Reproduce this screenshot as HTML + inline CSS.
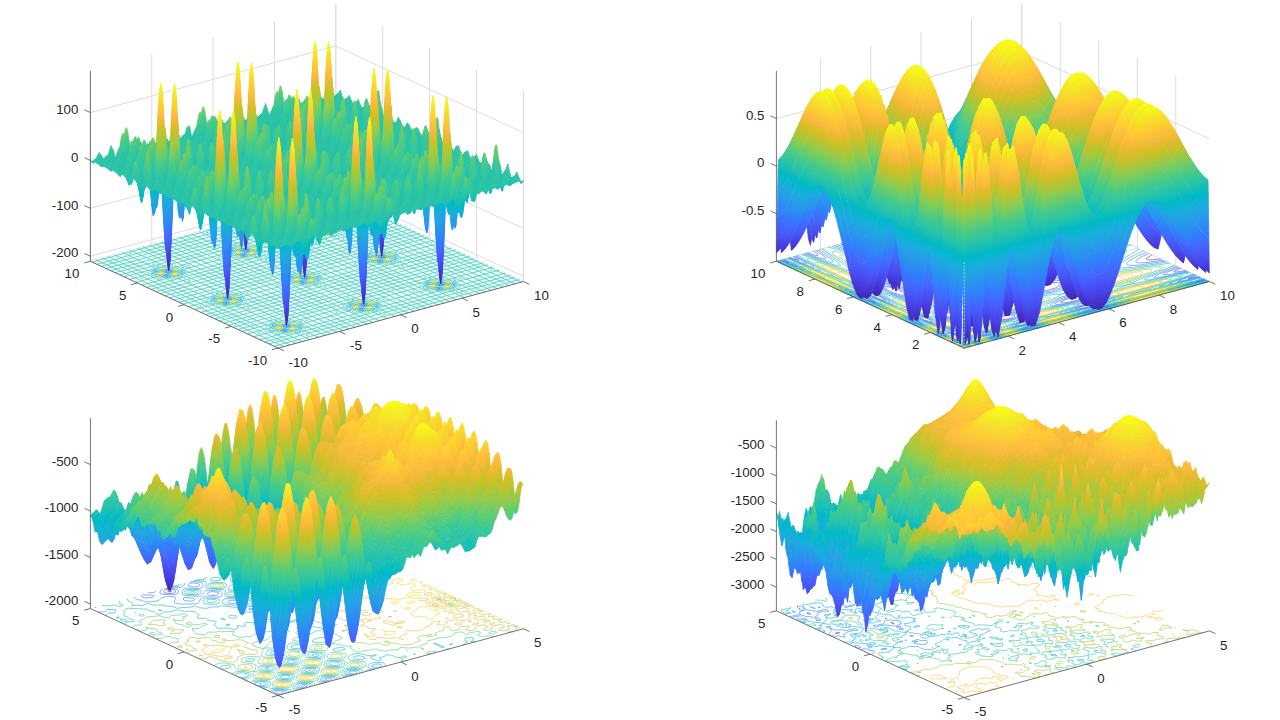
<!DOCTYPE html>
<html><head><meta charset="utf-8"><title>surf</title>
<style>html,body{margin:0;padding:0;background:#fff}svg{display:block}text{font-family:"Liberation Sans",sans-serif;font-size:13.3px;fill:#262626}</style>
</head><body>
<svg width="1280" height="720" viewBox="0 0 1280 720">
<defs><linearGradient id="g1" gradientUnits="userSpaceOnUse" x1="0" y1="0" x2="0" y2="-761"><stop offset="0" stop-color="#3e26a8"/><stop offset="0.03125" stop-color="#422ebf"/><stop offset="0.0625" stop-color="#4536d5"/><stop offset="0.09375" stop-color="#4741e5"/><stop offset="0.125" stop-color="#484cef"/><stop offset="0.1562" stop-color="#4757f7"/><stop offset="0.1875" stop-color="#4562fc"/><stop offset="0.2188" stop-color="#3f6efe"/><stop offset="0.25" stop-color="#347afd"/><stop offset="0.2812" stop-color="#2e85f8"/><stop offset="0.3125" stop-color="#2c90f0"/><stop offset="0.3438" stop-color="#269ae9"/><stop offset="0.375" stop-color="#21a3e3"/><stop offset="0.4062" stop-color="#1aacdd"/><stop offset="0.4375" stop-color="#0cb3d3"/><stop offset="0.4688" stop-color="#01b9c6"/><stop offset="0.5" stop-color="#12beb9"/><stop offset="0.5312" stop-color="#28c2ab"/><stop offset="0.5625" stop-color="#34c79c"/><stop offset="0.5938" stop-color="#44ca8a"/><stop offset="0.625" stop-color="#5ccc76"/><stop offset="0.6562" stop-color="#77cc60"/><stop offset="0.6875" stop-color="#94ca4a"/><stop offset="0.7188" stop-color="#afc637"/><stop offset="0.75" stop-color="#c8c129"/><stop offset="0.7812" stop-color="#debc2a"/><stop offset="0.8125" stop-color="#f1ba37"/><stop offset="0.8438" stop-color="#febe3c"/><stop offset="0.875" stop-color="#feca33"/><stop offset="0.9062" stop-color="#f9d62d"/><stop offset="0.9375" stop-color="#f5e327"/><stop offset="0.9688" stop-color="#f6ef20"/><stop offset="1" stop-color="#f9fb15"/></linearGradient>
<linearGradient id="g2" gradientUnits="userSpaceOnUse" x1="0" y1="0" x2="0" y2="-761"><stop offset="0" stop-color="#3e26a8"/><stop offset="0.03125" stop-color="#422ebf"/><stop offset="0.0625" stop-color="#4536d5"/><stop offset="0.09375" stop-color="#4741e5"/><stop offset="0.125" stop-color="#484cef"/><stop offset="0.1562" stop-color="#4757f7"/><stop offset="0.1875" stop-color="#4562fc"/><stop offset="0.2188" stop-color="#3f6efe"/><stop offset="0.25" stop-color="#347afd"/><stop offset="0.2812" stop-color="#2e85f8"/><stop offset="0.3125" stop-color="#2c90f0"/><stop offset="0.3438" stop-color="#269ae9"/><stop offset="0.375" stop-color="#21a3e3"/><stop offset="0.4062" stop-color="#1aacdd"/><stop offset="0.4375" stop-color="#0cb3d3"/><stop offset="0.4688" stop-color="#01b9c6"/><stop offset="0.5" stop-color="#12beb9"/><stop offset="0.5312" stop-color="#28c2ab"/><stop offset="0.5625" stop-color="#34c79c"/><stop offset="0.5938" stop-color="#44ca8a"/><stop offset="0.625" stop-color="#5ccc76"/><stop offset="0.6562" stop-color="#77cc60"/><stop offset="0.6875" stop-color="#94ca4a"/><stop offset="0.7188" stop-color="#afc637"/><stop offset="0.75" stop-color="#c8c129"/><stop offset="0.7812" stop-color="#debc2a"/><stop offset="0.8125" stop-color="#f1ba37"/><stop offset="0.8438" stop-color="#febe3c"/><stop offset="0.875" stop-color="#feca33"/><stop offset="0.9062" stop-color="#f9d62d"/><stop offset="0.9375" stop-color="#f5e327"/><stop offset="0.9688" stop-color="#f6ef20"/><stop offset="1" stop-color="#f9fb15"/></linearGradient>
<linearGradient id="g3" gradientUnits="userSpaceOnUse" x1="0" y1="0" x2="0" y2="-762"><stop offset="0" stop-color="#3e26a8"/><stop offset="0.03125" stop-color="#422ebf"/><stop offset="0.0625" stop-color="#4536d5"/><stop offset="0.09375" stop-color="#4741e5"/><stop offset="0.125" stop-color="#484cef"/><stop offset="0.1562" stop-color="#4757f7"/><stop offset="0.1875" stop-color="#4562fc"/><stop offset="0.2188" stop-color="#3f6efe"/><stop offset="0.25" stop-color="#347afd"/><stop offset="0.2812" stop-color="#2e85f8"/><stop offset="0.3125" stop-color="#2c90f0"/><stop offset="0.3438" stop-color="#269ae9"/><stop offset="0.375" stop-color="#21a3e3"/><stop offset="0.4062" stop-color="#1aacdd"/><stop offset="0.4375" stop-color="#0cb3d3"/><stop offset="0.4688" stop-color="#01b9c6"/><stop offset="0.5" stop-color="#12beb9"/><stop offset="0.5312" stop-color="#28c2ab"/><stop offset="0.5625" stop-color="#34c79c"/><stop offset="0.5938" stop-color="#44ca8a"/><stop offset="0.625" stop-color="#5ccc76"/><stop offset="0.6562" stop-color="#77cc60"/><stop offset="0.6875" stop-color="#94ca4a"/><stop offset="0.7188" stop-color="#afc637"/><stop offset="0.75" stop-color="#c8c129"/><stop offset="0.7812" stop-color="#debc2a"/><stop offset="0.8125" stop-color="#f1ba37"/><stop offset="0.8438" stop-color="#febe3c"/><stop offset="0.875" stop-color="#feca33"/><stop offset="0.9062" stop-color="#f9d62d"/><stop offset="0.9375" stop-color="#f5e327"/><stop offset="0.9688" stop-color="#f6ef20"/><stop offset="1" stop-color="#f9fb15"/></linearGradient>
<linearGradient id="g4" gradientUnits="userSpaceOnUse" x1="0" y1="0" x2="0" y2="-762"><stop offset="0" stop-color="#3e26a8"/><stop offset="0.03125" stop-color="#422ebf"/><stop offset="0.0625" stop-color="#4536d5"/><stop offset="0.09375" stop-color="#4741e5"/><stop offset="0.125" stop-color="#484cef"/><stop offset="0.1562" stop-color="#4757f7"/><stop offset="0.1875" stop-color="#4562fc"/><stop offset="0.2188" stop-color="#3f6efe"/><stop offset="0.25" stop-color="#347afd"/><stop offset="0.2812" stop-color="#2e85f8"/><stop offset="0.3125" stop-color="#2c90f0"/><stop offset="0.3438" stop-color="#269ae9"/><stop offset="0.375" stop-color="#21a3e3"/><stop offset="0.4062" stop-color="#1aacdd"/><stop offset="0.4375" stop-color="#0cb3d3"/><stop offset="0.4688" stop-color="#01b9c6"/><stop offset="0.5" stop-color="#12beb9"/><stop offset="0.5312" stop-color="#28c2ab"/><stop offset="0.5625" stop-color="#34c79c"/><stop offset="0.5938" stop-color="#44ca8a"/><stop offset="0.625" stop-color="#5ccc76"/><stop offset="0.6562" stop-color="#77cc60"/><stop offset="0.6875" stop-color="#94ca4a"/><stop offset="0.7188" stop-color="#afc637"/><stop offset="0.75" stop-color="#c8c129"/><stop offset="0.7812" stop-color="#debc2a"/><stop offset="0.8125" stop-color="#f1ba37"/><stop offset="0.8438" stop-color="#febe3c"/><stop offset="0.875" stop-color="#feca33"/><stop offset="0.9062" stop-color="#f9d62d"/><stop offset="0.9375" stop-color="#f5e327"/><stop offset="0.9688" stop-color="#f6ef20"/><stop offset="1" stop-color="#f9fb15"/></linearGradient></defs>
<rect width="1280" height="720" fill="#fff"/>
<g stroke="#dcdcdc" stroke-width="1" fill="none"><path d="M90.4 261.2v-190.2M90.4 261.2L278.1 348.1M151.8 244.6v-190.2M151.8 244.6L339.5 331.5M213.1 227.9v-190.2M213.1 227.9L400.8 314.8M274.4 211.3v-190.2M274.4 211.3L462.1 298.1M335.8 194.6v-190.2M335.8 194.6L523.5 281.5M523.5 281.5v-190.2M523.5 281.5L278.1 348.1M476.6 259.8v-190.2M476.6 259.8L231.2 326.4M429.6 238.1v-190.2M429.6 238.1L184.2 304.7M382.7 216.4v-190.2M382.7 216.4L137.3 283.0M335.8 194.6v-190.2M335.8 194.6L90.4 261.2M90.4 256.2L335.8 189.6L523.5 276.5M90.4 208.3L335.8 141.7L523.5 228.6M90.4 160.5L335.8 93.9L523.5 180.7M90.4 112.6L335.8 46.0L523.5 132.8"/></g>
<path d="M90.4 261.2L278.1 348.1L523.5 281.5L335.8 194.6z" fill="#eefcfa"/><path d="M283.6 346.6l-187.7 -86.9M290.0 344.9l-187.7 -86.9M295.6 343.4l-187.7 -86.9M302.0 341.6l-187.7 -86.9M309.9 339.5l-187.7 -86.9M318.1 337.2l-187.7 -86.9M325.2 335.3l-187.7 -86.9M330.7 333.8l-187.7 -86.9M337.0 332.1l-187.7 -86.9M342.9 330.5l-187.7 -86.9M348.8 328.9l-187.7 -86.9M355.0 327.2l-187.7 -86.9M360.7 325.7l-187.7 -86.9M367.0 324.0l-187.7 -86.9M372.7 322.4l-187.7 -86.9M379.1 320.7l-187.7 -86.9M387.0 318.5l-187.7 -86.9M395.2 316.3l-187.7 -86.9M402.3 314.4l-187.7 -86.9M407.8 312.9l-187.7 -86.9M414.1 311.2l-187.7 -86.9M420.0 309.6l-187.7 -86.9M425.9 308.0l-187.7 -86.9M432.1 306.3l-187.7 -86.9M437.8 304.8l-187.7 -86.9M444.1 303.0l-187.7 -86.9M449.8 301.5l-187.7 -86.9M456.2 299.8l-187.7 -86.9M464.1 297.6l-187.7 -86.9M472.3 295.4l-187.7 -86.9M479.4 293.5l-187.7 -86.9M484.9 292.0l-187.7 -86.9M491.2 290.3l-187.7 -86.9M497.1 288.7l-187.7 -86.9M503.0 287.1l-187.7 -86.9M509.2 285.4l-187.7 -86.9M514.8 283.8l-187.7 -86.9M521.2 282.1l-187.7 -86.9M273.9 346.2l245.4 -66.6M269.0 343.9l245.4 -66.6M264.7 341.9l245.4 -66.6M259.8 339.7l245.4 -66.6M253.8 336.8l245.4 -66.6M247.5 333.9l245.4 -66.6M242.1 331.4l245.4 -66.6M237.8 329.5l245.4 -66.6M233.0 327.2l245.4 -66.6M228.5 325.2l245.4 -66.6M224.0 323.1l245.4 -66.6M219.3 320.9l245.4 -66.6M215.0 318.9l245.4 -66.6M210.1 316.6l245.4 -66.6M205.8 314.6l245.4 -66.6M200.9 312.4l245.4 -66.6M194.8 309.5l245.4 -66.6M188.5 306.7l245.4 -66.6M183.1 304.1l245.4 -66.6M178.9 302.2l245.4 -66.6M174.1 300.0l245.4 -66.6M169.6 297.9l245.4 -66.6M165.0 295.8l245.4 -66.6M160.3 293.6l245.4 -66.6M156.0 291.6l245.4 -66.6M151.1 289.3l245.4 -66.6M146.8 287.3l245.4 -66.6M141.9 285.1l245.4 -66.6M135.8 282.3l245.4 -66.6M129.6 279.4l245.4 -66.6M124.1 276.9l245.4 -66.6M119.9 274.9l245.4 -66.6M115.1 272.7l245.4 -66.6M110.6 270.6l245.4 -66.6M106.1 268.5l245.4 -66.6M101.3 266.3l245.4 -66.6M97.0 264.3l245.4 -66.6M92.1 262.1l245.4 -66.6" stroke="#45cdbd" stroke-width="0.8" fill="none"/>
<g transform="translate(278.10 348.10) scale(0.2)"><g fill="none" stroke-width="3">
<path stroke="#4756f6" d="M34-86l-8-2 12-1 2 1zM416-190l-4-2 1-2 7-1 5 2zM803-295l-5-1-1-1 3-2 10 2zM45-108l-12-1-3-3 7-4 13 1 5 4zM427-212l-11-3-1-3 2-1 10-2 13 3-2 4zM814-317l-10-1-3-4 12-4 11 3 2 2-2 2zM-261-222l-5 0-2-3 10-1 3 2zM126-327l-9-2 4-2 7 0 2 3zM513-432l-8 0-2-2 10-1 3 2zM-246-245l-14 0-5-4 7-3 12 0 6 4zM137-349l-11 0-6-4 8-4 12 0 5 4zM523-454l-12 0-5-4 6-3 13 0 6 4zM-556-358l-7-2 9-3 4 3zM-169-463l-9-2 10-3 3 3zM214-568l-6-2 2-2 7 0 4 2zM-545-380l-11-1-4-4 11-4 10 1 4 3-1 2zM-158-485l-12-1-5-4 9-4 10 1 5 2 1 3zM225-590l-10-1-4-4 9-3 12 1 4 2-1 2z"/>
<path stroke="#2e84f8" d="M43-84l-16 1-9-5 7-4 12-1 11 5zM813-293l-15 1-9-5 6-4 13-1 10 4 0 3zM418-187l-13-4 1-4 14-3 13 5-4 4zM111-106l-8-3 10-1 1 3zM493-211l-5-2 2-2 10 2zM880-315l-6-3 10-1 2 1zM51-107l-16 1-8-3-3-4 13-5 14 1 9 5zM438-212l-17 1-10-4-1-3 14-5 13 1 9 5zM821-316l-15 1-11-6 3-3 9-3 15 0 8 4 1 3zM-21-113l-10-1 8-3 4 2zM363-217l-8-2 9-2 3 1zM749-322l-9-2 10-2 2 1zM-256-220l-13 0-8-5 11-4 11 0 8 5zM128-324l-12 0-7-5 11-5 12 1 6 5zM514-429l-12 0-8-5 9-4 13 0 8 5zM-184-243l-6 0-2-3 9-1 2 3zM203-348l-10-2 9-1 3 2zM589-452l-7 0-3-3 9-1 3 2zM-247-243l-14 0-7-3-3-3 10-5 16 0 11 6zM136-347l-14-1-7-4 0-2 14-5 15 1 6 4 0 2zM523-452l-13 0-10-6 3-3 9-2 16 0 6 3 2 3zM-319-249l-7-2 12-1 1 1zM68-354l-8-2 9-1 3 2zM451-458l-6-2 2-2 6 0 4 2zM-554-355l-11-1-6-5 10-4 13 0 5 3 1 3zM-167-460l-13-1-5-2-1-3 12-4 12 1 5 5zM215-565l-12-2-3-4 12-4 14 2 3 3-1 2zM-479-379l-8-2 8-2 4 2zM-96-484l-6-2 2-2 10 2zM291-588l-7-3 11-1 1 2zM-545-379l-14-1-7-6 13-5 16 1 7 3 0 4zM-159-483l-12-1-9-6 13-5 15 1 7 3 1 3zM224-588l-12-2-7-5 16-5 15 2 5 2 0 4zM-614-385l-6-3 10-1 2 2zM-227-490l-8-1 0-2 11-1 1 2zM155-595l-4-1 2-2 10 1z"/>
<path stroke="#1babde" d="M146-63l-4-1 7-1zM529-167l-2-1 2-2 6 1zM916-272l-4-2 9 0zM102-81l-12 0-6-4 10-5 15 0 5 2-1 3zM489-186l-14 0-6-3 11-5 14-1 5 5zM876-291l-14 1-7-4 9-4 12-2 9 5zM36-80l-17-3-7-3 0-3 17-6 16 2 9 4 0 4zM423-185l-16-1-10-7 15-6 16 0 9 4 3 4zM809-290l-17-1-7-3-3-4 16-6 15 1 13 7zM110-102l-13-3-4-5 15-4 13 2 4 2 1 4zM497-207l-12-2-7-5 13-5 13 1 7 4 0 3zM884-312l-14-2-7-5 11-4 15 1 7 3 1 3zM51-105l-16 1-13-5-4-4 20-7 14 1 11 4 3 4zM437-210l-17 1-13-5-3-4 17-6 17 0 10 4 3 4zM820-314l-18 0-9-4-4-5 18-6 16 0 10 5 4 4zM-27-87l-12-1-7-3 0-3 7-3 12 1 7 3 2 3zM356-191l-12-2-4-3-1-3 11-3 14 3 3 5zM743-296l-11-1-8-5 7-4 13 1 9 5-3 3zM116-129l-10-2 8-2 4 3zM499-233l-8-4 11 1 0 2zM886-338l-7-1-2-2 10 0 1 2zM-91-74l-6-2 7 0zM290-179l-2-1 2-1 6 1zM678-283l-4-2 7 0zM1065-388l-5-2 7 1zM-22-109l-13 0-8-5 12-6 15 0 7 4 1 2zM365-214l-14 0-8-6 13-5 14 1 8 5zM748-318l-12-1-8-4 11-6 16 0 7 3 0 3zM52-131l-9-1-3-5 9-2 10 1 3 2 0 2zM439-236l-10-1-4-3 7-4 12 1 3 4zM826-341l-12-1-3-4 8-2 11 1 3 3zM-9-135l-9-1 11-2 2 2zM374-239l-5-1 0-2 11-1 0 2zM761-344l-7-2 12-1 0 1zM-148-199l-5-1 4-2 3 2zM238-304l-6-1 6-1 2 0zM625-409l-7-1 7-1zM-196-217l-13-2-2-3 4-2 16-3 10 4-5 4zM190-322l-11-1-4-3 10-5 14 0 5 2 0 2zM577-427l-12 0-5-4 12-5 12 0 5 2 0 4zM-259-217l-15-1-10-6 18-7 15 1 9 5 1 3zM-177-239l-14 0-10-4-2-3 12-5 14 1 8 5zM124-321l-13-2-9-6 6-4 13-3 14 1 9 5 1 3zM206-344l-14-1-7-3-2-3 13-4 12 1 7 3 2 3zM511-426l-15-2-9-6 17-6 16 1 9 4 1 3zM593-448l-16-1-9-6 11-5 15 1 8 6zM-248-241l-16-1-13-8 20-6 17 1 11 7zM135-345l-17-2-8-5-1-3 20-6 19 2 8 5 0 3zM522-450l-15-1-13-7 3-3 15-4 19 1 9 4 2 4zM-326-223l-11-2-4-5 11-4 12 3 5 5zM61-328l-10-1-7-5 9-4 12 2 8 5zM448-432l-12-2-7-5 11-4 11 2 7 5zM-386-210l-6-2 7 0zM-184-265l-5-2 1-2 11 2zM1-315l-7-2 6 0zM204-370l-7-3 9 0 1 3zM384-419l-5-2 7-1 1 2zM591-474l-7-1-2-3 10 0 2 3zM770-524l-5-2 6 0zM-321-245l-15-3-1-3 5-4 16-2 13 5-4 4zM66-350l-11-1-7-5 13-5 16 1 4 2 1 3zM453-455l-13 0-7-5 11-6 15 0 8 3 1 4zM-243-268l-7 0-5-4 6-3 12 0 4 4zM144-372l-8-1-6-4 7-3 11 0 5 4zM527-477l-11-2 2-4 11-2 9 3-1 3zM-308-271l-4-1 2-2 11 0zM79-376l-6 0 3-3 10 1zM466-480l-7-1 11-3 1 2zM-443-336l-5 0 6-2 2 1zM-60-440l-3-1 2-1 7 0zM327-545l-4-1 8 0zM-491-353l-13-3-2-2 4-3 14-3 12 4-2 4zM-104-458l-12-1-4-4 14-5 12 1 4 4zM278-563l-11-2-2-1 3-3 18-4 9 4-3 4zM-550-354l-17 0-10-4-1-3 17-7 15 1 11 8zM-163-458l-19-1-9-4-2-3 15-6 14 0 10 4 4 4zM223-563l-19 0-10-5-1-3 14-5 14-1 11 4 4 4zM-475-375l-15-2-6-3-1-3 14-4 13 1 6 4 0 3zM-89-480l-12-1-11-5 9-5 15 0 10 6zM294-584l-13-2-8-6 15-5 13 2 6 5zM-546-377l-14-1-11-8 20-7 18 2 8 5 1 3zM-159-481l-16-2-11-7 17-7 18 1 12 5 0 3zM223-586l-12-2-12-7 6-4 15-3 18 2 8 4 1 4zM-616-360l-14-1-6-5 7-4 13 1 8 5zM-230-464l-15-2-6-5 9-3 12 1 8 5zM153-569l-12-1-6-6 10-3 13 2 5 4-1 2zM-474-402l-10-2 9-1 3 2zM-87-507l-7 0-4-2 8-1zM296-611l-9-3 9 0 3 2zM-681-347l-5-2 5 0 2 1zM-294-451l-7-1 6-2zM88-556l-4-2 6 0 2 2zM475-660l-5-3 6 0 2 1zM-615-382l-16-3-1-3 3-2 17-4 14 5 0 2-4 3zM-534-405l-11 0-5-4 6-3 11 0 6 4zM-233-486l-8-1-6-4 7-5 15-2 9 2 4 4-7 4zM-147-509l-9 0-9-4 8-3 9 0 6 3zM154-591l-14-3-1-3 4-3 16-3 14 5-5 5zM239-614l-14 0-4-4 5-3 12 0 6 4zM-603-407l-4-2 2-1 11-1zM-216-512l-4 0-1-2 12-1zM166-617l-3-1 5-2 8 0zM-738-472l-5-2 8 0zM-356-577l-2-1 2-1 7 0zM32-681l-4-2 8 0z"/>
<path stroke="#76cc60" d="M119-74l7-1zM505-178l7-2zM890-283l7-2zM57-71l11-1 5-4-8-4-14 2-4 3 1 2zM443-175l12-2 4-4-9-3-12 2-5 2 0 2zM828-280l10-1 6-4-8-4-12 2-5 2-1 3zM133-95l6-1-7 0zM518-199l7-2-6 0zM904-304l6-2-5 0-2 1zM72-90l22-6 0-4-8-4-18-2-19 7 8 6zM457-195l22-6 0-3-5-4-19-3-20 7 1 3 7 3zM843-299l22-6 0-4-6-3-17-3-22 6 2 3 6 4zM-2-73l12-3-4-5-12-2-9 4 3 3zM383-178l11-2 1-3-4-2-12-2-9 3 3 4zM769-283l11-2-4-5-11-2-10 4zM1-93l16-3 9-5-6-4-11-4-21 2-7 4 0 3 9 5zM83-116l14-4 0-3-6-3-14-3-15 4 0 3 6 4zM387-198l19-4 5-4-17-8-22 3-6 3 1 3 9 5zM468-220l15-5 0-2-6-4-17-2-13 5 9 6zM772-303l20-4 4-4-16-7-22 2-6 3 0 4 9 4zM854-325l15-5-7-6-15-2-15 5 9 6zM142-137l4 0 0-3-10 0zM528-242l4 0 0-2-10-1zM914-346l4-2-4-2-7 2zM-64-83l4-1-6 0zM321-187l5 0-5-2-2 1zM707-292l4 0-3-2-3 1zM13-119l15-3 5-4-6-4-10-2-18 3-4 3 1 3zM398-223l13-3 7-5-14-5-18 2-5 3 1 3zM784-328l14-3 5-4-11-6-20 2-6 4 1 3zM-62-104l5-1-6-1zM323-208l6-2-6-1-2 1zM709-313l5-1-4-2-3 1zM-36-145l8-2-10-1-1 2zM349-250l8-2-9-1-2 2zM735-354l8-3-8-1-4 3zM-172-210l2-2-6 1zM214-315l2-2-7 2zM601-420l0-1-6 1zM-232-207l10-4 0-3-5-2-10 0-11 5 5 3zM153-312l11-4-3-3-11-1-12 4 4 4zM539-417l11-4-6-4-11 0-10 5 5 3zM-159-231l4-1-1-1-6 0zM227-335l3-2-2-1-5 2zM613-440l2-1 0-1-7 1zM-214-228l11-3 3-3-13-8-17 1-16 6 13 7zM171-332l14-6-3-4-10-4-19 0-13 7 16 7zM557-437l14-6-3-4-10-4-18 1-12 3-3 3 16 8zM-292-210l7-3-5-5-13-1-7 3 4 4zM93-315l8-3-9-5-12 0-5 3 8 5zM479-419l7-4-8-5-11 0-6 3 7 5zM-288-230l19-7-12-7-16-2-12 4-6 4 12 7zM98-335l18-5-2-4-9-5-15-1-13 3-6 4 12 7zM483-439l19-7-2-3-10-4-17-2-16 6 2 4 9 5zM-214-252l16-4 1-2-5-4-16-3-15 5 5 5zM171-356l17-5 0-2-4-4-15-3-17 5 6 5zM557-461l16-5 0-3-4-2-17-3-15 4 6 6zM-356-219l1-1-6-1zM-154-273l6-2-8-2-3 1zM30-323l-5-3 0 2zM232-378l5-2-10-1zM617-483l6-1-9-2-2 1zM411-428l6-1-4-1-3 0zM-285-255l18-4 4-4-12-5-20 3-5 2 1 3zM101-360l16-3 6-5-13-5-19 3-5 2 0 4zM486-464l17-4 5-4-13-5-18 2-5 2 0 4zM-353-240l1-2-7 0zM33-345l0-2-4 0-2 1zM413-450l6 0-4-2-3 1zM-333-282l10-2-10-1-2 2zM53-386l9-3-8 0-3 1zM438-491l10-3-8 0-4 2zM-469-346l5-2-6 0zM-84-451l6-2-6 0-1 1zM302-556l5-1-4-1-3 1zM-530-344l11-2 3-3-7-3-15 2-4 2 0 2zM-145-448l10-2 4-4-10-3-14 3-2 2 1 2zM241-553l10-2 4-3-9-4-14 3-4 3 1 1zM-455-367l5-2-7 0zM-70-472l6-1-7-1-1 1zM316-577l5-1-5-1-3 1zM-515-363l15-4 5-3-11-8-15-1-20 7 12 7zM-129-468l19-6-1-4-10-4-16-1-18 7 12 7zM256-572l20-7-2-4-9-4-17-1-18 7 12 7zM-590-346l10-3-6-5-12-1-7 3 4 4zM-205-451l10-2 0-2-3-3-13-2-8 3 3 4zM181-555l10-3-4-4-11-3-10 3 4 4zM-586-366l21-6 0-3-9-5-18-2-17 7 8 6zM-502-389l10-5-8-6-13-2-15 5 1 3 9 4zM-201-471l22-6-1-3-8-5-17-2-19 7 8 6zM-116-494l7-2 3-4-12-5-16 0-9 4 13 7zM185-575l21-6 0-4-9-4-15-2-20 6 8 7zM269-598l10-5-8-6-14-2-14 5 1 3 9 4zM-653-355l3-1-5-1zM-450-410l6 0 1-2-8-2-3 1zM-267-460l3-1-5-1-1 1zM-64-515l6-2-10-1zM118-564l4-1-7-1zM321-619l7-1-9-3-1 2zM-573-392l15-6 0-2-6-3-17-1-14 6 9 6zM-188-497l16-6-7-5-15-1-15 6 9 6zM198-601l16-6-7-5-16-1-15 5 9 7zM-650-376l4-2-7-1zM-265-481l4-1-6-2-1 2zM121-586l4-1-5-1-3 0zM-624-418l6-3-11 1zM-238-523l5-3-11 1zM147-627l5-3-9 0-1 2z"/>
<path stroke="#dfbc2a" d="M75-93l13-4 0-3-7-3-13-1-13 6 6 4zM460-197l14-5-1-3-6-3-12 0-14 4 5 5zM845-302l13-4 1-3-4-2-14-2-15 4 1 3 5 3zM3-96l14-2 3-4-12-5-17 2-4 2 1 3zM389-200l11-2 5-4-12-6-15 2-5 2 0 3zM774-305l13-2 4-4-13-5-17 2-3 3 2 3zM82-119l6-2-4-4-9 0-5 2 3 3zM467-223l6-2-1-3-10-2-6 2 3 4zM853-328l6-2-3-4-11 0-4 2zM11-122l12-3-7-3-9 1-3 3zM396-226l13-4-7-3-8 1-4 2zM782-331l9-1 3-3-7-3-10 2-1 3zM-223-229l16-4-1-3-4-3-15-1-13 5 5 4zM162-333l16-5 0-3-4-2-14-2-14 5 5 5zM548-438l13-3 3-3-12-6-16 2-4 3 0 3zM-285-233l10-5-10-5-12 0-11 4 2 3 8 3zM100-337l11-5-10-6-15 0-8 5 1 3 8 3zM486-442l10-4-10-6-13 0-10 4 7 5zM-215-255l9-2-3-3-7-2-9 3zM170-360l8-1 1-2-2-2-10-1-6 2 2 3zM556-464l8-2-2-4-8-1-8 2 3 3zM-278-259l6-2-1-3-8-1-9 3 1 3zM107-363l7-3-4-3-11 0-4 3 5 3zM492-468l7-3-4-3-15 3 2 3zM-510-366l6-2 3-4-10-4-14 0-10 4 2 3 9 3zM-125-471l9-4-1-3-8-3-14 0-10 5 2 3 8 3zM260-575l10-5-10-6-13 1-11 4 2 3 8 3zM-584-369l13-3 1-2-5-4-13-2-15 4 6 6zM-199-473l14-4 0-3-4-3-16-2-12 5 5 5zM187-578l14-5-7-5-12-1-14 5 6 5zM-512-392l11-2-7-4-10 1-1 2zM-126-496l7-1 3-2-6-4-9 1-3 3zM259-601l11-3-7-3-8 0-4 3zM-577-395l8-1 2-3-8-2-8 1-3 3 2 1zM-191-499l8-2 2-3-7-2-11 2 0 3zM194-604l10-2 0-2-5-2-11 1-3 2 2 2z"/>
<path stroke="#f9d72d" d="M70-95l9-1 2-4-9-2-7 1-4 3zM455-199l12-4-6-3-10 0-4 4zM841-304l8-1 3-3-5-3-12 1-2 3zM6-98l7-2 1-2-4-2-12 0-4 2 3 3zM391-203l8-2-4-4-10 0-6 3 3 2zM776-307l9-3-5-3-9-1-7 3 4 3zM-220-231l6-3-3-3-10-1-6 3 5 3zM166-336l6-3-3-3-9-1-8 3 3 3zM551-441l7-3-4-3-11 0-5 3 3 3zM-292-234l7-1 4-3-7-3-12 1-1 3zM94-339l8-1 2-3-9-3-8 1-2 3zM479-444l11-3-5-3-12 0-3 4zM-518-368l9-2-1-3-8-2-10 3 2 3zM-132-472l8-2 1-2-1-2-11-1-8 3 3 3zM253-577l9-2-1-3-9-2-9 3 2 3zM-588-371l9-1 3-2-6-4-10 1-4 3zM-203-475l12-4-6-3-11 1-2 3zM183-580l8-1 4-2-7-4-10 1-3 3z"/>
</g></g>
<g fill="url(#g1)" stroke="url(#g1)" stroke-width="2.4" stroke-linejoin="round">
<path transform="matrix(0.25 -0.067848 0 0.25 92.63 262.28)" d="M0-404l12-5 23 14 23-16 12 8 12 14 12-10 11-26 4-6 3-2 4 2 3 5 17 49 4 5 3 2 4-2 3-5 14-35 11-10 12 16 12 12 23-18 12 7 11 8 12-4 12-8 11 4 12 8 12-3 12-9 11 3 12 10 12-2 11-11 12 1 12 15 11 1 17-34 3-5 4-2 3 2 4 5 4 12 12 35 4 7 4 2 3-2 3-5 9-24 12-21 12 9 12 17 11-2 12-12 12 1 11 10 12 1 12-9 11-1 12 9 12 2 11-9 12-3 12 10 11 4 12-10 12-6 11 12 12 10 12-16 9-21 4-5 3-2 4 2 3 5 17 49 3 5 4 2 3-2 4-5 16-40 12-3 11 18 12 7 12-11 11-6 12 9 12 7 23-13 24 13 11-6 12-7 12 5 11 9 12-5 12-11-9 23-12-29-12-15-11 23-12 16-12-20-11-15-24 36-11-17-12-19-12 17-12 25-11-16-12-31-12 19-11 51-12-8-16-111-4-15-3-6-3 6-4 15-17 135-3 15-4 5-3-5-4-14-9-60-12-43-11 28-12 34-12-17-12-28-11 12-12 25-12-7-11-24-12 6-12 24-11-3-12-25-12 2-11 29-12 2-12-33-11-5-12 48-12 24-11-60-10-65-3-15-3-6-4 6-4 19-12 98-4 33-4 15-3 5-3-5-4-14-17-95-11 3-12 42-12 4-11-32-12-5-12 27-11 7-12-23-12-9-11 23-12 11-12-22-12-13-11 24-12 18-23-48-12 31-12 46-11-28-14-97-3-15-4-6-3 6-4 15-17 135-3 15-3 5-4-5-4-16-11-73-12-27-12 37-11 24-12-25-12-21-23 40-12-15z"/>
<path transform="matrix(0.25 -0.067848 0 0.25 94.87 263.32)" d="M0-405l12-16 23 42 12-22 11-26 12 25 12 39 11-28 12-77 4-17 3-5 4 6 3 15 17 141 4 17-9-67-4-6-17-48-3-6-3-1-4 1-4 6-11 26-12 10-12-13-12-9-23 17-23-15-12 6zM150-327l14-102 11-29 12 47 12 34 23-51 12 19 11 25 12-14 12-23 11 12 12 24 12-9 12-25 11 8 12 28 12-5 11-33 12 3 12 44 11 4 17-100 3-15 4-5 3 6 4 15 4 35 12 103 4 20-9-67-4-7-12-35-4-12-4-6-3-1-4 1-3 5-17 35-11-2-12-15-12-1-11 11-12 2-12-9-11-3-12 8-12 3-11-8-12-4-12 8-12 5-11-9-12-6-23 17-12-11-12-17-11 10-14 35zM458-327l9-68 12-64 12 26 11 50 12-5 12-35 12 2 11 31 12 2 12-27 11-3 12 26 12 6 11-25 12-8 12 27 11 12 12-29 12-18 11 35 12 30 12-45 9-63 4-15 3-5 4 6 3 15 17 141-9-56-17-48-3-6-4-1-3 1-4 5-9 22-12 15-11-10-12-12-12 6-12 10-11-4-12-9-12 3-11 8-12-2-12-9-11 1-12 9-12 0-11-11-12-1-12 12-11 2-12-17-12-9-12 22-9 23zM771-358l12-86 12-8 11 53 12 20 12-32 11-17 12 26 12 18 11-20 12-18 23 38 12-16 12-21 12 17 11 24 12-15 12-31-9 9-12 10-12 5-11-8-12-6-12 7-11 6-24-13-23 13-12-6-12-9-11 6-12 11-12-7-11-18-12 2-12 30z"/>
<path transform="matrix(0.25 -0.067848 0 0.25 97.10 264.35)" d="M0-403l12 1 23-2 23 2 24-3 12 1 11 4 7 1 7-1 17-7 4-1-9 90-4-16-17-141-3-16-3-5-4 5-4 16-11 77-12 28-12-39-11-25-12 26-12 23-23-42-12 16zM150-407l14 5 11 2 24-4 23 2 23-2 24 2 23-2 24 2 11-1 12-1 12 0 11 2 12 0 12-3 11 0 17 5 7 1 7-1 16-7 4-1-9 90-4-20-12-103-4-34-4-16-3-5-4 5-3 14-17 100-11-4-12-44-12-3-11 33-12 6-12-28-11-8-12 24-12 9-11-24-12-11-12 23-12 13-11-25-12-19-23 51-12-33-12-48-11 29-14 103zM458-407l9 3 12 4 12-2 11-2 12 0 12 2 12 0 11-2 12 0 12 1 11 1 24-2 23 2 23-2 24 2 23-3 12 2 9 3 7 1 7-1 17-7-9 73-17-141-3-16-4-5-3 5-4 14-9 63-12 46-11-30-12-35-12 17-12 29-11-12-12-26-12 7-11 25-12-6-12-25-11 3-12 26-12-2-11-30-12-3-12 35-11 5-12-50-12-25-11 63-10 69zM767-407l16 6 12 0 11-2 12-1 23 2 24-2 23 2 23-2 24 2 23-2 24 2-9-30-12 30-12 16-11-25-12-16-12 20-11 17-24-38-11 17-12 21-12-18-12-26-11 17-12 32-12-20-11-53-12 7-16 118z"/>
<path transform="matrix(0.25 -0.067848 0 0.25 99.34 265.39)" d="M0-402l12 12 23-31 12 16 11 20 12-19 12-29 11 21 12 57 4 12 3 4 4-4 3-11 17-105 4-13 3-4 4 4 3 12 14 76 11 22 12-36 12-24 23 37 12-14 11-18 12 10 12 17 11-9 12-18 12 7 12 18 11-6 12-21 12 5 11 24 12-2 12-33 11-3 17 75 3 10 4 4 3-4 4-11 4-26 12-77 4-15 4-4 3 4 3 12 9 51 12 47-9-45-12-3-9-4-6-1-8 2-16 7-7 1-7-1-17-5-11 0-12 2-12 0-11-2-12 0-12 2-11 0-24-2-23 2-24-2-23 2-23-2-24 4-11-1-14-6-7-1-7 1-17 8-6 1-8-2-11-3-12-2-24 3-23-2-23 2-12-1zM561-414l12 19 11 3 12-19 12-5 11 19 12 5 12-19 11-9 12 21 12 13 11-26 12-22 12 34 9 47 4 10 3 4 4-4 3-11 17-105 3-13 4-4 3 4 4 12 16 87 12 6-9-40-12-1-16-6-7-1-7 1-17 8-7 1-7-1-9-4-12-2-23 3-24-2-23 2-23-2-24 2-11 0-12-2zM876-403l12 13 23-28 12 12 12 16 12-12 11-19 12 12 12 23-9-23-24-2-23 2-23-2-24 2-12-1z"/>
<path transform="matrix(0.25 -0.067848 0 0.25 101.57 266.42)" d="M0-403l12-2 23 5 23-6 12 3 12 5 11-4 12-10 4-2 3 0 4 0 3 2 17 19 4 2 3 1 4-1 3-2 14-14 11-3 12 6 12 4 23-6 23 5 12-1 12-3 11 1 12 3 12-1 12-3 11 1 12 3 12 0 11-5 12 1 12 6 11 0 17-13 7-2 3 0 4 2 16 18 4 3 4 1 3-1 3-2 9-9 12-8 12 3-9 20-12 19-11-48-10-51-3-11-3-4-4 4-4 15-12 76-4 26-4 12-3 4-4-4-3-11-17-74-11 3-12 32-12 3-11-25-12-4-12 21-11 6-12-19-12-6-11 18-12 8-12-17-12-10-11 19-12 14-23-38-12 25-12 35-11-21-14-77-3-11-4-4-3 4-4 12-17 105-3 12-3 4-4-4-4-12-11-58-12-21-12 30-11 18-12-19-12-17-23 31-12-11zM549-402l12 1 12-4 11 0 12 3 12 1 11-3 12-1 12 3 11 2 12-4 12-2 23 8 12-6 9-8 4-2 3 0 4 0 3 2 17 19 3 2 4 1 3-1 4-2 16-16 12-1-9 37-12-6-16-88-4-11-3-4-3 4-4 12-17 105-3 12-4 4-3-4-4-11-9-47-12-34-11 23-12 26-12-13-12-22-11 9-12 20-12-6-11-19-12 5-12 19-11-2-12-20-12 2zM853-403l12 2 23-5 23 5 24-4 12 2 11 3 12-2 12-4-9 13-12-23-12-11-11 18-12 12-12-15-11-12-24 28-11-13-12-15-12 13z"/>
<path transform="matrix(0.25 -0.067848 0 0.25 103.81 267.45)" d="M0-405l12-13 23 35 12-18 11-22 12 21 12 32 11-23 12-64 4-14 3-4 4 4 3 13 17 118 4 13 3 5 4-5 3-13 14-85 11-24 12 40 12 27-9-24-12-5-12-6-11 4-14 13-3 2-4 1-3-1-4-2-17-18-3-2-3-1-4 1-4 2-11 10-12 3-12-5-12-3-23 6-23-5-12 2zM234-408l11 21 12-12 12-19 11 10 12 20 12-8 12-20 11 6 12 24 12-5 11-27 12 2 12 37 11 3 17-83 3-12 4-4 3 4 4 13 4 29 12 85 4 17 4 5 3-5 3-13 9-57 12-52 12 21 11 42-8-21-12-7-12-3-12 8-9 9-3 2-3 1-4-1-4-2-16-18-4-2-3-1-7 2-17 14-11-1-12-6-12 0-11 4-12 1-12-4-11-1-12 3-12 2-11-4-12-1-12 3-12 2-11-4zM549-392l12 1 12-22 11-2 12 21 12 5 11-21 12-6 12 22 11 10 12-24 12-15 11 29 12 25 12-38 9-52 4-12 3-4 4 4 3 13 17 118 3 13 4 5 3-5 4-13 16-97 12-7 11 45 12 16-9-24-12-2-11-7-12 1-16 15-4 2-3 1-3-1-4-2-17-18-3-2-4-1-3 1-4 1-9 9-12 6-23-9-12 2-12 4-11-1-12-4-12 1-11 3-12 0-12-4-11 1-12 3-12 0zM853-402l12 15 11-17 12-14 23 31 12-14 12-17 12 14 11 20 12-12 12-26-9 9-12 4-12 2-11-3-12-2-23 5-24-5-23 5-12-3z"/>
<path transform="matrix(0.25 -0.067848 0 0.25 106.04 268.49)" d="M0-403l35 0 23-1 24 2 30-3 28 3-9 69-4-14-17-117-3-13-3-5-4 5-4 13-11 64-12 24-12-33-12-21-11 22-12 18-23-34-12 13zM150-402l25-2 24 1 23-1 23 1 24-1 70 1 35 0 23 0 24-2 27 3-9 69-4-17-12-85-4-29-4-13-3-5-4 5-3 11-17 84-11-4-12-36-12-3-11 28-12 4-12-23-11-7-12 21-12 7-11-20-12-9-12 19-12 11-11-21-12-16-23 43-12-28-12-40-11 25-14 85zM458-402l21-2 23 1-8 10-12-42-12-21-12 53-9 57zM538-404l70 1 23 0 23 0 24-1 23 2 28-3 24 3-9 55-17-117-3-13-4-5-3 5-4 11-9 53-12 38-11-25-12-29-12 14-12 24-11-10-12-22-12 7-11 21-12-6-12-21-11 3-12 22-12-2-11-25zM767-402l16-2 12 0 23 1 23-1 24 1 70-1 23 1 24-1-9-24-12 25-12 13-11-21-12-13-12 17-11 14-24-32-12 14-11 18-12-15-12-22-11 14-12 27-12-17-11-44-12 6-16 98z"/>
<path transform="matrix(0.25 -0.067848 0 0.25 108.28 269.52)" d="M0-402l12 12 23-32 12 17 11 20 12-19 12-30 11 21 12 60 4 13 3 4 4-4 3-12 17-110 4-13 3-4 4 4 3 12 14 80 11 23-9-51-32 3-30-3-31 2-24-1-23 1-35-1zM222-384l12-15 11-19 12 11 12 17 11-9 12-18 12 7 11 19 12-6 12-22 12 4 11 26 12-3 12-34 11-3 17 78 3 11 4 4 3-4 4-12 4-27 12-80 4-16 4-4 3 4 3 12 9 54 12 49-9-51-27 3-31-3-24 2-23-1-35 1-70-1-24 1-23-1zM526-388l12-1 11-24 12-2 12 21 11 2 12-20 12-5 11 20 12 6 12-21 11-9 12 22 12 14 11-27 12-23 12 35 9 49 4 11 3 4 4-4 3-12 17-110 3-13 4-4 3 4 4 12 16 91 12 7-9-46-12 1-23 2-31-3-28 2-23-1-24 1-23-1-23 1-82-1zM830-397l11 13 12-20 12-14 11 16 12 13 23-29 12 12 12 16 12-12 11-20 12 13 12 23-9-24-24 1-23-1-70 1-24-1-11 0z"/>
<path transform="matrix(0.25 -0.067848 0 0.25 110.51 270.56)" d="M0-403l12 0 23-1 23 2 24-3 11 1 12 3 4 1-9 53-4-12-11-60-12-22-12 31-12 19-11-20-12-18-23 33-12-12zM119-401l17-5 7-1 7 1 14 4 11 1-9 34-11-23-14-79-3-12-4-5-3 5-4 13-17 109zM222-402l23-2 24 1 23-1 24 1 23-1 12 0 11 2 12-1 12-1 11-1 17 4 3 1-9 53-3-11-17-78-11 4-12 34-12 2-11-25-12-5-12 22-11 6-12-19-12-7-11 19-12 9-12-18-12-11-11 20-12 15zM432-402l12-4 8-1 6 1 21 5-9 34-12-49-9-53-3-12-3-5-4 5-4 16-12 79zM526-402l12-1 11-1 35 1 24-1 23 1 23-1 24 2 23-3 25 5-9 53-4-11-9-49-12-35-11 23-12 27-12-13-12-23-11 10-12 20-12-6-11-19-12 5-12 20-11-3-12-20-12 1-11 24-12 2zM748-405l5-1 7-1 7 1 16 4 12 1-9 29-12-6-16-91-4-12-3-5-3 5-4 13-5 31zM830-403l11 1 24-2 23 2 23-2 24 1 23-1 24 2-9 10-12-24-12-12-11 19-12 13-12-16-11-13-24 29-12-13-11-16-12 14-12 20-11-13z"/>
<path transform="matrix(0.25 -0.067848 0 0.25 112.75 271.59)" d="M0-405l12-13 23 35 12-18 11-22 12 21 12 32 11-23 12-64 4-14 3-4 4 4 3 13 17 117 4 14 3 5 4-5 3-13 14-85 11-24 12 40 12 27 23-42 12 16 11 21 12-12 12-19 11 10 12 20 12-8 11-20 12 6 12 24 12-5 11-27 12 2 12 37 11 3 17-83 3-12 4-4 3 4 4 13-9 51-7 1-7-1-17-4-11 0-12 2-12 0-11-1-12-1-23 2-24-1-23 1-24-2-23 2-23-2-24 3-11-1-14-4-7-1-7 1-17 6-6 1-8-1-11-3-12-1-24 2-23-2-23 2-12-1zM502-386l12-5 12-29 12 2 11 26 12 1 12-22 11-2 12 21 12 5 11-21 12-6 12 22 11 10 12-24 12-15 11 29 12 25 12-38 9-52 4-12 3-4 4 4 3 13-9 51-7 1-28-5-23 2-24-2-23 2-23-1-24 1-35-1-11 1-12 0-12-1-11-1zM818-383l12-27 11-14 12 22 12 15 11-17 12-14 23 31 12-14 12-17 12 14 11 20 12-13 12-25-9 13-24-2-23 2-23-2-24 2-23-2-24 2-23-2z"/>
<path transform="matrix(0.25 -0.067848 0 0.25 114.98 272.62)" d="M0-403l12-1 23 2 23-3 24 4 11-1 12-5 7-2 7 1 17 10-9 51-17-117-3-13-3-5-4 5-4 13-11 64-12 24-12-33-12-21-11 22-12 18-23-34-12 13zM150-398l14-7 11-2 12 3 12 3 23-4 23 3 24-2 23 2 12-1 12-1 11 0 12 2 12 0 11-2 12 0 12 3 11 0 17-7 7-1 7 1-9-56-4-13-3-5-4 5-3 12-17 83-11-4-12-36-12-3-11 28-12 4-12-23-11-7-12 21-12 7-11-20-12-9-12 19-12 11-11-21-12-16-23 43-12-28-12-39-11 24-14 85zM502-402l12 0 12-2 12 0 11 2 12 0 12-2 11 0 12 2 12 0 11-2 12 0 12 2 11 0 24-3 23 5 12-3 9-5 7-1 7 1-9-56-3-13-4-5-3 5-4 11-9 53-12 38-11-25-12-29-12 14-12 24-11-10-12-22-12 7-11 20-12-5-12-21-11 3-12 22-12-2-11-25-12-2-12 29-11 4zM806-403l12 1 23-3 24 3 23-2 23 2 24-2 23 2 24-3-9-23-12 25-12 13-11-21-12-13-12 17-11 14-24-32-12 14-11 17-12-14-12-22-11 14-12 27-12-17z"/>
<path transform="matrix(0.25 -0.067848 0 0.25 117.21 273.66)" d="M0-401l12 16 23-43 12 23 11 27 12-26 12-41 12 29 11 80 4 17 3 6 4-6 3-16 17-147 4-17 3-6 4 6 3 16 14 107 11 30 12-50 12-34 23 53 12-20 11-26 12 14 12 24 11-12 12-25 12 9 12 26 11-8 12-30 12 6 11 35 12-4 12-46 11-4 17 105-9-81-17 6-11 0-12-3-12 0-11 2-12 1-12-2-11-1-12 2-12 0-23-2-24 3-23-3-23 3-12-2-12-3-11 2-14 6-7 2-7-2-17-9-6-2-8 2-11 5-12 2-23-4-24 3-23-3-12 1zM428-335l4-36 12-107 4-21 4-6 3 6 3 16 9 72 12 66 12-27 12-52 11 5 12 36 12-2 11-32 12-2 12 28 11 3 12-27 12-6 11 26 12 8 12-28 11-12 12 30 12 18 11-36 12-31 12 47 9 66-9-81-9 4-12 3-23-4-24 3-11-1-12-2-12 1-11 1-12 0-12-2-11 0-12 2-12 0-11-2-12 0-12 2-11 1-12-4-12-1-11 4-10 4-6 2-8-2-16-9zM736-335l17-147 3-17 4-6 3 6 4 16 16 122 12 8 11-55 12-21 12 34 11 17 12-27 12-19 11 22 12 18 24-40 11 18 12 21 12-17 11-26 12 16 12 32-9-31-24 3-23-3-23 3-24-3-23 3-24-3-23 3-12-1-11-4-12 1-16 7-7 2-7-2-17-9z"/>
<path transform="matrix(0.25 -0.067848 0 0.25 119.45 274.69)" d="M0-403l12 6 23-14 12 7 11 9 12-8 12-13 11 9 12 25 4 5 3 2 4-2 3-5 17-46 4-5 3-2 4 2 3 5 14 33 11 10 12-16 12-11 23 17 12-6 11-8 12 4 12 8 11-4 12-8 12 3 12 8 11-3 12-9 12 2 11 11 12-1 12-15 11-1 17 33-9 41-17-104-11 4-12 46-12 3-11-34-12-6-12 29-11 8-12-25-12-10-11 25-12 12-12-23-12-15-11 26-12 20-23-53-12 35-12 50-11-31-14-106-3-16-4-6-3 6-4 17-17 146-3 17-3 5-4-5-4-17-11-80-12-29-12 40-12 26-11-27-12-23-23 44-12-17zM428-382l16-45 4-6 4-2 3 2 3 5 9 22 12 21 12-8 11-17 12 2 12 11 12 0 11-10 12-1 12 9 11 1 12-9 12-2 11 8 12 3 12-9 11-4 12 10 12 5 11-11 12-10 12 15 9 21-9 41-9-66-12-47-11 31-12 37-12-19-12-30-11 13-12 28-12-9-11-26-12 7-12 26-11-3-12-27-12 2-11 32-12 2-12-36-11-6-12 52-12 27-12-66-9-71-3-16-3-6-4 6-4 21-12 106-4 36zM736-382l17-46 3-5 4-2 3 2 4 5 16 38 12 3 11-18 12-6 12 10 11 6 12-9 12-6 11 7 12 6 23-13 12 6 12 7 12-6 11-8 12 5 12 10-9 10-12-32-12-16-11 25-12 18-12-22-11-17-24 39-12-18-11-21-12 19-12 27-11-18-12-33-12 20-11 56-12-8-16-122-4-16-3-6-3 6-4 17-17 146z"/>
<path transform="matrix(0.25 -0.067848 0 0.25 121.68 275.73)" d="M0-405l12-16 23 43 12-23 11-27 12 26 12 40 11-29 12-79 4-18 3-5 4 6 3 16 17 146 4 17 3 6 4-6 3-16 14-106 11-30 12 49 12 35 23-53 12 20 11 26 12-15 12-23 11 12 12 25 12-10 12-25 11 8 12 29 12-6 11-34 12 3 12 46 11 4 17-104 3-15 4-5 3 6 4 16 4 36 12 106 4 21 4 6 3-6 3-16 9-71 12-66 12 27 11 52 12-6 12-36 12 2 11 32 12 2 12-27 11-3 12 26 12 7 11-26 12-8 12 27 11 13 12-30 12-18 11 36 12 31 12-47 9-66 4-15 3-5 4 6 3 16 17 146 3 17 4 6 3-6 4-16 16-121 12-9 11 56 12 20 12-33 11-18 12 27 12 19 11-21 12-18 23 39 12-17 12-21 12 17 11 25 12-16 12-31-9 24-12-10-12-6-11 9-12 5-12-7-11-5-24 12-11-5-12-7-12 6-12 8-11-5-12-11-12 7-11 17-12-2-16-39-4-5-3-2-3 2-4 5-17 47-3 5-4 2-3-2-4-5-9-20-12-15-11 9-12 12-12-6-12-9-11 4-12 8-12-2-11-8-12 2-12 8-11-1-12-9-12 1-11 10-12 1-12-12-11-1-12 16-12 8-11-20-10-23-3-5-3-2-4 2-4 7-16 45-4 5-3 2-4-2-3-5-17-33-11 2-12 14-12 1-11-11-12-2-12 10-11 2-12-8-12-3-11 8-12 4-12-8-12-4-11 8-12 6-23-16-12 11-12 15-11-9-14-34-3-5-4-2-3 2-4 5-17 47-3 5-3 2-4-2-4-6-11-25-12-9-12 13-11 8-12-8-12-8-23 14-12-5z"/>
<path transform="matrix(0.25 -0.067848 0 0.25 123.92 276.76)" d="M0-404l12-3 23 9 23-10 12 5 12 8 11-6 12-15 4-3 3-1 4 1 3 3 17 27-9 57-17-146-3-16-3-5-4 5-4 17-11 80-12 29-12-41-12-26-11 27-12 23-23-43-12 16zM150-388l14-20 11-6 12 9 12 7 23-10 12 4 11 5 12-3 12-5 11 3 12 4 12-1 12-5 11 1 12 6 12-1 11-7 12 1 12 8 11 1 17-19 3-3 4-1 3 1 4 3 4 7 12 20 4 4-9 70-4-20-12-107-4-36-4-16-3-5-4 5-3 15-17 104-11-5-12-45-12-4-11 35-12 6-12-30-11-8-12 26-12 9-11-25-12-12-12 24-12 14-11-26-12-20-23 53-12-34-12-50-11 30-14 106zM467-402l12-12 12 5 11 10 12-1 12-7 12 0 11 6 12 1 12-5 11-1 12 5 12 1 11-5 12-1 12 5 11 2 12-5 12-4 23 13 12-9 9-12 4-3 3-1 4 1 3 3 17 27-9 57-17-146-3-16-4-5-3 5-4 15-9 65-12 47-11-31-12-36-12 18-12 30-11-12-12-28-12 8-11 26-12-6-12-27-11 4-12 27-12-2-11-32-12-2-12 36-11 5-12-52-12-26-12 65zM771-394l12-17 12-2 11 11 12 4 12-7 11-3 12 5 12 4 23-8 23 8 24-8 12 4 11 4 12-3 12-6-9-25-12 32-12 16-11-26-12-17-12 21-11 18-24-40-12 18-11 22-12-19-12-27-11 17-12 34-12-21-11-55-12 8-12 89z"/>
<path transform="matrix(0.25 -0.067848 0 0.25 126.15 277.79)" d="M0-400l12 33 23-86 12 46 11 53 12-51 12-81 11 58 12 159 4 34 3 11 4-12 3-32 17-291 4-34 3-12 4 12 3 32 14 212 11 60 12-99 12-69 23 106 12-40 11-52 12 29 12 47 11-24 12-50 12 19 12 51 11-16 12-59 12 12 11 68 12-6 12-91 11-9 17 208 3 29 4 10 3-11 4-32 4-72 12-211 4-42 4-12 3 12 3 32 9 142 12 131 12-53 11-104 12 11 12 72 12-5 11-63 12-4 12 54 11 7 12-53 12-13 11 52 12 16 12-55 11-25 12 60 12 36 11-72 12-62 12 94 9 131 4 29 3 11 4-12 3-32 17-291 3-34 4-12 3 12 4 32 16 242 12 16 11-110 12-41 12 67 11 34 12-53 12-38 11 43 12 36 23-79 12 34 12 43 12-34 11-51 12 32 12 63-9-57-12 6-12 3-11-5-12-3-23 7-24-7-23 7-12-3-12-6-11 4-12 6-12-4-11-10-12 1-16 23-4 3-3 1-3-1-4-3-17-27-3-4-4-1-3 1-4 3-9 12-12 9-23-12-12 3-12 6-11-3-12-5-12 2-11 5-12-2-12-5-11 1-12 5-12 0-11-6-12-1-12 7-11 1-12-10-12-5-12 13-9 13-3 3-3 1-4-1-4-4-12-20-4-6-4-4-3-1-4 1-3 3-17 20-11-1-12-9-12 0-11 6-12 1-12-5-11-2-12 5-12 2-11-5-12-2-12 4-12 3-11-5-12-4-23 10-12-6-12-9-11 5-14 20-3 3-4 1-3-1-4-3-17-27-3-4-3-1-4 1-4 4-11 15-12 5-12-8-12-4-23 9-23-8-12 3z"/>
<path transform="matrix(0.25 -0.067848 0 0.25 128.39 278.83)" d="M0-400l12 27 23-72 12 38 11 45 12-43 12-68 11 49 12 133 4 28 3 9 4-9 3-27 17-244 4-28 3-10 4 10 3 27 14 177 11 50 12-83 12-57 23 88 12-33 11-43 12 23 12 40 11-20 12-42 12 16 12 43 11-14 12-49 12 10 11 57 12-5 12-77 11-7 17 174-9 16-17-207-11 8-12 91-12 7-11-69-12-11-12 58-11 16-12-51-12-18-11 49-12 24-12-47-12-28-11 51-12 40-23-105-12 68-12 99-11-60-14-212-3-32-4-11-3 11-4 34-17 291-3 33-3 11-4-11-4-34-11-159-12-58-12 81-12 52-11-54-12-46-23 87-12-33zM444-527l4-35 4-10 3 10 3 27 9 118 12 110 12-44 11-87 12 9 12 60 12-4 11-53 12-3 12 45 11 6 12-44 12-11 11 43 12 14 12-46 11-21 12 50 12 30 11-60 12-52 12 79 9 109 4 24-9 21-4-29-9-131-12-93-11 61-12 72-12-35-12-60-11 25-12 55-12-17-11-51-12 12-12 54-11-7-12-55-12 5-11 63-12 4-12-72-11-10-12 103-12 53-12-131-9-142-3-32-3-11-4 11-4 42zM753-534l3-28 4-10 3 10 4 27 16 202 12 14 11-92 12-34 12 55 11 29 12-45 12-31 11 35 12 30 23-65 12 28 12 36 12-28 11-43 12 27 12 53-9 1-12-63-12-33-11 52-12 33-12-42-11-34-24 78-12-36-11-42-12 37-12 54-11-35-12-66-12 41-11 110-12-17-16-241-4-33-3-11-3 11-4 34z"/>
<path transform="matrix(0.25 -0.067848 0 0.25 130.62 279.86)" d="M0-407l12-30 23 80 12-42 11-50 12 48 12 74 11-53 12-147 4-31 3-10 4 10 3 30 17 269 4 31 3 11 4-11 3-30 14-195 11-55 12 91 12 63 23-97 12 37 11 47 12-26 12-44 11 23 12 45 12-17 12-47 11 15 12 54 12-11 11-63 12 6 12 84 11 8 17-191-9 237-17-173-11 7-12 76-12 6-11-58-12-9-12 48-11 14-12-43-12-15-11 41-12 21-12-40-12-24-11 43-12 34-23-88-12 57-12 83-11-51-14-177-3-27-4-9-3 9-4 29-17 243-3 28-3 9-4-9-4-29-11-133-12-48-12 68-12 43-11-45-12-39-23 73-12-28zM444-267l4 39 4 11 3-11 3-30 9-130 12-121 12 49 11 95 12-9 12-67 12 4 11 58 12 4 12-50 11-6 12 49 12 11 11-47 12-15 12 51 11 23 12-56 12-33 11 67 12 57 12-87 9-120 4-27 3-10 4 10 3 30 17 269 3 31 4 11 3-11 4-30 16-223 12-15 11 102 12 37 12-61 11-32 12 50 12 34 11-39 12-33 23 72 12-31 12-40 12 32 11 47 12-30 12-58-9 75-12-53-12-27-11 43-12 29-12-36-11-29-24 66-12-30-11-36-12 32-12 45-11-29-12-56-12 34-11 92-12-13-16-203-4-27-3-9-3 9-4 29-17 243-3 28-4 9-3-9-4-25-9-109-12-78-11 51-12 61-12-30-12-51-11 21-12 46-12-13-11-43-12 10-12 45-11-6-12-46-12 4-11 53-12 3-12-60-11-9-12 87-12 44-12-109-9-119-3-27-3-9-4 9-4 35z"/>
<path transform="matrix(0.25 -0.067848 0 0.25 131.48 280.26)" d="M0-409l12-51 23 135 12-72 11-84 12 81 12 127 11-91 12-249 4-54 3-16 4 17 3 51 17 456 4 53 3 18-3-132-4-11-3-31-17-268-4-30-3-11-3 10-4 32-12 147-12 53-11-75-12-47-12 49-11 43-24-80-11 30zM199-320l23-164 12 62 11 81 12-45 12-74 11 38 12 77 12-29 12-80 11 26 12 92-4-30-11-54-12-15-12 47-11 17-12-46-12-22-11 44-12 26-12-48-11-37-24 98zM386-309l11 13 17-325 3-46 4-16 3 17 4 51-4 85-3-30-4-11-3 10-3 27-17 192-12-8zM502-338l12-16 12-113 12 7 11 99 12 6 12-85 11-11 12 83 12 20 11-80 12-26 12 86 11 39 12-94 12-56 11 113 12 97 12-147 9-205 4-46 3-16 4 17 3 51-3 85-4-30-3-11-4 10-3 27-10 121-11 86-12-57-12-66-11 33-12 55-12-23-11-51-12 15-12 48-11-12-12-49-12 7-12 50-11-4-12-58-12-4-11 66-12 10zM818-324l12-104 11-55 12 85 12 58 11-66 12-57 23 123 12-53 12-67 12 53 11 80-3-34-12-47-12-31-11 39-12 32-23-73-12 33-12 40-11-35-12-49-12 32-11 61z"/>
<path transform="matrix(0.25 -0.067848 0 0.25 132.14 280.56)" d="M0-410l12-62 23 164 12-87 11-102 12 97 12 153 11-108 12-301 4-65 3-20 4 21 3 62 17 549 4 64 3 22 4-22 3-60-3-53-3 51-4 18-3-19-3-53-17-456-4-51-3-17-4 16-3 54-12 250-12 90-12-127-11-81-12 85-12 71-23-135-12 51zM199-302l23-199 12 75 11 97 12-53 12-89 11 45 12 94 12-36 11-96 12 31 12 110 12-21 11-130 12 13 12 172 11 15 17-391 3-56 4-20 3 21 4 62 4 135 12 399 4 79 4 22 3-22 3-60-2-53-4 51-3 18-4-19-4-65-11-332-5-112-3-51-4-17-3 16-4 46-16 325-12-13-12-142-11-11-12 108-12 18-11-92-12-26-12 80-12 30-11-78-12-38-12 75-11 44-12-81-12-62-23 165zM502-325l12-19 12-136 12 8 11 119 12 8 12-102 11-13 12 100 12 24 11-97 12-31 12 104 11 47 12-114 12-67 11 136 12 116 12-177 9-246 4-56 3-20 4 21 3 62-3 41-3-51-3-17-4 16-3 46-10 205-12 147-11-97-12-113-12 56-11 94-12-39-12-86-11 26-12 80-12-19-11-84-12 11-12 86-11-7-12-99-12-7-11 113-12 16zM818-308l12-125 11-66 12 102 12 70 11-80 12-68 23 148 12-64 12-81 12 64 11 97 12-61 12-119-3 13-12 99-11 50-12-80-12-53-11 67-12 53-24-122-11 56-12 66-12-58-11-85-12 55-12 104z"/>
<path transform="matrix(0.25 -0.067848 0 0.25 132.86 280.89)" d="M0-410l12-66 23 173 12-92 11-107 12 103 12 162 11-116 12-318 4-69 3-21 4 22 3 65 17 583 4 67 3 24 4-23 3-65 14-423 11-120 12 197 12 138 23-211 12 80 11 103 12-57 12-95 11 49 12 99 12-37 11-103 12 33 12 117 12-23 11-137 12 13 12 182 11 17 17-415 3-59 4-21 3 22 4 65 4 144 12 423 4 83 4 24 3-23 3-65 9-283 12-262 12 106 11 207 12-21 12-144 12 9 11 126 12 9 12-109 11-14 12 106 12 26 11-103 12-33 12 110 11 50 12-120 12-72 11 145 12 123 12-188 9-261 4-59 3-21 4 22 3 65 17 583-3-20-17-550-3-61-4-21-3 20-4 56-9 246-12 177-11-116-12-136-12 67-11 113-12-46-12-105-12 31-11 98-12-24-12-100-11 13-12 102-12-8-11-119-12-8-12 136-11 19-12-195-12-100-11 247-10 267-3 61-3 22-4-22-4-79-12-399-4-136-4-61-3-21-3 20-4 56-17 391-11-16-12-171-12-13-11 129-12 22-12-110-11-31-12 96-12 35-11-93-12-46-12 90-11 53-12-97-12-75-23 199-12-130-12-186-11 113-14 399-3 61-4 22-3-22-4-64-17-550-3-61-3-21-4 20-4 65-11 300-12 109-12-153-11-97-12 102-12 86-23-163-12 62zM771-217l12-355 12-33 11 221 12 82 12-133 11-70 12 108 12 75 11-85 12-72 23 157 12-68 12-86 12 68 11 102 12-64 12-126-3 3-12 119-12 61-11-97-12-64-12 81-11 64-24-148-11 68-12 80-12-70-12-102-11 66-12 125-12-77-11-208-12 31-12 334z"/>
<path transform="matrix(0.25 -0.067848 0 0.25 133.45 281.17)" d="M0-410l12-62 23 163 12-86 11-102 12 97 12 153 11-109 12-300 4-64 3-20 4 21 3 61 17 549 4 64 3 22 4-22 3-61 14-399 11-113 12 186 12 130 23-199 12 75 11 97 12-53 12-89 11 45 12 93 12-35 12-96 11 31 12 110 12-22 11-129 12 13 12 171 11 16 17-391 3-55 4-20 3 21 4 61 4 135 12 399 4 79 4 22 3-22 3-61 9-267 12-247 12 100 11 195 12-19 12-136 12 8 11 119 12 8 12-102 11-13 12 100 12 24 11-97 12-31 12 104 11 46 12-113 12-67 11 136 12 116 12-177 9-246 4-55 3-20 4 21 3 61 17 549-2 16-17-582-4-65-3-22-4 21-3 58-10 262-11 187-12-123-12-144-11 71-12 120-12-50-11-110-12 33-12 103-11-25-12-107-12 14-11 109-12-9-12-126-12-9-11 144-12 21-12-207-11-106-12 262-9 284-3 64-4 23-3-23-4-84-12-423-5-143-3-65-4-22-3 21-3 58-17 415-12-16-11-183-12-13-12 137-11 23-12-117-12-32-12 102-11 37-12-99-12-48-11 95-12 56-12-103-11-80-24 211-11-137-12-198-12 121-13 423-4 64-3 23-4-23-3-68-17-582-3-65-4-22-3 21-4 68-12 319-12 115-11-162-12-103-12 108-11 91-24-173-11 66zM771-228l12-334 12-31 11 208 12 77 12-125 11-66 12 102 12 70 11-80 12-68 23 148 12-64 12-81 12 64 11 97 12-61 12-119-3-7-11 126-12 65-12-103-12-67-11 85-12 68-23-157-12 72-12 85-11-74-12-108-12 69-11 133-12-82-12-220-11 33-12 354z"/>
<path transform="matrix(0.25 -0.067848 0 0.25 134.11 281.47)" d="M0-409l12-51 23 135 12-72 11-83 12 80 12 125 11-89 12-247 4-53 3-16 4 17 3 50 17 451 4 53 3 18 4-18 3-50 14-327 11-94 12 153 12 107 23-164 12 62 11 80 12-44 12-73 11 37 12 77 12-29 12-79 11 25 12 91 12-18 11-106 12 10 12 141 11 13 17-321 3-46 4-16 3 17 4 50 4 111 12 328 4 65 4 18 3-18 3-50 9-219 12-203 12 82 11 160 12-16 12-111 12 6 11 98 12 7 12-84 11-11 12 82 12 20 11-80 12-25 12 85 11 38 12-92 12-56 11 112 12 95 12-145 9-202 4-46 3-16 4 17 3 50 17 452-3 50-17-549-3-61-3-21-4 20-3 55-10 246-11 177-12-116-12-136-12 68-11 112-12-46-12-104-11 31-12 97-12-24-11-100-12 13-12 102-11-8-12-119-12-8-11 136-12 19-12-195-12-100-11 247-9 267-4 61-3 22-4-22-4-79-11-399-5-135-3-61-4-21-3 20-4 55-16 391-12-15-12-172-11-13-12 130-12 21-11-110-12-31-12 96-11 36-12-94-12-45-12 89-11 53-12-97-12-75-23 199-12-130-11-186-12 114-14 398-3 61-3 22-4-22-3-64-17-549-4-61-3-21-4 20-3 64-12 301-12 108-12-153-11-97-12 102-12 86-23-163-12 62zM771-259l12-275 12-25 11 170 12 64 12-103 11-54 12 84 12 57 11-65 12-56 23 122 12-53 12-66 12 52 11 79 12-49 12-98-3-18-12 119-11 61-12-97-12-64-11 81-12 64-24-147-11 67-12 80-12-70-11-102-12 66-12 125-11-77-12-208-12 31-11 334z"/>
<path transform="matrix(0.25 -0.067848 0 0.25 135.09 281.93)" d="M0-406l12-24 23 63 12-33 11-39 12 37 12 59 11-42 12-116 4-25 3-7 4 8 3 23 17 212 4 25 3 9 4-9 3-23 14-154 11-44 12 72 12 50 23-77 12 29 11 38 12-21 12-35 11 18 12 36 12-13 12-38 11 12 12 43 12-9 11-50 12 5 12 67 11 6 17-151 3-22 4-7 3 8 4 23 4 52 12 155 4 30-4 153-4-65-12-328-4-111-4-50-3-17-4 16-3 46-17 321-11-13-12-141-12-10-11 106-12 18-12-91-11-25-12 79-12 29-11-77-12-37-12 73-12 44-11-80-12-61-23 163-12-107-12-153-11 94-14 327-3 50-4 18-3-18-4-52-17-452-3-50-3-17-4 16-4 53-11 247-12 89-12-125-12-80-11 84-12 71-23-134-12 50zM467-392l12-95 12 39 11 75 12-7 12-53 12 3 11 46 12 3 12-39 11-5 12 38 12 10 11-38 12-12 12 40 11 18 12-43 12-26 11 52 12 45 12-68 9-95 4-22 3-7 4 8 3 23 17 212-4 126-17-452-3-50-4-17-3 16-4 46-9 202-12 145-11-95-12-112-12 56-12 93-11-39-12-85-12 25-11 80-12-20-12-82-11 11-12 84-12-7-11-98-12-6-12 111-11 16-12-160-12-82-12 203zM771-336l12-129 12-12 11 81 12 30 12-49 11-25 12 39 12 27 11-31 12-26 23 57 12-25 12-31 12 25 11 37 12-23 12-46-4-41-12 98-12 49-11-79-12-52-12 66-11 53-24-122-12 56-11 66-12-58-12-84-11 54-12 103-12-63-11-171-12 25-12 275z"/>
<path transform="matrix(0.25 -0.067848 0 0.25 137.34 282.97)" d="M0-398l12 44 23-117 12 62 11 72 12-69 12-108 11 77 12 214 4 46 3 14 4-15 3-44 17-391 4-45 3-16 4 16 3 43 14 284 11 81 12-133 12-92 23 141 12-53 11-69 12 38 12 63 11-32 12-67 12 25 12 69 11-22 12-78 12 15 11 92 12-9 12-122 11-11 17 278 3 40 4 14 3-15 4-44 4-96 12-284 4-56 4-16 3 16 3 43 9 190 12 176 12-71 11-139 12 14 12 97 12-6 11-85 12-6 12 73 11 10 12-72 12-17 11 69 12 22 12-74 11-33 12 80 12 49 11-97 12-83 12 126 9 175 4 40 3 14 4-15 3-44 17-391 3-45 4-16 3 16 4 43 16 325 12 22 11-148 12-55 12 89 11 47 12-73 12-50 11 57 12 49 23-106 12 46 12 58 12-46 11-69 12 43 12 85-9-103-12 46-12 24-11-38-12-24-12 31-12 25-23-57-12 26-11 31-12-27-12-40-11 26-12 48-12-30-11-80-12 12-16 176-4 24-3 8-4-9-3-24-17-212-3-24-4-8-3 8-4 21-9 95-12 68-12-44-11-53-12 26-12 44-11-18-12-40-12 12-11 37-12-9-12-39-11 5-12 40-12-3-11-46-12-4-12 53-12 7-11-75-12-39-12 96-9 103-3 24-3 8-4-9-4-30-12-154-4-52-4-24-3-8-4 8-3 21-17 151-11-6-12-66-12-5-11 50-12 8-12-42-11-12-12 37-12 13-12-36-11-17-12 34-12 21-11-38-12-29-23 77-12-50-12-72-11 44-14 154-3 24-4 8-3-9-4-24-17-212-3-24-4-8-3 8-4 25-12 116-11 42-12-59-12-38-11 39-12 34-23-63-12 24z"/>
<path transform="matrix(0.25 -0.067848 0 0.25 138.00 283.27)" d="M0-397l12 54 23-144 12 77 11 89 12-85 12-135 11 96 12 265 4 57 3 18 4-19 3-54 17-485 4-56 3-20 4 19 3 54 14 352 11 101 12-165 12-114 23 175 12-66 11-86 12 47 12 79 11-40 12-83 12 31 12 85 11-27 12-97 12 19 11 114 12-11 12-152 11-13 17 345-3-47-16-278-12 11-12 122-11 9-12-92-12-15-11 78-12 22-12-68-11-25-12 66-12 33-12-64-11-38-12 69-12 54-23-142-12 92-11 133-12-81-14-284-3-43-3-16-4 16-3 45-17 392-4 43-3 15-4-14-3-46-12-214-12-77-12 108-11 69-12-72-12-62-23 117-12-44zM428-178l4-119 12-353 4-69 4-20 3 19 3 54 9 236 12 218 12-88 11-172 12 17 12 120 12-7 11-106 12-7 12 91 11 11 12-88 12-21 11 86 12 27 12-92 11-41 12 99 12 60 11-120 12-103 12 157 9 217-2-47-10-175-11-126-12 83-12 97-12-48-11-81-12 33-12 75-11-23-12-69-12 17-11 72-12-10-12-73-11 6-12 85-12 6-11-97-12-14-12 139-12 71-11-176-9-190-4-43-3-16-4 16-4 56-11 284-5 97zM733-124l3-54 17-485 3-56 4-20 3 19 4 54-3 49-3-43-4-16-3 16-4 45-17 392-3 43zM795-236l11-183 12-68 12 110 11 58 12-90 12-62 11 71 12 60 23-131 12 57 12 71 12-56 11-85 12 53 12 105-3-17-12-84-11-44-12 69-12 46-11-58-12-46-24 106-11-48-12-57-12 50-11 72-12-47-12-89-11 55-12 148z"/>
<path transform="matrix(0.25 -0.067848 0 0.25 138.66 283.58)" d="M0-397l12 58 23-153 12 81 11 96 12-92 12-143 11 102 12 283 4 60 3 19 4-19 3-58 17-517 4-60 3-21 4 20 3 58 14 375 11 107 12-175 12-122 23 187 12-71 11-91 12 50 12 84 11-43 12-88 12 33 12 91 11-29 12-104 12 21 11 121 12-11 12-162 11-15 17 368 3 52 4 19 3-19 4-58 4-127 12-376 4-74 4-21 3 20 3 58 9 251 12 233 12-94 11-184 12 18 12 128 12-7 11-113 12-7 12 96 11 13 12-95 12-22 11 91 12 29 12-98 11-44 12 107 12 63 11-128 12-109 12 166 9 232-2-17-10-217-11-157-12 103-12 120-12-59-11-100-12 41-12 92-11-27-12-86-12 21-11 88-12-11-12-91-11 7-12 106-12 7-11-120-12-17-12 172-12 88-11-218-9-236-4-54-3-19-4 20-4 69-11 353-5 119-3 54-4 19-3-18-4-49-16-345-12 13-12 152-11 11-12-114-12-19-11 97-12 28-12-86-11-31-12 83-12 40-12-79-11-47-12 86-12 66-23-175-12 114-11 165-12-101-14-352-3-54-3-19-4 20-3 56-17 485-4 54-3 19-4-18-3-57-12-265-12-96-12 135-11 85-12-89-12-77-23 144-12-54zM733-106l3-57 17-517 3-60 4-21 3 20 4 58 16 429 12 30 11-196 12-73 12 118 11 62 12-96 12-66 11 75 12 64 23-139 12 61 12 75 12-60 11-91 12 57 12 112-3-7-12-105-11-53-12 85-12 56-11-71-12-57-24 131-11-60-12-70-12 61-11 90-12-58-12-110-11 68-12 184-12-28-16-403-3-54-4-19-3 20-4 56-17 485-3 54z"/>
<path transform="matrix(0.25 -0.067848 0 0.25 139.31 283.88)" d="M0-397l12 55 23-145 12 77 11 90 12-86 12-136 12 97 11 266 4 57 3 17 4-18 3-54 17-487 4-56 3-20 4 19 3 54 14 354 11 100 12-165 12-114 23 175 12-66 11-86 12 47 12 79 11-40 12-83 12 31 12 86 11-28 12-97 12 19 11 114 12-11 12-152 11-14 17 347 3 49 4 17 3-18 4-54 4-120 12-354 4-69 4-20 3 19 3 54 9 237 12 219 12-89 12-173 11 18 12 120 12-7 11-106 12-7 12 91 11 11 12-88 12-21 11 86 12 27 12-92 11-42 12 101 12 59 11-120 12-103 12 157 9 218-2 12-10-231-11-167-12 109-12 129-12-64-11-106-12 44-12 98-11-30-12-91-12 22-11 95-12-13-12-96-11 8-12 112-12 7-11-128-12-18-12 184-11 94-12-233-9-251-4-57-3-21-4 21-4 74-11 376-5 127-3 58-4 19-3-19-4-52-16-368-12 15-12 162-11 11-12-121-12-21-11 104-12 29-12-91-11-33-12 88-12 43-12-84-11-50-12 91-12 71-23-187-12 122-11 175-12-107-14-375-3-57-3-21-4 21-3 60-17 517-4 58-3 19-4-19-3-60-12-283-12-102-11 144-12 91-12-96-12-81-23 153-12-58zM733-123l3-54 17-487 3-56 4-20 3 19 4 54 16 405 12 27 11-184 12-68 12 110 11 58 12-90 12-62 11 71 12 60 24-131 11 57 12 71 12-56 11-86 12 54 12 105-3 3-12-112-11-57-12 91-12 60-11-75-12-61-23 139-12-64-12-75-12 66-11 96-12-62-12-118-11 73-12 196-12-30-16-429-3-57-4-21-3 21-4 60-17 517-3 58z"/>
<path transform="matrix(0.25 -0.067848 0 0.25 139.97 284.19)" d="M0-398l12 45 23-119 12 63 11 74 12-71 12-111 11 79 12 220 4 47 3 14 4-15 3-45 17-401 4-47 3-16 4 16 3 44 14 292 11 83 12-136 12-95 23 145 12-55 11-71 12 39 12 66 11-34 12-68 12 26 12 70 11-22 12-81 12 16 11 95 12-10 12-125 11-12 17 286-3 39-16-347-12 14-12 152-11 12-12-115-12-19-11 97-12 28-12-86-11-31-12 83-12 40-12-79-11-47-12 86-12 66-23-175-12 114-11 165-12-100-14-354-3-54-3-19-4 20-3 56-17 487-4 54-3 18-4-17-3-57-12-266-12-97-12 136-11 86-12-90-12-77-23 145-12-55zM428-217l4-99 12-291 4-58 4-16 3 16 3 44 9 196 12 180 12-73 11-143 12 15 12 99 12-6 11-87 12-6 12 75 11 10 12-74 12-17 11 71 12 23 12-77 11-34 12 83 12 49 11-99 12-85 12 129 9 180-2 39-10-218-11-157-12 103-12 120-12-59-11-101-12 42-12 92-11-27-12-86-12 21-11 88-12-11-12-91-11 7-12 106-12 7-11-120-12-18-12 173-12 89-11-219-9-237-4-54-3-19-4 20-4 69-11 354-5 120zM733-172l3-45 17-401 3-47 4-16 3 16 4 44 16 334 12 23 11-152 12-57 12 92 11 48 12-75 12-51 11 58 12 50 23-108 12 47 12 59 12-47 11-70 12 44 12 87-3 11-12-105-11-54-12 86-12 56-11-71-12-57-24 131-11-60-12-71-12 62-11 91-12-58-12-111-11 68-12 184-12-27-16-405-3-54-4-18-3 19-4 56-17 487-3 54z"/>
<path transform="matrix(0.25 -0.067848 0 0.25 141.79 285.03)" d="M0-403l12 3 23-7 23 8 12-4 12-7 12 5 11 13 4 3 3 0 4 0 3-3 17-24 4-3 3-1 4 1 3 3 14 17 11 5 12-8 12-6 23 9 23-7 12 2 12 4 11-2 12-4 12 1 12 4 11-1 12-5 12 1 11 6 12-1 12-7 11-1 17 17 3 3-7 212-3-40-17-286-12 11-11 126-12 9-12-94-11-16-12 80-12 23-11-71-12-25-12 68-12 33-11-65-12-39-12 71-11 55-24-145-11 94-12 136-12-82-13-292-4-45-3-15-4 16-3 46-17 402-3 45-4 15-3-15-4-47-12-219-11-80-12 112-12 71-12-74-11-64-24 120-11-46zM428-392l16-23 4-4 4-1 3 1 3 3 9 11 12 11 12-4 12-9 11 1 12 6 12 0 11-5 12-1 12 5 11 0 12-4 12-1 11 4 12 1 12-4 11-2 12 5 12 3 23-11 12 7 9 11 4 3-7 212-4-40-9-180-12-129-12 85-12 99-11-49-12-83-12 34-11 76-12-22-12-71-11 17-12 73-12-9-11-75-12 6-12 87-11 6-12-100-12-14-11 143-12 73-12-181-9-195-3-45-4-15-3 16-4 57-12 292-5 99zM736-392l17-24 3-3 4-1 3 1 4 3 16 20 12 1 11-9 12-3 12 5 11 3 12-4 12-4 23 7 24-7 23 7 12-3 11-4 12 2 12 6-8 54-11-87-12-44-12 71-11 46-12-58-12-47-23 108-12-50-12-58-11 51-12 74-12-48-11-91-12 56-12 152-11-22-17-334-3-45-4-15-3 16-3 46-17 402z"/>
<path transform="matrix(0.25 -0.067848 0 0.25 144.03 286.06)" d="M0-406l12-28 23 73 12-39 11-45 12 43 12 69 11-49 12-135 4-29 3-9 4 9 3 28 17 247 4 29 3 10 4-10 3-27 14-180 11-51 12 84 12 58 23-89 12 34 11 43 12-24 12-40 11 21 12 42 12-16 12-44 11 14 12 50 12-10 11-58 12 6 12 77 11 7 17-176 3-25 4-9 3 9 4 28 4 61 12 180 4 35 4 10 3-10 3-27 9-121 12-111 12 45 11 88 12-9 12-61 12 4 11 53 12 4 12-46 11-6 12 45 12 11 11-44 12-14 12 47 11 21 12-51 12-30 11 61 12 52 12-79 9-111 4-25 3-9 4 9 3 28 17 247 3 29 4 10 3-10 4-27 16-206 12-14 11 94 12 35 12-57 11-29 12 46 12 31 11-36 12-30 23 66 12-29 12-36 12 29 11 43 12-27 12-54-9 37-12-5-12-3-11 4-12 3-23-6-24 6-23-6-12 3-12 4-11-2-12-6-12 3-11 10-12-2-16-20-4-2-3-1-3 1-4 2-17 24-3 3-4 1-3-1-4-2-9-11-12-8-23 11-12-3-12-5-11 2-12 5-12-1-11-5-12 1-12 5-11-1-12-4-12 0-11 5-12 1-12-6-11-1-12 8-12 5-12-11-9-12-3-2-3-1-4 1-4 3-16 23-4 3-3 1-4-1-3-2-17-17-11 0-12 8-12 0-11-5-12-1-12 5-11 1-12-4-12-2-11 4-12 2-12-4-12-2-23 8-23-9-12 6-12 8-11-5-14-18-3-2-4-1-3 1-4 2-17 24-3 3-3 1-4-1-4-3-11-13-12-5-12 7-12 4-23-8-23 7-12-2z"/>
<path transform="matrix(0.25 -0.067848 0 0.25 146.26 287.10)" d="M0-404l12-8 23 21 12-11 11-13 12 12 12 19 11-13 12-38 4-8 3-3 4 3 3 8 17 69 4 8 3 3 4-3 3-8 14-50 11-14 12 23 12 16 23-25 12 10 11 12 12-7 12-11 11 6 12 12 12-5 12-12 11 4 12 14 12-3 11-16 12 1 12 22 11 2 17-49 3-7 4-3 3 3 4 8 4 17 12 50 4 10-9 109-4-35-12-180-4-61-4-27-3-10-4 9-3 25-17 177-11-8-12-77-12-6-11 59-12 9-12-49-11-14-12 43-12 16-11-42-12-21-12 41-12 24-11-44-12-34-23 90-12-59-12-84-11 52-14 179-3 28-4 9-3-10-4-28-17-248-3-27-3-10-4 9-4 29-11 136-12 49-12-69-11-44-12 46-12 39-23-74-12 28zM458-366l9-33 12-31 12 12 11 25 12-3 12-17 12 1 11 15 12 1 12-13 11-1 12 12 12 3 11-12 12-4 12 13 11 6 12-14 12-9 11 17 12 15 12-22 9-31 4-7 3-3 4 3 3 8 17 69-9 89-17-248-3-27-4-10-3 9-4 25-9 111-12 80-11-52-12-62-12 31-12 51-11-21-12-47-12 14-11 43-12-10-12-46-11 6-12 47-12-4-11-54-12-3-12 61-11 9-12-88-12-45-11 111-10 120zM767-366l16-57 12-4 11 26 12 10 12-16 11-8 12 13 12 8 11-10 12-8 23 18 12-8 12-10 12 8 11 12 12-7 12-15-9-35-12 53-12 28-11-44-12-29-12 37-11 29-24-67-11 31-12 36-12-32-12-46-11 30-12 56-12-35-11-93-12 14-16 205z"/>
<path transform="matrix(0.25 -0.067848 0 0.25 148.50 288.13)" d="M0-401l12 15 23-41 12 22 11 26 12-25 12-39 11 28 12 76 4 16 3 5 4-5 3-15 17-140 4-16 3-6 4 6 3 15 14 102 11 28 12-47 12-33 23 51 12-19 11-25 12 13 12 23 11-11 12-24 12 9 12 24 11-8 12-28 12 6 11 33 12-3 12-44 11-4 17 99 3 14 4 5 3-5 4-15 4-35 12-101 4-20 4-6 3 6 3 15 9 68 12 63 12-26 11-49 12 5 12 34 12-2 11-30 12-2 12 26 11 3 12-25 12-6 11 24 12 8 12-26 11-12 12 29 12 17 11-35 12-29 12 45 9 62 4 14 3 5 4-5 3-15 17-140 3-16 4-6 3 6 4 15 16 116 12 8 11-53 12-19 12 31 11 17 12-26 12-18 11 21 12 17 23-38 12 17 12 20 12-16 11-25 12 16 12 30-9-40-12 15-12 8-11-12-12-8-12 10-11 8-24-19-12 9-11 10-12-9-12-13-11 8-12 16-12-10-11-26-12 4-16 58-4 7-3 3-3-3-4-8-17-69-3-8-4-2-3 2-4 7-9 31-12 23-11-15-12-17-12 8-12 15-11-6-12-13-12 3-11 13-12-3-12-13-11 2-12 13-12-1-11-15-12-1-12 17-11 2-12-24-12-13-12 31-9 34-3 7-3 3-4-3-4-10-12-50-4-17-4-8-3-2-4 2-3 7-17 50-11-2-12-22-12-2-11 17-12 2-12-14-11-3-12 12-12 4-11-12-12-5-12 11-12 7-11-13-12-9-23 25-12-16-12-24-11 14-14 51-3 7-4 3-3-3-4-8-17-69-3-8-3-2-4 2-4 8-11 38-12 14-12-19-12-13-11 13-12 11-23-20-12 7z"/>
<path transform="matrix(0.25 -0.067848 0 0.25 150.73 289.17)" d="M0-403l12 4 23-10 23 12 12-6 12-10 11 7 12 19 4 4 3 2 4-2 3-4 17-35 4-5 3-1 4 1 3 4 14 26 11 8 12-12 12-9 23 13 12-5 11-6 12 3 12 6 11-3 12-6 12 2 12 7 11-2 12-7 12 1 11 8 12 0 12-12 11-1 17 26 3 3-9 54-3-14-17-100-11 4-12 44-12 3-11-33-12-5-12 28-11 8-12-25-12-9-11 24-12 12-12-23-12-14-11 25-12 19-23-50-12 33-12 47-11-29-14-101-3-16-4-5-3 5-4 16-17 140-3 16-3 5-4-5-4-17-11-76-12-27-12 38-12 25-11-26-12-22-23 42-12-16zM428-387l16-34 4-6 4-1 3 1 3 4 9 18 12 16 12-7 11-12 12 1 12 9 12-1 11-7 12-1 12 7 11 1 12-7 12-2 11 7 12 2 12-7 11-3 12 7 12 5 23-17 12 12 9 16 4 3-9 54-4-14-9-63-12-45-11 30-12 34-12-17-12-29-11 12-12 27-12-8-11-25-12 6-12 26-11-4-12-26-12 2-11 31-12 2-12-35-11-5-12 50-12 25-12-62-9-68-3-16-3-5-4 5-4 20-12 102-4 34zM736-387l17-35 3-5 4-1 3 1 4 4 16 30 12 2 11-13 12-5 12 8 11 4 12-7 12-4 23 9 23-9 12 4 12 5 12-4 11-6 12 4 12 8-9 9-12-30-12-15-11 24-12 17-12-21-11-16-24 37-12-17-11-20-12 18-12 26-11-17-12-32-12 20-11 52-12-7-16-116-4-16-3-5-3 5-4 16-17 140z"/>
<path transform="matrix(0.25 -0.067848 0 0.25 152.97 290.20)" d="M0-405l12-15 23 40 12-21 11-26 12 25 12 38 11-27 12-75 4-17 3-5 4 6 3 15 17 137 4 16 3 6 4-5 3-16 14-100 11-28 12 47 12 32 23-50 12 19 11 24 12-13 12-22 11 11 12 23 12-8 12-24 11 7 12 28 12-6 11-32 12 3 12 43 11 4 17-98 3-14 4-5 3 6 4 15 4 34 12 100 4 19 4 6 3-5 3-16 9-67 12-61 12 25 11 48 12-4 12-34 12 2 11 29 12 2 12-25 11-4 12 26 12 6 11-25 12-8 12 27 11 11 12-28 12-17 11 34 12 29 12-44 9-62 4-14 3-5 4 6 3 15 17 137 3 16 4 6 3-5 4-16 16-114 12-8 11 52 12 20 12-32 11-16 12 25 12 18 11-20 12-17 23 37 12-16 12-20 12 16 11 24 12-15 12-30-9 21-12-8-12-4-11 7-12 4-12-6-11-4-24 10-23-10-12 5-12 6-11-4-12-8-12 5-11 14-12-2-16-30-4-4-3-2-3 2-4 4-17 36-3 4-4 1-3-1-4-4-9-16-12-11-23 16-12-4-12-8-11 3-12 7-12-2-11-6-12 1-12 7-11-1-12-7-12 1-11 8-12 0-12-9-11-1-12 13-12 6-12-16-9-17-3-4-3-2-4 2-4 5-16 35-4 4-3 1-4-1-3-4-17-25-11 1-12 11-12 1-11-9-12-1-12 7-11 2-12-6-12-2-11 6-12 3-12-6-12-4-11 7-12 5-23-13-12 8-12 12-11-7-14-26-3-4-4-2-3 2-4 4-17 36-3 4-3 1-4-1-4-4-11-20-12-7-12 10-12 6-23-12-23 11-12-4z"/>
<path transform="matrix(0.25 -0.067848 0 0.25 155.20 291.23)" d="M0-404l12-7 23 19 12-10 11-12 12 11 12 18 11-12 12-36 4-8 3-2 4 2 3 7 17 66-9 32-17-138-3-15-3-5-4 5-4 16-11 75-12 27-12-38-12-24-11 25-12 22-23-41-12 16zM150-368l14-47 11-14 12 22 12 16 23-24 12 9 11 12 12-7 12-10 11 5 12 11 12-4 12-11 11 3 12 13 12-2 11-16 12 2 12 20 11 2 17-46 3-7 4-2 3 2 4 7 4 16 12 48 4 10-9 40-4-20-12-100-4-34-4-15-3-5-4 5-3 14-17 98-11-4-12-43-12-3-11 32-12 5-12-27-11-8-12 24-12 9-11-23-12-12-12 23-12 13-11-24-12-19-23 49-12-32-12-47-11 29-14 100zM458-368l9-32 12-29 12 12 11 23 12-2 12-16 12 1 11 14 12 1 12-12 11-2 12 12 12 3 11-12 12-4 12 13 11 6 12-14 12-8 11 16 12 14 12-21 9-29 4-7 3-2 4 2 3 7 17 66-9 32-17-138-3-15-4-5-3 5-4 14-9 61-12 45-11-29-12-35-12 17-12 29-11-12-12-26-12 8-11 24-12-6-12-25-11 3-12 26-12-2-11-30-12-2-12 34-11 5-12-49-12-25-12 62-9 67zM767-368l16-54 12-4 11 25 12 9 12-15 11-8 12 13 12 8 11-10 12-8 23 18 12-8 12-9 12 7 11 12 12-7 12-15-9-18-12 30-12 15-11-24-12-16-12 20-11 16-24-37-12 17-11 20-12-17-12-26-11 17-12 31-12-19-11-52-12 7-16 115z"/>
<path transform="matrix(0.25 -0.067848 0 0.25 157.44 292.27)" d="M0-402l12 11 23-28 12 14 11 18 12-17 12-26 11 19 12 51 4 11 3 3 4-3 3-11 17-94 4-10 3-4 4 3 3 11 14 68 11 20 12-32 12-22 23 34 12-13 11-17 12 9 12 15 11-7 12-16 12 6 11 16 12-5 12-19 12 4 11 22 12-2 12-30 11-2 17 67 3 9 4 3 3-3 4-11 4-23 12-68 4-13 4-4 3 4 3 10 9 46 12 42 12-17 11-34 12 4 12 23 12-1 11-21 12-1 12 17 11 3 12-18 12-4 11 17 12 5 12-18 11-8 12 20 12 11 11-23 12-20 12 30 9 43 4 9 3 3 4-3 3-11 17-94 3-10 4-4 3 4 4 10 16 78 12 5 11-35 12-13 12 21 11 11 12-17 12-12 11 13 12 12 23-25 12 11 12 13 12-10 11-17 12 10 12 21-9-32-12 14-12 7-11-11-12-8-12 10-11 7-24-17-12 8-11 9-12-8-12-12-11 8-12 15-12-10-11-24-12 3-16 55-4 7-3 3-3-3-4-8-17-65-3-8-4-2-3 2-4 7-9 29-12 22-11-14-12-17-12 8-12 14-11-6-12-12-12 4-11 11-12-3-12-12-11 2-12 12-12-1-11-14-12-1-12 16-11 3-12-24-12-12-12 30-9 32-3 7-3 3-4-3-4-9-12-48-4-16-4-8-3-2-4 2-3 7-17 47-11-2-12-21-12-1-11 15-12 3-12-13-11-4-12 11-12 5-11-11-12-6-12 11-12 6-11-11-12-9-23 23-12-15-12-22-11 13-14 48-3 7-4 3-3-3-4-8-17-65-3-8-3-2-4 2-4 8-11 36-12 13-12-18-12-12-11 12-12 11-23-20-12 7z"/>
<path transform="matrix(0.25 -0.067848 0 0.25 159.67 293.30)" d="M0-403l12 6 23-14 12 7 11 9 12-8 12-13 11 9 12 25 4 6-9 20-4-11-11-51-12-18-12 26-12 16-11-17-12-15-23 28-12-11zM119-382l17-46 4-5 3-2 4 2 3 5 14 33 11 10 12-16 12-11 23 17 12-6 11-8 12 4 12 8 11-4 12-8 12 3 12 8 11-3 12-9 12 2 11 11 12-1 12-15 11-1 17 33-9 16-17-67-11 3-12 29-12 2-11-22-12-3-12 18-11 6-12-17-12-6-11 16-12 8-12-15-12-9-11 16-12 13-23-34-12 22-12 32-11-19-14-69-3-10-4-4-3 4-4 11-17 94zM428-382l16-45 4-6 4-2 3 2 3 5 9 22 12 21 12-8 11-17 12 2 12 11 12 0 11-10 12-1 12 9 11 1 12-9 12-2 11 8 12 3 12-9 11-4 12 10 12 5 11-11 12-10 12 15 9 21 4 5-9 20-4-9-9-42-12-30-11 20-12 23-12-12-12-19-11 8-12 18-12-6-11-16-12 4-12 17-11-2-12-18-12 2-11 20-12 1-12-23-11-3-12 33-12 17-12-42-9-46-3-10-3-4-4 4-4 13-12 69-4 23zM736-382l17-46 3-5 4-2 3 2 4 5 16 38 12 3 11-18 12-6 12 10 11 6 12-9 12-6 11 7 12 6 23-13 12 6 12 7 12-6 11-8 12 5 12 10-9 1-12-20-12-10-11 16-12 11-12-14-11-11-24 25-12-11-11-14-12 12-12 18-11-12-12-21-12 13-11 36-12-6-16-78-4-10-3-4-3 4-4 11-17 94z"/>
<path transform="matrix(0.25 -0.067848 0 0.25 161.90 294.34)" d="M0-404l12-12 23 30 12-16 11-19 12 18 12 29 12-20 11-56 4-12 3-4 4 4 3 11 17 103 4 12 3 4 4-4 3-12 14-74 11-21 12 34 12 25 23-37 12 14 11 18 12-10 12-17 11 9 12 17 12-7 12-18 11 6 12 21 12-4 11-24 12 2 12 32 11 3 17-73 3-10 4-4 3 4 4 11 4 25 12 75 4 15 4 4 3-4 3-12 9-50 12-46 12 19 12 36 11-3 12-26 12 2 11 22 12 2 12-19 11-3 12 19 12 4 11-18 12-6 12 20 11 9 12-22 12-12 11 25 12 22 12-33 9-46 4-10 3-4 4 4 3 11 17 103 3 12 4 4 3-4 4-12 16-85 12-6 11 39 12 15 12-24 11-12 12 19 12 13 11-15 12-13 24 28 11-12 12-15 12 12 11 18 12-11 12-23-9 18-12-10-12-6-11 9-12 5-12-7-11-5-24 12-11-5-12-7-12 6-12 8-11-5-12-11-12 7-11 17-12-2-16-39-4-5-3-2-3 2-4 5-17 47-3 5-4 2-3-2-4-5-9-20-12-15-11 9-12 12-12-6-12-9-11 4-12 8-12-2-11-8-12 2-12 8-11-1-12-9-12 1-11 10-12 1-12-12-11-1-12 16-12 9-11-21-10-23-3-5-3-2-4 2-4 7-16 45-4 5-3 2-3-2-4-5-17-33-11 2-12 14-12 1-11-11-12-2-12 10-11 2-12-8-12-3-11 8-12 4-12-8-12-4-11 8-12 6-23-16-12 11-12 15-11-9-14-34-3-5-4-2-3 2-4 5-17 47-3 5-3 2-4-2-4-5-11-26-12-9-12 13-11 8-12-8-12-8-23 14-12-5z"/>
<path transform="matrix(0.25 -0.067848 0 0.25 164.14 295.37)" d="M0-404l12-7 23 19 12-10 11-12 12 11 12 19 11-13 12-37 4-7 3-3 4 3 3 7 17 66-9 13-17-102-3-12-3-4-4 4-4 12-11 56-12 20-12-28-12-18-11 19-12 16-23-31-12 12zM150-368l14-47 11-14 12 22 12 16-9 0-12-24-12-35-11 21-14 75zM234-406l11 12 12-7 12-10 11 5 12 11 12-4 12-11 11 3 12 13 12-2 11-16 12 2 12 20 11 2 17-47 3-6 4-3 3 3 4 7 4 16 12 48 4 10-9 17-4-15-12-74-4-25-4-12-3-4-4 4-3 10-17 73-11-3-12-32-12-2-11 24-12 4-12-20-11-6-12 18-12 6-11-17-12-9-12 17-12 10-11-18zM458-368l9-32 12-29 12 12 11 23 12-2-9-3-11 4-12-37-12-18-12 46-9 50zM549-397l12 1 12-12 11-2 12 12 12 3 11-12 12-4 12 13 11 6 12-14 12-8 11 16 12 14 12-21 9-30 4-6 3-3 4 3 3 7 17 66-9 13-17-102-3-12-4-4-3 4-4 10-9 46-12 33-11-21-12-26-12 13-12 21-11-9-12-19-12 6-11 18-12-5-12-18-11 2-12 19-12-1zM767-368l16-54 12-4 11 25 12 9-9 0-12-14-11-39-12 6-16 85zM853-402l12 8 11-10 12-8 23 18 12-8 12-9 12 7 11 12 12-7 12-15-9-12-12 22-12 11-11-18-12-12-12 15-11 13-24-28-12 13-11 14-12-13z"/>
<path transform="matrix(0.25 -0.067848 0 0.25 166.37 296.40)" d="M0-402l12 10 23-26 12 14 11 16 12-16 12-24 12 17 11 48 4 10 3 4 4-4 3-9 17-88 4-10 3-4 4 4 3 9 14 64 11 18 12-30 12-20 23 31 12-12 11-15 12 8 12 15 11-8 12-14 12 5 12 16 11-5 12-18 12 3 11 21 12-2 12-27 11-3 17 63 3 8 4 4 3-4 4-9 4-22 12-64 4-12 4-4 3 4 3 9 9 43 12 39 12-16 12-31 11 3 12 22 12-1 11-19 12-2 12 17 11 2 12-16 12-4 11 16 12 5 12-17 11-7 12 18 12 10 11-21 12-19 12 28 9 40 4 8 3 4 4-4 3-9 17-88 3-10 4-4 3 4 4 9 16 73 12 5 11-33 12-12 12 20 11 10 12-16 12-11 11 12 12 11 24-23 11 10 12 13 12-10 11-16 12 10 12 19-9-31-12 14-12 7-11-11-12-8-12 10-11 7-24-17-11 8-12 9-12-8-12-12-11 8-12 15-12-10-11-25-12 4-16 55-4 7-3 3-3-3-4-7-17-66-3-8-4-2-3 2-4 7-9 29-12 22-11-14-12-17-12 8-12 14-11-6-12-12-12 4-11 11-12-3-12-12-11 2-12 12-12-1-11-14-12-1-12 16-11 3-12-24-12-12-11 30-10 32-3 7-3 3-4-3-4-9-12-48-4-16-4-8-3-2-4 2-3 7-17 47-11-2-12-21-12-1-11 15-12 3-12-13-11-4-12 12-12 4-11-11-12-6-12 11-12 6-11-11-12-9-23 23-12-15-12-23-11 14-14 48-3 7-4 3-3-3-4-7-17-66-3-8-3-2-4 2-4 8-11 36-12 13-12-18-11-12-12 12-12 11-23-20-12 7z"/>
<path transform="matrix(0.25 -0.067848 0 0.25 168.61 297.44)" d="M0-402l12 7 23-20 12 11 11 12 12-12 12-18 11 13 12 37 4 8-9 5-4-10-11-48-12-18-12 25-12 15-11-16-12-14-23 26-12-10zM119-372l17-67 4-8 3-3 4 3 3 7 14 49 11 14-9 2-11-19-14-63-3-10-4-3-3 3-4 10-17 88zM222-391l12-9 11-12 12 6 12 11 11-5 12-12 12 4 12 12 11-4 12-13 12 3 11 15 12-1 12-21 11-2 17 48-9 3-17-62-11 2-12 28-12 2-11-21-12-4-12 18-11 5-12-15-12-6-11 15-12 7-12-14-12-9-11 16-12 12zM428-372l16-66 4-9 4-3 3 3 3 7 9 33 12 30-9 2-12-40-9-42-3-10-3-3-4 3-4 13-12 63-4 22zM526-394l12-1 11-14 12-1 12 12 11 2 12-12 12-3 11 12 12 3 12-12 11-6 12 14 12 8 11-17 12-14 12 22 9 30 4 7-9 5-4-9-9-39-12-29-11 19-12 22-12-11-12-18-11 7-12 17-12-5-11-15-12 3-12 16-11-2-12-16-12 1-11 19-12 2zM736-372l17-67 3-8 4-3 3 3 4 7 16 56-9 0-16-73-4-10-3-3-3 3-4 10-17 88zM830-400l11 9 12-13 12-9 11 10 12 9 23-19 12 8 12 10 12-8 11-12 12 8 12 15-9-4-12-19-12-9-11 15-12 10-12-13-11-10-24 24-12-11-11-13-12 11-12 16-11-10z"/>
<path transform="matrix(0.25 -0.067848 0 0.25 170.84 298.47)" d="M0-404l12-10 23 26 12-14 11-16 12 15 12 25 11-17 12-50 4-10 3-3 4 3 3 10 17 90 4 10 3 4 4-4 3-9 14-66 11-18 12 30 12 21 23-32 12 12 11 16 12-9 12-14 11 7 12 15 12-5 12-16 11 5 12 18 12-4 11-21 12 2 12 28 11 3 17-64 3-9 4-3 3 3 4 10 4 22 12 66 4 12 4 4 3-4 3-9 9-44 12-41 12 17 11 32 12-4 12-22 12 2 11 19 12 1 12-16 11-3 12 17 12 4 11-16 12-5 12 17 11 7 12-18 12-11 11 22 12 19 12-29 9-40 4-9 3-3 4 3 3 10 17 90 3 10 4 4 3-4 4-9 16-75-9 39-16-56-4-8-3-2-3 2-4 8-17 68-3 7-4 3-3-3-4-7-9-30-12-22-11 15-12 16-12-8-12-14-11 6-12 13-12-4-11-12-12 3-12 12-11-1-12-13-12 1-11 15-12 1-12-17-11-2-12 24-12 12-11-30-10-33-3-8-3-2-4 2-4 10-16 66-4 7-3 3-4-3-3-7-17-48-11 2-12 21-12 2-11-16-12-3-12 14-11 4-12-12-12-4-11 11-12 6-12-11-12-7-11 12-12 9-23-24-12 16-12 23-11-14-14-49-3-8-4-2-3 2-4 8-17 68-3 7-3 3-4-3-4-8-11-37-12-13-12 19-11 12-12-13-12-10-23 20-12-8zM818-388l12-20 11-11 12 17 12 11 11-13 12-11 23 24 12-10 12-13 12 10 11 16 12-10 12-20-9 19-12-15-12-7-11 12-12 8-12-10-11-8-24 18-11-8-12-10-12 8-12 13-11-8-12-15z"/>
<path transform="matrix(0.25 -0.067848 0 0.25 173.08 299.51)" d="M0-404l12-9 23 23 12-12 11-14 12 13 12 22 11-16 12-42 4-9 3-3 4 3 3 9 17 77-9 0-17-90-3-10-3-3-4 3-4 11-11 49-12 18-12-25-12-16-11 17-12 14-23-27-12 10zM199-389l23-28 12 11 11 13 12-7 12-13 11 7 12 13 12-5 12-14 11 5 12 15 12-3 11-18 12 2 12 24 11 2 17-55 3-8 4-3 3 3 4 9 4 19 12 56 4 11-9 2-4-13-12-65-4-23-4-10-3-3-4 3-3 9-17 64-11-2-12-28-12-2-11 21-12 3-12-18-11-5-12 16-12 6-11-15-12-8-12 15-12 8-11-16-12-12-23 33zM502-392l12-3 12-19 12 1 11 17 12 1 12-14 11-2 12 14 12 3 11-13 12-5 12 15 11 6 12-16 12-9 11 19 12 16 12-24 9-35 4-8 3-3 4 3 3 9 17 77-9 0-17-90-3-10-4-3-3 3-4 9-9 41-12 29-11-19-12-23-12 11-12 19-11-8-12-17-12 5-11 16-12-4-12-16-11 2-12 17-12-2-11-19-12-1-12 22-11 3zM818-390l12-17 11-10 12 15 12 9 11-11 12-9 23 21 12-10 12-11 12 9 11 14 12-9 12-17-9-8-12 19-12 10-11-16-12-10-12 13-11 11-24-24-12 11-11 13-12-12-12-16-11 10-12 21z"/>
<path transform="matrix(0.25 -0.067848 0 0.25 175.31 300.54)" d="M0-402l12 12 23-31 12 16 11 20 12-19 12-29 11 21 12 57 4 13 3 4 4-4 3-12 17-106 4-12 3-4 4 4 3 12-9 92-3 9-4 3-3-3-4-9-17-78-3-8-3-3-4 3-4 9-11 42-12 15-12-21-12-14-11 14-12 13-23-23-12 8zM199-423l23 39 12-15 11-19 12 11 12 17 11-9 12-18 12 7 12 18 11-5 12-22 12 5 11 24 12-2 12-33 11-3 17 75 3 11 4 4 3-4 4-12 4-26 12-77 4-15 4-4 3 4 3 12-9 92-3 9-3 3-4-3-4-12-12-56-4-19-4-8-3-3-4 3-3 7-17 55-11-2-12-24-12-2-11 18-12 4-12-16-11-4-12 13-12 5-11-13-12-6-12 12-12 8-11-14-12-11-23 28zM491-381l11-37 12 3 12 27 12-2 11-23 12-1 12 19 11 3 12-19 12-5 11 19 12 6 12-20 11-9 12 21 12 13 11-26 12-22 12 34 9 47 4 11 3 4 4-4 3-12 17-106 3-12 4-4 3 4 4 12 16 87 12 6 11-40 12-15 12 25 11 12 12-19 12-14 11 16 12 13 23-29 12 12 12 16 12-12 11-19 12 12 12 23-9-36-12 17-12 8-11-13-12-9-12 11-11 9-24-21-12 10-11 11-12-10-12-14-11 9-12 18-12-11-11-29-12 4-16 64-4 9-3 3-3-3-4-9-17-78-3-8-4-3-3 3-4 7-9 35-12 25-11-16-12-20-12 10-12 16-11-7-12-14-12 4-11 14-12-4-12-14-11 2-12 14-12-1-11-16-12-2-12 20-11 2-12-27z"/>
<path transform="matrix(0.25 -0.067848 0 0.25 177.55 301.57)" d="M0-402l12 14 23-36 12 19 11 22 12-21 12-33 11 24 12 64 4 14-9-14-4-12-11-58-12-21-12 30-12 18-11-19-12-17-23 31-12-11zM119-348l17-118 4-14 3-5 4 5 3 13 14 86 11 24 12-40 12-28 23 43 12-16 11-21 12 11 12 19 11-9 12-20 12 7 12 21 11-7 12-23 12 4 11 28 12-3 12-37 11-3 17 84-9-12-17-76-11 3-12 33-12 3-11-25-12-4-12 21-11 6-12-19-12-6-11 18-12 8-12-17-12-10-11 19-12 14-23-38-12 25-12 36-11-22-14-77-3-12-4-4-3 4-4 13-17 105zM428-348l4-29 12-86 4-17 4-5 3 5 3 13 9 57 12 53 12-21 11-42 12 4 12 29 12-1 11-26 12-2 12 22 11 3 12-21 12-6 11 21 12 7 12-22 11-10 12 24 12 14 11-29 12-25 12 38 9 53-9-12-9-48-12-34-11 23-12 26-12-13-12-22-11 9-12 20-12-6-11-19-12 5-12 19-11-2-12-20-12 2-11 23-12 1-12-26-11-4-12 38-12 19-12-48-9-51-3-12-3-4-4 4-4 15-12 77-4 26zM736-348l17-118 3-14 4-5 3 5 4 13 16 98 12 7 11-45 12-17 12 27 11 14 12-22 12-15 11 18 12 14 23-32 12 14 12 18 12-14 11-21 12 13 12 26-9-9-12-23-12-11-11 18-12 12-12-15-11-12-24 28-12-13-11-15-12 13-12 20-11-13-12-24-12 15-11 40-12-6-16-88-4-12-3-4-3 4-4 13-17 105z"/>
<path transform="matrix(0.25 -0.067848 0 0.25 179.78 302.61)" d="M0-404l12-10 23 26 12-14 11-17 12 16 12 25 11-17 12-50 4-10 3-4 4 4 3 10 17 90 4 11 3 3 4-3 3-10 14-66 11-19 12 31 12 21 23-32 12 12 11 16 12-9 12-14 11 7 12 15 12-5 12-16 11 5 12 18 12-4 11-21 12 2 12 28 11 3 17-64 3-9 4-4 3 4 4 10 4 22 12 66 4 13 4 3 3-3 3-10 9-44 12-41 12 17 11 32 12-4 12-22 12 1 11 20 12 1 12-16 11-3 12 17 12 4 11-16 12-5 12 17 11 8 12-19 12-11 11 22 12 19 12-29 9-40 4-9 3-4 4 4 3 10 17 90 3 11 4 3 3-3 4-10 16-75 12-5 11 34 12 12 12-20 11-11 12 17 12 11 11-13 12-11 23 24 12-10 12-13 12 10 11 16 12-10 12-20-9 27-12-26-12-13-11 21-12 14-12-17-11-14-24 32-12-15-11-17-12 15-12 22-11-14-12-27-12 16-11 45-12-7-16-98-4-13-3-4-3 4-4 14-17 118-3 13-4 5-3-5-4-11-9-53-12-38-11 25-12 29-12-15-12-24-11 10-12 22-12-6-11-21-12 5-12 22-11-3-12-22-12 1-11 26-12 2-12-29-11-5-12 42-12 22-12-53-9-58-3-13-3-4-4 4-4 17-12 86-4 29-4 13-3 5-4-5-3-11-17-85-11 4-12 37-12 2-11-27-12-5-12 24-11 6-12-20-12-8-11 20-12 10-12-19-12-12-11 21-12 16-23-42-12 27-12 40-11-24-14-86-3-13-4-4-3 4-4 14-17 118-3 13-3 5-4-5-4-13-11-65-12-23-12 32-12 21-11-22-12-18-23 35-12-13z"/>
<path transform="matrix(0.25 -0.067848 0 0.25 182.02 303.64)" d="M0-405l12-13 23 36 12-19 11-23 12 22 12 33 11-24 12-66 4-14 3-4 4 5 3 13 17 120-9-22-17-91-3-10-3-3-4 3-4 11-11 49-12 18-12-25-12-16-11 17-12 14-23-27-12 10zM150-338l14-87 11-25 12 41 12 28 23-44 12 17 11 21 12-12 12-19 11 10 12 20 12-7 11-22 12 7 12 24 12-4 11-29 12 3 12 38 11 3 17-86 3-12 4-4 3 5 4 13 4 30 12 87-9-22-12-65-4-23-4-10-3-3-4 3-3 9-17 65-11-3-12-28-12-2-11 21-12 3-12-18-11-5-12 16-12 6-11-15-12-8-12 15-12 8-11-16-12-12-23 33-12-21-12-31-11 19-14 65zM467-397l12-54 12 22 11 43 12-4 12-30 12 2 11 26 12 2 12-23 11-3 12 22 12 5 11-21 12-7 12 23 11 10 12-24 12-15 11 30 12 25 12-39 9-54 4-12 3-4 4 5 3 13 17 120-9-22-17-91-3-10-4-3-3 3-4 9-9 41-12 29-11-19-12-23-12 11-12 19-11-8-12-17-12 5-11 16-12-4-12-16-11 2-12 17-12-1-11-20-12-1-12 22-11 3-12-32-12-16-12 40zM771-365l12-73 12-7 11 46 12 17 12-28 11-14 12 22 12 16 11-18 12-15 23 33 12-15 12-17 12 14 11 21 12-13 12-26-9-2-12 19-12 10-11-16-12-10-12 13-11 11-24-24-12 11-11 13-12-12-12-16-11 10-12 21-12-13-11-34-12 5-12 55z"/>
<path transform="matrix(0.25 -0.067848 0 0.25 184.25 304.68)" d="M0-401l12 20 23-53 12 28 11 33 12-31 12-50 11 35 12 98 4 21 3 7 4-7 3-20 17-179 4-21-9 189-4-14-17-121-3-13-3-5-4 5-4 14-11 66-12 23-12-33-12-21-11 22-12 19-23-36-12 14zM150-500l14 130 11 37 12-61 12-42 23 65 12-25 11-31 12 17 12 29 11-15 12-30 12 11 12 32 11-10 12-36 12 7 11 42 12-4 12-56 11-5 17 127 3 18 4 7 3-7 4-20 4-44 12-130 4-26-9 189-4-18-12-87-4-30-4-13-3-5-4 5-3 12-17 86-11-4-12-38-12-2-11 28-12 5-12-24-11-7-12 21-12 8-11-21-12-10-12 20-12 12-11-22-12-16-23 43-12-28-12-41-11 25-14 87zM458-500l9 87 12 80 12-32 11-64 12 7 12 44 12-3 11-39 12-2 12 33 11 4 12-32 12-8 11 32 12 10 12-34 11-15 12 36 12 22 11-44 12-38 12 58 9 80 4 18 3 7 4-7 3-20 17-179-9 154-17-121-3-13-4-5-3 5-4 12-9 54-12 39-11-26-12-30-12 15-12 25-11-10-12-23-12 7-11 21-12-5-12-22-11 3-12 22-12-2-11-26-12-2-12 30-11 4-12-42-12-22-12 54-9 58zM771-460l12 109 12 10 11-68 12-25 12 41 11 21 12-33 12-23 11 26 12 22 23-48 12 21 12 26 12-21 11-31 12 20 12 38-9-54-12 26-12 13-11-21-12-14-12 18-11 14-24-32-12 14-11 18-12-15-12-23-11 15-12 27-12-17-11-45-12 6-12 74z"/>
<path transform="matrix(0.25 -0.067848 0 0.25 186.48 305.71)" d="M0-399l12 37 23-98 12 52 11 61 12-58 12-93 12 66 11 182 4 39 3 12 4-13 3-37 17-332 4-39 3-13 4 13 3 37 14 241 11 69 12-113 12-78 23 120 12-45 11-59 12 32 12 54 11-27 12-57 12 21 12 59 11-19 12-67 12 13 11 79 12-8 12-104 11-10 17 237-9-79-17-128-11 5-12 56-12 4-11-42-12-7-12 36-11 10-12-31-12-12-11 31-12 14-12-29-12-17-11 32-12 24-23-65-12 43-12 60-11-37-14-130-3-20-4-7-3 8-4 20-17 179-3 20-3 7-4-6-4-21-11-98-12-36-12 50-11 32-12-33-12-29-23 54-12-21zM444-572l4-48 4-13 3 13 3 37 9 161 12 150 12-61-9-39-12 33-11-81-10-87-3-20-3-7-4 8-4 25zM526-357l12-5 11-72 12-5 12 62 11 8 12-60 12-15 11 59 12 19 12-63 11-28 12 68 12 41 11-82 12-71 12 107 9 149 4 34-9-95-4-18-9-81-12-57-11 38-12 44-12-22-12-37-11 15-12 34-12-10-11-32-12 8-12 33-11-4-12-34-12 3-11 39-12 2zM753-581l3-39 4-13 3 13 4 37 16 276 12 19-9-60-12-10-16-149-4-20-3-7-3 8-4 20zM830-385l11 40 12-62 12-42 11 48 12 41 24-89 11 39 12 48 12-38 11-59 12 37 12 72-9-31-12-39-12-20-11 32-12 21-12-27-11-21-24 49-11-23-12-26-12 23-12 33-11-21z"/>
<path transform="matrix(0.25 -0.067848 0 0.25 188.72 306.74)" d="M0-404l12-5 23 14 23-16 12 8 12 13 11-9 12-26 4-5 3-2 4 2 3 5 17 47 4 5 3 2 4-2 3-5 14-34 11-9 12 15 12 11 23-16 12 6 11 8 12-4 12-8 11 4 12 8 12-3 12-8 11 2 12 10 12-2 11-11 12 1 12 14 11 2 17-33-9 174-17-237-11 9-12 104-12 8-11-78-12-13-12 66-11 19-12-58-12-22-11 57-12 28-12-55-12-32-11 59-12 45-23-120-12 79-12 112-11-68-14-242-3-37-4-13-3 14-4 38-17 333-3 37-3 12-4-12-4-39-11-182-12-65-12 92-12 59-11-62-12-52-23 99-12-38zM444-380l4 7 4 2 3-2 3-5 9-23 12-20 12 8 11 16 12-1 12-12 12 1 11 10 12 1 12-9 11-1 12 8 12 2 11-8 12-2 12 8 11 4 12-9 12-6 11 12 12 9 12-15 9-20 4-5-9 212-4-33-9-149-12-107-11 70-12 82-12-41-12-68-11 28-12 63-12-18-11-59-12 14-12 61-11-8-12-62-12 5-11 72-12 5-12-82-11-12-12 118-12 60-12-149-9-162-3-37-3-13-4 14-4 47zM753-378l3 5 4 2 3-2 4-5 16-39 12-2 11 17 12 7 12-11 11-5 12 8 12 6 23-12 23 12 12-5 12-7 12 5 11 9 12-6 12-10-9 54-12-72-12-36-11 58-12 39-12-49-11-39-24 89-12-41-11-48-12 43-12 61-11-40-12-75-12 46-11 126-12-19-16-276-4-37-3-13-3 14-4 38z"/>
<path transform="matrix(0.25 -0.067848 0 0.25 190.45 307.54)" d="M0-409l12-51 23 135 12-71 11-85 12 81 12 127 11-91 12-249 4-54 3-16 4 17 3 51-7 185-3-5-3-2-4 2-4 5-11 26-12 9-12-13-11-8-24 16-23-14-12 5zM140-106l3 18 4-17 3-51 14-331 11-95 12 155 12 107 23-164 12 62 11 81 12-44 12-75 11 38 12 77 12-29 12-80 11 26 12 92-7-65-12-10-11-2-12 8-12 3-11-8-12-4-12 8-12 4-11-8-12-7-23 17-12-11-12-15-11 9-14 34-3 5-4 2-3-2zM374-452l12 143 11 13 17-325 3-46 4-16 3 17 4 51-7 185-4-5-3-2-4 2-3 5-17 33-11-2-12-14zM455-105l3-51 9-222 12-205 12 83 11 162 12-16 12-113 12 7 11 99 12 7 12-86 11-11 12 83 12 20 11-80 12-26 12 86 11 39 12-94 12-56 11 113 12 97 12-147 9-205 4-46 3-16 4 17 3 51 17 456 3 53 4 18 3-17 4-51 16-379 12-26 11 173 12 64 12-104 11-55 12 85 12 58 11-66 12-57 23 123 12-53 12-67 12 53 11 80-7-73-11-9-12-5-12 7-11 5-24-12-23 12-12-6-12-8-11 5-12 11-12-7-11-17-12 2-16 39-4 5-3 2-3-2-4-5-17-47-3-5-4-2-3 2-4 5-9 20-12 15-11-9-12-12-12 6-12 9-11-4-12-8-12 2-11 8-12-2-12-8-11 1-12 9-12-1-11-10-12-1-12 12-11 1-12-16-12-9-11 21-10 23-3 5z"/>
<path transform="matrix(0.25 -0.067848 0 0.25 191.10 307.85)" d="M0-410l12-62 23 164 12-87 11-102 12 97 12 153 12-108 11-301 4-65 3-20 4 21 3 62 17 549 4 64 3 22 4-22 3-60-3-53-3 51-3 18-4-19-3-53-17-456-4-51-3-17-4 16-3 54-12 249-12 91-11-127-12-81-12 85-12 71-23-135-12 51zM199-302l23-199 12 75 11 97 12-53 12-90 11 46 12 93 12-35 12-96 11 31 12 110 12-21 11-130 12 13 12 172 11 15 17-391 3-56 4-20 3 21 4 62 4 135 12 399 4 79 4 22 3-22 3-60-2-53-4 51-3 18-4-19-4-65-11-332-5-112-3-51-4-17-3 16-4 46-16 325-12-13-12-142-11-11-12 108-12 18-11-92-12-26-12 80-11 30-12-78-12-38-12 75-11 44-12-81-12-62-23 165zM503-325l11-19 12-136 12 8 11 119 12 8 12-102 11-13 12 100 12 24 11-97 12-31 12 104 11 46 12-113 12-67 11 136 12 116 12-177 9-246 4-56 3-20 4 21 3 62 17 549 3 64 4 22 3-22 4-60-3-53-3 51-4 17-3-18-4-53-17-456-3-51-3-17-4 16-3 46-10 205-11 147-12-97-12-113-12 56-11 94-12-39-12-86-11 26-12 80-12-19-11-84-12 11-12 86-11-7-12-99-12-7-11 113-12 16zM806-385l12 77 12-125 11-66 12 102 12 70 11-80 12-68 24 148 11-64 12-81 12 64 11 97 12-61 12-119-3 13-12 99-11 50-12-80-12-53-11 67-12 53-23-122-12 56-12 66-12-58-11-85-12 55-12 104-11-64z"/>
<path transform="matrix(0.25 -0.067848 0 0.25 191.76 308.15)" d="M0-410l12-66 23 173 12-92 11-107 12 103 12 162 11-116 12-318 4-69 3-21 4 22 3 65 17 583 4 68 3 23 4-23 3-65 14-423 11-120 12 197 12 138 23-211 12 80 11 103 12-57 12-95 11 49 12 99 12-37 12-103 11 33 12 117 12-23 11-137 12 13 12 182 11 17 17-415 3-59 4-21 3 22 4 65 4 144 12 423 4 84 4 23 3-23 3-65 9-283 12-262 12 106 11 207 12-21 12-144 12 9 11 126 12 9 12-109 11-14 12 106 12 26 11-103 12-33 12 110 11 50 12-120 12-72 11 145 12 123 12-188 9-261 4-59 3-21 4 22 3 65 17 583 3 68 4 23 3-23 4-65 16-484 12-33 11 221 12 82 12-133 11-70 12 108 12 75 11-85 12-72 23 157 12-68 12-86 12 68 11 102 12-64 12-126-3 3-12 119-11 61-12-97-12-64-11 81-12 64-24-148-11 68-12 80-12-70-11-102-12 66-12 125-11-77-12-208-12 31-16 457-3 61-4 21-3-22-4-64-17-549-3-62-3-20-4 19-3 56-10 246-11 177-12-116-12-136-12 67-11 114-12-47-12-104-11 31-12 97-12-24-11-100-12 13-12 103-11-9-12-119-12-8-11 136-12 19-12-195-12-100-11 247-9 268-4 61-3 21-4-22-4-78-11-400-5-135-3-62-4-20-3 19-4 56-16 391-12-15-12-172-11-13-12 130-12 21-11-110-12-31-12 96-11 36-12-94-12-45-12 89-11 53-12-97-12-75-23 199-12-130-11-186-12 113-14 400-3 61-3 21-4-22-3-64-17-549-4-62-3-20-4 19-3 65-12 301-12 108-12-153-11-97-12 102-12 87-23-164-12 62z"/>
<path transform="matrix(0.25 -0.067848 0 0.25 192.42 308.45)" d="M0-410l12-62 23 163 12-86 11-102 12 97 12 153 11-108 12-301 4-64 3-20 4 21 3 61 17 549 4 64 3 22 4-22 3-61 14-399 11-113 12 186 12 130 23-199 12 75 11 97 12-53 12-89 11 45 12 93 12-35 12-96 11 31 12 110 12-22 11-129 12 13 12 171 11 16 17-391 3-55 4-20 3 21 4 61 4 135 12 399 4 79 4 22 3-22 3-61 9-267 12-247 12 100 11 195 12-19 12-136 12 8 11 119 12 8 12-102 11-13 12 100 12 24 11-97 12-31 12 104 11 46 12-113 12-67 11 136 12 116 12-177 9-246 4-55 3-20 4 21 3 61 17 549 3 64 4 21 3-21 4-61 16-456 12-31 11 208 12 77 12-125 11-66 12 102 12 70 11-80 12-68 23 148 12-64 12-81 12 64 11 97 12-61 12-119-3-7-12 126-11 64-12-102-12-68-11 86-12 68-24-157-11 72-12 85-12-75-11-108-12 70-12 133-11-82-12-221-12 33-16 485-3 64-4 23-3-23-4-68-17-583-3-65-3-22-4 21-3 59-10 261-11 188-12-123-12-145-12 72-11 120-12-50-12-110-11 33-12 103-12-26-11-106-12 14-12 109-11-9-12-126-12-9-11 144-12 21-12-207-12-106-11 262-9 284-4 64-3 23-4-23-4-84-11-423-5-144-3-65-4-22-3 21-4 59-16 415-12-17-12-182-11-13-12 137-12 23-11-117-12-33-12 103-11 37-12-99-12-49-12 96-11 56-12-103-12-80-23 211-12-138-11-197-12 120-14 424-3 64-3 23-4-23-3-68-17-583-4-65-3-22-4 21-3 69-12 319-12 115-12-162-11-103-12 107-12 92-23-173-12 66z"/>
<path transform="matrix(0.25 -0.067848 0 0.25 193.19 308.81)" d="M0-408l12-49 23 128 12-68 11-79 12 76 12 119 11-85 12-234 4-51 3-15 4 16 3 48 17 428 4 50 3 17 4-17 3-47 14-311 11-89 12 145 12 101 23-155 12 59 11 76 12-42 12-69 11 35 12 73 12-27 12-76 11 25 12 86 12-17 11-101 12 9 12 134 11 13 17-305 3-44 4-15 3 16 4 48 4 105 12 312 4 61 4 17 3-17 3-47 9-209 12-192 12 78 11 152 12-15 12-106 12 6 11 93 12 7 12-81 11-10 12 78 12 19 11-76 12-24 12 81 11 37 12-88 12-53 11 106 12 91 12-138 9-192 4-44 3-15 4 16 3 48 17 428 3 50 4 17 3-17 4-47 16-356 12-24 11 162 12 60 12-98 11-51 12 80 12 54 11-62 12-53 23 115 12-50 12-63 12 50 11 76 12-48 12-93-3-21-12 119-12 60-12-96-11-64-12 81-12 64-23-148-12 68-11 80-12-70-12-102-11 65-12 126-12-78-11-207-12 31-16 456-4 61-4 21-3-22-3-63-17-549-3-62-4-20-3 19-4 56-9 246-12 177-12-116-11-136-12 67-12 113-11-47-12-104-12 31-11 97-12-24-12-100-11 14-12 102-12-8-12-119-11-8-12 135-12 20-11-195-12-100-12 247-9 267-3 61-4 21-3-22-4-78-12-399-4-135-4-62-3-20-4 19-3 56-17 391-11-16-12-172-12-12-12 129-11 22-12-110-12-31-11 96-12 35-12-93-11-46-12 90-12 53-11-97-12-75-23 198-12-129-12-186-11 113-14 399-4 61-3 21-3-22-4-63-17-549-3-62-4-20-3 19-4 65-12 300-11 109-12-153-12-97-11 102-12 86-23-163-12 62z"/>
<path transform="matrix(0.25 -0.067848 0 0.25 195.42 309.84)" d="M0-401l12 21 23-55 12 29 11 34 12-32 12-52 11 37 12 100 4 22 3 7 4-7 3-21 17-184 4-21 3-7 4 7 3 20 14 134 11 38 12-63 12-43 23 67 12-26 11-32 12 18 12 30 11-16 12-31 12 12 12 32 11-10 12-37 12 7 11 44 12-5 12-57 11-6 17 131 3 19 4 7 3-7 4-21 4-45 12-134 4-26 4-7-9 417-4-17-4-62-12-311-4-106-4-48-3-16-4 16-3 43-17 305-11-12-12-134-12-10-11 101-12 17-12-86-11-24-12 75-12 27-11-72-12-36-12 70-12 41-11-76-12-58-23 155-12-101-12-145-11 88-14 311-3 48-4 17-3-17-4-50-17-429-3-48-3-16-4 16-4 50-11 234-12 85-12-119-11-76-12 80-12 67-23-127-12 48zM467-413l12 82 12-33 11-65 12 6 12 46 12-3 11-40 12-3 12 35 11 4 12-34 12-8 11 33 12 10 12-35 11-15 12 38 12 22 11-45 12-39 12 59 9 82 4 19 3 7 4-7 3-21 17-184 3-21 4-7-9 417-3-17-4-50-17-429-3-47-4-17-3 16-4 43-9 192-12 138-11-91-12-106-12 53-12 88-11-36-12-82-12 25-11 75-12-18-12-78-11 10-12 80-12-6-11-93-12-7-12 106-11 15-12-152-12-78-11 193zM771-462l12 112 12 10 11-69 12-26 12 42 11 22 12-34 12-24 11 27 12 23 23-50 12 22 12 27 12-22 11-32 12 20 12 40-9-104-12 93-12 47-11-75-12-50-12 63-11 50-24-115-11 52-12 63-12-55-12-79-11 51-12 98-12-61-11-162-12 24-12 261z"/>
<path transform="matrix(0.25 -0.067848 0 0.25 196.31 310.26)" d="M0-398l12 44 23-117 12 62 11 72 12-69 12-109 11 78 12 214 4 46 3 14 4-15 3-44 17-391 4-45 3-16 4 16 3 43 14 284 11 81 12-133 12-92 23 141 12-53 11-69 12 38 12 63 11-32 12-67 12 25 12 69-4-25-12-33-11-11-12 31-12 15-11-30-12-18-12 33-12 25-23-67-12 44-11 62-12-38-14-133-3-21-3-7-4 7-3 22-17 184-4 20-3 7-4-7-3-21-12-101-12-36-11 51-12 32-12-34-11-29-24 55-12-21zM362-353l12-9 12-122 11-11-3 46-12 5-12 58-11 4zM428-222l4-96 12-284 4-56 4-16 3 16 3 43 9 190 12 176 12-71 11-139 12 14 12 97 12-6 11-85 12-6 12 73 11 9 12-71 12-17 11 69 12 22 12-74 11-33 12 80 12 49 11-97 12-83-3 58-12 39-12 46-11-23-12-38-12 16-12 35-11-11-12-32-12 8-11 33-12-4-12-34-11 2-12 40-12 3-11-46-12-6-12 65-11 34-12-83-9-89-4-21-3-7-3 7-4 27-12 133-5 46zM733-178l3-44 17-391 3-45 4-16 3 16-3 132-4-7-3 7-4 22-16 184-4 20zM795-268l11-148 12-55 12 89 11 47 12-73 12-50 11 57 12 49 23-106 12 46 12 58-4-29-11-27-12-21-23 49-12-23-12-26-11 23-12 34-12-22-12-42-11 26-12 70z"/>
<path transform="matrix(0.25 -0.067848 0 0.25 196.97 310.56)" d="M0-397l12 54 23-144 12 77 11 89 12-85 12-135 11 96 12 265 4 57 3 18 4-19 3-54 17-485 4-56 3-20 4 19 3 54 14 352 11 101 12-165 12-114 23 175 12-66 11-86 12 47 12 79 11-40 12-83 12 31 12 85 11-27 12-97 12 19 11 114 12-11 12-152 11-14 17 346-3-47-16-278-12 11-12 122-11 9-12-92-12-15-11 78-12 22-12-68-11-25-12 66-12 32-12-63-11-38-12 69-12 54-23-142-12 92-11 133-12-81-14-284-3-43-3-16-4 16-3 45-17 392-4 43-3 15-4-14-3-46-12-214-12-77-12 108-11 69-12-72-12-62-23 117-12-44zM428-178l4-119 12-353 4-69 4-20 3 19 3 54 9 236 12 218 12-88 11-172 12 17 12 120 12-7 11-106 12-7 12 91 11 11 12-88 12-21 11 85 12 28 12-92 11-41 12 99 12 60 11-120 12-103 12 157 9 217-2-47-10-175-11-126-12 83-12 97-12-48-11-81-12 33-12 74-11-22-12-69-12 17-11 72-12-10-12-73-11 6-12 85-12 6-11-97-12-14-12 139-12 71-11-176-9-190-4-43-3-16-4 16-4 56-11 284-5 97zM733-124l3-54 17-485 3-56 4-20 3 19 4 54-3 49-3-43-4-16-3 16-4 45-17 392-3 43zM795-236l11-183 12-68 12 110 11 58 12-90 12-62 11 71 12 60 23-131 12 57 12 71 12-56 11-85 12 53 12 105-3-17-12-84-11-44-12 69-12 46-11-58-12-46-24 106-11-49-12-56-12 50-11 72-12-47-12-89-11 55-12 148z"/>
<path transform="matrix(0.25 -0.067848 0 0.25 197.66 310.88)" d="M0-397l12 58 23-153 12 81 11 96 12-92 12-143 11 102 12 283 4 60 3 19 4-20 3-57 17-517 4-60 3-21 4 20 3 58 14 375 11 107 12-175 12-122 23 187 12-71 11-91 12 50 12 84 11-43 12-88 12 33 12 91 11-29 12-104 12 21 11 121 12-11 12-162 11-15 17 368 3 52 4 19 3-20 4-57 4-127 12-376 4-74 4-21 3 20 3 58 9 251 12 233 12-94 11-184 12 18 12 128 12-7 11-113 12-7 12 96 11 13 12-95 12-22 11 91 12 29 12-97 11-45 12 107 12 63 11-128 12-109 12 166 9 232 4 52 3 19 4-20 3-57 17-517 3-60 4-21 3 20 4 58 16 429 12 29 11-195 12-73 12 118 11 62 12-96 12-66 11 75 12 64 23-139 12 61 12 75 12-60 11-91 12 57 12 112-3-7-12-105-12-53-11 85-12 56-12-71-11-57-24 131-11-60-12-71-12 62-11 90-12-58-12-110-11 68-12 183-12-27-16-403-3-54-4-19-3 20-4 56-17 485-3 54-4 18-3-17-3-49-10-217-12-157-11 103-12 120-12-60-11-99-12 41-12 92-11-28-12-85-12 21-11 88-12-11-12-91-12 7-11 106-12 7-12-120-11-18-12 173-12 88-11-218-9-236-4-54-3-19-4 20-4 69-11 353-5 119-3 54-4 18-3-17-4-49-16-346-12 14-12 152-12 11-11-114-12-19-12 97-11 27-12-85-12-31-11 83-12 40-12-79-11-47-12 86-12 66-23-175-12 114-11 164-12-100-14-352-3-54-4-19-3 20-3 56-17 485-4 54-3 18-4-17-4-57-11-265-12-96-12 135-11 85-12-89-12-77-23 144-12-54z"/>
<path transform="matrix(0.25 -0.067848 0 0.25 198.28 311.17)" d="M0-397l12 55 23-145 12 77 11 90 12-86 12-136 11 97 12 266 4 57 3 17 4-18 3-54 17-487 4-56 3-20 4 19 3 54 14 354 11 100 12-165 12-114 23 175 12-66 11-86 12 47 12 79 11-40 12-83 12 31 12 86 11-28 12-97 12 19 11 114 12-11 12-152 11-14 17 347 3 49 4 17 3-18 4-54 4-120 12-354 4-69 4-20 3 19 3 54 9 237 12 219 12-89 11-173 12 18 12 120 12-7 11-106 12-7 12 91 11 11 12-88 12-21 11 86 12 27 12-92 11-42 12 100 12 60 11-120 12-103 12 157 9 218 4 49 3 17 4-18 3-54 17-487 3-56 4-20 3 19 4 54 16 404 12 28 11-184 12-69 12 111 11 58 12-90 12-62 11 71 12 60 23-131 12 57 12 71 12-56 11-86 12 54 12 105-3 3-12-112-11-57-12 91-12 60-11-75-12-61-23 139-12-64-12-75-11 66-12 96-12-62-11-118-12 73-12 196-12-30-16-429-3-57-4-20-3 20-3 60-17 517-4 58-3 19-4-19-3-52-10-231-11-167-12 110-12 128-11-64-12-106-12 44-11 98-12-30-12-91-12 23-11 94-12-13-12-96-11 8-12 112-12 7-11-127-12-19-12 184-11 94-12-233-9-251-4-57-3-21-3 21-4 74-12 376-5 127-3 58-4 19-3-19-4-52-16-368-12 15-12 162-11 12-12-122-12-21-11 104-12 29-12-91-11-33-12 88-12 43-11-84-12-50-12 91-11 71-24-187-12 122-11 175-12-107-13-375-4-57-3-21-4 21-3 60-17 517-4 58-3 19-3-19-4-60-12-283-12-102-11 144-12 91-12-96-11-81-24 154-11-59z"/>
<path transform="matrix(0.25 -0.067848 0 0.25 198.94 311.47)" d="M0-398l12 45 23-119 12 63 11 74 12-71 12-111 11 79 12 220 4 47 3 14 4-15 3-45 17-401 4-47 3-16 4 16 3 44 14 292 11 83 12-136 12-95 23 145 12-55 11-71 12 39 12 66 11-34 12-68 12 26 12 70 11-22 12-81 12 16 11 95 12-10 12-125 11-12 17 286 3 41 4 14 3-15 4-45 4-99 12-291 4-58 4-16 3 16 3 44 9 196 12 180 12-73 11-143 12 15 12 99 12-6 11-87 12-6 12 75 11 10 12-74 12-17 11 71 12 23 12-76 11-35 12 83 12 49 11-99 12-85 12 129 9 180 4 41 3 14 4-15 3-45 17-401 3-47 4-16 3 16 4 44 16 334 12 23 11-152 12-57 12 92 11 48 12-75 12-51 11 58 12 50 23-108 12 47 12 59 12-47 11-70 12 44 12 87-3 11-12-105-11-54-12 86-12 56-11-71-12-57-24 131-11-60-12-71-12 62-11 91-12-58-12-111-11 68-12 184-12-27-16-405-3-54-4-18-3 19-4 56-17 487-3 54-3 18-4-17-3-49-10-218-11-157-12 103-12 120-12-59-11-101-12 42-12 92-11-27-12-86-12 21-11 88-12-11-12-91-11 7-12 106-12 7-11-120-12-18-12 173-12 89-11-219-9-237-4-54-3-19-4 20-4 69-11 354-5 120-3 54-4 18-3-17-4-49-16-347-12 14-12 152-11 12-12-115-12-19-11 97-12 28-12-86-11-31-12 83-12 40-12-79-11-47-12 86-12 66-23-175-12 114-11 165-12-100-14-354-3-54-3-19-4 20-3 56-17 487-4 54-3 18-4-17-3-57-12-266-12-97-12 136-11 86-12-90-12-77-23 145-12-55z"/>
<path transform="matrix(0.25 -0.067848 0 0.25 199.89 311.91)" d="M0-401l12 25 23-64 12 34 11 39 12-38 12-59 11 42 12 117 4 25 3 8 4-8 3-24 17-214 4-25 3-8 4 8 3 24 14 155 11 45 12-73 12-50 23 77 12-29 11-38 12 21 12 34 11-17 12-37 12 14 12 37 11-12 12-43 12 9 11 50 12-5 12-66 11-7 17 153-4 86-16-286-12 12-12 126-12 9-11-95-12-16-12 81-11 22-12-70-12-26-11 69-12 33-12-66-11-38-12 71-12 55-23-146-12 95-12 136-11-83-14-291-3-45-4-16-3 16-4 47-16 401-4 45-3 15-4-14-4-47-11-220-12-79-12 111-11 71-12-74-12-63-23 119-12-45zM428-304l4-52 12-156 4-31 4-8 3 8 3 24 9 104 12 96 12-39 11-76 12 8 12 53 12-3 11-47 12-3 12 40 11 5 12-39 12-9 11 38 12 12 12-41 11-18 12 44 12 26 11-53 12-45 12 69 9 96 4 21 3 8 4-8 3-24 17-214 3-25 4-8 3 8 4 24 16 178 12 12 11-81 12-30 12 49 11 25 12-40 12-27 11 31 12 27 23-58 12 25 12 31 12-24 11-38 12 24 12 46-4 27-12-87-12-44-11 70-12 47-12-59-11-47-24 108-11-49-12-59-12 52-11 74-12-48-12-92-11 57-12 152-12-23-16-333-3-45-4-16-3 16-4 47-17 401-3 45-4 15-3-14-3-41-10-180-12-129-11 85-12 100-12-50-11-83-12 35-12 76-11-23-12-71-12 18-12 73-11-10-12-75-12 6-11 87-12 6-12-99-11-14-12 142-12 73-11-180-9-195-4-45-3-16-4 16-4 58-11 292-5 98z"/>
<path transform="matrix(0.25 -0.067848 0 0.25 202.13 312.95)" d="M0-406l12-22 23 59 12-31 11-37 12 35 12 55 11-39 12-109 4-23 3-7 4 7 3 23 17 198 4 23 3 8 4-8 3-22 14-144 11-41 12 67 12 47 23-72 12 28 11 35 12-20 12-32 11 17 12 33 12-12 11-35 12 11 12 40 12-8 11-47 12 5 12 62 11 6 17-142 3-20 4-7 3 7 4 23 4 48 12 145 4 28 4 8 3-8 3-22 9-96 12-90 12 37 11 70 12-7 12-49 12 3 11 43 12 3 12-37 11-5 12 36 12 9 11-35 12-11 12 37 11 17 12-41 12-24 11 49 12 42 12-64 9-89 4-20 3-7 4 7 3 23 17 198 3 23 4 8 3-8 4-22 16-165 12-11 11 75 12 28 12-45 11-24 12 37 12 25 11-29 12-24 23 53 12-23 12-29 12 23 11 35 12-22 12-43-9 59-12-46-12-24-11 38-12 25-12-31-11-26-24 58-12-26-11-31-12 27-12 39-11-25-12-49-12 30-11 81-12-12-16-178-4-23-3-9-3 9-4 25-17 214-3 23-4 9-3-8-4-22-9-96-12-69-11 46-12 53-12-27-12-44-11 19-12 40-12-12-11-38-12 9-12 39-11-5-12-40-12 4-11 46-12 3-12-53-11-7-12 76-12 39-12-97-9-104-3-23-3-9-4 9-4 30-12 156-4 53-4 23-3 9-4-8-3-22-17-152-11 6-12 67-12 5-11-51-12-8-12 43-11 12-12-38-12-13-11 36-12 18-12-35-12-21-11 38-12 29-23-77-12 50-12 73-11-44-14-156-3-23-4-9-3 9-4 25-17 214-3 23-3 9-4-8-4-25-11-117-12-43-12 60-12 38-11-40-12-34-23 64-12-24z"/>
<path transform="matrix(0.25 -0.067848 0 0.25 204.36 313.98)" d="M0-405l12-20 23 52 12-28 11-32 12 31 12 48 11-34 12-95 4-21 3-6 4 6 3 20 17 174 4 20 3 7 4-6 3-20 14-126 11-36 12 59 12 41 23-63 12 24 11 30 12-16 12-29 11 15 12 29 12-11 12-30 11 9 12 35 12-7 11-41 12 4 12 55 11 5 17-124 3-18 4-6 3 6 4 20 4 43 12 126 4 25-9 10-4-29-12-144-4-49-4-22-3-8-4 8-3 20-17 141-11-6-12-62-12-4-11 46-12 8-12-40-11-11-12 35-12 13-11-34-12-16-12 32-12 19-11-35-12-27-23 72-12-47-12-67-11 41-14 144-3 22-4 8-3-8-4-23-17-199-3-22-3-8-4 8-4 23-11 108-12 40-12-55-12-36-11 37-12 31-23-59-12 23zM458-309l9-85 12-78 12 32 11 62 12-7 12-43 12 3 11 38 12 2 12-32 11-4 12 31 12 8 11-31 12-10 12 33 11 15 12-36 12-21 11 43 12 37 12-56 9-78 4-18 3-6 4 6 3 20 17 174-9 7-17-199-3-22-4-8-3 8-4 20-9 89-12 64-11-42-12-50-12 25-12 41-11-17-12-38-12 11-11 35-12-8-12-36-11 4-12 37-12-3-11-43-12-3-12 50-11 7-12-71-12-36-12 89-9 97zM767-309l16-145 12-9 11 65 12 25 12-40 11-21 12 33 12 22 11-25 12-22 23 47 12-20 12-26 12 20 11 31 12-19 12-38-9-10-12 43-12 21-11-34-12-23-12 29-11 23-24-54-12 25-11 29-12-26-12-36-11 23-12 46-12-28-11-75-12 11-16 165z"/>
<path transform="matrix(0.25 -0.067848 0 0.25 206.60 315.01)" d="M0-402l12 10 23-27 12 15 11 16 12-16 12-25 11 18 12 49 4 10 3 4 4-4 3-10 17-89 4-10 3-4 4 4 3 10 14 64 11 19 12-31 12-21 23 33 12-12 11-16 12 8 12 15 11-8 12-15 12 6 11 16 12-5 12-18 12 3 11 21 12-2 12-28 11-2 17 63 3 9 4 4 3-4 4-10 4-22 12-65 4-12 4-4 3 4 3 10 9 43 12 40 12-16 11-32 12 3 12 22 12-1 11-19 12-2 12 17 11 2 12-16 12-4 11 16 12 5 12-17 11-8 12 19 12 11 11-22 12-19 12 28 9 40 4 9 3 4 4-4 3-10 17-89 3-10 4-4 3 4 4 10 16 74 12 5 11-34 12-13 12 21 11 10 12-16 12-12 11 13 12 11 23-24 12 11 12 13 12-10 11-16 12 10 12 19-9-49-12 38-12 19-11-30-12-20-12 25-11 21-24-47-12 21-11 25-12-22-12-32-11 21-12 39-12-24-11-66-12 10-16 145-4 19-3 7-3-7-4-20-17-175-3-19-4-7-3 7-4 17-9 78-12 56-11-36-12-44-12 22-12 36-11-15-12-33-12 10-11 30-12-7-12-32-11 4-12 33-12-3-11-38-12-2-12 43-11 6-12-62-12-32-12 79-9 85-3 19-3 7-4-7-4-25-12-127-4-43-4-19-3-7-4 7-3 17-17 124-11-5-12-54-12-4-11 41-12 7-12-35-11-10-12 31-12 11-11-30-12-14-12 28-12 17-11-31-12-24-23 63-12-41-12-59-11 36-14 127-3 19-4 7-3-7-4-20-17-175-3-19-3-7-4 7-4 20-11 95-12 35-12-49-12-30-11 32-12 27-23-52-12 20z"/>
<path transform="matrix(0.25 -0.067848 0 0.25 208.83 316.05)" d="M0-402l12 12 23-32 12 17 11 20 12-19 12-30 11 21 12 60 4 12-9-17-4-11-11-49-12-17-12 25-12 15-11-16-12-14-23 26-12-10zM119-353l17-108 4-13 3-4 4 4 3 12 14 79 11 22 12-37 12-25 23 39 12-15 11-19 12 11 12 17 11-9 12-18 12 7 12 19 11-6 12-22 12 4 11 26 12-3 12-34 11-3 17 78-9-16-17-64-11 3-12 28-12 2-11-21-12-4-12 18-11 5-12-16-12-5-11 15-12 7-12-14-12-9-11 16-12 12-23-32-12 21-12 30-11-18-14-65-3-10-4-3-3 3-4 10-17 90zM428-353l4-27 12-78 4-16 4-4 3 4 3 12 9 53 12 49 12-20 11-39 12 4 12 27 12-2 11-23 12-2 12 20 11 3 12-20 12-4 11 19 12 6 12-21 11-9 12 22 12 14 11-27 12-23 12 35 9 49 4 10-9-17-4-9-9-40-12-29-11 19-12 22-12-11-12-18-11 7-12 17-12-5-11-16-12 4-12 17-11-3-12-16-12 1-11 19-12 2-12-22-11-4-12 32-12 16-12-40-9-43-3-10-3-3-4 3-4 13-12 65-4 22zM736-353l17-108 3-13 4-4 3 4 4 12 16 90 12 6 11-41 12-15 12 25 11 13 12-20 12-14 11 16 12 13 23-29 12 12 12 16 12-12 11-19 12 12 12 23-9-10-12-19-12-10-11 16-12 10-12-13-11-10-24 24-12-11-11-13-12 11-12 17-11-11-12-20-12 12-11 34-12-5-16-74-4-10-3-3-3 3-4 10-17 90z"/>
<path transform="matrix(0.25 -0.067848 0 0.25 211.06 317.08)" d="M0-404l12-10 23 26 12-14 11-16 12 15 12 25 12-17 11-50 4-10 3-3 4 3 3 10 17 90 4 10 3 4 4-3 3-10 14-66 11-18 12 30 12 21 23-32 12 12 11 16 12-9 12-14 11 7 12 15 12-5 12-16 11 5 12 18 12-4 11-21 12 2 12 28 11 3 17-64 3-9 4-3 3 3 4 10 4 22 12 66 4 12 4 4 3-3 3-10 9-44 12-41 12 17 12 32 11-4 12-22 12 2 11 19 12 1 12-16 11-3 12 17 12 4 11-16 12-5 12 17 11 8 12-19 12-11 11 22 12 19 12-29 9-40 4-9 3-3 4 3 3 10 17 90 3 10 4 4 3-3 4-10 16-75 12-5 11 34 12 12 12-20 11-11 12 17 12 11 11-13 12-11 24 24 11-10 12-13 12 10 11 16 12-10 12-20-9 26-12-24-12-12-11 19-12 13-12-16-11-13-24 29-11-13-12-16-12 14-12 20-11-13-12-25-12 16-11 41-12-6-16-91-4-12-3-4-3 5-4 12-17 109-3 12-4 4-3-4-4-11-9-49-12-35-11 23-12 27-12-13-12-22-11 9-12 20-12-6-11-19-12 5-12 20-11-3-12-20-12 1-11 24-12 1-12-26-11-4-12 38-12 20-11-49-10-53-3-12-3-4-4 5-4 15-12 79-4 27-4 12-3 4-4-4-3-11-17-77-11 3-12 34-12 2-11-25-12-5-12 22-11 6-12-19-12-7-11 19-12 9-12-18-12-10-11 19-12 15-23-40-12 26-12 37-11-23-14-79-3-12-4-4-3 5-4 12-17 109-3 12-3 4-4-4-4-13-11-59-12-22-12 31-11 19-12-20-12-17-23 32-12-12z"/>
<path transform="matrix(0.25 -0.067848 0 0.25 213.30 318.12)" d="M0-405l12-14 23 37 12-19 11-23 12 22 12 34 11-25 12-67 4-14 3-5 4 5 3 14 17 123-9-25-17-90-3-10-3-3-4 3-4 11-11 49-12 18-12-25-12-16-11 17-12 14-23-27-12 10zM150-336l14-90 11-25 12 41 12 29 23-44 12 17 11 21 12-11 12-21 11 11 12 21 12-8 12-22 11 7 12 25 12-5 11-29 12 3 12 38 11 4 17-88 3-12 4-5 3 5 4 14 4 30 12 89 4 18-9-28-4-13-12-65-4-23-4-10-3-3-4 3-3 9-17 64-11-2-12-28-12-2-11 21-12 3-12-18-11-5-12 16-12 6-11-15-12-8-12 15-12 8-11-16-12-12-23 33-12-21-12-31-11 19-14 65zM458-336l9-60 12-56 12 23 11 43 12-4 12-30 12 1 11 27 12 2 12-23 11-3 12 22 12 6 11-22 12-7 12 23 11 11 12-25 12-16 11 31 12 26 12-40 9-55 4-12 3-5 4 5 3 14 17 123-9-25-17-90-3-10-4-3-3 3-4 9-9 41-12 29-11-19-12-23-12 11-12 19-11-8-12-17-12 5-11 16-12-4-12-16-11 2-12 17-12-2-11-19-12-1-12 22-11 3-12-32-12-16-12 40-9 44zM771-364l12-75 12-7 11 47 12 17 12-28 11-15 12 23 12 16 11-18 12-15 23 33 12-15 12-18 12 15 11 21 12-13 12-27-9-1-12 19-12 10-11-16-12-10-12 13-11 11-24-24-12 11-11 13-12-12-12-16-11 10-12 21-12-13-11-34-12 5-12 55z"/>
<path transform="matrix(0.25 -0.067848 0 0.25 215.53 319.15)" d="M0-403l12 6 23-14 12 7 11 9 12-8 12-13 11 9 12 25 4 5 3 2 4-2 3-5 17-46 4-5-9 104-4-15-17-123-3-14-3-4-4 4-4 15-11 67-12 24-12-34-11-22-12 23-12 19-23-36-12 14zM150-428l14 33 11 10 12-16 12-11 23 17 12-6 11-8 12 4 12 7 11-3 12-8 12 3 12 8 11-3 12-9 12 2 11 11 12-1 12-15 11-1 17 33 3 4 4 2 3-2 4-5 16-44 4-7-9 104-4-18-12-90-4-30-4-14-3-4-4 4-3 12-17 88-11-3-12-39-12-3-11 29-12 5-12-24-11-7-12 21-12 8-11-21-12-10-12 20-12 12-11-22-12-17-23 45-12-29-12-42-11 25-14 90zM458-428l9 22 12 21 12-8 11-17 12 2 12 11 12 0 11-10 12-1 12 8 11 2 12-9 12-2 11 8 12 3 12-9 11-4 12 10 12 5 11-11 12-10 12 15 9 21 4 4 3 2 4-2 3-5 17-46-9 84-17-123-3-14-4-4-3 4-4 12-9 56-12 39-11-26-12-30-12 15-12 25-11-10-12-23-12 6-11 22-12-5-12-23-11 3-12 23-12-1-11-27-12-2-12 30-11 5-12-44-12-22-11 55-10 60zM767-428l16 38 12 3 11-18 12-6 12 10 11 6 12-9 12-6 11 7 12 6 23-13 12 6 12 7 12-6 11-8 12 5 12 10-9-33-12 26-12 14-11-22-12-14-12 18-11 14-24-33-11 15-12 18-12-15-12-23-11 14-12 29-12-18-11-46-12 7-16 102z"/>
<path transform="matrix(0.25 -0.067848 0 0.25 217.77 320.18)" d="M0-402l12 10 23-27 12 14 11 18 12-17 12-26 11 19 12 51 4 11-9-34-4-6-11-25-12-9-12 13-12 8-11-8-12-8-23 14-12-5zM119-360l17-93 4-11 3-4 4 4 3 10 14 68 11 19 12-31 12-22 23 33 12-12 11-17 12 9 12 15 11-7 12-16 12 6 12 16 11-5 12-19 12 4 11 22 12-2 12-29 11-3 17 66 3 10 4 3 3-4 4-10 4-23 12-68 4-13 4-4 3 4 3 10 9 46 12 42-9-26-12-20-9-23-3-5-3-1-4 1-4 7-16 44-4 6-3 1-4-1-3-5-17-33-11 2-12 14-12 1-11-11-12-1-12 9-11 2-12-8-12-3-11 8-12 4-12-8-12-4-11 8-12 6-23-16-12 11-12 15-11-9-14-34-3-5-4-1-3 1-4 6-17 45zM561-413l12 17 11 3 12-17 12-5 11 17 12 5 12-17 11-8 12 19 12 11 11-23 12-20 12 30 9 42 4 10-9-34-4-5-9-20-12-15-11 10-12 11-12-6-12-9-11 4-12 8-12-2-11-8-12 2-12 8-11-1-12-9zM736-360l17-93 3-11 4-4 3 4 4 10 16 78 12 5-9-23-12-3-16-38-4-5-3-1-3 1-4 6-17 45zM865-416l11 13 12 12 23-25 12 11 12 13 12-10 11-17 12 10 12 21-9-14-12-10-12-5-11 8-12 5-12-7-11-5-24 12-12-5-11-7z"/>
<path transform="matrix(0.25 -0.067848 0 0.25 220.00 321.22)" d="M0-404l12-6 23 16 12-8 11-10 12 9 12 15 11-10 12-30 4-7 3-2 4 2 3 6 17 55 4 6 3 3 4-3 3-6 14-39 11-12 12 19 12 13 23-20 12 8 11 9 12-5 12-9 11 5 12 9 12-4 12-9 11 3 12 11 12-2 11-13 12 1 12 17 11 2 17-39 3-6 4-2 3 2 4 6 4 14 12 40 4 7 4 3 3-3 3-6 9-26 12-25 12 10-9 25-12 17-12-42-9-45-3-11-3-3-4 4-4 13-12 68-4 22-4 11-3 3-4-3-3-9-17-67-11 3-12 29-12 2-11-22-12-3-12 18-11 6-12-17-12-6-11 16-12 8-12-15-12-9-11 16-12 13-23-34-12 22-12 32-11-20-14-67-3-11-4-3-3 4-4 10-17 93-3 11-3 3-4-3-4-11-11-51-12-18-12 26-11 16-12-17-12-15-23 28-12-11zM549-398l12 1 12-11 11-1 12 10 12 2 11-9 12-3 12 10 11 5 12-12 12-6 11 13 12 12 12-18 9-24 4-6 3-2 4 2 3 6 17 55 3 6 4 3 3-3 4-6 16-45 12-3-9 44-12-5-16-77-4-11-3-3-3 4-4 10-17 93-3 11-4 3-3-3-4-9-9-42-12-30-11 20-12 23-12-12-12-19-11 8-12 18-12-6-11-16-12 4-12 17-11-2-12-18-12 2zM853-403l12 7 23-14 23 14 12-6 12-8 12 6 11 10 12-6 12-12-9 17-12-20-12-10-11 16-12 11-12-14-11-11-24 25-11-11-12-14-12 12z"/>
<path transform="matrix(0.25 -0.067848 0 0.25 222.24 322.25)" d="M0-405l12-12 23 32 12-17 11-20 12 20 12 30 11-22 12-59 4-13 3-4 4 4 3 12 17 109 4 12-9-41-4-7-17-54-3-6-3-2-4 2-4 6-11 30-12 11-12-15-12-10-11 10-12 9-23-17-12 7zM150-345l14-78 11-23 12 37 12 26 23-39 12 14 11 19 12-10 12-18 11 9 12 19 12-7 12-19 11 6 12 22 12-5 11-25 12 2 12 34 11 3 17-77 3-11 4-4 3 4 4 12 4 27 12 79 4 15-9-41-4-8-12-40-4-13-4-6-3-2-4 2-3 5-17 39-11-1-12-18-12-1-11 13-12 2-12-11-11-3-12 10-12 3-11-9-12-5-12 9-12 6-11-10-12-7-23 19-12-13-12-18-11 11-14 40zM458-345l9-52 12-49 12 20 11 38-8-14-12-19-12-10-12 24-9 27zM549-393l12 1 12-20 11-2 12 19 12 5 11-19 12-6 12 20 11 9 12-22 12-13 11 27 12 23 12-35 9-49 4-11 3-4 4 4 3 12 17 109-9-36-17-54-3-6-4-2-3 2-4 5-9 25-12 17-11-11-12-14-12 7-12 11-11-5-12-10-12 3-11 10-12-2-12-10-11 1-12 10-12-1zM771-369l12-66 12-6 11 41 12 16-9-16-12-8-11-21-12 3-12 34zM853-402l12 14 11-16 12-13 23 29 12-13 12-16 12 13 11 19 12-12 12-23-9 2-12 11-12 6-11-9-12-7-12 8-11 7-24-15-23 15-12-7z"/>
<path transform="matrix(0.25 -0.067848 0 0.25 224.47 323.29)" d="M0-403l12 4 23-10 23 12 12-6 12-10 11 7 12 19 4 4 3 1 4-1 3-4 17-35 4-4-9 87-4-13-17-108-3-12-3-4-4 4-4 12-11 60-12 21-12-30-12-19-11 20-12 17-23-32-12 12zM150-422l14 25 11 7 12-11 12-9 23 13 12-5 11-6 12 3 12 6 11-3 12-6 12 3 12 6 11-2 12-7 12 1 11 8 12-1 12-10 11-1 17 24 3 4 4 1 3-1 4-4 16-34 4-5-9 87-4-16-12-78-4-27-4-12-3-4-4 4-3 11-17 77-11-3-12-34-12-3-11 26-12 4-12-22-11-6-12 19-12 7-11-18-12-9-12 17-12 11-11-19-12-15-23 39-12-25-12-37-11 22-14 79zM458-422l9 17 12 16 12-7 11-12 12 1 12 9 12-1 11-7 12-1 12 7 11 0 12-6 12-1 11 6 12 2 12-7 11-3 12 7 12 5 23-16 12 11 9 15 4 4 3 1 4-1 3-4 17-35-9 70-17-108-3-12-4-4-3 4-4 11-9 48-12 35-11-23-12-27-12 14-12 22-11-9-12-21-12 6-11 19-12-4-12-20-11 3-12 20-12-2-11-23-12-2-12 27-11 4-12-39-12-20-12 49-9 53zM767-422l16 29 12 2 11-13 12-5 12 8 11 4 12-7 12-4 23 9 23-9 12 4 12 5 12-4 11-6 12 4 12 7-9-29-12 23-12 12-11-19-12-12-12 16-11 12-24-29-12 14-11 15-12-14-12-20-11 13-12 25-12-15-11-41-12 6-16 90z"/>
<path transform="matrix(0.25 -0.067848 0 0.25 226.71 324.32)" d="M0-402l12 12 23-31 12 16 11 20 12-19 12-29 11 21 12 57 4 12-9-47-4-4-11-19-12-7-12 10-12 6-23-12-23 11-12-4zM119-355l17-104 4-12 3-5 4 4 3 12 14 76 11 22-9-34-11-7-14-26-3-3-4-2-3 2-4 4-17 34zM222-385l12-14 11-18 12 10 12 17 11-9 12-18 12 7 11 18 12-6 12-21 12 5 11 24 12-2 12-33 11-3 17 75 3 10 4 4 3-4 4-12 4-25 12-76 4-15 4-5 3 4 3 12 9 51 12 47-9-34-12-16-9-17-3-3-3-2-4 2-4 5-16 33-4 4-3 2-4-2-3-3-17-25-11 1-12 11-12 1-11-8-12-2-12 7-11 2-12-6-12-2-11 6-12 3-12-6-12-3-11 6-12 4zM526-389l12-1 11-23 12-1 12 19 11 3 12-19 12-5 11 19 12 5 12-19 11-9 12 21 12 13 11-26 12-22 12 34 9 47 4 10-9-47-4-3-9-16-12-11-23 16-12-4-12-7-11 3-12 6-12-2-11-6-12 2-12 6-11-1-12-6-12 0-11 8-12 0zM736-355l17-104 3-12 4-5 3 4 4 12 16 87-9-27-16-29-4-3-3-2-3 2-4 4-17 34zM830-397l11 12 12-19 12-14 11 15 12 13 23-28 12 13 12 15 12-12 11-19 12 12 12 22-9-17-12-8-12-4-11 7-12 4-12-6-11-4-24 10-23-10-12 5-12 6-11-4z"/>
<path transform="matrix(0.25 -0.067848 0 0.25 228.94 325.35)" d="M0-404l12-3 23 9 23-11 12 6 12 9 11-6 12-18 4-4 3-1 4 1 3 4 17 32 4 4 3 1 4-1 3-3 14-24 11-7-9 47-11-21-14-76-3-12-4-4-3 4-4 12-17 105-3 12-3 4-4-4-4-13-11-57-12-21-12 30-12 18-11-19-12-17-23 31-12-11zM222-409l12 4 11 6 12-3 12-5 11 2 12 6 12-2 12-6 11 2 12 7 12-2 11-7 12 0 12 11 11 1 17-24 3-3 4-1 3 1 4 4 4 8 12 23 4 5 4 1 3-1 3-3 9-16 12-15-9 48-12-48-9-50-3-12-3-4-4 4-4 15-12 76-4 26-4 12-3 3-4-3-3-11-17-74-11 3-12 32-12 3-11-25-12-4-12 21-11 6-12-19-12-6-11 18-12 8-12-17-12-10-11 19-12 14zM526-408l12 1 11 7 12 0 12-6 11-1 12 6 12 2 11-6 12-2 12 6 11 3 12-7 12-4 11 8 12 7 12-10 9-15 4-3 3-1 4 1 3 4 17 32 3 4 4 1 3-1 4-3 16-28 12-1 11 12 12 4 12-7 11-4 12 6 12 4 23-8 23 8 24-8 12 4 11 5 12-3 12-7-9 15-12-23-12-11-11 18-12 12-12-15-11-12-24 28-12-13-11-15-12 13-12 19-11-12-12-24-12 15-11 39-12-5-16-87-4-12-3-4-3 4-4 12-17 105-3 12-4 4-3-4-4-11-9-47-12-33-11 22-12 26-12-13-12-22-11 9-12 20-12-6-11-18-12 4-12 19-11-2-12-20-12 2-11 22-12 2z"/>
<path transform="matrix(0.25 -0.067848 0 0.25 231.18 326.39)" d="M0-405l12-12 23 33 12-18 11-21 12 21 12 31 11-22 12-63 4-13 3-4 4 4 3 13 17 114-9-50-17-33-3-4-3-1-4 1-4 4-11 18-12 7-12-10-12-5-23 11-23-10-12 4zM150-341l14-83 11-24 12 39 12 27 23-42 12 16 11 20 12-11 12-18 11 9 12 19 12-7 11-20 12 7 12 23 12-5 11-27 12 3 12 35 11 4 17-82 3-11 4-4 3 4 4 13 4 28 12 83 4 16-9-59-4-5-12-24-4-8-4-4-3-1-4 1-3 4-17 23-11-1-12-10-12-1-11 8-12 1-12-7-11-1-12 5-12 2-12-5-11-3-12 5-12 4-11-6-12-5-23 12-12-7-12-12-11 7-14 24zM502-387l12-4 12-28 12 1 11 25 12 2 12-21 11-3 12 21 12 5 11-20 12-7 12 22 11 9 12-23 12-14 11 28 12 24 12-36 9-52 4-11 3-4 4 4 3 13 17 114-9-50-17-33-3-4-4-1-3 1-4 4-9 14-12 11-12-7-11-8-12 4-12 7-11-3-12-6-12 1-11 6-12-1-12-6-11 1-12 6-12-1-11-7-12 0-12 8-11 1zM818-383l12-26 11-14 12 21 12 15 11-17 12-14 23 31 12-14 12-16 12 13 11 20 12-13 12-24-9 6-12 7-12 4-11-6-12-4-23 9-24-9-23 9-12-4-12-6-11 3-12 8z"/>
<path transform="matrix(0.25 -0.067848 0 0.25 233.41 327.42)" d="M0-403l12 4 23-10 23 12 12-6 12-10 11 7 12 19 4 4 3 1 4-1 3-4 17-35 4-4-9 91-4-14-17-114-3-13-3-4-4 4-4 14-11 62-12 23-12-32-12-20-11 21-12 18-23-34-12 13zM150-422l14 25 11 7 12-11 12-9 23 13 12-5 11-6 12 3 12 6 11-3 12-6 12 3 12 6 11-2 12-7 12 1 11 8 12 0 12-11 11-1 17 24 3 4 4 1 3-1 4-4 16-34 4-5-9 91-4-17-12-83-4-28-4-13-3-4-4 4-3 12-17 81-11-3-12-36-12-2-11 26-12 5-12-23-11-6-12 20-12 7-11-19-12-10-12 19-12 11-11-20-12-16-23 41-12-27-12-38-11 23-14 83zM502-408l12 1 12 9 12-1 11-7 12-1 12 7 11 0 12-6 12-1 11 6 12 2 12-7 11-3 12 7 12 5 23-16 12 11 9 15 4 4 3 1 4-1 3-4 17-35-9 73-17-114-3-13-4-4-3 4-4 12-9 51-12 37-11-24-12-29-12 14-12 24-11-10-12-21-12 6-11 20-12-5-12-21-11 3-12 21-12-1-11-25-12-2-12 28-11 5zM818-409l12 8 11 4 12-7 12-4 23 9 23-9 12 4 12 5 12-4 11-6 12 4 12 7-9-30-12 25-12 12-11-20-12-13-12 17-11 13-24-31-12 14-11 17-12-14-12-22-11 14-12 26z"/>
<path transform="matrix(0.25 -0.067848 0 0.25 235.64 328.46)" d="M0-401l12 17 23-45 12 24 11 27 12-26 12-42 12 30 11 82 4 17 3 6 4-6 3-17 17-150 4-17 3-6 4 6 3 17 14 108 11 31 12-50 12-36 23 54 12-20 11-27 12 15 12 24 11-12 12-26 12 10 12 26 11-8 12-30 12 6 11 35 12-3 12-47 11-5 17 107 3 15 4 6 3-6 4-17 4-36 12-110 4-21 4-6 3 6 3 17 9 73 12 67 12-27 12-54 11 6 12 37 12-2 11-33 12-2 12 28 11 3 12-27 12-6 11 26 12 9 12-29 11-13 12 31 12 19 11-38 12-31 12 48 9 67 4 15-9-73-4-3-9-16-12-11-23 16-12-4-12-7-11 3-12 6-12-2-11-6-12 1-12 7-11-1-12-7-12 1-11 8-12 0-12-9-11-1-12 13-12 6-11-16-10-17-3-4-3-1-4 1-4 5-16 34-4 4-3 2-4-2-3-3-17-25-11 1-12 11-12 1-11-9-12-1-12 7-11 2-12-6-12-2-11 6-12 3-12-6-12-4-11 7-12 4-23-12-12 8-12 12-11-7-14-26-3-4-4-1-3 1-4 5-17 34-3 4-3 2-4-2-4-4-11-19-12-7-12 10-11 6-24-12-23 11-12-4zM736-334l17-150 3-17 4-6 3 6 4 17 16 124 12 9 11-57 12-21 12 34 11 18 12-28 12-19 11 22 12 18 24-40 11 18 12 21 12-17 11-26 12 16 12 33-9-25-12-8-12-4-11 7-12 4-12-6-11-4-24 10-23-10-12 5-12 6-11-4-12-8-12 5-11 13-12-2-16-29-4-4-3-1-3 1-4 5-17 34z"/>
<path transform="matrix(0.25 -0.067848 0 0.25 237.88 329.49)" d="M0-403l12-1 23 2 23-2 24 2 11-1 19-3 7 1 17 4 7 1 7-1 14-3 11-1 24 3 23-2 23 1 24-1 23 1 24-1 23 1 35-1 12 2 11 0 20-4-9 83-3-15-17-107-11 4-12 47-12 4-11-36-12-6-12 30-11 9-12-26-12-10-11 25-12 13-12-25-12-14-11 26-12 21-23-54-12 35-12 51-11-31-14-109-3-17-4-6-3 6-4 18-17 150-3 17-3 5-4-5-4-18-11-82-12-29-12 41-12 27-11-28-12-24-23 45-12-17zM428-405l16 4 8 1 27-5 23 2 24-1 23 1 35-1 24 1 23-1 23 2 24-2 23 2 25-4-9 83-4-15-9-68-12-48-11 32-12 37-12-18-12-31-11 13-12 28-12-9-11-26-12 7-12 27-11-4-12-28-12 2-11 33-12 2-12-37-11-5-12 53-12 27-12-67-9-73-3-17-3-6-4 6-4 22-12 109-4 37zM736-405l17 4 7 1 7-1 16-3 12-1 11 2 12 1 23-2 24 1 23-1 23 1 24-1 23 2 24-2-9 18-12-32-12-17-11 27-12 17-12-22-11-18-24 41-12-19-11-22-12 20-12 27-11-18-12-34-12 21-11 57-12-8-16-125-4-17-3-5-3 5-4 18-17 150z"/>
<path transform="matrix(0.25 -0.067848 0 0.25 240.11 330.52)" d="M0-405l12-17 23 45 12-24 11-28 12 27 12 43 11-31 12-84 4-18 3-6 4 6 3 17 17 155 4 18 3 6 4-6 3-17 14-113 11-32 12 53 12 36 23-56 12 21 11 28 12-15 12-25 11 12 12 27 12-10 12-27 11 8 12 31 12-6 11-36 12 3 12 49 11 4 17-110 3-15 4-6 3 6 4 17 4 38 12 112 4 23 4 6 3-6 3-17 9-76 12-69 12 28 11 55 12-6 12-38 12 2 11 34 12 2 12-29 11-3 12 28 12 7 11-28 12-8 12 29 11 13 12-32 12-19 11 38 12 33 12-50 9-69 4-15 3-6 4 6 3 17 17 155 3 18 4 6 3-6 4-17 16-129 12-9 11 59 12 22 12-36 11-18 12 29 12 19 11-22 12-19 23 41 12-18 12-22 12 18 11 27 12-17 12-34-9 18-24 1-23-1-23 1-24-1-23 1-24-2-23 2-12-1-11-1-12 0-16 4-7 0-7 0-17-5-7 0-28 4-23-2-24 1-23-1-23 1-24-1-35 1-23-1-23 1-24-2-27 4-8-1-16-4-7 0-24 3-11 0-12-1-35 1-23-1-24 1-23-1-24 1-23-2-23 2-24-2-11 0-14 4-7 0-7 0-17-5-6 0-19 3-12 0-23-1-24 1-23-1-12 0z"/>
<path transform="matrix(0.25 -0.067848 0 0.25 242.35 331.56)" d="M0-403l12 5 23-13 12 7 11 8 12-7 12-13 11 9 12 24 4 5 3 2 4-2 3-5 17-44 4-5 3-2 4 2 3 5 14 32 11 9 12-15 12-10 23 16 12-6 11-8 12 4 12 7 11-3 12-8 12 3 12 8 11-3 12-9 12 2 11 10 12-1 12-13 11-2 17 32 3 4 4 2 3-2 4-5 16-43 4-6-9 123-4-22-12-113-4-38-4-17-3-6-4 6-3 16-17 110-11-5-12-48-12-4-11 37-12 6-12-31-11-9-12 27-12 10-11-26-12-13-12 25-12 15-11-27-12-21-23 56-12-37-12-52-11 32-14 112-3 17-4 6-3-6-4-18-17-155-3-17-3-6-4 6-4 18-11 85-12 30-12-43-12-27-11 28-12 25-23-46-12 17zM467-406l12 20 12-8 11-15 12 1 12 11 12-1 11-9 12-1 12 8 11 1 12-8 12-2 11 8 12 3 12-9 11-3 12 9 12 5 11-11 12-9 12 14 9 20 4 4 3 2 4-2 3-5 17-44 3-5-8 123-4-18-17-155-3-17-4-6-3 6-4 16-9 69-12 50-11-33-12-38-12 19-12 31-11-13-12-29-12 9-11 27-12-7-12-28-11 4-12 29-12-3-11-33-12-2-12 38-11 5-12-55-12-28-12 70zM771-417l12 27 12 2 11-17 12-6 12 10 11 5 12-8 12-5 23 12 23-12 12 5 12 6 12-5 11-8 12 5 12 10-9-38-12 33-12 17-11-27-12-18-12 23-11 18-24-42-12 19-11 23-12-20-12-29-11 19-12 35-12-22-11-58-12 9-12 93z"/>
<path transform="matrix(0.25 -0.067848 0 0.25 244.58 332.59)" d="M0-399l12 37 23-98 12 52 11 61 12-58 12-92 11 65 12 180 4 39 3 12 4-12 3-37 17-330 4-38 3-13 4 13 3 36 14 240 11 68-9-119-11-9-14-32-3-4-4-2-3 2-4 5-17 44-3 5-3 1-4-1-4-6-11-24-12-8-12 12-12 8-11-8-12-7-23 13-12-5zM210-405l12 60 12-45 11-58 12 32 12 54 11-28 12-56 12 21 12 58 11-18 12-66 12 13 11 77 12-7 12-103 11-10 17 235 3 33 4 12 3-12 4-37 4-81 12-240 4-47 4-13 3 13 3 36 9 161 12 148-9-119-12-20-9-22-3-4-3-2-4 2-4 6-16 43-4 5-3 1-4-1-3-5-17-31-11 1-12 14-12 1-11-10-12-2-12 9-11 2-12-8-12-2-11 7-12 4-12-7-12-5-11 8-12 6-12-8zM526-357l12-5 11-71 12-5 12 61 11 8 12-60 12-14 11 58 12 19 12-63 11-28 12 68 12 40 11-81 12-70 12 106 9 148 4 33 3 12 4-12 3-37 17-330 3-38 4-13 3 13 4 36 16 274 12 19-9-106-12-2-16-37-4-4-3-2-3 2-4 5-17 44-3 5-4 1-3-1-4-5-9-20-12-14-11 10-12 11-12-6-12-9-11 4-12 8-12-2-11-8-12 2-12 8-11-1-12-8-12 0-11 10-12 0zM830-385l11 39 12-61 12-42 11 48 12 41 23-89 12 39 12 48 12-38 11-58 12 36 12 71-9-52-12-9-12-5-11 8-12 5-12-7-11-5-24 12-23-12-12 6-12 8-11-5z"/>
<path transform="matrix(0.25 -0.067848 0 0.25 246.82 333.62)" d="M0-401l12 17 23-46 12 25 11 28 12-27 12-43 11 30 12 85 4 19 3 5 4-6 3-17 17-155 4-19 3-6 4 6 3 18 14 113 11 32-9 61-11-68-14-239-3-37-4-13-3 14-4 38-17 329-3 37-3 12-4-12-4-38-11-180-12-65-12 91-12 58-11-61-12-52-23 98-12-37zM234-397l11-27 12 15 12 25 11-13 12-26 12 10 12 27 11-9 12-31 12 6 11 37 12-4 12-48 11-5 17 111 3 16 4 5 3-6 4-17 4-38 12-113 4-23 4-6 3 6 3 18 9 75 12 70 12-28 11-55 12 5 12 39 12-3 11-33 12-3 12 29 11 4 12-28 12-7 11 27 12 9 12-29 11-14 12 32 12 20 11-39 12-33 12 50 9 70 4 16 3 5 4-6 3-17 17-155 3-19 4-6 3 6 4 18 16 129 12 9 11-59 12-22 12 35 11 19 12-29 12-20 11 23 12 19 23-42 12 18 12 23 12-18 11-27 12 17 12 34-9 21-12-72-12-36-11 58-12 38-12-48-11-39-24 89-12-41-11-47-12 42-12 61-11-40-12-75-12 47-11 124-12-18-16-274-4-37-3-13-3 14-4 38-17 329-3 37-4 12-3-11-4-34-9-147-12-106-11 69-12 82-12-41-12-68-11 29-12 62-12-19-11-58-12 14-12 61-11-8-12-62-12 5-11 72-12 4-12-81-11-12-12 117-12 60-12-148-9-160-3-37-3-13-4 14-4 47-12 239-4 81-4 37-3 12-4-11-3-34-17-234-11 9-12 103-12 8-11-78-12-13-12 66-11 19-12-58-12-21-11 56-12 27-12-54-12-31-11 58z"/>
<path transform="matrix(0.25 -0.067848 0 0.25 249.41 334.83)" d="M0-409l12-51 23 135 12-71 11-85 12 81 12 127 12-91 11-249 4-54 3-16 4 17 3 51 17 456 4 53 3 18 4-17 3-51 14-331 11-95 12 155 12 107 23-164 12 62 11 81 12-44 12-75 11 38 12 77 12-29 12-80 11 26 12 92 12-18 11-108 12 10 12 143 11 13 17-325 3-46 4-16 3 17 4 51 4 112 12 332 4 65 4 18 3-17 3-51 9-222 12-205 12 83 12 162 11-16 12-113 12 7 11 99 12 7 12-86 11-11 12 83 12 20 11-80 12-26 12 86 11 39 12-94 12-56 11 113 12 97 12-147 9-205 4-46 3-16 4 17 3 51 17 456 3 53 4 18 3-17 4-51 16-379 12-26 11 173 12 64 12-104 11-55 12 85 12 58 11-66 12-57 24 123 11-53 12-67 12 53 11 80 12-50 12-99-11 90-11-34-12-17-12 27-12 19-11-23-12-18-23 41-12-19-12-22-11 19-12 29-12-18-11-36-12 22-12 59-11-9-17-129-3-17-4-6-3 6-3 18-17 155-4 18-3 6-4-6-3-16-10-69-11-50-12 32-12 39-11-19-12-32-12 13-11 30-12-9-12-28-11 7-12 28-12-3-11-29-12 2-12 34-12 2-11-38-12-6-12 55-11 29-12-70-9-76-3-17-4-6-3 6-4 22-12 113-5 38-3 18-4 6-3-6-3-16-17-110-12 4-11 49-12 3-12-36-11-7-12 32-12 8-12-27-11-10-12 27-12 12-11-25-12-15-12 28-11 21-24-56-11 36-12 53-12-32-13-113-4-17-3-6-4 6-3 18-17 155-3 18-4 6-3-6-4-18-12-85-12-31-11 43-12 28-12-29-11-25-24 47-11-18z"/>
<path transform="matrix(0.25 -0.067848 0 0.25 250.07 335.13)" d="M0-410l12-62 23 164 12-87 11-102 12 97 12 153 11-108 12-301 4-65 3-20 4 21 3 62 17 549 4 64 3 22 4-21 3-61-3-53-3 51-3 18-4-19-3-53-17-456-4-51-3-17-4 16-3 54-12 250-12 90-12-127-11-81-12 85-12 72-23-136-12 51zM199-302l23-199 12 75 11 97 12-53 12-89 11 45 12 94 12-36 12-96 11 31 12 110 12-21 11-130 12 13 12 172 11 15 17-391 3-56 4-20 3 21 4 62 4 135 12 399 4 79 4 22 3-21 3-61-2-53-4 51-3 18-4-19-4-65-11-332-5-112-3-51-4-17-3 16-4 46-16 325-12-13-12-142-11-11-12 108-12 18-11-92-12-26-12 80-11 30-12-78-12-38-12 75-11 44-12-81-12-62-23 165zM502-325l12-19 12-136 12 8 11 119 12 8 12-102 11-13 12 100 12 24 11-97 12-31 12 104 11 47 12-114 12-67 11 136 12 116 12-177 9-246 4-56 3-20 4 21 3 62 17 549 3 64 4 22 3-22 4-60-3-53-3 51-4 17-3-18-4-53-17-456-3-51-3-17-4 16-3 46-10 205-11 147-12-97-12-113-12 56-11 94-12-39-12-86-11 26-12 80-12-19-11-84-12 11-12 86-11-7-12-99-12-7-11 113-12 16zM818-308l12-125 11-66 12 102 12 70 11-80 12-68 23 148 12-64 12-81 12 64 11 97 12-61 12-119-3 13-12 99-11 50-12-80-12-53-11 67-12 53-24-122-11 56-12 66-12-58-11-85-12 55-12 104z"/>
<path transform="matrix(0.25 -0.067848 0 0.25 250.73 335.44)" d="M0-410l12-66 23 173 12-92 11-107 12 103 12 162 11-116 12-318 4-69 3-21 4 22 3 65 17 583 4 68 3 23 4-23 3-65 14-423 11-120 12 197 12 138 23-211 12 80 11 103 12-57 12-95 11 49 12 99 12-37 12-103 11 33 12 117 12-23 11-137 12 13 12 182 11 17 17-415 3-59 4-21 3 22 4 65 4 144 12 423 4 84 4 23 3-23 3-65 9-283 12-262 12 106 11 207 12-21 12-144 12 9 11 126 12 9 12-109 11-14 12 106 12 26 11-103 12-33 12 110 11 50 12-120 12-72 11 145 12 123 12-188 9-261 4-59 3-21 4 22 3 65 17 583 3 68 4 23 3-23 4-65 16-484 12-33 11 221 12 82 12-133 11-70 12 108 12 75 11-85 12-72 23 157 12-69 12-85 12 68 11 102 12-64 12-126-3 3-12 119-11 61-12-97-12-64-11 81-12 64-24-148-11 68-12 80-12-70-11-102-12 66-12 125-11-77-12-208-12 31-16 457-3 61-4 21-3-22-4-64-17-549-3-62-3-21-4 20-3 56-10 246-11 177-12-116-12-136-12 67-11 114-12-47-12-104-11 31-12 97-12-24-11-100-12 13-12 103-11-9-12-119-12-8-11 136-12 19-12-195-12-100-11 247-9 268-4 61-3 21-4-22-4-79-11-399-5-135-3-62-4-20-3 19-4 56-16 391-12-15-12-172-11-13-12 130-12 21-11-110-12-31-12 96-11 36-12-94-12-45-12 89-11 53-12-97-12-75-23 199-12-130-11-186-12 113-14 400-3 61-3 21-4-22-3-64-17-549-4-62-3-21-4 20-3 65-12 301-12 108-12-153-11-97-12 102-12 87-23-164-12 62z"/>
<path transform="matrix(0.25 -0.067848 0 0.25 251.39 335.74)" d="M0-410l12-62 23 163 12-86 11-102 12 97 12 153 11-109 12-300 4-64 3-20 4 21 3 61 17 549 4 64 3 22 4-22 3-61 14-399 11-113 12 186 12 129 23-198 12 75 11 97 12-53 12-89 11 45 12 93 12-35 11-96 12 31 12 110 12-22 11-129 12 13 12 171 11 16 17-391 3-55 4-20 3 21 4 61 4 135 12 399 4 79 4 22 3-22 3-61 9-267 12-247 12 100 11 195 12-19 12-136 12 8 11 119 12 8 12-102 11-13 12 100 12 24 11-97 12-31 12 104 11 46 12-113 12-67 11 136 12 116 12-177 9-246 4-55 3-20 4 21 3 61 17 549 3 64 4 21 3-21 4-61 16-456 12-31 11 208 12 77 12-125 11-66 12 102 12 70 11-80 12-68 23 148 12-64 12-81 12 64 11 97 12-61 12-119-3-7-12 126-11 64-12-102-12-68-11 86-12 68-24-157-11 72-12 85-12-75-11-108-12 70-12 133-11-82-12-221-12 33-16 485-3 64-4 23-3-23-4-68-17-583-3-65-3-22-4 21-3 59-10 261-12 188-11-123-12-145-12 72-11 120-12-50-12-110-11 33-12 103-12-26-11-106-12 14-12 109-11-9-12-126-12-9-11 144-12 21-12-207-12-106-11 262-9 284-4 64-3 23-4-23-4-84-11-423-5-144-3-65-4-22-3 21-4 59-16 415-12-17-12-182-11-13-12 137-12 23-11-117-12-33-12 103-12 37-11-99-12-49-12 95-11 57-12-103-12-80-23 211-12-138-11-197-12 120-14 424-3 64-4 23-3-23-3-68-17-583-4-65-3-22-4 21-3 69-12 318-12 116-12-162-11-103-12 107-12 92-23-173-12 66z"/>
<path transform="matrix(0.25 -0.067848 0 0.25 252.04 336.04)" d="M0-409l12-51 23 135 12-72 11-83 12 80 12 125 11-89 12-247 4-53 3-16 4 17 3 50 17 451 4 53 3 18 4-18 3-50 14-327 11-94 12 153 12 107 23-164 12 62 11 80 12-44 12-73 11 37 12 77 12-29 12-79 11 25 12 91 12-18 11-106 12 10 12 141 11 13 17-321 3-46 4-16 3 17 4 50 4 111 12 328 4 65 4 18 3-18 3-50 9-219 12-203 12 82 11 160 12-16 12-111 12 6 11 98 12 7 12-84 11-11 12 82 12 20 11-80 12-25 12 85 11 38 12-92 12-56 11 112 12 95 12-145 9-202 4-46 3-16 4 17 3 50 17 451 3 53 4 18 3-18 4-50 16-375 12-25 11 170 12 64 12-103 11-54 12 84 12 57 11-65 12-56 23 122 12-53 12-66 12 52 11 79 12-49 12-98-3-18-12 119-11 61-12-97-12-63-11 80-12 64-24-147-11 67-12 80-12-70-11-102-12 66-12 125-11-77-12-208-12 31-16 456-3 61-4 22-3-22-4-64-17-549-3-61-3-21-4 20-3 55-10 246-11 177-12-116-12-136-12 68-11 112-12-46-12-104-11 31-12 97-12-24-11-100-12 13-12 102-11-8-12-119-12-8-11 136-12 19-12-195-12-100-11 247-9 267-4 61-3 22-4-22-4-79-11-399-5-135-3-61-4-21-3 20-4 55-16 391-12-15-12-172-11-13-12 130-12 21-11-110-12-31-12 96-11 36-12-94-12-45-12 89-11 53-12-97-12-75-23 199-12-130-11-186-12 114-14 398-3 61-3 22-4-22-3-64-17-549-4-61-3-21-4 20-3 64-12 301-12 108-12-153-11-97-12 102-12 86-23-163-12 62z"/>
<path transform="matrix(0.25 -0.067848 0 0.25 253.52 336.73)" d="M0-404l12-8 23 21 12-11 11-13 12 12 12 19 11-13 12-38 4-8 3-2 4 2 3 8 17 68 4 8 3 3 4-3 3-7 14-50 11-14 12 23 12 16 23-24 12 9 11 12 12-7 12-11 11 6 12 12 12-5 12-12 11 4 12 14 12-3 11-16 12 2 12 21 11 2 17-49 3-7 4-2 3 2 4 8 4 17 12 50 4 9 4 3 3-3 3-7 9-33 12-31 12 12 11 25 12-3 12-17 12 1 11 15 12 1 12-13 11-1 12 12 12 3 11-12 12-4 12 13 11 6 12-14 12-9 11 17 12 15 12-22 9-31 4-7 3-2 4 2 3 8 17 68 3 8 4 3 3-3 4-7 16-57 12-4 11 26 12 10 12-16 11-8 12 13 12 8 11-10 12-8 23 18 12-8 12-10 12 8 11 12 12-7 12-15-6-65-12 97-12 50-11-79-12-53-12 66-11 53-24-121-11 55-12 66-12-58-12-83-11 54-12 103-12-64-11-170-12 25-16 375-4 50-3 17-3-17-4-53-17-451-3-50-4-17-3 16-4 45-9 203-12 145-11-96-12-111-12 55-12 93-11-38-12-86-12 26-11 79-12-19-12-82-11 10-12 85-12-7-11-98-12-7-12 112-11 16-12-160-12-83-11 203-10 220-3 50-3 18-4-18-4-65-12-328-4-111-4-50-3-17-3 16-4 45-17 322-11-13-12-141-12-11-11 107-12 17-12-90-11-25-12 79-12 28-11-76-12-38-12 74-12 44-11-80-12-62-23 163-12-106-12-153-11 93-14 328-3 50-4 18-3-18-4-53-17-451-3-50-3-17-4 16-4 53-11 247-12 89-12-126-11-79-12 83-12 71-23-134-12 51z"/>
<path transform="matrix(0.25 -0.067848 0 0.25 255.28 337.54)" d="M0-398l12 44 23-117 12 62 11 72 12-69 12-109 11 78 12 214 4 46 3 14 4-15 3-44 17-391 4-45 3-16 4 16 3 43 14 284 11 81 12-133 12-92 23 141 12-53 11-69 12 38 12 63 11-32 12-67 12 25 12 69 11-22 12-78 12 15 11 92 12-9 12-122 11-11 17 278 3 40 4 14 3-15 4-44 4-96 12-284 4-56 4-16 3 16 3 43-7 244-3 7-4 3-3-3-4-10-12-49-4-17-4-8-3-2-4 2-3 7-17 49-11-2-12-22-12-1-11 16-12 3-12-14-12-4-11 12-12 4-12-11-11-6-12 11-12 7-11-12-12-10-23 25-12-16-12-23-11 14-14 50-3 7-4 3-3-3-4-8-17-68-3-8-4-2-3 2-4 8-12 38-11 13-12-19-12-12-11 13-12 10-23-20-12 8zM514-445l12 97 12-6 11-85 12-6 12 73 11 10 12-72 12-17 11 69 12 22 12-74 11-33 12 80 12 49 11-97 12-83 12 126 9 175 4 40 3 14 4-15 3-44 17-391 3-45 4-16 3 16 4 43-7 244-4 7-3 3-4-3-3-8-17-68-3-8-4-2-3 2-4 7-9 31-12 22-12-15-11-17-12 9-12 14-11-6-12-13-12 4-11 12-12-3-12-12-11 1-12 13-12-1-11-15-12-1-12 17zM795-268l11-148 12-55 12 89 11 47 12-73 12-50 11 57 12 49 23-106 12 46 12 58 12-46 11-69 12 43 12 85-7-78-12 15-12 7-11-12-12-8-12 10-12 8-23-18-12 8-11 10-12-9-12-12-11 8-12 15-12-9-11-26z"/>
<path transform="matrix(0.25 -0.067848 0 0.25 255.94 337.84)" d="M0-397l12 54 23-144 12 77 11 89 12-85 12-135 11 96 12 265 4 57 3 18 4-19 3-54 17-485 4-56 3-20 4 19 3 54 14 352 11 101 12-165 12-114 23 175 12-66 11-86 12 47 12 79 11-40 12-83 12 31 11 85 12-27 12-97 12 19 11 114 12-11 12-152 11-14 17 346 3 49 4 17 3-18 4-54 4-119 12-353 4-69 4-20 3 19 3 54 9 236 12 218 12-88 11-172 12 17 12 120 12-7 11-106 12-7 12 91 11 11 12-88 12-21 11 86 12 27 12-92 11-41 12 99 12 60 11-120 12-103 12 157 9 217 4 49 3 18 4-19 3-54 17-485 3-56 4-20 3 19 4 54 16 403 12 27 11-183 12-68 12 110 11 58 12-90 12-62 11 71 12 60 23-131 12 57 12 71 12-56 11-85 12 53 12 105-3-17-12-84-11-44-12 69-12 46-11-58-12-46-24 106-11-48-12-57-12 50-11 72-12-47-12-89-11 55-12 148-12-22-16-325-3-43-4-16-3 16-4 45-17 392-3 43-3 15-4-14-3-40-10-175-12-126-11 83-12 97-12-48-11-81-12 33-12 75-11-23-12-69-12 17-11 72-12-10-12-73-11 6-12 85-12 6-11-97-12-14-12 139-12 71-11-176-9-190-4-43-3-16-4 16-4 56-11 284-5 97-3 43-4 15-3-14-4-40-16-278-12 11-12 122-11 9-12-92-12-15-11 78-12 22-12-68-12-25-11 66-12 33-12-64-11-38-12 69-12 54-23-142-12 92-11 133-12-81-14-284-3-43-4-16-3 16-3 45-17 392-4 43-3 15-4-14-3-46-12-214-12-77-12 108-11 69-12-72-12-62-23 117-12-44z"/>
<path transform="matrix(0.25 -0.067848 0 0.25 256.59 338.15)" d="M0-397l12 58 23-153 12 81 11 96 12-92 12-143 11 102 12 283 4 60 3 19 4-19 3-58 17-517 4-60 3-21 4 20 3 58 14 375 11 107 12-175 12-122 23 187 12-71 11-91 12 50 12 84 11-43 12-88 12 33 12 91 11-29 12-104 12 21 11 121 12-11 12-162 11-15 17 368 3 52 4 19 3-19 4-58 4-127 12-376 4-74 4-21 3 20 3 58 9 251 12 233 12-94 11-184 12 18 12 128 12-7 11-113 12-7 12 96 11 13 12-95 12-22 11 91 12 29 12-97 11-45 12 107 12 63 11-128 12-109 12 166 9 232 4 52 3 19 4-20 3-57 17-517 3-60 4-21 3 20 4 58 16 429 12 30 11-196 12-73 12 118 11 62 12-96 12-66 11 75 12 64 23-139 12 61 12 75 12-60 11-91 12 57 12 112-3-7-12-105-11-53-12 85-12 56-11-71-12-57-24 131-11-60-12-70-12 61-11 90-12-58-12-110-11 68-12 184-12-28-16-403-3-54-4-19-3 20-4 56-17 485-3 54-3 19-4-18-3-49-10-217-11-157-12 103-12 120-12-59-11-100-12 41-12 92-11-27-12-86-12 21-11 88-12-11-12-91-11 7-12 106-12 7-11-120-12-17-12 172-12 88-11-218-9-236-4-54-3-19-4 20-4 69-11 353-5 119-3 54-4 19-3-18-4-49-16-345-12 13-12 152-11 11-12-114-12-19-11 97-12 28-12-86-11-31-12 83-12 40-12-79-11-47-12 86-12 66-23-175-12 114-11 165-12-101-14-352-3-54-3-19-4 20-3 56-17 485-4 54-3 19-4-18-3-57-12-265-12-96-12 135-11 85-12-89-12-77-23 144-12-54z"/>
<path transform="matrix(0.25 -0.067848 0 0.25 257.25 338.45)" d="M0-397l12 55 23-145 12 77 11 90 12-86 12-136 11 97 12 266 4 57 3 17 4-18 3-54 17-487 4-56 3-20 4 19 3 54 14 354 11 100 12-165 12-114 23 175 12-66 11-86 12 47 12 79 11-40 12-83 12 31 12 86 11-28 12-97 12 19 11 114 12-11 12-152 11-14 17 347 3 49 4 17 3-18 4-54 4-120 12-354 4-69 4-20 3 19 3 54 9 237 12 219 12-89 11-173 12 18 12 120 12-7 11-106 12-7 12 91 11 11 12-88 12-21 11 86 12 27 12-92 11-42 12 101 12 59 11-120 12-103 12 157 9 218 4 49 3 17 4-18 3-54 17-487 3-56 4-20 3 19 4 54 16 405 12 27 11-184 12-68 12 110 11 58 12-90 12-62 11 71 12 60 23-131 12 57 12 71 12-56 11-86 12 54 12 105-3 3-12-112-11-57-12 91-12 60-11-75-12-61-24 139-11-64-12-75-12 66-11 96-12-62-12-118-11 73-12 196-12-30-16-429-3-57-4-21-3 21-4 60-17 517-3 58-3 19-4-19-3-52-10-231-11-167-12 109-12 129-12-64-11-106-12 44-12 98-11-30-12-91-12 22-11 95-12-13-12-96-11 8-12 112-12 7-11-128-12-18-12 184-12 94-11-233-9-251-4-57-3-21-4 21-4 74-11 376-5 127-3 58-4 19-3-19-4-52-16-368-12 15-12 162-11 11-12-121-12-21-11 104-12 29-12-91-11-33-12 88-12 43-12-84-11-50-12 91-12 71-23-187-12 122-11 175-12-107-14-375-3-57-3-21-4 21-3 60-17 517-4 58-3 19-4-19-3-60-12-283-12-102-12 144-11 91-12-96-12-81-23 153-12-58z"/>
<path transform="matrix(0.25 -0.067848 0 0.25 257.99 338.79)" d="M0-398l12 43 23-115 12 61 11 72 12-69 12-107 11 76 12 212 4 46 3 14 4-15 3-43 17-388 4-45 3-15 4 15 3 43 14 281 11 80 12-131 12-91 23 140 12-53 11-69 12 38 12 63 11-32 12-66 12 25 12 68 11-22 12-78 12 15 11 92 12-9 12-121 11-12 17 277 3 39 4 14 3-15 4-43 4-96 12-281 4-56 4-15 3 15 3 43 9 188 12 175 12-71 11-138 12 14 12 96 12-6 11-84 12-6 12 73 11 9 12-70 12-17 11 68 12 22 12-73 11-33 12 79 12 48 11-96 12-82 12 125 9 174 4 39 3 14 4-15 3-43 17-388 3-45 4-15 3 15 4 43 16 322 12 22 11-147 12-54 12 88 11 46 12-71 12-50 11 56 12 48 23-104 12 45 12 57 12-45 11-68 12 43 12 84-3 13-12-105-12-54-11 86-12 56-12-71-11-57-24 131-12-60-11-71-12 62-12 90-11-58-12-111-12 69-11 184-12-28-16-404-4-54-3-19-3 20-4 56-17 487-3 54-4 18-3-17-4-49-9-219-12-156-12 103-11 120-12-60-12-100-11 42-12 92-12-28-11-86-12 22-12 88-11-11-12-91-12 7-11 106-12 7-12-120-11-18-12 173-12 89-12-219-9-237-3-54-3-19-4 20-4 69-12 354-4 120-4 54-3 18-4-17-3-50-17-346-11 14-12 152-12 11-11-114-12-20-12 98-11 27-12-85-12-31-12 83-11 40-12-79-12-47-11 86-12 66-23-176-12 115-12 165-11-101-14-353-3-54-4-19-3 20-4 56-17 487-3 54-3 18-4-17-4-58-11-266-12-96-12 135-12 86-11-90-12-76-23 144-12-54z"/>
<path transform="matrix(0.25 -0.067848 0 0.25 260.22 339.83)" d="M0-404l12-8 23 21 12-11 11-14 12 13 12 21 12-15 11-40 4-8 3-3 4 3 3 8 17 73 4 8 3 3 4-2 3-9 14-53 11-15 12 25 12 17 23-26 12 10 11 13 12-7 12-12 11 6 12 12 12-4 12-13 11 4 12 15 12-3 11-18 12 2 12 23 11 2 17-52 3-7 4-3 3 3 4 8 4 18 12 53 4 10 4 3 3-2 3-9 9-35 12-33 12 13 12 26 11-2 12-18 12 1 11 16 12 1 12-14 11-2 12 14 12 3 11-13 12-4 12 14 11 6 12-15 12-9 11 18 12 15 12-23 9-33 4-7 3-3 4 3 3 8 17 73 3 8 4 3 3-2 4-9 16-60 12-4 11 27 12 10 12-16 11-9 12 14 12 9 11-11 12-9 24 20 11-9 12-10 12 8 11 13 12-8 12-16-9 67-12-84-12-43-11 69-12 45-12-57-11-46-24 105-11-48-12-57-12 50-12 72-11-47-12-88-12 55-11 146-12-22-16-322-4-43-3-15-3 16-4 45-17 387-3 43-4 15-3-14-4-39-9-174-12-125-11 82-12 96-12-47-12-80-11 33-12 73-12-21-11-69-12 17-12 71-11-10-12-72-12 6-11 84-12 6-12-96-11-14-12 138-12 70-11-174-10-189-3-43-3-15-4 16-4 55-12 282-4 95-4 43-3 15-4-14-3-39-17-276-11 11-12 121-12 9-11-91-12-15-12 77-11 22-12-68-12-25-11 66-12 32-12-63-12-37-11 68-12 53-23-140-12 91-12 132-11-80-14-282-3-43-4-15-3 16-4 45-17 387-3 43-3 15-4-14-4-45-11-212-12-77-12 108-11 68-12-71-12-62-23 116-12-44z"/>
<path transform="matrix(0.25 -0.067848 0 0.25 262.46 340.86)" d="M0-406l12-27 23 71 12-38 11-44 12 42 12 67 11-47 12-131 4-29 3-8 4 9 3 26 17 240 4 28 3 10 4-10 3-26 14-174 11-50 12 81 12 57 23-87 12 33 11 42 12-23 12-39 11 20 12 41 12-16 12-42 11 14 12 48 12-10 11-56 12 5 12 75 11 7 17-170 3-25 4-8 3 9 4 27 4 58 12 175 4 34 4 10 3-10 3-26 9-117 12-108 12 44 11 85 12-8 12-60 12 4 11 52 12 3 12-44 11-6 12 44 12 10 11-42 12-14 12 45 11 21 12-49 12-30 11 59 12 51 12-77 9-107 4-25 3-8 4 9 3 27 17 239 3 28 4 10 3-10 4-26 16-200 12-13 11 91 12 33 12-54 11-29 12 44 12 31 11-35 12-29 23 64 12-28 12-35 12 28 11 42 12-26 12-52-9 20-12 15-12 8-11-12-12-9-12 11-11 8-24-19-12 9-11 10-12-9-12-13-11 8-12 17-12-10-11-28-12 4-16 61-4 8-3 3-3-3-4-9-17-73-3-8-4-3-3 3-4 7-9 33-12 24-11-16-12-18-12 9-12 15-11-6-12-14-12 4-11 13-12-3-12-13-11 1-12 14-12-1-11-16-12-1-12 18-11 3-12-26-12-14-12 33-9 36-3 8-3 3-4-3-4-11-12-53-4-18-4-8-3-3-4 3-3 7-17 52-11-2-12-22-12-2-11 17-12 3-12-15-11-4-12 13-12 5-11-13-12-6-12 12-12 7-11-13-12-10-23 27-12-18-12-24-11 15-14 53-3 8-4 3-3-3-4-9-17-73-3-8-3-3-4 3-4 9-11 40-12 14-12-20-12-13-11 13-12 12-23-22-12 8z"/>
<path transform="matrix(0.25 -0.067848 0 0.25 264.69 341.90)" d="M0-403l12-1 23 2 23-2 24 2 11-1 12-3 7-1 7 1 17 6 7 1 7-1 14-4 11-1 24 3 23-2 23 2 24-2 23 1 24-1 23 2 12-1 11-1 12 0 12 2 11 0 17-4 7-1 7 1 16 6 8 1 6-1 21-5 23 3 12-1 12-1 12 0 11 1 35-1 24 1 23-1 23 2 24-2 23 2 28-5 7 1 17 6 7 1 7-1 16-5 12 0 11 2 12 1 23-2 24 2 23-2 23 2 24-2 23 2 24-2-9-44-12 52-12 26-11-42-12-28-12 35-11 29-24-65-11 30-12 35-12-31-12-44-11 28-12 55-12-34-11-91-12 14-16 199-4 27-3 9-3-10-4-27-17-240-3-27-4-9-3 9-4 24-9 107-12 78-11-51-12-59-12 29-12 49-11-20-12-45-12 13-11 42-12-10-12-44-11 6-12 45-12-4-11-52-12-3-12 59-11 8-12-85-12-43-11 107-10 117-3 27-3 9-4-10-4-34-12-174-4-59-4-27-3-9-4 9-3 24-17 171-11-7-12-75-12-6-11 57-12 9-12-48-11-13-12 42-12 15-11-41-12-20-12 40-12 23-11-43-12-32-23 86-12-56-12-82-11 50-14 174-3 27-4 9-3-10-4-27-17-240-3-27-3-9-4 9-4 28-11 131-12 47-12-66-11-43-12 45-12 38-23-72-12 27z"/>
<path transform="matrix(0.25 -0.067848 0 0.25 266.93 342.93)" d="M0-401l12 16 23-43 12 23 11 26 12-25 12-40 11 28 12 79 4 17 3 5 4-6 3-16 17-143 4-17 3-5 4 5 3 16 14 104 11 30 12-49 12-33 23 51 12-19 11-26 12 14 12 24 11-12 12-25 12 10 12 25 11-8 12-29 12 5 11 34 12-3 12-45 11-4 17 102 3 15 4 5 3-6 4-16 4-35 12-104 4-21 4-5 3 5 3 16 9 70 12 64 12-26 11-51 12 5 12 36 12-2 11-31 12-2 12 26 11 4 12-26 12-7 11 26 12 8 12-27 11-13 12 30 12 18 11-36 12-30 12 46 9 64 4 15 3 5 4-6 3-16 17-143 3-17 4-5 3 5 4 16 16 119 12 8 11-54 12-20 12 33 11 17 12-27 12-18 11 21 12 17 23-38 12 17 12 21 12-17 11-25 12 16 12 31-9-31-24 2-23-1-23 1-24-1-23 1-24-2-23 2-12-1-11-2-12 1-16 4-7 1-7-1-17-5-7-1-28 5-23-3-24 2-23-1-23 1-24-1-35 1-11-1-12-1-12 2-11 0-24-3-21 5-6 1-8-1-16-5-7-1-7 1-17 4-11-1-12-1-12 0-11 1-12 0-23-1-24 1-23-1-24 1-23-2-23 2-24-3-11 1-14 4-7 1-7-1-17-5-6-1-8 1-11 3-12 1-24-3-23 2-23-1-12 0z"/>
<path transform="matrix(0.25 -0.067848 0 0.25 269.16 343.96)" d="M0-403l12-2 23 4 23-4 12 2 12 3 11-2 12-7 7-2 7 2 17 12 7 2 7-1 14-9 11-3 12 4 12 3 23-4 23 3 24-3 11 1 12 2 12 0 12-3 11 1 12 3 12-1 11-3 12 1 12 3 11 1 17-9 7-2 7 2 16 12 4 2 4 0 6-1 9-6 12-6 12 2 11 5 12-1 12-3 12 0 11 3 12 0 12-2 11 0 12 2 12 0 11-2 12-1 12 3 11 1 24-4 23 5 12-4 9-5 7-2 7 2 17 12 7 2 7-1 16-11 12 0 11 4 12 2 12-3 11-1 24 4 23-4 23 4 24-4 23 4 12-1 12-3-9 18-12-31-12-16-11 25-12 17-12-21-11-17-24 39-12-18-11-21-12 19-12 26-11-17-12-33-12 21-11 54-12-8-16-119-4-16-3-6-3 6-4 16-17 144-3 16-4 5-3-5-4-14-9-65-12-46-11 31-12 35-12-18-12-29-11 12-12 27-12-8-11-25-12 6-12 26-11-3-12-27-12 2-11 31-12 2-12-35-11-5-12 51-12 26-12-65-9-69-3-16-3-6-4 6-4 20-12 105-4 35-4 16-3 5-4-5-3-14-17-103-11 5-12 44-12 4-11-34-12-6-12 29-11 8-12-25-12-9-11 24-12 12-12-23-12-14-11 25-12 20-23-52-12 34-12 48-11-29-14-104-3-16-4-6-3 6-4 16-17 144-3 16-3 5-4-5-4-17-11-78-12-29-12 40-12 26-11-27-12-22-23 42-12-16z"/>
<path transform="matrix(0.25 -0.067848 0 0.25 271.40 345.00)" d="M0-405l12-16 23 43 12-23 11-27 12 26 12 40 11-29 12-79 4-17 3-5 4 5 3 16 17 146 4 16 3 6 4-5 3-17 14-105 11-30 12 49 12 34 23-52 12 20 11 25 12-14 12-23 11 12 12 24 12-9 12-25 11 8 12 29 12-6 11-34 12 3 12 46 11 4 17-103 3-15 4-5 3 5 4 16 4 36 12 106 4 20 4 6 3-5 3-17 9-70 12-65 12 26 11 52 12-6 12-36 12 3 11 31 12 2 12-27 11-3 12 26 12 6 11-25 12-8 12 27 11 12 12-29 12-18 11 36 12 30 12-46 9-65 4-15 3-5 4 5 3 16 17 146 3 16 4 6 3-5 4-17 16-120 12-8 11 55 12 20 12-33 11-17 12 26 12 19 11-21 12-18 23 39 12-17 12-21 12 17 11 25 12-16 12-31-9 14-12 3-12 1-23-3-23 3-24-3-23 3-24-4-11 2-12 2-12-1-11-5-12 1-16 10-7 2-7-2-17-13-7-1-7 1-9 6-12 4-23-6-24 4-11-1-12-2-12 1-11 2-12-1-12-2-11 0-12 3-12-1-11-2-12-1-12 4-11 0-12-4-12-3-12 6-9 6-6 2-4-1-4-1-16-13-7-1-7 1-17 9-11 0-12-4-12 0-11 3-12 0-12-2-11-1-12 2-12 1-11-2-12-1-24 3-23-4-23 4-12-2-12-5-11 3-14 9-7 2-7-2-17-13-6-1-8 2-11 6-12 3-12-4-12-2-23 4-23-3-12 1z"/>
<path transform="matrix(0.25 -0.067848 0 0.25 273.63 346.03)" d="M0-403l12-3 23 7 23-8 12 4 12 7 11-5 12-14 4-2 3-1 4 1 3 2 17 25 4 3 3 1 4-1 3-3 14-18 11-5 12 9 12 5 23-9 12 4 11 4 12-2 12-4 11 2 12 4 12-2 12-4 11 1 12 5 12-1 11-5 12 0 12 8 11 1 17-18 3-2 4-1 3 1 4 2 4 6 12 18 4 4 4 1 3-1 3-3 9-12 12-11 12 5 11 8 12-1 12-6 12 1 11 5 12 0 12-4 11-1 12 5 12 1 11-5 12-1 12 5 11 2 12-5 12-3 23 11 12-8 9-11 4-2 3-1 4 1 3 2 17 25 3 3 4 1 3-1 4-3 16-20 12-2 11 10 12 3 12-6 11-2 12 4 12 3 23-6 23 6 24-6 12 3 11 4 12-3 12-5-9-26-12 32-12 16-11-26-12-17-12 21-11 17-24-39-12 18-11 21-12-18-12-27-11 17-12 33-12-20-11-55-12 8-16 121-4 16-3 6-3-6-4-17-17-145-3-16-4-6-3 5-4 15-9 65-12 47-11-31-12-36-12 18-12 30-11-12-12-28-12 8-11 26-12-6-12-27-11 4-12 27-12-2-11-32-12-2-12 36-11 5-12-52-12-26-12 65-9 71-3 16-3 6-4-6-4-21-12-105-4-36-4-16-3-6-4 5-3 15-17 103-11-4-12-45-12-3-11 34-12 5-12-29-11-8-12 26-12 9-11-25-12-12-12 24-12 14-11-26-12-20-23 53-12-34-12-50-11 30-14 106-3 16-4 6-3-6-4-17-17-145-3-16-3-6-4 5-4 17-11 80-12 29-12-41-12-25-11 26-12 23-23-43-12 16z"/>
<path transform="matrix(0.25 -0.067848 0 0.25 275.87 347.07)" d="M0-402l12 12 23-31 12 16 11 20 12-19 12-29 11 21 12 57 4 13 3 3 4-4 3-11 17-106 4-12 3-4 4 4 3 12 14 76 11 22 12-36 12-25 23 39 12-15 11-18 12 10 12 17 11-9 12-18 12 7 11 18 12-6 12-21 12 5 11 24 12-2 12-33 11-3 17 75 3 11 4 3 3-4 4-11 4-26 12-77 4-15 4-4 3 4 3 12 9 51 12 47 12-19 11-37 12 4 12 26 12-2 11-23 12-1 12 19 11 3 12-19 12-5 11 19 12 6 12-20 11-9 12 21 12 13 11-26 12-22 12 34 9 47 4 11 3 3 4-4 3-11 17-106 3-12 4-4 3 4 4 12 16 87 12 6 11-40 12-14 12 24 11 12 12-19 12-14 11 15 12 13 23-28 12 12 12 16 12-12 11-19 12 12 12 23-9-28-12 6-12 2-11-4-12-3-23 7-24-7-23 7-12-4-12-4-11 3-12 5-12-3-11-9-12 1-16 21-4 2-3 1-3-1-4-3-17-24-3-3-4-1-3 1-4 2-9 12-12 7-23-11-12 3-12 5-11-2-12-5-12 2-11 4-12-1-12-4-11 0-12 5-12-1-11-5-12 0-12 6-11 1-12-9-12-4-12 11-9 12-3 2-3 1-4-1-4-3-12-18-4-6-4-3-3-1-4 1-3 3-17 17-11-1-12-7-12-1-11 6-12 1-12-5-11-1-12 4-12 1-11-4-12-2-12 4-12 3-11-5-12-3-23 9-12-6-12-8-11 5-14 18-3 2-4 1-3-1-4-3-17-24-3-3-3-1-4 1-4 3-11 13-12 5-12-7-12-4-23 8-23-7-12 3z"/>
<path transform="matrix(0.25 -0.067848 0 0.25 278.10 348.10)" d="M0-403l12 1 23-3 23 4 24-5 11 2 12 6 7 1 7-1 17-11 7-1 7 1 14 8 11 2 24-6 23 4 23-4 24 3 23-3 12 1 12 2 11-1 12-2 12 1 11 2 12 0 12-3 11-1 17 8 7 1 7-1 16-10 8-2 6 1 9 5 12 5 12-2 11-4 12 1 12 2 12 0 11-2 12 0 12 2 11 0 12-2 12 0 11 1 12 1 12-2 11-1 24 4 23-5 12 3 9 5 7 1 7-1 17-11 7-1 7 1 16 9 12 0 11-4 12-1 12 2 11 2 24-4 23 3 23-3 24 3 23-3 12 1 12 2-9 9-12-23-12-11-11 18-12 12-12-15-11-12-24 28-12-13-11-15-12 13-12 20-11-13-12-24-12 15-11 40-12-6-16-88-4-11-3-5-3 5-4 12-17 105-3 12-4 4-3-4-4-11-9-47-12-34-11 23-12 26-12-13-12-22-11 9-12 20-12-6-11-19-12 5-12 19-11-2-12-20-12 2-11 22-12 2-12-26-11-4-12 38-12 19-12-48-9-51-3-11-3-5-4 5-4 15-12 76-4 26-4 12-3 4-4-4-3-11-17-75-11 3-12 33-12 3-11-25-12-4-12 21-11 6-12-19-12-6-11 18-12 8-12-17-12-10-11 19-12 14-23-38-12 25-12 35-11-21-14-77-3-11-4-5-3 5-4 12-17 105-3 12-3 4-4-4-4-12-11-58-12-21-12 30-12 18-11-19-12-17-23 31-12-11z"/>
</g>
<path d="M90.40 71.00L90.40 261.25L278.10 348.10L523.50 281.50M278.10 348.10L284.00 350.83M339.45 331.45L345.35 334.18M400.80 314.80L406.70 317.53M462.15 298.15L468.05 300.88M523.50 281.50L529.40 284.23M278.10 348.10L271.83 349.80M231.18 326.39L224.90 328.09M184.25 304.68L177.98 306.38M137.32 282.96L131.05 284.66M90.40 261.25L84.13 262.95M90.40 256.22L84.50 253.49M90.40 208.34L84.50 205.61M90.40 160.45L84.50 157.72M90.40 112.56L84.50 109.84" stroke="#505050" stroke-width="0.8" fill="none"/><g><text x="288.6" y="366.7">-10</text><text x="350.0" y="350.1">-5</text><text x="411.3" y="333.4">0</text><text x="472.6" y="316.8">5</text><text x="534.0" y="300.1">10</text><text text-anchor="end" x="267.1" y="364.9">-10</text><text text-anchor="end" x="220.2" y="343.2">-5</text><text text-anchor="end" x="173.2" y="321.5">0</text><text text-anchor="end" x="126.3" y="299.8">5</text><text text-anchor="end" x="79.4" y="278.1">10</text><text text-anchor="end" x="78.4" y="257.4">-200</text><text text-anchor="end" x="78.4" y="209.5">-100</text><text text-anchor="end" x="78.4" y="161.7">0</text><text text-anchor="end" x="78.4" y="113.8">100</text></g>
<g stroke="#dcdcdc" stroke-width="1" fill="none"><path d="M820.4 249.3v-190.2M820.4 249.3L1008.1 336.1M870.8 235.6v-190.2M870.8 235.6L1058.5 322.5M921.1 222.0v-190.2M921.1 222.0L1108.8 308.8M971.5 208.3v-190.2M971.5 208.3L1159.2 295.2M1021.8 194.6v-190.2M1021.8 194.6L1209.5 281.5M1175.8 265.9v-190.2M1175.8 265.9L930.4 332.5M1137.3 248.1v-190.2M1137.3 248.1L891.9 314.7M1098.8 230.3v-190.2M1098.8 230.3L853.4 296.9M1060.3 212.5v-190.2M1060.3 212.5L814.9 279.1M1021.8 194.6v-190.2M1021.8 194.6L776.4 261.2M776.4 213.7L1021.8 147.1L1209.5 233.9M776.4 166.1L1021.8 99.5L1209.5 186.4M776.4 118.6L1021.8 52.0L1209.5 138.8"/></g>
<g transform="translate(964.10 348.10) scale(0.2)"><g fill="none" stroke-width="3">
<path stroke="#4743e7" d="M21-6l10-2M67-18l19-5M153-42l36-9M315-85l66-18M617-168l125-33M1185-321l41-13M-2-1l4 0M9-14l-7 0-2-3 11-1 2 2zM58-28l-12 0 6-4 12-1 3 2zM151-53l-17 3-2-2 6-3 18-5 14 0zM324-100l-30 6 0-2 12-4 35-10 22-3zM649-188l-53 12 25-10 63-17 42-8zM1210-341l-51 12 45-15M-24-11l8 4M-26-30l-11-2-4-5 14 1 4 4zM23-44l-12 0-5-4 6-4 14 1 4 4zM116-69l-17 2-6-3 11-7 23-2 5 1 0 3zM289-116l-32 5-2-3 9-5 35-10 26-1-9 6zM614-204l-56 11-2-1 2-2 22-9 65-18 30-6 13 0-22 10zM1175-357l-54 10 42-16M-66-30l15 6M-92-61l-17-5-11-8 22 5 8 6zM-42-74l-20-4-8-4-1-4 9-2 18 4 7 6zM50-99l-23-1-8-3-2-5 4-4 9-2 26 1 6 3 1 4-4 4zM223-146l-31 3-9-2-3-3 7-7 14-6 22-4 21-1 10 3-1 5-11 6zM548-235l-38 8-22 1-5-2 1-3 18-10 28-9 37-9 33-4 17 1-5 5-13 7zM1108-388l-42 7-17 1 0-2 5-4 31-13M-144-67l27 13M-215-118l-31-11-21-13 34 11 17 10 3 3zM-166-131l-32-9-15-9-5-6 14 0 26 9 15 10 1 4zM-73-156l-18-1-19-6-14-9-3-7 5-3 13 0 32 7 9 5 5 7-3 5zM100-203l-22 1-22-3-13-6-3-3-1-6 7-7 16-4 26-1 23 3 13 6 1 7-9 8zM425-291l-30 4-28 1-17-3-6-6 3-7 9-7 26-10 43-8 39-1 19 4 2 4-4 6-20 12zM983-446l-46 5-23-1-3-4 3-5 26-15M-292-135l51 24M-446-225l-54-22-45-24 64 25 30 16 7 5zM-396-238l-25-7-33-14-30-16-11-9 24 5 41 16 32 18 5 6zM-304-263l-25-5-35-12-29-17-8-7-2-5 8-1 19 3 49 16 18 10 10 9 2 7zM-130-310l-34-2-36-10-27-17-5-8 0-6 10-5 23-1 34 5 27 9 18 10 8 12-1 5-4 4zM195-398l-42 2-41-5-25-11-6-7-2-10 4-6 9-7 31-9 47-2 45 6 14 6 9 6 4 7-1 6-6 7-10 7zM748-555l-55 2-31-6-9-6-2-7 5-10 12-10M-568-263l96 45M308-758l-44-2M-937-435l31 16M-908-442l32 18-41-16M-854-457l24 14 4 5-44-15M-753-485l21 15 2 4-2 3-16-2-35-12M-563-536l14 17-1 5-6 3-23 0-40-10M-207-633l3 11-2 9-7 7-13 5-35 3-51-6"/>
<path stroke="#4367fd" d="M19-5l4-3 11-1M63-17l10-5 18-3M145-39l22-8 32-7M299-81l44-14 57-14M589-160l84-25 105-26M1131-307l94-27M-3-1l7 0M11-13l-11-1-3-3 5-3 11 1 3 3zM60-27l-13 2-6-2 9-6 18-2 4 1 0 2zM153-52l-27 4-1-2 9-5 26-7 20-1zM326-99l-47 9-1-1 3-2 18-7 47-12 36-6zM651-187l-83 19 6-4 36-12 83-23 68-14-35 13zM1212-340l-105 25 94-30M-26-12l10 2 2 3M-23-29l-16-3-7-6 7-2 14 3 6 5zM27-42l-20-1-5-2-1-4 9-5 21 1 4 2 1 3zM119-67l-25 2-7-1-3-3 5-5 10-5 35-3 8 1 0 4zM292-114l-31 6-19 1-3-2 2-3 17-9 49-12 27-3 10 1-16 9zM617-203l-55 13-32 4-2-1 6-4 32-13 89-24 49-9 19-1-38 15zM1178-356l-76 18-34 5 23-10 67-22M-70-32l16 4 6 6M-86-58l-25-7-17-12 10 0 21 7 12 7 2 4zM-36-71l-14-1-16-4-10-7-4-6 4-2 9-1 27 6 10 8-1 4zM56-96l-18 1-18-2-10-5-3-8 6-5 13-3 38 2 9 3 1 6-7 7zM230-143l-47 4-13-1-6-6 9-10 20-9 30-5 35-1 15 2 1 3-2 4-18 11zM555-232l-59 12-36 2-6-3 3-5 33-17 38-12 54-12 51-6 15 0 4 2-7 7-24 11zM1115-385l-81 16-37 3-2-2 3-2 16-9 63-24M-152-70l26 9 15 10M-203-112l-45-16-25-13-9-8 18 4 34 13 23 13 5 5zM-154-126l-21-3-27-10-21-12-10-11 6-1 13 2 39 13 22 14 3 6zM-62-151l-26-1-30-9-19-11-5-7-1-5 7-5 16 0 27 4 24 7 13 7 6 8-1 8zM112-198l-35 2-33-4-19-9-5-7 0-7 4-6 7-4 24-6 39 0 36 5 14 7 2 5-1 5-12 12zM437-286l-41 7-46 2-26-4-7-4-3-6 5-9 11-10 18-9 20-7 56-10 67-3 17 2 10 4 3 5-5 8-13 9-21 10zM995-440l-87 13-27 1-19-2-4-4 0-3 11-11 25-14 30-13M-306-142l45 19 32 17M-424-215l-78-31-48-24-22-13 29 9 61 26 46 23 13 9 1 1zM-375-228l-34-9-49-21-47-24-17-15 9 1 25 7 63 25 44 25 10 8 0 2zM-282-253l-39-7-51-18-40-23-14-11-4-8 11-3 25 4 40 12 33 12 25 13 16 13 6 11-2 3zM-109-300l-22 1-28-4-27-6-28-9-20-10-16-12-9-12-2-11 5-5 7-3 31-1 50 8 45 12 24 14 12 16 0 8-3 6-7 5zM216-388l-31 4-34 0-32-2-31-6-22-8-13-9-8-13 0-13 7-11 13-9 19-6 25-4 74-1 41 4 26 6 14 5 12 8 4 11-2 8-9 13-14 9-18 8zM772-544l-54 6-46 2-34-2-28-7-10-6-3-5-1-6 2-9 17-18 24-16M-595-275l82 35 63 32M352-738l-79 1-68-8M-935-435l70 35M-905-443l69 37-83-33M-848-459l49 28 12 8 1 4-28-8-61-25M-742-488l43 29 9 10 1 2-3 2-34-6-66-23M-543-542l19 16 14 16 3 11-9 7-20 0-25-4-75-20M-169-643l11 17 3 10-1 10-9 14-21 10-33 4-34-1-43-6-47-11"/>
<path stroke="#2d8cf3" d="M17-5l5-4 15-1M59-16l13-6 24-4M138-37l28-11 42-9M286-78l56-18 76-17M564-153l108-32 139-35M1085-294l139-41M-4-2l9 1M11-13l-13 0-3-5 6-3 16 2 1 3zM60-26l-17 2-5-3 3-4 7-3 25-2 5 1-2 3zM151-50l-33 4 1-4 13-6 28-7 30-3-14 8zM322-97l-56 11 5-5 28-10 52-14 49-8-31 12zM642-184l-99 22 13-6 52-17 95-26 91-19-56 19zM1214-339l-153 37 138-44M-28-13l13 2 2 5M-21-27l-20-4-7-5-2-4 9-1 19 4 6 6zM28-41l-25-1-6-3-1-6 4-3 7-2 31 2 3 3-1 4zM119-65l-32 2-8-1-2-3 7-8 13-6 47-4 8 2-3 5-14 8zM290-112l-39 7-23 1-2-2 4-4 24-12 52-13 41-6 15 1-5 4-21 10zM610-199l-68 15-37 5-1-3 11-5 52-20 97-26 70-13 22-1-14 7-43 15zM1181-354l-108 25-50 9 6-5 26-10 99-32M-74-34l21 6 8 7M-82-55l-32-10-15-9-6-6 15 1 27 9 14 10 1 3zM-33-69l-20-2-18-5-12-8-4-9 6-2 11 0 36 8 7 5 3 7-2 4zM58-93l-24 0-23-3-10-6-1-10 6-7 14-3 34 1 23 3 7 5-3 8-10 8zM229-140l-29 4-30 1-15-2-4-6 4-8 9-7 24-11 39-5 49-2 15 3 0 4-5 6-27 14zM549-227l-72 13-44 2-3-4 7-7 45-24 44-13 55-11 76-10 20-1 8 2-1 3-9 6-39 17-45 16zM1120-382l-112 23-39 5-18 1-1-3 4-3 23-12 93-35M-159-74l34 13 19 12M-195-108l-55-20-32-17-13-10 25 6 43 17 29 17 6 6zM-147-121l-29-6-32-12-27-16-11-13 7-1 21 4 51 16 14 9 11 10 2 7zM-55-146l-38-4-34-10-22-15-7-10 0-6 10-4 25 1 41 7 25 8 12 9 5 12-4 8zM115-192l-45 1-42-6-11-5-8-6-4-9 0-9 4-8 6-5 26-6 57 0 50 6 14 9 2 7-4 8-17 15zM436-279l-54 7-57 2-28-5-6-4-2-7 8-14 17-14 22-11 24-8 72-11 92-4 21 3 8 4-1 8-10 10-23 14-27 13zM1006-435l-121 19-44 3-25-3-4-3 1-5 17-15 36-21 45-19M-320-148l61 24 40 23M-408-206l-96-39-62-32-31-18 41 14 76 32 60 31 15 10 1 2zM-359-220l-47-14-56-23-60-32-19-13-6-6 14 1 33 11 80 31 29 15 27 17 11 11-1 3zM-268-244l-56-12-59-22-50-30-18-16-5-8 5-3 9 1 40 7 58 17 37 14 26 16 21 19 5 8 0 5-5 3zM-97-291l-32-1-39-5-37-10-27-9-21-13-20-16-13-19 0-12 6-5 13-3 47 3 77 13 46 15 14 8 9 9 7 11 2 11-2 10-6 6-11 5zM223-378l-40 4-46-1-43-4-35-8-21-8-14-12-8-17 0-17 8-14 11-9 18-7 30-6 49-2 59 2 52 4 41 8 17 7 10 9 2 13-7 15-14 16-18 12-23 9zM791-535l-69 8-68 4-55-2-35-7-10-7-5-7 1-10 4-11 24-26 35-24M-620-287l108 47 81 40M388-721l-58 2-66-1-57-5-49-7M-934-435l104 51M-902-444l76 39 25 16-120-50M-843-460l72 40 18 12 2 5-42-13-86-35M-733-490l64 42 14 13 1 4-3 2-18-1-32-9-92-33M-525-546l28 23 20 23 6 16-3 5-7 3-25 0-40-7-51-13-52-17M-136-652l10 13 7 13 3 14 0 14-4 11-7 9-10 7-14 5-40 4-54-3-63-10-60-14"/>
<path stroke="#1caadf" d="M15-4l6-5 19-2M55-15l16-8 31-5M131-36l34-12 54-11M273-74l68-22 97-23M539-146l131-40 178-44M1037-282l185-53M-5-2l12 0M13-12l-17-1-3-2 0-4 6-3 21 2 0 4zM62-25l-21 2-7-2 4-6 7-4 34-3 4 1-1 3zM154-50l-44 6 4-5 17-9 27-6 43-5-20 10zM326-97l-74 14 11-6 36-14 46-12 75-14-38 15zM649-184l-132 29 21-9 72-23 85-23 138-30-77 25zM1215-338l-202 49 184-58M-30-14l17 3 2 6M-18-26l-26-5-7-5-3-7 10 0 26 5 5 7-1 4zM31-39l-33-2-5-4 0-8 4-4 7-1 40 3 3 3-3 5zM123-64l-40 3-10-1-3-3 8-11 13-6 63-6 9 2-4 5-19 11zM295-111l-51 9-31 2 0-3 7-6 32-16 50-12 64-9 16 0-7 5-28 13zM618-199l-86 19-53 8-2-1 2-2 17-8 67-26 85-23 110-21 36-5-13 7-58 20zM1184-353l-149 35-60 11 41-17 134-45M-78-36l27 7 9 9M-75-53l-40-11-18-11-10-10 18 3 35 11 15 12 3 5zM-26-66l-26-3-23-6-14-10-5-12 4-2 15 1 48 10 6 5 3 8-2 6zM65-91l-33 1-29-4-10-8 0-14 7-8 15-2 51 2 23 4 5 5-5 10-11 10zM237-138l-35 5-40 2-19-2-5-6 4-9 11-11 24-13 39-5 79-4 16 2 0 4-6 6-36 21zM560-225l-96 16-40 4-18-1-2-2 1-2 15-12 59-30 39-12 55-11 119-16 22-1 9 1-13 10-54 24-54 20zM1125-380l-155 32-47 7-20 1-1-3 5-4 30-14 125-48M-167-77l44 15 23 16M-184-103l-33-10-35-14-39-22-20-14 33 10 54 20 33 20 9 8zM-135-116l-36-8-39-13-34-21-14-12-4-6 8 0 26 6 66 20 14 8 14 14 5 9zM-43-141l-48-5-43-12-13-7-13-12-10-15-1-7 10-4 27 3 61 10 29 8 11 9 5 16-3 11zM129-188l-62 1-34-3-21-4-12-6-6-9-3-13 2-14 4-7 9-6 28-4 97 4 42 6 7 5 2 5-1 8-8 12-20 17zM452-276l-67 9-75 4-36-4-7-4-2-6 9-18 20-21 19-13 26-10 29-6 43-5 149-7 19 1 11 3 1 3-1 5-11 10-29 20-39 20-28 11zM1016-431l-84 15-84 11-54 5-26-3-4-3 2-6 22-17 52-30 56-27M-335-155l77 31 49 27M-387-197l-56-21-63-27-82-41-38-23 62 23 87 36 68 36 23 14 2 3zM-338-210l-62-19-66-27-74-40-28-18-9-8 16 3 46 14 101 38 28 15 34 23 18 15 0 3zM-246-235l-26-4-43-11-72-24-29-16-34-24-28-22-6-10 14-2 49 11 81 23 43 15 26 16 25 25 10 18-3 4zM-74-282l-36-1-54-8-49-10-32-12-25-14-23-22-18-27-3-9 1-6 7-5 10-1 51 4 114 19 31 7 23 8 13 9 9 9 6 14 3 15-1 13-5 9-10 6zM248-370l-47 4-69-1-63-6-41-8-22-12-12-15-5-25 4-26 8-14 18-10 22-6 30-2 74 1 106 6 51 5 30 7 13 8 3 10-3 15-14 22-17 18-21 15-22 9zM810-526l-93 10-99 5-65-1-37-7-10-7-3-8 1-9 7-15 32-38 20-17 23-17M-649-300l139 59 98 50M424-705l-82 3-81-3-86-6-63-8M-932-436l138 69M-900-445l104 54 32 19-46-18-113-48M-838-462l97 56 23 15 4 5-50-16-118-47M-723-493l45 29 41 30 17 16 2 4-2 2-19-2-40-11-127-45M-506-552l35 32 27 33 8 19-2 6-6 3-27-1-48-9-74-19-69-21M-101-662l11 18 7 18 3 19-1 21-4 15-6 9-9 8-14 5-41 4-65-5-91-14-82-18"/>
<path stroke="#12beb9" d="M12-3l6-8 27-1M49-13l19-11 44-6M120-33l42-17 75-14M252-68l86-30 134-30M500-136l168-51 244-61M965-262l256-74M-7-3l16 0M18-11l-27-1-1-12 37 2zM68-24l-41 2 13-15 56-4zM162-50l-66 9 38-22 91-13zM338-98l-113 22 85-35 157-30zM667-187l-200 46 172-59 281-64zM1217-338l-297 74 274-84M-34-16l25 4 0 8M-10-24l-38-6-15-18 52 8zM40-37l-51-3-2-22 71 4zM134-63l-76 4 23-28 106-6zM310-111l-123 18 70-42 172-24zM639-200l-210 41 158-65 135-25 160-33zM1188-351l-306 69 262-89M-86-40l38 10 10 13M-63-48l-56-15-43-31 79 21zM-13-62l-70-11-28-34 97 15zM81-87l-95-5-4-41 65 5 68 1zM257-135l-80 6-62 2 43-54 94-3 105-8zM587-224l-121 18-109 14 131-78 149-18 173-27zM1132-377l-322 62 241-99M-181-84l62 21 27 21M-162-94l-92-31-92-54 129 44zM-112-107l-105-28-79-58 78 22 70 17zM-18-133l-64-8-66-13-55-64 95 17 89 12zM158-181l-90-1-87-7-6-76-2-1 121 9 128 3zM488-270l-150 12-116 2 82-98-1-2 176-6 197-15zM1028-425l-178 27-174 21 200-118M-361-167l107 42 61 36M-347-179l-159-63-187-98 224 88zM-297-193l-172-59-174-101 130 46 112 36zM-203-218l-95-23-103-30-148-108 147 42 130 31zM-27-266l-120-16-125-24-97-118-4-2 178 33 165 22-2 1 7 103zM303-356l-168-3-165-12-3-2-7-140-3-3 117 11 108 6 120 4 121 1-5 2-111 134zM834-515l-205 14-206 7-1-3 126-150M-698-323l192 81 123 65M468-684l-209-6-206-13M-930-436l192 94M-895-446l202 106-233-98M-830-464l187 111-244-95M-708-497l159 118-131-42-135-47M-480-559l108 131-1 1-153-36-153-42M-51-675l11 157-4 2-193-25-187-33"/>
<path stroke="#48cb86" d="M8-3l5-4 0-2-16-2-4 2 2 5zM44-13l14-7 1-2-4 0-24 2-8 7zM112-32l33-13-32 4-20 4-14 10zM239-66l66-23-53 10-36 9-34 15zM477-131l129-39-94 20-67 18-70 24zM923-252l248-72-187 46-115 31-130 41zM-14-14l2-4-3-4-26-4 7 9zM22-24l9-6 1-3-2-2-29-2-8 4 0 5 4 3zM90-42l25-13 2-3-8-1-45 4-9 5-6 8 11 3zM217-76l35-13 25-12-59 6-37 9-23 12-5 4 1 2 25-2zM455-141l73-23 50-19-100 18-67 17-50 19-13 8 41-5zM901-262l141-41 101-33-177 38-125 33-99 33-32 13 71-14zM-56-33l1-2-2-4-11-8-39-9 20 14zM-20-43l4-2 0-5-2-6-4-3-36-7-13 1 5 9 10 7 18 4zM47-62l9-3 8-8 3-6-4-4-55-3-10 1-6 6 1 10 8 6 23 2zM174-96l23-8 26-16 3-3-1-3-15-1-56 3-27 4-18 9-10 15 5 4 15 1zM412-161l67-22 36-16 11-8-25 0-87 12-40 8-28 9-42 22-10 8 1 3 48-3zM858-282l139-42 72-26 22-11-40 5-149 29-71 16-54 16-93 36-24 12-3 2 1 2 25-2 52-9zM-136-70l1-2-8-6-24-14-62-22 44 27zM-99-80l2-2-4-8-20-15-51-15-21-3 14 13 23 15 30 10zM-32-98l8-4 1-9-3-10-9-7-22-6-44-7-20-2-6 3 2 7 8 10 18 14 34 8zM95-133l17-6 14-13 5-13-2-4-5-3-36-5-67-2-19 3-6 4-4 6-1 10 3 9 4 6 10 5 44 5zM333-197l43-16 48-28 6-8-2-4-28-3-105 6-51 8-16 7-16 10-15 16-6 12 3 6 7 2 29 2 56-3zM779-318l58-17 68-26 67-29 16-9 5-6-11-3-36 3-163 23-75 14-52 17-42 20-38 22-19 14-1 4 4 3 30 0 59-6 72-12zM-284-138l-20-15-48-25-107-42 89 47zM-248-148l3-1-2-3-15-12-44-26-74-28-43-12 28 20 54 29 52 21zM-180-167l5-1 1-4-9-13-18-17-19-12-32-11-64-17-30-7-10 2 6 7 20 17 44 27 56 19zM-53-201l9-2 5-6 3-16-7-20-16-12-41-11-84-14-36-3-7 2-4 4 3 12 15 20 15 14 18 11 28 9 37 7 38 5zM185-266l16-4 15-8 14-11 12-14 8-14 2-10-3-8-10-5-23-5-45-4-124-4-21 2-16 4-12 8-6 10-2 19 4 18 9 11 18 8 35 7 47 4 50 0zM631-387l43-13 38-16 52-28 37-26 11-13 0-4-3-4-16-4-36-2-197 11-58 7-39 8-30 12-30 21-27 29-9 14-2 9 6 10 13 5 54 3 105-5zM-561-267l-44-25-93-46-193-82 174 87zM-525-277l2-1-6-4-34-22-89-47-132-53-71-26 61 35 106 54 93 39zM-458-295l5-1-3-6-29-23-43-28-39-21-49-20-90-31-61-20-19-3 9 10 43 27 101 55 97 38 50 16zM-331-330l9-2 1-7-16-26-33-31-36-22-60-21-119-32-58-12-14-1-3 3 1 5 9 10 38 31 42 29 41 22 47 18 57 18 58 14zM-93-394l16-5 11-9 5-13 0-19-5-20-8-16-12-13-19-10-34-12-43-9-156-26-42-4-26-1-12 3-9 7 0 11 6 13 27 36 30 27 34 20 52 17 69 14 71 9zM353-515l30-8 28-15 27-21 22-26 16-26 4-20-7-13-19-11-43-9-84-8-147-7-86 0-39 3-30 8-10 5-12 10-11 20-4 17 0 18 2 18 6 16 7 11 10 9 14 9 18 7 66 12 89 7 93 0z"/>
<path stroke="#9fc942" d="M7-4l4-3-1-2-12-1-4 2 3 4zM43-14l11-5-3-2-18 2-7 5 4 2zM111-32l26-11-23 2-20 6-9 4-1 3zM237-66l53-18-39 6-37 10-22 10zM475-131l103-32-69 15-69 19-45 16zM920-252l198-57-124 30-130 35-90 28zM-17-15l3-3-4-4-20-2 6 7zM19-25l9-5 0-2-3-2-22-1-8 3 1 4 4 3zM87-43l21-10 1-3-8-1-33 3-9 5-5 5 9 3zM214-77l32-11 17-9-42 4-38 9-18 9-2 3 2 1 20-1zM451-142l65-19 34-15-74 13-69 19-34 13-7 4 1 2 33-5zM896-263l123-35 72-24-31 5-99 22-130 35-68 23-16 6-2 2 1 1 56-11zM-61-35l2-1-1-3-10-7-31-8 16 12zM-25-45l5-2 0-4-7-7-27-6-11 2 3 6 8 6 15 4zM43-63l9-4 6-6 1-5-6-3-41-3-10 3-4 5 1 7 8 4 18 3zM170-98l22-7 17-11 2-4-1-2-13-2-38 2-26 5-17 8-8 10 4 4 13 2zM407-162l61-20 24-11 7-6-19-1-60 8-40 8-31 10-32 17-5 5 3 3 38-3zM852-283l121-36 48-18 17-9-34 3-104 20-70 17-60 18-64 25-13 7-1 3 2 1 61-9zM-143-73l1-2-6-5-21-12-49-16 34 20zM-107-83l3-2-3-6-18-13-37-11-20-3 9 10 20 12 25 9zM-40-102l8-3 2-8-5-7-10-7-49-10-15 0-7 3 0 5 6 7 16 11 28 8zM87-136l17-6 12-12 0-10-11-6-34-4-42 0-19 5-8 9 0 6 2 7 15 9 34 4zM324-200l42-14 33-21 4-6-3-4-25-4-70 4-50 8-16 7-15 8-11 11-4 8 2 5 5 3 25 3 43-2zM769-321l54-15 61-23 45-21 10-7 2-4-10-3-26 1-112 15-74 15-59 19-33 15-27 17-9 9 1 4 5 2 27 0 44-5zM-298-145l-12-10-41-21-87-34 69 37zM-262-155l3-1-1-2-11-9-39-22-59-23-33-8 20 15 44 23 45 18zM-195-173l7-4-6-11-14-12-20-11-27-11-42-11-26-6-12 1 4 7 13 11 38 23 47 17zM-68-208l15-6 3-6 0-9-8-14-19-12-37-10-55-9-30-1-8 2-4 4 1 9 10 14 14 12 16 9 24 8 28 6 28 4zM169-272l18-5 15-7 13-9 8-10 4-11-1-8-7-7-12-5-28-6-38-3-80 0-23 3-13 5-9 7-6 10-1 13 6 12 12 10 16 7 26 5 37 3 33 0zM614-393l40-11 38-15 37-20 25-18 7-12-4-8-15-4-33-3-56 2-74 5-56 8-38 8-31 12-28 16-20 20-7 16 3 8 10 6 16 4 29 2 81-4zM-589-279l-27-17-79-39-101-45-55-21 136 67zM-553-289l3-1-3-3-22-14-76-40-104-44-60-20 41 25 89 44 81 35zM-485-308l5-1-1-4-20-17-34-21-40-21-48-20-62-22-45-14-17-1 10 10 28 18 82 43 84 34zM-358-342l9-2 3-5-3-9-8-11-27-23-37-22-51-19-78-22-50-10-14-1-7 3 0 5 7 8 24 21 34 23 37 19 40 17 49 15 42 10zM-121-406l17-5 10-7 7-12 0-16-6-14-10-12-15-12-21-10-26-10-42-10-104-16-55-2-16 4-7 7-1 8 2 9 19 26 27 22 30 17 45 15 52 12 52 6zM323-527l33-9 30-14 23-17 15-19 8-20-3-15-12-12-22-10-54-11-70-6-82-3-67 2-43 7-25 9-17 13-11 19-2 24 3 12 7 11 10 10 13 9 30 12 48 9 71 6 62 0z"/>
<path stroke="#eaba31" d="M5-4l4-2-1-2-12 1 2 2zM41-14l9-4 1-1-3-1-13 1-7 4zM107-32l23-9-16 1-18 5-7 5zM232-66l45-15-27 4-33 9-15 8zM465-129l89-27-48 10-61 16-32 12zM903-248l170-49-86 20-115 31-65 21zM-20-16l4-2-4-3-16-2 5 5zM16-25l8-4-3-4-16-1-7 3 5 5zM82-43l19-7 1-4-5-1-26 3-8 3-4 4 7 3zM207-77l29-9 14-8-29 2-34 9-12 6-1 4zM441-141l56-16 29-12-51 8-62 17-25 9-4 3 1 2zM879-259l106-30 60-21-89 19-115 31-51 16-11 5 1 2zM-66-37l3-1 0-1-8-6-24-6 11 9zM-30-47l5-1 1-3-6-6-19-5-11 2 2 4 7 5zM36-65l10-2 5-4 1-5-5-3-31-2-9 2-4 5 2 4 7 4zM161-99l20-5 14-8 3-6-10-2-26 1-22 4-15 6-7 8 2 3 9 2zM395-162l54-16 19-9 6-6-15-1-39 5-34 7-29 9-23 12-4 4 2 2 23 0zM832-281l106-30 42-15 13-8-29 2-67 13-62 15-54 16-46 18-10 6 3 3 37-5zM-152-77l3 0-3-3-17-11-39-12 24 14zM-117-87l5-1 0-3-15-11-29-10-16-1 6 7 16 9zM-50-105l9-2 3-5-3-6-9-6-36-9-15 0-5 3 3 9 14 9 19 5zM75-138l17-5 11-8 1-8-10-6-27-5-31 1-16 4-7 8 3 9 13 7 22 3zM308-202l37-10 27-14 6-7-1-5-19-4-48 2-41 7-28 11-10 9-3 6 4 6 17 4 27-1zM746-321l55-14 46-16 36-16 9-6 3-5-6-3-23 0-71 9-66 14-53 17-43 21-8 8 4 5 15 1 27-2zM-314-152l3 0-6-5-36-18-66-27 49 27zM-278-162l5 0-5-6-33-19-47-19-25-5 14 11 31 16 33 14zM-212-180l9-1-1-7-11-10-17-10-54-18-21-4-9 1 2 6 10 8 29 16 32 13zM-87-213l16-4 5-4 1-6-6-12-16-11-30-9-38-7-27 0-11 6 1 7 6 8 26 17 36 11zM146-277l34-9 11-6 8-9 3-7-1-7-6-7-12-5-52-8-56 1-31 8-9 7-5 8 1 9 5 8 11 8 14 5 41 6zM584-396l35-8 34-11 29-13 22-14 11-13-2-8-12-5-23-3-42 0-48 4-78 13-26 9-27 12-18 16-6 12 2 7 7 5 31 6 50-1zM-617-292l4 0-15-9-69-34-119-50 97 48zM-582-302l6 0-13-9-66-35-82-35-43-14 27 17 65 33 61 26zM-516-320l8 1 3-2-10-11-27-17-34-18-89-35-34-10-13-1 7 8 19 12 58 31 62 27zM-391-354l11 0 7-3 1-5-4-7-21-20-32-19-42-17-58-17-40-7-13 0-4 3 0 4 5 6 17 15 54 32 61 23 34 9zM-157-417l17-2 14-5 8-8 3-11-3-11-9-12-15-11-15-8-57-18-70-12-30-2-22 2-11 3-7 7 1 14 11 15 23 18 25 14 31 11 36 9 37 6zM280-536l37-7 26-10 21-12 16-16 6-14-2-13-12-13-23-10-43-9-53-5-53-2-53 3-33 6-25 10-17 12-9 16 1 17 10 15 21 14 25 9 32 7 46 5 43 0z"/>
<path stroke="#fad42e" d="M4-5l3-1-1-2-8 1zM39-15l8-3-13 1-2 2zM106-33l16-6-22 4-5 3zM231-67l32-10-41 9-10 5zM466-130l62-19-74 18-22 8zM905-249l119-35-137 35-42 14zM-22-17l3-1-3-3-10-1 3 4zM14-27l6-2-2-3-11-1-5 3 3 3zM80-45l11-3 4-3-10-2-16 4-3 3 1 2zM205-79l21-5 10-6-17 1-25 6-9 4-1 3zM440-142l43-12 17-8-31 5-46 12-18 9zM879-261l81-23 37-13-54 11-86 23-40 15zM-70-39l2-2-5-4-17-3 8 5zM-34-49l5-2-5-5-13-3-7 1 6 6zM32-67l12-5 0-3-5-2-19-1-9 4 5 6zM157-101l20-6 7-6-5-3-14 0-29 7-6 5 2 4zM392-164l38-12 18-10-7-1-24 2-48 12-16 8-2 3 1 2 15 0zM831-284l80-22 25-10 8-5-15 0-43 9-86 23-30 11-6 4 1 2 23-3zM-160-81l2 0-1-2-12-7-26-9 15 10zM-125-91l4 0 0-3-10-7-19-7-11 0 14 10zM-58-109l7-1 3-3-2-5-7-4-25-6-8 0-5 3 3 5 9 6zM67-143l13-3 9-5 0-6-9-5-16-2-19 0-13 3-6 6 2 5 8 5 14 3zM301-206l38-11 11-8 2-5-10-4-26 0-29 4-25 8-12 10 0 3 4 4 20 2zM740-325l73-21 25-11 9-8-4-3-11 0-44 5-48 10-41 12-31 15-4 5 3 4 28-1zM-330-159l4 0-3-2-23-13-48-18 31 17zM-294-169l5 0-3-4-23-13-32-13-17-3 29 17zM-227-187l7-1 0-5-19-13-36-13-14-2-7 1 7 9 19 11 23 8zM-102-221l12-2 6-6-4-9-13-8-22-7-24-4-16 0-9 5 1 5 4 6 18 10 24 8zM132-284l25-6 16-11 2-5-2-6-16-8-31-5-36 1-24 6-10 9 0 5 3 6 15 9 27 5zM571-404l39-9 32-12 21-13 3-6 0-4-6-5-13-3-48 0-54 8-47 14-16 10-8 9 0 6 9 7 15 3 23 1zM-647-306l5 1-7-4-45-23-85-36 61 31zM-611-316l6 1-6-5-43-22-58-26-31-10 15 10 44 22zM-545-334l10 0-6-7-43-24-61-25-23-6-7 0 15 12 38 21 45 19zM-420-368l15-1 2-3-2-6-14-12-23-14-30-12-37-11-27-5-9 0-4 3 4 7 10 9 36 21 42 16zM-185-431l23-4 8-5 3-7-2-8-6-8-24-15-41-14-44-7-31 1-11 3-5 6 1 9 8 10 12 10 21 10 45 14zM254-550l27-5 20-6 17-9 12-11 4-10-4-11-11-8-18-8-26-5-33-4-67 2-25 4-19 7-13 9-6 9-1 9 6 11 11 9 17 8 22 6 29 3z"/>
</g></g>
<g fill="url(#g2)" stroke="url(#g2)" stroke-width="2.4" stroke-linejoin="round">
<path transform="matrix(0.25 -0.067848 0 0.25 807.63 255.10)" d="M0-241l7 97 8 72 9 27 16-82 17-162-13 9-16 162-17 82-8-27-8-72-8-97zM538-269l16-44 17-39 16-31 17-23 17-14 16-5 17 3-13 9-16-3-17 5-17 14-16 23-17 31-16 39-17 44z"/>
<path transform="matrix(0.25 -0.067848 0 0.25 810.80 256.57)" d="M0-264l7 97 8 72 9 27 16-82 17-162-13 13-16 162-17 83-8-28-8-72-8-97zM521-245l17-47 16-44 17-39 16-31 17-23 17-14 16-5 17 3-13 14-16-4-17 5-17 14-16 23-17 32-16 38-17 44-17 47z"/>
<path transform="matrix(0.25 -0.067848 0 0.25 813.97 258.04)" d="M0-291l7 97 8 72 9 28 16-83 17-162-13 17-16 163-17 82-8-27-8-72-8-98zM521-272l17-47 16-44 17-38 16-32 17-23 17-14 16-5-12 17-17 6-17 14-16 23-17 31-16 39-17 44-17 47z"/>
<path transform="matrix(0.25 -0.067848 0 0.25 817.14 259.50)" d="M0-321l7 97 8 72 9 28 16-83 17-162-13 21-16 162-17 82-8-27-8-72-8-97zM505-254l33-95 16-44 17-38 16-32 17-23 17-14 16-5-12 21-17 5-17 14-16 23-17 31-16 39-17 44-33 95z"/>
<path transform="matrix(0.25 -0.067848 0 0.25 820.31 260.97)" d="M0-354l7 98 8 72 9 27 16-82 17-163-13 24-16 162-17 82-8-27-8-72-8-97zM239-459l17-54 16-24 17 8 17 34-13 23-17-34-16-7-17 23-16 54zM505-287l33-94 16-44 17-39 16-31 17-23 17-14 16-6-12 24-17 5-17 14-16 23-17 31-16 39-17 44-33 94z"/>
<path transform="matrix(0.25 -0.067848 0 0.25 823.48 262.44)" d="M0-388l7 97 8 72 9 28 16-83 17-162-13 25-16 162-17 83-8-28-8-72-8-97zM223-415l16-78 17-54 16-24 17 7 17 34-13 25-17-34-16-7-17 24-16 54-17 78zM488-277l17-44 33-95 16-44 17-38 16-32 17-23 17-14 16-5-12 25-17 5-17 14-16 23-17 32-16 38-17 44-33 95-17 44z"/>
<path transform="matrix(0.25 -0.067848 0 0.25 826.65 263.91)" d="M0-423l7 97 8 72 9 28 16-83 17-162-13 26-16 162-17 82-8-27-8-72-8-97zM223-450l16-78 17-54 16-24 17 8 17 33-13 26-17-34-16-7-17 23-16 54-17 78zM471-273l17-38 17-45 33-95 16-44 17-38 16-31 17-24 17-14-13 26-17 14-16 23-17 31-16 39-17 44-33 95-17 44-16 38z"/>
<path transform="matrix(0.25 -0.067848 0 0.25 829.82 265.37)" d="M0-457l7 97 8 72 9 27 16-82 17-162-13 25-16 162-17 82-8-27-8-72-8-97zM206-396l17-88 16-78 17-55 16-23 17 7 17 34-13 25-17-34-16-7-17 23-16 54-17 79-17 88zM471-307l17-39 17-44 33-95 16-44 17-38 16-32 17-23 17-14 16-5-12 25-17 5-17 14-16 23-17 32-16 38-17 44-33 95-17 44-16 39z"/>
<path transform="matrix(0.25 -0.067848 0 0.25 832.99 266.84)" d="M57-537l16-116 17-12 17 79-13 23-17-79-16 12-17 116zM206-428l17-89 16-78 17-54 16-23 17 7 17 34-13 23-17-34-16-7-17 23-16 54-17 78-17 89zM455-311l16-29 17-38 17-45 33-94 16-44 17-39 16-31 17-23 17-14 16-5-12 23-17 5-17 14-16 23-17 31-16 39-17 44-33 94-17 45-16 38-17 29z"/>
<path transform="matrix(0.25 -0.067848 0 0.25 836.16 268.31)" d="M40-404l17-162 16-117 17-11 17 79-13 19-17-79-16 12-17 116-16 163zM190-377l16-80 17-89 16-78 17-54 16-24 17 8 17 34-13 19-17-33-16-8-17 24-16 54-17 78-17 89-16 80zM438-324l17-16 16-29 17-38 17-45 33-94 16-44 17-39 16-31 17-23 17-14 16-5 17 3-13 20-16-4-17 5-17 15-16 23-17 31-16 38-17 44-33 95-17 45-16 38-17 29-16 15z"/>
<path transform="matrix(0.25 -0.067848 0 0.25 839.33 269.77)" d="M40-429l17-162 16-116 17-12 17 79 16 119-12 16-17-120-17-79-16 12-17 116-16 162zM190-402l16-80 17-88 16-79 17-54 16-23 17 7 17 34-13 15-17-33-16-8-17 24-16 54-17 78-17 89-16 79zM438-349l17-16 16-28 17-39 17-44 33-95 16-44 17-38 16-32 17-23 17-14 16-5 17 4-13 15-16-4-17 5-17 14-16 23-17 32-16 38-17 44-33 95-17 45-16 38-17 29-16 15z"/>
<path transform="matrix(0.25 -0.067848 0 0.25 842.50 271.24)" d="M40-448l17-162 16-116 17-12 17 79 16 120-12 9-17-119-17-79-16 12-17 116-16 162zM190-420l16-80 17-89 16-78 17-54 16-24 17 8 17 33-13 10-17-34-16-7-17 23-16 54-17 78-17 89-16 80zM422-367l16-1 17-15 16-29 17-38 17-45 33-95 16-44 17-38 17-31 16-23 17-15 16-5 17 4 16 12-12 9-17-12-16-3-17 5-17 14-16 23-17 31-16 39-17 44-33 94-17 45-16 38-17 29-16 16-17 0z"/>
<path transform="matrix(0.25 -0.067848 0 0.25 845.68 272.71)" d="M24-377l16-82 17-162 16-116 17-12 17 79 16 119-13 2-16-119-17-79-16 12-17 116-16 162-17 82zM189-432l17-80 17-89 16-78 17-54 16-23 17 7 17 34 16 53-13 2-16-53-17-34-16-7-17 23-16 54-17 79-17 88-16 80zM405-395l17 16 16 0 17-16 16-29 17-38 17-45 33-94 16-44 17-39 16-31 17-23 17-14 16-5 17 3 16 12 17 19 17 24-13 2-17-24-16-19-17-11-16-4-17 5-17 14-16 23-17 32-16 38-17 44-33 95-17 44-16 39-17 28-16 16-17 1-17-16z"/>
<path transform="matrix(0.25 -0.067848 0 0.25 848.85 274.18)" d="M24-381l16-82 17-162 16-116 17-12 17 79 16 119-13-5-16-120-17-78-16 11-17 116-16 163-17 82zM189-436l17-80 17-88 16-78 17-55 16-23 17 7 17 34 16 53-13-6-16-53-17-33-16-8-17 24-16 54-17 78-17 89-16 80zM388-431l17 33 17 16 16-1 17-16 16-28 17-39 17-44 33-95 16-44 17-38 16-32 17-23 17-14 16-5 17 4 16 11 17 19 17 24 16 30 17 32 16 34-12-5-17-35-17-32-16-29-17-25-16-18-17-12-16-4-17 5-17 15-16 23-17 31-16 38-17 44-33 95-17 45-16 38-17 29-16 15-17 1-17-16-16-33z"/>
<path transform="matrix(0.25 -0.067848 0 0.25 852.02 275.64)" d="M24-375l16-83 17-162 16-116 17-12 17 79 16 120-13-15-16-119-17-79-16 12-17 116-16 162-17 82zM190-431l16-79 17-89 16-78 17-54 16-24 17 7 17 34 16 53 33 128 17 59 16 48 17 33 17 16 16-1 17-16 16-28 17-39 17-44 33-95 16-44 17-38 16-32 17-23 17-14 16-5 17 4 16 11 17 19 17 25 16 29 17 32 49 104 17 32 17 30 16 27 17 23-13-15-16-23-17-26-17-30-16-33-50-103-17-33-16-29-17-24-16-19-17-12-16-3-17 5-17 14-16 23-17 31-16 39-17 44-33 94-17 45-16 38-17 29-16 16-17 0-17-16-16-32-17-48-16-59-34-128-16-53-17-34-16-7-17 23-16 54-17 78-17 89-16 80z"/>
<path transform="matrix(0.25 -0.067848 0 0.25 855.19 277.11)" d="M24-361l16-83 17-162 16-116 17-12 17 79 16 120-13-24-16-119-17-79-16 12-17 116-16 162-17 82zM173-368l17-49 16-79 17-89 16-78 17-54 16-24 17 8 17 33 16 53 33 128 17 59 16 48 17 33 17 16 16-1 17-15 16-29 17-38 17-45 33-95 16-44 17-38 16-32 17-23 17-14 16-5 17 4 16 11 17 19 17 25 16 29 17 32 49 104 17 32 17 30 16 27-12-23-17-27-17-30-16-33-50-103-17-33-16-29-17-24-16-19-17-12-16-3-17 5-17 14-16 23-17 31-16 39-17 44-33 95-17 44-16 38-17 29-16 16-17 1-17-17-16-32-17-48-16-59-34-128-16-53-17-34-16-7-17 23-16 54-17 78-17 89-16 80-17 49z"/>
<path transform="matrix(0.25 -0.067848 0 0.25 858.36 278.58)" d="M24-338l16-83 17-162 16-116 17-12 17 79 16 120-13-33-16-119-17-79-16 12-17 116-16 162-17 82zM190-394l16-79 17-89 16-78 17-54 16-24 17 8 17 33 16 53 33 128 17 59 16 48 17 33 17 16 16-1 17-15 16-29 17-38 17-45 33-95 16-44 17-38 16-31 17-24 17-14 16-5 17 4 16 12 17 18 17 25 16 29 17 32 49 104 17 32 17 30 16 27-12-32-17-27-17-30-16-33-50-103-17-32-16-30-17-24-16-19-17-11-16-4-17 5-17 14-16 23-17 32-16 38-17 44-33 95-17 44-16 39-17 28-16 16-17 1-17-16-16-33-17-48-16-59-34-128-16-53-17-34-16-7-17 23-16 54-17 79-17 88-16 80z"/>
<path transform="matrix(0.25 -0.067848 0 0.25 861.53 280.04)" d="M24-307l16-82 17-162 16-116 17-12 17 79 16 119 17 107-13-41-16-107-17-119-17-79-16 12-17 116-16 162-17 82zM206-442l17-89 16-78 17-54 16-23 17 7 17 34 16 53 33 128 17 59 16 47 17 33 17 16 16 0 17-16-13-41-16 16-17 1-17-16-16-33-17-48-16-59-34-128-16-53-17-34-16-7-17 23-16 54-17 79-17 88zM505-437l33-94 16-44 17-39 16-31 17-23 17-14 16-5 17 3 16 12 17 19 17 24 16 29 17 33 49 103 17 33 17 30-13-41-17-30-16-33-50-103-17-32-16-30-17-24-16-19-17-11-16-4-17 5-17 14-16 23-17 32-16 38-17 44-33 95z"/>
<path transform="matrix(0.25 -0.067848 0 0.25 864.70 281.51)" d="M24-268l16-83 17-162 16-116 17-12 17 79 16 120 17 106-13-48-16-106-17-119-17-79-16 11-17 116-16 163-17 82zM206-403l17-89 16-78 17-54 16-24 17 8 17 33 16 53 33 128 17 59 17 48 16 33 17 16-13-48-17-16-16-33-17-48-16-59-34-128-16-52-17-34-16-8-17 24-16 54-17 78-17 89zM505-398l33-95 16-44 17-38 16-32 17-23 17-14 16-5 17 4 16 11 17 19 17 25 16 29 17 32 49 104 17 32-13-48-16-32-50-104-17-32-16-29-17-25-16-18-17-12-16-4-17 5-17 15-16 23-17 31-16 38-17 44-33 95z"/>
<path transform="matrix(0.25 -0.067848 0 0.25 867.87 282.98)" d="M24-224l16-83 17-162 16-116 17-12 17 79 16 120-12-54-17-119-17-79-16 12-17 116-16 162-17 82zM190-280l16-79 17-89 16-78 17-54 16-24 17 7 17 34 16 53 33 128 17 59 17 48 16 33-13-53-16-33-17-48-16-59-34-128-16-53-17-34-16-7-17 23-16 54-17 79-17 88-16 80zM521-402l17-47 16-44 17-38 16-32 17-23 17-14 16-5 17 4 16 11 17 19 17 25 16 29 17 32 49 104-12-54-50-103-17-33-16-29-17-24-16-19-17-12-16-3-17 5-17 14-16 23-17 31-16 39-17 44-17 47z"/>
<path transform="matrix(0.25 -0.067848 0 0.25 871.04 284.45)" d="M40-260l17-162 16-116 17-12 17 79-13-56-17-79-16 12-17 116-16 162zM206-312l17-89 16-78 17-54 16-24 17 8 17 33 16 53 33 128 17 59 17 48-13-56-17-48-16-59-34-128-16-53-17-34-16-7-17 23-16 54-17 78-17 89zM521-355l17-47 16-44 17-38 16-32 17-23 17-14 16-5 17 4 16 12 17 18 17 25 16 29 17 32 33 69-13-56-33-69-17-33-16-29-17-24-16-19-17-12-16-3-17 5-17 14-16 23-17 31-16 39-17 44-17 47z"/>
<path transform="matrix(0.25 -0.067848 0 0.25 874.21 285.91)" d="M272-509l17 7 17 34 16 53 33 128-12-57-34-128-16-53-17-34-16-7zM521-307l17-47 16-44 17-39 16-31 17-23 17-14 16-5 17 3 16 12 17 19 17 24 16 29 17 33-13-57-17-32-16-30-17-24-16-19-17-11-16-4-17 5-17 14-16 23-17 32-16 38-17 44-17 47z"/>
<path transform="matrix(0.25 -0.067848 0 0.25 877.38 287.38)" d="M587-423l17-23 17-15 16-5 17 4 16 12 17 18 17 25 16 29-13-54-16-29-17-25-16-18-17-12-16-4-17 6-17 14-16 23z"/>
<path transform="matrix(0.25 -0.067848 0 0.25 880.55 288.85)" d="M588-385l16-23 17-14 16-5 17 3 16 12 17 19-13-48-16-19-17-11-16-4-17 5-17 14-16 23z"/>
<path transform="matrix(0.25 -0.067848 0 0.25 883.72 290.31)" d="M0-215l8 97 7 73 9 27 16-82 17-163-13-38-16 163-17 82-8-27-8-73-8-97z"/>
<path transform="matrix(0.25 -0.067848 0 0.25 886.90 291.78)" d="M0-199l7 97 8 72 9 28 16-83 17-162-13-25-16 162-17 82-8-27-8-72-8-97z"/>
<path transform="matrix(0.25 -0.067848 0 0.25 890.07 293.25)" d="M0-198l7 97 8 72 9 27 16-82 17-162-13-10-16 162-17 82-8-27-8-72-8-97z"/>
<path transform="matrix(0.25 -0.067848 0 0.25 893.24 294.72)" d="M0-214l7 97 8 72 9 27 16-82 17-162-13 6-16 163-17 82-8-27-8-72-8-98z"/>
<path transform="matrix(0.25 -0.067848 0 0.25 896.41 296.18)" d="M0-247l7 97 8 72 9 27 16-82 17-162-13 23-16 163-17 82-8-27-8-73-8-97zM239-353l17-54 16-23 17 7-13 24-16-8-17 24-16 54z"/>
<path transform="matrix(0.25 -0.067848 0 0.25 899.58 297.65)" d="M0-295l7 97 8 72 9 28 16-83 17-162-13 39-16 162-17 82-8-27-8-72-8-97zM223-322l16-78 17-55 16-23 17 7-13 39-16-8-17 24-16 54-17 78z"/>
<path transform="matrix(0.25 -0.067848 0 0.25 902.75 299.12)" d="M206-293l17-88 16-79 17-54 16-23 17 7-13 50-16-7-17 23-16 54-17 78-17 89z"/>
<path transform="matrix(0.25 -0.067848 0 0.25 905.92 300.58)" d="M40-305l17-162 16-116 17-12 17 79-13 56-17-79-16 12-17 116-16 162zM190-278l16-80 17-88 16-78 17-54 16-24 17 7-13 56-16-7-17 23-16 54-17 78-17 89-16 80z"/>
<path transform="matrix(0.25 -0.067848 0 0.25 909.09 302.05)" d="M40-368l17-162 16-116 17-12 17 79-13 54-17-79-16 12-17 116-16 162zM190-341l16-80 17-88 16-78 17-55 16-23 17 7-13 54-16-7-17 23-16 54-17 78-17 89-16 80zM538-510l16-44 17-38 16-32 17-23-13 54-16 23-17 31-16 39-17 44z"/>
<path transform="matrix(0.25 -0.067848 0 0.25 912.26 303.52)" d="M24-338l16-83 17-162 16-116 17-12 17 79-13 44-17-79-16 12-17 116-16 162-17 82zM173-345l17-49 16-79 17-89 16-78 17-54 16-24 17 8 17 33-13 44-17-34-16-7-17 23-16 54-17 78-17 89-16 80-17 49zM521-516l17-47 16-44 17-38 16-32 17-23 17-14 16-5-12 44-17 5-17 14-16 23-17 31-16 39-17 44-17 47z"/>
<path transform="matrix(0.25 -0.067848 0 0.25 915.43 304.99)" d="M40-454l17-163 16-116 17-11 17 79 16 119 17 106 16 60 17 1 17-48 16-80 17-89 16-78 17-54 16-24 17 8 17 34-13 24-17-34-16-7-17 23-16 54-17 79-17 88-16 80-17 49-16-1-17-60-16-107-17-119-17-79-16 12-17 116-16 162zM505-502l33-95 16-43 17-39 16-31 17-23 17-15 16-5 17 4 16 12 17 18-13 25-16-19-17-11-16-4-17 5-17 14-16 23-17 31-16 39-17 44-33 95z"/>
<path transform="matrix(0.25 -0.067848 0 0.25 918.60 306.45)" d="M24-380l16-82 17-162 16-116 17-12 17 79 16 119 17 107 16 60 17 1 17-49 16-80 17-88 16-79 17-54 16-23 17 7 17 34 16 53 33 128-12-2-33-128-17-53-17-34-16-7-17 23-16 55-17 78-17 88-16 80-17 49-16-1-17-60-16-107-17-119-17-79-16 12-17 116-16 162-17 83zM505-509l33-95 16-44 17-38 16-32 17-23 17-14 16-5 17 4 16 11 17 19 17 24 16 30 17 32 33 69-13-2-33-69-17-32-16-29-17-25-16-19-17-11-16-4-17 5-17 14-16 23-17 32-16 38-17 44-33 95z"/>
<path transform="matrix(0.25 -0.067848 0 0.25 921.77 307.92)" d="M24-356l16-82 17-163 16-116 17-11 17 79 16 119 17 107 16 59 17 1 17-48 16-80 17-89 16-78 17-54 16-24 17 8 17 34 16 52 33 128 17 59 17 48-13-33-17-47-16-59-33-128-17-53-17-34-16-7-17 23-16 54-17 78-17 89-16 80-17 49-16-2-17-59-16-107-17-119-17-79-16 12-17 116-16 162-17 82zM505-486l33-94 16-44 17-39 17-31 16-23 17-14 16-6 17 4 16 12 17 18 17 25 16 29 17 32 33 70-13-33-33-69-17-33-16-29-17-24-16-19-17-12-16-3-17 5-17 14-16 23-17 31-16 39-17 44-33 94z"/>
<path transform="matrix(0.25 -0.067848 0 0.25 924.95 309.39)" d="M40-384l17-162 16-116 17-12 17 79 16 119 17 107 16 59 17 2 16-49 17-80 17-89 16-78 17-54 16-24 17 8 17 34 16 53 33 127 17 60-13-64-16-59-34-128-16-53-17-34-16-7-17 24-16 54-17 78-17 88-16 80-17 49-16-1-17-60-17-106-16-120-17-79-16 12-17 116-16 162zM505-432l33-94 16-44 17-39 16-31 17-23 17-14 16-5 17 3 16 12 17 18 17 25 16 29 17 33 16 34-12-64-17-34-17-32-16-29-17-25-16-19-17-11-16-4-17 5-17 14-16 23-17 32-16 38-17 44-33 95z"/>
<path transform="matrix(0.25 -0.067848 0 0.25 928.12 310.85)" d="M40-306l17-162 16-116 17-12 17 79 16 119 17 107 16 59 17 2 16-49 17-80 17-89 16-78 17-54 16-23 17 7 17 34 16 53 33 128-12-88-34-128-16-53-17-33-16-8-17 24-16 54-17 78-17 89-16 79-17 49-16-1-17-60-17-106-16-120-17-79-16 12-17 116-16 162zM521-401l17-47 16-44 17-39 16-31 17-23 17-14 16-5 17 3 16 12 17 19 17 24 16 29 17 33-13-88-17-32-16-29-17-25-16-18-17-12-16-4-17 5-17 14-16 23-17 32-16 38-17 44-17 47z"/>
<path transform="matrix(0.25 -0.067848 0 0.25 931.29 312.32)" d="M206-270l17-89 16-78 17-54 16-24 17 8 17 34 16 52-13-98-16-52-17-34-16-8-17 24-16 54-17 78-17 89zM538-359l16-44 17-39 16-31 17-23 17-14 16-6 17 4 16 12 17 18-13-98-16-18-17-12-16-4-17 5-17 15-16 23-17 31-16 39-17 44z"/>
<path transform="matrix(0.25 -0.067848 0 0.25 934.46 313.79)" d="M538-280l16-44 17-38 16-31 17-24 17-14 16-5 17 4-13-89-16-4-17 5-17 14-16 23-17 32-16 38-17 44z"/>
<path transform="matrix(0.25 -0.067848 0 0.25 937.63 315.26)" d="M770-198l16 34 17 33 17 30 16 27 17 23 16 18-12-58-17-19-16-22-17-27-17-30-16-33-17-34z"/>
<path transform="matrix(0.25 -0.067848 0 0.25 940.80 316.72)" d="M7-107l8 72 9 27 16-82 17-162-13-8-16 162-17 82-8-27-8-72zM388-58l17 32 17 16 16 0 17-16 16-29 17-38-13-8-16 38-17 29-16 16-17 0-17-16-16-32zM753-234l33 69 17 33 17 30 16 26 17 23 16 18-12-7-17-19-16-22-17-27-17-30-16-33-33-69z"/>
<path transform="matrix(0.25 -0.067848 0 0.25 943.97 318.19)" d="M0-264l7 97 8 72 9 28 16-83 17-162 16-116 17-12 17 79-13 51-17-79-16 11-17 116-16 163-17 82-8-27-8-73-8-97zM389-118l16 33 17 16 16-1 17-16 16-28 17-39-13 51-16 38-17 29-16 16-17 0-17-16-16-33zM753-294l33 70 17 32 17 30 16 27 17 23 16 18-12 50-17-18-16-23-17-27-17-30-16-32-33-69z"/>
<path transform="matrix(0.25 -0.067848 0 0.25 947.14 319.66)" d="M7-274l8 73 9 27 16-82 17-163 16-116 17-11 17 79-13 97-17-79-16 12-17 116-16 162-17 82-8-27-8-72zM389-225l16 33 17 16 16 0 17-16 16-29-12 97-17 29-16 16-17 1-17-17-16-32zM770-365l16 34 17 32 17 30 16 27 17 23 16 18-12 98-17-19-16-22-17-27-17-30-16-33-17-34z"/>
<path transform="matrix(0.25 -0.067848 0 0.25 950.31 321.13)" d="M24-293l16-83 17-162 16-116 17-12 17 79-13 110-17-79-16 12-17 116-16 162-17 83z"/>
<path transform="matrix(0.25 -0.067848 0 0.25 953.48 322.59)" d="M15-400l9 28 16-83 17-162 16-116 17-12 17 79 16 120-12 69-17-119-17-79-16 12-17 116-16 162-17 82-8-27zM206-507l17-89 16-78 17-54 16-24 17 8 17 33 16 53 17 63-13 70-17-63-16-53-17-34-16-7-17 23-16 54-17 79-17 88zM471-419l17-38 17-45 33-95 16-44 17-38 16-32 17-23 17-14 16-5 17 4 16 11 17 19 17 25 16 29 17 32-13 70-17-32-16-30-17-24-16-19-17-11-16-4-17 5-17 14-16 23-17 32-16 38-17 44-33 95-17 44-16 39z"/>
<path transform="matrix(0.25 -0.067848 0 0.25 956.65 324.06)" d="M15-388l9 27 16-82 17-162 16-116 17-12 17 79 16 119 17 107-13-21-16-107-17-119-17-79-16 12-17 116-16 162-17 82-8-27zM206-496l17-88 16-78 17-55 16-23 17 7 17 34 16 53 17 63-13-21-16-63-17-53-17-34-16-7-17 23-16 54-17 79-17 88zM455-379l16-28 17-39 17-44 33-95 16-44 17-38 16-32 17-23 17-14 16-5 17 4 16 11 17 19 17 24 16 30 17 32-13-21-17-32-16-30-17-24-16-19-17-11-16-4-17 5-17 14-16 23-17 32-16 38-17 44-33 95-17 44-16 39-17 28z"/>
<path transform="matrix(0.25 -0.067848 0 0.25 959.82 325.53)" d="M40-327l17-162 16-116 17-12 17 79 16 119 17 107-13-125-16-107-17-119-17-79-16 12-17 116-16 162zM206-380l17-88 16-78 17-55 16-23 17 7 17 34 16 53 17 63-13-125-16-63-17-53-17-34-16-7-17 23-16 54-17 78-17 89zM455-263l16-28 17-39 17-44 33-95 16-44 17-38 17-32 16-23 17-14 16-5 17 4 16 11 17 19 17 25 16 29-13-126-16-29-17-24-16-19-17-12-16-3-17 5-17 14-16 23-17 31-16 39-17 44-33 94-17 45-16 38-17 29z"/>
<path transform="matrix(0.25 -0.067848 0 0.25 962.99 326.99)" d="M40-165l17-162 16-116 17-12 17 79-13-171-17-79-16 12-17 116-16 162zM206-217l17-89 16-78 17-54 16-24 17 8 17 33 16 53-12-171-17-53-17-34-16-7-17 23-16 54-17 78-17 89zM471-129l17-38 17-45 33-95 16-44 17-38 17-32 16-23 17-14 16-5 17 4-13-172-16-3-17 5-17 14-16 23-17 31-16 39-17 44-33 94-17 45-16 38z"/>
<path transform="matrix(0.25 -0.067848 0 0.25 966.17 328.46)" d="M7-99l8 72 9 27 16-82 17-162-13-92-16 162-17 82-8-27-8-72zM123-174l17 107 16 59 17 2 16-49 17-80 17-89-13-91-17 88-16 80-17 49-16-1-17-60-17-107zM322-286l33 128 17 60 16 47 17 33 17 16 16 0 17-16 16-29-12-91-17 28-16 16-17 1-17-16-16-33-17-48-16-59-34-128zM687-347l17 25 16 29 17 32 49 104 17 33 17 30 16 26 17 23 16 18-12-91-17-19-16-22-17-27-17-30-16-33-50-103-17-32-16-30-17-24z"/>
<path transform="matrix(0.25 -0.067848 0 0.25 967.76 329.20)" d="M0-224l7 97 8 72 9 28 16-83 17-162-7 23-16 162-17 82-8-27-8-72-7-97zM123-201l17 106 16 60 17 1 17-49 16-79 17-89-7 22-16 89-17 80-16 49-17-2-17-59-16-107zM306-366l16 53 33 128 17 59 16 48 17 33 17 16 16-1 17-16 16-28-6 22-17 29-16 16-17 1-16-17-17-32-16-48-17-59-33-128-17-53zM687-374l17 25 16 29 17 32 49 104 17 32 17 30 16 27 17 23 16 18-6 23-17-19-16-22-17-27-16-30-17-33-50-103-16-33-17-29-16-24z"/>
<path transform="matrix(0.25 -0.067848 0 0.25 969.27 329.90)" d="M0-296l7 97 8 72 9 28 16-83 17-162-6 68-17 162-16 82-9-27-8-72-7-97zM123-274l17 107 16 60 17 1 16-49 17-80-6 68-17 80-16 49-17-2-16-59-17-107zM306-438l16 53 33 128 17 59 16 48 17 33 17 16 16-1 17-16-6 68-17 16-16 0-17-16-17-32-16-48-17-59-33-128-16-53zM704-421l16 29 17 32 49 103 17 33 17 30 16 27 17 23 16 18-6 68-16-19-17-23-16-26-17-30-17-33-49-103-17-33-16-29z"/>
<path transform="matrix(0.25 -0.067848 0 0.25 970.70 330.56)" d="M123-371l17 107 16 60 17 1 17-49 16-80-6 93-16 80-17 49-16-1-17-60-17-107zM322-482l33 128 17 59 16 48 17 33 17 16 16-1-5 93-17 1-17-16-16-33-17-48-16-59-34-128z"/>
<path transform="matrix(0.25 -0.067848 0 0.25 972.05 331.19)" d="M123-466l17 107 16 59 17 2 17-49-6 91-16 49-17-1-17-60-16-107z"/>
<path transform="matrix(0.25 -0.067848 0 0.25 973.34 331.78)" d="M40-442l17-162 16-116 17-12 17 79-6 64-16-79-17 12-16 116-17 162zM173-366l17-48 16-80 17-89 16-78 17-54 16-24 17 8-5 63-17-7-16 23-17 54-16 79-17 88-17 80-16 49zM438-362l17-15 16-29 17-38 17-45 33-95 16-44 17-38 16-31 17-24 17-14-5 64-17 14-17 23-16 32-17 38-16 44-34 95-16 44-17 39-16 28-17 16z"/>
<path transform="matrix(0.25 -0.067848 0 0.25 974.56 332.35)" d="M0-577l7 97 8 72 9 28 16-83 17-162 16-116 17-12 17 79 16 120 17 106 16 60 17 1 17-49 16-79 17-89 16-78 17-54 16-24 17 8 17 33 16 53 17 63-5 18-17-63-16-53-17-34-16-7-17 23-17 54-16 78-17 89-16 80-17 49-17-2-16-59-17-107-16-119-17-79-16 12-17 116-17 162-16 82-9-27-7-72-8-97zM422-382l16-1 17-15 16-29 17-38 17-45 33-95 16-44 17-38 16-31 17-24 17-14 16-5 17 4 16 12 17 18 17 25 16 29-5 17-16-29-17-24-16-19-17-12-17-3-16 5-17 14-16 23-17 31-17 39-16 44-33 94-17 45-16 38-17 29-17 16-16 0z"/>
<path transform="matrix(0.25 -0.067848 0 0.25 975.72 332.88)" d="M0-545l7 97 8 72 9 27 16-82 17-162 16-117 17-11 17 79 16 119 17 107 16 59 17 2 17-49 16-80 17-89 16-78 17-54 16-24 17 8 17 34 16 52 17 64-5-35-16-63-17-53-17-34-16-7-17 23-16 54-17 79-17 88-16 80-17 49-16-1-17-60-16-107-17-119-17-79-16 12-17 116-16 162-17 82-8-27-8-72-8-97zM422-351l16 0 17-16 16-29 17-38 17-45 33-94 16-44 17-39 16-31 17-23 17-14 16-6 17 4 16 12 17 18 17 25 16 29-4-35-17-29-17-24-16-19-17-11-16-4-17 5-17 14-16 23-17 31-16 39-17 44-33 95-17 44-16 39-17 28-16 16-17 1z"/>
<path transform="matrix(0.25 -0.067848 0 0.25 976.82 333.39)" d="M24-274l16-83 17-162 16-116 17-12 17 79 16 120-4-78-17-120-16-79-17 12-17 116-16 162-17 83zM173-281l16-48 17-80 17-89 16-78 17-54 16-24 17 8 17 33 16 53-4-78-17-53-16-33-17-8-17 24-16 54-17 78-16 89-17 79-16 49zM422-276l16-1 17-15 16-29 17-38 17-45 33-95 16-44 17-38 16-31 17-24 17-14 16-5 17 4 16 12 17 18-4-78-17-18-17-12-16-4-17 5-16 14-17 23-17 32-16 38-17 44-33 95-16 45-17 38-17 29-16 15-17 1z"/>
<path transform="matrix(0.25 -0.067848 0 0.25 977.86 333.87)" d="M24-176l16-83 17-162 16-116 17-12 17 79 16 120-4-101-17-120-16-79-17 12-16 116-17 162-16 83zM173-183l17-49 16-79 17-89 16-78 17-54 16-24 17 8 17 33-5-101-16-33-17-8-16 24-17 54-16 78-17 89-17 79-16 49zM471-223l17-38 17-45 33-95 16-44 17-38 16-32 17-23 17-14-5-101-16 14-17 23-16 32-17 38-16 44-34 95-16 45-17 38z"/>
<path transform="matrix(0.25 -0.067848 0 0.25 978.84 334.33)" d="M40-165l17-162 16-116 17-12 17 79-4-97-17-79-16 12-17 116-17 162z"/>
<path transform="matrix(0.25 -0.067848 0 0.25 979.78 334.76)" d="M0-214l7 97 8 72 9 27 16-82 17-162 16-116 17-12 17 79 16 119 17 107 16 59 17 2 17-49-4-67-17 49-16-2-17-59-17-107-16-119-17-79-16 12-17 116-16 162-17 82-8-27-8-72-8-97zM289-390l17 34 16 53 33 128 17 59 17 47 16 33 17 16-4-67-17-16-16-33-17-47-16-60-34-128-16-52-17-34z"/>
<path transform="matrix(0.25 -0.067848 0 0.25 980.67 335.17)" d="M0-197l7 97 8 72 9 27 16-82 17-162 16-116 17-12 17 79 16 119 17 107 16 59 17 2 17-49 16-80-3-20-17 80-17 49-16-1-17-60-16-107-17-119-17-79-16 12-17 116-16 162-17 83-8-28-8-72-8-97zM289-373l17 34 16 53 33 128 17 59 16 48 17 32 17 16 16 0 17-16-4-20-16 16-17 1-16-16-17-33-17-48-16-59-33-128-17-53-17-34zM654-378l16 12 17 19 17 24 16 29 17 33 49 103 17 33 17 30 16 26 17 23 16 18-3-19-17-18-16-23-17-27-17-30-16-33-50-103-16-32-17-29-17-25-16-19-17-11z"/>
<path transform="matrix(0.25 -0.067848 0 0.25 981.51 335.56)" d="M0-232l7 97 8 72 9 27 16-82 17-162 16-116 17-12 17 79 16 119 17 107 16 59 17 2 17-49 16-80-3 33-17 79-16 49-17-1-17-60-16-106-17-120-16-79-17 12-17 116-16 162-17 83-8-28-8-72-7-97zM272-415l17 7 17 34 16 53 33 128 17 59 17 47 16 33 17 16 16 0 17-16-4 33-16 15-17 1-16-16-17-33-16-48-17-59-33-128-17-53-16-33-17-8zM654-413l16 12 17 19 17 24 16 29 17 33 49 103 17 33 17 30 16 26 17 23 16 18-3 33-17-18-16-23-17-27-16-30-17-32-50-104-16-32-17-29-16-25-17-19-17-11z"/>
<path transform="matrix(0.25 -0.067848 0 0.25 982.31 335.93)" d="M0-310l7 97 8 72 9 28 16-83 17-162 16-116 17-12 17 79 16 120 17 106 16 60 17 1 17-49-4 76-16 48-17-1-16-60-17-106-17-120-16-79-17 12-16 116-17 163-17 82-8-28-8-72-7-97zM289-485l17 33 16 53 33 128 17 59 16 48 17 33 17 16 16-1-3 75-17 1-16-16-17-33-16-48-17-59-33-128-17-53-16-33zM704-435l16 29 17 32 49 104 17 32 17 30 16 27 17 23 16 18-3 75-16-18-17-23-17-27-16-30-17-32-49-104-17-32-17-29z"/>
<path transform="matrix(0.25 -0.067848 0 0.25 983.07 336.28)" d="M0-408l7 97 8 72 9 27 16-82 17-162 16-116 17-12 17 79 16 119 17 107 16 59 17 2-3 96-17-1-16-60-17-107-16-119-17-79-17 12-16 116-17 162-16 82-9-27-8-72-7-97z"/>
<path transform="matrix(0.25 -0.067848 0 0.25 983.78 336.61)" d="M0-501l7 97 8 72 9 27 16-82 17-162 16-116-2 91-17 116-17 162-16 82-8-27-8-72-8-97z"/>
<path transform="matrix(0.25 -0.067848 0 0.25 984.46 336.93)" d="M15-393l9 27 16-82 17-162 16-116 17-12 17 79-3 59-17-79-16 12-17 116-16 162-17 82-8-27zM156-374l17 2 17-49 16-80 17-89 16-78 17-54 16-23 17 7-3 59-16-7-17 23-16 55-17 78-17 88-16 80-17 49-16-1zM438-368l17-16 16-29 17-38 17-45 33-94 16-44 17-39 17-31 16-23 17-14 16-5-2 59-17 5-17 14-16 23-17 32-16 38-17 44-33 95-17 44-16 39-17 28-16 16z"/>
<path transform="matrix(0.25 -0.067848 0 0.25 985.11 337.23)" d="M15-406l9 27 16-82 17-162 16-116 17-12 17 79 16 119 17 107 16 59 17 2 17-49 16-80 17-89 16-78 17-54 16-23 17 7 17 34 16 53-2 11-17-53-17-34-16-7-17 23-16 54-17 79-16 88-17 80-17 49-16-2-17-59-16-107-17-119-17-79-16 12-17 116-16 162-17 82-8-27zM389-429l16 32 17 16 16 0 17-16 16-29 17-38 17-45 33-94 16-44 17-39 16-31 17-23 17-14 16-5 17 3 16 12 17 19 17 24-3 11-17-24-16-19-17-12-16-3-17 5-17 14-16 23-17 31-16 39-17 44-33 95-17 44-16 38-17 29-16 16-17 1-16-17-17-32z"/>
<path transform="matrix(0.25 -0.067848 0 0.25 985.72 337.51)" d="M15-367l9 27 16-82 17-162 16-117 17-11 17 79 16 119 17 107 16 59 17 2 17-49 16-80 17-89 16-78 17-54 16-24 17 8 17 34 16 52-2-40-17-53-16-34-17-7-17 23-16 54-17 79-16 88-17 80-17 49-16-1-17-60-16-107-17-119-16-79-17 12-17 116-16 162-17 82-8-27zM389-391l16 33 17 16 16 0 17-16 16-29 17-38 17-45 33-94 16-44 17-39 16-31 17-23 17-14 16-5 17 3 16 12 17 18 17 25 16 29-2-40-17-30-16-24-17-19-17-11-16-4-17 5-16 14-17 23-17 32-16 38-17 44-33 95-16 44-17 39-17 28-16 16-17 1-16-16-17-33z"/>
<path transform="matrix(0.25 -0.067848 0 0.25 986.30 337.78)" d="M15-287l9 27 16-82 17-163 16-116 17-11 17 79 16 119 17 107 16 59 17 1 17-48 16-80 17-89 16-78 17-54 16-24 17 8 17 34-3-82-16-34-17-7-16 23-17 54-17 78-16 89-17 80-16 49-17-2-17-59-16-107-17-119-16-79-17 12-16 116-17 162-17 82-8-27zM438-262l17-16 16-29 17-38 17-45 33-94 16-44 17-39 17-31 16-23 17-14 16-6 17 4-2-82-17-3-17 5-16 14-17 23-16 31-17 39-17 44-33 95-16 44-17 38-16 29-17 16z"/>
<path transform="matrix(0.25 -0.067848 0 0.25 986.85 338.03)" d="M24-161l16-82 17-162 16-116 17-12 17 79-3-101-16-79-17 12-16 116-17 162-16 82zM190-216l16-80 17-89 16-78 17-54 16-24-2-100-16 23-17 54-17 79-16 88-17 80z"/>
<path transform="matrix(0.25 -0.067848 0 0.25 987.38 338.28)" d="M0-266l7 97 8 72 9 27-2-93-9-27-8-72-7-97z"/>
<path transform="matrix(0.25 -0.067848 0 0.25 987.87 338.50)" d="M0-208l7 97 8 72 9 27 16-82 17-162 16-116 17-12 17 79 16 119 17 107 16 59 17 2 17-49-2-60-17 49-17-1-16-60-17-106-16-120-17-79-17 12-16 116-17 162-16 83-9-28-7-72-8-97zM272-391l17 7 17 34 16 53 33 128 17 59 17 47 16 33 17 16 16 0-2-60-16 1-17-16-16-33-17-48-17-59-33-128-16-53-17-33-17-8zM704-334l16 29 17 33 49 103 17 33 17 30 16 26 17 23 16 18-2-59-16-18-17-23-16-27-17-30-17-32-49-104-17-32-16-29z"/>
<path transform="matrix(0.25 -0.067848 0 0.25 988.34 338.72)" d="M0-199l7 97 8 72 9 27 16-82 17-162 16-116 17-12 17 79 16 119 17 107 16 59 17 2 17-49 16-80-2-10-16 79-17 49-17-1-16-60-17-106-16-120-17-79-16 12-17 116-17 162-16 83-8-28-8-72-8-97zM256-359l16-23 17 7 17 34 16 53 33 127 17 60 17 47 16 33 17 16 16 0 17-16-2-10-17 15-16 1-17-16-16-33-17-48-17-59-33-128-16-53-17-33-16-8-17 24zM637-383l17 3 16 12 17 19 17 24 16 29 17 33 49 103 17 33 17 30 16 26 17 23 16 18-1-10-17-18-17-23-16-27-17-30-16-32-50-104-17-32-16-29-17-25-16-18-17-12-17-4z"/>
<path transform="matrix(0.25 -0.067848 0 0.25 988.79 338.93)" d="M0-242l7 97 8 72 9 28 16-83 17-162 16-116 17-12 17 79 16 120 17 106 16 60 17 1 17-49 16-79-2 41-16 80-17 48-16-1-17-60-17-106-16-120-17-79-16 12-17 116-17 162-16 83-8-28-8-72-8-97zM256-401l16-24 17 7 17 34 16 53 33 128 17 59 16 48 17 33 17 16 16-1 17-16-2 42-17 15-16 1-17-16-16-33-17-48-16-59-34-128-16-53-17-33-16-8-17 24zM637-426l17 4 16 11 17 19 17 25 16 29 17 32 49 104 17 32 17 30 16 27 17 23 16 18-1 41-17-18-17-23-16-27-17-30-16-32-50-104-17-32-16-29-17-25-16-18-17-12-17-4z"/>
<path transform="matrix(0.25 -0.067848 0 0.25 989.21 339.12)" d="M0-324l7 97 8 72 9 27 16-82 17-162 16-116 17-12 17 79 16 119 17 107 16 60 17 1 17-49-2 81-17 49-16-1-17-60-17-107-16-119-17-79-16 12-17 116-16 162-17 82-8-27-8-72-8-97zM289-500l17 34 16 53 33 128 17 59 17 48 16 32-2 82-16-33-17-48-16-59-34-128-16-53-17-34z"/>
<path transform="matrix(0.25 -0.067848 0 0.25 989.61 339.31)" d="M0-424l7 97 8 73 9 27 16-82-1 98-17 82-8-27-8-72-8-97z"/>
<path transform="matrix(0.25 -0.067848 0 0.25 989.99 339.49)" d="M24-317l16-82 17-162 16-116 17-12-1 88-17 12-17 116-16 162-17 83z"/>
<path transform="matrix(0.25 -0.067848 0 0.25 990.35 339.65)" d="M0-568l7 97 8 73 9 27 16-82 17-163 16-116 17-11 17 79 16 119 17 106 16 60 17 1 17-48 16-80 17-89 16-78 17-54 16-24 17 8 17 34 16 52 33 128 17 59 17 48 16 33 17 16 16 0 17-16 16-29 17-38 17-45 33-95 16-43 17-39 16-31 17-23 17-15 16-5 17 4 16 12 17 18 17 25 16 29 17 32 49 104 17 32 17 30 16 27 17 23 16 18-1 54-17-19-16-22-17-27-16-30-17-33-50-103-16-32-17-30-16-24-17-19-17-11-16-4-17 5-16 14-17 23-17 32-16 38-17 44-33 95-16 44-17 39-17 28-16 16-17 1-16-16-17-33-17-48-16-59-33-128-17-53-16-34-17-7-17 23-16 54-17 79-16 88-17 80-17 49-16-1-17-60-16-107-17-119-16-79-17 12-17 116-16 162-17 82-8-27-8-72-7-97z"/>
<path transform="matrix(0.25 -0.067848 0 0.25 990.69 339.81)" d="M0-573l7 97 8 73 9 27 16-82 17-163 16-116 17-11 17 79 16 119 17 106 16 60 17 1 17-48 16-80 17-89 16-78 17-54 16-24 17 8 17 34 16 52 33 128 17 59 17 48 16 33 17 16 16 0 17-16 16-29 17-38 17-45 33-94 16-44 17-39 16-31 17-23 17-14 16-6 17 4 16 12 17 18 17 25 16 29 17 32 49 104 17 32 17 30 16 27 17 23 16 18-1 4-17-18-16-23-17-27-16-30-17-32-50-104-16-32-17-29-16-25-17-18-17-12-16-4-17 5-16 15-17 23-16 31-17 39-17 43-33 95-16 45-17 38-17 29-16 16-17 0-16-16-17-33-16-48-17-59-33-128-17-52-16-34-17-8-17 24-16 54-17 78-16 89-17 80-16 48-17-1-17-60-16-106-17-119-16-79-17 11-16 116-17 163-17 82-8-27-8-73-7-97z"/>
<path transform="matrix(0.25 -0.067848 0 0.25 991.02 339.96)" d="M0-526l7 97 8 72 9 27 16-82 17-162 16-116 17-12 17 79 16 119 17 107 16 59 17 2 17-49 16-80 17-89 16-78 17-54 16-24 17 8 17 34 16 52 33 128 17 60 16 47 17 33 17 16 16 0 17-16 16-29 17-38 17-45 33-94 16-44 17-39 16-31 17-23 17-14 16-5 17 3 16 12 17 18 17 25 16 29 17 33 49 103 17 33 17 30 16 26 17 23 16 18-1-47-17-18-16-23-17-26-16-31-17-32-50-104-16-32-17-29-16-25-17-18-16-12-17-4-17 6-16 14-17 23-16 31-17 39-17 44-33 94-16 45-17 38-16 29-17 16-17 0-16-16-17-33-16-48-17-59-33-128-17-52-16-34-17-8-16 24-17 54-17 78-16 89-17 80-16 48-17-1-17-59-16-107-17-119-16-79-17 11-16 116-17 163-17 82-8-27-8-72-7-98z"/>
<path transform="matrix(0.25 -0.067848 0 0.25 991.32 340.10)" d="M0-442l8 97 7 72 9 28 16-83 17-162 16-116 17-12 17 79 16 119 17 107 16 60 17 1 17-49 16-80 17-88 16-78 17-55 16-23 17 7 17 34 16 53 33 128 17 59 17 48 16 33 17 16 16-1 17-16 16-28 17-39 17-44 33-95 16-44 17-38 17-32 16-23 17-14 16-5 17 4 16 11 17 19 17 25 16 29 17 32 49 103 17 33 17 30 16 27 17 23 16 18-1-86-16-18-17-23-17-26-16-30-17-33-49-103-17-33-17-29-16-24-17-19-16-12-17-3-17 5-16 14-17 23-16 31-17 39-16 44-34 94-16 45-17 38-16 29-17 16-17 0-16-16-17-33-16-47-17-59-33-128-17-53-16-34-17-7-16 23-17 54-17 78-16 89-17 80-16 49-17-2-16-59-17-107-17-119-16-79-17 12-16 116-17 162-17 82-8-27-8-72-7-97z"/>
<path transform="matrix(0.25 -0.067848 0 0.25 991.62 340.24)" d="M0-342l7 97 8 72 9 27 16-82 17-162 16-116 17-12 17 79 16 119 17 107 16 59 17 2 17-49 16-80 17-89 16-78 17-54 16-23 17 7 17 34 16 53 33 128 17 59 16 48 17 32 17 16 16 0 17-16 16-29 17-38 17-45 33-94 16-44 17-39 16-31 17-23 17-14 16-5 17 3 16 12 17 19 17 24 16 29 17 33 49 103 17 33 17 30 16 26 17 23 16 18-1-100-16-18-17-23-17-27-16-30-17-32-49-104-17-32-17-29-16-25-17-19-16-11-17-4-17 5-16 14-17 23-16 32-17 38-16 44-34 95-16 44-17 39-16 28-17 16-17 1-16-16-17-33-16-48-17-59-33-128-17-53-16-34-17-7-16 24-17 54-17 78-16 89-17 79-16 49-17-1-16-60-17-106-17-120-16-79-17 12-16 116-17 162-16 83-9-28-8-72-7-97z"/>
<path transform="matrix(0.25 -0.067848 0 0.25 991.89 340.36)" d="M0-255l7 97 8 72 9 28 16-83 17-162 16-116 17-12 17 79 16 120 17 106 16 60 17 1 17-49 16-79 17-89 16-78 17-54 16-24 17 8 17 33 16 53 33 128 17 59 17 48 16 33 17 16 16-1 17-15 16-29 17-38 17-45 33-95 16-44 17-38 16-32 17-23 17-14 16-5 17 4 16 11 17 19 17 25 16 29 17 32 49 104 17 32 17 30 16 27 17 23 16 18-1-88-16-19-17-22-16-27-17-30-17-33-49-103-17-32-17-30-16-24-17-19-16-11-17-4-16 5-17 14-17 23-16 32-17 38-16 44-34 95-16 44-17 39-16 28-17 16-16 1-17-16-17-33-16-48-17-59-33-128-17-53-16-34-17-7-16 23-17 54-16 79-17 88-17 80-16 49-17-1-16-60-17-107-16-119-17-79-17 12-16 116-17 162-16 82-9-27-8-72-7-97z"/>
<path transform="matrix(0.25 -0.067848 0 0.25 992.15 340.49)" d="M0-204l8 97 7 73 9 27 16-82 17-163 16-116 17-11 17 79 16 119 17 106 16 60 17 1 17-48 16-80 17-89 16-78 17-54 16-24 17 8 17 34 16 52 33 128 17 59 17 48 16 33 17 16 16 0 17-16 16-29 17-38 17-45 33-94 16-44 17-39 17-31 16-23 17-15 16-5 17 4 16 12 17 18 17 25 16 29 17 32 49 104 17 32 17 30 16 27 17 23 16 18-1-52-16-18-17-23-16-27-17-30-17-32-49-104-17-32-16-29-17-25-17-18-16-12-17-4-16 5-17 15-17 23-16 31-17 39-16 44-33 94-17 45-17 38-16 29-17 16-16 0-17-16-17-33-16-48-17-59-33-128-16-52-17-34-17-8-16 24-17 54-16 78-17 89-17 80-16 48-17-1-16-60-17-106-16-119-17-79-17 11-16 116-17 163-16 82-9-27-8-73-7-97z"/>
</g>
<g fill="url(#g2)" stroke="url(#g2)" stroke-width="2.4" stroke-linejoin="round">
<path transform="matrix(0.25 0.11568 0 0.25 968.92 331.04)" d="M-170-516l-13-78-13-54-12-23 7 90 12 23 13 54 13 78zM-284-390l-13 48-13 32-13 16 8 91 12-17 13-32 13-48z"/>
<path transform="matrix(0.25 0.11568 0 0.25 967.24 331.50)" d="M-31-442l-12-162-13-116-13-12-13 79 7 63 13-79 13 12 12 116 13 162zM-158-494l-12-89-13-78-13-54-12-24-13 8-13 33 7 63 13-34 12-7 13 23 13 54 12 78 13 89zM-348-377l-13-29-12-38-38-140-13-44-13-38-12-31-13-24-13-14-12-5 6 63 13 5 13 14 12 23 13 31 13 39 12 44 38 139 13 38 13 29z"/>
<path transform="matrix(0.25 0.11568 0 0.25 965.64 331.93)" d="M-31-463l-12-162-13-116-13-12-13 79-12 120-13 106 6 17 13-107 13-119 13-79 12 12 13 116 13 162zM-145-436l-13-79-12-89-13-78-13-54-12-24-13 8-13 33-12 53-13 63 6 17 13-63 13-53 12-34 13-7 13 23 12 54 13 78 13 89 12 80zM-348-398l-13-29-12-38-38-140-13-44-13-38-12-31-13-24-13-14-12-5-13 4-13 12-12 18-13 25-13 29 7 16 12-29 13-24 13-19 12-12 13-3 13 5 12 14 13 23 13 31 12 39 13 44 38 139 13 38 13 29z"/>
<path transform="matrix(0.25 0.11568 0 0.25 964.13 332.34)" d="M0-546l-6 98-6 72-6 27-13-82-12-163-13-116-13-11-13 79-12 119-13 107 6-36 13-107 13-119 12-79 13 12 13 116 12 162 13 82 6-27 6-72 6-97zM-145-404l-13-80-12-89-13-78-13-54-12-24-13 8-13 34-12 52-13 64 6-36 13-63 12-53 13-34 13-7 12 23 13 54 13 78 12 89 13 80zM-348-367l-13-29-12-38-38-139-13-44-13-39-12-31-13-23-13-14-12-6-13 4-13 12-12 18-13 25-13 29 6-36 13-29 13-24 12-19 13-12 13-3 12 5 13 14 13 23 12 31 13 39 13 44 38 139 12 38 13 29z"/>
<path transform="matrix(0.25 0.11568 0 0.25 962.70 332.73)" d="M0-471l-6 97-6 72-6 28-13-83-13-162-12-116-13-12-13 79-12 120-13 106 6-79 13-106 12-120 13-79 13 12 12 116 13 162 13 83 6-28 6-72 6-97zM-145-329l-13-80-12-89-13-78-13-54-12-24-13 8-13 33-12 53-13 63 6-79 12-63 13-53 13-33 12-8 13 24 13 54 12 78 13 89 13 79zM-348-292l-13-29-12-38-38-140-13-44-13-38-12-31-13-23-13-15-12-5-13 4-13 12-12 18-13 25 6-79 12-25 13-18 13-12 12-4 13 5 13 14 12 24 13 31 13 38 12 44 38 140 13 38 13 29z"/>
<path transform="matrix(0.25 0.11568 0 0.25 961.33 333.10)" d="M0-373l-6 97-6 72-6 28-13-83-12-162-13-116-13-12-13 79-12 120-13 106 6-102 12-106 13-120 13-79 12 12 13 116 13 162 12 83 7-28 6-72 5-97zM-145-232l-13-79-12-89-13-78-13-54-12-24-13 8-13 33-12 53 5-102 13-53 12-33 13-8 13 24 12 54 13 78 13 89 13 80zM-348-195l-13-28-12-39-38-139-13-44-13-38-12-32-13-23-13-14-12-5-13 4 5-102 13-4 13 5 12 14 13 24 13 31 12 38 13 44 38 140 13 38 13 29z"/>
<path transform="matrix(0.25 0.11568 0 0.25 960.04 333.45)" d="M-43-327l-13-116-13-12-13 79-12 120 5-98 13-119 12-79 13 11 13 116zM-145-138l-13-79-12-89-13-78-13-54-12-24-13 8-13 33 5-97 13-34 13-8 12 24 13 54 13 78 13 89 12 80z"/>
<path transform="matrix(0.25 0.11568 0 0.25 958.82 333.78)" d="M-6-117l-6 72-6 27-13-82-12-162 4-68 13 162 13 82 6-27 6-72zM-82-311l-12 119-13 107-13 59-12 2-13-49 5-68 13 49 12-2 13-59 13-107 12-119zM-234-356l-12 53-26 128-12 59-13 47-13 33-13 16-12 0 5-68 12 0 13-16 13-33 12-47 13-59 25-128 13-53zM-525-364l-13 24-13 29-13 33-38 103-12 33-13 30-13 26 5-68 13-26 13-30 12-33 38-103 13-33 13-29 12-24z"/>
<path transform="matrix(0.25 0.11568 0 0.25 957.66 334.10)" d="M0-197l-6 97-6 72-6 27-13-82-12-162-13-116-13-12-13 79-12 119-13 107-13 59-12 2-13-49-13-80 5-20 13 79 12 49 13-1 13-60 12-106 13-120 13-79 12 12 13 116 13 162 13 83 6-28 6-72 6-97zM-234-339l-12 53-26 128-12 59-13 47-13 33-13 16-12 0-13-16-13-29 5-20 13 29 12 15 13 1 13-16 12-33 13-48 13-59 25-128 13-53zM-513-366l-12 19-13 24-13 29-13 33-38 103-12 33-13 30-13 26-12 23-13 18 5-20 12-18 13-23 13-27 12-30 13-32 38-104 13-32 13-29 12-25 13-19z"/>
<path transform="matrix(0.25 0.11568 0 0.25 956.56 334.39)" d="M0-232l-6 97-6 72-6 27-13-82-12-162-13-116-13-12-13 79-12 119-13 107-13 59-12 2-13-49-13-80-12-89 4 32 13 89 12 80 13 48 13-1 12-59 13-107 13-119 13-79 12 11 13 116 13 163 12 82 7-27 6-72 5-98zM-221-408l-13 34-12 53-26 128-12 59-13 48-13 32-13 16-12 0-13-16-13-29 5 32 13 29 12 16 13 0 13-16 12-33 13-48 13-59 25-128 13-52 12-34zM-513-401l-12 19-13 24-13 29-13 33-38 103-12 33-13 30-13 26-12 23-13 18 4 32 13-18 13-23 12-26 13-30 13-33 38-104 13-32 12-29 13-25 13-18z"/>
<path transform="matrix(0.25 0.11568 0 0.25 955.51 334.68)" d="M0-310l-6 97-6 72-6 28-13-83-12-162-13-116-13-12-13 79-12 120-13 106-13 60-12 1-13-49-13-79 5 74 12 80 13 49 13-2 12-59 13-107 13-119 12-79 13 12 13 116 12 162 13 82 6-27 6-72 6-97zM-234-452l-12 53-26 128-12 59-13 48-13 33-13 16-12-1-13-15 4 74 13 16 13 0 12-16 13-33 13-47 12-60 26-127 12-53zM-525-460l-13 25-13 29-12 32-39 104-12 32-13 30-13 27-12 23-13 18 4 74 13-18 13-23 12-26 13-30 13-33 38-103 12-33 13-29 13-24z"/>
<path transform="matrix(0.25 0.11568 0 0.25 954.52 334.95)" d="M-6-311l-6 72-6 27-13-82-12-162-13-116-13-12-13 79-12 119-13 107-13 59-12 2-13-49-13-80 4 96 13 80 13 48 12-1 13-60 13-106 12-120 13-79 13 12 12 116 13 162 13 83 6-28 6-72zM-234-550l-12 53-26 127-12 60-13 47-13 33-13 16 4 96 13-16 13-33 13-48 12-59 26-128 12-53z"/>
<path transform="matrix(0.25 0.11568 0 0.25 953.59 335.20)" d="M-6-404l-6 72-6 27-13-82-13-162-12-116-13-12-13 79-12 119-13 107-13 60-12 1 3 90 13-1 13-60 13-107 12-119 13-79 13 12 12 116 13 162 13 82 6-27 6-72z"/>
<path transform="matrix(0.25 0.11568 0 0.25 952.70 335.44)" d="M-18-366l-13-82-13-162-12-116-13-12-13 79 4 59 13-79 12 11 13 116 13 163 12 82zM-120-374l-12 2-13-49-13-80-12-89-13-78-13-54-12-23-13 7-13 34 4 59 12-34 13-8 13 24 13 54 12 78 13 89 13 80 12 48 13-1zM-323-367l-12-1-13-16-13-29-12-38-38-139-13-44-13-39-12-31-13-23-13-14-12-5-13 3 3 59 13-4 13 5 13 15 12 23 13 31 13 39 12 44 38 139 13 38 13 29 12 16 13 0z"/>
<path transform="matrix(0.25 0.11568 0 0.25 951.85 335.67)" d="M-18-379l-13-82-12-162-13-116-13-12-13 79-12 119-13 107-13 59-12 2-13-49-13-80-12-89-13-78-13-54-12-23-13 7-13 34-12 53 3 10 13-53 12-33 13-8 13 24 12 54 13 78 13 89 12 80 13 48 13-1 12-60 13-106 13-120 13-79 12 12 13 116 13 162 12 83zM-310-397l-13 16-12 0-13-16-13-29-12-38-38-139-13-44-13-39-12-31-13-23-13-14-12-5-13 3-13 12-12 19-13 24 3 11 13-25 13-18 12-12 13-4 13 5 12 14 13 24 13 31 12 38 13 44 38 140 13 38 12 29 13 15 13 1 13-16z"/>
<path transform="matrix(0.25 0.11568 0 0.25 951.05 335.89)" d="M-18-340l-13-82-12-162-13-117-13-11-13 79-12 119-13 107-13 59-12 2-13-49-13-80-12-89-13-78-13-54-12-24-13 8-13 34-12 52 3-41 12-52 13-34 13-8 13 24 12 54 13 78 13 89 12 80 13 48 13-1 12-60 13-106 13-119 12-79 13 11 13 116 12 163 13 82zM-310-358l-13 16-12 0-13-16-13-29-12-38-38-139-13-44-13-39-12-31-13-23-13-14-12-5-13 3-13 12-12 18-13 25 3-41 13-25 12-18 13-12 13-4 12 5 13 15 13 23 13 31 12 39 13 43 38 140 13 38 12 29 13 16 13 0 12-16z"/>
<path transform="matrix(0.25 0.11568 0 0.25 950.29 336.10)" d="M-18-260l-13-82-12-163-13-116-13-11-13 79-12 119-13 106-13 60-12 1-13-48-13-80-12-89-13-78-13-54-12-24-13 8-13 34-12 52 3-82 12-53 13-33 13-8 12 24 13 54 13 78 12 89 13 79 13 49 12-1 13-60 13-106 13-120 12-79 13 12 13 116 12 162 13 83zM-323-262l-12 0-13-16-13-29-12-38-38-139-13-44-13-39-12-31-13-23-13-14-12-6-13 4-13 12 3-82 13-12 13-4 12 5 13 14 13 24 12 31 13 38 13 44 38 140 12 38 13 29 13 15 13 1z"/>
<path transform="matrix(0.25 0.11568 0 0.25 949.57 336.29)" d="M-18-161l-13-82-12-162-13-116-13-12-13 79-12 119 3-101 12-120 13-79 13 12 12 116 13 163 13 82zM-132-167l-13-49-13-80-12-89-13-78-13-54-12-24-13 8 3-101 13-8 12 24 13 54 13 78 12 89 13 80 13 48zM-386-291l-25-94-13-44 3-102 13 44 25 95z"/>
<path transform="matrix(0.25 0.11568 0 0.25 948.89 336.48)" d="M0-266l-6 97-6 72-6 27-13-82-12-162-13-116-13-12-13 79-12 119-13 107-13 59 3-93 13-59 13-107 12-119 13-79 13 12 12 116 13 162 13 82 6-27 6-72 6-97z"/>
<path transform="matrix(0.25 0.11568 0 0.25 948.24 336.65)" d="M0-208l-6 97-6 72-6 27-13-82-12-162-13-116-13-12-13 79-12 119-13 107-13 59-12 2-13-49 3-60 12 49 13-2 13-59 12-107 13-119 13-79 12 12 13 116 13 162 12 82 7-27 6-72 6-97zM-208-391l-13 7-13 34-12 53-26 127-12 60-13 47-13 33-13 16-12 0 2-60 13 0 13-16 12-32 13-48 13-59 25-128 13-53 13-34 12-7zM-513-377l-12 19-13 24-13 29-13 33-38 103-12 33-13 30-13 26-12 23-13 18 3-59 12-19 13-23 13-26 12-30 13-33 38-103 13-33 12-29 13-24 13-19z"/>
<path transform="matrix(0.25 0.11568 0 0.25 947.63 336.82)" d="M0-199l-6 97-6 72-6 27-13-82-13-162-12-116-13-12-13 79-12 119-13 107-13 59-12 2-13-49-13-80 3-11 12 80 13 49 13-2 13-59 12-107 13-119 13-79 12 12 13 116 13 162 12 82 7-27 6-72 5-97zM-208-382l-13 7-13 34-12 53-26 127-12 60-13 47-13 33-13 16-12 0-13-16-13-29 3-11 13 29 12 16 13 1 13-17 12-32 13-48 13-59 25-128 13-53 12-34 13-7zM-487-383l-13 3-13 12-12 19-13 24-13 29-13 33-38 103-12 33-13 30-13 26-12 23-13 18 2-10 13-19 13-22 13-27 12-30 13-33 38-103 13-33 12-29 13-24 13-19 12-12 13-3z"/>
<path transform="matrix(0.25 0.11568 0 0.25 947.04 336.98)" d="M0-242l-6 97-6 72-6 28-13-83-12-162-13-116-13-12-13 79-12 119-13 107-13 60-12 1-13-49-13-80 3 41 12 80 13 49 13-1 12-60 13-107 13-119 12-79 13 12 13 116 13 162 12 82 7-27 6-72 5-97zM-208-425l-13 7-13 34-12 53-26 128-12 59-13 48-13 33-13 16-12-1-13-16-13-28 3 41 12 28 13 16 13 1 13-16 12-33 13-48 13-59 25-128 13-53 12-34 13-7zM-487-426l-13 4-13 11-12 19-13 25-13 29-12 32-39 104-12 32-13 30-13 27-12 23-13 18 2 41 13-19 13-22 12-27 13-30 13-33 38-103 13-33 12-29 13-24 13-19 12-11 13-4z"/>
<path transform="matrix(0.25 0.11568 0 0.25 946.49 337.13)" d="M0-324l-6 97-6 72-6 27-13-82-12-162-13-116-13-12-13 79-12 119-13 107-13 59-12 2-13-49 2 81 13 49 13-2 12-59 13-107 13-119 12-79 13 11 13 117 12 162 13 82 6-27 6-72 6-97zM-221-500l-13 34-12 53-26 128-12 59-13 48-13 32-13 17-12-1 2 81 13 0 12-16 13-33 13-47 12-60 26-128 12-52 13-34zM-538-450l-13 29-12 33-39 103-12 33-13 30-13 27-12 22 2 81 13-23 12-26 13-30 13-33 38-104 12-32 13-29z"/>
<path transform="matrix(0.25 0.11568 0 0.25 945.97 337.27)" d="M0-424l-6 97-6 73-6 27-13-82-13-163-12-116-13-11-13 79-12 119-13 106-13 60-12 1 2 98 12-1 13-60 13-106 13-120 12-79 13 12 13 116 12 162 13 83 6-28 6-72 6-97z"/>
<path transform="matrix(0.25 0.11568 0 0.25 945.47 337.40)" d="M0-513l-6 97-6 72-6 28-13-83-12-162-13-116-13-12 2 88 13 12 12 116 13 162 13 82 6-27 6-72 6-97z"/>
<path transform="matrix(0.25 0.11568 0 0.25 945.00 337.53)" d="M0-568l-6 97-6 73-6 27-13-82-12-163-13-116-13-11-13 79-12 119-13 106-13 60-12 1-13-48-13-80-12-89-13-78-13-54-12-24-13 8-13 34-12 52-26 128-12 59-13 48-13 33-13 16-12 0-13-16-13-29-12-38-38-140-13-43-13-39-12-31-13-23-13-15-12-5-13 4-13 12-12 18-13 25-13 29-13 32-38 104-12 32-13 30-13 27-12 23-13 18 2 53 13-18 12-23 13-26 13-30 12-33 38-103 13-33 13-29 12-24 13-19 13-12 12-3 13 5 13 14 13 23 12 31 13 39 13 44 38 139 12 38 13 29 13 16 12 0 13-16 13-33 12-47 13-59 25-128 13-53 13-34 13-7 12 23 13 54 13 78 12 89 13 80 13 49 12-2 13-59 13-107 12-119 13-79 13 12 12 116 13 162 13 82 6-27 6-72 6-97z"/>
<path transform="matrix(0.25 0.11568 0 0.25 944.55 337.65)" d="M0-573l-6 97-6 73-6 27-13-82-12-163-13-116-13-11-13 79-12 119-13 106-13 60-12 1-13-48-13-80-12-89-13-78-13-54-12-24-13 8-13 34-12 52-26 128-12 59-13 48-13 33-13 16-12 0-13-16-13-29-12-38-38-139-13-44-13-39-12-31-13-23-13-14-12-6-13 4-13 12-12 18-13 25-13 29-12 32-39 104-12 32-13 30-13 27-12 23-13 18 2 4 13-18 12-23 13-27 13-30 12-33 38-103 13-32 13-29 12-25 13-19 13-11 12-4 13 5 13 14 12 23 13 32 13 38 12 44 39 139 12 39 13 28 13 16 12 1 13-16 13-33 12-48 13-59 25-128 13-53 13-34 12-7 13 23 13 55 12 78 13 88 13 80 13 49 12-1 13-60 13-107 12-119 13-79 13 12 12 116 13 162 13 83 6-28 6-72 6-97z"/>
<path transform="matrix(0.25 0.11568 0 0.25 944.13 337.77)" d="M0-526l-6 97-6 72-6 27-13-82-12-162-13-116-13-12-13 79-12 119-13 107-13 59-12 2-13-49-13-80-12-89-13-78-13-54-12-24-13 8-13 34-12 52-26 128-12 60-13 47-13 33-13 16-12 0-13-16-13-29-12-38-38-139-13-44-13-39-12-31-13-23-13-14-12-5-13 3-13 12-12 18-13 25-13 29-13 33-38 103-12 33-13 30-13 26-12 23-13 18 2-47 12-18 13-23 13-27 12-30 13-32 38-104 13-32 13-29 12-25 13-19 13-11 12-4 13 5 13 14 12 23 13 32 13 38 12 44 38 139 13 39 13 28 12 16 13 1 13-16 13-33 12-48 13-59 25-128 13-53 13-34 12-7 13 24 13 54 12 78 13 89 13 79 12 49 13-1 13-60 12-106 13-120 13-79 13 12 12 116 13 162 13 83 6-28 6-72 6-97z"/>
<path transform="matrix(0.25 0.11568 0 0.25 943.73 337.88)" d="M0-442l-6 97-6 72-6 27-13-82-13-162-12-116-13-12-13 79-12 119-13 107-13 60-12 1-13-49-13-80-12-88-13-78-13-55-12-23-13 7-13 34-12 53-26 128-12 59-13 48-13 33-13 16-12-1-13-16-13-28-12-39-38-139-13-44-13-38-12-32-13-23-13-14-12-5-13 4-13 11-12 19-13 25-13 29-13 32-38 103-12 33-13 30-13 27-12 23-13 18 2-86 12-18 13-23 13-27 12-30 13-32 38-104 13-32 12-29 13-25 13-18 13-12 12-4 13 5 13 15 12 23 13 31 13 38 12 44 38 140 13 38 13 29 12 15 13 1 13-16 12-33 13-48 13-59 25-128 13-52 13-34 12-8 13 24 13 54 12 78 13 89 13 80 12 48 13-1 13-60 12-106 13-119 13-79 12 11 13 116 13 163 12 82 7-28 6-72 6-97z"/>
<path transform="matrix(0.25 0.11568 0 0.25 943.35 337.98)" d="M0-342l-6 97-6 72-6 27-13-82-13-162-12-116-13-12-13 79-12 119-13 107-13 59-12 2-13-49-13-80-12-89-13-78-13-54-12-23-13 7-13 34-12 53-26 128-12 59-13 48-13 32-13 16-12 0-13-16-13-29-12-38-38-139-13-44-13-39-12-31-13-23-13-14-12-5-13 3-13 12-12 19-13 24-13 29-13 33-38 103-12 33-13 30-13 26-12 23-13 19 2-101 12-19 13-22 13-27 12-30 13-33 38-103 13-32 12-30 13-24 13-19 12-11 13-4 13 5 12 14 13 23 13 32 13 38 12 44 38 139 13 39 13 28 12 16 13 1 13-16 12-33 13-48 13-59 25-128 13-53 12-34 13-7 13 23 13 54 12 79 13 88 13 80 12 49 13-1 13-60 12-107 13-119 13-79 12 12 13 116 13 162 12 82 7-27 6-72 6-97z"/>
<path transform="matrix(0.25 0.11568 0 0.25 942.98 338.08)" d="M0-255l-6 97-6 72-6 28-13-83-12-162-13-116-13-12-13 79-12 120-13 106-13 60-12 1-13-49-13-79-12-89-13-78-13-54-12-24-13 8-13 33-12 53-26 128-12 59-13 48-13 33-13 16-12-1-13-16-13-28-12-39-38-139-13-44-13-38-12-32-13-23-13-14-12-5-13 4-13 11-12 19-13 25-13 29-12 32-39 104-12 32-13 30-13 27-12 23-13 18 1-89 13-18 13-23 13-26 12-30 13-33 38-103 13-33 12-29 13-24 13-19 12-12 13-3 13 5 12 14 13 23 13 31 12 39 13 44 38 139 13 38 13 29 12 16 13 0 13-16 12-33 13-47 13-59 25-128 13-53 12-34 13-7 13 23 12 54 13 78 13 89 13 80 12 49 13-2 13-59 12-107 13-119 13-79 12 12 13 116 13 162 12 82 7-27 6-72 5-97z"/>
<path transform="matrix(0.25 0.11568 0 0.25 942.64 338.17)" d="M0-204l-6 97-6 73-6 27-13-82-12-163-13-116-13-11-13 79-12 119-13 106-13 60-12 1-13-48-13-80-12-89-13-78-13-54-12-24-13 8-13 34-12 52-26 128-12 59-13 48-13 33-13 16-12 0-13-16-13-29-12-38-38-139-13-44-13-39-12-31-13-23-13-15-12-5-13 4-13 12-12 18-13 25-13 29-12 32-39 104-12 32-13 30-13 27-12 23-13 18 1-52 13-18 13-23 12-27 13-30 13-32 38-104 13-32 12-29 13-25 13-19 12-11 13-4 13 5 12 14 13 23 13 32 12 38 13 44 38 139 13 39 12 28 13 16 13 1 13-16 12-33 13-48 13-59 25-128 13-53 12-33 13-8 13 24 12 54 13 78 13 89 12 79 13 49 13-1 12-60 13-106 13-120 13-79 12 12 13 116 13 162 12 83 7-28 6-72 5-97z"/>
</g>
<g fill="url(#g2)" stroke="url(#g2)" stroke-width="2.4" stroke-linejoin="round">
<path transform="matrix(0.25 0.11568 0 0.25 990.38 340.97)" d="M0-299l-5-323-1-46-1 5-2 55-4 271-2 42-2-9-9-328 7 90 9 328 2 9 2-42 4-271 2-55 1-5 2 46 4 323zM-57-468l-4-98-5-75-4-31-5 21-5 67 7 91 5-68 5-21 4 31 5 75 4 98z"/>
<path transform="matrix(0.25 0.11568 0 0.25 988.70 341.42)" d="M0-366l-5-323-1-46-1 5-2 54-4 271-2 43-2-9-9-328-2-39-3 13-2 61-3 93 6 62 3-92 3-61 3-14 2 39 9 328 1 9 2-42 5-271 2-55 1-5 1 46 5 323zM-53-441l-8-192-5-75-4-31-5 21-5 67 6 62 5-67 5-21 5 31 4 75 8 192z"/>
<path transform="matrix(0.25 0.11568 0 0.25 987.10 341.86)" d="M0-387l-5-323-1-46-1 5-2 54-4 271-2 43-2-9-9-328-2-39-3 13-2 61-6 191 6 17 6-191 3-62 2-13 3 39 8 328 2 9 2-42 5-271 1-55 2-5 1 46 4 323zM-49-398l-4-64-8-192-5-75-4-31-5 21-5 67-6 95 7 17 5-96 5-67 5-21 5 31 4 75 8 192 4 64z"/>
<path transform="matrix(0.25 0.11568 0 0.25 985.59 342.27)" d="M0-356l-5-323-1-46-1 5-2 54-4 272 6-36 4-271 2-55 1-5 1 46 5 323zM-19-419l-7-270-2-39-3 13-2 61-6 192 6-36 6-191 2-61 3-13 2 38 7 270zM-57-525l-4-98-5-75-4-31-5 21-5 67-6 95 6-35 6-95 5-68 5-21 4 31 5 75 4 98z"/>
<path transform="matrix(0.25 0.11568 0 0.25 984.15 342.66)" d="M0-281l-5-323-1-46-1 5-2 54-4 271-2 43-2-9-9-328-2-39-3 13-2 61-6 191 5-79 6-191 3-61 3-13 2 39 9 328 2 9 1-43 5-271 2-54 1-5 1 46 5 323zM-53-356l-8-192-5-75-4-31-5 21-5 67-6 95 6-79 5-95 5-67 5-22 5 32 4 75 9 191z"/>
<path transform="matrix(0.25 0.11568 0 0.25 982.79 343.03)" d="M0-183l-5-323-1-46-1 5-2 54-4 271-2 43-2-9-9-328-2-39-3 13-2 61-6 191 5-102 6-191 3-61 2-13 3 39 8 328 2 9 2-43 5-271 1-54 2-5 1 46 4 323zM-57-353l-4-98-5-74-4-32-5 21-5 68-6 95 6-102 5-95 5-67 5-21 5 31 4 75 4 97z"/>
<path transform="matrix(0.25 0.11568 0 0.25 981.50 343.38)" d="M0-89l-5-323-1-46-1 5-2 54-4 271-2 43-2-9-9-328-2-39-3 13-2 61-6 191-4 78-3 35-3-17-4-65 5-97 4 64 3 17 4-35 3-77 6-192 2-61 3-13 2 39 9 328 2 9 2-43 5-271 1-54 1-5 2 46 4 323zM-66-431l-4-32-5 22-5 67-6 95 5-98 6-95 5-67 5-21 4 31z"/>
<path transform="matrix(0.25 0.11568 0 0.25 980.28 343.71)" d="M0-25l-5-323-1-46-1 5-2 55-4 271-2 42-2-9-4-149 5-68 4 149 2 9 1-42 5-271 2-55 1-5 1 46 5 323zM-33-322l-6 191-4 77-3 35-4-17-3-64-8-192-5-75-4-31-5 21-5 67-6 96 5-68 5-96 6-67 5-21 4 31 5 75 8 192 3 64 4 17 3-35 4-77 5-191z"/>
<path transform="matrix(0.25 0.11568 0 0.25 979.12 344.02)" d="M0-8l-5-323-1-46-1 5-2 55-4 271-2 42-2-9-6-248 4-20 7 248 1 9 2-43 5-271 1-54 2-5 1 46 5 323zM-33-305l-6 191-4 77-3 35-4-17-3-64-8-192-5-75-4-31-5 21-5 67 4-20 5-67 5-21 5 31 4 75 8 192 4 64 4 17 3-35 3-78 6-191z"/>
<path transform="matrix(0.25 0.11568 0 0.25 978.02 344.32)" d="M0-43l-5-323-1-46-1 5-2 55-4 271-2 42-2-9-6-248 4 32 6 248 2 9 2-42 5-272 1-54 2-5 1 46 4 323zM-36-248l-3 99-4 77-3 35-4-17-3-64-8-192-5-75-4-31-5 21-5 67 4 32 5-67 5-21 5 31 4 75 8 192 4 64 3 17 4-35 3-77 3-99z"/>
<path transform="matrix(0.25 0.11568 0 0.25 976.97 344.61)" d="M0-120l-5-323-1-46-1 5-2 54-4 271-2 43-2-9-6-248 4 74 6 248 2 9 2-42 5-271 1-55 1-5 2 46 4 323zM-36-325l-3 98-4 78-3 35-3-17-4-65-8-192-5-74-4-32-5 21 4 75 5-21 4 31 5 75 8 192 4 64 3 17 4-35 3-77 3-99z"/>
<path transform="matrix(0.25 0.11568 0 0.25 975.98 344.88)" d="M0-219l-5-323-1-46-1 5-2 55-4 271-2 42-2-9-9-328-2-39-3 13-2 62 3 95 3-61 3-13 2 39 9 328 2 9 2-43 4-271 2-54 1-5 1 46 5 323zM-43-248l-3 35-3-17-4-64-8-192-5-75-4-31 4 96 4 31 5 75 8 192 3 64 4 17 3-35z"/>
<path transform="matrix(0.25 0.11568 0 0.25 975.04 345.13)" d="M0-312l-5-323-1-46-1 5-2 55-4 271-2 43-2-9-9-329-2-38-3 13-2 61-3 93 3 89 3-92 3-61 3-13 2 38 9 328 2 9 1-42 5-271 2-55 1-5 1 46 5 323zM-49-322l-4-65-8-192-5-75-4-31 3 90 5 31 4 75 9 192 3 64z"/>
<path transform="matrix(0.25 0.11568 0 0.25 974.15 345.37)" d="M0-373l-5-323-1-46-1 5-2 55-3 189 4 58 3-189 1-54 2-5 1 46 5 323zM-19-436l-7-270-2-39-3 13-2 62-3 92 3 59 3-93 3-61 2-13 3 39 6 270zM-46-367l-3-17-4-64-8-192-5-75-4-31-5 21-5 67 3 59 5-67 5-21 5 31 4 75 8 192 4 64 4 17z"/>
<path transform="matrix(0.25 0.11568 0 0.25 973.31 345.60)" d="M0-386l-5-323-1-46-1 5-2 55-3 189 4 10 3-189 1-54 2-5 1 46 4 323zM-17-391l-9-328-2-39-3 13-2 62-6 191-4 77-3 35-3-17-4-64-8-192-5-75-4-31-5 21-5 67-6 96 4 10 5-95 5-67 5-21 5 31 4 75 8 192 4 64 3 17 4-35 3-78 6-191 3-61 2-13 3 39 8 328z"/>
<path transform="matrix(0.25 0.11568 0 0.25 972.51 345.82)" d="M0-347l-5-323-1-46-1 5-2 54-4 272-2 42-2-9-9-328-2-39-3 13-2 61-6 192-4 77-3 35-4-17-3-64-8-192-5-75-4-31-5 21-5 67-6 96 3-42 6-95 5-67 5-21 4 31 5 75 8 192 4 64 3 17 4-35 3-77 6-192 2-61 3-13 2 39 9 328 2 9 2-43 5-271 1-54 1-5 2 46 4 323z"/>
<path transform="matrix(0.25 0.11568 0 0.25 971.75 346.02)" d="M0-267l-5-323-1-46-1 5-2 54-4 272-2 42-2-9-9-328-2-39-3 13-2 61-6 192-4 77-3 35-4-17-3-64-8-192-5-75-4-31-5 21-5 67-6 95 3-82 6-95 5-67 5-21 4 31 5 75 8 192 4 64 3 17 3-35 4-78 6-191 2-61 3-13 2 39 9 328 2 9 2-43 4-271 2-54 1-5 1 46 5 323z"/>
<path transform="matrix(0.25 0.11568 0 0.25 971.03 346.22)" d="M0-168l-5-323-1-46-1 5-2 55-4 271-2 42-2-9-9-328-2-39-3 13-2 62-6 191-4 77 3-101 3-77 6-192 3-61 3-13 2 39 9 328 2 9 1-43 5-271 2-54 1-5 1 46 5 323zM-53-243l-8-192-5-75-4-31-5 21-5 67-6 96 3-102 5-95 6-67 5-21 4 31 5 75 8 192z"/>
<path transform="matrix(0.25 0.11568 0 0.25 970.35 346.40)" d="M0-77l-5-323-1-46-1 5-2 55-4 271-2 42-2-9-9-328-2-39-3 13-2 62-6 191 2-93 6-191 3-62 3-13 2 39 9 328 1 9 2-42 5-271 2-55 1-5 1 46 5 323zM-53-152l-8-192-5-75-4-31-5 21-5 67-6 96 3-93 5-96 5-67 5-21 5 31 4 75 8 192z"/>
<path transform="matrix(0.25 0.11568 0 0.25 969.70 346.58)" d="M0-19l-5-323-1-46-1 5-2 55-4 271-2 42-2-9-9-328-2-39-3 13-2 62-6 191-4 77-3 35-4-17-3-64-8-192-5-75-4-31-5 21-5 67-6 96 3-60 5-96 5-67 5-21 5 31 4 75 8 192 4 64 4 17 3-35 3-77 6-191 3-62 2-13 3 39 8 328 2 9 2-42 5-271 1-55 2-5 1 46 5 323z"/>
<path transform="matrix(0.25 0.11568 0 0.25 969.08 346.75)" d="M0-10l-5-323-1-46-1 5-2 55-4 271-2 42-2-9-9-328 3-11 8 328 2 9 2-42 5-271 1-55 2-5 1 46 4 323zM-36-215l-3 99-4 77-3 35-3-17-4-64-8-192 2-11 8 192 4 64 4 17 3-35 3-77 3-99zM-75-362l-5 67-6 96 3-11 5-96 5-67z"/>
<path transform="matrix(0.25 0.11568 0 0.25 968.50 346.91)" d="M0-53l-5-322-1-47-1 5-2 55-4 271-2 43-2-9-9-328 3 40 8 328 2 9 2-42 5-271 1-55 1-5 2 46 4 323zM-33-350l-6 191-4 78-3 35-3-17-4-65-8-192 2 41 8 192 4 65 3 17 4-35 3-78 6-191zM-75-405l-5 68-6 95 3 41 5-95 5-68z"/>
<path transform="matrix(0.25 0.11568 0 0.25 967.95 347.06)" d="M0-135l-5-323-1-46-1 5-2 55-4 271-2 42-2-9-9-328-2-38-3 13-2 61-6 191-4 77-3 35-4-17-3-64-8-192 2 81 8 192 4 64 3 17 4-35 3-77 6-192 2-61 3-13 2 39 9 328 2 9 2-42 5-272 1-54 1-5 2 46 4 323zM-75-487l-5 68-6 95 2 81 6-96 5-67z"/>
<path transform="matrix(0.25 0.11568 0 0.25 967.43 347.20)" d="M0-234l-5-323-1-46-1 5-2 54-4 271-2 43-2-9-9-328-2-39-3 13-3 61-5 192-4 77-3 35-4-17-3-64-8-192-5-75-4-31-5 21-5 67-6 95 2 98 6-95 5-67 5-21 4 31 5 75 8 192 4 64 3 17 3-35 4-78 6-191 2-61 3-13 2 39 9 328 2 9 2-43 4-271 2-54 1-5 2 46 4 323z"/>
<path transform="matrix(0.25 0.11568 0 0.25 966.93 347.33)" d="M0-324l-5-322-1-47-1 5-2 55-4 271-2 43-2-9-9-328-2-39-3 13-2 61-6 191-4 78-3 35-4-17-3-65-8-192-5-75-4-31-5 21-5 68 2 88 5-68 5-21 4 31 5 75 8 192 3 65 4 17 3-35 4-78 5-191 3-61 3-13 2 38 9 329 2 8 2-42 4-271 2-55 1-5 1 46 5 323z"/>
<path transform="matrix(0.25 0.11568 0 0.25 966.46 347.46)" d="M0-378l-5-323-1-46-1 5-2 54-4 271-2 43-2-9-9-328-2-39-3 13-2 61-6 192-4 77-3 35-4-17-3-64-8-192-5-75-4-31-5 21-5 67-6 95 2 54 5-96 6-67 4-21 5 31 5 75 8 192 3 64 4 17 3-35 3-77 6-191 3-62 3-13 2 39 9 328 2 9 1-42 5-271 2-55 1-5 1 46 5 323z"/>
<path transform="matrix(0.25 0.11568 0 0.25 966.01 347.58)" d="M0-383l-5-323-1-46-1 5-2 54-4 272-2 42-2-9-9-328-2-39-3 13-2 61-6 192-4 77-3 35-3-17-4-64-8-192-5-75-4-31-5 21-5 67-6 95 2 4 5-95 6-68 4-21 5 32 4 74 9 192 3 65 4 17 3-35 3-78 6-191 3-61 3-13 2 39 9 328 2 9 1-43 5-271 2-55 1-5 1 47 5 322z"/>
<path transform="matrix(0.25 0.11568 0 0.25 965.59 347.70)" d="M0-337l-5-323-1-46-1 5-2 55-4 271-2 42-2-9-9-328-2-39-3 13-2 61-6 192-4 77-3 35-4-17-3-64-8-192-5-75-4-31-5 21-5 67-6 96 2-48 5-95 5-68 5-21 5 32 4 74 8 192 4 65 4 17 3-35 3-78 6-191 3-61 3-13 2 39 9 328 1 9 2-43 5-271 1-54 2-5 1 46 5 323z"/>
<path transform="matrix(0.25 0.11568 0 0.25 965.19 347.81)" d="M0-253l-5-322-1-47-1 5-2 55-4 271-2 43-2-9-9-328-2-39-3 13-3 61-5 191-4 78-3 35-4-17-3-65-8-192-5-75-4-31-5 21-5 68-6 95 2-86 5-95 5-67 5-21 5 31 4 75 8 192 4 64 4 17 3-35 3-77 6-192 3-61 2-13 3 39 8 328 2 9 2-43 5-271 1-54 2-5 1 46 5 323z"/>
<path transform="matrix(0.25 0.11568 0 0.25 964.80 347.91)" d="M0-153l-5-323-1-46-1 5-2 55-4 271-2 42-2-9-9-328-2-39-3 13-2 62-6 191-4 77-3 35-3-17-4-64-8-192-5-75-4-31-5 21-5 67-6 96 2-101 5-95 5-68 5-21 5 31 4 75 8 192 4 65 4 17 3-35 3-78 6-191 3-61 2-13 3 38 8 328 2 9 2-42 5-271 1-55 2-5 1 46 5 323z"/>
<path transform="matrix(0.25 0.11568 0 0.25 964.44 348.01)" d="M0-65l-5-323-1-46-1 5-2 54-4 271-2 43-2-9-9-328-2-39-3 13-2 61-6 191-4 78-3 35-3-17-4-65-8-192-5-74-4-32-5 21-5 68-6 95 2-88 5-96 5-67 5-21 5 31 4 75 8 192 4 64 4 17 3-35 3-77 6-191 3-62 2-13 3 39 8 328 2 9 2-42 5-271 1-55 2-5 1 46 4 323z"/>
<path transform="matrix(0.25 0.11568 0 0.25 964.10 348.10)" d="M0-14l-5-323-1-46-1 5-2 54-4 272-2 42-2-9-9-328-2-39-3 13-2 61-6 192-4 77-3 35-3-17-4-64-8-192-5-75-4-31-5 21-5 67-6 95 2-52 5-95 5-68 5-21 5 32 4 74 8 192 4 65 3 17 4-35 3-78 6-191 3-61 2-13 3 39 8 328 2 9 2-43 5-271 1-54 2-5 1 46 4 323z"/>
</g>
<g fill="url(#g2)" stroke="url(#g2)" stroke-width="2.4" stroke-linejoin="round">
<path transform="matrix(0.25 -0.067848 0 0.25 944.00 338.80)" d="M0-299l6-323 2-46 1 5 2 55 7 271 2 42 2-9 3-58 9-270 3-39 3 13 4 62 7 191 5 77 4 35 5-17 5-64 10-192 6-75 6-31 6 21 7 67 7 96-5 91-7-95-7-68-6-21-6 32-6 74-11 192-5 65-4 17-5-35-4-78-8-191-3-61-4-13-3 39-8 270-3 58-2 9-3-43-6-271-2-55-2-5-1 47-6 322z"/>
<path transform="matrix(0.25 -0.067848 0 0.25 945.29 339.39)" d="M0-366l6-323 2-46 1 5 2 54 7 271 2 43 2-9 3-58 9-270 3-39 3 13 4 61 7 191 5 78 4 35 5-17 5-64 10-192 6-75 6-31 6 21 7 67 7 95-5 64-7-95-7-68-6-21-6 31-6 75-11 192-4 65-5 17-4-35-5-78-7-191-4-61-3-13-4 38-8 271-3 58-2 9-3-43-6-271-2-55-2-5-1 46-6 323z"/>
<path transform="matrix(0.25 -0.067848 0 0.25 946.51 339.96)" d="M0-387l6-323 2-46 1 5 2 54 7 271 2 43 2-9 3-58 9-270 3-39 3 13 4 61 7 191 5 78 4 35 5-17 5-64 10-192 6-75 6-31 6 21 7 67 7 95-5 18-7-96-7-67-6-21-6 31-6 75-10 192-5 64-5 17-4-35-4-77-8-191-4-62-3-13-3 39-9 270-3 58-2 9-2-42-7-271-1-55-2-5-2 46-6 323z"/>
<path transform="matrix(0.25 -0.067848 0 0.25 947.66 340.49)" d="M0-356l6-323 2-46 1 5 2 54 7 272 2 42 2-9 3-58 9-270 3-39 3 13 4 61 8 192 4 77 4 35 5-17 5-64 10-192 6-75 6-31 6 21 7 67 7 96-4-35-7-95-7-68-7-21-6 31-5 75-11 192-5 65-5 17-4-35-4-78-8-191-3-61-4-13-3 38-9 270-2 58-3 9-2-42-6-271-2-55-2-5-2 46-6 323z"/>
<path transform="matrix(0.25 -0.067848 0 0.25 948.76 341.00)" d="M0-281l6-323 2-46 1 5 2 54 7 271 2 43 2-9 3-58 9-270 3-39 3 13 4 61 7 192 5 77 4 35 5-17 5-64 10-192 6-75 6-31 6 21 7 67 7 95-4-78-7-95-7-67-6-21-6 31-6 75-11 192-5 64-4 17-5-35-4-78-8-191-3-61-4-13-3 39-8 270-3 58-2 9-3-43-6-271-2-54-2-5-1 46-6 323z"/>
<path transform="matrix(0.25 -0.067848 0 0.25 949.80 341.48)" d="M0-183l6-323 2-46 1 5 2 54 7 271 2 43 2-9 3-58 9-270 3-39 3 13 4 61 8 191 4 78 4 35 5-17 5-65 10-192 6-74 6-32 6 21 7 68 7 95-4-101-7-95-7-67-6-21-6 31-6 75-11 192-4 64-5 17-4-35-5-78-7-191-4-61-3-13-4 39-8 270-3 58-2 9-3-43-6-271-2-54-2-5-1 46-6 323z"/>
<path transform="matrix(0.25 -0.067848 0 0.25 950.79 341.94)" d="M0-89l6-323 2-46 1 5 2 54 7 271 2 43 2-9 3-58 9-270 3-39 3 13 4 61 7 191 5 78 4 35 5-17 5-64 10-192 6-75 6-31 6 21 7 67 7 95-4-97-7-95-7-67-6-21-6 31-6 75-10 192-5 64-5 17-4-35-4-78-8-191-4-61-3-13-3 39-9 270-3 58-2 9-2-43-7-271-2-54-1-5-2 46-6 323z"/>
<path transform="matrix(0.25 -0.067848 0 0.25 951.73 342.37)" d="M0-25l6-323 2-46 1 5 2 55 7 271 2 42 2-9 3-58 9-270 3-39 3 13 4 62 7 191 5 77 4 35 5-17 5-64 10-192 6-75 6-31 6 21 7 67 7 96-4-67-7-96-6-67-7-21-6 31-6 75-10 192-5 64-5 17-4-35-4-77-8-192-4-61-3-13-3 39-9 270-2 58-3 9-2-42-6-271-2-55-2-5-2 46-6 323z"/>
<path transform="matrix(0.25 -0.067848 0 0.25 952.61 342.79)" d="M0-8l6-323 2-46 1 5 2 55 7 271 2 42 2-9 3-58 9-270 3-39 3 13 4 62 8 191 4 77 4 35 5-17 5-64 10-192 6-75 6-31 6 21 7 67 7 96-3-20-7-95-7-68-7-21-6 31-5 75-11 192-5 65-4 17-5-35-4-78-8-191-3-61-4-13-3 39-9 270-2 58-3 9-2-43-6-271-2-55-2-5-2 47-6 322z"/>
<path transform="matrix(0.25 -0.067848 0 0.25 953.46 343.17)" d="M0-43l6-323 2-46 1 5 2 55 7 271 2 42 2-9 3-58 9-270 3-39 3 13 4 62 7 191 5 77 4 35 5-17 5-64 10-192 6-75 6-31 6 21 7 67 7 96-3 32-7-95-7-68-6-21-6 32-6 74-11 192-5 65-4 17-5-35-4-78-8-191-3-61-4-13-3 39-8 270-3 58-2 9-3-43-6-271-2-54-2-5-1 46-6 323z"/>
<path transform="matrix(0.25 -0.067848 0 0.25 954.25 343.54)" d="M0-120l6-323 2-46 1 5 2 54 7 271 2 43 2-9 3-58 9-270 3-39 3 13 4 61 8 191 4 78 4 35 5-17 5-65 10-191 6-75 6-32 6 21 7 68 7 95-3 75-7-95-7-67-6-21-6 31-6 75-11 192-4 64-5 17-5-35-4-77-7-192-4-61-3-13-4 39-8 270-3 58-2 9-3-43-6-271-2-54-2-5-1 46-6 323z"/>
<path transform="matrix(0.25 -0.067848 0 0.25 955.01 343.89)" d="M0-219l6-323 2-46 1 5 2 55 7 271 2 42 2-9 3-58 9-270 3-39 3 13 4 62 7 191 5 77 4 35 5-17 5-64 10-192 6-75 6-31 6 21 7 67 7 96-3 96-7-95-7-68-6-21-6 31-6 75-10 192-5 65-5 17-4-35-5-78-7-191-4-61-3-13-3 38-9 271-3 58-2 9-2-43-7-271-2-55-1-5-2 47-6 322z"/>
<path transform="matrix(0.25 -0.067848 0 0.25 955.73 344.23)" d="M0-312l6-323 2-46 1 5 2 55 7 271 2 43 2-9 3-58 9-271 3-38 3 13 4 61 7 191 5 78 4 35 5-17 5-65 10-192 6-75 6-31 6 21 7 68 7 95-3 91-7-96-6-67-7-21-6 31-6 75-10 192-5 64-5 17-4-35-4-77-8-192-4-61-3-13-3 39-9 270-2 58-3 9-2-42-7-271-1-55-2-5-2 46-6 323z"/>
<path transform="matrix(0.25 -0.067848 0 0.25 956.41 344.54)" d="M0-373l6-323 2-46 1 5 2 55 7 271 2 42 2-9 3-58 9-270 3-39 3 13 4 62 7 191 5 77 4 35 5-17 5-64 10-192 6-75 6-31 6 21 7 67 7 96-3 59-7-95-6-68-7-21-6 31-6 75-10 192-5 65-5 17-4-35-4-78-8-191-4-61-3-13-3 38-9 271-2 58-3 9-2-43-6-271-2-55-2-5-2 46-6 323z"/>
<path transform="matrix(0.25 -0.067848 0 0.25 957.06 344.84)" d="M0-386l6-323 2-46 1 5 2 55 7 271 2 42 2-9 3-58 9-270 3-39 3 13 4 62 7 191 5 77 4 35 5-17 5-64 10-192 6-75 6-31 6 21 7 67 7 96-2 11-7-95-7-68-7-21-6 31-5 75-11 192-5 64-5 18-4-36-4-77-8-191-3-61-4-13-3 38-9 270-2 58-3 9-2-42-6-271-2-55-2-5-2 46-6 323z"/>
<path transform="matrix(0.25 -0.067848 0 0.25 957.67 345.12)" d="M0-347l6-323 2-46 1 5 2 55 7 271 2 42 2-9 3-58 9-270 3-39 3 13 4 61 7 192 5 77 4 35 5-17 5-64 10-192 6-75 6-31 6 21 7 67 7 96-2-41-7-95-7-68-6-21-7 31-5 75-11 192-5 65-4 17-5-35-4-78-8-191-3-61-4-13-3 38-8 271-3 58-3 9-2-43-6-271-2-55-2-5-2 46-5 323z"/>
<path transform="matrix(0.25 -0.067848 0 0.25 958.25 345.39)" d="M0-267l6-323 2-46 1 5 2 54 7 272 2 42 2-9 3-58 9-270 3-39 3 13 4 61 7 192 5 77 4 35 5-17 5-64 10-192 6-75 6-31 6 21 7 67 7 95-2-81-7-95-7-68-6-21-6 31-6 75-11 192-5 64-4 17-5-35-4-77-8-191-3-61-3-13-4 38-8 270-3 58-2 9-3-42-6-271-2-55-2-5-1 46-6 323z"/>
<path transform="matrix(0.25 -0.067848 0 0.25 958.80 345.65)" d="M0-168l6-323 2-46 1 5 2 55 7 271 2 42 2-9 3-58 9-270 3-39 3 13 4 62 7 191 5 77 4 35 5-17 5-64 10-192 6-75 6-31 6 21 7 67 7 96-2-101-7-96-7-67-6-21-6 31-6 75-11 192-4 64-5 17-5-35-4-77-7-191-4-61-3-13-4 38-8 270-3 58-2 9-3-42-6-271-2-55-2-5-1 46-6 323z"/>
<path transform="matrix(0.25 -0.067848 0 0.25 959.32 345.89)" d="M0-77l6-323 2-46 1 5 2 55 7 271 2 42 2-9 3-58 9-270 3-39 3 13 4 62 8 191 4 77 4 35 5-17 5-64 10-192 6-75 6-31 6 21 7 67 7 96-2-93-7-95-7-68-6-21-6 31-6 75-10 192-5 65-5 17-4-35-5-78-7-191-4-61-3-13-3 39-9 270-3 58-2 9-2-43-7-271-2-55-1-5-2 47-6 322z"/>
<path transform="matrix(0.25 -0.067848 0 0.25 959.82 346.12)" d="M0-19l6-323 2-46 1 5 2 55 7 271 2 42 2-9 3-58 9-270 3-39 3 13 4 62 7 191 5 77 4 35 5-17 5-64 10-192 6-75 6-31 6 21 7 67 7 96-2-60-7-95-7-68-6-21-6 32-6 74-10 192-5 65-5 17-4-35-4-78-8-191-4-61-3-13-3 39-9 270-3 58-2 9-2-43-7-271-2-55-1-4-2 46-6 323z"/>
<path transform="matrix(0.25 -0.067848 0 0.25 960.29 346.34)" d="M0-10l6-323 2-46 1 5 2 55 7 271 2 42 2-9 3-58 9-270 3-39 3 13 4 62 7 191 5 77 4 35 5-17 5-64 10-192 6-75 6-31 6 21 7 67 7 96-2-11-7-95-6-68-7-21-6 32-6 74-10 192-5 65-5 17-4-35-4-78-8-191-4-61-3-13-3 39-9 270-2 58-3 9-2-43-7-271-1-54-2-5-2 46-6 323z"/>
<path transform="matrix(0.25 -0.067848 0 0.25 960.73 346.54)" d="M0-52l6-323 2-46 1 4 2 55 7 271 2 43 2-9 3-58 9-270 3-39 3 13 4 61 8 191 4 78 4 35 5-17 5-65 10-192 6-74 6-32 6 21 7 68 7 95-2 41-7-95-6-67-7-21-6 31-6 75-10 192-5 64-5 17-4-35-4-77-8-192-4-61-3-13-3 39-9 270-2 58-3 9-2-43-6-271-2-54-2-5-2 46-6 323z"/>
<path transform="matrix(0.25 -0.067848 0 0.25 961.16 346.74)" d="M0-135l6-323 2-46 1 5 2 55 7 271 2 42 2-9 3-58 9-270 3-38 3 13 4 61 7 191 5 77 4 35 5-17 5-64 10-192 6-75 6-31 6 21 7 68 7 95-1 81-8-95-6-68-7-21-6 31-5 75-11 192-5 65-5 17-4-35-4-78-8-191-3-61-4-13-3 38-9 270-2 58-3 9-2-42-6-271-2-55-2-5-2 46-6 323z"/>
<path transform="matrix(0.25 -0.067848 0 0.25 961.56 346.92)" d="M0-234l6-323 2-46 1 5 2 54 7 271 2 43 2-9 3-58 9-270 3-39 3 13 4 61 7 192 5 77 4 35 5-17 5-64 10-192 6-75 6-31 6 21 7 67 7 95-1 99-7-96-7-67-7-21-6 31-5 75-11 192-5 64-5 17-4-35-4-77-8-191-3-62-4-13-3 39-9 270-2 58-3 9-2-42-6-271-2-55-2-5-2 46-6 323z"/>
<path transform="matrix(0.25 -0.067848 0 0.25 961.94 347.10)" d="M0-324l6-322 2-47 1 5 2 55 7 271 2 43 2-9 3-58 9-271 3-38 3 13 4 61 7 191 5 78 4 35 5-17 5-65 10-192 6-75 6-31 6 21 7 68 7 95-1 88-7-95-7-68-7-21-6 32-5 75-11 191-5 65-4 17-5-35-4-78-8-191-3-61-4-13-3 39-9 270-2 58-3 9-2-43-6-271-2-54-2-5-2 46-6 323z"/>
<path transform="matrix(0.25 -0.067848 0 0.25 962.30 347.27)" d="M0-378l6-323 2-46 1 5 2 54 7 271 2 43 2-9 3-58 9-270 3-39 3 13 4 61 7 192 5 77 4 35 5-17 5-64 10-192 6-75 6-31 6 21 7 67 7 95-1 54-7-95-7-68-6-21-6 31-6 75-11 192-5 65-4 17-5-35-4-78-8-191-3-61-4-13-3 38-8 271-3 58-3 9-2-43-6-271-2-55-2-5-2 46-5 323z"/>
<path transform="matrix(0.25 -0.067848 0 0.25 962.64 347.42)" d="M0-383l6-323 2-46 1 5 2 54 7 272 2 42 2-9 3-58 9-270 3-39 3 13 4 61 7 192 5 77 4 35 5-17 5-64 10-192 6-75 6-31 6 21 7 67 7 95-1 4-7-95-7-67-6-21-6 31-6 75-11 192-5 64-4 17-5-35-4-77-8-192-3-61-4-13-3 39-8 270-3 58-2 9-3-43-6-271-2-54-2-5-1 46-6 323z"/>
<path transform="matrix(0.25 -0.067848 0 0.25 962.96 347.57)" d="M0-337l6-323 2-46 1 5 2 55 7 271 2 42 2-9 3-58 9-270 3-39 3 13 4 62 8 191 4 77 4 35 5-17 5-64 10-192 6-75 6-31 6 21 7 67 7 96-1-47-7-96-7-67-6-21-6 31-6 75-11 192-5 64-4 17-5-35-4-77-8-192-3-61-3-13-4 39-8 270-3 58-2 9-3-42-6-272-2-54-2-5-1 46-6 323z"/>
<path transform="matrix(0.25 -0.067848 0 0.25 963.27 347.72)" d="M0-253l6-322 2-47 1 5 2 55 7 271 2 43 2-9 3-58 9-271 3-38 3 13 4 61 7 191 5 78 4 35 5-17 5-65 10-192 6-75 6-31 6 21 7 68 7 95-1-85-7-96-7-67-6-21-6 31-6 75-11 192-5 64-4 17-5-35-4-77-7-191-4-62-3-13-4 39-8 270-3 58-2 9-3-42-6-271-2-55-2-5-1 46-6 323z"/>
<path transform="matrix(0.25 -0.067848 0 0.25 963.56 347.85)" d="M0-153l6-323 2-46 1 5 2 55 7 271 2 42 2-9 3-58 9-270 3-39 3 13 4 62 7 191 5 77 4 35 5-17 5-64 10-192 6-75 6-31 6 21 7 67 7 96-1-101-7-95-7-68-6-21-6 32-6 74-11 192-4 65-5 17-4-35-5-78-7-191-4-61-3-13-4 39-8 270-3 58-2 9-3-43-6-271-2-54-2-5-1 46-6 323z"/>
<path transform="matrix(0.25 -0.067848 0 0.25 963.84 347.98)" d="M0-65l6-323 2-46 1 5 2 54 7 271 2 43 2-9 3-58 9-270 3-39 3 13 4 61 7 191 5 78 4 35 5-17 5-65 10-192 6-74 6-32 6 21 7 68 7 95-1-88-7-95-7-68-6-21-6 31-6 75-11 192-4 65-5 17-4-35-5-78-7-191-4-61-3-13-3 38-9 270-3 58-2 9-3-42-6-271-2-55-1-5-2 46-6 323z"/>
<path transform="matrix(0.25 -0.067848 0 0.25 964.10 348.10)" d="M0-14l6-323 2-46 1 5 2 54 7 272 2 42 2-9 3-58 9-270 3-39 3 13 4 61 7 192 5 77 4 35 5-17 5-64 10-192 6-75 6-31 6 21 7 67 7 95-1-52-7-95-7-67-6-21-6 31-6 75-10 192-5 64-5 17-4-35-5-77-7-192-4-61-3-13-3 39-9 270-3 58-2 9-2-42-7-272-2-54-1-5-2 46-6 323z"/>
</g>
<path d="M964.3 262V346" stroke="#cff" stroke-opacity=".7" stroke-width=".9" stroke-dasharray="2 1.5"/>
<path d="M776.40 71.00L776.40 261.25L964.10 348.10L1209.50 281.50M1008.15 336.15L1014.05 338.88M1058.48 322.48L1064.38 325.21M1108.82 308.82L1114.72 311.55M1159.16 295.16L1165.06 297.89M1209.50 281.50L1215.40 284.23M930.41 332.51L924.14 334.21M891.91 314.70L885.63 316.40M853.41 296.88L847.13 298.58M814.90 279.07L808.63 280.77M776.40 261.25L770.13 262.95M776.40 213.69L770.50 210.96M776.40 166.12L770.50 163.40M776.40 118.56L770.50 115.83" stroke="#505050" stroke-width="0.8" fill="none"/><g><text x="1018.6" y="354.7">2</text><text x="1069.0" y="341.1">4</text><text x="1119.3" y="327.4">6</text><text x="1169.7" y="313.8">8</text><text x="1220.0" y="300.1">10</text><text text-anchor="end" x="919.4" y="349.3">2</text><text text-anchor="end" x="880.9" y="331.5">4</text><text text-anchor="end" x="842.4" y="313.7">6</text><text text-anchor="end" x="803.9" y="295.9">8</text><text text-anchor="end" x="765.4" y="278.1">10</text><text text-anchor="end" x="764.4" y="214.9">-0.5</text><text text-anchor="end" x="764.4" y="167.3">0</text><text text-anchor="end" x="764.4" y="119.8">0.5</text></g>
<g transform="translate(278.10 695.35) scale(0.2)"><g fill="none" stroke-width="3">
<path stroke="#412cba" d="M-533-517l-19-2 6-4 9 0z"/>
<path stroke="#484bee" d="M-535-509l-22-1-13-4-3-6 3-5 10-4 17-1 23 3 8 5-1 6-8 5zM328-749l-22-2 4-6"/>
<path stroke="#3f6efe" d="M6-6l-21-4-3-6 10-6 16-1 16 3 6 7-8 5zM140-43l-18 1-8-3-2-2 6-6 19-1 9 4 0 3zM263-76l-18 0-8-2-2-2 5-7 18-1 8 2 4 4zM371-107l-14-4-3-5 7-5 17-1 13 2 5 6-8 5zM-85-57l-7-1 7-2zM159-125l-4 0 5-1zM281-158l-2 0zM-13-456l-12 1 0-7 13 4zM-102-489l-22-1-9-4 1-7 11-6 16-1 16 2 9 4 0 6-7 5zM-235-460l-13-3-4-5 6-6 21-2 17 2 7 5-2 6-12 3zM23-530l-16-3 10-2zM-319-499l-22-1-11-4-2-6 3-4 10-4 18-1 16 3 9 4 0 5-7 6zM-434-471l-32-2-9-8 4-7 17-1 34 4 3 6-5 5zM423-705l-12 1-15-3-2-2 5-7M170-642l-8-1 6-2zM296-674l-15-2 3-3 11-1zM-413-542l-23-1-12-4-1-6 3-5 11-4 18 0 16 3 8 4 0 4-6 6zM338-744l-16 1-17-1-11-4-3-6 1-3 8-5M-628-489l-39 2-13-4-4-6 8-5 39 0 14 3 1 4zM82-683l-19-3 4-4 13 0 3 6zM191-713l-12-4-1-2 6-7 27 1 6 5-9 6zM-568-535l35 0 26 4 8 5 2 6-4 9-8 5-14 3-33-1-20-1-13-3-2-7 4-9 5-6 5-2"/>
<path stroke="#2b91ef" d="M7-2l-12 0M135-37l-21-1-13-3-4-6 3-6 9-5 31-1 15 3 6 5-3 8M259-70l-22-1-12-4-5-5 3-6 9-5 32-1 15 3 6 5-3 7M378-103l-20-1-13-3-5-6 3-7 9-5 36-2 16 4 5 5-1 7M497-140l-25-2-4-6 14-7 21-2 11 4 4 5-7 6zM-31-14l5-7 10-5 36-1 15 4 7 5-2 7M-85-48l-27-4-4-6 2-4 10-4 15-2 23 3 5 6 0 4-8 5zM34-83l-19-4-4-7 9-5 21-2 14 3 5 6-10 7zM158-116l-22-4-4-5 9-8 24-1 14 3 5 5-1 3-9 5zM282-149l-24-4-4-5 1-3 8-5 17-2 22 3 6 6-1 4-8 5zM-49-131l-17-3 2-4 18-1 2 6zM61-161l-14-3-3-5 7-6 16-1 14 2 6 6-9 6zM199-196l-16 1-13-3-2-4 7-5 21 0 4 1 5 6zM-27-445l-23-3-6-5 6-12 10-4 18-1 19 2 12 4 3 6-1 4-8 5zM-127-428l-19-1 1-7 18 2zM-214-451l-47-2-18-9 0-7 5-9 8-5 39 0 38 4 8 5 0 6-5 13-10 4zM-92-484l-46-2-11-4-1-7 8-10 11-4 36-1 18 2 9 5 2 6-3 8-8 5zM21-522l-24-1-10-4-1-6 2-4 10-4 16-2 23 3 7 4 0 7-9 5zM134-559l-15-4-2-4 8-6 19 0 7 2 4 3 0 2-6 4zM184-635l-29 0-11-3-3-7 10-6 15-2 21 3 7 5-1 5zM307-668l-30 0-12-3-3-6 10-8 15-2 25 3 7 5-2 6zM432-701l-15 2-21-1-13-3-4-6 2-7 8-5M44-601l-19-5-2-5 7-6 16-2 17 3 7 5-1 4-8 5zM346-741l-33 2-18-3-11-3-4-6 2-8 10-7M92-678l-32 0-11-3-3-7 10-7 15-2 24 3 7 5-1 6zM202-708l-23-2-11-4-3-6 2-5 8-5 15-2 33 3 7 5-3 9-10 5zM-51-645l-18-5-2-5 7-5 16-2 17 2 7 5-1 4-8 5zM-650-513l26-1 11-4 4-6M-543-541l59 2 13-12 8-12M-440-569l30 1 25 4 8 5 2 7-2 8-6 7-13 3-61-2-14 3-8 14-1 15 11 4 18 2 62 3 13-12 9-14 10-4 18-1 48 5 9 5 3 6-1 11-7 6-14 2-63-2-13 3-8 5-12 22-8 5-74 2-33-4-7-5 0-7 7-16-9-5-40-1-24 7-11 13-44 7-23-1-21-8-17-2-10-4-3-6-6-6"/>
<path stroke="#18aedb" d="M122-33l-31-5-5-6 6-13 10-4 15-2 34 1 14 3 6 6 0 6M246-67l-31-5-5-6 5-12 9-5 15-2 36 2 14 3 6 5 0 7M366-99l-32-6-4-5 1-7 4-7 9-5 15-2 43 1 15 3 4 6 0 7M487-132l-33-5-6-5 4-9 6-6 21-8 45 2 8 5 10 11M-40-18l6-7 10-4 35-2 34 5 6 5 1 7M44-79l-28-1-12-4-5-7 3-7 9-5 36-2 19 4 6 6-3 10-10 4zM167-112l-29-1-13-4-5-5 0-3 4-7 9-5 35-1 22 4 6 5-4 11-9 4zM292-144l-33-2-13-3-5-6 0-4 4-7 9-5 15-2 32 2 13 3 7 5 0 7-4 6-9 4zM410-179l-23-2-12-6 4-7 12-3 17-1 21 6 8 5 0 2-12 3zM-128-59l5-7 10-4 15-2 30 1 13 3 6 5-3 12-8 5-35 2M-37-125l-16 1-18-1-12-4-4-6 1-4 8-5 15-2 32 3 7 5-2 7zM72-156l-26-1-12-4-5-6 3-7 8-5 20-3 35 5 5 5-3 10-10 4zM195-189l-27-1-13-4-5-7 3-7 10-5 18-2 34 5 7 5-3 9-9 5zM-213-98l2-9 10-4 15-2 30 4 8 5-1 7-10 5-15 3-22-2M100-233l-25-1-10-6 3-8 10-4 14-2 26 1 9 5-3 8-9 5zM-32-204l-8-6 3-5 13-3 15 0 11 4-3 6-11 4zM-249-349l-10-1-1-5 20 0zM-116-387l-7 0 0-3 10 0zM102-484l-18 0-8-5 3-6 10-4 21 1 9 4-5 6zM31-517l-48-2-11-4-2-6 8-13 9-4 37-1 25 3 7 5 1 7-4 7-8 5zM145-554l-29-1-11-4-4-6 4-8 10-4 15-2 34 4 7 5-3 8-9 5zM259-592l-23-2-5-6 2-4 9-5 24-1 12 4 3 7-8 5zM382-634l-12-4 4-1zM-328-455l24-1 9-14 2-9-8-4-49-3-14 2-8 6-2 14 4 6zM-181-525l-59-2-11-4 1-8 14-12 12-3 38-1 15 2 10 4 4 6-2 10-7 6zM-51-564l-16 2-34-3-9-5 0-6 3-5 9-5 14-2 35 2 8 5 2 6-4 6zM441-697l-38 2-31-5-4-6 0-6 4-8 7-5M55-596l-34-2-11-4-3-7 4-7 9-5 17-2 38 3 7 5 1 7-4 5-9 5zM177-630l-33-2-11-3-4-8 4-7 10-5 35-1 20 3 7 5 0 7-3 5-10 4zM300-663l-34-2-12-3-3-9 3-7 9-5 35-2 26 4 7 5-1 7-5 6-9 4zM-412-501l9-1 10-4 6-6 2-11-7-5-34-2-33 2-8 6-3 9 5 5 10 4zM100-675l-16 2-35-2-11-4-4-6 4-9 10-5 15-2 27 1 15 3 8 5 0 7-4 6zM225-706l-16 1-40-2-11-4-4-6 1-4 3-7 9-5 15-3 52 4 7 5 0 7-6 9zM354-737l-16 2-35-2-18-2-12-4-3-6 4-14M-290-575l-32 3-18-4 1-4 5-7 22-3 16 2 9 4zM-39-640l-34-2-11-3-3-8 3-7 10-5 36-1 19 3 8 5 0 6-3 6-10 5zM-900-416l34-3 14-11 42 2-4 6-1 9-34 2-16 11M-155-612l-21-2-10-4-3-6 2-3 12-3 28 2 8 5-4 7zM-530-545l32-1 11-4 6-9M-422-574l59 4 6 5-2 2-3 20 3 7 11 3 80 6 7 5-3 3-2 19 3 6 11 4 77 4 8-5 14-21 9-5 39 0 41 4 8 5 1 6-8 23-16 1-64-3-16 2-6 6-5 9 0 7 4 6 25 7 58 0 8-5 11-22 5-2-1-5 10 2 60 5 13 3 5 6-1 6-4 7-7 6-12 4-72 2-11 4-14 10 1 11-15 0-36-5-46 0-4-6 5-8-21-8-33-5-43-3-14 5-34 0-23 7-36-3-19-8-10-1-23 8-37 0-23 4-21-8-32-4-9 1-3-6-53 1-26-7-11 0-17 8 1 2-25-3-31 2 4-4 1-4-3-6-21-9-3-13"/>
<path stroke="#1bc0b4" d="M112-30l-37-4 2-3-3-4 5-12 5-7 9-5 16-2 54 2 14 3 6 5-2 8M236-64l-34-5-4-5 8-20 9-5 36-1 55 3-1 4 3 3-2 7M356-97l-38-3 2-14 10-21 80 0 15-2 8-5 6-12 1-7-5-5-10-4-59-5-12-4-4-6 5-11 8-5 23-8 26 1 31 8 24 2 11-4 14-1-4 5-16 2-10 4 6 10 33 8 12-3 4-5-10-4 0-3 26-6 3-7 29 0 18 9 21 4 14-2 8-6 16 2-3 4-24 7 2 10 14 3M471-128l-26 1-9 5-1 4M841-228l0-4 13 0M925-251l0-5 21-9-1-5-10-4-1-7 3-6 25-2 16 3-8 14-8 4 12-2 14 2M828-238l-16-3-4-6-9-4-23-8 2-2 8-1 25 14 18 2zM685-205l-8 0 3-3 6 1zM856-253l7-5 10 0-3 3zM-47-22l4-7 7-6 40 1 57 4 2 6-2 7M648-222l-4-1zM322-139l-75-4-13-3-5-6 7-18 8-5 16-2 56 2 16 2 4 6-8 22-4 2zM53-75l-48-2-14-3-4-6 1-7 5-9 9-5 36-2 40 5 5 6-1 7-5 10-8 5zM176-108l-48-2-14-4-5-5 1-7 5-10 9-5 35-1 44 4 5 6-7 18-9 5zM-138-64l5-7 9-4 16-2 51 3 14 3 5 6 0 6-4 13-6 6-38 0M-27-121l-17 2-39-3-12-4-5-5 0-7 3-6 10-5 14-2 41 1 15 3 5 6-1 7-5 8zM81-152l-46-2-14-3-4-6 0-7 5-9 7-6 15-2 51 3 14 3 5 5-2 8-6 10-9 5zM205-184l-50-3-14-3-5-5 0-7 6-12 8-5 37-1 44 6 5 5-5 18-9 5zM299-222l-13 0-11-4 2-6 10-4 32-4 15 5 3 3-22 8zM-230-106l6-7 10-4 15-2 26 0 30 6 7 5 2 7-5 10-9 5-35 2M4-196l-58-3-8-5 0-5 8-14 12-4 61 1 8 5-13 20zM114-227l-57-2-10-4-2-16 6-7 10-4 14-3 68 4 5 5-9 21-9 5zM-132-169l-28-1-3-4 8-6 12-3 28 1-7 9zM225-265l-39 1-15-3 0-7 16-9 25-6 13 0 12 4 14 14zM-296-137l6-6 23-7 18-1 10 2 3 4-4 7-25 6-21 0M140-305l-34 1-12-4-5-5 10-11 12-3 8-5 36-2 16-10 53 8-2 6-9 5-28 5-16 11zM20-279l-31 0-5-6 24-9 18-2 11 4 4 5-7 6zM108-373l-34 2-20 9-8-2 0-2 12-3 15-2 6-7 9-4 23 1zM26-357l-6-3zM-229-386l17 0 6-7-3-5-16-3-16 1-8 6 4 6zM116-478l-65 2 6-2-3-5 9-19 9-5 38 2 27 6 3 6-4 7-8 5zM-281-379l14 3 0-6-19-3zM-266-410l4 0zM-122-449l24-2 10-4 6-6 1-6-7-5-15-3-30-1-14 3-9 5-1 8 5 5 11 4zM154-550l-52-1-12-4-2-6 8-16 9-5 16-1 41 2 14 3 6 5 0 7-5 8-9 5zM269-587l-34 0-13-4-5-5 1-6 4-7 9-5 30-1 31 5 5 6-5 10-9 4zM384-624l-16 1-16-3-7-5 1-10 9-5 16-2 27 3 10 4 1 6-3 3-9 5zM510-665l-25 3-12-4-3-8 8-5M-199-490l13-1 10-5 7-9 2-8-7-5-56-3-15 2-8 6-3 7 0 4 4 5 11 4zM-321-464l9-4 4-6-7-5-24-2-14 2-3 4 1 7 9 4zM451-692l-60 0-35-4 2-3-2-4 4-22-7-5-17-2-67-2-12-3 2 5-5 3-11 22-7 5-18 1-60-3-11-4-3-6 5-15M-767-370l9 1-4-10-26-4 2 11zM64-592l-56-3-11-3-2-7 7-15 9-5 36-2 39 4 8 5 0 7-6 12-9 5zM186-626l-54-2-11-4-2-7 2-7 4-8 9-5 36-1 40 4 7 5 0 7-7 12-9 4zM309-659l-55-2-12-4-2-6 2-10 3-7 8-6 16-1 71 3 4 6-10 21-10 4zM-597-424l17 2-4-5-12-2zM-809-387l14 1 0-5-12 0zM-298-532l21-2 10-4 8-12 1-7-7-5-60-3-14 3-9 5-3 7-1 5 5 5 10 4zM-424-505l12-1 11-4 4-9-8-5-32-2-14 2-7 6 2 8 12 4zM-919-439l9 0 1-3M-881-450l32 3 17-1 10-4 24 7 12 0 10-6-18-9-2-7 2-7M-518-548l12-1 12-6M-413-577l41 0 10-5 7-11M-300-608l64 3 7-5-1-3 8-16M-185-639l58 5 8 5-7 21-6 7-17 1-84-3 4 4-6 4-5 19 3 7 11 3 84 5 8-6-1-3 10-19 9-5 66 1 17 3 8 4-3 15-8 14-92-1-12-2 5 4-5 5-3 11-2 7 4 6 11 4 19 2 59 1 7-5 12-22 8-5 71 2 16 3 7 5-3 14-9 14-15 2-63-2-15 2-7 6-3 9 0 7 3 6 11 3 77 7 3 6-7 16-1 7 3 6 11 11 16 9-8 6-4 7-12 4-33 3-26 6-12 3 2 4-4 4-21 2-16-1 2 5-14 8-23 2-19-4-3 3 7 5-3 2-15-4-32 0-6 6 0 5 9 4-4 3-15 2-11-4-17 0 2 4 9 5-3 3-10 5-20 1-9-5-17-2-33 2-18-2-6-12-8-5 10-6 2-4-4-6-13-3-24 0-1-6-8-6-30 1-15-2-1-7 10-6 0-4-10-4-11-11-26-3-20 2-17-2-9-5-23 0-24 7-34 3-17 10-21-1-12-11-28-6-4-6-96-6-13 3-12 13 5 8-6 9 3 6 15 3 11 10 25 7-2 8-33 2-16 11M-67-671l60 5 7 5 0 6-6 13-9 5-15 2-36-1-20-2-12-4-2-6 7-16M56-704l62 4 7 5-1 7-7 13-9 4-16 2-35-1-19-2-11-4-3-6 6-15M185-739l70 1 4-7 4-15"/>
<path stroke="#4fcc80" d="M99-27l-18 2-8 5M224-61l-22 1-9 8M343-93l-16 1-9 6M781-212l6-8-37 0-2 8-5 3 25 1M1149-312l-2-4 10-4 16 2M1068-308l-11 0-4-5 11-5 17-3 12 4-1 3-10 4zM1188-342l-6 0-6-5 5-1 18 2zM33-37l21-1 10-5 9-18-4-6-14-3-57-3-17 1-7 6-4 19 6 5 14 3zM153-69l26-1 9-5 8-19-4-6-14-3-58-4-19 1-1 3-5 3-6 21 5 5 15 3zM278-103l21-2 9-5 4-7 2-10-5-5-13-3-51-4-16 2-9 5-7 19 5 6 15 3zM385-139l29-3 8-5 2-9-6-6-11-3-31-3-16 1-10 5-6 7-1 7 6 5zM725-231l5 1-2-2-14-5zM-57-26l-3-6-16-3M80-111l11 0 6-6 8-22-2-3 0-3-17-2-80-4-14 29 2 2-1 5zM180-145l28-2 9-5 6-19-5-5-14-4-53-2-15 2-9 5-10 19 4 5-1 1zM315-182l10-1 8-5 9-15-5-6-16-2-45-4-15 2-8 6-5 6-2 10 4 6 14 3zM-149-69l-3-7-19-3M409-234l-3-1zM91-190l21-1 9-5 4-10 0-7-7-5-55-5-13 3-9 5-7 6-2 7 4 6 12 4zM215-224l20 0 10-5 7-15 6-6 15-10-26 5-56 1-15 2-10 5-6 6-2 5 3 6 12 4zM855-451l-3-2 10-4 10 0-2 4zM-321-148l7-6 24-7 18-1 52 8 3 13 4 6 18 9 74 7 1 7-2 2-4 20 6 5 47 6 39 0 8-5 4-7 5-14-3-3 2-4-102-7 9-23 1-7-3-6-67-10-4-5 3-13 8-5 27-6 46 1 13 3-4 4-9 20 3 6 15 3 80 3 1-4 4-3 5-20-7-5-14-3-65-3-6-6 2-2 1-18 6-10-1-5 11-4 60 1 17-1 12-4 1-14-5-5-57-9-19 18-9 14-14 2-26-5-27-14 2-4 9-5 36-11 31-3 2-5 9-8 30-10 1-3 10-4 9 2 13-1 32-11 5-8-7-5-16-6-17 2-10 4-32 3-6 5 2 2-33 3-21 8-35 2-6 7-9 4-46 6-21 0-2-6-15-2-12-5 3-9 8-5-1-3-58 2-10-4-26 6-39 0-10 14-51-6-7-12-9-5 1-7-2-2 37-1 13-12 26-6-4-5-14-3-24 7-31 1-8-11-20 1-5 6 28 6-13 10-18-2-14-10-32-5-4-6 0-7-13-8 13 1 9 5 26-1 11-9-10-4-1-5 26-6-7-8-14-2-24 7-36 1-14 12-35-5-9-5-62 6-12 3-6 6-12 4-14 10 10 4 4 6 0 7-36 1-13 12M112-272l18-1 9-5-2-7-6-5-22-2-15 2-21 8 1 7 21 4zM888-481l-7 1 4-2 4-1zM797-478l10-4 6-1 0 4zM-613-284l35-1 13-12 25 3 12 5 27 5 1 13 4 5-39 1-11 12M230-515l-34 0-10-4-1-8 2-8 10-4 45 5 9 4-1 6-8 5zM26-482l12-5 6-6 0-8-7-5-39-3-23 2-8 5-3 8 5 6 11 4 31 3zM-123-456l13 0 12-6-5-6-16-3-17 3-4 3 2 6zM525-658l-31 4-34-1-7-5-3-20-10-4-39-4-35 2-10 4-5 7-4 9 1 7 10 4 56 5 13 4 2 6-11 14-10 4-36 4-24 0-15-3-4-6 2-21-8-5-47-3-38 0-9 6-8 18 1 5-2 2 13 4 76 7 4 5-11 19-9 5-14 3-80-1 2 5-4 3-9 22-7 6-15 2-61-1-16 2-7 5-5 15 2 6 11 5 53 6 12 3 4 6-5 11-11 13-12 3-50 4-13 3-8 7 0 7 5 5 33 12 7 5 11 18 10 11 31 5 14 17 10 4 6 5 29 6 21 8 15 3 30-5 11 1-2 3-22 8-1 10 11 13-11 4 0 3 3 6 18 2 14 10 19 9-10 8-27 6-11 12 55 13 39 4-8 5 2 3 31 19 15 0 22-7 33-3 10-4 23 0 6 5 34 6 24-7 28-1 13 2-2-5 14-8 44 3 29-5 20 0 15-11 23-7 6-15 30-5 20-8 35-2 26-6 12-4 9-13 14-3 18-2 15 3 2 6 11 5 6-6 11-4 44-7 10 5-15 10 2 6 17 4 19 0 13-3 33 4M-708-328l9 1 9 5 28-2 11-9-10-4 1-5 16 7 35 4 5 6 0 7 24 7 0 7-31 1-9-11-19 0-7 7 30 6-13 10M175-585l22 1 6-7 6-24-5-5-74-4-16 1-8 6-7 18 2 7 12 3zM-77-523l14-2 10-4 6-10 1-7-7-5-55-3-14 2-9 5-3 8 0 4 4 5 11 4zM36-554l29-1 10-5 7-14 2-7-8-5-46-3-36 1-8 5-3 8-2 8 3 6 11 4zM-212-494l18-1 10-4 4-10-7-5-35-3-15 2-8 5-1 5 4 6 11 4zM-692-398l12 2 11-3-2-5-12-2-13 3zM-716-412l7-2zM-34-597l9 0 8-6 4-7 4-15-6-5-49-3-36 1-8 6-6 16 2 6 11 4zM82-629l18 0 7-6 8-23-6-5-72-5-17 2-8 5-7 19 0 7 13 3zM209-663l12 0 7-6 5-14 0-7-7-5-43-4-38 0-9 5-8 19 1 6 12 4zM-175-566l20-1 10-4 7-12 1-7-8-5-57-3-15 2-8 5-4 8-1 5 4 6 11 3zM312-698l25-2 9-5 4-10-2-6-8-5-29-4-37 1-10 5-8 14 2 6 11 4zM-309-536l24-1 10-5 4-4 0-8-7-4-16-3-23 0-15 2-8 5-2 6 4 6 10 4zM-430-510l8 0 11-5-7-5-23 1-2 5zM-402-580l22-1 10-4 3-4M-290-610l41-1 10-4 6-11M-174-642l54 1 8-5 7-14M-55-674l61 1 6-6 6-15M69-708l56 0 8-5 5-13M197-742l30 0 15-2 8-5 4-9"/>
<path stroke="#a5c83d" d="M1212-340l-24 7-3 5 11 4M21-40l25-2 9-4 6-12-5-5-13-4-35-2-15 3-9 4-3 12 6 5zM141-73l29-2 9-4 5-12-5-6-13-3-37-2-15 2-9 4-4 7-1 7 6 5zM266-107l25-2 9-5 3-10-5-5-13-4-30-1-16 1-9 5-5 7 0 5 6 5zM379-144l25-3 6-6-6-5-12-4-20 1-11 4-3 5 5 5zM1148-370l-26 6-10 0-10-4 0-5 22-8M1054-368l-14 3-14-3 1-4 10-4 18 0 1 7zM-46-84l10-5 5-6 1-7-6-5-13-4-38-1-14 2-9 5-3 8 0 4 6 5 13 3 33 3zM71-116l8-1 9-4 5-7 0-8-5-5-14-3-39-2-16 2-9 5-5 7 0 7 5 5 33 5zM766-303l-13 2 8-4 7 0zM169-149l29-2 10-5 3-12-6-5-13-3-31-2-15 2-10 5-6 12 6 5zM310-188l12-6 1-4-7-5-14-3-27 0-9 5-5 6 5 6 13 3zM957-368l-6 0 1-2 15-3zM1085-399l-11 4-23 0-1-2 4-6 14-3M556-265l-14 1-11-4 9-4 6 0zM989-398l-10 2 5-4 7 0zM1023-427l-11 3-12 1-4-6 15-4M-164-128l22-1 14-9 1-7-7-5-26-5-33 3-7 5 2 8 17 9zM-44-160l26-1 9-5 2-11-8-5-14-3-40 0-8 6-1 7 4 6 11 4zM85-195l15-2 10-5 0-7-7-5-27-3-14 2-11 8 2 7 11 3zM193-231l24-2 8-7-6-6-28 1-10 5-2 5zM965-454l-21 5-15-3 9-6 14-2M865-446l-24-3-4-5 31-9 16 3 4 6zM798-450l-15 2-14-2 2-4 9-5 18-1 7 4-2 4zM909-480l-23 7-9 1-13-4 0-7 27-6M809-472l-12 1-12-4 3-8 27-5 11 2 8 5zM-183-211l-7 1-5-6 1-7-11-7 29 9 7 5 0 3zM833-506l-9 0 2-3 15-2zM-396-183l16-3 24 3 3-8 15-2 28 8 11 4 4 6 14 3 40 6 19 0 17-10 4-16 19-9 28-5 43 2 6-7 1-9-3-6-33-5-31-12 7-9 16-11-43-16-33 4-35 1-3-6-17-2 0 6 16 3-7 9-4 2-24-2-4-5-28-7-6-12-34 0-32 4-9-4-22-3-13 3-3 3 2 6-7 3 9 4-13 6-5 7-1 6 28 6 12 11 13 3 3 8-33 3-5 5-11 6M-460-227l11 1 0-4-10-1zM-486-240l7 0-1-9-17 1-8 6zM-305-289l12 0 1-11-23 1-8 8zM-509-310l15 0 12-3 3-5-1-3 9-6-43-1-12 3-4 8-9 5 2 3zM-539-329l6 1 12-3-8-8-9 0-12 3-2 4zM147-515l14-5 5-7-1-7-8-5-23-2-34 2-9 5-2 7 3 6 11 4 32 3zM-7-487l24-1 10-4 2-5-6-5-17-3-21 3-8 5 4 6zM543-650l-84 7-10 4-17 19-9 5-71 3-15 2-9 5-10 16-1 14 43 9 8 5-8 7-30 3-17-2-6-6 0-10 5-5-61-3-33 2-9 5-3 4-2 8 2 6 9 5 48 7 11 4 2 6-5 9-13 10-11 4-49 4-13 3-13 12-1 8 2 6 5 5 26 14 2 6-1 8-8 10-13 12 3 3 10 3 11-4 36-1 5 11-3 3 5 5 14 3 1 6-15 2 1 3 8 4 11 2 4-6-3-3 16-1 21 2 14 10 34 5 5 5 1 7 9 10-13 5-29-7 15 10 0 7-4 7-24 6 4 2 15-2 11-4 10 2 6 5-12 4-4 7 19 0 11-4 22 4-4 5-25 6-1 4-8 9 24 7 2 6-11 4 8 4 16-2 30 3 9 5 22 2 25-7 21 0 9 5 5 5 28 2 4-8 10-4 40 2 4 6 13 3 53-5 18-10 22-8 0-2-7-5-11-4 9-11 48-4-8 5 2 3 6 0 40-8 1-5-11-4 14-7 24-7 9-5-3-10 12-4 19-1 6 5-5 9 5 5 22 1 25-7-3-7 6-6 35-4 8 5-19 10-2 2 10 5 21 1 19-5-1-8 6-7 24-7 19 0 14 5 5 4-21 8-4 7 15 3 21-4 8-4-6-5 2-7 37-10 17 2 10 4-1 6-22 8-6 6 13 5 16 0 25-7 2-5-13-9 4-2 30-9M-593-349l15 0 12-3 3-5-10-4-3-5 9-4 3-7-53 1-12 4-4 7-11 4-5 7 37-1zM55-559l11-5 5-6 0-7-8-5-24-3-35 1-9 5-4 8 4 7 11 4 35 2zM167-590l15-1 9-5 5-8-1-7-7-5-28-3-35 1-10 5-4 7 0 4 3 6 11 4zM288-623l18-1 9-5 3-9-1-6-9-5-37-3-23 1-9 5-6 11 4 6 11 4zM417-657l10-1 7-6 2-6-2-6-8-4-35-4-16 2-10 4-5 8 3 7 11 4zM-90-527l19-1 10-5 3-9-7-5-34-3-15 2-8 5-2 5 3 6 12 4zM-219-499l16 0 10-7-6-5-13-2-16 2-4 7 1 2zM-46-601l11-1 9-4 5-7 0-8-8-5-47-4-15 2-9 5-4 8 0 3 3 5 11 4zM71-632l18-2 9-5 6-9-1-7-8-5-49-4-16 2-9 5-4 7-1 5 3 6 11 4zM196-666l14-2 9-5 4-8-1-6-8-5-23-3-36 1-10 4-6 11 3 6 11 4zM-187-569l24-2 10-4 4-5 0-7-8-4-15-3-37 2-8 5-3 6 3 6 11 4zM300-702l28-2 9-5 1-10-8-4-15-3-26 0-13 4-8 8 2 7 11 4zM-317-541l24 0 9-5 1-4-7-5-17-2-16 2-7 6 2 4zM-280-613l23-1 10-5 2-4M-165-644l35-2 10-4 4-8M-45-677l40-1 9-5 4-8M79-710l37-2 8-5 4-7M208-746l25-2 10-7"/>
<path stroke="#edba33" d="M159-78l12-5 3-5-5-6-13-3-34 0-9 5-2 7 6 5 14 3zM12-44l26-2 9-4 2-5-3-6-14-3-31 1-8 6-1 4 5 6zM256-111l26-2 9-5 1-3-5-5-13-3-26 0-9 5-2 5 5 5zM1144-359l11 2 4-6zM1056-355l24-1 4-7-18 1-10 4zM972-353l17 0 11-4 2-5-14 0-13 3zM1096-394l-25 7 3 6 16 3 25-7M-56-88l11-5 2-6-4-5-14-3-31 1-8 6-1 3 5 6 14 3zM55-118l16-2 10-5 2-8-5-5-13-4-23-1-15 2-9 5-3 8 5 5 14 4zM1004-376l23-5 12-4-4-6-11-4-9 0-26 6-10 4 0 2 9 5zM161-154l29-1 8-6 1-3-5-6-14-3-25 2-9 4-3 4 4 6zM622-279l3-1-9-2zM888-351l25-1 9-5 1-4-12-3-18 2-10 5zM908-391l-15 3-13-2-5-6 9-6 12-3 16-2 13 4 5 5zM1034-422l-25 6-6 6 10 4 15 3 31-8M616-336l-11-1-9-4 2-4 19 5zM911-416l-17-6-2-3 9-5 30-9 23 8-1 7-26 6zM-159-136l4-1-7-5-8 0zM-46-167l16 0 7-6-11-5-20 0-2 7zM974-450l-38 10-21-8-21-1-36 9 13 14-11 4-24 2-10-4-4-6 22-8-3-4-10-4-17-2-37 6-19-5-8-5 2-2 30-13-14-10 1-5 44-14-13-10 4-5 24-7M586-350l-21-3-37-11-3-6 9-4 9-1 41 15 22-8 23-2 3 5-3 1-12 4-29 2zM826-458l23-5 11-5-5-5-13-2-15 2-15 5-1 5zM916-477l-23 7 0 7 10 4 14 1 25-7M557-391l-6 0 0-3 18-1zM449-369l-5 1 10-8 11 2-2 3zM-269-182l15 2 23-8 1-4-13-2-23 8zM590-421l-12 2 7-4 7 1zM-260-198l8 1 0-3 6-4 1-9 4-6 0-5 11-17-37-4-26-6-28 3-22-1-13 3-5 7-11 4-9 8 14 10 4 12 40 3 26 7 13 0zM730-473l-24-1-1-7 23-6 17 2 8 5zM855-505l-24 7-4 5 24 7 32-6M610-448l2 0zM-396-196l18-5-15 1zM-226-242l27-3 8-6-27-3zM747-501l-14-1-1-6 9-5 15-2 13 3 1 4-9 4zM792-534l-13 3-19 1-8-5 8-5 13-3M366-443l-18-3 19-5 3 6zM-372-250l9 1 8-5-17 1zM721-567l-9 5-6-2 14-4M-412-267l15 2 9-4-2-4-6 0-13 3zM240-478l13 1 15-2 13-11-60-2-15 2-2 8zM613-617l-31 4-14-3-9-4 0-4 5-4-13-4-50-7-28 2-10 4-6 6 1 7 6 5 28 6 8 5 6 12-15 8-14 3-57-1-9-5 2-7-3-6-11-4-17-2-33 2-9 5-3 5 2 6 8 5 13 3 36 4 4 6 1 8-5 7-8 5-20 9-48 5-12 3-15 13-5 8 2 6 22 11 10 15 0 8-25 6-37 1-6 3 5 6 17 2 11 4 0 6-6 7 18 11 15 4 32-4 14 4 0 3-22 8-1 3 5 5 26 6 13-3 20-9-4-2 7-9 18-6 19 3 7 5-1 3-30 4-8 4 7 5 15 3 11 0 35-11 14-12 13-2 13 1 5 6-23 8-1 5 13 10 1 7-2 1-51 7-11-4-37 6-1 4 23 8-1 7-19 8 1 3 27 0 7 5 0 7 41 2-19 10-6 11 14 3 8 5-1 6-14 2-15 0-10-4-6-5-9 0-2 3 20 8 0 7 5 5 33 3 4-7 12-4 24 2 12 4 45-4 18 1 10 3-4-5 12-9 21-9 3-5-4-6 4-6 43 2 16-1 24-7 11-13 30-10 2-2-3-10 10-5 32-1 0 7-9 4-5 6 24 3 14-2 9-5-1-10 35-10 12-1 31 6 30-7 11-5-11-10 0-4 42-15-19-10 6-6 23-7M249-550l20-1 9-5 2-9-9-5-17-2-25 2-9 5 2 9 10 4zM118-521l19-1 9-7-6-5-13-2-16 2-6 6 2 3zM41-562l7-1 10-5 1-6-7-5-25-3-15 2-9 7 2 7 12 3zM156-594l17-2 9-4 2-8-7-5-28-3-16 2-9 5-2 4 3 6 8 3zM280-627l15-2 9-5 0-7-7-4-24-3-16 1-9 5-2 3 2 7 4 1zM-98-531l18-2 9-6-6-5-12-2-16 2-6 6 1 3zM390-664l22-1 7-7-8-4-25-1-9 5 1 4zM-60-604l17-1 9-5 3-8-8-5-29-3-15 2-9 5-1 4 2 6 4 1zM59-636l22-2 10-5 2-9-8-5-16-2-31 1-9 5-3 5 3 6 11 4zM184-670l18-2 9-5 1-7-8-5-26-3-15 2-10 4-2 4 2 7 11 4zM-195-574l24 0 9-5 1-4-7-5-17-2-16 2-7 5 2 5zM294-707l26-1 7-8-8-4-29-1-9 4 1 7zM-152-648l14-1 10-5M-33-680l19-2 11-6M92-714l16-2 8-4"/>
<path stroke="#fad52d" d="M149-82l6-2 3-5-1-2-18-2-11 3-1 5 2 2zM11-51l16 0 5-6-20 0zM259-118l11 0 1-4-10-1zM45-123l18-1 8-6-4-5-14-3-17 1-9 6 4 5zM-78-96l9 1 3-4-12 0zM168-163l7 1 0-3-5 0zM560-303l12 0 12-12 6-4-49 0-11-3 7 4-3 15zM845-381l6-2-9-4-7 2zM946-408l17-5-12-3-6 6zM766-380l8-2 1-8 5-6 29-13 1-4-17-9-36-4-4-6 2-7-9-5-18-2-35 10-3 8-25 15-3 6 15 10 11 4 48 0 7 5 4 6zM862-406l21-6-9-4-16 2-7 4zM977-437l8-3-10-4-7 2zM519-327l8 3-5-4zM893-435l12-4-6-5-20 6zM795-429l20-6 7-5-3-3-5 0-25 7-5 3zM926-472l-14 2-6 4 16 1 6-7M616-408l4-1zM823-464l19-2 1-4-9 0zM655-433l7-1-2-7-18 0-10 4-1 4zM735-461l19-1 9-4 1-3-9-1-15 2zM868-499l-16 2-4 5 15-1 9-4M651-459l13 1 14-3 8-5 0-3-11-3-17 2-14 6zM763-489l22-3 6-5-20-2-12 4zM-298-215l20-4 5-7 10-6-40 2-13 3-5 7-10 4-5 4zM572-458l27-4 7-5-13-6-14 2-16 8zM672-486l13 1 14-2 10-5 5-5-9-4-17 0-31 6-10-4 1-8 4-2 22-8 29 4 15-1 12-4 9-6-14-5-40 6-15-3-8-5 2-7 20-10 1-3-8-5-15-2-46 5-23-7 0-3 32-13-5-6-13-3-18 2-23 7-1 2 16 10-3 3-25 6-16 3-32-7-17 1-41 8-7 3 27 14-16 12-4 7 10 5 42 2 3 6-14 10 19 9 60-3 32 6 53-12zM806-528l-23 5 6 6 17-2 10-4M497-459l20-5-8-5-17 3-6 3zM745-556l-14 2-11 4-1 4 16 3 24-7M433-483l30-5 8-5-11-4-16 0-13 3-9 5 0 3zM688-582l-15 1-11 5 0 4 15 2 13-2 9-5M510-573l7 2 12-4-4-2zM36-568l3-1-2-6-13 0-3 4zM153-599l10-1 4-4-3-5-21 0-6 6zM267-637l15 2-4-6-8 0zM-67-609l14-1 9-5-7-5-23 0-5 8zM52-641l21-1 8-7-8-5-27 0-7 6 1 3zM177-675l16-2 5-4-5-5-21 0-7 7z"/>
</g></g>
<g fill="url(#g3)" stroke="url(#g3)" stroke-width="2.4" stroke-linejoin="round">
<path transform="matrix(0.25 -0.067848 0 0.25 91.89 609.19)" d="M0-365l8-8 8-4 7-7 8 9 8 15 16-50 7-4 8-7 8 1 8-13 7-14 16 54 8 11 8 13 7 10 8 24 8 32 8 7 8 20 7 36 8 17 8 26 8 22 8 9 7 2-6-24-7 3-8-6-8-18-8-23-8-14-7-46-8-20-8-6-8-29-8-22-7-8-8-12-8-10-15-56-8 14-8 12-8-1-8 6-7 4-16 50-8-15-8-9-7 7-8 4-8 7zM319-223l8-33 8-62 8-31 8 5 7 38 8 57 8 21-6-31-16-120-7-38-8-5-8 31-8 62-8 79zM413-261l15-131 8-48 8-15 8 22 15 102 8 7 8 1-6-10-8-4-8-53-7-66-8-51-8-21-8 14-7 49-16 147zM506-332l8-20 8-78 8-62 8-34 7 3 8 37 8 61 8 69 7 25-5-39-24-190-8-36-7-3-8 33-8 63-16 152zM608-360l15-146 8-50 8-17 8 19 7 51 16 138-6-73-16-139-7-50-8-20-8 17-8 50-15 147zM709-413l8-73 8-62 7-35 8 0 8 35 8 62 15 141-6-73-15-142-8-61-8-36-8 0-7 35-8 62-8 74zM810-435l8-68 8-50 8-20 7 17 8 50 16 146-6-73-16-146-8-50-7-17-8 19-8 50-8 69zM904-357l15-129 8-36 8-3 8 33 7 62 8 77-6-73-8-77-7-61-8-34-8 3-8 36-15 130z"/>
<path transform="matrix(0.25 -0.067848 0 0.25 93.38 609.88)" d="M0-348l8-8 8-3 7-8 8 9 8 15 16-50 7-5 8-6 8-1 8-13 7-15 16 53 8 10 8 14 7 11 8 26 8 33 8 8 8 18 7 24 8 19 8 29 8 24 8 12 7 8 8-10-6-30-8 16-7-3-8-9-8-21-8-27-8-16-7-37-8-19-8-8-8-32-8-24-7-9-8-14-8-10-15-55-8 15-8 12-8 0-8 6-7 4-16 50-8-14-8-9-7 7-8 3-8 8zM257-204l8 27 15 82 8 29 8 3-6-57-8-2-8-25-7-37-8-32-8-20zM413-236l8-39 7-52 8-44 8-14 8 21 8 35 7 11 8 3-6-13-8-7-15-103-8-21-8 14-7 49-16 130zM514-332l8-28 8-63 8-33 7 3 8 36 8 61 8 25-6-29-8-69-8-61-8-37-7-3-8 33-8 63-8 77zM608-325l7-41 8-71 8-50 8-17 8 20 7 50 8 69 8 57-6-61-16-139-7-50-8-20-8 17-8 50-15 147zM709-343l8-74 8-62 7-35 8 0 8 35 8 62 7 74-5-74-8-74-8-61-8-36-8 0-7 36-8 61-8 74zM810-366l8-68 8-50 8-20 7 17 8 50 8 70-6-73-8-71-8-49-7-17-8 19-8 50-8 69zM911-357l8-60 8-36 8-3 8 33 7 62-6-73-7-62-8-33-8 3-8 36-7 60z"/>
<path transform="matrix(0.25 -0.067848 0 0.25 94.87 610.57)" d="M0-316l8-8 8-3 7-8 8 9 8 15 16-50 7-5 8-7 8-1 8-14 7-17 16 52 8 10 8 13 7 11 8 26 8 34 8 6 15 23 8 21 8 30 8 24 15 27 8-6 16-45 8-15 7 0 8 17 8 31 15 91 8 31 8 4 8-28-6-46-8 27-8-3-8-29-15-83-8-26-8-14-7 1-8 14-16 49-8 10-7-8-8-13-8-23-8-29-8-19-7-24-8-18-8-8-8-34-8-26-7-10-8-14-8-10-15-54-8 16-8 13-8 0-8 7-7 4-16 51-8-15-8-9-7 7-8 4-8 8zM421-255l7-40 8-31 8-7 8 6 8 11 7 6-6-13-7-10-8-35-8-22-8 15-7 44-8 51zM514-330l8-3 16-71 7 3 8 37 8 32-6-28-8-61-8-37-7-2-8 33-8 62-8 28zM615-329l16-105 8-17 8 19 7 50-6-56-7-51-8-19-8 17-8 50-8 71zM709-296l16-130 7-36 8 0 8 36 8 61-6-56-8-62-8-35-8 0-7 35-8 62-8 73zM810-314l8-68 8-50 8-19 7 16 8 50-6-57-8-49-7-17-8 19-8 51-8 68z"/>
<path transform="matrix(0.25 -0.067848 0 0.25 96.36 611.26)" d="M0-317l8-8 8-4 7-7 8 9 8 14 16-51 7-4 8-8 8-1 8-15 7-18 8 24 8 27 8 9 8 13 7 11 8 26 8 34 8 5 15 27 8 17 8 27 8 22 15 30 8 0 16-37 7-13 8 2 8 19 8 32 15 93 8 34 8 5 8-28 15-111-6-18-15 108-8 28-8-4-8-32-15-91-8-30-8-17-7 0-8 14-16 46-8 5-15-26-8-25-8-29-8-21-15-23-8-6-8-34-8-27-7-10-8-14-8-9-15-52-8 16-8 14-8 1-8 7-7 5-16 51-8-15-8-9-7 7-8 4-8 8zM374-147l8 35 8 14 7-14 8-38 8-49-6-16-8 47-8 36-7 13-8-14-8-33zM514-329l8-3 8-16 8-33 7 2 8 37-6-27-8-36-7-3-16 70-8 3zM615-323l8-39 8-50 8-17 8 19-6-26-8-20-8 17-16 106z"/>
<path transform="matrix(0.25 -0.067848 0 0.25 97.85 611.95)" d="M0-316l8-8 8-4 7-7 8 9 8 14 16-51 7-5 8-8 8-2 8-15 7-19 8 23 8 26 8 8 8 13 7 10 8 25 8 34 8 2 8 9 7 23 8 12 8 21 8 18 8 13 7 16 8 3 16-30 7-11 8 3 8 17 8 30 15 90 8 33 8 6 8-27 15-106 8-48 8-28-6 1-8 30-8 50-15 111-8 27-8-5-8-33-15-94-8-32-8-18-7-2-8 12-16 38-8 0-15-31-8-22-8-26-8-18-15-27-8-4-8-34-8-27-7-10-8-14-8-8-8-27-7-24-8 18-8 14-8 2-8 7-7 5-16 51-8-15-8-9-7 8-8 3-8 8zM374-156l8 34 8 14 7-13 8-37 16-93-6 1-16 96-8 38-7 14-8-15-8-34z"/>
<path transform="matrix(0.25 -0.067848 0 0.25 99.34 612.64)" d="M0-288l8-8 8-4 7-8 8 9 8 15 16-52 7-5 8-9 8-2 8-16 7-20 8 22 8 25 8 7 8 12 7 8 8 24 8 32 8-1 8 4 7 16 8 10 8 17 8 13 8 8 7 14 8 3 16-28 7-10 8 1 8 14 8 25 8 37 7 42 8 30 8 5 8-25 15-98 8-40 8-20-6 9-8 29-8 47-15 107-8 26-8-5-8-33-15-90-8-30-8-18-7-2-8 10-16 30-8-2-7-17-8-12-8-18-8-21-8-12-7-23-8-10-8-2-8-33-8-26-7-9-8-13-8-8-8-26-7-23-8 18-8 16-8 2-8 8-7 5-16 51-8-15-8-8-7 7-8 4-8 8zM374-185l8 30 8 14 7-12 8-33 16-81-6 11-16 93-8 37-7 13-8-14-8-33z"/>
<path transform="matrix(0.25 -0.067848 0 0.25 100.83 613.33)" d="M0-280l8-8 8-4 7-8 8 9 8 15 16-52 7-6 8-8 8-3 8-17 7-21 8 22 8 24 8 6 8 11 7 7 8 23 8 30 8-4 8 0 7 23 8 5 8 12 8 8 8 4 7 11 8 2 16-23 7-9 8 0 8 9 8 17 8 29 7 35 8 26 8 3 8-22 15-82 8-25-6 16-8 40-15 97-8 25-8-5-8-29-7-43-8-37-8-24-8-14-7-2-8 11-16 27-8-2-7-15-8-8-8-13-8-16-8-10-7-17-8-4-8 1-8-31-8-24-7-9-8-11-8-7-8-25-7-22-8 19-8 17-8 2-8 8-7 6-16 51-8-14-8-9-7 8-8 3-8 8zM374-221l8 25 8 11 7-9 8-28 8-35 8-55 7-63 8-49 8-14 8 21-6 64-8-22-8 15-7 38-8 50-16 81-8 34-7 11-8-13-8-30z"/>
<path transform="matrix(0.25 -0.067848 0 0.25 102.32 614.01)" d="M0-278l8-9 8-3 7-8 8 9 8 14 16-52 7-6 8-9 8-3 8-17 7-21 8 20 8 24 8 5 8 11 7 6 8 23 8 29 8-7 8-3 7 20 8 15 8 6 8 5 8 1 7 8 8 1 16-18 7-6 8-3 8 7 8 9 8 19 7 27 8 20 8 3 8-20 8-33 7-26 16-130 8-32 8 4-6 68-8-5-8 31-8 58-8 26-15 82-8 22-8-4-8-25-7-35-8-29-8-17-8-9-7 0-8 8-16 24-8-2-7-11-8-4-8-8-8-12-8-5-7-23-8 0-8 4-8-30-8-23-7-8-8-10-8-6-8-25-7-21-8 20-8 17-8 3-8 9-7 6-16 51-8-14-8-9-7 8-8 3-8 9zM413-304l15-145 8-48 8-15 8 22-6 69-8-22-8 15-7 48-8 64-8 55zM506-335l16-152 8-62 8-34 7 3 8 37-6 69-8-37-7-3-8 34-8 62-8 77-8 6zM615-493l8-71 8-49 8-17 8 19-6 69-8-19-8 17-8 49-8 71zM717-544l8-62 7-35 8 0-6 69-8 0-7 35-8 62z"/>
<path transform="matrix(0.25 -0.067848 0 0.25 103.81 614.70)" d="M0-290l8-9 8-3 7-8 8 9 8 14 16-52 7-6 8-9 8-4 8-17 7-22 8 21 8 23 8 5 8 10 7 6 8 22 8 29 8-8 8-5 15 34 8 19 8 2 8 0 7 4 8 2 8-6 8-15 7-26 8-4 8 16 8 25 8 11 7 19 8 15 8 2 8-17 8-23 7-55 8-76 8-62 8-32 8 4 7 36-6 56-7-37-8-4-8 31-16 130-7 27-8 33-8 19-8-2-8-20-7-27-8-19-8-9-8-7-7 2-8 7-16 18-8-2-7-7-8-2-8-4-8-7-8-14-7-20-8 3-8 6-8-29-8-22-7-7-8-10-8-5-8-24-7-21-8 21-8 18-8 3-8 9-7 6-16 52-8-15-8-8-7 7-8 4-8 8zM405-293l8-63 15-154 8-48 8-15 8 22-6 56-8-21-8 14-7 49-16 145-8 52zM506-396l16-152 8-62 8-34 7 3 8 37-6 56-8-36-7-3-8 33-8 63-16 152zM608-478l15-146 8-50 8-17 8 19-6 57-8-19-8 16-8 50-15 146zM709-531l8-74 8-62 7-35 8 0 8 35-6 57-8-35-8 0-7 35-8 62-8 74zM810-553l8-68 8-49 8-19 7 17 8 49-6 56-8-50-7-16-8 19-8 49-8 68zM911-543l8-59 8-35 8-2 8 32-6 55-8-33-8 3-8 35-7 60z"/>
<path transform="matrix(0.25 -0.067848 0 0.25 105.30 615.39)" d="M0-319l8-9 8-4 7-7 8 8 8 15 16-52 7-6 8-9 8-4 8-18 7-22 8 20 8 23 8 5 8 10 7 6 8 23 8 29 8-9 8-6 15 31 8 20 8 7 8-2 7 20 8 8 8-19 15-45 8-4 8 16 8 22 8 32 15 24 8 2 8-14 8-21 15-150 8-62 8-32 8 3 7 36 8 58-6 29-8-58-7-37-8-3-8 32-8 61-8 77-7 54-8 24-8 16-8-1-8-16-7-19-8-10-8-25-8-17-7 5-8 25-8 15-8 6-8-1-7-5-8 0-8-1-8-19-15-35-8 6-8 7-8-28-8-23-7-6-8-10-8-5-8-23-7-20-8 21-8 18-8 4-8 9-7 6-16 52-8-15-8-8-7 7-8 4-8 8zM405-321l8-69 15-153 8-49 8-14 8 21 8 50-6 30-8-51-8-21-8 14-7 49-16 153-8 64zM506-430l16-152 8-62 8-33 7 2 8 37 8 61-6 29-8-61-8-36-7-3-8 33-8 63-16 152zM608-512l15-146 8-50 8-16 8 19 7 50 8 68-6 30-8-69-7-50-8-19-8 17-8 49-15 146zM709-565l8-74 8-62 7-35 8 0 8 35 8 62-6 30-8-62-8-36-8 0-7 36-8 62-8 73zM810-586l8-68 8-49 8-19 7 17 8 49 8 70-6 28-8-69-8-49-7-17-8 18-8 50-8 68zM904-509l15-125 8-35 8-2 8 32 7 60-6 28-7-60-8-33-8 3-8 35-15 126z"/>
<path transform="matrix(0.25 -0.067848 0 0.25 106.79 616.08)" d="M0-317l8-8 8-4 7-8 8 9 8 14 16-52 7-6 8-9 8-4 8-18 7-22 8 20 8 23 8 5 8 10 7 6 8 23 8 28 16-15 15 27 8 19 8 5 8-3 7 21 8 11 8-15 8-19-6-9-8 23-8 18-8-7-7-20-8 1-8-6-8-21-15-30-8 6-8 8-8-29-8-22-7-6-8-10-8-5-8-23-7-20-8 22-8 18-8 3-8 9-7 6-16 52-8-14-8-9-7 8-8 4-8 8zM312-248l15-148 8-61 8-33 8 3 7 36 16 119-6-6-16-120-7-36-8-3-8 32-8 61-15 150zM405-320l8-68 15-154 8-48 8-15 8 22 8 50 15 129 8 43 8 12 8-24 7-55 16-152 8-62 8-34 7 3 8 37 23 189 8 34 8 0 8-35 8-62 15-146 8-50 8-17 8 20 7 50 16 137 8 53 8 24 7-12 8-45 16-141 8-62 7-36 8 0 8 36 8 62 15 141 8 45-6-6-8-45-15-141-8-62-8-36-8 0-7 36-8 62-16 141-8 45-7 12-8-23-8-54-16-137-7-51-8-19-8 17-8 50-15 146-8 62-8 35-8 0-7-34-24-189-8-37-7-3-8 34-8 62-16 152-7 55-8 24-8-12-8-43-15-129-8-50-8-22-8 15-7 48-16 154-8 68zM802-516l16-136 8-49 8-19 7 17 8 49 16 143 8 60-6-5-8-61-16-143-8-49-7-17-8 18-8 50-16 136zM904-508l15-124 8-35 8-2 8 32 7 60 16 144-6-5-16-145-7-60-8-33-8 2-8 35-15 126z"/>
<path transform="matrix(0.25 -0.067848 0 0.25 108.28 616.77)" d="M0-319l8-9 8-3 7-8 8 8 8 15 16-52 7-6 8-10 8-4 8-18 7-22 8 20 8 23 8 5 8 10 7 6 8 23 8 29 16-16 15 27 8 18 8 4 8-3 7 24 8 15 8-10 8-13 7-15-5-23-16 40-8 15-8-11-7-22-8 3-8-4-8-19-15-28-16 16-8-29-8-22-7-7-8-10-8-4-8-23-7-20-8 22-8 18-8 4-8 9-7 6-16 52-8-14-8-9-7 8-8 3-8 9zM273-235l7 16 8 14 8 3 8-13 8-22 7-50 8-73 8-61 8-32 8 3 7 35 16 118-6-39-16-120-7-35-8-3-8 32-8 62-15 147-8 21-8 13-8-2-15-24zM405-289l8-63 15-153 8-49 8-14 8 21 8 51 15 128 8 35 8 2 8-5 7-56 16-152 8-62 8-33 7 3 8 36 23 189 8 34 8 0 8-35 8-62 15-146 8-49 8-17 8 19 7 50 16 138 8 53 8 23 7-12 8-45 16-141 7-62 8-35 8 0 8 35 8 62 15 141 8 45-6-41-8-45-15-141-8-62-8-35-8 0-7 35-8 62-16 142-8 45-7 12-8-24-8-53-16-138-7-50-8-19-8 17-8 49-15 146-8 63-8 35-8 0-7-35-24-189-8-36-7-3-8 33-8 63-16 152-7 55-8 24-8-12-8-44-15-128-8-51-8-21-8 14-7 49-16 153-8 69zM802-480l16-136 8-49 8-19 7 17 8 49 16 142 8 60-6-39-8-61-16-143-8-48-7-17-8 18-8 49-16 136zM904-473l15-124 8-35 8-2 8 32 7 59 16 143-6-37-16-145-7-59-8-33-8 2-8 35-15 125z"/>
<path transform="matrix(0.25 -0.067848 0 0.25 109.77 617.46)" d="M0-350l8-9 8-4 7-7 8 8 8 15 16-52 7-6 8-10 8-4 8-18 7-22 8 20 8 23 8 5 8 10 7 7 8 23 8 30 16-16 15 27 8 18 8 4 8-1 7 28 8 21 8-3 8-5 7-7-5-11-8 16-8 13-8 10-8-15-7-25-8 3-8-3-8-19-15-26-16 16-8-29-8-23-7-7-8-10-8-4-8-23-7-20-8 22-8 18-8 4-8 9-7 6-16 53-8-15-8-8-7 7-8 4-8 8zM265-237l8 11 7 21 8 18 8 7 8-13 8-26 7-22 16-122 8-30 8 3 7 36 8 56-6-64-8-57-7-36-8-2-8 32-8 60-8 73-7 51-8 21-8 14-8-3-8-14-7-16-8-8zM413-299l15-143 8-49 8-14 8 21 8 50 7 66 8 39 8 6-6-14-8-35-15-129-8-50-8-21-8 14-7 49-16 153zM506-333l16-148 8-62 8-33 7 2 8 37 23 189 8 17-6-50-7-34-24-189-8-37-7-2-8 33-8 62-16 152zM608-412l15-145 8-50 8-17 8 20 7 50 16 137 8 53-6-67-8-53-16-137-7-50-8-19-8 16-8 50-15 146zM709-464l8-74 7-62 8-35 8 0 8 35 8 62 15 140 8 45-6-67-8-44-15-141-8-62-8-35-8 0-7 35-8 62-8 74zM802-419l16-136 8-49 8-18 7 16 8 48 16 141 8 60-6-64-8-60-16-142-8-48-7-17-8 18-8 49-16 136zM904-415l15-123 8-34 8-3 8 32 7 58 16 140-6-60-16-142-7-59-8-32-8 2-8 34-15 124z"/>
<path transform="matrix(0.25 -0.067848 0 0.25 111.26 618.15)" d="M0-364l8-9 8-3 7-8 8 9 8 14 16-52 7-6 8-10 8-3 8-19 7-22 8 20 8 23-6 9-8-23-7-19-8 22-8 18-8 4-8 9-7 6-16 52-8-14-8-9-7 8-8 4-8 8zM171-356l8 12 8 19 8 4 8-1 7 30 8 26 16 4 7 0 8 16 8 10 8 7 8 16 15 50 8 11 8-12-6-34-8 13-8-6-8-18-7-21-8-12-8-3-8-25-7-10-8 8-8 5-8 3-8-22-7-28-8 2-8-4-8-19-8-12zM366-241l8 22 8 25 8 12-6-43-8-9-8-14-8-54zM421-307l7-62 8-48 8-15 8 22 8 50 7 36 8 11-6-20-8-40-7-65-8-50-8-22-8 15-8 48-7 73zM506-324l8-10 8-73 8-63 8-33 7 3 8 36 8 61 8 69 7 10-5-29-24-188-8-37-7-3-8 34-8 62-16 147zM608-339l15-145 8-50 8-16 8 19 7 50 16 137 8 42-6-67-8-53-16-137-7-50-8-19-8 17-8 49-15 146zM709-391l8-73 7-62 8-35 8 0 8 35 8 61 15 140-6-77-15-140-8-62-8-35-8 0-7 35-8 62-8 73zM802-348l16-136 8-49 8-18 7 16 8 48 16 139-6-73-16-141-8-48-7-17-8 19-8 49-16 135zM904-347l15-123 8-34 8-2 8 30 7 57 8 71-6-70-8-71-7-59-8-31-8 2-8 35-15 123z"/>
<path transform="matrix(0.25 -0.067848 0 0.25 112.75 618.84)" d="M0-373l8-9 8-3 7-8 8 8 8 15 16-52 7-6 8-10 8-4 8-18 7-22 8 19 8 23 8 5-6 5-8-5-8-23-7-19-8 22-8 18-8 4-8 9-7 7-16 52-8-15-8-8-7 7-8 4-8 8zM203-334l7 32 8 29 16 14 7 4 8 15 16 19 8 18 15 58 8 16 8-8 8-28-6-31-8 28-8 11-8-11-15-49-8-16-8-8-8-10-7-16-8 1-16-4-8-26-7-31zM351-258l7 19 8 22 16 63 8 15 7-11-6-45-7 9-8-12-8-25-8-22-8-43-7-36zM506-313l8-11 8-17 8-62 8-33 7 2 8 37 8 60 8 14-6-16-8-68-8-61-8-37-7-2-8 33-8 62-8 74-8 9zM608-316l7-32 8-70 8-49 8-17 8 19 7 50 8 67 8 54-6-55-16-137-7-50-8-19-8 17-8 49-15 146zM709-326l8-72 7-62 8-35 8 0 8 35 8 61 7 73-6-70-7-73-8-62-8-35-8 0-7 35-8 62-8 73zM810-353l8-67 8-49 8-19 7 16 8 47 8 67-6-66-8-68-8-47-7-17-8 19-8 49-8 67z"/>
<path transform="matrix(0.25 -0.067848 0 0.25 114.23 619.53)" d="M0-371l8-8 8-4 7-8 8 9 8 14 16-52 7-6 8-9 8-4 8-19 8-22 7 19 8 23 8 5-6-6-8-5-8-23-7-20-8 22-8 19-8 4-8 9-7 6-16 53-8-15-8-8-7 7-8 4-8 8zM203-337l15 62 16 19 8 7 15 22 8 10 8 18 15 61 8 19 8-5 8-25-6-20-8 27-8 8-8-16-15-57-8-18-16-20-7-14-8-5-16-13-8-29-7-32zM343-239l8 2 7 13 8 28 16 71 8 16 7-11 8-34-6-32-8 32-7 10-8-14-16-63-8-22-7-20-8-5zM514-315l8-13 16-65 7 3 8 36 8 28-6-15-8-61-8-36-7-3-8 34-8 62-8 17zM608-301l7-22 16-101 8-17 8 19 7 49 8 59-6-38-8-68-7-50-8-19-8 17-8 49-7 71-8 32zM709-288l16-129 7-35 8 0 8 35 8 61-6-47-8-61-8-35-8 0-7 35-8 61-8 73zM818-379l8-49 8-19 7 16-6-45-7-16-8 19-8 49z"/>
<path transform="matrix(0.25 -0.067848 0 0.25 115.72 620.22)" d="M0-353l8-8 8-4 7-8 8 9 8 14 16-52 7-6 8-10 8-4 8-18 8-23 7 20 8 23 8 4 8 10 7 8 8 23 8 31 16-18-6-20-16 16-8-30-8-24-7-7-8-10-8-5-8-23-7-20-8 23-8 18-8 4-8 10-7 6-16 52-8-14-8-9-7 8-8 3-8 9zM203-329l15 62 8 9 8 10 8 7 7 5 8 12 8 9 8 16 15 57 8 19 8-4 8-22 15-57 8-22 8-8 8 2 7 14 8 30 16 72 8 17 7-11 8-35 8-47-6-12-8 47-8 35-7 11-8-16-16-71-8-29-7-13-8-1-8 7-8 22-15 61-8 25-8 5-8-19-15-61-8-18-8-10-15-23-8-7-16-18-15-63zM514-309l8-15 8-25 8-33 7 2 8 37 8 20-6-8-8-27-8-36-7-3-16 65-8 13zM615-319l16-95 8-17 8 19-6-14-8-19-8 16-15 101z"/>
<path transform="matrix(0.25 -0.067848 0 0.25 117.21 620.91)" d="M0-368l8-9 8-4 7-7 8 8 8 15 16-52 7-7 8-9 8-4 8-19 8-22 7 19 8 23-6 11-8-23-7-19-8 22-8 19-8 4-8 9-7 7-16 52-8-15-8-8-7 7-8 4-8 9zM132-415l8 24 8 30 16-18-6 13-16 17-8-30-8-24zM203-352l15 61 8 9 8 10 8 7 7 24 8 8 8 5 8 12 15 47 8 17 8-2 8-19 15-47 8-17 8-4 8 0 7 11 8 25 16 69 8 16 7-10 8-32 8-45-6 8-8 48-8 35-7 10-8-16-16-73-8-29-7-15-8-1-8 8-8 21-15 57-8 23-8 3-8-19-15-57-8-16-8-8-8-13-7-4-8-7-8-11-8-8-15-62zM514-310l8-19 8-45 8-33 7 2 8 36-6 21-8-36-7-3-8 34-8 24-8 16z"/>
<path transform="matrix(0.25 -0.067848 0 0.25 118.70 621.60)" d="M0-380l8-8 8-4 7-8 8 9 8 14 16-52 7-6 8-10 8-4 8-19 8-22 7 19 8 23-6 7-8-22-7-20-8 23-8 18-8 4-8 10-7 6-16 52-8-14-8-9-7 8-8 4-8 8zM218-312l8 8 8 10 8 6 7 22 8 26 8 2 8 6 15 33 8 13 8-2 23-49 8-28 8-24 8 5 7 36 8 19 16 57 8 15 7-8 8-29 8-38-6 21-8 44-8 33-7 9-8-16-16-68-8-26-7-10-8-1-8 5-8 17-15 46-8 20-8 2-8-18-15-47-8-11-8-6-8-7-7-24-8-7-8-11-8-8zM514-321l8-45 8-62 8-33 7 2-6 50-7-3-8 33-8 46-8 19z"/>
<path transform="matrix(0.25 -0.067848 0 0.25 120.19 622.29)" d="M0-364l8-8 8-4 7-8 8 9 8 14 16-52 7-6 8-10 8-4 8-19 8-23 7 20 8 22 8 5-6-20-8-5-8-22-7-20-8 23-8 19-8 4-8 9-7 7-16 52-8-15-8-8-7 7-8 4-8 9zM210-335l8 28 8 7 8 8 8 4 7 20 8 27 8 0 8 3 15 20 8 9 8-4 8-14 7-11 8-32 8-47 8-26 8 2 7 33 8 54 8 23 8 21 8 12 7-6 8-24 8-31 15-137 8-48 8-14 8 21-6 64-8-21-8 14-7 46-8 56-16 80-8 29-7 7-8-15-16-56-8-19-7-36-8-5-8 24-8 27-23 49-8 3-8-14-15-33-8-6-8-2-8-25-7-23-8-6-8-10-8-8-8-29zM506-317l8-42 8-77 8-61 8-33 7 2-6 65-7-3-8 33-8 62-8 46-8 22zM608-369l15-144 8-48 8-17 8 19-6 64-8-19-8 17-8 48-7 70-8 55zM717-496l8-59 7-34 8 0-6 63-8 0-7 35-8 60z"/>
<path transform="matrix(0.25 -0.067848 0 0.25 121.68 622.98)" d="M0-366l8-9 8-3 7-8 8 8 8 15 16-52-6-3-16 53-8-15-8-8-7 7-8 4-8 9zM78-436l8-18 7-23 8 19 8 23-6-2-8-23-7-19-8 23-8 18zM210-343l8 27 8 6 8 8 8 3 7 18 8 26 8-1 8 5 7 12 16 11 8-5 8-8 7-32 16-93-6 45-8 46-8 32-7 12-8 13-8 4-8-8-15-21-8-2-8 0-8-27-7-20-8-4-8-9-8-6-8-28zM413-315l15-147 8-48 8-15 8 21-6 62-8-21-8 15-7 48-16 136zM499-319l7-34 16-150 8-61 8-33 7 3 8 36-6 62-8-36-7-3-8 33-8 62-8 76-8 43-7 20zM600-375l8-62 15-142 8-48 8-17 8 19-6 61-8-18-8 16-8 49-15 143-8 47zM709-491l8-71 8-59 7-33 8 0 8 33-6 61-8-34-8 0-7 34-8 60-8 71zM810-519l8-62 8-45 8-17 7 15-6 57-7-15-8 18-8 46-8 64z"/>
<path transform="matrix(0.25 -0.067848 0 0.25 123.17 623.66)" d="M0-374l8-8 8-4 7-7 8 8 8 14 16-52 7-6-6 3-7 6-16 52-8-14-8-8-7 7-8 4-8 8zM203-382l15 55 8 6 8 8 8 3 7 18 8 24 8-5 8 1 7 20 8 11 8 2 8-2 15-67 8-43-6 28-8 45-7 33-8 8-8 4-15-10-8-13-8-5-8 2-8-26-7-18-8-3-8-8-8-6-15-55zM405-295l8-65 15-150 8-48 8-14 8 20 8 49-6 44-8-50-8-20-8 14-7 48-16 147-8 63zM491-329l8-18 7-54 16-150 8-61 8-33 7 3 8 36-6 43-8-36-7-2-8 32-8 62-16 150-7 34-8 10zM600-424l8-61 15-142 8-47 8-17 8 19 7 48-6 43-7-48-8-19-8 16-8 48-15 143-8 61zM701-475l16-134 8-58 7-33 8 1 8 33-6 41-8-33-8 0-7 33-8 59-16 135zM802-502l16-124 8-43 8-17 7 16 8 43-6 38-8-43-7-15-8 17-8 45-16 126zM911-561l8-47 8-28 8-2 8 26-6 35-8-27-8 2-8 30-7 50z"/>
<path transform="matrix(0.25 -0.067848 0 0.25 124.66 624.35)" d="M0-393l8-8 8-4 7-8 8 9 8 14 16-52 7-6-6 15-7 6-16 52-8-14-8-9-7 8-8 4-8 8zM203-403l15 55 8 6 8 9 8 4 7 18 8 25 8-6 8-2 7 18 8 13 8 10 8-14 8-32 7-28-6 15-15 67-8 2-8-2-7-12-8-20-8 0-8 5-8-25-7-18-8-3-8-8-8-6-15-54zM405-311l8-66 15-149 8-48 8-15 8 20 8 49 15 125 8 43 8 11 8-23 7-55 16-149 8-61 8-33 7 3 8 36 8 59 8 67 8 57 7 33 8-1 8-34 8-60 15-141 8-48 8-16 8 19 7 48 16 130 8 50 8 21 7-12 8-42 16-133 8-57 7-32 8 0 8 33 8 56 15 127 8 39-6 15-8-40-15-128-8-58-8-33-8 0-7 33-8 58-16 134-8 43-7 12-8-22-8-51-16-131-7-48-8-19-8 16-8 48-15 142-8 61-8 34-8 1-7-34-8-57-8-67-8-60-8-36-7-2-8 32-8 62-16 149-7 55-8 18-8-6-8-42-15-126-8-49-8-21-8 15-7 48-16 150-8 65zM802-521l16-121 8-42 8-16 7 15 8 42 16 120-6 14-16-123-8-43-7-15-8 16-8 44-16 123zM904-524l15-99 8-27 8-1 8 25 7 45 16 106-6 17-16-111-7-47-8-26-8 1-8 28-15 103z"/>
<path transform="matrix(0.25 -0.067848 0 0.25 126.15 625.04)" d="M0-428l8-8 8-4 7-7 8 8 8 15 16-53 7-6 8-10 8-4 8-19 7-22 8 19 8 22-6 31-8-23-7-19-8 23-8 18-8 5-8 9-7 7-16 52-8-15-8-8-7 8-8 3-8 9zM210-410l8 28 8 7 8 10 8 5 7 20 8 26 8-6 8-2 7 17 8 14 8 12 8-11 8-27 7-20-6 6-7 27-8 33-8 13-8-9-7-14-8-17-8 2-8 6-8-25-7-18-8-4-8-9-8-6-8-28zM405-297l8-64 15-147 8-47 8-15 8 20 8 49 15 124 8 42 8 8 8-20 7-54 16-149 8-60 8-33 7 3 8 35 8 59 8 66 8 57 7 33 8-1 8-34 8-60 15-140 8-47 8-16 8 18 7 47 16 129 8 49 8 21 7-12 8-42 16-131 8-56 7-32 8 0 8 32 8 55 15 124 8 38-6-16-8-39-15-127-8-56-8-33-8 0-7 32-8 57-16 132-8 43-7 12-8-22-8-49-16-131-7-48-8-18-8 16-8 47-15 141-8 61-8 34-8 0-7-32-8-58-8-67-8-59-8-35-7-3-8 33-8 60-16 150-7 54-8 24-8-12-8-42-15-125-8-49-8-20-8 15-7 47-16 149-8 66zM802-508l16-118 8-42 8-16 7 15 8 40 16 116 8 48-6-13-8-49-16-120-8-42-7-15-8 15-8 43-16 121zM904-515l15-96 8-26 8-1 8 24 7 43 16 100-6-9-16-105-7-45-8-25-8 1-8 26-15 99z"/>
<path transform="matrix(0.25 -0.067848 0 0.25 127.64 625.73)" d="M0-429l8-8 8-4 7-7 8 8 8 14 16-52 7-6 8-10 8-4 8-19 7-23 8 20 8 22-6-3-8-23-7-19-8 23-8 19-8 4-8 10-7 6-16 52-8-14-8-9-7 8-8 4-8 8zM234-365l8 6 7 22 8 27 8-6 8-4 7 18 16 26 8-7 8-24-6-15-8 28-8 10-8-11-7-14-8-18-8 3-8 6-8-26-7-20-8-5zM405-254l8-62 15-143 8-46 8-15 8 20 8 48 15 122 8 29 8 7 8-16 7-42 16-148 8-61 8-32 7 2 8 36 8 58 8 65 8 57 7 32 8-1 8-34 8-60 15-139 8-47 8-16 8 18 7 47 16 126 8 48 8 21 7-12 8-42 16-129 8-56 7-32 8 0 8 31 8 54 15 120 8 37-6-43-8-38-15-124-8-55-8-32-8 0-7 31-8 57-16 131-8 42-7 12-8-21-8-49-16-129-7-47-8-19-8 16-8 47-15 140-8 61-8 34-8 0-7-32-8-57-8-67-8-58-8-36-7-2-8 32-8 61-16 148-7 55-8 19-8-7-8-42-15-125-8-48-8-21-8 15-7 47-16 147-8 65zM802-469l16-117 8-41 8-16 7 13 8 39 16 112 8 46-6-36-8-48-16-116-8-41-7-14-8 15-8 42-16 118zM904-485l15-94 8-26 8-1 8 22 7 42 8 49-6-31-8-52-7-43-8-24-8 1-8 26-15 96z"/>
<path transform="matrix(0.25 -0.067848 0 0.25 129.13 626.42)" d="M0-433l8-9 8-3 7-8 8 9 8 14 16-52 7-7 8-9 8-5 8-18 7-23 8 19 8 23-6 0-8-23-7-19-8 23-8 19-8 4-8 9-7 7-16 52-8-14-8-9-7 8-8 4-8 8zM226-379l8 12 8 7 7 22 8 28 8-6 8-3 7 17 16 29 8-4 8-19 7-3-6-24-7 12-8 23-8 8-15-27-8-17-8 3-8 7-8-28-7-21-8-6-8-11zM413-255l15-136 8-45 8-15 8 20 8 48 7 60 8 45 8 28-6-56-8-28-15-122-8-48-8-20-8 14-7 47-16 143zM506-298l8-59 8-75 8-60 8-32 7 2 8 35 8 57 8 65 8 49 7 24-6-56-7-32-8-56-8-66-8-58-8-35-7-2-8 32-8 60-16 148zM608-372l15-139 8-46 8-16 8 17 7 45 16 125 8 47-6-66-8-48-16-127-7-46-8-18-8 16-8 47-15 139zM701-374l16-127 8-56 7-31 8-1 8 29 8 52 15 116-6-58-15-121-8-53-8-31-8 0-7 32-8 56-16 128zM802-417l16-115 8-41 8-16 7 12 8 36 16 107-6-49-16-112-8-39-7-14-8 16-8 42-16 116zM911-494l8-44 8-25 8-3 8 22 7 39-6-42-7-41-8-23-8 2-8 25-7 44z"/>
<path transform="matrix(0.25 -0.067848 0 0.25 130.62 627.11)" d="M0-464l8-9 8-3 7-8 8 8 8 15 16-53 7-6 8-9 8-5 8-19 7-22 8 19 8 22-6 27-8-22-7-19-8 22-8 19-8 4-8 10-7 6-16 53-8-15-8-8-7 7-8 4-8 8zM187-458l8-6 8-12 15 58 8 9 8 12 8 8 7 24 8 29 8-5 8-3 7 17 16 33 8-1 8-13 7 6-6-2-7 4-8 18-8 5-15-29-8-17-8 3-8 6-8-28-7-23-8-7-8-12-8-8-15-57-8 11-8 6zM421-263l7-60 8-43 8-14 8 21 15 93-6-62-7-59-8-48-8-20-8 14-7 46-8 66zM506-242l8-55 16-123 8-32 7 2 8 34 16 112 8 42-6-58-8-49-8-65-8-57-8-35-7-2-8 32-8 60-8 75-8 58zM608-311l15-131 8-47 8-16 8 17 7 44 16 120-6-67-16-124-7-45-8-18-8 16-8 47-15 138zM709-374l8-65 8-55 7-32 8-1 8 28 8 49 7 59-5-60-8-61-8-52-8-29-8 0-7 32-8 55-8 67zM810-423l8-56 8-41 8-17 7 11 8 34 8 49-6-50-8-52-8-37-7-12-8 17-8 41-8 57z"/>
<path transform="matrix(0.25 -0.067848 0 0.25 132.11 627.80)" d="M0-476l8-9 8-3 7-8 8 9 8 14 16-52 7-7 8-9 8-5 8-19 7-22 8 19 8 22-6 8-8-22-7-20-8 23-8 19-8 4-8 10-7 6-16 52-8-14-8-8-7 7-8 4-8 8zM187-471l8-6 8-11 15 57-6 8-15-57-8 11-8 6zM242-400l7 24 8 30 8-6 8-4 23 49 8 0 8-9-6 4-8 12-8 1-15-32-8-18-8 3-8 6-8-30-7-23zM506-192l24-171 8-32 7 2 8 33 16 102-6-51-16-111-8-35-7-2-8 33-16 123-8 55zM608-265l15-124 8-46 8-16 8 16 7 43 16 114-6-50-16-120-7-45-8-16-8 16-8 46-15 132zM709-328l8-65 8-54 7-31 8-2 8 26 8 48-6-48-8-50-8-28-8 2-7 32-8 54-8 66z"/>
<path transform="matrix(0.25 -0.067848 0 0.25 133.60 628.49)" d="M0-482l8-8 8-4 7-8 8 9 8 14 16-52 7-6 8-10 8-4 8-19 7-23 8 19 8 23 8 4 8 10 7 7 8 23 8 29-6 2-8-30-8-23-7-7-8-10-8-4-8-22-7-20-8 23-8 19-8 4-8 10-7 6-16 52-8-14-8-8-7 7-8 4-8 8zM179-486l8 9 8-6 8-12 15 58 8 9 8 13 8 9 7 24 8 29 16-12-6 4-8 5-8 6-8-30-7-24-8-9-8-13-8-9-15-58-8 12-8 6-8-9zM374-192l8 34 8 28 7 7 8-15-6-22-8 18-7-4-8-25-8-32zM514-221l8-62 8-50 8-32 7 2 8 32 8 47-6-30-8-50-8-33-7-2-8 32-16 113zM615-302l8-61 8-45 8-17 8 16 7 42 8 55-6-26-8-59-7-43-8-16-8 17-8 46-8 64z"/>
<path transform="matrix(0.25 -0.067848 0 0.25 135.09 629.18)" d="M0-474l8-9 8-3 7-8 8 9 8 14 16-52 7-7 8-10 8-4 8-19 7-22 8 19 8 22 8 5 8 9 7 7 8 24 8 29-6-12-8-29-8-24-7-7-8-9-8-5-8-22-7-19-8 22-8 19-8 4-8 10-7 6-16 53-8-14-8-9-7 8-8 3-8 9zM179-479l8 9 8-6 8-12 15 57 8 9 8 13 8 8 7 24 8 29 16-16-6-5-16 12-8-30-7-24-8-8-8-13-8-10-15-57-8 11-8 7-8-9zM374-198l16 60 7 9 8-14-6 0-8 16-7-8-8-28-8-33zM522-285l8-52 8-31 7 1 8 32-6 0-8-33-7-1-8 32-8 50zM615-308l8-61 8-45 8-16 8 15 7 40-6 3-7-42-8-15-8 16-8 46-8 61z"/>
<path transform="matrix(0.25 -0.067848 0 0.25 136.58 629.87)" d="M0-450l8-8 8-4 7-7 8 8 8 14 16-52 7-6 8-10 8-4 8-19 7-23 8 19 8 23 8 4 8 10 7 7 8 23 8 29-6-28-8-30-8-23-7-7-8-10-8-4-8-22-7-20-8 23-8 19-8 4-8 10-7 6-16 52-8-14-8-8-7 7-8 4-8 8zM179-455l8 9 8-7 8-12 15 57 8 9 8 13 8 7 7 23 8 29 16-20-6-21-16 16-8-29-7-24-8-8-8-13-8-9-15-58-8 12-8 7-8-9zM514-250l8-65 8-56 8-32 7 1-6 31-7-2-8 32-8 52-8 63zM615-342l8-63 8-44 8-16 8 14-6 31-8-15-8 16-8 45-8 62z"/>
<path transform="matrix(0.25 -0.067848 0 0.25 138.07 630.56)" d="M0-457l8-9 8-3 7-8 8 9 8 14 16-53 7-6 8-10 8-4 8-19 7-22 8 19 8 23 8 4 8 10 7 6-6 3-7-6-8-10-8-4-8-23-7-19-8 23-8 18-8 5-8 9-7 7-16 52-8-14-8-9-7 8-8 4-8 8zM187-454l8-7 8-12 15 57-6 4-15-57-8 12-8 7zM242-388l7 23 8 28 16-23-6 9-16 19-8-28-7-23zM506-238l16-132 8-57 8-31 7 1-6 51-7-1-8 31-8 56-16 128zM608-333l15-127 8-43 8-15 8 14-6 49-8-14-8 15-8 45-15 126z"/>
<path transform="matrix(0.25 -0.067848 0 0.25 139.56 631.25)" d="M0-460l8-8 8-4 7-7 8 8 8 14 16-52 7-6 8-10 8-4 8-19 7-23 8 20 8 22 8 4 8 10 7 7-6-2-7-7-8-10-8-4-8-22-7-20-8 23-8 19-8 4-8 10-7 6-16 52-8-14-8-8-7 7-8 4-8 8zM187-457l8-7 8-12 15 56-6-1-15-56-8 12-8 7zM421-335l7-53 8-38 8-14 8 18-6 55-8-19-8 13-7 38-8 53zM499-250l7-48 16-135 8-56 8-30 7 1-6 56-7-1-8 31-8 57-16 132-7 47zM600-342l8-54 15-124 8-41 8-15 8 14-6 53-8-14-8 16-8 43-15 127-8 52zM709-476l8-55 8-45 7-26 8-3-6 49-8 2-7 27-8 47-8 58zM810-535l8-42 8-30 8-13 7 7-6 44-7-8-8 13-8 31-8 44z"/>
<path transform="matrix(0.25 -0.067848 0 0.25 141.05 631.94)" d="M0-434l8-8 8-4 7-8 8 9 8 14 16-52 7-7 8-9 8-5 8-18 7-23 8 19 8 23 8 4 8 10 7 6-6-30-7-6-8-10-8-4-8-23-7-19-8 23-8 18-8 5-8 9-7 7-16 52-8-14-8-9-7 8-8 4-8 8zM187-431l8-7 8-13 15 57-6-30-15-56-8 12-8 7zM242-367l7 22 8 27 16-27-6-26-16 25-8-28-7-22zM413-317l8-61 7-53 8-38 8-15 8 15 8 40-6 45-8-43-8-17-8 13-7 38-16 113zM499-303l7-48 16-135 8-54 8-30 7 1 8 30-6 47-8-31-7-1-8 31-8 56-16 134-7 48zM592-367l8-31 8-52 15-119 8-39 8-15 8 13 7 35-6 45-7-37-8-13-8 15-8 41-15 123-8 55-8 30zM701-476l16-100 8-43 7-26 8-2 8 19-6 40-8-21-8 2-7 26-8 46-16 106zM802-535l16-80 8-30 8-12 7 6 8 22-6 35-8-23-7-7-8 13-8 30-16 85zM904-573l7-31 8-27 8-14 8-1 8 14-6 27-8-13-8 2-8 15-7 27-8 32z"/>
<path transform="matrix(0.25 -0.067848 0 0.25 142.54 632.62)" d="M0-426l8-8 8-4 7-8 8 9 8 14 16-52 7-7 8-9 8-5 8-18 7-23 8 19 8 23 8 4-6-12-8-5-8-22-7-19-8 22-8 19-8 4-8 10-7 6-16 53-8-15-8-8-7 8-8 3-8 8zM210-415l8 28 8 9 8 12 8 7 7 22 8 26 16-28-6-11-16 27-8-26-7-22-8-7-8-12-8-9-8-29zM405-296l8-46 8-60 7-51 8-38 8-16 8 13 8 38 7 52-6 25-7-54-8-40-8-16-8 15-7 39-8 53-8 60-8 48zM491-313l8-22 7-49 16-131 8-54 8-28 7 1 8 28 8 47-6 26-8-49-8-29-7-1-8 30-8 54-16 134-7 49-8 21zM592-402l8-30 8-51 15-114 8-38 8-13 8 12 7 33 8 46-6 26-8-48-7-35-8-13-8 14-8 40-15 119-8 52-8 31zM701-509l16-94 8-41 7-24 8-2 8 18 8 33-6 22-8-35-8-19-8 2-7 25-8 43-16 101zM802-564l16-74 8-27 8-12 7 5 8 21 8 30-6 20-8-32-8-23-7-5-8 12-8 29-16 80zM904-596l7-29 8-24 8-14 8 1 8 13 7 23-6 14-7-24-8-14-8 0-8 15-7 26-8 32z"/>
<path transform="matrix(0.25 -0.067848 0 0.25 144.03 633.31)" d="M0-423l8-8 8-4 7-7 8 8 8 14 16-52 7-7 8-9 8-4 8-19 7-23 8 20 8 22-6-7-8-23-7-19-8 22-8 19-8 4-8 10-7 6-16 53-8-15-8-8-7 8-8 3-8 8zM203-440l15 56 8 9 8 12 7 7 8 22 8 26 16-29-6-7-16 29-8-27-7-22-8-7-8-12-8-8-15-56zM405-300l8-44 8-57 7-49 8-36 8-16 8 12 8 36 15 98 8 32 8 6 8-22 7-48 16-128 8-52 8-28 7 0 8 28 16 96 7 43 8 22 8-3 8-30 8-49 15-110 8-37 8-13 8 12 7 32 16 86 8 31 8 11 7-12 8-31 16-89 8-38 7-22 8-2 8 17 23 97 8 19-6 10-8-22-15-74-8-33-8-18-8 3-7 24-8 40-16 95-8 32-7 11-8-13-8-33-16-91-7-34-8-12-8 14-8 38-15 114-8 50-8 30-8 3-7-24-8-44-16-100-8-29-7-1-8 29-8 53-16 131-7 49-8 22-8-7-8-33-15-102-8-38-8-14-8 16-7 38-8 52-8 59-8 47zM802-578l16-66 8-24 8-10 7 6 8 18 16 53 8 21-6 11-8-25-16-61-8-21-7-6-8 12-8 27-16 74zM904-608l7-24 8-19 8-11 8 1 8 11 15 39-6 8-15-50-8-14-8 0-8 13-7 25-8 28z"/>
<path transform="matrix(0.25 -0.067848 0 0.25 145.52 634.00)" d="M0-432l8-8 8-4 7-7 8 8 8 14 16-52 7-6 8-10 8-4 8-19 7-22 8 19 8 22-6 5-8-23-7-19-8 23-8 18-8 4-8 10-7 6-16 53-8-14-8-9-7 8-8 3-8 9zM241-365l8 22 8 26 16-29-6 4-16 30-8-27-7-22zM405-290l8-38 8-52 7-44 8-33 8-15 8 12 8 35 15 94 8 30 8 6 8-22 7-47 16-125 8-51 8-28 7 1 8 25 16 93 7 40 8 20 8-4 8-29 8-49 15-107 8-35 8-13 8 12 7 30 16 80 8 28 8 8 7-12 8-32 16-85 8-36 7-19 8-1 8 17 15 59 8 26 8 15-6-6-8-19-23-97-8-17-8 1-7 22-8 38-16 90-8 31-7 11-8-11-8-30-16-86-7-32-8-12-8 13-8 36-15 111-8 49-8 29-8 4-7-23-8-42-16-97-8-27-7-1-8 29-8 51-16 129-7 48-8 22-8-7-8-31-15-98-8-36-8-13-8 16-7 37-8 48-8 57-8 44zM802-579l16-58 8-19 8-7 7 6 8 15 16 41 8 15-6 1-8-20-16-53-8-18-7-6-8 10-8 23-16 67zM904-612l7-16 8-13 8-7 8 0 8 7 7 10 8 13-6 3-15-40-8-11-8 0-8 11-7 19-8 23z"/>
<path transform="matrix(0.25 -0.067848 0 0.25 147.01 634.69)" d="M0-456l8-8 8-4 7-8 8 9 8 14 16-53 7-6 8-10 8-4 8-18 7-23 8 19 8 23 8 4-6 20-8-4-8-23-7-19-8 23-8 18-8 4-8 10-7 7-16 52-8-14-8-9-7 8-8 4-8 8zM241-389l8 22 8 26 16-29-6 20-16 29-8-26-7-22zM413-307l8-44 7-36 8-28 8-12 8 13 8 34 15 91-6-46-15-94-8-35-8-12-8 15-7 33-8 43-8 52zM499-276l7-45 16-122 8-49 8-28 7-1 8 25 16 87 7 37 8 18 8-5 8-30 23-152 8-34 8-13 8 11 7 28 16 73 8 25-6-29-8-28-16-80-7-31-8-11-8 13-8 35-15 107-8 48-8 30-8 4-7-21-8-40-16-92-8-26-7 0-8 28-8 51-16 125-7 47zM701-492l16-82 8-33 7-18 8 0 8 16 15 52 8 21-6-19-8-26-15-60-8-16-8 0-7 20-8 35-16 86zM802-572l8-27 8-24 8-15 8-4 7 5 8 13 8 16 8 13-6-10-16-41-8-16-7-5-8 6-8 19-16 59zM919-627l8-4 8-1 8 3 7 4 8 5-6-2-8-13-7-11-8-6-8 0-8 7z"/>
<path transform="matrix(0.25 -0.067848 0 0.25 148.50 635.38)" d="M0-448l8-8 8-4 7-7 8 8 8 14 16-52 7-7 8-9 8-5 8-18 7-22 8 19 8 22 8 5-6-13-8-4-8-23-7-19-8 22-8 19-8 4-8 10-7 6-16 53-8-15-8-8-7 8-8 3-8 8zM421-313l7-29 8-22 8-10 8 13 8 34 7 43-6-54-7-46-8-34-8-13-8 12-7 27-8 36zM499-230l7-44 16-117 8-48 8-28 7-1 8 21 16 81 7 34-5-45-8-37-16-87-8-24-7 1-8 27-8 50-16 122-7 45zM600-353l23-148 8-33 8-13 8 9 7 25 16 66 8 21-6-30-8-24-16-73-7-29-8-10-8 12-8 34-23 152zM701-469l16-79 8-32 7-17 8 0 8 13 15 45 8 17-6-18-8-22-15-52-8-15-8 0-7 17-8 33-16 83zM810-587l8-21 8-13 8-4 7 4 8 11 8 12-6-15-8-15-8-13-7-6-8 5-8 15-8 23z"/>
<path transform="matrix(0.25 -0.067848 0 0.25 149.99 636.07)" d="M0-443l8-9 8-3 7-8 8 9 8 14 16-53 7-6 8-10 8-4 8-19 7-22 8 19 8 23-6-9-8-23-7-19-8 23-8 18-8 4-8 10-7 6-16 53-8-14-8-9-7 8-8 4-8 8zM506-236l16-112 8-46 8-27 7-3 8 19 8 34-6-42-8-38-8-22-7 2-8 27-8 48-16 118zM608-371l15-97 8-32 8-13 8 6 7 21 16 57-6-22-16-66-7-25-8-9-8 13-8 33-15 101zM709-490l8-37 8-31 7-18 8-3 8 10 15 38-6-13-15-44-8-14-8 1-7 17-8 31-8 40zM818-598l8-15 8-6 7 2 8 9-6-7-8-10-7-5-8 4-8 14z"/>
<path transform="matrix(0.25 -0.067848 0 0.25 151.48 636.76)" d="M0-467l8-8 8-3 7-8 8 9 8 14 16-53 7-6 8-10 8-4 8-19 7-22 8 19 8 23-6 18-8-22-7-20-8 23-8 18-8 5-8 9-7 7-16 52-8-14-8-8-7 7-8 4-8 8zM514-272l8-53 8-43 8-27 7-3 8 16-6-27-8-19-7 2-8 27-8 46-8 57zM615-406l8-44 8-31 8-14 8 2 7 17 8 24-6-9-8-29-7-22-8-5-8 13-8 32-8 46zM717-518l8-30 7-19 8-7 8 6 8 14-6-2-8-17-8-10-8 3-7 18-8 30z"/>
<path transform="matrix(0.25 -0.067848 0 0.25 152.97 637.45)" d="M0-471l8-9 8-3 7-8 8 9 8 14 16-53 7-7 8-9 8-4 8-19 7-22 8 19 8 23 8 4 8 10 7 6 8 23 8 29-6 1-8-29-8-23-7-7-8-9-8-5-8-22-7-20-8 23-8 18-8 4-8 10-7 7-16 52-8-14-8-8-7 7-8 4-8 8zM615-411l8-41 8-29 8-15 8 0 7 13-6 3-7-17-8-3-8 15-8 31-8 43z"/>
<path transform="matrix(0.25 -0.067848 0 0.25 154.46 638.14)" d="M0-471l8-8 8-4 7-7 8 8 8 14 16-53 7-6 8-10 8-4 8-19 7-22 8 20 8 22 8 5 8 9 7 7 8 23 8 28-6-4-8-29-8-23-7-6-8-10-8-4-8-23-7-19-8 22-8 18-8 4-8 10-7 7-16 52-8-14-8-8-7 7-8 4-8 8zM615-435l8-37 8-28 8-14 8-1-6 15-8 0-8 14-8 30-8 40z"/>
<path transform="matrix(0.25 -0.067848 0 0.25 155.95 638.83)" d="M0-459l8-8 8-4 7-7 8 8 8 14 16-53 7-6 8-10 8-4 8-18 7-22 8 19 8 23 8 4 8 10 7 6 8 23 8 29-6-17-8-29-8-23-7-6-8-10-8-4-8-23-7-19-8 22-8 18-8 5-8 9-7 7-16 52-8-14-8-8-7 8-8 3-8 8zM608-435l15-72 8-25 8-12 8 0-6 25-8 1-8 14-8 27-15 78z"/>
<path transform="matrix(0.25 -0.067848 0 0.25 157.44 639.52)" d="M0-432l8-8 8-3 7-8 8 9 8 13 16-52 7-7 8-10 8-4 8-18 7-22 8 20 8 22 8 5 8 10 7 6 8 23 8 28 16-23-6-32-16 23-8-28-8-23-7-7-8-9-8-5-8-22-7-20-8 22-8 19-8 4-8 9-7 7-16 53-8-14-8-9-7 8-8 3-8 8zM522-421l8-34 8-23 7-5 8 9-6 35-8-10-7 5-8 23-8 36zM600-445l23-101 8-21 8-10 8 2-6 27-8 0-8 12-8 24-23 106zM701-561l16-47 7-17 8-10-6 19-7 15-8 23-16 51z"/>
<path transform="matrix(0.25 -0.067848 0 0.25 158.93 640.21)" d="M0-438l8-8 8-3 7-8 8 9 8 14 16-53 7-7 8-10 8-4 8-18 7-22 8 20 8 23 8 4 8 10 7 6 8 23 8 28 16-22-6 1-16 23-8-29-8-22-7-7-8-9-8-5-8-23-7-19-8 22-8 18-8 4-8 10-7 6-16 53-8-14-8-8-7 7-8 4-8 8zM514-417l8-38 8-32 8-22 7-5 8 8-6 28-8-9-7 5-8 22-8 34-8 41zM592-460l8-23 23-95 8-19 8-7 8 4-6 21-8-2-8 9-8 22-23 100-8 23zM686-558l7-14 24-63 7-14 8-5 8 3-6 11-8 0-7 10-8 18-16 47-8 20-7 13zM779-631l8-9 15-24 8-7 8-3 8 1-6 5-8 5-8 10-15 24-8 11-8 6zM873-673l7-6 8-3 8 2 8 6-6 10-8 1-23 6zM958-673l8-7 8 0 8 8-6 17-8-5-8-2-8-1z"/>
<path transform="matrix(0.25 -0.067848 0 0.25 160.42 640.90)" d="M0-441l8-7 8-4 7-7 8 8 8 14 16-53 7-7 8-9 8-4 8-18 7-22 8 20 8 23 8 4 8 10 7 6 8 23 8 28 16-23-6-2-16 23-8-28-8-23-7-6-8-10-8-4-8-23-7-20-8 22-8 18-8 4-8 10-7 6-16 53-8-14-8-8-7 7-8 4-8 8zM506-402l16-75 8-29 8-21 7-6 8 7 8 16-6 18-8-18-8-9-7 6-8 21-8 33-16 80zM584-481l8-9 8-21 23-87 8-16 8-6 8 3 7 12 8 14-6 15-8-16-7-12-8-4-8 7-8 18-23 96-8 22-8 9zM686-581l7-13 24-57 7-11 8-4 8 3 8 8-6 8-8-8-8-4-7 6-8 13-24 63-7 15zM779-647l23-30 8-6 8-1 8 2 15 9-6 4-15-8-8-2-8 3-8 8-15 23-8 10zM865-677l15-12 8-2 8 2 8 7-6 4-8-6-8-2-8 3-15 11zM950-669l8-9 8-7 8 0 8 7-6 1-8-7-8 0-8 6-8 10z"/>
<path transform="matrix(0.25 -0.067848 0 0.25 161.90 641.59)" d="M0-417l8-8 8-3 7-8 8 9 8 13 16-53 7-6 8-10 8-4 8-18 8-21 7 19 8 23 8 5 8 10 7 6 8 22 8 28 16-23-6-27-16 23-8-29-8-22-7-6-8-10-8-5-8-23-7-19-8 21-8 18-8 4-8 10-7 7-16 52-8-13-8-9-7 8-8 3-8 8zM506-414l8-38 8-31 8-26 8-20 7-7 8 4 8 12 8 14 8 6 7-1 8-7 8-19 23-76 8-14 8-7 8 1 7 7 16 19 8 5 8-4 7-10 8-14 16-32 8-12 7-7 8 0 8 4 15 10 8 3 8-1 8-5 23-23 8-5 8-2 8 0 23 6 8 1 23-1 8 0 8 1-6-3-8-7-8-3-8 3-23 16-8 2-8-2-15-9-8-3-8 2-8 6-23 30-8 5-7 0-8-5-16-16-8-4-7 4-8 12-24 56-7 14-8 6-8-5-8-12-8-13-7-12-8-3-8 5-8 17-23 87-8 21-8 9-7-1-8-10-8-18-8-16-8-7-7 5-8 21-8 30-16 75zM950-673l8 0 8 1 8 3 8 4-6-17-8-8-8 1-8 6-8 10z"/>
<path transform="matrix(0.25 -0.067848 0 0.25 163.39 642.27)" d="M0-413l8-8 8-3 7-7 8 8 8 13 16-53 7-6 8-10 8-4 8-18 8-21 7 20 8 23 8 4 8 10 7 6 8 22 8 28 16-23-6-8-16 23-8-28-8-22-7-7-8-9-8-5-8-23-7-20-8 22-8 18-8 4-8 9-7 7-16 53-8-14-8-8-7 7-8 4-8 7zM499-394l7-28 8-34 8-26 8-23 8-19 7-7 8 1 8 7 8 10 8 2 7-3 8-7 8-15 23-62 8-14 8-8 8-4 7 2 16 12 8 5 8 0 7-5 8-9 24-40 7-11 8-7 8-1 8 2 23 18 8 2 8-3 7-7 24-32 8-7 7-2 8 3 8 8-6 7-23-6-8 0-8 3-8 5-23 23-8 5-8 1-7-3-16-11-8-3-8 0-7 6-8 12-16 33-8 14-7 10-8 4-8-5-16-19-7-8-8 0-8 6-8 15-23 76-8 18-8 8-7 1-8-6-8-14-8-12-8-4-7 6-8 20-8 27-8 31-8 37-7 31z"/>
<path transform="matrix(0.25 -0.067848 0 0.25 164.88 642.96)" d="M0-416l8-7 8-3 7-8 8 8 8 14 16-53 7-7 8-10 8-4 8-17 8-22 7 20 8 23 8 5 8 10 7 6 8 22 8 27 16-23-6-1-16 23-8-28-8-22-7-6-8-10-8-5-8-23-7-20-8 22-8 18-8 4-8 9-7 7-16 53-8-14-8-8-7 8-8 3-8 8zM499-401l7-26 8-30 8-22 16-37 7-8 8-1 8 4 8 5 8-1 15-11 8-12 8-15 15-37 8-12 8-9 8-8 7-2 8 2 16 9 8 2 7-1 8-4 8-9 8-13 15-30 8-11 8-6 8 0 7 6 16 19 8 7 8 0 7-6 8-13 16-31 8-12 7-5 8 4 8 11 16 29-6-7-16-19-8-7-8-3-7 2-8 7-24 32-7 7-8 3-8-3-23-17-8-3-8 2-8 6-7 12-24 40-8 8-7 5-8 1-8-5-16-12-7-2-8 4-8 8-8 13-23 63-8 15-8 7-7 2-8-2-8-9-8-7-8-1-7 7-8 18-8 23-8 27-8 33-7 29zM912-693l7-14 8-7 8 3 8 13 7 22-6-4-7-12-8-8-8-3-8 3-7 8z"/>
<path transform="matrix(0.25 -0.067848 0 0.25 166.37 643.65)" d="M0-432l8-7 8-3 7-8 8 8 8 14 16-53 7-7-6 12-7 6-16 54-8-14-8-8-7 7-8 3-8 8zM109-498l8 5 8 10 7 6 8 21 8 28 16-23-6 12-16 23-8-28-8-22-7-6-8-9-8-5zM499-397l7-25 8-29 8-19 16-34 7-8 8-3 8 2 8 3 8-4 15-12 8-11 8-15 15-33 8-12 16-17 7-3 8 0 8 3 8 4 8 1 7-2 8-3 8-9 8-11 15-29 8-11 8-6 8-1 7 4 16 17 8 6 8 0 7-7 8-11 16-30 8-11 7-5 8 3 8 9 16 27-6 0-16-30-8-10-8-4-7 5-8 11-16 32-8 12-7 7-8-1-8-7-15-19-8-5-8 0-8 6-8 10-15 30-8 13-8 9-8 4-7 2-8-2-16-9-8-2-7 2-8 7-8 10-8 12-15 36-8 16-8 12-15 10-8 2-8-6-8-4-8 2-7 8-16 36-8 22-8 31-7 26zM912-693l7-13 8-6 8 3 8 13 7 21-6-6-7-21-8-14-8-3-8 8-7 14z"/>
<path transform="matrix(0.25 -0.067848 0 0.25 167.86 644.34)" d="M0-464l8-7 8-4 7-7 8 8 8 13 16-53 7-7 8-10 8-4 8-17 7-21 8 20 8 23-6 28-8-23-7-20-8 21-8 18-8 4-8 9-7 7-16 54-8-14-8-8-7 7-8 4-8 7zM499-397l7-23 8-28 24-50 7-8 8-3 8 2 8 4 8-5 15-15 8-13 8-16 15-34 8-10 16-13 7 0 24 5 8-3 15-13 31-40 8-6 8-2 8-1 23 6 8 0 8-4 7-7 24-25 8-6 7-3 8 1 8 4 16 11-6 8-16-26-8-10-8-3-7 5-8 11-16 30-8 12-7 7-8 0-8-6-15-17-8-4-8 1-8 6-8 11-15 28-8 12-8 8-8 4-7 1-8-1-8-4-8-2-8 0-7 3-16 17-8 11-15 34-8 14-8 12-15 12-8 4-8-4-8-1-8 3-7 8-16 34-8 19-8 29-7 24zM911-689l8-3 8 0 8 3 8 6 7 10-6-7-7-20-8-13-8-4-8 7-7 13z"/>
<path transform="matrix(0.25 -0.067848 0 0.25 169.35 645.03)" d="M0-465l8-7 8-3 7-8 8 8 8 13 16-53 7-7 8-10 8-4 8-17 7-21 8 20 8 23-6-3-8-24-7-20-8 21-8 18-8 4-8 9-7 7-16 54-8-13-8-8-7 7-8 3-8 8zM491-388l8-15 7-23 8-28 24-50 7-7 8-2 8 4 8 5 8-5 15-16 8-15 23-56 8-8 8-3 8-1 15 7 8 3 8-1 8-9 23-35 8-10 8-6 7-2 16 6 8 1 7-2 8-4 8-8 16-18 7-7 8-4 8-1 16 2 7 0 8-2 24-10-6 11-16-10-8-4-8-1-7 3-8 5-24 25-7 7-8 4-8 1-23-6-8 0-8 3-8 5-31 41-15 12-8 3-24-5-7 1-16 12-8 10-15 35-8 16-8 13-15 14-8 5-8-4-8-1-8 2-7 8-24 51-8 27-7 24-8 16z"/>
<path transform="matrix(0.25 -0.067848 0 0.25 170.84 645.72)" d="M0-470l8-7 8-3 7-8 8 8 8 13 16-54 7-7 8-10 8-3 8-18 7-20 8 20 8 23-6 1-8-23-7-21-8 21-8 18-8 4-8 9-7 7-16 54-8-13-8-8-7 7-8 3-8 8zM491-399l8-15 7-22 8-28 24-48 7-6 8-2 8 5 8 6 8-5 15-17 8-17 15-40 8-18 8-6 8-1 8 2 15 12 8 3 8-3 8-12 23-44 8-9 8-2 7 3 16 15 8 2 7-3 8-10 16-29 8-13 7-7 8 0 8 4 8 5 8 4 7 1 8-4 8-6-6-1-8 3-8 1-7 1-16-2-8 1-8 3-7 7-16 19-8 7-7 5-8 1-8-1-16-5-7 2-8 6-8 9-23 36-8 8-8 1-8-2-15-8-8 2-8 3-8 8-23 55-8 16-15 16-8 5-8-6-8-3-8 2-7 7-24 50-8 28-7 23-8 15zM950-670l8-19 8-13 8-4 8 11-6 14-8-6-8-1-8 5-8 7z"/>
<path transform="matrix(0.25 -0.067848 0 0.25 172.33 646.41)" d="M0-502l8-7 8-3 7-8 8 8 8 13 16-54 7-7 8-10 8-4 8-17 7-20 8 20 8 24-6 27-8-23-7-21-8 21-8 17-8 4-8 10-7 7-16 54-8-13-8-8-7 7-8 3-8 8zM483-406l8-12 8-13 7-22 8-26 16-26 8-16 7-6 8-2 8 3 8 6 8-7 15-17 8-15 15-37 8-17 8-5 8 0 8 1 15 11 8 2 8-3 8-11 15-28 8-13 8-7 8-3 7 3 16 14-6 0-16-15-7-3-8 2-8 9-23 44-8 12-8 2-8-2-15-12-8-2-8 0-8 7-8 17-15 41-8 17-15 17-8 4-8-6-8-4-8 1-7 7-24 48-8 27-7 23-8 15-8 11zM771-664l16-28 8-12 7-6 8-1 16 5 8 2 7-2-6 7-7 0-8-4-8-5-8-4-8 0-7 7-8 12-16 29zM950-671l8-16 8-13 8-2 8 9-6-7-8-10-8 3-8 14-8 19z"/>
<path transform="matrix(0.25 -0.067848 0 0.25 173.82 647.10)" d="M0-516l8-7 8-3 7-7 8 7 8 13 16-54 7-7 8-10 8-4 8-17 7-20 8 21 8 23-6 9-8-23-7-21-8 21-8 17-8 4-8 9-7 7-16 55-8-13-8-8-7 7-8 3-8 7zM483-414l16-26 7-20 8-25 16-20 8-15 7-7 8-4 8 0 8 2 15-20 8-6 8-13 23-43 8-5 16-5 23 3 8-1 8-8 23-25 8-7 8-5 7-3 16 1 8-1 7-2 8-4 8-6 23-23 16-10 23-13 8-3-6 14-8 4-7 1-8-1-16-6-8 1-7 7-8 12-16 27-7 10-8 4-8-1-16-14-7-3-8 2-8 8-8 12-15 29-8 11-8 3-8-3-15-10-8-1-8 0-8 5-8 16-15 37-8 16-15 17-8 6-8-5-8-4-8 2-7 7-8 16-16 26-8 26-7 21-8 14-8 11zM950-673l16-2 8 2 8 6-6-30-8-10-8 3-8 12-8 17z"/>
<path transform="matrix(0.25 -0.067848 0 0.25 175.31 647.79)" d="M0-525l8-6 8-3 7-7 8 7 8 13 16-55 7-7 8-9 8-4 8-17 7-20 8 21 8 24 8 5-6 3-8-5-8-23-7-21-8 20-8 17-8 4-8 9-7 7-16 55-8-13-8-8-7 8-8 2-8 7zM475-409l8-5 16-28 7-20 8-22 16-14 8-15 7-8 8-7 8-4 8-2 15-25 8-5 16-18 15-22 16-10 8-9 7-6 8-4 8-1 8 2 15-3 8-1 8-4 8-6 15-22 8-8 8-7 8-4 7 1 16 6 8 2 8-3 7-8 24-38 8-9 7-6 8-2 8 1 8 4-6 5-8 0-8 2-8 3-23 12-16 11-23 22-8 6-7 5-8 2-8 1-16-2-7 3-8 6-8 7-23 25-8 7-8 1-23-2-16 5-8 5-23 43-8 12-8 7-15 20-8-3-8 0-8 4-7 7-8 16-16 20-8 24-7 21-16 26-8 3zM950-675l8 18 8 16 8 8 8 0-6-39-8-5-8-2-16 2z"/>
<path transform="matrix(0.25 -0.067848 0 0.25 176.80 648.48)" d="M0-521l8-6 8-3 7-7 8 7 8 13 16-55 7-7 8-10 8-3 8-16 7-20 8 21 8 24 8 5-6-9-8-5-8-24-7-21-8 20-8 17-8 3-8 10-7 7-16 54-8-12-8-8-7 7-8 3-8 7zM475-417l8-7 16-30 15-40 16-10 8-14 15-17 8-6 8-4 8-16 7-13 8-3 16-12 7-7 8-9 8-4 8-7 8-13 7-9 8-7 8-2 8 3 8 2 7 4 8 5 8-1 8-6 8-13 15-31 8-11 8-6 7 2 8 8 8 10 8 8 8-1 7-9 8-16 16-35 8-12 7-6 8-1 8 1 8 4 8 10-6 2-8-7-8-5-8-1-8 2-7 6-8 10-24 37-7 8-8 4-8-2-15-7-8 0-8 4-8 6-8 9-15 21-8 7-8 4-8 0-15 3-8-1-8 1-8 4-7 5-8 10-16 10-15 22-16 17-8 5-15 25-8 2-8 5-8 6-7 8-8 15-16 14-8 23-7 20-16 28-8 5zM904-703l7-8 8-11 8-6 8 5 8 18 15 60-6-16-15-36-8-12-8-5-8 1-7 3-8 2z"/>
<path transform="matrix(0.25 -0.067848 0 0.25 178.29 649.17)" d="M0-502l8-6 8-2 7-8 8 8 8 12 16-55 7-7 8-10 8-3 8-16 7-20 8 22 8 24 8 5-6-24-8-5-8-24-7-21-8 19-8 17-8 3-8 10-7 7-16 55-8-13-8-8-7 8-8 2-8 7zM467-406l8-13 8-7 16-32 15-41 16-9 8-15 15-16 8-6 8-4 8-17 7-13 8-4 16-11 7-8 8-9 8-3 8-6 8-12 7-8 8-7 8-2 8 3 8 1 7 3 8 4 8 0 8-6 8-12 7-15 8-13 8-10 8-5 7 1 8 7 8 8 8 6 8-2 7-9 8-15 16-34 8-11 7-6 8-3 8-1 8 3 8 8 7 13-6 5-7-14-8-9-8-5-8-1-8 2-7 6-8 11-16 36-8 15-7 9-8 1-8-7-8-10-7-8-8-2-8 6-8 11-15 31-8 12-8 7-8 0-8-5-7-4-8-1-8-3-8 2-8 6-7 10-8 13-8 7-8 4-8 9-7 7-16 12-8 3-7 13-8 15-8 5-8 6-15 17-8 14-16 9-15 41-16 30-8 6-8 11zM904-706l7-5 8-8 8-4 8 5 8 17 15 54 8 24-6-1-8-25-15-60-8-18-8-5-8 6-7 10-8 8z"/>
<path transform="matrix(0.25 -0.067848 0 0.25 179.78 649.86)" d="M0-515l8-6 8-2 7-7 8 7 8 12 16-55 7-8 8-9 8-4 8-16 7-19 8 21 8 25-6 8-8-24-7-21-8 19-8 17-8 3-8 10-7 7-16 55-8-12-8-8-7 7-8 3-8 6zM467-402l8-12 8-6 16-30 7-21 8-23 16-11 8-16 15-15 8-4 8-2 15-29 8-5 16-20 15-22 16-4 8-8 7-3 8-3 8-1 8 1 15-9 8-2 16-9 15-15 24-11 23-3 8-2 8-6 7-9 32-43 7-8 8-6 8-2 8 2 8 6 7 10 16 23 8 8 7 6 16 9 8 6 8 9 15 21 8 9-6 24-8-23-15-55-8-17-8-5-8 4-7 8-8 5-8-2-8-11-15-27-8-8-8-3-8 1-8 2-7 7-8 11-16 34-8 15-7 9-8 2-8-6-8-9-7-6-8-2-8 6-8 10-8 13-7 15-8 11-8 6-8 1-8-5-7-2-8-1-8-3-8 2-8 6-7 9-8 12-8 6-8 3-8 9-7 7-16 12-8 4-7 13-8 16-8 4-8 6-15 17-8 15-16 8-15 42-16 31-8 8-8 12z"/>
<path transform="matrix(0.25 -0.067848 0 0.25 181.27 650.55)" d="M0-525l8-5 8-3 7-7 8 7 8 12 16-56 7-8 8-9 8-4 8-16 7-19 8 22 8 24-6 6-8-24-7-21-8 19-8 16-8 3-8 10-7 7-16 56-8-12-8-8-7 7-8 3-8 6zM467-397l8-12 8-4 8-15 8-15 7-21 8-25 16-14 8-17 7-8 8-5 8-2 8 2 15-28 8-7 31-58 8-1 8 2 8-1 15 5 8 0 8-2 15-25 16-18 8-5 8-1 7 2 8 6 8 5 8-1 7-5 8-9 24-36 7-8 16-7 8-5 23-28 8-3 8 1 8 5 7 6 8 7 8 10 8 15 15 39 8 15 8 7 8-2 7-10 8-12-6 14-15-21-8-8-8-6-15-9-8-6-8-9-16-22-7-10-8-7-8-1-8 2-8 5-7 8-32 44-7 9-8 6-8 2-23 2-24 12-15 14-16 10-8 2-15 8-8 0-8 1-8 3-7 3-8 7-16 5-15 22-16 19-8 6-15 29-8 1-8 4-15 16-8 15-16 11-8 24-7 20-16 31-8 6-8 12z"/>
<path transform="matrix(0.25 -0.067848 0 0.25 182.76 651.24)" d="M0-509l8-5 8-3 7-7 8 7 8 11 16-56 7-8 8-10 8-3 8-16 7-20 8 22 8 24-6-18-8-25-7-21-8 19-8 16-8 3-8 10-7 8-16 55-8-11-8-7-7 7-8 2-8 6zM467-389l8-12 8-3 8-15 8-15 7-22 8-27 16-15 8-18 7-7 8-5 8 0 8 3 15-28 8-8 31-67 8 0 8 4 8 2 7 6 8 5 8 2 8-4 15-35 8-14 8-12 8-4 8 2 7 8 8 13 8 10 8 1 7-7 8-16 16-38 8-15 7-6 8 0 8 3 8-1 8-7 15-20 8-5 8 1 15 4 8 4 8 10 8 19 15 57-6-21-15-39-8-15-8-11-8-7-7-5-8-5-8-2-8 4-23 27-8 6-16 7-7 7-24 36-7 10-8 5-8 1-8-5-8-7-7-2-8 2-8 5-16 18-15 24-8 3-8-1-15-5-8 2-8-2-8 1-31 57-8 8-15 27-8-1-8 1-8 6-7 7-8 17-16 14-8 26-7 21-8 15-8 14-8 5-8 11zM950-664l8-26 8-20 8-6 8 13-6 18-8-9-8 1-8 9-8 12z"/>
<path transform="matrix(0.25 -0.067848 0 0.25 184.25 651.92)" d="M0-511l8-6 8-2 7-7 8 6 8 11 16-57 7-8 8-10 8-3 8-17 7-19 8 21 8 25-6 0-8-24-7-22-8 19-8 16-8 4-8 10-7 8-16 56-8-12-8-6-7 7-8 2-8 6zM506-464l8-26 16-12 8-18 7-7 8-5 8 0 8 3 15-29 8-8 31-62 8 0 8 4 8 1 7 5 8 4 8 1 8-3 15-31 8-12 8-11 8-4 8 1 7 6 8 11 8 9 8 0 7-6 8-14 16-33 8-14 7-6 8 0 8 2 8-1 8-4 15-17 8-6 8-1 15 1 8 5 8 10 8 19 15 51 8 19-6-2-8-21-15-57-8-19-8-11-8-4-15-4-8 0-8 5-15 20-8 7-8 0-8-2-8-1-7 7-8 15-16 38-7 15-8 7-8-1-8-9-8-14-7-7-8-3-8 5-8 12-8 14-15 34-8 4-8-1-8-5-7-7-8-2-8-4-8 1-31 67-8 8-15 28-8-3-8 0-8 4-7 8-8 18-16 15-8 27zM950-662l8-22 8-17 8-5 8 12-6-13-8-13-8 5-8 21-8 26z"/>
<path transform="matrix(0.25 -0.067848 0 0.25 185.74 652.61)" d="M0-519l8-5 8-3 7-7 8 6 8 10 16-56 7-8 8-11 8-3-6 4-8 4-8 10-7 8-16 57-8-11-8-7-7 8-8 2-8 6zM499-459l7-21 8-24 8-3 8-3 8-17 15-13 8-2 8 1 15-32 8-6 16-22 15-24 16 2 8-5 31 0 15-17 24-15 15-6 16 3 15-5 8-5 16-12 15-15 24-16 15-13 8-5 8-2 8 0 8 3 7 5 8 8 8 9 23 33 8 9 8 5 8 2 23-2 8 2 8 6-6-42-8-12-8 4-8 17-8 23-7 19-8 7-8-6-8-20-15-51-8-18-8-11-8-4-15-2-8 2-8 5-15 17-8 5-8 0-8-2-8 0-7 7-8 13-16 34-7 14-8 6-8-1-8-8-8-11-7-6-8-2-8 5-8 10-8 13-15 31-8 3-8-1-8-4-7-6-8-1-8-3-8-1-31 63-8 8-15 29-8-3-8 0-8 5-7 7-8 18-16 12-8 26-7 22z"/>
<path transform="matrix(0.25 -0.067848 0 0.25 187.23 653.30)" d="M0-538l8-5 8-3 7-7 8 6 8 10 16-57 7-8 8-10-6 15-8 10-7 8-16 57-8-11-8-6-7 8-8 2-8 6zM499-458l7-20 8-22 8 0 8-1 8-15 15-16 8-5 8-3 7-20 8-17 8-3 16-13 7-8 8-10 8 0 8-2 8-11 7-8 8-5 8-2 8 2 8-1 7 0 8 5 8-1 8-4 8-10 7-13 8-10 8-9 8-6 7 1 8 5 8 8 8 7 8-1 7-6 8-12 16-31 8-12 7-7 8 0 8 3 8 8 15 24 8 11 8 5 8-2 15-16 8-4 8 5 8 15 15 47 8 20 8 10 8-3-6-50-8-5-8-2-23 2-8-2-8-6-8-9-23-32-8-10-8-7-7-5-8-3-8-1-8 3-8 5-15 13-24 16-15 14-16 12-7 5-16 6-16-3-15 6-24 15-15 17-31 0-8 4-16-2-15 25-16 22-8 5-15 32-8 0-8 2-15 13-8 16-8 4-8 3-8 24-7 20z"/>
<path transform="matrix(0.25 -0.067848 0 0.25 188.72 653.99)" d="M0-571l8-5 8-2 7-8 8 6 8 10 16-57 7-9 8-10 8-3 8-18 7-21 8 21 8 24-6 31-8-25-7-21-8 21-8 17-8 3-8 10-7 9-16 57-8-11-8-6-7 8-8 2-8 6zM156-587l8-13 15 15 8 14-6 29-8-14-15-15-8 13zM257-480l8-15 8-12 7 8 8 7-6 29-8-6-7-8-16 28zM327-470l8-8 16-8 7 6 8 14 8-1-6 21-8 3-8-13-7-6-16 9-8 8zM499-458l7-19 8-21 8 2 8 0 8-14 7-8 8-9 8-7 8-5 7-22 8-17 8-2 8-6 8-3 7-5 8-9 8 1 8-5 8-15 7-11 8-9 8-3 8 5 8 2 7 5 8 10 8 3 8-5 8-13 7-20 8-17 8-13 8-9 7 3 8 12 16 30 8 5 7-5 8-15 16-45 8-17 7-9 8 2 8 10 8 16 15 38 8 11 8 1 8-13 15-41 8-12 8 5 8 23 15 76-6-20-15-48-8-15-8-5-8 4-15 16-8 3-8-5-8-11-15-24-8-8-8-4-8 1-7 7-8 12-16 31-8 12-7 6-8 0-8-6-8-8-7-5-8-1-8 6-8 8-8 10-7 14-8 9-8 5-8 1-8-5-7-1-8 2-8-3-8 2-8 6-7 7-8 11-8 3-8 0-8 9-7 8-16 14-8 3-7 16-8 20-8 3-8 6-15 15-8 16-8 1-8 0-8 22-7 19z"/>
<path transform="matrix(0.25 -0.067848 0 0.25 190.21 654.68)" d="M0-569l8-5 8-2 7-8 8 5 8 10 16-58 7-8 8-10 8-4 8-18 7-21 8 20 8 24-6-3-8-24-7-21-8 21-8 17-8 4-8 10-7 8-16 58-8-11-8-5-7 8-8 2-8 5zM148-573l16-27 15 14 8 15 8 2 8-2 15 57-6-6-15-57-8 3-8-2-8-14-15-15-16 27zM249-498l8 15 8-15 8-12 15 17-6-3-8-7-7-9-8 13-8 14-8-16zM327-470l8-9 16-10 7 5 8 13 8 0-6 0-8 1-8-15-7-6-16 9-8 8zM491-452l8-14 7-18 8-22 8 2 8 0 8-14 15-16 8-6 8-3 7-21 8-18 8-2 8-6 8-4 7-7 8-9 8 2 8-3 8-13 7-10 8-7 8-2 8 5 8 0 7 3 8 8 8 2 8-5 8-11 7-17 8-14 8-11 8-7 7 2 8 9 16 27 8 4 7-5 8-12 16-39 8-15 7-8 8 2 8 10 8 16 8 18 7 16 8 10 8-1 8-13 15-36 8-9 8 5 8 19 15 65-6-2-15-75-8-23-8-5-8 11-15 42-8 12-8 0-8-12-15-37-8-16-8-10-8-2-7 8-8 18-16 44-8 15-7 6-8-5-16-31-7-11-8-3-8 8-8 14-8 17-7 19-8 13-8 5-8-2-8-10-7-6-8-2-8-4-8 3-8 8-7 12-8 15-8 4-8 0-8 8-7 6-8 3-8 5-8 3-7 17-8 22-8 4-8 8-8 9-7 7-8 15-8 0-8-3-8 22-7 18-8 14z"/>
<path transform="matrix(0.25 -0.067848 0 0.25 191.70 655.37)" d="M0-568l8-5 8-2 7-8 8 4 8 10 16-59 7-8 8-10 8-5 8-18 7-22 8 20 8 24-6-1-8-24-7-21-8 22-8 18-8 4-8 10-7 8-16 57-8-9-8-6-7 9-8 2-8 5zM148-573l16-27 15 15 8 15 8 4 8-1 15 58-6-9-15-58-8 3-8-3-8-14-15-15-16 27zM249-497l8 14 8-15 8-11 15 19-6-7-15-17-8 12-8 14-8-15zM319-474l8 9 8-10 16-12 7 4 8 12 8 1-6-5-8 0-8-14-7-4-16 10-8 9-8-10zM491-455l8-13 7-20 8-23 8 1 8-1 8-16 15-13 8-3 8 1 15-37 8-3 16-19 15-21 8 2 8 2 8-8 15-4 8 0 8 2 15-11 8 0 16-7 15-13 16-4 8-4 7-1 8 0 16 3 8-3 15-9 24-17 7-4 8 1 8 2 8 4 15 10 8 5 8 3 23 0 8 1 8 4 8 6 7 8 8 12-6 13-15-65-8-20-8-4-8 9-15 36-8 12-8 1-8-9-7-16-8-19-8-15-8-11-8-2-7 8-8 16-16 39-8 12-7 4-8-4-16-26-7-9-8-3-8 8-8 11-8 13-7 17-8 12-8 5-8-2-8-8-7-4-8 0-8-4-8 2-8 7-7 9-8 13-8 3-8-1-8 9-7 6-8 5-8 6-8 2-7 17-8 22-8 3-8 6-15 15-8 15-8 0-8-3-8 22-7 19-8 13z"/>
<path transform="matrix(0.25 -0.067848 0 0.25 193.19 656.06)" d="M0-589l8-5 8-2 7-9 8 4 8 8 16-60 7-9 8-11 8-5 8-19 7-23 8 20 8 25-6 24-8-24-7-20-8 22-8 18-8 4-8 11-7 8-16 58-8-9-8-5-7 9-8 2-8 4zM140-620l8 25 16-25 15 17 8 17 8 5 8 0 7 32 8 27 8 5 8 3 7-5 8 8 8 13 8-15 8-10 15 22-6 6-15-18-8 11-8 15-8-14-7-8-8 3-8-3-8-5-15-58-8 2-8-4-8-15-15-16-16 27-8-24zM319-480l8 8 8-10 8-7 8-6 7 3 8 13-6 4-8-13-7-3-16 12-8 9-8-9zM483-445l16-26 7-20 8-25 8-1 8-2 8-17 7-6 8-4 8 1 8 4 15-34 8-5 31-56 8 4 8 6 8-1 7 6 8 4 8 2 8-1 15-28 16-18 8-4 8 1 7 5 8 11 8 9 8 0 7-4 8-11 16-27 8-12 7-4 8 5 8 9 8 12 8 9 7 4 8-3 8-9 16-28 7-9 8 0 8 9-6 21-8-3-8-4-15-11-8-3-8-3-8 0-7 3-24 18-15 8-8 3-16-2-7 0-8 1-8 3-16 4-15 13-16 8-8 0-15 11-8-2-8 0-15 4-8 7-8-1-8-3-15 22-16 18-8 4-15 36-8 0-8 3-15 13-8 16-8 0-8-1-8 24-7 19-16 27zM919-636l8 14 8 3 8-4 7-21-6-14-7-8-8-6-8-4-8-2z"/>
<path transform="matrix(0.25 -0.067848 0 0.25 194.68 656.75)" d="M0-590l8-4 8-2 7-10 8 3 8 7 16-62 15-22 8-6 8-20 7-24 8 20 8 26 8 9 8 16 7 12 16 51 16-23 15 19 8 18 8 7 8 2 7 33 8 28 8 4 8 3 7-6 8 6 8 13 8-14 8-9 15 24-6-15-15-21-8 10-8 14-8-13-7-7-8 4-8-2-8-5-8-28-7-31-8 0-8-6-8-16-15-17-16 25-16-49-7-9-8-14-8-9-8-25-7-20-8 23-8 20-8 5-8 11-7 9-16 60-8-8-8-4-7 9-8 2-8 4zM327-457l8-10 8-8 8-6 7 3 8 12-6-18-8-12-7-3-8 5-8 8-8 10zM483-430l16-26 7-21 8-27 8-1 8-4 8-17 7-7 8-3 8 2 8 5 15-33 8-7 31-66 8 4 8 8 8 3 7 9 8 7 8 3 8-2 15-39 8-13 8-13 8-3 8 4 7 10 8 18 8 14 8 3 7-7 8-16 16-43 8-17 7-5 8 9 8 19 8 22 8 18 7 8 8-4 8-16 16-51 7-18 8-3 8 14 8 29 7 36-5-15-8-23-8-18-8-10-8 1-7 9-16 27-8 10-8 2-7-3-8-9-8-12-8-10-8-5-7 5-8 12-16 27-8 10-7 5-8-1-8-8-8-12-7-4-8-1-8 4-16 18-15 28-8 1-8-3-8-4-7-5-8 0-8-6-8-4-31 57-8 5-15 33-8-4-8 0-8 4-7 6-8 17-8 2-8 1-8 25-7 20-16 25zM950-638l8-40 8-29 8-9 8 16-6 20-8-11-8 5-8 16-8 22z"/>
<path transform="matrix(0.25 -0.067848 0 0.25 196.17 657.44)" d="M0-583l16-6 7-10 8 2 8 5 16-65 15-23 8-7 15-44 8 20 8 26 8 11 8 17 7 14 16 53 16-21 7 10 8 12 8 19 8 9 8 4 7 34 8 28 8 5 8 1 7-6 8 5 8 12 8-14 8-8-6-20-8 9-8 14-8-12-7-6-8 5-8-2-8-5-8-28-7-32-8-2-8-7-8-18-15-20-16 23-16-51-7-11-8-16-8-9-8-26-7-20-8 23-8 20-8 6-15 22-16 63-8-7-8-3-7 9-8 3-8 4zM491-421l8-14 7-22 8-27 8-1 8-3 8-18 7-7 8-5 8 1 8 4 15-37 8-6 31-65 8 4 8 7 8 0 7 6 8 5 8 3 8-2 15-34 16-23 8-4 8 2 7 6 8 15 8 11 8 1 7-5 8-14 16-35 8-15 7-5 8 8 8 15 8 18 8 15 7 6 8-2 8-14 16-43 7-14 8-3 8 12 15 65-5-16-8-37-8-28-8-15-8 4-7 17-16 51-8 17-8 4-7-8-8-18-8-22-8-19-8-10-7 5-8 17-16 43-8 17-7 6-8-2-8-14-8-19-7-10-8-4-8 4-8 12-8 14-15 38-8 3-8-4-8-7-7-9-8-2-8-8-8-5-31 67-8 6-15 34-8-6-8-2-8 4-7 6-8 18-8 3-8 2-8 27-7 21-8 13zM950-635l8-32 8-24 8-7 8 14-6-20-8-16-8 8-8 30-8 40z"/>
<path transform="matrix(0.25 -0.067848 0 0.25 197.66 658.13)" d="M0-564l16-6 7-10 8 1 8 5 16-67 15-25 8-7 15-44 8 21 8 27 8 12 8 18 7 14 16 53 16-20 7 11 8 13 8 21 8 11 8 5 7 34 8 29-6-32-8-28-7-33-8-4-8-9-8-20-8-11-7-11-16 21-16-53-7-13-8-17-8-11-8-26-7-21-16 44-8 7-15 24-16 65-8-6-8-2-7 10-16 6zM491-424l8-15 7-22 8-26 8 1 8-2 8-17 15-14 8-2 8 2 15-40 8-4 16-23 15-27 16 7 8-6 15 0 16 3 15-19 8-2 8-6 23-13 8 3 8 2 15-5 24-9 8-5 7-4 16 0 16 2 15 0 8-1 16-4 7-1 8 10 8 5 8 5 7 7-5 4-16-64-8-12-8 2-7 15-16 42-8 14-8 3-7-6-8-15-8-19-8-14-8-8-7 5-8 15-16 35-8 13-7 6-8-1-8-12-8-14-7-7-8-2-8 5-16 22-15 35-8 1-8-2-8-5-7-7-8 0-8-6-8-4-31 65-8 6-15 36-8-4-8 0-8 4-7 7-8 19-8 3-8 1-8 27-7 21-8 15zM943-631l15-6 8-1 8 0 8 4-6-55-8-13-8 7-8 23-15 63z"/>
<path transform="matrix(0.25 -0.067848 0 0.25 199.15 658.82)" d="M0-532l16-4 7-10 8 1 8 3 16-67 15-25 8-7 15-42 8 22 8 27 8 13 8 18 7 13 16 51 16-22 7 11 8 13 8 22 8 12 8 7 7 34-6-39-7-34-8-6-8-10-8-21-8-13-7-11-16 20-16-53-7-14-8-19-8-11-8-28-7-20-16 43-8 7-15 26-16 66-8-4-8-1-7 10-16 5zM483-411l16-31 7-21 8-25 8 2 8 1 8-17 15-16 8-4 8-2 7-23 8-20 8-2 8-8 8-7 7-8 8-12 8 4 8 0 8-12 7-7 8-6 8 0 8 5 8-3 7 1 8 7 8 1 8-5 8-11 7-16 16-19 8-7 7 1 8 9 16 27 8 5 7-2 8-9 24-51 7-9 8 4 8 14-6 13-8 1-15 0-16-2-16 0-7 3-8 6-24 9-15 5-8-2-8-3-23 13-8 5-8 3-15 19-16-3-15 0-8 6-16-8-15 27-16 23-8 5-15 39-8-1-8 2-15 13-8 18-8 1-8 0-8 26-7 21-16 29zM911-655l8-22 8-13 8 5 8 20 15 65 8 24 8 9 8-8-6-63-8-4-8-1-8 2-15 5-8 1-8-2-8-5-7-6z"/>
<path transform="matrix(0.25 -0.067848 0 0.25 200.64 659.51)" d="M0-531l16-3 7-10 8 1 8 3 16-68 15-25 8-6 15-39 8 23 8 28 8 13 8 17 7 12 16 46 16-23 7 10 8 14-6-3-8-13-7-11-16 21-16-50-7-14-8-18-8-12-8-28-7-21-16 42-8 6-15 26-16 67-8-4-8 0-7 10-16 4zM483-402l16-30 7-21 8-25 8 3 8 2 8-17 15-17 8-6 8-2 7-25 8-21 8-2 8-7 8-4 7-7 8-11 8 4 8-2 8-16 7-10 8-8 8-2 8 6 8 1 7 5 8 12 8 3 8-5 8-14 7-22 8-17 8-15 8-10 7 4 8 14 16 42 8 10 7-2 8-13 24-78 7-13 8 7 8 24 16 74-6-23-16-51-8-14-8-4-7 8-24 52-8 9-7 2-8-6-16-26-8-9-7-2-8 8-16 19-7 16-8 11-8 5-8-1-8-7-7-1-8 3-8-5-8 0-8 5-7 7-8 13-8 0-8-4-8 11-7 9-8 6-8 8-8 3-7 20-8 23-8 1-8 5-15 15-8 17-8 0-8-2-8 25-7 21-16 30zM904-613l15-85 8-22 8 6 8 33 15 104-6-28-15-64-8-21-8-4-8 12-15 49z"/>
<path transform="matrix(0.25 -0.067848 0 0.25 202.13 660.20)" d="M0-531l16 0 7-9 8 0 8 3 16-67 15-25 8-4 15-34 8 24 8 28 8 12 8 16 7 9 16 40 16-28 7 10 8 13 8 24-6-1-8-23-8-13-7-11-16 24-16-46-7-12-8-18-8-12-8-28-7-23-16 39-8 5-15 26-16 67-8-3-8 0-7 10-16 2zM483-396l16-30 7-21 8-25 8 3 8 1 8-18 15-15 8-5 8-2 7-24 8-21 8-3 8-8 8-6 7-9 8-12 8 5 8-1 8-14 7-8 8-6 8-1 8 6 8-3 7 2 8 9 8 1 8-5 7-13 8-18 16-24 8-9 7 2 8 10 16 31 8 7 7-3 8-10 24-61 7-10 8 7 8 20 8 28 8 33-6-1-16-75-8-23-8-7-7 12-24 79-8 13-7 2-8-10-16-43-8-14-7-3-8 10-8 14-8 17-7 22-8 15-8 5-8-3-8-12-7-5-8-1-8-6-8 1-8 9-7 10-8 16-8 2-8-4-8 10-7 7-8 5-8 7-8 2-7 20-8 25-8 3-8 6-15 16-8 17-8-1-8-3-8 25-7 21-16 30zM904-610l15-68 8-18 8 6 8 27 15 84-6-2-15-104-8-34-8-5-8 22-15 85z"/>
<path transform="matrix(0.25 -0.067848 0 0.25 203.62 660.89)" d="M0-509l16 2 7-8 8 0 8 3 16-67 15-23 8-3 15-28 8 25 8 28 8 11 8 13 7 6 16 30 8-18 8-15 7 8 8 13 8 23-6-15-8-23-8-13-7-10-16 27-16-39-7-9-8-16-8-12-8-29-7-23-16 33-8 5-15 24-16 68-8-3-8 0-7 8-16 1zM530-466l8-18 15-14 8-2 8 1 15-43 8-4 16-23 15-27 8 5 8 3 8-8 7-1 8-1 8 1 8 3 15-17 8 0 8-5 8-5 15-15 16-1 8-5 7-2 8-1 16 1 8-4-6 23-8-6-16-31-8-10-7-3-8 9-16 24-7 19-8 13-8 5-8-1-8-9-7-2-8 2-8-5-8 0-8 7-7 8-8 14-8 0-8-4-8 12-7 8-8 7-8 8-8 3-7 20-8 25-8 1-8 5-15 16-8 17zM818-658l16-6 7-2 8 2 8 12 8 5-6-6-8-29-8-19-8-7-7 10-16 41zM904-619l23 3 8 2 23 9-6 22-15-84-8-28-8-5-8 18-15 68z"/>
<path transform="matrix(0.25 -0.067848 0 0.25 205.11 661.58)" d="M0-505l16 3 7-7 8 1 8 1 16-67 15-22 8-2 15-22 16 55 16 20 7 2 16 21 8-21 8-17 7 7 8 12-6 4-8-13-7-8-8 15-8 18-16-29-7-6-8-13-8-11-8-28-7-25-16 28-8 3-15 23-16 66-8-2-8-1-7 8-16-1zM522-482l8-1 8-19 7-6 8-5 8 1 8 5 15-40 8-5 16-29 15-34 8 6 8 8-6 9-8-4-8-5-15 28-16 23-8 3-15 44-8-2-8 2-15 14-8 18-8 1zM678-586l15-34 16-19 8-5 7 0 8 4 8 13 8 10 8 0 7-6 8-13 24-45 7-5 8 6 8 13 8 17 8 14 7 8 8-1-6-39-8-2-7 2-24 9-8 2-15 8-16 0-8 1-7 1-8 5-16 2-15 15-8 5-8 4-8 0-15 18z"/>
<path transform="matrix(0.25 -0.067848 0 0.25 206.60 662.26)" d="M0-506l16 6 7-7 16 1 16-68 7-13 8-10 8-1 15-16 16 56 8 10 8 8 7-1 16 12 8-23 8-19 7 6 8 12-6 8-8-13-7-6-8 17-8 21-16-21-7-2-16-20-15-55-16 22-8 1-15 23-16 67-8-2-8 0-7 7-16-4zM499-459l7-21 8-28 8 1 8-1 8-18 7-6 8-3 8 3 8 7 15-38 8-4 16-32 15-36 8 8 8 10 8 2 7 11 8 8 8 6 8 1 15-41 16-25 8-4 7 3 8 10 8 19 8 16 8 1 7-8 8-18 16-44 8-19 7-6 8 11 8 20 8 25-6-5-8-17-8-13-8-7-7 5-24 46-8 13-7 5-8 1-8-10-8-13-7-4-8 0-8 5-16 19-15 34-8-1-8-4-8-5-7-7-8 2-8-8-8-6-15 33-16 30-8 5-15 40-8-5-8-1-8 4-7 7-8 18-8 1-8-1-8 28-7 21zM865-646l8-38 7-29 8-6 8 25 8 57 7 76-5-29-8-48-8-36-8-18-8 2-7 16-8 23zM950-580l8-73 8-49 8-15 8 22-6 25-8-13-8 9-8 32-8 45z"/>
<path transform="matrix(0.25 -0.067848 0 0.25 208.08 662.95)" d="M0-513l8 5 8 3 7-7 16-1 16-70 7-14 8-11 8 1 16-11 15 59 8 10 8 7 7-4 16 4 8-25 8-19 7 5 8 13-6 11-8-13-7-5-8 18-8 23-16-11-7 1-8-8-8-10-15-57-16 17-8 0-8 10-7 13-16 68-16 0-7 7-16-6zM257-505l8-16 8-4 7 20-5 14-8-19-8 5-8 16zM499-460l7-21 8-27 8 2 8 0 8-18 7-6 8-3 8 2 8 6 15-39 8-4 16-29 15-33 8 7 8 10 8 0 7 8 8 6 8 6 8 2 15-35 16-19 8-5 8 1 7 5 8 14 8 11-6 3-8-15-8-20-7-9-8-3-8 4-16 25-15 40-8 0-8-6-8-9-7-10-8-2-8-11-8-7-15 36-16 31-8 5-15 38-8-8-8-3-8 4-7 5-8 19-8 0-8 0-8 27-7 22zM771-641l8-18 16-31 7-6 8 7 8 13 16 34-6 11-8-22-8-26-8-20-8-10-7 6-8 18-16 45zM865-641l8-28 7-20 8-3 8 23 8 48 8 65-6-10-8-76-8-56-8-26-8 7-7 29-8 38zM950-572l8-60 8-41 8-12 8 15-6-29-8-22-8 14-8 50-8 73z"/>
<path transform="matrix(0.25 -0.067848 0 0.25 209.57 663.64)" d="M0-526l8 6 8 5 7-7 8-1 8-3 16-72 7-15 8-11 8 1 8-3 8-2 15 63 8 10 8 6 7-6 16-1 8-26 8-20 7 5 8 15 8 26 8 22 8 16 7 34-6 4-7-33-8-15-8-19-8-25-8-13-7-5-8 19-8 25-16-4-7 3-8-6-8-10-15-59-16 11-8-1-8 10-7 14-16 71-16 1-7 7-8-4-8-4zM249-516l8-6 8-15 8-3 7 22 8 27-6 7-7-25-8-20-8 3-8 16-8 4zM343-481l8-15 7-8 8 7 8 14 8 17-6 3-8-16-8-12-8-7-7 7-8 15zM499-464l7-21 8-26 8 4 8 1 8-17 15-11 8 1 8 4 15-42 8-2 16-22 15-28 16 15 8-6-6-4-8 1-8-10-8-8-15 34-16 29-8 4-15 39-8-7-8-2-8 4-7 5-8 19-8-1-8-1-8 27-7 21zM678-601l15-20 8 0 16-9 15-13 8 2 8 1 8-6 31-16 8-7 7-6 16-2 8 1 8 2-6 28-16-34-8-14-8-6-7 5-16 32-8 18-7 14-8 7-8 1-8-11-8-15-7-4-8-1-8 4-16 20-15 35zM873-631l7 7 8 11 8 13 8 14-6-39-8-48-8-23-8 3-7 20zM950-570l8-11 8-9 8-6 8-4-6-74-8-16-8 13-8 40-8 61z"/>
<path transform="matrix(0.25 -0.067848 0 0.25 211.06 664.33)" d="M0-504l8 8 8 5 7-6 8-2 8-5 16-75 7-16 8-11 8 2 8 0 8 1 15 66 8 11 8 5 7-8 16-7 8-27 8-20 7 5 8 16 8 28 8 23 8 19 7 35-6-31-7-34-8-17-8-21-8-27-8-14-7-5-8 19-8 27-16 1-7 5-8-5-8-11-15-62-8 2-8 3-8-1-8 10-7 15-16 73-8 3-8 1-7 6-8-4-8-6zM242-480l7-17 8-8 8-15 8-2 7 22 16 61-6-26-15-58-8-21-8 2-8 16-8 6-7 14zM343-466l8-18 7-10 8 4 8 14 8 16-6-10-8-17-8-14-8-7-7 7-8 16zM491-468l8-14 7-20 8-26 8 5 8 4 8-17 15-12 8-1 8 2 8-24 7-20 8 0 8-8 8-6 7-9 8-12 8 8 8 5 8-11 7-5 8-2-6 16-15-3-8 5-16-14-15 28-16 21-8 2-15 42-8-4-8 0-15 10-8 18-8-2-8-3-8 26-7 20-8 14zM717-616l8-12 7-18 24-29 7 0 8 5 16 15 8-1 7-6 8-8 16-26-6 16-8-1-16 2-7 5-8 8-31 16-8 6-8-1-8-2-15 13z"/>
<path transform="matrix(0.25 -0.067848 0 0.25 212.55 665.02)" d="M0-478l8 9 8 6 7-5 8-3 8-6 16-77 7-17 8-11 8 3 8 2 8 5 15 69 8 12 8 4 7-9 16-12 8-29 8-19 7 5 8 17 8 30 8 26 8 21-6-39-8-19-8-24-8-28-8-15-7-6-8 20-8 28-16 7-7 7-8-5-8-11-15-65-8-2-8 1-8-2-8 11-7 16-16 75-8 4-8 3-7 5-8-5-8-7zM242-448l7-20 8-9 8-16 8-1 7 24 8 30-6-35-7-29-8-23-8 2-8 16-8 8-7 17zM343-441l8-20 7-13 8 2 8 12-6-21-8-13-8-5-7 10-8 18zM491-480l8-14 7-20 8-26 8 5 8 4 8-17 15-11 8-3 8 3 8-25 7-20 8 0 8-6 8-5 7-7 8-11 8 9 8 4 8-13 7-6 8-4 8 3 8 10 8 0-6 2-8 4-8-9-8-3-8 3-7 4-8 11-8-4-8-8-7 12-8 9-8 6-8 7-8 1-7 20-8 24-8-3-8 2-15 11-8 17-8-3-8-5-8 26-7 20-8 13zM717-612l8-15 7-22 16-29 8-11 7 1 8 8 8 11 8 9-6 1-16-16-7-5-8 0-24 30-7 18-8 12zM904-534l15-145 8-42 8 10 8 57 15 153-6-29-15-98-8-37-8-7-8 27-15 91z"/>
<path transform="matrix(0.25 -0.067848 0 0.25 214.04 665.71)" d="M0-467l8 11 8 7 7-4 8-3 8-8 16-78 7-19 8-10 16 9 8 8 15 73 8 13-6-28-8-12-15-68-8-5-8-2-8-4-8 11-7 18-16 77-8 6-8 3-7 5-8-6-8-9zM140-482l8-9 8-29 8-19 7 6 8 18 16 62-6-29-8-26-8-30-8-17-7-6-8 20-8 28-8 6zM249-445l8-11 8-15 8 0-6-27-8 1-8 16-8 9zM491-490l8-14 7-22 8-26 8 5 8 3 8-17 15-11 8-1 8 3 8-23 7-21 8 1 8-8 8-5 7-9 8-12 8 10 8 6 8-10 7-3 8-1 8 4 8 10 8-2-6-1-8 0-8-11-8-2-8 4-7 6-8 13-8-4-8-9-7 11-8 7-8 4-8 7-8-1-7 21-8 24-8-2-8 2-15 12-8 17-8-4-8-5-8 25-7 21-8 14zM709-620l8-4 8-12 7-18 24-30 7-2 8 3 8 4 8 1 8-7 7-10-6 21-7 8-8 2-8-9-8-12-7-8-8-1-8 12-16 28-7 23-8 14-8 5zM904-548l15-96 8-28 8 6 8 40 15 103-6 17-15-152-8-58-8-10-8 43-15 145z"/>
<path transform="matrix(0.25 -0.067848 0 0.25 215.53 666.40)" d="M0-442l8 13 8 9 15-8 8-9 16-80 7-19 8-10 8 5 8 8 7 11 16 76-6-40-15-72-8-9-16-9-8 11-7 18-16 79-8 7-8 3-7 5-8-8-8-11zM140-450l8-11 8-30 8-20 7 7 8 20 8 34-6-37-8-32-8-19-7-6-8 20-8 29-8 8zM483-466l8-13 8-15 7-22 8-28 8 3 8 2 8-19 15-9 8 1 8 5 15-42 8-1 16-20 15-26 16 19 8-5 15 7 8 6 8 8 15-17 8 1 16-8 8-6 7-8 8 1 8-1 15-16 8-9 16-21 8-14 7-11 8-5 8-1-6 14-16 17-7 9-8 8-8-1-8-4-7-3-8 2-24 30-7 18-8 12-8 3-8-2-8-10-7-1-8 3-8-10-8-5-8 2-7 3-8 10-8-6-8-10-7 12-8 8-8 6-8 8-8-1-7 20-8 24-8-4-8 1-15 11-8 17-8-3-8-4-8 26-7 21-16 28zM904-582l7 11 8 9 8 4 8 0 8-4 7-7-6-7-7-55-8-39-8-7-8 29-15 96z"/>
<path transform="matrix(0.25 -0.067848 0 0.25 217.02 667.09)" d="M0-419l8 15 8 11 15-8 8-11 16-82 7-20 8-10 8 7 8 10 7 15 16 78-6-36-15-76-8-12-8-7-8-6-8 11-7 19-16 80-8 9-15 7-8-9-8-13zM140-422l8-14 8-31 8-20 7 6 8 21-6-29-8-20-7-6-8 20-8 30-8 11zM483-448l8-13 8-15 7-23 8-29 8 2 8 0 8-19 7-6 8-3 8 3 8 8 15-42 8-2 16-26 15-33 16 22 8-1 7 9 16 16-6-27-8-7-15-6-8 5-16-20-15 27-16 20-8 1-15 42-8-6-8-1-15 10-8 18-8-1-8-4-8 28-7 23-8 15-8 13zM693-627l16-18 8-5 8-1 7 2 8 12 8 6 8-7 7-13 24-64 8-18 7-10 8-4 8 1 8 10-6 6-8-4-8 0-8 6-7 11-8 14-16 21-7 9-16 16-8 1-8-2-7 8-8 7-16 7-8 0z"/>
<path transform="matrix(0.25 -0.067848 0 0.25 218.51 667.78)" d="M0-397l8 17 8 11 7-3 8-6 8-12 16-85 7-21 8-10 8 8 8 11 7 18-5-28-8-15-8-9-8-7-8 10-7 20-16 82-8 10-15 8-8-10-8-15zM140-402l8-17 8-33 8-21 7 7-6-19-7-7-8 21-8 31-8 14zM483-459l8-13 8-15 7-23 8-30 8 1 8 1 8-20 7-5 8-3 8 4 8 9 15-41 8-2 16-28 15-35 8 12 8 14-6 5-16-23-15 33-16 27-8 2-15 41-8-8-8-3-8 4-7 6-8 19-8-1-8-1-8 29-7 23-8 15-8 13zM686-613l7-20 16-23 8-4 8 1 7 6 8 17 8 9 8-6 7-16 24-75 8-18 7-10 8-4 8 0 8 9 8 21-6 3-8-17-8-10-8-2-8 5-7 10-8 18-23 63-8 13-8 8-8-6-8-13-7-1-8 1-8 4-16 18-7 17zM865-681l8-19 7-8 8-7 8 25 8 58 7 78-5-3-8-63-8-47-8-22-8 2-7-7-8 11zM950-574l8-75 8-51 8-15 8 23-6 24-8-16-8 12-8 40-8 59z"/>
<path transform="matrix(0.25 -0.067848 0 0.25 220.00 668.47)" d="M0-379l8 18 8 12 7-3 8-7 8-15 16-88 7-22 8-11 8 8 8 13-6-17-8-12-8-7-8 10-7 21-16 85-8 12-8 6-7 3-8-12-8-16zM475-472l8 2 8-13 8-15 7-23 8-30 8 3 8 1 8-20 7-5 8-3 8 4 8 8 15-42 8 0 16-25 15-33 16 26 8-1-6 2-8-1-8-14-8-12-15 35-16 28-8 2-15 40-8-9-8-4-8 3-7 6-8 19-8 0-8-2-8 30-7 24-8 15-8 13-8-2zM686-619l7-16 8-4 8-12 8-4 8-1 7 1 8 13 8 6 8-8 7-13 24-65 8-19 7-11 8-7 8 0 8 8 8 18 15 43 8 11 8-2 8-9 7 8 8-3 8 19 8 39 7 51-5 17-8-77-8-58-8-26-8 7-7 9-8 18-8 10-8-8-8-21-7-26-8-20-8-9-8-1-8 5-7 10-8 18-23 75-8 15-8 7-8-10-8-17-7-5-8-2-8 5-16 22-7 20zM950-585l8-48 8-34 8-11 8 15-6-34-8-22-8 15-8 51-8 75z"/>
<path transform="matrix(0.25 -0.067848 0 0.25 221.49 669.16)" d="M0-395l8 19 8 12 7-3 8-9 8-17 16-91 7-24 8-12 8 8-6 20-8-8-8 11-7 23-16 87-8 15-8 7-7 4-8-12-8-18zM475-471l8 2 8-12 8-15 7-22 8-28 8 3 8 3 8-19 15-9 8 2 8 7 15-44 8 1 16-20 7-14 8-16 16 26 8-6 7 4-6-5-7-9-8 1-16-26-15 32-16 25-8 1-15 42-8-9-8-3-8 3-7 5-8 19-8-1-8-2-8 30-7 23-8 15-8 12-8-1zM693-625l8 3 8-7 8-4 8-7 7-10 8 2 8-2 15-20 8-11 8-14 8-16 8-19 7-15 8-8 8-1 8 7 8 12 7 14 16 31 16 23 7 9 8 40 8 5 15 7-5 26-8-51-8-39-8-19-8 2-7-8-8 9-8 3-8-11-15-43-8-18-8-9-8 1-8 6-7 12-8 18-23 65-8 14-8 8-8-7-8-12-7-1-8 1-8 4-8 11-8 5zM950-597l8 1 8 1 16-1-6-71-8-15-8 10-8 34-8 49z"/>
<path transform="matrix(0.25 -0.067848 0 0.25 222.98 669.85)" d="M0-419l8 20 8 13 7-4 8-10 8-20 16-95 7-25 8-13 8 9 8 16-6 27-8-15-8-8-8 11-7 25-16 90-8 18-8 8-7 4-8-12-8-20zM491-484l8-14 7-21 8-28 8 5 8 4 8-18 15-9 8 1 8 6 15-45 8 1 16-16 7-11 8-15 8 14 8 11-6-12-16-25-8 16-7 13-16 20-8 0-15 44-8-7-8-2-15 9-8 18-8-2-8-4-8 29-7 22-8 14zM701-607l8 2 8-9 8-12 7-19 16-19 8-12 7-5 16-5 8-8 15-33 8-10 8-4 8 2 8 4 7 4 8 12 8 19 8 27 8 30 7 26 8 57 8-7 8-27 15-72 8-19 8 5 8 29-6 48-16-3-8-2-23-9-8-6-8-39-7-9-16-23-16-31-7-15-8-12-8-6-8 0-8 9-7 15-8 19-8 15-8 14-7 12-16 19-8 2-8-1-7 9-8 7-8 5-8 7z"/>
<path transform="matrix(0.25 -0.067848 0 0.25 224.47 670.54)" d="M0-431l8 22 8 13 7-5 8-12 8-23 16-98 7-28 8-13 8 8 8 17-6 18-8-17-8-8-8 12-7 26-16 95-8 19-8 11-7 4-8-13-8-20zM491-487l8-13 7-20 8-27 8 6 8 4 8-17-6-6-8 18-8-4-8-5-8 27-7 21-8 14zM569-556l8-24 7-22 8 3 16-16 7-11 8-16 8 16 8 11-6-9-8-11-8-14-8 15-7 12-16 16-8-2-15 46zM709-596l8-9 8-14 7-23 24-37 7-2 16 5 8-1 8-12 7-15 8-11 8-8 16-8 7-1 8 10 8 22 8 32 8 38 7 32-6-23-7-26-8-31-8-26-8-20-8-11-7-5-8-3-8-2-8 3-8 11-15 32-8 8-15 6-8 4-8 13-16 18-7 19-8 13-8 8zM904-592l15-95 8-25 8 5 8 37 15 116-6-13-15-89-8-28-8-5-8 19-15 71z"/>
<path transform="matrix(0.25 -0.067848 0 0.25 225.96 671.23)" d="M0-448l8 22 8 14 7-5 8-14 8-25 16-103 7-29 8-14 8 9 8 19-6 20-8-17-8-9-8 13-7 28-16 99-8 23-8 12-7 5-8-13-8-22zM148-543l8-43 8-26 7 3 8 24-6 30-8-23-7-4-8 26-8 41zM460-471l15-32 8 5 8-10 8-12 7-21 8-26 8 6 8 4-6 16-8-5-8-6-8 27-7 21-8 13-8 10-8-3-15 33zM569-572l15-46 8 3 8-10-6 13-8 8-8-2-7 21-8 25zM717-619l8-11 7-17 16-13 8-10 7-3 8 1 8 2 8 0 15-20 16-16 8-6 8-4 7 0 8 9 8 18 8 24 8 27 7 23-6 12-7-32-8-37-8-32-8-22-8-10-7 1-16 8-8 8-8 11-7 14-8 12-8 2-15-6-8 2-24 38-7 22-8 15zM904-606l15-59 8-15 8 5 8 23 15 77-6 17-15-117-8-36-8-6-8 25-15 96z"/>
<path transform="matrix(0.25 -0.067848 0 0.25 227.45 671.91)" d="M0-457l8 25 8 14 7-5 8-16 8-27 16-105 7-31 8-14 8 9 8 20 7 31 8 48-6 5-7-48-8-28-8-19-8-8-8 14-7 29-16 102-8 26-8 14-7 5-8-14-8-23zM148-560l8-45 8-27 7 3 8 25 8 44-6 13-8-43-8-24-7-3-8 27-8 43zM249-562l8-28 8-17 8 8 7 34 8 47-6 14-7-45-8-34-8-7-8 17-8 27zM343-523l8-30 7-20 8 0 8 21 16 57 7 19-6 19-7-18-16-56-8-22-8 0-7 18-8 29zM436-501l8-10 8 0 8 11 15-31 8 5 8-9 8-12 7-21 8-27 8 5 8 4 8-18 7-4 8-2 8 4 8 9 15-45 8 1 16-21 7-14 8-19 16 37-6 23-8-15-8-17-8 17-7 13-16 17-8-2-15 46-8-8-8-3-15 8-8 18-8-5-8-6-8 27-7 20-8 13-8 10-8-5-15 32-8-11-8-1-8 9zM678-620l8-12 7-10 8 5 16-5 8-8 7-7 8 7 8 4 8-6 7-4 24-18 8-11 7-8 8-2 8 0 8 2 15 9 16 16 23 13-6 36-7-23-8-27-8-24-8-18-8-9-7 0-8 4-8 5-16 17-15 20-8 0-8-2-7-1-8 2-8 11-16 13-7 17-8 11-8 7-8-1-8-11-7 3-8 8zM904-628l7 5 8 6 8 4 8 2 8-1 15-2-6 34-15-76-8-24-8-4-8 15-15 59z"/>
<path transform="matrix(0.25 -0.067848 0 0.25 228.94 672.60)" d="M0-454l8 26 8 16 7-5 8-16 8-30 16-107 7-32 8-14 8 10 8 23 7 33 8 50 8 41 8 16-6-14-8-15-8-40-7-49-8-30-8-21-8-8-8 14-7 30-16 105-8 28-8 16-7 5-8-15-8-24zM140-517l8-41 8-47 8-28 7 3 8 27 16 96 8 44-6-13-8-41-16-92-8-25-7-3-8 28-8 45-8 38zM249-559l8-30 8-16 8 9 7 36 16 98-6-12-15-95-8-35-8-7-8 16-8 29zM343-517l8-31 7-20 8 0 8 21 16 59 7 19-6-12-7-18-16-57-8-21-8-1-7 21-8 29zM436-496l8-11 8 0 8 10 7-17 8-14 8 6 8-9 8-12 7-21 8-28 8 4 8 3 8-18 7-4 8-1 8 5 8 11 15-46 8 1 16-23 7-16 8-19 16 38-6-6-16-36-8 18-7 15-16 21-8-2-15 46-8-10-8-4-8 3-7 4-8 18-8-4-8-5-8 27-7 20-8 13-8 9-8-6-15 32-8-11-8 0-8 10zM678-609l15-32 8-2 8-8 16-6 7 2 8 18 8 13 8-2 7-6 8-13 24-47 7-7 8 4 8 10 16 30 7 10 8 7 8-5 16-35 7-14 8-1 8 20 8 28 15 71 8 21 8-1 8-21 15-72 8-27 8-8 8 15-6 54-8-4-8-1-8 0-15 2-8 0-8-2-8-4-7-6-8-4-8-4-8-18-8-5-23-13-16-16-15-9-8-3-8 1-8 2-7 8-8 11-23 18-8 3-8 6-8-3-8-7-7 6-8 9-16 5-8-5-7 9-8 12z"/>
<path transform="matrix(0.25 -0.067848 0 0.25 230.43 673.29)" d="M0-440l8 29 8 17 7-4 8-18 8-31 16-108 7-33 8-13 8 11 8 25 7 36 8 53 8 43 8 16-6-31-8-15-8-42-7-50-8-33-8-23-8-9-8 14-7 31-16 108-8 29-8 17-7 5-8-16-8-26zM140-493l16-92 8-28 7 3 8 28 16 102 8 46-6-34-8-43-16-97-8-26-7-3-8 28-8 46-8 42zM242-488l7-47 8-31 8-16 8 10 7 37 16 101-6-33-16-98-7-36-8-8-8 16-8 30-7 45zM343-493l8-32 7-22 8-1 8 21 16 57 7 18-6-22-7-19-16-58-8-22-8 0-7 21-8 31zM428-471l8-16 8-12 8-2 8 10 7-18 8-15 8 6 8-9 8-13 7-21 8-29 8 4 8 2 8-18 7-4 8-2 8 6 8 11 15-47 8 1 16-23 7-16 8-20 16 40-6-5-16-39-8 20-7 15-16 24-8-1-15 45-8-11-8-5-8 2-7 4-8 18-8-3-8-4-8 28-7 21-8 12-8 9-8-6-8 14-7 17-8-11-8 0-8 11-7 14zM678-605l15-35 8-4 8-9 8-3 15 4 8 22 8 17 8 0 7-6 8-15 24-56 7-8 8 8 8 15 16 41 7 12 8 4 8-11 16-53 7-21 8-4 8 18 8 38 15 90-6-17-15-72-8-28-8-19-8 1-7 14-16 34-8 5-8-6-7-11-16-29-8-10-8-5-7 8-24 47-7 13-8 6-8 2-8-13-8-18-7-3-16 7-8 8-8 1-15 32zM950-609l8-49 8-36 8-11 8 19-6 15-8-16-8 9-8 27-8 37z"/>
<path transform="matrix(0.25 -0.067848 0 0.25 231.92 673.98)" d="M0-397l8 31 8 18 7-4 8-18 8-32 16-111 7-32 8-13 8 12 8 28 7 39 8 54 8 45-6-58-8-43-7-52-8-36-8-26-8-11-8 14-7 32-16 109-8 31-8 17-7 4-8-17-8-28zM140-442l16-96 8-28 7 3 8 30 16 106 8 48-6-59-8-47-16-101-8-28-7-3-8 28-16 92zM242-438l7-48 8-33 8-16 8 10 7 38 16 102-6-54-16-101-7-37-8-9-8 16-8 31-7 46zM343-453l8-36 7-25 8-4 8 19 16 51-6-26-16-57-8-22-8 2-7 22-8 32zM428-465l8-19 8-15 8-4 8 7 7-19 8-16 8 4 8-10 8-14 7-22 8-29 8 4 8 2 8-19 7-4 8-2 8 4 8 11 15-48 8 1 16-24 7-17 8-20 16 43-6 11-16-41-8 20-7 16-16 24-8-1-15 47-8-12-8-5-8 2-7 3-8 19-8-2-8-4-8 28-7 22-8 13-8 9-8-6-8 15-7 17-8-9-8 1-8 13-7 15zM678-618l15-28 8 0 8-6 8-2 15-2 8 18 8 14 8 0 7-3 8-9 16-22 8-15 7-7 8 6 8 10 16 26 7 7 8 4 8-7 16-34 7-13 8-1 8 13 8 26 15 58-6 20-15-90-8-38-8-18-8 4-7 20-16 53-8 11-8-4-7-12-16-40-8-15-8-8-7 8-24 56-7 15-8 5-8 0-8-17-8-22-15-4-8 4-8 9-8 4-15 35zM950-612l8-30 8-21 8-7 8 14-6-34-8-20-8 12-8 36-8 48z"/>
<path transform="matrix(0.25 -0.067848 0 0.25 233.41 674.67)" d="M0-352l8 33 8 20 7-3 8-19 8-34 16-112 7-33 8-13 8 14 8 30 7 43 8 57-6-60-7-54-8-40-8-28-8-12-8 13-7 33-16 110-8 33-8 18-7 4-8-19-8-31zM140-385l16-101 8-29 7 4 8 31 16 111-6-63-16-106-8-29-7-4-8 29-16 96zM242-384l7-50 8-34 8-17 8 11 7 38 8 51-6-56-8-51-7-37-8-11-8 17-8 32-7 48zM335-361l8-49 8-38 7-28 8-8 8 17 8 22-6-34-8-25-8-19-8 5-7 25-8 35-8 47zM428-453l8-22 8-18 8-6 8 5 7-21 8-18 8 3 8-12 8-14 7-23 8-30 8 4 8 3 8-19 7-5 8-3 8 3 8 10 15-50 8 2 16-24 7-17 8-20 16 44 8-4 15 23 8 15 8 18 8-11 7-8 8 8 16-2 8-5 7-9 8 8 8 6 8-4 15 4 16 6 15-11 8-1 24-11 7-2 8 5 8 6 8 4 15 12 8 4 8 3 8 1 7-4 8-1-6 42-15-58-8-26-8-13-8 1-7 12-16 35-8 6-8-3-7-7-16-27-8-10-8-6-7 7-8 16-16 22-7 9-8 2-8 1-8-14-8-18-15 1-8 3-8 6-8-1-15 29-16-32-15-25-8 3-16-42-8 20-7 16-16 24-8-1-15 48-8-10-8-5-8 2-7 5-8 19-8-3-8-4-8 30-7 22-8 13-8 11-8-5-8 17-7 19-8-8-8 4-8 16-7 19zM950-617l8 8 8 8 8 4 8 2-6-66-8-13-8 6-8 22-8 29z"/>
<path transform="matrix(0.25 -0.067848 0 0.25 234.90 675.36)" d="M0-323l8 35 8 21 7-2 8-19 8-36 16-113 7-33 8-12 8 15 8 33 7 46-5-42-8-43-8-30-8-14-8 13-7 33-16 111-8 35-8 19-7 2-8-19-8-33zM140-342l16-104 8-29 7 4 8 32 8 55-6-48-8-52-8-31-7-4-8 29-16 100zM242-344l7-52 8-36 8-16 8 11 7 39-6-42-7-39-8-10-8 16-8 34-7 50zM343-377l8-41 7-30 8-10 8 15-6-28-8-17-8 7-7 29-8 38zM428-443l8-25 8-20 8-8 8 3 7-22 8-20 8 2 8-13 8-15 7-23 8-30 8 5 8 2 8-19 15-9 8 2 8 9 15-50 8 1 16-23 7-17 8-21 16 45 8-3 15 21 8 14 8 18 8-8 7-2 8 15 8 4 8-1 8-8 7-15 16-4 8-7 7 5 8 12 16 34 8 3 7-4 8-8 8-18 16-39 7-12 8 7 8 19 8 25 8 29 7 22 8 9 8-8 8-25 15-57 8-16 8 4 8 24-6 31-8-5-8-2-8 0-7 1-8 3-8-1-8-2-8-4-15-12-8-4-8-7-8-4-7 2-24 10-8 1-15 12-16-7-15-3-8 4-8-6-8-8-7 9-8 4-16 3-8-8-7 7-8 11-8-17-8-15-15-23-8 3-16-44-8 21-7 16-16 24-8-1-15 49-8-9-8-4-8 4-7 4-8 20-8-3-8-4-8 30-7 22-8 15-8 11-8-3-8 18-7 22-8-6-8 7-8 18-7 22z"/>
<path transform="matrix(0.25 -0.067848 0 0.25 236.39 676.05)" d="M0-303l8 37 8 22 7-2 8-20 8-37 16-115 7-34 8-12 8 16 8 35 7 50-5-29-8-47-8-33-8-15-8 12-7 34-16 113-8 35-8 20-7 2-8-21-8-36zM148-370l8-53 8-29 7 3-6-27-7-3-8 29-8 51zM203-243l7 38 8 10 8-23 8-46-6-29-8 44-8 22-8-11-7-38zM421-388l7-35 8-25 8-21 8-9 8 3 7-22 8-20 8 2 8-13 8-15 7-24 8-30 8 5 8 2 8-19 15-10 8 3 8 8 15-49 8 2 16-22 7-16 8-21 16 44 8-4 15 18 8 13 8 17 8-8 7-1 8 15 8 5 8-1 8-10 7-18 16-9 8-8 7 6 8 14 16 43 8 6 7-4 8-10 8-23 16-52 7-15 8 8 8 23 8 31 8 35 7 27-6-23-7-22-8-28-8-25-8-19-8-7-7 11-16 40-8 18-8 7-7 4-8-3-16-34-7-11-8-5-8 6-16 4-7 15-8 9-8 0-8-4-8-14-7 2-8 8-8-18-8-14-15-21-8 3-16-45-8 21-7 16-16 24-8-2-15 50-8-8-8-3-15 10-8 19-8-3-8-4-8 30-7 23-8 15-8 13-8-2-8 19-7 23-8-4-8 8-8 21-7 24-8 35zM904-605l15-76 8-21 8 5 8 29 7 47 8 53-6-15-8-43-7-37-8-24-8-4-8 15-15 58z"/>
<path transform="matrix(0.25 -0.067848 0 0.25 237.88 676.74)" d="M0-304l8 39 8 22 7-2 8-21 8-39 16-117 7-35 8-12 8 16 8 38 7 51 8 63 8 52 8 24 8-4 7-34 8-52-6-3-8 49-7 33-8 4-8-24-8-50-7-62-8-49-8-35-8-16-8 12-7 34-16 114-8 38-8 20-7 2-8-22-8-37zM203-244l7 38 8 9 8-24 8-47 7-60-5 2-8 58-8 45-8 23-8-9-7-38zM296-273l8 43 8 19 7-8 8-32 8-51-6-5-8 51-8 32-7 9-8-18-8-42zM421-369l7-34 8-25 8-21 8-8 8 5 7-22 8-19 8 3 8-12 8-15 7-23 8-30 8 4 8 2 8-19 7-5 8-4 8 3 8 10 15-49 8 3 16-21 7-15 8-20 16 41 8-5 15 17 8 12 8 16 8-10 7-6 8 12 8 1 8-2 8-9 7-14 8 2 8-2 8-6 7 4 8 9 16 29 8 0 15-11 8-17 16-36 7-11 8 6 8 15 8 19 8 22 7 16-6 13-7-27-8-36-8-31-8-23-8-7-7 15-16 52-8 23-8 10-7 4-8-6-16-43-7-14-8-6-8 8-16 9-7 18-8 10-8 1-8-5-8-16-7 2-8 8-8-18-8-12-15-18-8 4-16-44-8 20-7 16-16 23-8-3-15 50-8-9-8-2-15 10-8 19-8-3-8-4-8 30-7 23-8 16-8 12-8-1-8 19-7 23-8-3-8 9-8 21-7 25-8 35zM904-608l7-26 8-21 8-12 8 3 8 19 7 29 8 34 8 28-6 24-8-42-8-53-7-47-8-30-8-4-8 20-15 76z"/>
<path transform="matrix(0.25 -0.067848 0 0.25 239.37 677.43)" d="M0-325l8 39 8 24 7-3 8-23 8-41 16-119 7-37 8-13 8 17-6 24-8-16-8 12-7 35-16 116-8 40-8 21-7 2-8-23-8-38zM101-326l8 51 8 25 8-6 7-35 8-56-6 27-8 53-7 34-8 4-8-25-8-51zM195-333l8 58 7 38 8 8 8-24 8-48 7-61-5 30-8 59-8 48-8 24-8-9-7-38-8-56zM296-305l8 45 8 19 7-7 8-33 8-50-6 25-8 50-8 32-7 9-8-19-8-44zM421-383l7-33 8-24 8-19 8-8 8 5 7-20 8-18 8 4 8-11 8-14 7-23 8-30 8 4 8 3 8-20 7-5 8-2 8 4 8 10 15-47 8 2 16-22 7-15 8-20 16 41 8-4 15 21 8 14 8 16 8-13 7-11 8 6 16-5 8-4 7-6 8 12 8 9 8-2 7 1 16 1 8 2 8-10 7-7 8 1 16 0 8-1 7-2 8 2 8 0 8-5 8-3 7-2 8 1 8 5 8 3 7 5 8 7 8 4 8 2 8-2 7-4 8-2 8-2-6 55-8-27-8-34-7-30-8-18-8-4-8 13-7 21-8 25-8 21-8 6-8-7-7-17-8-22-8-18-8-16-8-5-7 11-16 36-8 16-15 12-8 0-16-29-7-9-8-5-8 7-8 1-8-1-7 14-8 8-8 2-8-1-8-11-7 5-8 11-8-16-8-12-15-17-8 5-16-41-8 19-7 15-16 22-8-3-15 48-8-9-8-3-8 3-7 6-8 19-8-3-8-4-8 30-7 23-8 15-8 12-8-2-8 18-7 22-8-4-8 8-8 20-7 25-8 34z"/>
<path transform="matrix(0.25 -0.067848 0 0.25 240.86 678.12)" d="M0-362l8 41 8 23 7-3 8-24 8-44 16-123 7-38 8-13 8 16-6 42-8-17-8 13-7 36-16 120-8 41-8 23-7 2-8-23-8-40zM101-372l8 51 8 23 8-7 7-39-6 48-7 36-8 5-8-24-8-52zM195-391l8 60 7 40 8 9 8-25 8-48-6 49-8 48-8 25-8-8-7-39-8-57zM296-355l8 46 8 21 7-7 8-32 8-49-6 41-8 50-8 32-7 8-8-20-8-44zM413-393l8-8 7-31 8-22 8-18 8-6 8 7 7-19 8-15 8 5 8-9 8-13 7-22 8-30 8 4 8 2 8-19 7-4 8-2 8 5 8 12 15-46 8 1 16-22 7-16 8-19 16 40 8-3 15 24 16 32 15-31 8 1 8-6 8-3 8-1 7 1 8 22 8 17 8 1 7 0 8-8 16-22 8-18 7-9 8 8 8 13 8 18 8 14 7 5 8 0 8-14 16-52 7-18 8-4 8 13 8 24 15 65 8 19 8-1 8-20 15-68 8-27 8-8 8 15-6 47-8-5-8-1-8 1-8 3-7 4-8 1-8-1-8-4-7-8-8-5-8-3-8-4-8-1-7 2-8 3-8 5-8 0-8-3-7 3-8 1-16 0-8-2-7 8-8 9-8-1-16-1-7-2-8 2-8-8-8-13-7 6-8 5-16 5-8-6-7 11-8 13-8-17-8-14-15-21-8 4-16-40-8 19-7 16-16 21-8-2-15 48-8-11-8-4-8 3-7 5-8 19-8-2-8-4-8 30-7 23-8 14-8 11-8-4-8 17-7 21-8-5-8 7-8 20-7 24-8 33-8 11z"/>
<path transform="matrix(0.25 -0.067848 0 0.25 242.35 678.81)" d="M0-417l8 42 8 24 7-3 8-26 8-46 16-126 7-39 8-14 8 16-6 57-8-16-8 14-7 38-16 123-8 43-8 25-7 3-8-24-8-40zM413-406l8-5 7-28 8-19 8-15 8-3 8 9 7-16 8-13 8 8 8-8 8-12 7-20 8-29 8 4 8 3 8-18 7-4 8-1 8 6 8 12 15-45 8 2 16-23 7-15 8-19 16 38 8-3 15 24 16 30 15-33 8-1 8-8 8-3 8-1 7 3 8 23 8 20 8 1 7-1 8-10 16-29 8-22 7-10 8 10 8 17 8 21 8 18 7 7 8-2 8-18 16-65 7-23 8-6 8 16 8 29 15 79-6-19-15-65-8-24-8-14-8 4-7 19-16 52-8 13-8 1-7-6-8-14-8-17-8-13-8-9-7 9-8 19-16 22-8 8-7 0-8-1-8-17-8-22-7-1-8 0-8 3-8 7-8-1-15 30-16-31-15-24-8 2-16-39-8 19-7 15-16 23-8-2-15 46-8-11-8-5-8 2-7 4-8 19-8-2-8-4-8 29-7 22-8 14-8 9-8-6-8 16-7 19-8-7-8 5-8 18-7 23-8 31-8 8zM950-600l8-45 8-33 8-12 8 18-6 9-8-16-8 9-8 26-8 35z"/>
<path transform="matrix(0.25 -0.067848 0 0.25 243.84 679.50)" d="M0-465l8 42 8 24 7-3 8-27 8-48 16-128 7-40 8-15 8 16-6 50-8-16-8 14-7 40-16 126-8 45-8 26-7 3-8-24-8-41zM140-534l8-73 8-61 8-33 7 3 8 38-6 60-8-38-7-3-8 33-16 131zM452-476l8 12 7-14 8-12 8 10 8-6 8-11 7-19 8-28 8 6 8 4 8-19 7-3 8-1 8 6 8 12 15-44 8 2 16-21 7-15 8-18 16 36 8-3 15 20 16 28 15-29 8 2 8-6 16-6 7-2 8 18 8 15 8-1 7 0 8-6 16-14 8-17 7-10 8 6 8 7 8 11 8 8 7 1 8 0 8-10 16-41 7-14 8-3 8 9 8 17 15 46 8 13 8 0 8-15 15-50 8-18 8-6 8 12-6-39-8-18-8 11-8 34-15 87-8 25-8 1-8-22-15-79-8-30-8-15-8 5-7 24-16 65-8 18-8 1-7-6-8-18-8-22-8-16-8-10-7 10-8 22-16 29-8 10-7 1-8-1-8-20-8-24-7-2-8 0-8 3-8 8-8 1-15 34-16-30-15-24-8 2-16-37-8 18-7 16-16 22-8-1-15 44-8-12-8-6-8 2-7 3-8 19-8-3-8-5-8 29-7 21-8 12-8 7-8-7-8 13-7 16-8-9z"/>
<path transform="matrix(0.25 -0.067848 0 0.25 245.33 680.19)" d="M0-490l8 44 8 24 7-4 8-28 8-49 16-131 7-41 8-16 8 16 8 40-6 26-8-40-8-16-8 15-7 41-16 128-8 47-8 28-7 3-8-24-8-43zM140-571l8-74 8-62 8-34 7 3 8 40 8 65-6 33-8-64-8-39-7-3-8 34-8 61-8 72zM241-575l8-58 8-39 8-14 8 17 7 47-6 28-7-46-8-16-8 14-8 39-7 58zM343-546l8-34 7-21 8 4 8 32-6 13-8-29-8-2-7 22-8 35zM452-471l8 14 7-13 8-10 8 10 8-5 8-9 7-19 8-27 8 7 8 5 8-18 7-3 8-1 8 5 8 11 15-44 8 3 16-18 7-14 8-17 16 34 8-6 7 8 8 7 8 12 8 15 8-12 7-9 8 7 16-5 8-7 7-10 8 8 8 7 8-5 7 2 8 3 16 12 15-16 8-3 31-35 8 2 8 4 8 2 8 4 7 4 8 1 8-1 15-16 8-4 8-4 8 1 8 5 7 8 8 11 8 10 8 4 8 1-6-67-8-12-8 6-8 19-15 50-8 15-8 0-8-13-15-47-8-16-8-10-8 3-7 15-16 40-8 10-8 0-7-1-8-8-8-10-8-8-8-5-7 10-8 16-16 15-8 6-7-1-8 2-8-15-8-19-7 3-16 6-8 6-8-2-15 29-16-28-15-21-8 4-16-37-8 19-7 15-16 21-8-3-15 44-8-12-8-5-8 1-7 3-8 18-8-4-8-5-8 27-7 20-8 10-8 6-8-9-8 11-7 15-8-12z"/>
<path transform="matrix(0.25 -0.067848 0 0.25 246.82 680.88)" d="M0-493l8 45 8 25 7-4 8-29 8-50 16-132 7-42 8-16 8 16 8 41 15 120 8 49 8 21 8-13 7-45 16-141 8-62 8-34 7 3 8 39 24 205 7 43-6-2-7-43-24-204-8-39-7-3-8 34-8 62-16 140-7 45-8 12-8-20-8-49-15-118-8-40-8-16-8 15-7 42-16 130-8 50-8 28-7 4-8-25-8-43zM241-579l8-59 8-40 8-14 8 18 7 47 16 126 8 51 8 27-6-2-8-26-8-51-16-125-7-46-8-17-8 13-8 40-7 58zM343-551l8-34 7-22 8 4 8 32 16 85 7 31 8 12 8 14 8 1 7-23 8-16 8-11 8 1 8 13 7-13 8-10 8 11 8-5 8-9 7-18 8-27 8 8 8 5 8-17 7-3 8-2 8 5 8 11 15-45 8 4 16-16 7-12 8-17 8 18 8 15 8-7 15 10 8 11 8 17 8-8 7-5 8 13 8 2 8-2 8-10 7-17 16 1 8-8 7 5 8 10 16 35 8 1 7-7 8-9 8-22 16-49 7-16 8 4 8 17 8 21 8 25 7 19 8 6 8-10 8-28 7-35 8-29 8-17 8 2 8 22 7 36 8 42 8 34 8 14 8-9-6-58-8 0-8-5-8-9-8-11-7-8-8-5-8-1-8 3-7 5-16 16-8 1-8-2-7-3-8-5-8-1-8-4-8-3-31 36-8 2-15 17-16-12-8-3-7-2-8 5-8-7-8-9-7 11-8 7-16 5-8-8-7 10-8 12-8-16-8-11-8-8-7-7-8 5-16-33-8 17-7 13-16 19-8-3-15 44-8-11-8-5-8 1-7 3-8 18-8-5-8-7-8 27-7 18-8 10-8 5-8-11-8 10-7 13-8-13-8-1-8 11-7 15-8 23-8-1-8-15-8-11-7-31-16-84-8-32-8-4-7 21-8 34z"/>
<path transform="matrix(0.25 -0.067848 0 0.25 248.31 681.56)" d="M0-467l8 46 8 25 7-3 8-30 8-51 16-133 7-43 8-15 8 17 8 43 15 122 8 50 8 20 8-12 7-45 16-139 8-62 8-33 7 3 8 39 24 202 7 43-6-36-7-42-24-205-8-39-7-3-8 34-8 62-16 140-7 46-8 12-8-20-8-49-15-120-8-41-8-16-8 15-7 43-16 131-8 51-8 29-7 4-8-25-8-45zM234-488l15-122 8-42 8-14 8 18 7 46 16 127 8 51 8 26-6-30-8-26-8-52-16-126-7-46-8-18-8 14-8 40-15 121zM335-481l8-50 8-37 7-23 8 2 8 30 16 82 7 30 8 10 8 13 8-2 7-26 8-18 8-13 8-1 8 12 7-14 8-10 8 10 8-6 8-9 7-19 8-27 8 7 8 6 8-17 7-3 8-2 8 5 8 10 15-44 8 4 16-15 7-11 8-16 8 18 8 14 8-7 15 10 8 12 8 17 8-6 7-3 8 15 8 3 8-2 7-10 8-17 16-1 8-8 7 5 8 13 16 41 8 2 7-6 8-10 8-24 16-57 7-18 8 5 8 20 8 25 8 31 7 22 8 7 8-11 8-34 7-41 8-35 8-21 8 3 8 26 7 43 8 50 8 39-6-18-8-34-8-42-7-36-8-22-8-2-8 17-7 29-8 35-8 28-8 10-8-6-7-19-8-25-8-21-8-17-8-5-7 17-16 49-8 22-8 8-7 7-8 0-16-35-8-11-7-4-8 8-16-1-7 16-8 10-8 2-8-1-8-13-7 4-8 9-8-17-8-11-15-10-8 7-8-15-8-18-8 16-7 12-16 16-8-3-15 44-8-10-8-5-8 2-7 3-8 17-8-6-8-7-8 26-7 19-8 9-8 5-8-11-8 10-7 13-8-13-8-1-8 11-7 15-8 24-8-1-8-14-8-12-7-31-16-85-8-33-8-3-7 21-8 35-8 48z"/>
<path transform="matrix(0.25 -0.067848 0 0.25 249.80 682.25)" d="M0-420l8 47 8 27 7-3 8-30 8-53 16-133 7-42 8-15 8 18 8 44 15 125 8 51 8 21 8-11 7-44 16-137 8-61 8-33 7 3 8 38 24 200 7 42-6-62-7-42-24-203-8-38-7-3-8 33-8 61-16 140-7 45-8 12-8-21-8-49-15-123-8-42-8-17-8 15-7 42-16 133-8 52-8 30-7 3-8-26-8-46zM234-432l15-125 8-42 8-15 8 18 7 46 16 127 8 51-6-56-8-52-16-126-7-47-8-17-8 14-8 41-15 123zM335-432l8-51 8-39 7-25 8 1 8 29 16 80 7 29 8 8 8 11 8-4 7-28 8-20 8-15 8-3 8 11 7-15 8-11 8 9 8-5 8-10 7-20 8-27 8 7 8 4 8-17 7-3 8-2 8 5 8 11 15-43 8 3 16-16 7-12 8-16 8 17 8 15 8-6 15 12 8 12 8 17 8-9 7-5 8 11 8 1 8-2 7-8 8-14 8 5 8 4 8-7 7 4 8 8 16 26 8-4 7-8 8-6 8-16 16-38 7-14 8 3 16 23 8 17 7 12 8 4 8-7 8-21 7-25 8-20 8-12 8 2 8 14 7 25 8 30 8 23-6 26-8-40-8-50-7-43-8-26-8-2-8 21-7 34-8 42-8 33-8 12-8-7-7-23-8-30-8-26-8-19-8-6-7 19-16 56-8 25-8 10-7 6-8-2-16-41-8-13-7-6-8 9-16 0-7 18-8 10-8 1-8-3-8-14-7 2-8 7-8-18-8-11-15-10-8 7-8-15-8-17-8 15-7 12-16 15-8-4-15 44-8-11-8-4-8 1-7 3-8 17-8-5-8-7-8 26-7 19-8 10-8 5-8-10-8 11-7 14-8-12-8 1-8 13-7 18-8 25-8 2-8-12-8-10-7-30-16-82-8-31-8-2-7 24-8 37-8 49z"/>
<path transform="matrix(0.25 -0.067848 0 0.25 251.29 682.94)" d="M0-362l8 49 8 27 7-2 8-31 8-53 16-133 7-43 8-13 8 19 8 45 15 128 8 51-6-71-8-50-15-125-8-44-8-18-8 14-7 43-16 133-8 52-8 30-7 3-8-26-8-47zM140-413l8-71 8-59 8-33 7 3 8 38 24 197-6-74-24-200-8-38-7-3-8 33-8 60-8 72zM234-365l15-127 8-43 8-15 8 17 7 47 16 127 8 51-6-68-8-51-16-127-7-47-8-17-8 14-8 42-15 125zM335-373l8-53 8-41 7-27 8-1 8 28 16 76 7 27 8 6-6-46-8-9-7-28-16-80-8-30-8 0-7 25-8 38-8 51zM428-387l8-23 8-18 8-5 8 9 7-16 8-12 8 8 8-6 8-11 7-20 8-28 8 5 8 4 8-18 7-3 8-2 8 6 8 12 15-42 8 3 16-19 7-14 8-17 16 33 8-4 15 18 8 13 8 16 15-23 8 6 16-6 7-5 8-7 8 14 8 12 8-4 7 2 16 0 8 1 8-14 7-10 8 0 16-4 8-3 7-6 8 0 8-3 8-11 8-7 7-6 8-2 8 3 8 1 7 5 8 7 8 3 8 0 8-5 7-8 8-6 8-4-6 51-8-24-8-30-7-24-8-15-8-1-8 12-7 20-8 25-8 21-8 6-8-4-7-12-8-16-16-23-8-4-7 14-16 38-8 17-8 6-7 8-8 4-16-26-8-8-7-4-8 6-8-3-8-5-7 13-8 9-8 2-8-1-8-12-7 6-8 9-8-17-8-12-15-12-8 6-8-15-8-17-8 15-7 12-16 17-8-4-15 44-8-11-8-5-8 1-7 3-8 18-8-5-8-6-8 27-7 19-8 10-8 6-8-9-8 11-7 14-8-10-8 3-8 15-7 20z"/>
<path transform="matrix(0.25 -0.067848 0 0.25 252.78 683.63)" d="M0-300l8 49 8 29 7-3 8-31 8-54 16-133 7-43 8-14 8 20 8 46 15 130-6-70-15-127-8-46-8-19-8 14-7 42-16 134-8 53-8 30-7 3-8-28-8-48zM140-347l8-70 8-58 8-33 7 3 8 37 16 134-6-71-16-135-8-37-7-3-8 32-8 60-8 70zM241-366l8-62 8-44 8-16 8 17 7 47 16 126-6-66-16-126-7-47-8-17-8 15-8 43-7 62zM335-318l8-56 8-43 7-29 8-4 8 25 16 71 7 24-6-39-7-27-16-76-8-28-8 2-7 27-8 41-8 53zM428-366l8-26 8-21 8-8 8 6 7-17 8-14 8 8 8-8 8-12 7-21 8-29 8 5 8 3 8-19 7-4 8-1 8 7 8 12 15-41 8 3 16-21 7-15 8-17 16 34 8-2 15 23 16 29 15-29 8 3 8-6 15-4 8-2 8 22 8 18 15 0 8-7 16-19 8-21 7-12 8 6 8 10 8 13 8 9 7 1 8-2 8-14 16-57 7-21 8-6 8 11 8 20 15 59 8 16 8-2 8-21 15-71 8-27 8-10 8 15-6 42-8-5-8 1-8 3-8 6-7 8-8 5-8 1-8-3-7-8-8-4-8-1-8-3-8 1-7 6-8 8-8 11-8 3-8-1-7 6-8 4-16 4-8-1-7 11-8 13-8-1-16 1-7-2-8 3-8-11-8-14-7 7-8 5-16 6-8-7-15 23-8-16-8-13-15-17-8 4-16-33-8 17-7 13-16 19-8-3-15 43-8-12-8-6-8 1-7 4-8 18-8-4-8-5-8 28-7 20-8 11-8 6-8-9-8 13-7 15-8-8-8 5-8 18-8 22z"/>
<path transform="matrix(0.25 -0.067848 0 0.25 254.27 684.32)" d="M0-256l8 50 8 29 7-2 8-32 8-54 16-135 7-43 8-13 8 20 8 47 7 63-5-50-8-62-8-46-8-20-8 14-7 42-16 134-8 54-8 31-7 2-8-28-8-50zM140-302l8-69 8-58 8-32 7 3 8 37 16 132-6-50-16-133-8-37-7-3-8 32-8 59-8 70zM241-321l8-63 8-45 8-16 8 17 7 47 8 62-6-47-8-63-7-46-8-17-8 16-8 43-7 63zM335-279l8-57 8-45 7-31 8-6 8 24 16 68-6-32-16-72-8-25-8 4-7 30-8 43-8 56zM428-348l8-29 8-23 8-10 8 5 7-19 8-15 8 7 8-8 8-12 7-21 8-30 8 4 8 3 8-20 7-3 8-1 8 6 8 13 15-41 8 3 16-21 7-15 8-17 16 34 8-1 15 24 16 30 15-30 8 2 8-6 8-3 7-1 8 0 8 23 8 19 15 1 8-8 16-22 8-23 7-12 8 7 8 11 8 16 8 12 7 1 8-2 8-17 16-65 7-24 8-7 8 12 8 24 15 68-6-16-15-58-8-20-8-11-8 6-7 21-16 56-8 15-8 2-7-1-8-10-8-13-8-9-8-6-7 12-8 21-16 19-8 6-15 0-8-18-8-21-7 1-16 5-8 6-8-3-15 29-16-30-15-22-8 1-16-34-8 18-7 14-16 21-8-3-15 42-8-13-8-6-8 1-7 3-8 19-8-3-8-4-8 29-7 21-8 12-8 7-8-8-8 14-7 18-8-6-8 7-8 21-8 27zM943-538l15-83 8-32 8-11 8 16-6 3-8-14-8 10-8 27-15 70z"/>
<path transform="matrix(0.25 -0.067848 0 0.25 255.75 685.01)" d="M0-243l8 51 8 29 7-2 8-32 8-55 16-135 7-44 8-13 8 20 8 48-6-17-8-47-8-20-8 13-7 43-16 135-8 54-8 31-7 3-8-29-8-50zM109-194l8 23 8-12 7-43 16-132 8-58 8-32 7 4 8 36 24 195 7 41 8 9 8-26 8-52 15-130 8-45 8-16 8 17 7 46-5-17-8-46-8-17-8 16-8 44-15 130-8 52-8 26-8-9-7-41-24-195-8-36-7-4-8 32-8 59-16 132-7 43-8 11-8-23zM304-191l8 25 7-9 8-36 16-113 8-46 7-32 8-6 8 23 8 34-6-15-8-33-8-23-8 6-7 31-8 45-16 112-8 35-7 9-8-25zM428-341l8-30 8-24 8-10 8 4 7-19 8-15 8 7 8-8 8-13 7-21 8-30 8 4 8 3 8-19 7-3 8-1 8 6 8 13 15-42 8 4 16-20 7-13 8-17 16 34 8-3 15 21 8 15 8 16 15-25 8 5 8-4 8-2 8-3 7-4 8 18 8 15 8-1 7 1 24-11 8-17 7-12 16 6 8 5 8 2 7-3 8-1 8-10 16-39 7-14 8-5 8 7 8 10 8 16 7 19 8 9 8-2 8-14 15-44 8-16 8-6 8 11-6-41-8-17-8 12-8 32-15 83-8 25-8 2-8-19-15-67-8-24-8-13-8 8-7 24-16 65-8 17-8 2-7-2-8-12-8-16-8-11-8-7-7 13-8 22-16 23-7 7-16 0-8-20-8-22-7 0-8 1-8 3-8 6-8-2-15 30-16-31-15-23-8 1-16-35-7 18-8 15-16 21-8-3-15 41-8-13-8-6-8 0-7 4-8 19-8-3-8-4-8 30-7 22-8 12-8 8-8-7-8 15-7 18-8-4-8 9-8 24-7 29z"/>
<path transform="matrix(0.25 -0.067848 0 0.25 257.24 685.70)" d="M0-259l8 52 8 29 7-2 8-33 8-56 16-137 7-43 8-14 8 21-6 14-8-20-8 13-7 43-16 136-8 55-8 32-7 2-8-29-8-51zM101-264l8 52 8 21 8-12 7-43 16-132 8-58 8-32 7 3 8 37 24 195 7 41 8 9 8-25 8-53 15-130 8-44-6 15-8 44-15 130-8 53-8 25-8-8-7-41-24-195-8-37-7-3-8 32-8 58-16 132-7 43-8 11-8-22-8-52zM296-258l8 52 8 25 7-8 8-35 16-112 8-45-6 7-8 45-16 114-8 36-7 8-8-24-8-51zM421-295l7-36 8-28 8-23 8-9 8 5 7-18 8-13 8 8 8-7 8-12 7-20 8-29 8 5 8 4 8-19 7-3 8-1 8 5 8 13 15-42 8 3 16-16 7-13 8-16 16 33 8-5 15 15 8 13 8 18 8-11 7-8 8 10 8-1 8-3 8-7 7-11 8 11 8 8 8-5 7 3 8 3 8 7 8 7 15-20 8-4 16-24 15-26 8 1 8 3 8 0 8 3 7 2 8 0 8-4 16-25 7-9 8-6 8-1 8 4 7 9 8 13 8 11 8 4 8-1-6-66-8-10-8 6-8 16-15 44-8 14-8 2-8-10-7-18-8-16-8-10-8-7-8 5-7 14-16 39-8 10-8 1-7 3-8-3-8-5-16-6-7 12-8 18-23 11-8-2-8 2-8-15-8-19-7 4-8 4-8 2-8 4-8-5-15 25-8-17-8-14-15-21-8 2-16-34-7 17-8 14-16 19-8-3-15 41-8-12-8-7-8 1-7 4-8 19-8-3-8-4-8 29-7 22-8 12-8 8-8-6-8 14-7 19-8-4-8 11-8 24-7 30-8 37z"/>
<path transform="matrix(0.25 -0.067848 0 0.25 258.73 686.39)" d="M0-303l8 52 8 30 7-3 8-33 8-57 16-138 7-44 8-14 8 21-6 42-8-20-8 13-7 44-16 137-8 56-8 32-7 2-8-29-8-52zM101-311l8 51 8 22 8-13 7-44 16-132 8-59 8-31 7 3-6 45-7-3-8 31-8 58-16 133-7 43-8 12-8-22-8-51zM195-346l8 64 7 41 8 10 8-25 8-53 15-129 8-45 8-15-6 42-8 16-8 45-15 130-8 52-8 26-8-9-7-42-8-63zM296-302l8 54 8 27 7-7 8-34 16-108 8-43-6 28-8 45-16 112-8 35-7 8-8-25-8-53zM405-294l8 8 8-8 7-33 8-25 8-20 8-6 8 8 7-15 8-11 8 10 8-5 8-10 7-19 8-28 8 7 8 4 8-17 7-3 8-1 8 6 8 11 15-42 8 4 16-15 7-11 8-16 8 17 8 14 8-7 15 11 8 12 8 18 8-9 7-5 8 13 8 1 8-3 8-10 7-17 8 4 8 2 8-8 7 3 8 9 16 31 8-4 15-20 8-23 16-54 7-20 8 2 8 13 8 16 8 20 7 15 8 3 8-11 8-32 8-36 7-31 8-19 8 0 8 19 7 33 8 40 8 33 8 12 8-9-6-56-8 0-8-4-8-11-8-13-7-8-8-4-8 1-8 6-7 8-16 26-8 3-8 1-7-2-8-4-8 1-8-4-8-1-15 26-16 24-8 4-15 21-8-8-8-6-7-4-8-3-8 6-8-9-8-10-7 11-8 7-8 2-8 1-8-9-7 8-8 10-8-17-8-13-15-16-8 5-16-32-7 16-8 12-16 17-8-4-15 42-8-12-8-6-8 1-7 4-8 18-8-4-8-5-8 29-7 21-8 11-8 7-8-7-8 13-7 18-8-6-8 9-8 23-7 29-8 35-8 12-8-4z"/>
<path transform="matrix(0.25 -0.067848 0 0.25 260.22 687.08)" d="M0-363l8 53 8 29 7-3 8-33 8-58 16-139 7-45 8-14 8 21-6 58-8-20-8 14-7 44-16 137-8 58-8 33-7 2-8-29-8-53zM101-374l8 51 8 21 8-13 7-45 16-133 8-58 8-32 7 3-6 61-7-3-8 32-8 58-16 133-7 44-8 12-8-21-8-51zM195-411l8 63 7 42 8 10 8-25 8-53 15-129 8-45 8-15-6 60-8 16-8 44-15 130-8 52-8 26-8-10-7-42-8-63zM296-363l8 54 8 28 7-5 8-33 16-107 8-41 7-26 8 1-6 45-8 1-7 29-8 42-16 109-8 34-7 6-8-26-8-54zM405-327l8 11 8-5 7-30 8-22 8-18 8-4 8 11 7-13 8-9 8 12 8-3 8-8 7-18 8-27 8 7 8 6 8-17 7-2 8-1 8 7 8 12 15-42 8 5 16-14 7-11 8-16 8 17 8 15 8-7 15 11 8 12 8 18 8-8 7-5 8 14 8 1 8-2 8-11 7-17 8 3 8 2 8-9 7 4 8 10 16 33 8-3 15-21 8-25 16-58 7-21 8 2 8 14 8 18 8 24 7 16 8 4 8-13 8-34 8-42 7-34 8-22 8 0 8 21 7 38 8 45 8 36-6-16-8-32-8-41-7-33-8-19-8 1-8 19-7 30-8 37-8 31-8 12-8-4-7-14-8-21-8-15-8-13-8-2-7 20-16 53-8 23-15 20-8 4-16-30-7-9-8-4-8 9-8-2-8-4-7 17-8 10-8 2-8-1-8-12-7 5-8 8-8-17-8-12-15-11-8 7-8-15-8-17-7 16-8 12-16 15-8-4-15 42-8-12-8-6-8 1-7 3-8 18-8-5-8-6-8 28-7 19-8 10-8 5-8-10-8 11-7 15-8-8-8 6-8 20-7 25-8 32-8 9-8-8z"/>
<path transform="matrix(0.25 -0.067848 0 0.25 261.71 687.77)" d="M0-424l8 53 8 30 7-3 8-34 8-59 16-140 7-45 8-14 8 20-6 59-8-20-8 14-7 44-16 139-8 58-8 34-7 3-8-30-8-53zM101-437l8 50 8 21 8-14 7-44 16-134 8-59 8-32 7 3-6 62-7-4-8 32-8 59-16 133-7 44-8 13-8-20-8-51zM195-477l8 64 7 42 8 10 8-25 8-53 15-130 8-44 8-15 8 19-6 60-8-19-8 16-8 44-15 130-8 52-8 25-8-9-7-42-8-64zM296-426l8 56 8 29 7-4 8-32 16-104 8-40 7-24 8 3 8 34-6 43-8-32-8 0-7 26-8 41-16 106-8 33-7 6-8-28-8-55zM405-359l8 14 8-2 7-27 8-20 8-15 8-1 8 13 7-10 8-7 8 15 8-2 8-6 7-17 8-26 8 8 8 6 8-16 7-1 8 0 8 7 8 14 15-41 8 5 16-15 7-12 8-16 16 33 8-5 15 14 8 13 8 18 8-10 7-7 8 11 8-1 8-2 8-9 7-14 8 8 8 6 8-7 7 3 8 6 8 9 8 11 8-8 7-12 8-7 8-17 16-40 7-17 8 1 8 6 8 5 8 10 7 6 8 1 8-8 15-46 8-19 8-13 8-1 8 10 7 18 8 25 8 20-6 26-8-36-8-46-7-37-8-21-8 0-8 22-7 34-8 41-8 35-8 13-8-4-7-17-8-23-8-18-8-14-8-3-7 22-16 58-8 25-15 20-8 4-16-34-7-9-8-5-8 10-8-2-8-3-7 17-8 10-8 3-8-2-8-13-7 5-8 8-8-18-8-13-15-10-8 7-8-15-8-17-7 15-8 12-16 14-8-5-15 42-8-13-8-6-8 0-7 3-8 17-8-6-8-7-8 26-7 18-8 8-8 4-8-12-8 9-7 13-8-11-8 4-8 17-7 23-8 30-8 5-8-11z"/>
<path transform="matrix(0.25 -0.067848 0 0.25 263.20 688.46)" d="M0-472l8 53 8 30 7-3 8-35 8-59 16-141 7-46 8-14 8 21 8 48 15 132 8 50 8 20 8-13 7-46 16-134 8-59 8-32 7 3 8 37-6 46-8-36-7-3-8 32-8 58-16 134-7 45-8 14-8-21-8-50-15-131-8-48-8-21-8 14-7 45-16 140-8 59-8 34-7 3-8-29-8-53zM203-464l7 43 8 9 8-24 8-53 15-130 8-45 8-14 8 19 7 50 16 137 8 56 8 30 7-3 8-31 16-101 8-38 7-22 8 5 8 37-6 27-8-34-8-3-7 24-8 40-16 103-8 32-7 5-8-29-8-56-15-135-8-49-8-19-8 15-8 45-15 130-8 52-8 25-8-10-7-42zM413-358l8 1 7-23 8-18 8-12 8 1 8 15 7-7 8-4 8 17 8 0 8-4 7-16 8-24 8 8 8 7 8-16 7-1 8 1 8 8 8 15 15-39 8 5 16-17 7-14 8-16 16 34 8-4 7 9 8 9 8 14 8 17 15-24 8 7 16-7 8-6 7-9 8 15 8 12 8-5 7 2 16-3 8 0 8-17 7-14 8-2 16-9 8-7 7-10 8-2 8-7 8-15 8-12 7-11 8-5 8 1 8-1 7 2 8 6 8 2 8-3 8-9 7-12 8-9 8-7 8-3 8 5-6 47-8 5-8-8-8-20-8-24-7-19-8-10-8 2-8 13-7 18-16 47-8 7-8 0-7-7-8-9-8-5-8-7-8 0-7 17-16 40-8 17-8 7-7 11-8 9-8-11-8-10-7-5-8-3-8 7-8-6-8-8-7 14-8 8-8 3-8 0-8-11-7 8-8 9-8-17-8-13-15-15-8 6-16-33-7 16-8 12-16 15-8-5-15 40-8-13-8-7-8-1-7 2-8 16-8-6-8-8-8 25-7 17-8 7-8 1-8-14-8 6-7 10-8-13-8 2-8 15-7 20-8 27-8 2z"/>
<path transform="matrix(0.25 -0.067848 0 0.25 264.69 689.15)" d="M0-493l8 54 8 30 7-3 8-36 8-59 16-142 7-45 8-15 8 21 8 49 15 132 8 50 8 21 8-14 7-46 16-135 8-58 8-32 7 3 8 36 8 62 16 135 7 42 8 10 8-25 8-52 15-130 8-45 8-15 8 20 7 50 16 138 8 57 8 31 7-3 8-30 16-101 8-37 7-22 8 7 8 39 16 106 7 43 16 42 8 2 7-22 8-16 8-11 8 2 8 17 7-6 8-2 8 18 8 2 8-4 7-15 8-24 8 9 8 7 8-16 7-1 8 2 8 9 8 16 15-38 8 5 8-10 8-9 7-14 8-18 16 35 8-2 15 22 8 14 8 17 15-30 8 4 8-6 8-4 15-9 8 20 8 17 8-2 7-1 8-6 16-17 8-24 7-16 8 3 8 3 8 7 8 4 15-9 8-16 16-61 7-23 8-9 8 7 8 15 15 48 8 13 8-4 8-23 15-72 8-28 8-11 8 13-6 35-8-5-8 3-8 6-8 10-7 12-8 8-8 3-8-1-7-6-8-3-8 2-8-1-8 5-7 10-8 12-8 16-8 6-8 2-7 10-8 7-16 10-8 2-7 14-8 17-8 0-15 2-8-1-8 5-8-12-8-15-7 8-8 6-16 7-8-7-15 25-8-17-8-14-8-9-7-10-8 4-16-34-7 17-8 13-16 17-8-4-15 38-8-14-8-8-8-2-7 1-8 16-8-6-8-9-8 25-7 15-8 5-8-1-8-16-8 4-7 7-8-16-8-1-8 13-7 17-8 24-8-1-16-38-7-41-16-102-8-37-8-6-7 22-8 39-16 101-8 31-7 3-8-30-8-57-15-136-8-50-8-20-8 15-8 45-15 130-8 52-8 25-8-10-7-42-16-135-8-61-8-37-7-3-8 32-8 59-16 134-7 45-8 14-8-21-8-50-15-131-8-49-8-20-8 14-7 45-16 141-8 60-8 34-7 3-8-29-8-54z"/>
<path transform="matrix(0.25 -0.067848 0 0.25 266.18 689.84)" d="M0-478l8 54 8 30 7-3 8-35 8-61 16-142 7-46 8-14 8 21 8 49 15 133 8 50 8 21 8-14 7-46 16-136 8-58 8-32 7 3 8 36 8 62 16 136 7 42 8 10 8-25 8-53 15-131 8-45 8-14 8 19 7 51 16 138 8 57 8 31 7-3 8-30 16-101 8-38 7-22 8 7 8 38 16 107 7 44 8 22 8 20 8 3 7-23 8-17 8-11 8 2 8 17 7-6 8-2 8 19 8 2 8-3 7-15 8-24 8 9 8 6 8-15 7-1 8 2 8 10 8 15 15-38 8 5 8-9 8-9 7-15 8-17 16 35 8-2 15 22 8 14 8 17 15-31 8 4 8-6 23-13 8 21 8 17 8-3 7 0 8-7 16-19 8-25 7-17 8 3 8 4 8 8 8 4 15-9 8-17 16-66 7-25 8-10 8 8 8 16 15 53 8 14 8-5 8-25 15-79 8-31 8-12 8 14-6-3-8-13-8 11-8 28-15 71-8 23-8 5-8-13-15-49-8-14-8-7-8 9-7 23-16 60-8 17-15 8-8-3-8-7-8-4-8-2-7 16-8 24-16 16-7 7-8 0-8 3-8-17-8-20-15 9-8 4-8 6-8-4-15 30-8-17-8-14-15-22-8 2-16-35-8 18-7 14-8 9-8 9-8-5-15 38-8-15-8-9-8-2-7 1-8 15-8-6-8-9-8 24-7 15-8 4-8-2-8-18-8 2-7 6-8-17-8-3-8 12-7 16-8 22-8-3-16-41-7-43-16-107-8-38-8-7-7 21-8 38-16 100-8 31-7 2-8-30-8-58-15-137-8-50-8-20-8 14-8 45-15 131-8 52-8 25-8-10-7-42-16-135-8-62-8-37-7-3-8 32-8 59-16 135-7 45-8 14-8-20-8-51-15-132-8-48-8-21-8 14-7 46-16 141-8 60-8 35-7 3-8-30-8-53z"/>
<path transform="matrix(0.25 -0.067848 0 0.25 267.67 690.52)" d="M0-433l8 55 8 30 7-3 8-36 8-60 16-143 7-45 8-15 8 21 8 50 15 133 8 51 8 20 8-14 7-46 16-136 8-59 8-32 7 3 8 37 8 62 16 136 7 42 8 10 8-25 8-53 15-132 8-45 8-15 8 19 7 50 16 138 8 57 8 30 7-3 8-32 16-105 8-40 7-23 8 4 8 37 16 103 7 42 8 20 8 17 8 0 7-26 8-20 8-14 8 0 8 14 7-7 8-3 8 17 8 2 8-5 7-15 8-25 8 9 8 6 8-16 7-1 8 2 8 9 8 15 15-38 8 5 8-8 8-9 7-13 8-17 16 35 8-3 15 20 8 15 8 17 15-26 8 6 16-7 8-6 7-7 8 17 8 14 8-4 7 1 24-8 8-20 7-16 8 0 8-3 8-2 8-4 7-10 8-2 8-10 8-22 8-18 7-16 8-7 16 6 7 8 8 12 8 5 8-4 8-14 15-40 8-14 8-6 8 7-6-42-8-14-8 13-8 31-15 79-8 25-8 5-8-14-15-54-8-15-8-8-8 10-7 25-16 65-8 18-15 9-8-4-8-8-8-4-8-3-7 17-8 25-16 18-7 8-8 0-8 2-8-17-8-21-23 13-8 6-8-3-15 31-8-17-8-15-15-22-8 3-16-36-8 18-7 14-8 10-8 9-8-5-15 38-8-16-8-9-8-2-7 0-8 16-8-7-8-8-8 24-7 14-8 4-8-3-8-18-8 2-7 5-8-17-8-2-8 12-7 17-8 22-8-2-8-20-8-22-7-44-16-107-8-39-8-6-7 21-8 38-16 101-8 31-7 3-8-31-8-58-15-138-8-50-8-20-8 15-8 45-15 131-8 52-8 25-8-9-7-43-16-135-8-62-8-37-7-3-8 32-8 59-16 136-7 45-8 14-8-20-8-51-15-132-8-49-8-21-8 14-7 46-16 142-8 60-8 36-7 3-8-30-8-55z"/>
<path transform="matrix(0.25 -0.067848 0 0.25 269.16 691.21)" d="M0-366l8 55 8 30 7-2 8-36 8-61 16-143 7-46 8-14 8 21 8 50 15 134 8 51 8 20 8-14 7-45 16-137 8-59 8-32 7 3 8 37 8 62 16 136 7 42 8 10 8-26 8-53 15-133 8-46 8-15 8 19 7 50 16 136 8 57 8 29 7-5 8-34 16-109 8-42 7-27 8 2 8 33 16 97 7 38 8 16 8 13 8-5 7-30 8-24 8-18 8-5 8 12 7-10 8-6 8 15 8 0 8-6 7-17 8-26 8 8 8 5 8-16 7-1 8 1 8 8 8 15 15-39 8 5 16-15 7-12 8-16 16 35 8-4 15 17 8 15 8 19 8-11 7-9 8 11 8-1 8-3 8-7 7-12 8 12 8 9 8-6 7 3 8 4 8 7 8 8 15-26 8-5 16-30 15-33 8-1 8 2 8-3 8 2 7 0 8-2 8-5 15-35 8-12 8-9 8-3 8 3 7 8 8 14 8 12 8 4 8-2-6-61-8-8-8 7-8 14-15 39-8 14-8 5-8-5-7-13-8-8-16-5-8 7-7 15-8 19-8 21-8 10-8 3-7 10-8 4-8 1-8 4-8 0-7 16-8 20-23 8-8-1-8 4-8-15-8-17-7 8-8 6-16 7-8-6-15 26-8-18-8-14-15-21-8 4-16-36-8 17-7 14-8 8-8 9-8-5-15 38-8-16-8-9-8-1-7 1-8 16-8-7-8-8-8 25-7 15-8 4-8-1-8-17-8 3-7 7-8-15-8 1-8 14-7 20-8 25-8 1-8-17-8-20-7-42-16-103-8-37-8-5-7 24-8 40-16 104-8 32-7 4-8-30-8-57-15-138-8-50-8-20-8 15-8 46-15 131-8 53-8 26-8-10-7-42-16-136-8-62-8-37-7-3-8 32-8 59-16 136-7 46-8 14-8-21-8-50-15-134-8-49-8-21-8 14-7 46-16 142-8 61-8 36-7 3-8-31-8-54z"/>
<path transform="matrix(0.25 -0.067848 0 0.25 270.65 691.90)" d="M0-293l8 55 8 31 7-3 8-36 8-61 16-143 7-46 8-14 8 21 8 51 15 134 8 51 8 21 8-14 7-46 16-137 8-59 8-32 7 3 8 37 8 62 16 136 7 42 8 10 8-26 8-53 15-134 8-46 8-15 8 18 7 50 16 136 8 56 8 28 7-6 8-35 16-112 8-45 7-28 8 0 8 31 16 92 7 36 8 14 8 10 8-9 7-33 8-27 8-22 8-7 8 8 7-12 8-7 8 13 8-2 8-7 7-17 8-27 8 7 8 5 8-18 7-1 8 0 8 8 8 14 15-40 8 6 16-14 7-12 8-16 16 35 8-6 15 15 8 14 8 20 8-10 7-6 8 13 8 1 8-2 8-9 7-16 8 8 8 5 8-8 7 4 8 8 8 14 8 15 8-8 7-12 8-9 8-23 16-54 7-22 8 1 16 20 8 17 7 11 8 2 8-12 8-33 7-37 8-30 8-21 8-2 8 16 7 29 8 39 8 31 8 11 8-9-6-51-8 2-8-3-8-12-8-14-7-8-8-3-8 3-8 9-7 12-16 34-8 6-8 2-7 0-8-2-8 3-8-2-8 0-15 34-16 30-8 5-15 26-8-9-8-6-7-4-8-3-8 6-8-10-8-12-7 13-8 7-8 2-8 1-8-10-7 8-8 11-8-19-8-14-15-18-8 5-16-35-8 16-7 12-16 15-8-6-15 39-8-14-8-9-8-1-7 1-8 17-8-6-8-7-8 26-7 16-8 6-8 1-8-15-8 5-7 10-8-11-8 4-8 19-7 24-8 30-8 5-8-13-8-16-7-38-16-97-8-33-8-2-7 26-8 43-16 109-8 34-7 5-8-30-8-56-15-136-8-50-8-19-8 15-8 46-15 133-8 53-8 25-8-9-7-42-16-137-8-62-8-36-7-3-8 32-8 59-16 136-7 46-8 14-8-21-8-50-15-134-8-50-8-21-8 14-7 46-16 142-8 61-8 36-7 3-8-30-8-55z"/>
<path transform="matrix(0.25 -0.067848 0 0.25 272.14 692.59)" d="M0-232l8 56 8 31 7-3 8-36 8-61 16-143 7-46 8-14 8 21 8 51 15 135 8 51 8 20 8-14 7-46 16-137 8-59 8-32 7 3 8 37 8 62 16 137 7 42 8 9 8-25 8-54 15-134 8-47 8-15 8 18 7 50 16 135 8 56 8 28 7-7 8-36 16-115 8-47 7-30 8-2 8 30 16 88 7 34 8 12 8 7 8-12 7-36 8-31 8-24 8-10 8 6 7-14 8-9 8 12 8-3 8-8 7-19 8-27 8 6 8 4 8-18 7-2 8 0 8 7 8 14 15-40 8 6 16-14 7-12 8-16 16 35 8-6 15 15 8 14 8 20 8-9 7-6 8 13 8 1 8-2 8-9 7-16 8 7 8 6 8-9 7 5 8 8 8 14 8 16 8-7 7-13 8-9 8-24 16-55 7-24 8 1 16 22 8 18 7 12 8 2 8-13 8-34 7-39 8-32 8-22 8-3 8 17 7 32 8 41 8 33 8 12 8-11-6-13-8 10-8-11-8-31-8-39-7-30-8-16-8 3-8 20-7 31-8 37-8 32-8 12-8-1-7-11-8-17-16-21-8 0-7 22-16 54-8 23-8 9-7 12-8 8-8-16-8-13-7-8-8-4-8 8-8-6-8-7-7 15-8 10-8 2-8-1-8-13-7 6-8 9-8-19-8-14-15-15-8 6-16-35-8 16-7 12-16 13-8-5-15 39-8-14-8-7-8-1-7 2-8 17-8-5-8-7-8 27-7 18-8 7-8 2-8-14-8 8-7 12-8-9-8 7-8 22-7 28-8 33-8 8-8-10-8-13-7-36-16-92-8-32-8 1-7 28-8 45-16 112-8 35-7 6-8-29-8-56-15-136-8-49-8-19-8 16-8 46-15 133-8 54-8 25-8-9-7-42-16-137-8-62-8-37-7-3-8 32-8 59-16 137-7 46-8 14-8-20-8-51-15-135-8-50-8-21-8 14-7 46-16 143-8 61-8 36-7 2-8-30-8-56z"/>
<path transform="matrix(0.25 -0.067848 0 0.25 273.63 693.28)" d="M0-194l8 56 8 31 7-3 8-36 8-62 16-143 7-46 8-14 8 22 8 50 15 136 8 51 8 20 8-14 7-46 16-138 8-59 8-32 7 3 8 37 8 62 16 137 7 43 8 9 8-26 8-54 15-135 8-46 8-16 8 18 7 49 16 135 8 55 8 28 7-8 8-36 16-118 8-48 7-32 8-4 8 28 16 86 7 32 8 10 8 4 8-14 7-39 8-33 8-28 8-12 8 4 7-15 8-10 8 11 8-4 8-10 7-19 8-29 8 5 8 4 8-19 7-3 8 0 8 8 8 14 15-39 8 5 16-15 7-12 8-16 16 36 8-5 15 18 8 15 8 20 8-10 7-8 8 12 8-1 8-1 8-8 7-13 8 12 8 10 8-6 7 4 8 5 8 9 8 11 15-25 8-5 8-17 23-56 8 0 8 4 8 0 8 5 7 3 8-2 8-7 15-44 8-16 8-13 8-3 8 6 7 13 8 20 8 17 8 5 8-4-6 28-8 10-8-12-8-33-8-41-7-31-8-17-8 3-8 21-7 32-8 40-8 34-8 12-8-1-7-12-8-18-16-22-8-1-7 23-16 56-8 24-8 9-7 13-8 7-8-16-8-14-7-9-8-4-8 8-8-5-8-8-7 16-8 10-8 2-8-1-8-14-7 6-8 9-8-19-8-14-15-15-8 6-16-35-8 16-7 11-16 14-8-5-15 40-8-14-8-8-8 0-7 3-8 18-8-5-8-6-8 28-7 19-8 8-8 3-8-12-8 9-7 14-8-7-8 10-8 25-7 31-8 36-8 11-8-7-8-12-7-33-16-89-8-29-8 2-7 30-8 47-16 115-8 35-7 7-8-28-8-55-15-136-8-49-8-19-8 16-8 47-15 134-8 53-8 26-8-9-7-42-16-137-8-62-8-38-7-3-8 33-8 59-16 137-7 46-8 14-8-21-8-51-15-135-8-50-8-22-8 14-7 47-16 142-8 62-8 36-7 3-8-31-8-56z"/>
<path transform="matrix(0.25 -0.067848 0 0.25 275.12 693.97)" d="M0-190l8 56 8 31 7-3 8-36 8-62 16-144 7-46 8-14 8 22 8 51 15 135 8 51 8 21 8-14 7-46 16-139 8-59 8-32 7 3 8 37 8 62 16 138 7 42 8 9 8-26 8-54 15-135 8-47 8-16 8 18 7 49 16 136 8 55 8 27 7-7 8-37 16-119 8-48 7-33 8-4 8 28 16 85 7 32 8 10 8 4 8-15 7-39 8-35 8-29 8-13 8 3 7-15 8-10 8 11 8-4 8-10 7-19 8-29 8 4 8 3 8-19 7-3 8 1 8 8 8 15 15-39 8 5 16-16 7-13 8-17 16 38 8-3 7 10 8 11 8 16 8 20 15-22 8 9 16-4 8-5 7-8 8 18 8 15 8-4 7 4 16 2 8 3 8-18 7-15 8-1 16-10 8-8 7-12 8-1 8-6 8-17 15-25 8-6 8 1 8-3 7 2 8 7 8 1 8-4 8-11 7-14 8-11 8-8 8-4 8 5-6 45-8 4-8-6-8-16-8-21-7-13-8-6-8 4-8 12-7 17-16 44-8 7-8 1-7-3-8-5-8 1-8-4-8-1-23 57-8 16-8 6-15 25-8-11-8-9-7-5-8-4-8 6-8-10-8-12-7 13-8 7-8 2-8 0-8-12-7 8-8 11-8-20-8-15-15-18-8 4-16-36-8 17-7 12-16 15-8-6-15 40-8-14-8-8-8 0-7 3-8 18-8-3-8-5-8 28-7 20-8 9-8 4-8-11-8 10-7 16-8-4-8 12-8 28-7 33-8 39-8 14-8-5-8-10-7-32-16-85-8-28-8 4-7 32-8 48-16 117-8 37-7 7-8-27-8-55-15-135-8-49-8-19-8 16-8 47-15 135-8 53-8 26-8-9-7-42-16-137-8-62-8-37-7-3-8 32-8 59-16 138-7 46-8 14-8-21-8-51-15-135-8-51-8-21-8 14-7 46-16 143-8 62-8 36-7 3-8-32-8-56z"/>
<path transform="matrix(0.25 -0.067848 0 0.25 276.61 694.66)" d="M0-221l8 56 8 31 7-3 8-36 8-62 16-144 7-47 8-14 8 22 8 51 15 136 8 51 8 21 8-14 7-47 16-138 8-60 8-32 7 3 8 37 8 63 16 137 7 42 8 10 8-26 8-55 15-134 8-48 8-16 8 19 7 49 16 136 8 56 8 28 7-7 8-37 16-118 8-49 7-31 8-4 8 29 16 87 7 34 8 11 8 6 8-14 7-40 8-34 8-28 8-13 8 5 7-15 8-9 8 12 8-3 8-9 7-19 8-29 8 4 8 4 8-19 7-3 8 1 8 9 8 15 15-38 8 6 8-9 8-8 7-14 8-17 16 39 8-2 15 25 8 17 8 19 15-25 8 7 8-3 8-2 8-3 7-5 8 22 8 19 8-1 7 3 24-9 8-22 7-16 8 3 8 2 8 4 8 1 7-6 8-2 8-14 16-56 7-21 8-9 8 7 8 10 7 19 8 24 8 11 8-4 8-22 15-69 8-26 8-11 8 12-6 31-8-5-8 4-8 8-8 10-7 15-8 10-8 4-8-1-7-7-8-1-8 3-8-1-8 6-15 24-8 18-8 6-8 1-7 12-8 7-16 11-8 0-7 15-8 18-8-2-15-3-8-3-8 3-8-15-8-18-7 8-8 6-16 3-8-9-15 23-8-20-8-16-8-11-7-11-8 3-16-37-8 17-7 13-16 16-8-6-15 39-8-15-8-8-8 0-7 3-8 19-8-3-8-5-8 29-7 20-8 9-8 4-8-11-8 10-7 16-8-3-8 13-8 29-7 34-8 40-8 15-8-4-8-10-7-32-16-86-8-27-8 4-7 32-8 49-16 119-8 37-7 7-8-27-8-56-16-135-7-49-8-18-8 16-8 47-15 134-8 55-8 26-8-10-7-42-16-137-8-62-8-38-7-3-8 33-8 59-16 138-7 47-8 14-8-21-8-51-15-136-8-51-8-21-8 14-7 46-16 144-8 62-8 36-7 3-8-32-8-56z"/>
<path transform="matrix(0.25 -0.067848 0 0.25 278.10 695.35)" d="M0-278l8 57 8 31 7-3 8-36 8-63 16-144 7-46 8-14 8 21 8 51 15 137 8 51 8 21 8-15 7-46 16-139 8-60 8-32 7 3 8 37 8 63 16 137 7 43 8 9 8-26 8-54 15-135 8-47 8-16 8 19 7 50 16 138 8 56 8 29 7-6 8-36 16-116 8-47 7-30 8-1 8 31 16 94 7 37 8 15 8 9 8-11 7-36 8-32 8-25 8-10 8 7 7-12 8-7 8 15 8-1 8-7 7-18 8-27 8 5 8 4 8-18 7-2 8 1 8 9 8 16 15-38 8 6 8-8 8-8 7-14 8-17 16 39 8-2 15 25 8 16 8 20 15-26 8 8 8-4 8-1 8-4 7-5 8 23 8 19 8-1 7 3 8-3 16-7 8-23 7-16 8 3 8 1 8 5 8 1 7-7 8-2 8-14 16-58 7-22 8-9 8 6 8 11 7 20 8 24 8 11 8-5 8-23 15-71 8-27 8-12 8 13-6-8-8-12-8 11-8 26-15 68-8 22-8 5-8-11-7-24-8-19-8-11-8-6-8 8-7 22-16 56-8 13-8 2-7 7-8-1-8-5-8-1-8-3-7 15-8 23-23 9-8-3-8 1-8-19-8-22-7 5-8 3-8 2-8 3-8-8-15 26-8-20-8-17-15-24-8 1-16-38-8 17-7 13-8 9-8 8-8-5-15 38-8-16-8-8-8-1-7 3-8 18-8-3-8-4-8 28-7 20-8 8-8 3-8-12-8 10-7 14-8-4-8 13-8 28-7 34-8 39-8 14-8-5-8-11-7-34-16-88-8-28-8 3-7 32-8 49-16 118-8 36-7 7-8-27-8-56-16-136-7-49-8-19-8 16-8 47-15 135-8 54-8 26-8-9-7-42-16-138-8-62-8-37-7-3-8 32-8 59-16 139-7 46-8 15-8-21-8-51-15-136-8-51-8-22-8 14-7 47-16 143-8 63-8 36-7 3-8-31-8-57z"/>
</g>
<path d="M90.40 418.10L90.40 608.50L278.10 695.35L523.50 628.75M278.10 695.35L284.00 698.08M400.80 662.05L406.70 664.78M523.50 628.75L529.40 631.48M278.10 695.35L271.83 697.05M184.25 651.92L177.98 653.63M90.40 608.50L84.13 610.20M90.40 604.04L84.50 601.31M90.40 557.55L84.50 554.82M90.40 511.07L84.50 508.34M90.40 464.58L84.50 461.85" stroke="#505050" stroke-width="0.8" fill="none"/><g><text x="288.6" y="714.0">-5</text><text x="411.3" y="680.6">0</text><text x="534.0" y="647.4">5</text><text text-anchor="end" x="267.1" y="712.1">-5</text><text text-anchor="end" x="173.2" y="668.7">0</text><text text-anchor="end" x="79.4" y="625.3">5</text><text text-anchor="end" x="78.4" y="605.2">-2000</text><text text-anchor="end" x="78.4" y="558.8">-1500</text><text text-anchor="end" x="78.4" y="512.3">-1000</text><text text-anchor="end" x="78.4" y="465.8">-500</text></g>
<g transform="translate(964.10 697.50) scale(0.2)"><g fill="none" stroke-width="3">
<path stroke="#484bef" d="M-489-226l1 1M-351-369l-9-1-6-6 15 3zM-634-320l-11 0 4-3 17-3 2 3zM-766-417l-10 1-10-4 2-5 11 2z"/>
<path stroke="#2f81fa" d="M-201-264l-46-6-1-7-13-3 1-2 14-3 7-5 11 1 10 4 29-1 6 5-5 14zM-248-277l16-4-11-2zM-402-239l-15 1 6-6 25-2-2 4zM-270-305l2-8 13 4 0 2zM-518-239l11-4 28 1 3 7 23 0 5 6-1 4-15 11M-517-248l-15 0-16-9 3-4 10 0 11 4zM-305-339l-19 0 4-7 16 2zM-323-347l-13-2-1-5 22-1zM-344-357l-53-6-27 5-9 5-15 0-5-9 22 1 10-5 17-1 5-7-1-6 12-6 16-2 54 6-4 8 10 5-19 9zM-594-301l-35-8-19 3-24-7-6-5 19-19-16-10-13-3 0-4 21-2-4 8 13 4 5 5 21 2 15-2 31 5 7-5 21 0 8-5 13 1 5 7-20 0-36 10-4 8-11 4-1 3zM-385-394l-9-1 1-3zM-407-404l-4-1 5-1zM-483-457l-11-1-9-4-24 3-7-2-6-5 3-7 11-4 2-8 18 3 9 4 21 1-6 9 6 5zM-584-450l-12-1-6-7 22 1 10-4 25-4-13 9-18 1zM-874-404l54-11 3-3-8-5 0-3 28-12-26 1 2-8-12-3 0-9 33 0-9 9 16 3 3 6 52 8 28-5 9-5 16 1 6 5 0 5-23-2-9 4-18 1-5 7 5 5-17 12 15 3-1 7 16 2-3 5-20 2 2-8-12-4-6-5-13-3-21-1-12-4-23 1-27 6-9 5"/>
<path stroke="#17aeda" d="M510-138l2-4 9 1M599-182l-20 0-11-5 13-3 15 1zM649-231l8-5 9 0-1 3zM466-208l-25-1-10-6 29 1zM523-253l-13-2-9-5 1-3 24-4 8 5-1 4zM589-304l-7-3 8-5 13 4zM316-232l-17-1-5-5 2-3 18-2-2 0 7 5zM273-243l-7-1 5-2zM388-280l-15 0-12-4 7-5 22-3 12 10zM187-256l-31 0-15-9-12-4 10-3 8 5 43-5 4 11zM467-333l-16 1-7-2 13-4zM237-304l-4 0 0-2 5-7 6-1 8 5zM103-295l-12 2 5-4 9 0zM-230-232l-4 0 5-2zM-159-253l3 0zM-77-287l-7 0-3-5 12 3zM14-309l-24-5 4-4 8 1 9 4zM-2-343l6-2zM25-349l-12 1-7-5-26 1-11-4 9-5 46 3zM-67-328l-13-1 11-3zM-175-306l-12-5 10 1zM-149-312l-19 0 1-8-28-4 3 11-17-2 0-6 23-8 22 2 0 7 21 1zM-43-344l-9 0 3-3 7 0zM-325-277l15-1 5-4-14 0zM-293-285l6-1-6-2zM-479-248l18-1 2-5-17-2zM-335-288l6 1 3-3-9 0zM-296-326l-20-1-7-5-24 0-32-19-38 5-5 6 19 1 8-5 11 1 4 6-19 0-11 4-10 0-5-6-33-7-37-1 18-12-7-5 4-2 5-7 21 1 7-5 31-6-27-13-3-6 10-6 4-7 11-4 10 1 9 4 25 0 13 3 21 15 14 1 10-4 24 2 6-6 38 8 9 0-14 10 15 4-10 4-20 0-4 7-22-1 2 11 28 6-2 14-13 3-2 8zM-239-353l-13 2 7-5 13-3 8 0 0 4zM-574-265l7-6 13-3 68 5 34-8 10 5 1 5-37 1-10 5 11 5 7-6 13 1 6 5 18 2 3-8 31 6 17-1 33 6-6-4 2-7 12-4 5-6 8-4-14-3-16-9-3-4 9-5 19-1 25-6 6-6-2-2 14-2 0-6-6-6 12-3 43 9 19 2 8 4-2 7 4 7 19 4 14-3 7-5 46-6 8-5 24 2 8-6 15 1 12 4 6-7 15-2 9 0 7 12 5 6 32-2-8 4-4 6 29-1 11-3 8-8 17-1-8-9-31-6-2-5 44-15 7 0 6 6 29-5 11 1 8 8-30 13-6 6-15 3-4 3 8 7-12 4-7 6 17 2-6 12-7-1 0-7-10 0-4 7-17 1-24 7-4-2 0-11-18-2-7-5-20-8-28 2-22-2-5 7-13 3-6 6-18 10-13 3-7 6 9 6 16 3-33 14-15 2-32-1-21-8-6-6-51 0-8 6-28 4-3-1 0-5-28 1-11 4-3 8-10 4-4 5 1 3-20-1-11 4-23-1-3 3 2 5 25 16-12 8M-407-323l8-5 20-3-13 6zM-489-307l-11 2-9-4-4-9 26 10zM-522-304l-9 1-6-5-13-4 0-5 12 2 21 8zM-176-405l-3-1 6-1zM-646-298l2-2-6 0M-332-405l13-4zM-480-375l-9-2-2-3 11-4 16 1-5 4zM-454-389l-21-1-10 4-19 0 6-6 18-1 10-4 18 4zM-708-327l13-3-1-4-11-4-5-6-15-1-4 7 15 2-3 4M-605-360l-24-6 5-3 8-1 11 4zM-746-345l15-2 18-9 2-2-14-3 15-3 2-8-71-8-3-7-15 1-23 7M-510-424l-7 0-11-4 0-5 24 5zM-685-406l20-12-32 6-1 3zM-417-479l8 2-3-3zM-814-376l25-2-17 6M-790-391l4 1-7-7-10-1-9 5-21-1-2 8 18-1 9-4zM-575-477l8-1 1-2-8-1zM-748-444l4-1-25-9zM-731-449l11-1 2-2-8 0zM-588-487l1-1zM-843-425l-4-6-13-2 2 5zM-896-414l8-5 18-1 3-5-16-1-7 6-13-3-13-10 4-6 44-7 0-7M-889-433l11-3zM-599-512l14-1 4-4-11 1zM-743-478l-3-1zM-809-469l9 5 10 0 57-10 16 1 13 10 1 7 10 4 12 2 10-4 9 1 6 5 18 0 2-6-3-3 8-5 3-7-10-5-3-6-14-3 7-5 11-4 41-8-1-6-4-5-10-5-15-2M-666-507l-3 0M-640-515l-8 3M-547-540l-2 8-7 8 10 5 44 8 9-4 12-1 1 6-22-1 2 7 16 2-8 9 31 1 26-6 13 0 8 5 19 2-1 7 4 6-51 12 2 8 11 4 6 5 12 3-13 11-4 12-31-6-15 3-23-3 2-7-16-3-6-5-15 0-11 4 0 9-6 2 12 4-1 5-12-2-5-5-13-4 0-3 11-6-21 2-49-4-13 2-11 4 12 4-12 5-4 6 14 3 2 6-10 3 22 1-7 7-17 1-10 4-30-4 6 8-10 10-3 5-8 5 27 6 19-2 25 4-1 7 16 2 7 5 14 1 15-2-5-5 1-6 4-2-11-4 1-6 13 2 4 6 13 3-1 3-17 9 30-4 41 5 12 4-3 6-9 5-1 8-8 5-48 5-2 4 13 3-3 8 22 1-11 10 5 3-15 2 4 3-5 6-40-1M-495-554l-11 5-15 2-6 7-15-1M293-764l-7-2"/>
<path stroke="#34c79c" d="M487-132l-4-6-25-7-2-4 16-2 25 3 16-2-2-3 4-5 39 1-1 7M599-163l-1-2 16-2M621-172l-14 0-7-5-7 1-5 7-39 6 2-5-13-6 10-9-22-8-6-5 1-4 19 0 13-4 20 1 52-8-5 3 5 11-8 5 0 4 12 2 14-2 0 6 3 4-10 4zM766-208l-17-2-14-8 31-4 7 5 4 0 14-2 20-9 8-1-1 7M843-240l-8 0 0-4 12 0zM859-251l-11 0-4-7 23-7 8 0 4 6-5 6zM690-221l-14-4-14 0-11 7-16 4-13-3-3-6 8-9-27-7-6-5 2-3 20-3 14 3 24 0 21-8 10 0 8 5-12 17 27 0-1 11zM429-153l-30-4-26 1-14-3-6-6-1-5 17-1 16-11 14-2 11 4 4 6-10 9 4 2-2 5 27-1zM527-179l-10-3 1-2 6 0zM507-198l-32 0-15-3-5 2 0 4-31 4-13-3-8-7 10-4 0-4-10-4-18-2-1-4 5-6 39-9 16 3 21-4 16 1 14 3-12 17 11 1 11-4 9 2-12 6 6 9zM766-276l-7-3zM713-264l-15-1 1-6 8-5-2-5-15-3-8-4 7-5 27 2 30-1 1 7 6 3-23 7-16 2 3 3zM335-169l-10-2 0-3 12 0zM543-235l-5 0-3-4 11 1zM560-245l-27-4-11 4-7 6-16 0-18-2-14-10-21-2 15-3 11 4 14-1 0-3-10-4-17-2-2-4-1-2 6-4 13-4 42 2 3-7 35 0 6 5 0 4-11 6 8 5 20 1 1 6-5 6zM754-300l-6 1zM267-182l-40-4-6-5 0-4 14-2 3-8 34-6-2 3 2 3 1 7-16 2zM422-225l8 1 8-5-17 1zM629-294l-5 1-8-5-15 0-11 4-6 6-27-1-9-4-1-3 5-7 1-5-21-1 0-12 25-2 10 4 8 0 17-1 8-6 21-1 8 5-11 5 3 11 26 0-6 8zM199-196l-5-1 5-1zM224-212l-3 1zM409-261l-5 0-2-3 8 1zM271-232l5-1zM387-262l-31 0-13-3-7-5 1-6 7-3-15-1-6 6-15-2 1-4 15-2-4-4-2-7-7-4 44-7 4-7 11 5-11 4 2 4 20-3 7-6 17-1 11 2 9 5 2 3-5 7 0 5 21 1 0 13-31 2-11-4-11 4 1 6zM674-354l-7 1-10-4 3-4 10 0zM497-319l-42-2-3 8-35 0-5-5-1-5 12-5-6-5-21-2-1-6 6-5 14-2 16 4 31 0-3-8 3-2 20 3 10 4-9 3 1 6 27 7 2 6zM-328-151l43-6 14 3-18 3-6 4 12 4-2 2-15 2 2-7-18 0M86-264l9 2-4-4-9-4-6 2zM175-288l17-1 3-5-30 1 0-7-23-3-14 2 12 6 25 2zM281-317l11 2-2-5-8 1zM520-381l-6-2 10 0zM-99-221l11 0 9-4-9-6 7-9-35-3 0 6 16 2-4 9zM-181-206l13 2 17-10-29-5-8-5-19 3-13 5 6 6 28-1zM-131-226l14 1-1-5-4-5-14 1-9 5zM-166-223l15 0 5-6-15 2zM-27-261l8 0 7-4-16 0zM-325-186l-2-1zM258-349l-10 0 3-3 12-2zM-394-182l66 3 25-6 15 2 3 13 4 4-40 9-8 5M-62-279l4 0zM-327-221l22-1-1-5-14-2zM223-374l-12 0 2-4 12 0zM-331-234l14-3zM164-374l-9 2 8-3 10-13 18-1 6 5-6 4zM-389-266l9 0 7-4-14 1zM-103-344l2 0-8-5-1-8 5-7-33 2-15-3-12 1-14 3-10 13 4 6 12 1 17-2 1 2-1 5 25-3 8-6zM-409-274l11 0 13-3-1-4-13-3 16-10 4-16-19-2-6-5-28 1-10-5-9-11-12-4-12 0-18 9 19 2 2 6 14 3 1 6-14 2-6 4 11 4-2 3-9 5-16 1-2 6 14 0 10-5 34 7 12-3 24 3zM31-400l-6 1 2-2 6 0zM55-406l-5 0-9-4 5-2zM-368-306l14-1 5-4-6-6-21 0-3 7zM-343-313l16 0 5-6-25-3-7 5zM-514-280l6 0 3-3-5-5-16 0 2 4zM-71-401l7 3-3-4zM-105-398l7-2-16-3zM-524-360l13-2 4-3-27-13 3-2-1-10 10-4-2-14-24-1-12-3-38 1-1 8-12 4 0 9-46 6-9 5 6 2 16-1 26-7 68 4 14 10 3 6zM-490-369l2-1zM-507-406l29-4 5-5-16 0zM-272-467l-10 0-6-5 2-2 14-2 23 0zM475-680l-34-4-50-14-74-14-61-18-57-12M-768-355l15-2 12-3 1-3-21-7-6 7-18 0M-604-421l8 2-10-8-10-2 1 4zM-741-487l26 0 27 7-3-7 4-8-8-4M-382-585l-2 3 5 11-13 3-3 8-20 5-16-2-25 4-3 3 1 5-11 5 9 4 26 7 24 0-9 9 13 4 4 6 28 4 4-7 19 0 6-6-53-13 20-3 0-9 29 5 10-4 7 0 1 3-16 2-3 7 17 2-3 5-7 5 35-1 37 8 6-6 28-3-15 9-18 0-12 11-6 8-1 7 4 4-20-6-13-1-11 4-22-1-7 12 11 4 1 6 18 3-2 2-14 3-1 9-7 5-38 10 8 6 8 1 6-6 21 1 9-5 15 0 8 4 13 4 12-4 16 3 14 17 13 0 38-9 1-5-20-9-20-1 13-6 20-3 17 2 0 14 8 5 22-5 22 1 1-8-4-6 2-5 22-2 27 7 19 1 37 11 2 6-12 10 0 7 16 2 14-3 6 5 17 3 2 4-15 3-4 4 21 1-3 1 5 6 41 9 8 12 5 0 8-5 68 4 15-11 13 3-2 3-10 4 2 9 19 2 9 4-1 14 13 4 24-3 6-6 15 4 30-1 0-9 15-10-4-3 11-5-16 3-17-1 9-12 45 3 21-9 10 1 1 4-12 4 2 2 7 5 28 6 7 5-1 2-19 3-14-3-20 2-19 9-20 1 1 4 6 5 19 9-6 8 11 6-5 6-9 5-23-2-1 6 4 5-44-2-13 2 1 3 16 2 8 5 4 6-9 9 7 5 13-2 27-9 15 3 43 2 12 11 6 12 9 4-2 8 2 3-19 1-24-3-6 5 11 3-1 3-19-4-48 0-3-7-21-1-10-4-4-6 14-2 0-2-8-5-7 0-13 3-6 6-34 1-12-4-12 3-6 9 21-2 6 3-21 8-20 0 0 2 12 3-4 8-61-4-3-6-16-2-5-6-1-4 20 0 2-2-14-10 1-2 18-1 10-4 13 3 3 4-1 2 19-5-8-5-29-6-3-5 2-1-28-2-13 3-10-1-8-5-14 0-16 8 5 6-8 5 0 4 12 1 9-4 0-3 5-4 22-3-5 11-14 2-8 5 1 3-4 5-33 3-10 4-48 5-4 3 12 3-2 6-12 5 12 11 10 4-2 1-10 2-9-5-37 4-3-6-9-5-17-2-15-7-36 0-11-4 7 5-5 5-18 2 5-8 10-4-15 2-8-2-1-7-23 0-19-5-23-2-36 10-4 5 4 4-10-2-14 0-6 6-13 3-16 11"/>
<path stroke="#a6c83d" d="M379-103l-36 3-12-4-47-1-5-12-23-7 12-4 14 3 11-1 10-4 5-7 17-1-2-12-22-1-2-8 6-6-9-5-10 5-17 3-34-5-34 2 1-2-9-9-30-6-5-5-62-4-18 2-11 4-3 8-13 3-16-1-7-5-8 0-7 5 22 7-5 2-11-4-36 0-24-2-9 5-30 4-38 1-16 10-25 7-7 5-27-3-46 15-33 2M401-109l10-7 19-1M451-122l-15-3-6-5 2-15-25 9-15 2-9-4-32 3 2 5 9 4 19 2 2 4-13 3-1 3 4 6 11 4M674-190l35-5 0-4-7-5-19-2-12 3-3 7zM860-233l-15 4M1003-272l0-3 13-1M1025-278l-14-3-2-9 9-4 25-3 10 4 8 0 12-3-1-2 8-4 25 2M1183-321l-29-1-26 9-18-2 12-13-1-4-27-6 0-2 8 0 6 5 40-4 20 8 6 5 23 1M349-115l7 1 1-4-11-3-6 1zM706-212l5 0 0-2-7-1zM799-237l12 0 2-4-23-1-3-6-12-6 11-4 3-4-18-3-5 7-12 3-18 1 4 11-2 2zM1054-305l-5 0zM453-157l7-2-7-1zM734-234l8 1 3-4-11 0zM463-167l26-3 6-6-2-6-11 0-12 3-7 5zM888-282l1-7-5-4 15-6-10-1-9 5-18-1 18-17-14-5-16 0-24 7-7 5-25-2-17 1-2 7 18 2 8 5-3 8 2 6 15 3 18-5 9-5 9 0 11 4zM289-136l-9-2 6-2zM709-254l12 2-1-5-11 0zM1058-348l-4 0zM546-217l29-3-11-9-27 0-1 8zM987-336l-12-4 9-6 7-15 18-1 12 2 17 12-22-1-13 2zM564-236l13-3zM668-264l9 1-8-4zM648-265l7 1 1-4-10-4-10-10 16-2-2-3-10-2-6 6-13 3-30 3-6-6-8 1-2 2 26 7 3 6-1 6-4 2 33-7zM322-184l2 0zM799-313l5-1zM195-153l-10 0 1-4 10 1zM330-193l12 0 16-7-3-6-19 1-5 5zM732-309l20-1-1-4-26-7-2-6 2-4 8-5-6-6-20 3-18 10-13 2-6 1-9-5-14 0-3 5 27 6-2 8-6 6 0 2 23 0 0-9zM411-242l15-2 8-6-3-5-26 1-3 7zM858-369l-11 1 7-3 5 0zM434-262l9-1-4-2zM524-287l6-1-5-6-16-3-3-6 10-9-20 1-8 6-17 1-27-4-1 2 5 5 16 3 2 6-9 10 20-2 7-5 18-1zM876-378l-12-1 3-3 8 0zM-222-111l-10 2zM598-334l8-2-27-14 1-3 8-5 4-9-19 2-17 10-13 3-11 1-2-6-14 1-9 5 28 6 6 10-14 3 2 3 7 1 20-9 28 0zM-228-123l-5-3 17-1zM-271-125l22 7 5 5M277-275l9 2-2-4-6 0zM391-313l5-1-8-2zM353-316l13-1 2-3-4-6-20-1-10 4 4 4zM-237-170l7 1 3-3-9 0zM464-360l3 0 0-8-26 1 6-11 12-8-3-6-17 1-6 6-11 4-14 3-20-1 2 5 17 9zM397-355l17-5zM595-427l-15-6 25 0 5 4zM347-404l7-2-8-1zM460-454l-5 0 0-2 5 1zM258-403l-10-2 1-2 11-1zM285-408l-30-5 14-4 11 4zM294-422l-16-4 2-3 4 1 10 4zM261-428l-20-2 5-5 12 0zM-431-296l19-2 11-6-30-3-8 6zM641-604l-12 0-22-8-99-1-8-5-30-5-4-6-39-2-54-6-8-6-15-3-33-11-60-12-72-21-108-19M-577-394l17 1 2-6-16-1zM-269-615l9 4-3 8 12 3-2 6-10 5 2 6-3 2-2 6 16 3 27 13 0 7 15 10 23 7 22 1 0 7 10 6-11 5 2 3 21 8 5 5-4 3 8 10 1 4-7 5 3 5 51 7 5 6 12-3 15 2 13 10 23 1 7 5 31 5 19 9 37 4 5 5 31 6-10 5 1 4 8 5 15 2 15-2 22-8 16 3 25-2 25-15 14 0 0 7-20 8-1 4 38 10 8 5 19 2 15-3 6-6 3-7 13-3 3-8 10-4 44 2 21-8 18 8-1 7 28 6 7 5 28 2 8-6 10-2-6 4 12 6 4-5-3-4 7 3 34-3 13 3 14 10 22 1-9 6 4 9 29-1 15 5 3-3-11-3 5-4 19 4 44 2 6 7-8 7 27-1-3 2 2 6 8 4 65 6 8-5 13-3 16 2 6 8-11 4 2 3 18 2 16 9 16 3 29-1 10 4 11 0 20-8 20 1-2 14 25 7 9 5-3 4-32 4-23 7-36 1-1 3 5 5 27 7-8 9 6 5"/>
<path stroke="#fec239" d="M-1 0l2 0M104-28l17-6 17-10 22 1M185-50l-27-7 2-4 6-6-1-5-37-4-18 10-28-4-18 1 0 9-3 7-7 4 29 6-2 7 10 6-34 1-15-3-13 0-22 8-15-1-3-7 13-3-5-6-27-6-5-5 21-8 13-2 8 5 12 3 18-10 14-2 4-16 12-4 5-7 41-6 12 3 17 0 1-9 22 1 9 2 11 8-17 1 3 5 8 5 15-4 0-3 9-5 16-2 1-4-3-6-37-4-12-3-6-6-14-3-10-18-13-3-17-9-52-1-28 2-41 11-2 8-10 4 4 11-11 13-10 5-5 6-16 2-1 6 3 4-13 3-8 5 19 0 7-6 15 2-11 9 4 11-10 4-18 1-15 11M-29-13l6-1 8 4 0 3M241-93l5-1-6-2zM1041-317l6-2zM18-64l-14 1 4-5 8 2zM1117-365l-3-2zM-26-93l-7-3zM-86-94l-6-5-23-7-4-3-1-3-28-2-13 4-6 6 2 11 7 2 9-5 30 5 12-3zM970-387l18-2 6-5-9-4-38-1 12 8zM919-401l10 2 13-2-3-5-7 0-15 2zM945-415l8 0 0-2-12-3zM478-295l15 1 2-5-15-1zM846-509l-24-3-11-4-90 12-11 4-2 8-10 4-5 16-13 3-14 12-13 3 3 8 17 2 2 9-2 5 20 1 42 9 22 1 12 11 21 1 18 9 24 0 11-4 39 0 28-6-1-4 3-3 14-3 12-12 16-2 24 2 9-5 14-3M566-463l13-4 2-3-4-3-22 1-2 5zM588-483l2 0zM675-507l2 0-9-5-4 0zM617-505l6-1zM359-441l11-3-7-6-13 0-1 4zM626-514l18 2 2-7-18-1zM378-460l7-1-4-2zM466-484l7-2-23-8 2-8 5-8-23-1 2 7-2 3-38-6-10-4-22-1-1-4 7-6-1-5-8-5-12-3-2-6 19-10-2-2 4-6 12-3-9-7-30-2-17 10-19-4-27 1-12-4-6-5-15-3-8-4 0-7-9-5-15-2-21 8-35 2-7 6-29 4-24-2-32 3-9 5-18 0-6-5-8-1-15 2-8 6 2 1-5 6-7 4 12 4 5 5 1 10-14 3-5 6 12 6-32-1-7-5-14 0-12 3 3 4 21 8 4 5 14 10 23 1 16 9 17 3 4 6 10 4 72 7 25 8 21 1 24 6 29-4 39 0 16-2 11-4 5-7 13-2 11-13 13-3 30 5 12-4 31-1 1 6 7 5 21-9 14-3 13-1zM489-539l19 0-3-4-7-1zM268-560l-3-1 13-3zM-26-516l-5 1 3-2 5 0zM-44-532l19-1 2-4-10 0zM134-594l39-10-13-4 2-14-12-24-6-6-34-11-53-6-40 2-40 8-18 10-9 9-2 14 6 12 21 8 16 3 15 16 22 6 13-3 20 0 12-3 20 0z"/>
</g></g>
<g fill="url(#g4)" stroke="url(#g4)" stroke-width="2.4" stroke-linejoin="round">
<path transform="matrix(0.25 -0.067848 0 0.25 777.91 611.50)" d="M0-375l8 65 8 52 8-31 8 4 8-25 8-37 7 55 8 44 8-12 8 39 8-33 8-22 8 12 8-78 8-11 8 10 8-12 8 29 7-17 8-76 8-14 8-17 8-34 8 52 8 0 8 22 8 52 8-17 8 16 7 8 8-15 8 35 8 39-6 16-8-44-8-16-8 33-7-15-16-9-8-75-8-9-8-33-8-56-8 22-8 12-8 24-8 54-8 11-7-8-8 26-8-24-8 34-8 62-8-7-8 52-8-14-8-49-8 9-8-41-8-49-7 21-8 6-8 15-8 52-8-67-8-37zM427-405l8-4 8-28 8-9 8 5 8-7 16-6 8-22 8-12 16-34 7-2 8-11 16-15 8-13 8-6 8-5 8-11 8-3 8 3 8-1 8 2 7-2 8-5 16-3 16-6 24-5-6 5-8 2-8-1-16 1-16 7-8 0-15 8-16 3-8-1-8 1-16 14-8 4-16 12-8 12-8 9-7 4-24 55-8 23-8 4-8 1-8 8-8-2-8 3-8 18-8 1z"/>
<path transform="matrix(0.25 -0.067848 0 0.25 779.43 612.20)" d="M0-403l8 64 8 30 8-9 8 14 8-2 7 0 8 78 16 50 8 44 8-71 16-49 8-72 8-9 8-11 8-21 7 29 8 0 8-53 8-8 8-41 8 8 8 59 8-17 8 30 8 13 8-27 8 13 7-9 8-34 16 76-6 31-8-39-8-34-8 15-7-9-8-15-8 16-8-52-8-22-8 1-8-53-8 34-8 17-8 14-8 77-8 16-7-28-8 12-8-10-8 10-8 78-8-11-8 21-8 33-8-38-8 12-8-44-8-56-7 38-8 24-8-4-8 31-8-51-8-66zM340-358l8-10 8-35 8-5 16-41 8 34 8 6-6 25-8-11-8-28-24 56-8 23-8-7zM427-412l8-8 8-16 8-1 8-3 8-11 8 3 8-14 8-22 8-9 8-26 8-10 7 1 8-12 16-13 8-13 8-6 8-5 8-11 8-1 16 0 8 3 15-10 8-2 8-5 16-5 8-4 16-1 8-4-6 6-32 7-16 6-16 2-8 5-8 2-7-2-8 2-8-3-8 3-8 11-8 4-8 7-8 13-16 15-8 11-8 2-15 34-8 11-8 22-16 6-8 8-8-5-8 9-8 28-8 3z"/>
<path transform="matrix(0.25 -0.067848 0 0.25 780.94 612.90)" d="M0-375l8 42 8 26 8-11 8 19 8-29 8-10 7 94 8 25 8 41 8 22 8-49 8-6 8-23 8-45 8-5 8-4 8-16 7 26 8-40 8-52 8-6 8-62 8 11 8 39 8 5 8 39 8 12 8-19 8 10 7 5 8-16 8 32 8 3-6-16-16-76-8 34-7 10-8-14-8 27-8-13-8-30-8 17-8-58-8-8-8 41-8 7-8 54-8 0-7-29-8 21-8 11-8 9-8 71-16 50-8 70-8-44-16-50-8-78-7 1-8 1-8-14-8 10-8-30-8-64zM293-333l8-27 8-35 8 14 8 6 7-22 8 7 8 5 8-22 8-2 8-29 8-8 8 23 8-2 8 12 8-5 8-19 7-2 8-8 8-15 8 9 8 4 8-7 8 6 16-32 8-11 8-22 8-11 15-16 8-6 16-28 8-4 8-6 8-4 8 2 8-4 16 6 7-7 24-17 16-5 8-5 16-3 24-10-7 10-15 2-8 4-16 1-8 4-16 4-8 5-8 3-16 10-7-3-16 0-8 1-8 11-8 4-8 7-8 13-16 13-8 12-8-1-7 10-8 26-8 8-8 23-8 14-8-3-8 11-8 3-8 1-8 16-15 14-8 22-8-15-8-10-8-6-8-34-16 41-8 5-8 35-8 9-8-6-7 21-8 2-8-4-8 35-8-2z"/>
<path transform="matrix(0.25 -0.067848 0 0.25 782.45 613.60)" d="M0-382l8 66 8 24 8-17 8 51 8-32 8 0 7 50 8 3 8 57 8-1 8-64 8-20-6 49-8 7-8 49-8-23-8-41-8-24-8-94-7 9-8 29-8-18-8 11-8-26-8-42zM135-293l8 55 15-73 8-28 8-59 8 17 8 24 8 3 8 21 8 2 8-21 8 24 8-11-7-2-7-4-8-10-8 18-8-11-8-40-8-5-8-39-8-11-8 63-8 6-8 52-8 39-7-25zM293-307l8-37 8-45 8-2 8 7 7-19 8 3 8-25 8-17 8 9 8-32 8 1 8 16 8 5 8 20 8 2 8-26 7-8 8-2 8-14 8 5 8-5 8-3 8 4 8-14 8-11 8-13 8-15 15-13 8-10 8-4 8-10 8-16 16-12 8-3 8 1 8-4 16-1 7-4 16-12 8-4 8-1 16-9 8-3 8-6 16-8 8-5-7 9-23 10-16 3-8 6-16 5-24 16-7 8-16-7-8 5-8-2-8 4-8 6-8 4-16 27-8 7-15 15-8 11-8 23-8 11-16 32-8-7-8 7-8-3-8-10-8 15-8 9-7 1-8 20-8 5-8-13-8 2-8-22-8 8-8 29-8 1-8 23-8-5-8-7-7 22-8-7-8-14-8 35-8 27z"/>
<path transform="matrix(0.25 -0.067848 0 0.25 783.97 614.30)" d="M0-372l8 58 8-15 8 6 8 33 8-51 15 97-6-1-8-50-7 1-8 31-8-50-8 16-8-24-8-66zM135-301l7 17 8-52 8 3 8-23 8-46 8 32 8 41 8 19 8 51 8-11 8-42 8 29-6-50-8-23-8 20-8-1-8-22-8-3-8-24-8-16-8 58-8 28-16 74-7-56zM293-307l16-65 8 25 8-6 7-22 8 12 8-47 8-26 8-11 8-37 8-2 8 10 8 5 8 18 8 7 8-18 7 1 8-13 8-5 8 17 8-12 16-1 8-20 16-22 8-20 8-7 7-2 8-10 8 0 8-8 8-13 8-5 8-6 16-3 8-4 16-3 15-9 16-12 8-1 8-4 8-7 32-22 8-4 7-2-6 9-8 0-7 5-16 8-8 6-8 4-16 9-8 1-8 3-16 13-8 3-15 1-8 4-8 0-8 2-16 13-8 16-8 10-8 4-8 10-15 13-8 15-8 13-8 10-8 15-8-4-8 3-8 5-8-6-8 14-8 2-8 9-7 26-8-2-8-21-8-4-8-17-8-1-8 33-8-9-8 17-8 24-8-3-7 20-8-8-8 3-8 44-8 38z"/>
<path transform="matrix(0.25 -0.067848 0 0.25 785.48 615.00)" d="M0-273l8 41 8-66 8 8 8 4 8-43 8 27 7 16-6 37-15-97-8 51-8-32-8-7-8 16-8-58zM135-278l7-8 8-58 8-9 16-70 16 72-6 18-8-42-8-31-8 45-8 23-8-2-8 52-7-18zM293-283l16-88 8 28 8-8 7-3 8-8 8-52 8-12 8-16 8-24 8 2 8-1 8 1 8 26 8-13 8-26 7 2 8-23 8 2 8 11 8-9 8 5 8-1 8-16 16-24 8-14 8-1 7-10 8-8 8 2 8-14 8-10 8-8 8-12 16 5 8-6 8 0 8 2 7-4 8-2 8-6 8-9 8-2 8-6 24-24 8-6 16-11 7-3 8 0-6 12-8-1-8 3-7 3-32 22-8 7-8 4-8 1-16 12-16 10-15 2-8 5-16 3-8 6-8 4-8 13-8 8-8 1-8 10-7 1-8 8-8 20-16 21-8 21-16 0-8 12-8-16-8 5-8 13-7-1-8 17-8-6-8-19-8-5-8-9-8 2-8 37-8 10-8 27-8 47-8-12-7 22-8 5-8-24-16 64z"/>
<path transform="matrix(0.25 -0.067848 0 0.25 787.00 615.69)" d="M0-259l8 35 8-36 8 12 8-11 8-2 7 43 8 13 8 7-6-62-8-31-8-15-7-27-8 43-8-4-8-8-8 65-8-40zM111-328l8 31 8-17 8 15 15-49 8 5 8-21 8-29 8 38 8 13-6-13-16-72-16 69-8 10-8 58-7 8-8-19-8 52-8-37zM293-243l8-47 8-23 8 1 8-34 7 8 8-23 8-57 16-39 8-13 8 18 8 4 8-6 8 26 8-9 15-31 8-26 8 7 8-1 8-7 8-2 8-13 8-15 8-4 8-17 8-11 8 7 7-10 16-6 8-15 8-9 16-22 8 0 8 1 8-1 8 1 8-3 7-2 8 0 8-9 16-9 8-8 8-4 8-9 8-11 24-23 7-5 8-2-6 14-8 1-8 3-15 11-8 6-24 24-8 5-8 3-8 8-8 7-8 1-8 4-7-1-8 0-8 5-16-4-8 12-8 7-8 10-8 15-8-2-8 8-8 10-7 1-8 14-16 23-8 17-8 1-8-6-8 10-8-12-8-1-8 22-8-2-7 27-8 12-8-25-8-2-8 1-8-1-8 24-8 16-8 11-8 53-8 7-8 4-7 8-8-29-16 89z"/>
<path transform="matrix(0.25 -0.067848 0 0.25 788.51 616.39)" d="M0-212l8-6 8-48 8 19 8 4 8-4 7 62 8 25 8 13 8 50 16-73-6-56-8 46-8 24-8-47-8-7-8-13-7-43-8 2-8 11-8-11-8 36-8-36zM111-287l8-10 8-13 8 13 7-34 8-52 8 8 8-21 8-9 8 57 8-4-6 5-8-13-8-37-8 29-8 21-8-6-15 50-8-15-8 17-8-31zM325-329l7 8 8-20 8-47 8-24 16-39 8 14 8-7 8 1 8 13 8-20 8-3 7-13 8-21 8 7 8 3 8-8 8-1 8-12 8-24 8-8 8-16 8-10 8-3 7-10 8-4 24-29 8-11 8-6 8 3 24 3 8-6 15-6 8-7 32-22 32-42 8-8 7-7 8-3 8 2-6 13-8-1-8 2-8 4-23 23-8 12-8 8-8 5-8 7-16 10-8 9-8 0-8 1-7 4-8-2-8 1-8-1-8 0-16 23-8 9-8 15-16 6-8 9-7-6-8 11-8 17-8 4-8 15-8 13-8 1-8 8-8 0-8-6-8 26-15 31-8 8-8-25-8 6-8-4-8-19-8 14-16 39-8 57-8 23-7-9z"/>
<path transform="matrix(0.25 -0.067848 0 0.25 790.02 617.09)" d="M0-171l8 16 8-37 8 5 8-15 8 4 8 70 7-18 8 14 8 24 8-49 8 1-6-19-16 74-8-50-8-13-8-26-7-61-8 4-8-4-8-20-8 48-8 7zM111-247l8 13 8-11 8 15 8-48 7-62 8 5 8-55 8-7 8 29 8-8 8 57 8 17-6 41-16-95-8 3-8-57-8 9-8 21-8-7-8 52-7 34-8-14-8 14-8 10zM309-334l8-15 8-9 7 19 8-12 8-39 8-13 8-27 8-1 8 29 8-22 8 2 8 8 8-21 8-7 7-18 8-24 8 3 8 6 8-8 8 0 16-32 8-6 8-22 16-11 7-14 8-6 8-12 8-17 16-12 8-11 8 1 8 3 16 1 8-5 7-5 16-3 8-6 24-20 8-11 24-38 8-10 7-8 8-4 8 1-6 14-8-3-8 4-8 6-7 9-32 42-32 22-8 7-15 5-8 6-24-3-8-2-8 6-8 11-24 29-8 4-7 10-8 3-8 10-8 15-8 8-8 25-8 12-8 1-8 8-8-4-8-6-8 20-7 14-8 2-8 21-8-14-8 0-8 6-8-13-16 39-8 23-8 47-8 20-7-8-8 19-8-5z"/>
<path transform="matrix(0.25 -0.067848 0 0.25 791.54 617.79)" d="M0-210l8 9 8-1 8 34 8-29 8 34 7 63 8-11 8 32 8-8 8-49 8-3-6-21-8-2-8 50-8-25-8-13-8 17-7-70-8-4-8 15-8-5-8 37-8-15zM135-198l7-70 8-41 8-8 8-49 8 43 8 5 8-18 8 53 8 11-6-35-8-16-8-58-8 9-8-29-8 6-8 56-8-6-8 62-7 48zM301-329l8 11 8-11 8-19 7 13 8-28 8-40 8-10 8-45 8 2 8 28 8-1 8 16 8-5 8-11 8 5 7-14 8-21 8 3 8-9 8-2 8 2 8-35 8-17 8-10 8-22 8-5 8-7 7-11 8-2 8-8 8-17 8-6 8-10 8-7 8-1 8-7 8 2 8 0 8-7 7-2 8-1 8-3 8-1 8-6 8-10 8-7 8-12 16-29 16-26 7-9 8-5 8 1 8 7-6 11-8-7-8-2-8 5-8 7-7 10-24 39-8 11-24 20-8 5-16 4-8 4-7 6-16-2-8-2-8-2-8 11-16 13-8 17-8 11-8 7-8 13-15 12-8 22-8 6-16 32-8 0-8 8-8-7-8-2-8 24-8 18-7 6-8 22-8-9-8-2-8 23-8-30-8 2-8 27-8 12-8 40-8 12-8-19-7 9-8 15-8 7z"/>
<path transform="matrix(0.25 -0.067848 0 0.25 793.05 618.49)" d="M0-215l8-6 8-24 8 11 8-39 16 122 7 13 8 44 8-4 8-9 8-1 8-41 8-35 8 17 8-29 8 1-6-39-8-11-8 2-8-4-16 104-8 3-8 48-8 8-8-32-8 12-7-64-8-33-8 28-8-33-8 1-8-9zM301-342l8 11 8-5 8-11 7 17 8-34 16-53 8-43 8 16 8 6 8 0 8 18 8-9 8-15 8 8 15-22 8 12 8-9 8 2 8-5 8-28 8-19 8-24 8-17 8-6 8-11 7-8 8-2 8-15 8-11 8-5 8-16 16-5 8-8 8 5 8 0 8-6 15-5 8-3 8-2 24-26 16-26 16-31 8-13 7-11 8-6 8 1 8 8 8 12-6 6-8-13-8-7-8 0-8 5-8 9-15 26-16 29-8 11-8 7-8 11-8 5-8 2-8 3-8 0-8 2-7 8-8-1-8-2-8 8-8 0-8 8-8 10-8 6-8 16-8 8-8 2-8 12-7 7-8 4-8 23-8 10-8 16-8 35-8-2-8 3-8 8-8-2-8 20-7 15-8-6-8 11-8 5-8-15-8 1-8-28-8-2-8 45-8 9-8 41-8 28-7-14-8 19-8 11-8-11z"/>
<path transform="matrix(0.25 -0.067848 0 0.25 794.56 619.19)" d="M0-245l8-13 8 13 8 0 8-47 8 61 8 41 7 34 8 45 8-25 8-38 8 18 16-54 8 29 8-24 8 33-6-28-8-1-8 30-8-17-8 34-8 41-8 2-8 9-8 3-8-44-8-12-15-122-8 38-8-11-8 24-8 7zM293-305l8-24 8 12 8-29 8-15 7-2 8-45 8-2 8-23 8-36 16 38 8 11 8 14 8-13 8-22 8 7 7-13 8-8 8-1 8-13 8 9 8-12 8-26 16-35 8-12 8-1 15-18 8-1 16-34 16-23 8-3 8-5 8-1 16 1 8-1 7-4 8-7 16-1 16-17 8-11 16-26 16-34 8-14 7-10 8-6 8 1 8 7 8 13 24 56-6-3-24-53-8-13-8-7-8-1-8 6-8 10-7 13-16 31-16 27-24 26-8 1-8 4-15 5-8 6-8-1-8-4-8 8-16 4-8 16-8 5-8 11-8 15-8 3-7 7-8 11-8 6-8 18-8 24-8 18-8 29-8 4-8-1-8 9-8-13-15 22-8-8-8 15-8 9-8-18-8 0-8-6-8-15-8 43-16 52-8 35-7-17-8 10-8 6-8-12-8 21z"/>
<path transform="matrix(0.25 -0.067848 0 0.25 796.08 619.89)" d="M0-315l8-37 8 42 8-6 8-8 8 85 7 43 8 35 8 53 8-22 8-52 8-5 8-60 8 4 8 15 8-42 8 43-6 50-8-32-8 24-8-30-16 55-8-18-8 37-8 25-8-44-8-34-7-42-8-60-8 46-8 1-8-14-8 14zM301-298l8 15 8-39 8-5 7-17 8-53 8-17 8-27 8-22 8 5 8 6 8 16 8 27 8-19 8-13 8 6 7-17 8 11 8-3 8-23 8 1 8-10 8-27 16-38 8-15 8 4 8-8 7-9 8-5 8-15 24-32 16-1 8-3 8-1 8-2 8-6 7-2 8-6 8-4 8 0 8-4 8-8 16-24 32-61 7-10 8-6 8 1 8 7 8 13 8 17 16 37 24 50 8 14-7-4-7-12-16-34-32-74-8-13-8-8-8 0-8 5-8 11-7 14-16 33-16 27-8 10-16 17-16 2-8 6-8 5-7 1-16-2-8 2-8 4-8 3-16 24-16 33-8 2-15 18-8 1-8 11-16 35-8 27-8 11-8-8-8 12-8 2-8 7-8 14-7-7-8 21-8 13-8-14-8-11-16-38-8 36-8 23-8 2-8 46-8 2-7 15-8 28-8-11z"/>
<path transform="matrix(0.25 -0.067848 0 0.25 797.59 620.59)" d="M0-329l8-20 8 37 8-32 8-5 8 57 8 36 7 52 8 46 8-59 8-10 8 1-6 35-8 4-8 52-8 23-8-54-8-34-7-43-8-86-8 9-8 6-8-43-8 37zM325-310l15-56 8-6 8-35 8-25 8 11 8-9 8 7 8 19 8-34 8-9 8-5 7-17 8 13 8-3 8-9 8 1 8-14 8-19 8-13 8-27 8-13 8-1 8-18 7-3 8-9 8-20 8-4 8-7 8-9 8 4 8 1 8-5 8 3 8-7 8-5 7-1 8-6 8-3 8-1 8-4 8-8 8-13 16-26 16-29 8-12 7-10 8-4 8 1 8 6 8 12 8 15 32 68 8 15 8 14-7-5-7-14-24-51-16-37-8-16-8-13-8-7-8-1-8 5-8 11-31 60-16 24-8 9-8 4-8-1-8 4-8 7-8 2-7 5-8 3-8 1-8 2-16 2-24 31-8 15-8 6-7 9-8 7-8-4-8 15-16 38-8 28-8 9-8-1-8 23-8 4-8-12-7 18-8-7-8 14-8 18-8-27-8-15-8-7-8-5-8 22-8 28-8 17-8 53-7 16z"/>
<path transform="matrix(0.25 -0.067848 0 0.25 799.11 621.29)" d="M0-321l8 7 8 26 8-15 8 11 8 42 7-6 8 37 8 33 8-75 8-22 8-42 8-28 8 55 8 1-6 46-8 2-8-41-8 60-8-2-8 11-8 59-8-46-8-52-7-36-8-57-8 5-8 32-8-37-8 20zM325-289l7-37 8-44 8-6 8-22 8-16 8 11 8-12 8 17 8 12 8-25 8-12 8-28 7-8 8 13 16-24 8-1 16-37 8-13 8-34 8-8 8-1 8-11 7-2 8-12 8-10 8-4 8-11 8-7 8 1 8-4 8-1 8-1 8-9 8 1 7-1 8-6 8 1 8-3 16-9 8-13 8-15 8-10 16-26 8-10 7-8 8-4 8 1 8 6 8 10 8 13 16 33 16 30 8 16 8 13-7-7-7-14-8-16-32-67-8-16-8-11-8-7-8-1-8 5-8 9-7 12-16 30-16 26-8 13-8 7-8 5-8 0-8 3-8 7-8 1-7 5-8 6-8-2-8 5-8-1-8-4-8 9-8 7-8 4-8 19-8 10-8 3-7 18-8 0-8 13-8 28-8 12-8 20-8 13-8 0-8 8-8 3-8-12-8 17-7 4-8 10-8 34-8-20-8-6-8 8-8-11-8 26-8 35-8 6-16 56z"/>
<path transform="matrix(0.25 -0.067848 0 0.25 800.62 621.99)" d="M0-333l8-5 8 31 8-15 8 6 8 63 7 7 8 53 8 8 8-51 8-8 8-64 8-28 8 27 8-6-6 14-8-1-8-55-8 28-8 42-8 22-8 75-8-33-8-38-7 7-8-42-8-11-8 15-8-27-8-6zM325-263l7-31 8-40 8-20 8-41 8-4 8 6 8-20 8 20 8-5-6 8-8-12-8-17-8 12-8-12-8 17-8 21-8 7-8 44-7 37zM427-450l8 18 8 2 8-14 8-10 8-31 16-41 8-32 8-14 8-10 8 0 7 1 8-12 8-9 8-3 8-8 8-5 8-1 8-6 8 2 8-2 8-8 8 0 7-6 16-5 8-4 8-2 8-3 32-42 8-9 8-10 7-8 8-1 8 1 8 4 8 9 8 12 8 14 8 17 8 14 16 25 8 12-7-5-7-13-8-17-16-29-16-33-8-14-8-10-8-5-8-1-8 3-8 8-7 11-16 25-8 10-8 16-8 13-16 9-8 2-8-1-8 7-8 0-7 0-8 8-8 2-8 0-8 4-8 0-8 7-8 10-8 4-8 10-8 12-8 2-7 12-8 1-8 8-8 34-8 12-16 37-8 2-16 24-8-14z"/>
<path transform="matrix(0.25 -0.067848 0 0.25 802.13 622.69)" d="M0-299l8-27 8 23 8-29 8 35 8 27 8-17 7 80 8-3 8-37 8-6 8-51 8-15 8 45 8-8-6-37-8 6-8-28-8 29-8 63-8 8-8 51-8-8-8-53-7-6-8-63-8-7-8 15-8-31-8 5zM143-382l7-27 8-49 8 40 8 15-6 43-8-36-8-23-8 47-8-14zM340-344l8-2 8-38 8 13 8 1 8-17-6-30-8 20-8-6-8 3-8 41-8 20zM443-435l8-3 8-13 8-37 8-13 8-21 8-28 8-6 8-10 8-9 7 0 8-12 8-19 8-5 8-8 8-7 8 2 8-1 8 2 8-3 16-8 7-2 8-7 16-7 16-3 8-8 24-27 16-15 7-6 8-2 8 3 8 6 8 7 8 10 16 27 16 25 8 8-6-6-16-25-8-14-8-17-8-15-8-11-8-9-8-5-8-1-8 2-8 8-7 10-8 8-32 42-8 4-8 2-8 4-16 4-8 6-7 0-8 8-8 2-8-2-8 6-8 1-8 6-8 8-8 3-8 9-8 12-7-2-8 0-8 11-8 13-8 32-16 41-8 31-8 11-8 14z"/>
<path transform="matrix(0.25 -0.067848 0 0.25 803.65 623.39)" d="M0-357l16 41 8-29 8 87 8 29 7 5 8 50 8-32 8-24-6-21-8 37-8 2-8-79-7 17-8-27-8-36-8 29-8-23-8 27zM142-368l16-49 8 40 8 1-6-32-8-14-8-40-8 49-8 26zM443-434l8 3 8-24 8-41 8-9 8-16 8-20 8-8 8-10 8-5 7-1 8-19 8-16 8-6 8-13 8 3 8-3 8-7 8 4 8-5 8-10 15-6 16-3 16-7 8 2 8-6 16-18 8-8 8-6 15-7 8-2 8 3 8 6 16 14 8 10 16 26 8 10-6-9-16-25-16-26-8-11-8-7-8-6-8-2-8 2-8 5-15 15-24 28-8 8-16 2-16 8-8 6-8 2-15 9-8 2-8-2-8 1-8-1-8 6-8 9-8 4-8 19-8 13-8 0-7 8-8 10-8 7-8 28-8 21-8 12-8 38-8 13-8 2z"/>
<path transform="matrix(0.25 -0.067848 0 0.25 805.16 624.08)" d="M0-425l8 21 8 5 8 19 8 86 8 17 15 98 8-23 8-15 8-23 8-70-6-17-8 70-16 47-8 31-8-49-7-5-8-29-8-87-8 28-16-40zM340-369l8-34 8-20 8 21 8-3-6 16-8-5-8-27-8 26-8 19zM443-433l8 11 8-21 8-28 8-20 8-24 16-22 8-25 8-7 7-3 8-19 8-4 16-20 8 8 8-3 8-7 8-2 16-16 8-6 7-8 8 2 8 5 8-10 8 0 8-4 8-5 8-2 16-17 8 0 8-1 7-4 16 2 8 3 8 9 8 5 8 7 16 26 8 9-6-10-8-10-16-25-8-10-16-14-8-6-8-3-8 1-15 8-8 5-8 8-16 19-8 5-8-1-16 6-16 4-15 5-8 11-8 5-8-4-8 6-8 3-8-2-8 12-8 7-8 15-8 20-8 0-7 5-8 10-8 9-8 19-8 16-8 9-8 42-8 23-8-3z"/>
<path transform="matrix(0.25 -0.067848 0 0.25 806.67 624.78)" d="M0-411l8 27 8-35 8 25 8 81 16 36 7 21 8-30 8-10 8-1 8-61-6 43-8 71-8 22-8 16-8 23-15-98-8-18-8-85-8-20-8-5-8-21zM293-360l8-4 8-32 8 35 8-9 7-31 8 0 8-30 8-4 8 27 8 7-6-9-8 3-8-20-8 19-8 34-8 0-7 47-8 4-8-24-8 8-8-15zM451-433l8-16 8-21 8-15 8-24 8-15 8-5 8-23 8-11 7-8 8-13 8-8 8-12 8-5 8 0 8-4 8-3 8-6 8-9 8-2 8-6 7-9 8 4 8 1 8-3 16-12 8-3 8-1 8-6 8-4 23-2 16-3 24 18 8 10 8 9 8 11-6-9-16-26-8-6-8-6-8-8-8-4-16-1-8 3-7 2-8 0-16 16-8 3-8 5-8 4-8 0-8 9-8-5-8-1-7 8-8 5-16 16-8 3-8 7-8 2-8-8-16 20-8 5-8 19-7 2-8 8-8 25-16 21-8 24-8 21-8 27-8 22z"/>
<path transform="matrix(0.25 -0.067848 0 0.25 808.19 625.48)" d="M0-457l8 40 8-18 8 28 8 73 15 56 8 20 8-66 8-10 8-22 8-49 8 37 8-17-6 61-16-38-8 61-8 0-8 11-8 30-8-21-15-37-8-81-8-24-8 35-8-28zM293-342l8-5 8-17 8 12 8-34 7-27 8-17 8-31 8-3 8 19 8 0-6 40-8-8-8-27-8 5-8 29-8 1-8 30-7 9-8-35-8 32-8 4zM451-439l8-12 8-31 8-22 8-27 8-7 8-3 8-18 8-5 7-8 8-7 8-5 8-16 8-9 8 2 8-3 8-7 8-4 8-10 8-6 8-3 7-8 8-4 8 3 8 3 8-2 8-1 8-6 8-1 8-3 8-3 8-4 8-2 7 2 8-4 8-1 8 5 8 7 8 8 16 15-6-9-8-8-8-10-24-18-16 3-23 1-8 5-8 6-8 1-8 3-16 12-8 2-8-1-8-3-8 8-7 6-8 3-8 9-8 6-8 2-8 5-8 0-8 4-8 13-8 8-8 13-8 7-7 11-8 23-8 6-8 15-8 23-8 15-8 22-8 15z"/>
<path transform="matrix(0.25 -0.067848 0 0.25 809.70 626.18)" d="M0-431l8-11 8-49 8 36 8 71 8 7 8 56 7 8 8-57 8 37 8-41 8-32 8 39 8-15-6-8-8 17-8-37-8 49-8 23-8 9-8 66-8-20-15-55-8-73-8-28-8 17-8-40zM135-443l7-19 8-51 16 97-6 62-8-57-8-23-8 31-7 15zM325-375l7-23 8-17 8-43 8 0 8 20 8-18 8 16 8-6 8-26 8 2 8-15 8 8 7 21 8 0 16 7 8-20 8-12 8-24 8-39 8 3 8-5 8-14 8-5 7-19 8-12 8 0 16-25 8 6 8 1 8 0 8-4 8-12 8-5 8-6 7-9 8-3 8 0 8 3 8 4 16-2 8 6 8-11 8-6 16-3 7 0 8 2 16 0 16 16-6-11-8-9-8-7-8-5-8 2-8 3-8-1-7 1-8 5-8 3-8 3-8 0-8 7-8 1-8 2-8-4-8-2-8 3-8 9-7 3-8 6-8 10-8 3-8 8-8 3-8-3-8 10-8 16-8 4-8 7-8 9-7 5-8 18-8 3-8 6-8 27-8 23-8 30-8 13-8-12-8-1-8 7-7-17-8 11-8 6-8-7-8 38-8-7-8-25-8 1-8-19-8 2-8 32-8 17-7 27z"/>
<path transform="matrix(0.25 -0.067848 0 0.25 811.22 626.88)" d="M0-389l8 2 8-48 8 23 8 43 8 3 7 63 8-41 8-55 8 3 8-45 16 28 8-23 8 29 8 21 8-53 8-12 7-34 8-48 8 71 8 22-6 20-16-98-8 51-7 20-8 34-8 49-8-13-8-10-8 16-8-39-8 32-8 41-8-37-8 56-8-7-7-56-8-7-8-71-8-36-8 48-8 12zM317-373l8-33 7-20 8-5 8-37 8 9 8 12 8 5 8 27 8-22 8-15 8-4 8-23 8 2 7 14 8-11 8-2 8 2 8-23 8-4 8-20 8-24 8 3 16-13 8-13 7-24 8-11 8-7 8-13 8-2 8 0 8-2 8 8 8-9 8-12 8 1 8-9 7-6 8 4 8 0 8 2 8 6 16-5 8 2 8-1 8 1 8-12 8-2 7 5 8 1 8-1-6-11-8 0-8-2-8 0-15 4-8 5-8 12-8-7-16 3-8-5-8-3-8 1-8 3-8 9-7 6-8 4-8 13-8 4-8 0-8-1-8-6-16 25-8-1-8 12-8 20-7 4-8 15-8 4-8-2-8 39-8 23-8 13-8 19-16-6-8-1-8-21-7-7-8 14-8-1-8 26-8 6-8-16-8 18-8-21-8 1-8 42-8 17-8 23-7 28z"/>
<path transform="matrix(0.25 -0.067848 0 0.25 812.73 627.58)" d="M0-399l8 7 8-26 8 58 8 34 8 28 7 57 8-53 16-70 8-71 8-7 8 12 8-34 8-2 8 0 8-47 8 16 7-30 8-12 8 59 8 31-6 5-8-23-8-70-8 48-7 34-8 12-8 52-8-21-8-28-8 23-16-29-8 45-8-3-8 56-8 40-7-62-8-4-8-42-8-24-8 49-8-3zM317-360l8-46 7-14 8-28 8-37 8 31 8-4-6 7-8-12-8-9-8 36-8 6-7 20-8 33zM388-434l8-10 8-5 8-22 8-2 7 19 8-10 8-5 8-10 8-17 8-2 8-27 8-22 16-19 8-4 8-14 7-26 8-10 8-1 8-7 8 1 16-4 8 4 16-18 8-7 8-3 7 3 16-2 8 5 8 2 8-2 8 3 8-4 8 2-6-3-8 1-8-2-16 6-8-7-8-2-8 1-8-4-8 6-7 8-8 0-8 12-8 9-8-9-8 3-8 0-8 1-8 14-8 6-8 11-8 24-7 13-16 14-8-3-8 24-8 19-8 5-8 23-8-2-8 1-8 12-8-14-7-3-8 23-8 4-8 15z"/>
<path transform="matrix(0.25 -0.067848 0 0.25 814.24 628.28)" d="M0-338l8-3 8-37 8 57 8 0 8 39 8 55 7-54 8-44 8-27 8-46 8-4 8 12 8-38 8 17 8-28 8-58 8 1 8-55 7 1 8 41 8 12 16 94-6 43-8-27-8-67-8-30-8-60-8 12-7 31-8-16-8 47-8 0-8 2-8 34-8-12-8 6-8 72-16 69-8 54-7-58-8-27-8-35-8-57-8 25-8-7zM269-334l8-65 8-2 8 24 8-10 8 8 8-11 8-45 7 14 16-43 8 23 8 5-6-26-8 3-8-31-8 37-8 29-7 14-8 45-8 10-8 7-8 17-8-15-8 1-8 46zM388-432l8-16 8-12 8-28 8 7 7 11 8-4 8 21 8-18 8-19 8 1 16-49 8-15 8-19 8-13 8-6 7-26 8-18 8-4 8-3 8 3 8-4 8 0 8 3 8 0 8-4 8-8 8-4 7 3 8 0 8-4 8 0 8 2 16 2-6 2-8-2-8 2-8-2-8-6-16 2-8-2-7 3-8 7-16 17-8-4-16 4-8-1-8 8-8 0-8 11-7 25-8 14-8 4-16 19-8 22-8 28-8 2-8 16-8 11-8 5-8 9-7-19-8 2-8 23-8 4-8 10z"/>
<path transform="matrix(0.25 -0.067848 0 0.25 815.76 628.98)" d="M0-290l8-14 8 15 8 58 8-20 8 30 7 16 8-54 8-40 8-57 8-73 8 39 8 14 8-34 8 40 8-51 8-29 8 13 7-60 8-15 8 29 8 11 8 33 8 21 8-46 8 13 8-4 8 3 8 80 8 12-7 33-7-24-8-67-8 2-8-19-8 5-8 22-16-93-8-13-8-41-8-1-7 56-8-1-8 58-8 27-8-17-8 39-8-12-8 4-8 46-8 26-8 44-8 54-7-54-8-40-8 1-8-57-8 36-8 4zM269-347l8-56 8-13 8 15 8-18 8 13 8-25 8-41 7 2 8-19 8 14 8 24-6 6-8-24-16 43-8-14-7 45-8 11-8-7-8 10-8-25-8 3-8 64zM388-427l8-7 8-16 8-33 8 20 7 3 8-3 8 12 8-24 8-19 8-12 8-22 8-17 8-12 8-19 8-2 8-10 7-28 8-10 8-17 8-9 8 7 8-6 8-4 8 8 8-1 8-4 8 0 8-8 7-1 8 5 8-5 8-2 16 7 8 2-6-4-16-1-8-3-8 0-8 5-8-1-8-2-7 4-8 8-8 3-8 1-8-3-8 0-8 4-8-3-8 3-8 4-8 18-8 26-7 6-8 12-8 20-8 15-16 49-8-2-8 20-8 17-8-21-8 4-8-10-7-7-8 27-8 13-8 16z"/>
<path transform="matrix(0.25 -0.067848 0 0.25 817.27 629.68)" d="M0-317l8-26 8 50 8 39 8 6 8 59 7 14 8-54 8-13 8-49 8-69 8 36 8-22 8-7 8 13 8-80 8-28 8-19 7-38 16 46 8-3 8 75 8 22 8-41 8 22 8-46 8 8 8 65 8-6-6-1-8-12-8-80-8-4-8 4-8-13-8 47-8-22-8-33-8-11-8-28-8 14-7 61-8-13-8 28-8 51-8-40-8 34-8-14-8-39-8 73-8 58-8 40-8 53-7-16-8-30-8 20-8-58-8-14-8 14zM261-380l8-18 8-54 8 18 8 10 8-3 8 27 8-47 8-28 7 3 8-29 8 3 8 24 8 2 8 17 8 14 8-21 8 5 8-4 8-9 8 18 7-2 8 15 8-1 8-32 24-69 8-5 8-14 8-26 8 3 8-12 7-22 8-14 8-21 8-2 8 9 16-5 8 2 8-2 8 1 16-20 7 5 8-1 8-1 8 4 8-2 8 3-6 1-16-7-8 2-8 4-8-4-8 1-7 7-8 1-8 4-8 0-8-7-8 3-8 7-8-7-8 8-8 17-8 11-8 27-7 11-8 2-8 19-8 12-8 16-8 23-8 11-8 19-8 24-8-11-8 3-7-3-8-20-8 33-8 15-8 8-8 22-8-15-8-27-8-5-8-23-8-14-8 19-7-3-8 41-8 26-8-13-8 18-8-16-8 14-8 55-8 14z"/>
<path transform="matrix(0.25 -0.067848 0 0.25 818.78 630.38)" d="M0-323l8-23 8 46 8 36 8-7 8 29 8 24 7-27 8 0 8-61 8-21 8 45 8-17 8 22 8-20 8-78 8-24 8-35 8-55 7 26 8 29 8 0 8 67 16-9 8 17 8-42 8 28 8 36 8 13-6-43-8 6-8-65-8-8-8 46-8-23-8 42-8-23-8-74-8 3-16-47-7 38-8 20-8 27-8 81-8-14-8 7-8 22-8-36-8 69-8 50-8 12-8 55-7-15-8-59-8-5-8-40-8-49-8 26zM261-375l8-29 8-56 8 15 8-25 8 8 8 33 8-41 8-29 7-9 8-10 16 40 8-5 8 27 8 8 8-17 8 6 8-25 8 2 8 19 7-11 16 7 16-41 8-14 8-20 8 1 8-8 8-23 8-14 8-18 7-12 16-43 8 2 8 6 16 5 16-10 8 4 16-15 7 2 8 0 8 2 8 0 8-5-6-1-8 2-8-3-8 1-8 0-7-4-16 19-8 0-8 1-8-1-16 5-8-9-8 1-8 21-8 14-7 23-8 12-8-4-8 26-8 15-8 5-24 69-8 32-8 0-8-14-7 1-8-18-8 9-8 5-8-5-8 21-8-15-8-16-8-2-8-24-8-4-8 29-7-2-8 28-8 47-8-28-8 3-8-10-8-17-8 53-8 18z"/>
<path transform="matrix(0.25 -0.067848 0 0.25 820.30 631.08)" d="M0-337l8-10 8 50 8 59 8 5 8 41 7-23 8-39 8 15 8-77 8-26 8 15 8-13 8 29 8-2 8-66 8-28 8-3 7-16 8 49 8 6 8 14-6-81-8-1-8-29-8-25-7 55-8 35-8 24-8 78-8 19-8-22-8 18-8-45-8 21-8 60-8 0-8 27-7-23-8-30-8 7-8-36-8-45-8 22zM253-344l8 1 8-38 8-24 8 5 8-36 8 6 8-9 8-43 8-26 15-59 8 36 8 26 8 2 8 46 8-1 8-3 8 12 8-27 8-6 8 6 7-11 16-5 8-24 24-44 8 9 16-28 8-9 8-20 15-22 8-19 8-6 8 8 24-8 8-6 16-1 8-1 7-4 16 4 8-5-6 1-8 0-8-2-8 0-8-3-15 16-8-4-16 10-16-6-8-6-8-1-16 43-8 11-7 19-8 13-8 24-8 8-8-2-8 21-8 13-16 41-16-6-8 11-7-20-8-1-8 25-8-6-8 17-8-9-8-27-8 6-16-41-8 11-8 9-7 29-8 40-8-32-8-9-8 26-8-16-8 57-8 29-8-1z"/>
<path transform="matrix(0.25 -0.067848 0 0.25 821.81 631.78)" d="M0-366l8-22 8 87 8 43 8 2 8 74 8-34 7-19 8 1 8-73 8-8 8 1 8-23 8 14 8-15 8-69 8-4 8-38 7-11 8 91 8 4-6-10-8-7-8-49-7 17-8 3-8 28-8 66-8 1-8-28-8 13-8-16-8 27-8 77-8-15-8 39-7 22-8-41-8-5-8-58-8-50-8 10zM253-339l8-2 8-46 8 1 8 0 8-31 8 12 8 1 8-50 8-33 15-57 8 36 8 10 8 7 8 26 8-11 8 2 8-11 8-22 8 8 8 5 7-10 8 11 8-6 8-22 8-2 8-34 8-20 8 11 8-14 8-12 8-10 8-19 7-8 8-3 8-18 8-7 8 4 8 1 8 4 8-9 8-5 8 4 8-2 15-7 8-6 8-2-6 8-16-5-8 4-7 2-16 1-8 6-24 8-8-9-8 7-8 19-16 21-7 20-8 10-16 28-8-10-24 44-8 25-16 4-7 11-8-5-8 6-8 26-8-12-8 4-8 1-8-46-8-3-8-25-8-36-15 59-8 25-8 44-8 9-8-7-8 36-8-5-8 25-8 37-8 0z"/>
<path transform="matrix(0.25 -0.067848 0 0.25 823.33 632.47)" d="M0-288l8-36 8 72 8 15 8 28 8 16 7-77 8 2 8-21 8-55 8 8 8-2 8-7 8 59 8-22 8-74 8 7 8-61 7 7 8 50 8-15-6 24-8-3-8-92-8 12-7 38-8 4-8 68-8 16-8-14-8 22-8-1-8 9-8 73-8-1-8 18-7 35-8-74-8-2-8-44-8-86-8 22zM253-278l8-24 8-61 8 0 8 3 8-39 8-14 8-4 8-34 8-12 7-39 8-16 8 47 8 9 8 21 8 3 8-31 8-3 8-12 8-31 8 0 8 9 7-6 8 9 16-36 8-6 8-27 8-10 16-6 8 3 8-16 8-21 7-6 8-13 8-16 8 0 8-11 8 3 8 14 8-8 8-6 8 2 16-5-7 0-7 4-8 2-8-4-8 5-8 9-8-5-8-1-8-3-8 7-8 18-8 3-8 7-7 19-8 10-8 12-8 15-8-12-8 21-8 34-8 2-8 22-8 6-8-11-8 9-7-4-8-9-8 22-8 11-8-1-8 11-8-27-8-7-8-10-8-35-16 56-7 34-8 49-8 0-8-13-8 32-8 0-8-1-8 45-8 3z"/>
<path transform="matrix(0.25 -0.067848 0 0.25 824.84 633.17)" d="M0-266l8 14 8 65 8-4 8 55 8 1 7-76 8-29 16-91 8 7 8-12 8-27 8 41 8-29 8-25 8-22 8-70 15 89-6-4-8-51-7-6-8 60-8-6-8 73-8 23-8-59-8 6-8 3-8-9-8 56-8 21-8-3-7 78-8-17-8-27-8-15-8-73-8 36zM269-338l8 16 8-2 8-29 8 6 8-37 8-44 8 5 7-56 8-14 8 29 8-3 8 22 8 8 8-26 8-10 8 0 8-15 8 9 8-2 7-10 8 1 8-32 16-44 8-27 8-4 8 0 8-2 8 5 8-8 8-23 23-28 8-4 8-8 16 5 8-3 8-7 8-10 8-2 8 3 7-7-6 10-8 3-15 5-8-2-8 6-8 9-8-14-8-4-8 11-8 1-8 16-8 13-8 5-7 22-8 16-8-4-16 7-8 10-8 27-8 6-16 36-8-10-8 7-7-10-8 1-8 31-8 11-8 4-8 30-8-2-8-22-8-8-8-48-8 16-7 40-8 11-8 34-8 4-8 15-8 38-8-2-8 0z"/>
<path transform="matrix(0.25 -0.067848 0 0.25 826.35 633.87)" d="M0-248l8 3 8 50 8 14 8 49 8-2 8-52 15-42 8-35 8 22 8-26 8-15 8 16 8-82 8-34 8-41 8-66 7 23 8 38 8 32 8 60-6 13-8-48-8-12-15-90-8 71-8 22-8 25-8 29-8-41-8 26-8 12-8-7-16 91-8 30-7 76-8-2-8-55-8 4-8-65-8-13zM253-291l8-50 8-38 8 38 8 14 8-20 8 17 8-35 8-17 8-6 7-52 8-7 16 3 8 19 8-11 8-29 8 7 8-10 8-14 8 22 8-17 7-4 8 3 8-39 8-25 8-11 8-22 8-10 8-1 8-11 8 3 8-10 8-28 7-14 8-8 8 2 8-4 8-10 16 0 8-5 16-18 8-5 8 4 7-1-6 1-8 6-7-2-8 1-8 11-8 7-8 3-16-5-8 8-8 3-23 28-8 23-8 9-8-5-8 2-8 0-8 3-8 27-16 44-8 32-8 0-7 10-8 2-8-10-8 16-8-1-8 10-8 26-8-7-8-22-8 3-8-29-8 14-7 55-8-4-8 44-8 36-8-5-8 29-8 1-8-16-8 37-8 30z"/>
<path transform="matrix(0.25 -0.067848 0 0.25 827.87 634.57)" d="M0-196l8 34 8 9 8 5 8 51 8-5 7-66 8-15 8-52 8-23 8 58 8-50 8-8 8 15 8-59 8-24 8-50 8-58 7 24 8 38 8 13 8 52-6-33-8-60-8-32-8-39-7-22-8 66-8 41-8 34-8 82-8-17-8 16-8 26-8-22-8 34-16 42-7 53-8 2-8-50-8-13-8-50-8-4zM253-276l8-32 8-50 8 22 16 7 8-1 8-61 8-13 8-17 7-29 8 3 8-4 8 10 8 45 8 0 8-33 8 3 8-19 8-4 8 6 8-30 7-5 8-8 8-28 16-41 8-15 8 6 16-25 8 10 16-38 7-11 8-22 8-2 8 0 8-18 8-10 8 0 8-8 16-9 8-5 8 3 7 1-6 2-8 1-7-3-8 4-16 19-8 5-16 0-8 9-8 4-8-1-8 7-8 15-7 27-8 10-8-2-8 10-8 2-8 10-8 21-8 12-8 24-8 40-8-4-8 4-7 18-8-23-8 15-8 10-8-7-8 28-8 12-8-19-16-3-8 7-8 52-7 5-8 18-8 35-8-18-8 21-8-15-8-38-8 39-8 49zM871-578l16-2 8 8 7 13-6 4-15-24-8 3-8 0z"/>
<path transform="matrix(0.25 -0.067848 0 0.25 829.38 635.27)" d="M0-249l8 72 8 35 8 26 8 51 8-7 7-35 8-2 8-86 8-14-6-54-8 23-8 53-8 15-7 66-8 5-8-51-8-6-8-8-8-34zM95-227l8-42 8-62 8 7 8-32 8-44 7 51 8 23 8 36-6-73-8-13-8-39-7-24-8 58-8 51-8 23-8 59-8-15zM293-312l8-3 8-65 8-29 8-22 7-30 8 2 8 9 8 1 8 36 8 5 8-13 8-7 8-23 8 15 8 4 8-14 7 3 8-19 8-30 8-16 8-31 8-25 8 4 8-16 8-8 8 5 8-14 8-9 15-36 8-6 8-10 8-15 16-22 8-5 8 1 8-11 8-4 8 2 7-4 16-4 8-7 8 1 8 4 8-1-6-1-24 5-8 3-8 6-8 4-8-2-7-3-8 6-16 9-8 7-8 1-8 10-8 18-8 0-8 2-8 21-8 12-15 37-8-10-16 26-8-6-8 14-16 42-8 28-8 8-8 4-7 31-8-6-8 4-8 19-8-4-8 34-8-1-8-45-8-9-8 3-8-3-7 30-8 16-8 13-8 61-8 2zM871-587l8 0 16 13 7 12-6-1-8-13-7-9-16 3z"/>
<path transform="matrix(0.25 -0.067848 0 0.25 830.89 635.97)" d="M0-252l8 44 8 23 8 31 8 60 16-27 7-26 8-75 8 42 8 9 8-25 8 21 8-37 8-61 8-9 8-46-6-33-8 32-8-7-8 63-8 42-8-10-8 48-8-20-8 14-8 85-8 3-7 34-8 7-8-51-8-26-8-35-8-71zM261-336l8-24 8 17 8-17 8 28 8-16 8-55 8-20 15-20 8 22 8-9 8 0 8 35 8-25 16-29 8-26 8 22 8 18 8-9 7 4 8-2 8-29 8-23 8-29 8-20 8-2 8-11 8-5 16-24 8-8 7-28 8-22 8-6 16-20 8-8 8-15 8-5 8-1 8-10 8-7 8-5 7-2 8-1 16-6 16 4 8 3-6-1-8 1-8-5-8 0-8 6-16 5-7 4-8-2-8 4-8 11-8-1-8 5-16 22-8 15-8 9-8 6-15 36-8 9-8 15-8-5-8 7-8 16-8-4-8 26-8 30-8 17-8 30-8 19-7-3-8 13-8-4-8-15-8 23-8 7-8 13-8-4-8-36-8-1-8-10-8-2-7 30-8 22-8 29-8 65-8 4-8-15-8 19-8-46-8 22zM768-643l8-6 8-3 8 7 15 21-6-4-15-12-8-9-8 1-8 5zM847-596l16-3 8 9 8 10 8 0 8 6 7 14-6-7-8-12-15-12-8 0-8-2-8-8-8 6z"/>
<path transform="matrix(0.25 -0.067848 0 0.25 832.41 636.67)" d="M0-262l8 81 16 29 8 41 8-49 7-4 8-41 8-77 8 19 8 29 16 43 8-29-6 3-8 37-8-21-8 25-8-8-8-42-8 75-8 25-15 28-8-61-8-30-8-24-8-43zM261-293l8 2 16-58 8 22 8-26 8-52 8-20 8-33 7-4 8 48 8-21 8 0 8 22 8-17 8 5 8-16 8-20 16 42 8-5 7-4 16-55 8-10 8-37 8-13 8 4 8-9 8 0 8-9 8-25 15-27 8-28 8-14 8-4 8-9 8-12 8-15 8-11 8-9 8-4 16-15 7 0 8 0 16-3 8 0 8 2 8 4-6 1-8-4-16-3-16 6-8 0-8 3-7 4-8 7-8 11-8 1-8 5-8 14-8 9-16 19-8 7-8 22-8 27-7 9-16 24-8 5-8 11-8 2-8 20-8 29-8 22-8 30-8 1-8-4-7 9-8-18-8-21-8 26-16 29-8 24-8-35-8 1-8 9-8-23-15 20-8 21-8 55-8 16-8-29-8 17-8-17-8 25zM768-654l8 6 8 0 8-4 8 15 7 12-6-3-15-22-8-7-8 3-8 7zM847-601l8 5 8 0 16 18-6-6-8-11-8-8-16 3z"/>
<path transform="matrix(0.25 -0.067848 0 0.25 833.92 637.37)" d="M0-323l8 90 8 0 8 45 8 35 8-45 8 4 15-79-6-13-8 77-8 41-7 4-8 48-8-40-16-30-8-80zM293-289l8-19 8-48 8-21 8-47 7-11 8 13 8-23 8 10 8-12 8-8 8 18 8-9 8-3 8 27 8 8 8 4 7 11 8-48 8-27 8-10 8-39 8-11 8-5 8-15 8-3 8-13 8-24 8-9 7-12 8-15 8-9 8-14 8-7 8-10 8-24 8-15 16-14 8-5 15-8 16-1 8-3 8 0 8 3-6 2-8-2-8-1-16 4-8-1-8 1-15 14-8 5-8 8-8 12-8 15-8 11-8 9-8 4-8 15-8 27-15 28-8 24-8 10-8-1-8 10-8-4-8 12-8 38-8 10-16 55-7 3-8 6-16-42-8 19-8 17-8-5-8 16-8-21-8-1-8 21-8-48-7 4-8 34-8 20-8 51-8 26zM776-650l24 3 7 7 8 11 16 3 8 17 8 11-6-7-8-9-8-4-8-8-8-6-8 2-8-12-7-14-8 3-8 0z"/>
<path transform="matrix(0.25 -0.067848 0 0.25 835.43 638.07)" d="M0-311l8 55 8-17 8 49 8-21 8-30 8 27 7-43 8-36 8 48 8 9-6 15-8-3-8-20-16 79-7-4-8 46-8-35-8-45-8 0-8-90zM190-197l8 8 8 84 8-3 8 33 8 3 8-68 7-35-6-29-8 12-7 76-8-3-8-7-8-12-8-72-8 14zM293-281l8-24 8-32 8-23 8-61 7 11 8 16 8-13 8 6 8-14 8-12 8 11 8-8 8-19 8 15 8 8 8 11 7-3 8-36 8-14 16-45 8-14 8-24 8-7 8 0 8-28 8-20 8 0 7-19 16-18 8-24 8-6 8-10 8-22 8-14 8-6 16-9 15-12 16-6 8-1 16 2 8 6-6 1-16-7-8 0-8 3-16 1-15 8-8 6-16 14-8 14-8 25-8 10-8 6-8 15-8 8-8 16-7 12-8 8-8 24-8 13-8 4-8 14-8 6-8 11-8 38-8 11-8 26-8 48-7-10-8-5-8-7-8-28-8 4-8 9-8-19-8 9-8 12-8-10-8 22-8-12-7 11-8 46-8 21-8 49-8 18zM768-654l8 1 16-1 8-3 7 7 8 16 8 8 8 5 8 11 8 15-6-7-8-12-8-17-16-2-8-12-8-6-23-3-8-5z"/>
<path transform="matrix(0.25 -0.067848 0 0.25 836.95 638.77)" d="M0-285l8 35 8 18 8 53 8-34 8-47 7-9 8-40 8-32 8 9 8-34 8 42 8 23-6 85-8-42-8-16-8-10-8-47-8 36-8 43-7-28-8 30-8 21-8-48-8 16-8-54zM190-271l8 36 8 64 8 11 8 60 8-12 7-38 8-3 8-47 8-33-6-35-16 88-8 36-7 68-8-4-8-33-8 3-8-84-8-7zM293-243l8-70 16-44 8-65 7 4 8 21 8 13 8 17 8-12 8-24 8 14 8-3 8-12 8 4 8-8 8 22 7-5 8-41 16-58 8-24 8-15 8-22 8-16 8 5 8-12 8-18 15-24 8-7 8-20 8-16 8-12 8-16 8-10 16-26 16-7 8-9 7-7 8-4 8-3 8 0 8 1 8 3 8 6 8 8-6-1-8-7-8-6-16-3-8 1-16 6-15 13-16 8-8 7-8 13-8 23-8 10-8 6-8 23-16 18-8 19-7 0-8 20-8 29-8 0-8 7-8 23-8 15-16 45-8 13-8 37-8 3-7-12-8-7-8-16-8 20-8 7-8-11-8 12-8 15-8-7-8 14-8-17-8-10-7 60-8 23-8 32-8 25zM752-655l8-1 8-8 16 10 8-9 8 4 7 12 8 10 8 15 8 10 8 0 8 11-6 1-8-15-8-11-8-5-8-8-8-15-8-8-7 3-16 1-8-1-8-6-8 0z"/>
<path transform="matrix(0.25 -0.067848 0 0.25 838.46 639.47)" d="M0-307l8 44 16 74 8-18 8-32 8-6 7-60 8-12 8 12 8-49 8 30 8-20 8-62 8-16 8-55 8-15 8 62 7 51-6 49-7-24-8-88-8 10-8 51-8 4-8 71-8-23-8-41-8 34-8-9-8 31-8 41-7 8-8 48-8 33-8-52-8-19-8-35zM198-225l8 19 8 27 8 67 8-26 7-57 8-15 8-37 8-14-6 23-8 33-8 48-8 3-7 38-8 12-8-60-8-11-8-65zM301-308l8-3 8-38 8-28 7 16 8-2 8 10 8 23-6-41-8-17-8-13-8-22-7-4-8 65-16 45zM396-393l8 18 8-13 8 22 7 1 16-75 16-67 8-13 16-41 8-4 16-32 8-19 7-14 8-3 8-12 8-14 16-18 24-40 8-11 23-22 8-5 8-3 8 0 8 1 8 5 8 5 8 7 8 8 8 6 8 2 8 10 7 12 8 6-6-3-8-5-8-10-7-8-16-11-8-7-8-7-8-6-8-3-8-2-8 0-8 3-8 5-8 6-7 10-16 7-16 25-8 11-8 15-8 12-8 17-8 20-8 7-15 23-8 19-8 12-8-6-8 17-8 22-8 15-8 23-16 58-8 41-7 5-8-21-8 7-8-4zM752-660l8-1 8-6 8 3 16 12 8 1 7 4 8 17 8 11 8 0-6 2-8-10-8-15-8-9-8-13-7-3-8 9-16-11-8 9-8 0z"/>
<path transform="matrix(0.25 -0.067848 0 0.25 839.98 640.17)" d="M0-262l8 24 8 32 8 45 16-131 7 3 8-64 8 15 8 9-6 20-8-12-8 11-8 60-7 7-8 31-8 18-16-74-8-44zM103-356l8-33 8-57 8-15 8 59 7 0-6 19-7-51-8-63-8 16-8 55-8 16zM198-271l8 44 8 38 8 56 8-3 7-45 8-27-6-7-8 16-8 57-7 26-8-67-8-28-8-19zM309-339l8-16 8-9 7 20 8 4-6-28-8 2-8-16-7 29-8 37zM420-358l7-15 16-61 8-43 8-18 8 3 8-36 8-13 8-8 8-34 8-14 8-18 7-23 16 1 8-16 16-19 24-44 8-12 23-23 8-6 8-3 8-1 8 2 8 4 8 5 24 21 8 6 8 5 7 11 8 15-6-8-8-7-8-12-7-9-8-2-8-6-8-9-8-6-8-6-8-4-8-2-8 1-8 2-8 6-23 22-8 11-24 40-16 17-8 14-8 12-8 4-8 14-7 19-16 32-8 3-16 41-8 13-16 67-16 76-8-1zM744-675l8 8 8 0 8 5 8 2 8 7 8 13 8-1 7-4 16 21 16 10 8 8 8 15-6-11-16-15-8-7-8 1-8-12-8-17-8-3-7-2-16-11-8-3-8 5-8 1-8-9zM902-571l8-7 8-3 8 15 8 9-6 1-8-11-8-3-8-5-8-1z"/>
<path transform="matrix(0.25 -0.067848 0 0.25 841.49 640.87)" d="M0-252l8 23 8 34 8 47 8-70 8-29 7-47 8-70 8 45 8-15-6 1-8-9-8-15-8 64-7-3-16 131-8-45-8-32-8-24zM103-386l8 6 8-73 8-15 8 81 7 7-6-26-7 0-8-60-8 16-8 57-8 32zM198-291l8 14 8 34 8 67 15-77 8-3-6 44-8 27-7 44-8 4-8-56-8-38-8-44zM420-350l7-20 16-47 8-53 8-22 8-4 8-25 8-16 8-31 8-19 8-4 8-18 7-11 8 2 16-11 8-15 8-29 16-23 8-21 8-9 16-16 15-14 8-4 8-1 8 2 8 3 8 5 8 6 16 17 16 9 23 23 16 10 16 30 8-1 8 5 8 10 8 0 8 2 7 3 8-4 8 11 8 19 8 3 8 6 8 16-6-9-8-15-8-9-16-9-16-22-8 4-7 1-8-13-8-6-8-2-8-5-8-1-8-7-8-14-8-1-8-3-8-15-8-10-7-5-8-6-24-22-8-5-8-4-8-2-8 1-8 4-8 6-23 22-8 12-24 45-16 19-8 16-16-2-8 23-7 19-8 14-8 34-8 7-8 14-8 35-8-2-8 17-8 44-16 60-8 16zM902-576l8-1 8-3 8 6 8 11-6 2-8-10-8-15-8 4-8 7z"/>
<path transform="matrix(0.25 -0.067848 0 0.25 843.00 641.56)" d="M0-327l8 13 8 71 8 17 8-64 8 18 8-46 7-21 8 53 8-12-6-40-8 15-8-45-8 69-7 47-8 30-8 69-8-47-8-33-8-23zM103-385l8-16 8-80 8 16 8 29 8 9-7 43-7-7-8-82-8 16-8 72-8-5zM182-325l8 28 8 77 8-13 8 8 8 43 8-66 7-24-6 15-15 77-8-67-8-34-8-15-8-51-8 1zM427-371l8-14 8-20 8-41 16-51 8-17 8-20 8-37 8-15 8-1 8-12 7-6 8 0 16-14 8-18 8-25 32-56 8-11 15-17 8-7 8-5 8-1 8 1 8 4 16 10 16 18 8 1 23 14 8 12 8 11 8 5 16 31 8 6 16-3 16 13 7-2 8 4 8 12 8 11 8 13-6-14-8-3-8-19-8-11-8 4-8-3-7-2-8-1-8-10-8-4-8 1-16-30-16-10-24-23-15-10-16-16-8-6-8-5-8-4-8-2-8 1-8 5-15 13-16 16-8 10-8 21-16 23-8 28-8 16-16 10-8-1-7 11-8 17-8 5-8 19-8 30-8 17-8 25-8 4-8 21-8 53-16 47zM910-576l8 0 8-8 8 8 8 13 8-3 8 2 16 24-6-2-8-7-8-11-8 0-8 2-8-9-8-12-8-5-8 3z"/>
<path transform="matrix(0.25 -0.067848 0 0.25 844.52 642.26)" d="M0-325l8-14 8 63 8 8 8-40 8-16 7-60 8-7 8 42 8 14-6 32-8 12-8-53-8 22-7 46-8-18-8 64-8-18-8-71-8-13zM103-376l8-14 8-73 8 42 8 14-6-34-8-28-8-16-8 79-8 16zM182-342l8 25 8 65 8-1 8 51 8 7 8-55 7 7-6-33-7 24-8 66-8-43-8-9-8 14-8-77-8-29zM277-349l8 21 8-49 8-33 8 4 8-32 15 67-6 16-8-26-7-1-8 24-8-11-16 37-8-24zM412-375l8-1 7-32 8 3 8-13 8-50 8-18 8-11 8-16 8-10 8-19 8-27 8-1 8-4 7-19 8-10 8-4 8-7 24-51 8-15 8-11 16-32 8-10 15-15 8-5 8-1 8 1 8 4 24 15 8 5 8 7 15-1 16 29 8 7 8 15 8 9 8 6 8 16 8-2 8-9 16 24 7-1 16 8 8 7-6-2-8-10-8-12-8-5-8 3-15-14-16 4-8-6-16-31-8-6-8-10-8-13-23-14-8-1-16-18-16-9-8-4-8-1-8 1-8 4-8 8-15 16-8 12-32 55-8 26-8 18-16 14-8-1-8 7-7 11-8 2-8 14-8 38-8 20-8 16-16 51-8 41-8 21-8 13-8 10-7 1zM902-580l8 1 8-10 8-1 8 3 8 5 8 16 8 7 8 2 8 19-6-6-16-25-8-2-8 3-8-12-8-9-8 8-8 0-8-5z"/>
<path transform="matrix(0.25 -0.067848 0 0.25 846.03 642.96)" d="M0-376l8 26 8 72 8-10 8-19 8-9 7-61 8-27 8 27 8-18 8 14 8 8 8-91 8 0 8-4 8-21-6 22-8 73-8 14-8 1-8 51-8-4-8-7-8-15-8-42-8 8-7 60-8 16-8 40-8-9-8-63-8 14zM198-240l8-29 8 45 8-13 8-29-6 11-8 56-8-7-8-51-8 1zM277-322l8-2 8-47 8-17 8-23 8-29 8 37 7 12-6 15-15-67-8 32-8-3-8 33-8 48-8-20zM372-370l8-39 8-9 8 28 8 1 8 25 8-10 7-53 8-2 8-13 8-33 8-21 8-16 8-2 8 3 16-50 8-5 8-15 7-2 8-8 8-16 8 5 8-6 8-25 8-17 8-14 8-20 24-45 7-6 16-10 8-2 8 1 8 3 16 9 8 2 8 4 8 8 8 4 7 1 8 8 8 16 8 13 8 3 8 5 8 15 8 10 16 14 8-2 8 8 7 14 16-23 8 12 8 4-6 10-8-11-8-7-16-7-8 0-15-23-8 9-8 2-8-16-8-7-8-9-8-14-8-8-16-28-15 0-8-6-8-6-24-14-8-4-8-2-8 2-8 4-16 16-7 10-16 31-8 12-8 14-24 52-8 6-8 4-8 10-8 20-7 3-8 1-8 27-8 20-8 10-8 16-8 11-8 18-8 50-8 12-8-3-7 32-16 3-8-4-8-27-8 18-8 35zM902-589l8 0 8-4 8-3 8 2 16 28 8 7-6-4-8-7-8-16-8-5-8-4-8 1-8 11-8-1z"/>
<path transform="matrix(0.25 -0.067848 0 0.25 847.54 643.66)" d="M0-390l8 19 8 61 16-50 8-9 8-69 7-4 8 50 8-24 8 34 8-16 8-70 8 8 8-50 8-10 8 52-6 27-8-53-8 21-8 4-8 0-8 91-8-8-8-13-8 17-8-27-8 28-7 61-8 8-8 19-8 11-8-73-8-25zM198-234l8 16 8 45 8-37 8-32-6-29-8 30-8 12-8-45-8 29zM277-342l8 2 8-54 8 4 8-11 8-7 8 36 7 13 8 9-6-28-8-17-7-13-8-37-8 30-8 23-8 17-8 47-8 2zM364-391l8-4 8-25 8-9 8 6 8 11 8 22 15-48 8-9 8-19 8 1 8-9 8-27 8 1 8 0 8-41 8-20 8-15 8-20 7 10 8 0 8-7 8 3 8-8 8-18 16-45 8-15 8-14 8-18 8-10 15-14 24-9 8 5 8 5 8 1 8 4 8 8 8 5 8 10 7 3 8-3 8 11 8 16 8 3 8 3 16 31 8 13 8 2 8-1 8 4 7 1 8-6 8-10 8-4 16 27-6-10-8 1-8-5-8-12-16 23-8-14-7-8-8 2-16-14-8-10-8-14-8-5-8-4-8-13-8-15-8-8-8-1-7-4-8-8-8-4-8-2-16-9-8-3-8-2-8 2-16 11-7 6-24 44-8 20-8 15-8 17-8 25-8 6-8-5-8 15-8 9-7 1-8 15-8 5-16 51-8-3-8 1-8 16-8 21-8 34-8 13-8 2-7 52-8 10-8-24-8-1-8-28-8 9-8 38-8-7zM887-592l8 1 7-10 8 3 8 12 8-5 8 0 8 15 8 8 8 7-6-2-8-7-16-28-8-2-8 3-8 4-8-1-8-2-7 10z"/>
<path transform="matrix(0.25 -0.067848 0 0.25 849.06 644.36)" d="M0-313l8 25 8 7 8-50 16-61 7-82 8 6 8-1 8-3 8 73 16-101 8 12 8-37 8 18 8 51-6-16-8-53-8 11-8 49-8-8-8 70-8 16-8-34-8 25-8-51-8 5-7 69-8 9-16 49-8-61-8-18zM166-397l8-17 8-21 8 96 8 33 8 50 8 59 8-31 8-13-6-5-8 32-8 37-8-45-8-17-16-138-8 47-8-27zM277-328l8-11 8-50 8 6 8-22 8-14 8 30 7 25-6 1-8-13-7-36-8 7-8 11-8-5-8 54-8-2zM364-381l8 6 8-27 8-7 8-14 8-1 8 17 8-22 7-29 8-9 8-2 16 0 16-38 8-7 8-19 16-52 8 5 7 9 8-7 8 2 8-10 8-16 8-9 8-23 8-29 16-17 8-15 15-21 8-6 8-3 8-5 8-3 8 4 16 13 16 4 8 12 8 6 7-5 8 4 8 6 8 8 8 20 8 7 8 2 8 24 8 13 8-10 16-2 7-7 8 2 8-3 8-6 8 9 8 13 8 4-6-6-8 3-16-27-8 4-8 10-8 6-8 0-7-4-8 1-8-3-8-12-16-32-8-3-8-2-8-16-8-12-8 4-8-4-7-10-8-5-8-7-8-4-8-1-8-6-8-4-24 8-16 15-7 10-8 18-8 13-8 16-16 45-8 18-8 7-8-3-8 7-8 1-8-11-7 21-8 15-8 19-8 41-8 1-8-2-8 28-8 9-8-2-8 20-8 8-15 48-8-22-8-11-8-5-8 9-8 25-8 3zM887-596l8-3 7 1 8 6 8 5 8 7 8-1 8-6 8 12 8 15-6-6-8-6-8-8-8-16-8 0-8 6-8-12-8-3-8 9-7 0z"/>
<path transform="matrix(0.25 -0.067848 0 0.25 850.57 645.06)" d="M0-304l8 29 8 14 8-47 8-13 8-34 8-69 7 28 8-25 8-13 8 24 8-52 8-43 8-40 8-30 8 14 8 53 8 5-6 31-8 11-8-50-8-19-8 37-8-11-16 101-8-73-8 3-8 0-8-5-7 82-16 61-8 50-8-7-8-26zM166-375l8-37 8-8 8 71 8 31-6 8-8-33-8-97-8 22-8 17zM293-355l8-4 8-40 8-2 8 22-6-14-8-31-8 14-8 22-8-5zM372-389l8-24 8 13 16-30 8 22 8 3 7-27 16-30 8 0 8 2 8-30 8-24 8-15 16-19 8-25 8-8 7 14 8 4 8-17 8-11 8-10 16-28 16-35 8-10 8-6 8-18 7-15 8-2 16-8 8 2 8 3 8 7 8 12 8 2 8-2 8 5 8 4 15 2 8 3 8 15 8 17 16 15 8 5 8 6 8 9 16-23 7 11 8 1 8-8 8 3 8-4 8 0 8 17 8-1 8-7 8 20 8 17 15 2 8 2 8 3 8 5 16-9 8 8 8 14-6 2-8-14-8-13-8 7-8 1-8-8-8-4-8-6-8-2-7 4-8-7-8-10-8-2-8 0-8-4-8-14-8-9-8 7-8 2-8-1-8 6-15 2-8 11-8-14-8-23-8-2-8-8-8-19-8-9-8-5-8-4-8 5-7-7-8-11-16-5-16-13-8-3-8 3-8 5-8 3-8 6-15 20-8 16-16 16-8 30-8 22-8 9-8 17-8 9-8-1-8 6-7-9-8-4-16 52-8 18-8 8-16 37-16 0-8 3-8 8-7 30-8 22-8-17-8 1-8 13-8 8-8 26z"/>
<path transform="matrix(0.25 -0.067848 0 0.25 852.09 645.76)" d="M0-265l8 11 8 3 8-72 8 5 8-27 7-45 8 18 8-16 8 19 8 7 8-57 8-49 8-36 8-57 8 14 8 35 8-15 7 63 8 0 8-13 8 39 8-8 8 23 8 51-6 18-8-71-8 8-8 37-8-60-8 10-8-22-7-56-8-5-8-53-8-13-8 30-8 40-8 43-8 52-8-25-8 13-8 25-8-28-7 69-8 34-8 14-8 46-8-14-8-28zM230-331l15-57 8 41 8-21-6 22-8-2-8-14-8 45-8-6zM380-409l8 9 8-22 8 3 8 14 8-12 7-1 8-15 8-41 8 19 8 8 8-33 8-4 8-17 8-22 8-3 8-24 8-32 15 3 8-14 16-18 8-1 8-7 8-17 8-14 24-39 7-14 8-11 16 6 8-3 8 5 8 10 16 10 8 2 8-5 8 6 7 13 8-3 8 0 8 15 8 9 16 9-6-2-16-15-8-17-8-15-8-4-16-1-7-4-8-6-8 3-8-3-8-12-8-6-8-4-8-1-16 8-8 2-8 15-7 18-8 6-8 9-16 35-16 29-8 9-8 12-8 17-8-4-8-15-7 9-8 25-16 19-8 14-8 24-8 31-8-3-8 0-16 31-8 26-7-3-8-22-16 30-8-13zM784-622l8-1 8-8 7 0 8 2 8-1 8-15 8-9 8 9 16 16 8 13 8 6 8 16 8 19 15-20 8 10 8 1 8-5 8 6 8 3 8 11-6-2-8-14-8-8-16 9-8-5-8-3-8-3-15-2-8-17-8-19-8 7-8 0-8-17-8 0-8 5-8-4-8 8-8 0-8-11-15 22z"/>
<path transform="matrix(0.25 -0.067848 0 0.25 853.60 646.46)" d="M0-229l8 61 8-17 8-64 8 1 8-74 7-23 8 14 8-51 8-4 8 16 8-57 8-35 8-22 8-64 8 58 8 45 8 7 7 47 8-34 8-2 8 17 8-36 8-1 8 44 8 10-6 54-8-38-8-50-8-23-8 8-8-40-8 14-8-1-7-62-8 15-8-35-8-14-8 57-8 35-8 50-8 56-8-7-8-19-8 17-8-19-7 46-8 26-8-4-8 72-8-3-8-12zM230-357l15-26 8 38 16-9 8-1 8-30 8-40 8-23 8-20 8 16 8 23-6 41-8-35-8-14-8 33-16 30-8 31-8-29-8-1-8 21-8-40-15 56zM380-391l8 18 8-12 8-8 8-1 8-16 7-4 16-64 8 15 8 9 8 6 8-12 8-30 8-4 8-14 8-43 8-22 15-22 8 12 8-11 8-23 8 12 8-6 8-24 16-24 8-14 8-7 15-22 8 3 8 4 8 1 8 0 8 2 8 11 8 7 8-2 8 4 8 6 7 4 8 8 8-3 8-11 16 23 8-7 8 5 8 14 8 7 8 11 8-1 7-20 8-2 8 4 8-17 8-10 8 10 16 30 8 10 8 6 16 23 7 0 8-6 8-5 8 11 8 9 8-8 8 2-6-5-8-4-8-6-8 5-8 0-8-10-16 20-7-19-8-16-8-7-8-13-16-15-8-9-8 8-8 15-8 2-8-3-8 1-7 7-8 1-8-14-8-7-8 3-16-9-8-9-8-15-8 1-8 3-8-14-7-5-8 5-8-2-16-10-8-11-8-4-8 2-16-5-8 10-8 15-23 39-8 14-8 17-8 7-8 1-16 18-8 14-16-4-7 32-8 25-8 3-8 21-8 17-8 5-8 32-8-8-8-18-8 41-8 15-8 0-7 13-8-15-8-3-8 22-8-8z"/>
<path transform="matrix(0.25 -0.067848 0 0.25 855.11 647.16)" d="M0-241l8 81 8-46 8-25 8 10 8-62 8-11 7 6 8-30 8-3 8-18 8-76 8-11 16-100 8 63 8 5 16 120 7-48 8-7 8 24 8-27 8 19 8 30 8-29 8 62 8 8 8-52 8-8 7-49 8 7 8 39 8-17 8-10 8 5 8-31 8-10 8-15 8-42 8 40 8 26-6-10-8-24-8-15-8 20-8 23-8 39-8 31-8 1-16 9-8-38-15 25-8-10-8 57-8-31-8-52-8-10-8-44-8 2-8 35-8-17-8 3-8 33-7-47-8-7-8-44-8-58-8 63-8 23-8 34-8 58-8-16-8 4-8 51-8-14-7 22-8 74-8-1-8 65-8 17-8-61zM427-409l8-23 8-13 8 3 8 9-6-25-8-9-8-15-16 64zM483-485l8-24 8-16 8-30 8-21 7-13 8 2 8 11 8-8 24-34 8-4 16-38 8 2 8-7 7-14 8-2 8-8 8-4 8 12 8-1 8-5 16 30 16 4 8-1 7 1 8 4 16-21 8 2 16 26 16 0 8 21 8 7 8-15 7-8 8-5 8-5 8 7 16-11 8 23 8 18 8-4 8 5 8 12 8 4 7 11 8 3 8-6 16 17-6-10-8-9-8-11-8 5-8 7-8-1-15-23-8-5-8-10-16-30-8-10-8 9-8 18-8-4-8 1-8 20-7 2-8-12-8-7-8-14-8-4-8 7-16-23-8 10-8 4-8-8-8-4-7-7-8-3-8 2-8-7-8-11-8-3-8 1-8-2-8-3-8-3-16 22-7 6-8 14-16 24-8 25-8 5-8-11-8 22-8 12-8-13-15 23-8 21-8 43-8 15-8 3z"/>
<path transform="matrix(0.25 -0.067848 0 0.25 856.63 647.86)" d="M0-214l8 49 8-49 16-82 8-35 7 18 8 7 8-26 8 26 8-15 8-48 8 8 8-67 8-13 8 49 8 1 8 42 7 19 8-36 8-9 8-7 8-23 8 60 8 21-6-28-8-29-8-20-8 27-8-24-8 7-8 48-15-119-8-6-8-62-16 99-8 12-8 75-8 19-8 2-8 31-8-6-7 11-8 62-8-11-8 26-8 45-8-80zM222-289l8-16 7-80 8-6 8 21 8-28 8-5 8-13 8-56 8 13 8-19 8-33 8 39 8 13-7 31-7-26-8-40-8 43-8 14-8 10-8 32-8-6-8 10-8 18-8-39-8-7-8 49-7 7zM483-470l8-47 8-17 8-11 15-36 8 1 8-1 16-15 8-17 8-7 8 6 8-5 8-15 8-9 8-2 7-9 8-18 8-12 8 3 16 9 8 8 8 4 8 13 8 17 8-13 8-16 7 9 8-4 8-11 8 1 8-3 8 9 8 21-6-9-16-27-8-2-16 22-8-4-8-2-7 2-16-5-16-29-8 4-8 2-8-12-8 4-8 8-8 2-8 14-7 6-8-1-16 38-8 4-24 34-8 8-8-11-8-2-8 12-7 22-8 30-8 16-8 23zM784-633l8 5 8-4 7-7 8-4 8 8 8 6 8-3 8 0 8 2 8 9 8 13 8-1 8 2 8 22 7 11-6-12-8-11-7-5-8-11-8-5-8 4-8-18-8-24-16 12-8-8-8 5-8 6-8 8-7 15-8-8zM942-576l8-9 8-14 8 12 8 14-6 0-16-13-8 0-8 7z"/>
<path transform="matrix(0.25 -0.067848 0 0.25 858.14 648.56)" d="M0-200l8 30 8-43 8-27 8-34 8-64 7 12 8 22 8-38 8 20 16-77 8 6 8-32 8 9 8 29 8 32 8 60 7 23 8-42 8-6 16-24 8 64 8-7-6-42-8-21-8-59-8 22-8 8-8 9-8 35-7-19-8-42-8-1-8-49-8 14-8 66-8-8-8 49-8 15-8-27-8 26-8-7-7-17-8 34-16 82-8 49-8-48zM269-355l8-33 8-39 8-7 8-59 8-11 8 16 8-5 7 42 8 24-6 18-8-31-7-23-8-14-8-38-8 33-8 18-8-12-8 55-8 13zM483-490l24-50 8 3 15-57 8 9 8 1 8-22 8-3 8 4 8 2 8 9 8-12 8-22 15-11 8-21 8-14 8 5 16 18 8 4 8 3 8 6 8 5 8-5 8-15 7-10 16 13 8-14 8-2 8 14 8 0 8 3 8 6 8-8 8 12 8 22 15-15 8 10 8-1 8-3 8-2 8-9 8 10 8 20 8 7 8 5 15 24-6-8-8-10-7-22-8-2-8 1-8-14-8-8-8-2-8-1-8 3-8-6-8-8-8 5-8 7-7 4-8-6-8-12-8 6-8 3-8-21-8-9-8 2-8-1-8 12-8 3-8-9-7 16-8 13-8-16-8-14-8-3-8-9-16-8-8-3-8 12-8 18-8 9-7 2-8 8-8 16-8 5-8-6-8 6-8 18-16 15-8 0-8-1-15 37-8 10-8 18-8 47zM942-591l8-3 8 0 8-1 8 11-6 6-8-13-8-12-8 13-8 10z"/>
<path transform="matrix(0.25 -0.067848 0 0.25 859.65 649.26)" d="M0-245l8 37 8-47 8-26 8-16 8-45 8 48 7 0 8-19 8 27 8-61 8-31 8-19 8-54 8 16 8 41 8-1 16 106-7 12-7-22-8-60-8-32-8-29-8-10-8 33-8-7-16 77-8-19-8 37-8-22-7-11-8 64-8 33-8 28-8 43-8-30zM285-418l8-5 8-32 8-13 8 1 8 14 7 30 8 18-6-26-8-24-7-42-8 4-8-15-8 11-8 59-8 7zM483-484l8-16 8-33 8-11 8-1 7-29 8-23 8-3 8 6 8 13 8-5 8-9 8 20 8 2 8-21 8-10 8-18 7-14 8 2 16-27 8 17 8 11 8-9 16 2 8-1 8 6 8-5 7-14 8 3 8 7 8-10 8-15 8-6 16 19 8 1 8 11 8 16 15 26 8-7 8-19 16 12 8-18 8 1 8 16 8 9 8 17-6-13-8-8-8-20-8-10-8 10-8 1-8 4-8 0-8-10-16 16-7-22-8-12-8 8-8-7-8-3-8 0-8-13-8 1-8 15-16-14-8 11-7 14-8 5-8-4-8-7-8-2-8-4-16-19-8-5-8 15-8 20-15 12-8 22-8 12-8-9-8-3-8-4-8 4-8 21-8 0-8-9-15 57-8-4-24 51z"/>
<path transform="matrix(0.25 -0.067848 0 0.25 861.17 649.95)" d="M0-200l8-4 8-39 8-5 8-74 8-47 7 61 8-24 8 18 8 11 8-72 8-7 8-4 8-45 8 17 8 36 8 4 8 69 7 5-6 7-15-107-8 1-8-40-8-16-8 53-8 20-8 30-8 61-8-27-8 20-8 0-7-48-8 45-8 16-8 26-8 47-8-38zM301-453l8-1 8 18 8 6 7 25-6-23-8-29-7-15-8-1-8 13zM483-461l8-39 8-48 8-2 8-10 7-22 8-5 8-9 8 4 8 27 8-6 8-13 8 12 8 3 8-6 8-12 8-17 7-1 8-4 8-16 8-10 8-7 8 0 8 8 8-12 8-7 8 21 8 3 8-7 7 3 16-24 8 6 8-17 8-21 16 38 8 7 8 12 23 32 8-6 8-13 8-3 8 5 8 7 8-6 8-3 8 19 8 10-6-5-8-17-8-9-8-17-8 0-8 18-16-12-8 19-8 6-15-25-8-17-8-10-8-1-16-20-8 7-8 15-8 9-8-6-8-3-8 13-7 6-8-6-8 1-16-3-8 10-8-11-8-18-16 28-8-2-8 14-7 17-8 11-8 21-8-2-8-21-8 9-8 5-8-12-8-6-8 3-8 23-8 28-7 1-8 12-8 32-8 17zM950-588l8-16 8-5 16 4-6 15-8-8-8-6-8 5-8 3z"/>
<path transform="matrix(0.25 -0.067848 0 0.25 862.68 650.65)" d="M0-151l8-6 8-41 8 4 8-74 8-27 8 17 7-28 8 14 8-26 8-61 16-65 8-18 8 57 8 18 8 26-6-18-8-3-8-36-8-18-8 45-8 4-8 7-8 72-8-11-8-17-8 23-7-60-8 46-8 74-8 5-8 40-8 3zM475-487l8-7 8-20 8-39 8-23 8 19 7 6 8-22 8-2 8 9 16-2 8 1 8-10 8 8 8 20 16-34 7 0 8-13 8-18 8-12 8-19 8-2 8 13 8-2 8-3 8 5 8 8 8 4 15-37 8 1 8-3 8-5 8 2 8-4 8 20 8 31 8-8 8-7 8 23 7 6 8-5 8 4 8-8 8 5 8 15 8-11 8-17 16 15 8-2-6 4-8 8-8-10-8-18-8 3-8 6-8-7-8-5-8 2-8 13-8 7-23-33-8-12-8-6-16-38-8 20-8 18-8-7-16 24-8-3-7 8-8-3-8-22-8 7-8 12-8-7-8 0-8 7-8 10-8 16-8 4-8 1-7 16-8 12-8 7-8-4-8-12-8 14-8 5-8-26-8-4-8 9-8 5-8 21-7 11-8 2-8 48-8 38-8-10zM942-601l8-4 8 0 8-11 8-5 8 18-6-6-16-5-8 5-8 16-8-3z"/>
<path transform="matrix(0.25 -0.067848 0 0.25 864.20 651.35)" d="M0-145l8-25 8-20 8-5 8-69 8-4 7 12 8 0 8 19 8-30 8-68 8-22 8-33 8-41 8 47 8 11 8 28-6-21-8-25-8-19-8-56-8 18-16 64-8 61-8 27-8-15-8 29-7-17-8 27-8 73-8-4-8 42-8 5zM467-488l8-17 8-13 8 1 16-43 15 16 8 0 8-21 8-15 8 13 8 8 8-2 16 16 8 6 8 7 8-24 7-39 16-13 8-28 8-10 8 6 8 4 8 12 8 1 8-19 8 8 8 12 15-39 8 4 8 7 8 5 8-3 8-5 16 26 8 5 8-2 8 3 7 23 8 16 8-16 8-3 8 10 8-11 8-8 8-6 8-15 8 6 8 20 8-6-7-4-7 3-8 2-16-14-8 16-8 12-8-16-8-4-8 8-8-4-8 5-8-6-7-23-8 6-8 9-8-31-8-21-8 4-8-1-8 4-8 3-8 0-16 36-7-3-8-9-8-4-8 3-8 1-8-13-8 2-8 19-8 13-8 17-8 14-8-1-15 34-8-19-8-9-8 11-8-2-16 2-8-9-8 3-8 21-8-5-7-19-8 22-8 39-8 21-8 7-8 2zM934-602l8-12 8-1 8 8 16-4 8 7-6-4-8-17-8 5-8 11-8 0-8 3-8 6z"/>
<path transform="matrix(0.25 -0.067848 0 0.25 865.71 652.05)" d="M0-82l8-68 8-18 8-10 8-67 8-8 7 0 8-19 8 34 8-4 8-74 8-6 8-27 8-3 8 50 8-12-6-64-8-10-8-47-8 40-8 34-8 21-8 69-8 30-8-19-8-1-7-11-8 4-8 68-8 6-8 19-8 26zM459-476l16-45 8 25 8 2 8-18 8 7 8-22 7-15 8 18 16-65 16 40 8 6 8 8 8 0 8 6 8 0 15-57 8-19 8-7 8-2 8-20 8-11 8 17 8 3 8-18 8-2 8 1 8 3 7 16 8-7 8-15 8 18 8 7 8-21 8-3 8 4 8 3 8 20 8 9 8-1 7 20 8 16-6-11-8-17-8-22-7-3-8 1-8-4-16-27-8 6-8 3-8-5-8-7-8-4-16 38-7-12-8-7-8 19-8-1-8-12-8-5-8-5-8 10-8 28-16 13-8 39-7 24-8-7-8-6-16-17-8 3-8-8-8-13-8 14-8 22-8-1-15-16-16 44-8-1-8 13-8 17-8 6zM839-609l16-7 8-12 8-3 16 13 8 11-7-8-7 5-8-19-8-7-8 16-8 5-8 8-8 11zM926-598l8-16 8-3 8 9 8 1 8 7 8 2 8-9-6-2-8-7-16 4-8-8-8 2-8 12-8 4z"/>
<path transform="matrix(0.25 -0.067848 0 0.25 867.22 652.75)" d="M0-108l8-51 8 3 8-18 8-37 8 9 8-4 7-13 8 33 16-93-6-42-8 75-8 4-8-35-8 20-7 0-8 7-8 68-8 9-8 18-8 69zM111-298l8-14 8 45 8 15 8-34-7-15-7 27-8-19-8-26-8 13zM459-482l8-5 8-15 8 10 8 17 8 0 8-20 8-24 7 6 8-5 8-15 8-7 8-16 8 15 8 30 16-42 8 19 8-11 8-20 7-8 8-25 8-7 8 10 16-51 8 1 8 3 8-3 8-5 8 3 8 23 7 16 16-6 8-11 8-1 8 4 8-20 8-10 8 29 8 16 8 3 8 12 7-1 8 0 8 11 8-18 8-25 8 7 8 4 8-12 8-4 8-1 8 2 8 8 7-2 8-6 8 7 8 14 8 8 16-7 8 10 8 3 8-12-6 3-8-2-8-7-8-1-8-8-8 3-8 15-8-10-8-11-8 12-8 1-7-12-16-12-8 2-8 12-16 8-8 11-8 15-8 8-8-16-8-20-7 1-8-9-8-20-8-3-8-5-8 4-8 20-8-6-8-18-8 14-8 7-8-16-7-2-8-1-8 2-8 18-8-3-8-18-8 12-8 20-8 1-8 7-8 20-15 57-8-1-8-5-8 0-8-9-8-5-16-40-16 65-8-18-7 14-8 23-8-8-8 19-8-3-8-25-16 46z"/>
<path transform="matrix(0.25 -0.067848 0 0.25 868.74 653.45)" d="M0-162l8-50 8-9 8-18 8-5 8 33 7-15 8 11 8 61 8-44 8-27 8-33 8-59 8 22 8 6 8-6 8 33 8 5 7-13 8 25 8-17 8 22 8 58 8-29 8 21-6-43-8 3-8-2-8-44-8 25-8-16-8-24-7 34-8-15-8-44-8 14-8-42-8-20-8 75-8 5-16 94-8-34-8 14-7 4-8-9-8 37-8 17-8-2-8 50zM467-442l8-14 8-23 8 5 8 14 8-21 8-27 7 3 8 8 8 1 8-17 8-20 8-3 8 10 8-2 8-21 8-12 8 15 8 8 7-32 8-18 8 1 8-21 8-18 8-12 8-27 8 8 8 29 8-8 8 2 8 29 7 8 8 0 8-5 8-19 8 0 8 8 16-13 8 8 8 14 8 10-6-15-8-2-8-16-8-29-8 9-8 20-8-4-8 2-8 10-16 6-8-16-7-22-8-4-8 6-8 3-8-3-8-1-16 50-8-9-8 7-8 24-8 9-7 20-8 10-8-18-16 42-8-31-8-15-8 17-8 6-8 15-8 6-8-7-7 25-8 19-8 0-8-16-8-10-8 14zM831-605l8-3 8-15 8 3 8 10 8-24 8-19 8 12 8 2 7 0 8 12 8 4 8 13-6-3-8-13-8-8-8 6-8 3-7-9-8-2-8 2-8 4-8 11-8-4-8-7-8 26z"/>
<path transform="matrix(0.25 -0.067848 0 0.25 870.25 654.15)" d="M0-154l8-53 16-50 8-22 8 48 7-15 8-5 8 21 8-22 8-5 8-46 8-30 16 57 8 25 8 41 8-8 7-10 8 26 8-35 8 12 8 25 8-12 8 22-6-5-8-21-8 30-8-59-8-21-8 16-8-24-7 12-8-5-8-33-8 6-8-5-8-22-8 59-8 33-8 27-8 44-8-62-8-11-7 15-8-33-8 6-8 17-8 10-8 49zM475-459l8 1 8-10 8 6 8 23 15-45 8 20 8-6 8-41 8-20 8-16 8-3 8 12 8-3 8-12 16 19 7-19 8-30 8-21 8-8 8-12 8-17 8-3 8 6 8 10 8 21 8 1 8-13 7 20 8 17 8-21 8-4 8 10 8-4 8 9 8-4 8-26 8 2 8 17 8-15 7-10 8 9 8 11 8 9 8-8 8-15 16-5 16-29 8-5 15 34 8-2 8 8-6-7-8-4-8-11-8 0-7-2-8-12-8 18-8 24-8-9-8-3-8 14-16 6-8-1-8-9-8 8-7 10-8-9-8-15-8-7-16 13-8-9-8 0-8 19-8 5-8 0-8-8-7-28-8-2-8 7-8-28-8-8-8 27-8 12-8 17-8 22-8-2-8 19-8 31-7-8-8-14-8 12-8 20-8 3-8-10-8 2-8 20-8 17-8 0-8-8-8-4-7 28-8 20-8-14-8-5-8 23z"/>
<path transform="matrix(0.25 -0.067848 0 0.25 871.76 654.85)" d="M0-209l8-48 8-1 8-33 8 7 8 46 8-30 7 23 8-3 8-51 8-9 8-30 8-39 16 75 8 12 8 63 8-4 8-11 7 19 8-12 8 30 8 28 8 7 8 13 8-6 8-27-6-40-8 26-8 9-8-21-8 12-8-26-8-11-8 34-8-25-7 10-8 8-8-42-8-24-16-58-8 31-8 45-8 5-8 22-8-20-8 5-7 15-8-48-8 22-16 49-8 54zM285-285l8-8 16-38-6-23-8 16-8-12-8 36zM475-454l8-11 8-5 8 35 8 16 15-22 8-25 8-20 8-5 8-46 8-27 8 27 8 2 8-5 8 8 8-18 8-11 7 11 8-31 8-38 8 8 8 7 8-9 16-9 8 7 8 14 8-3 8-7 7 9 8 23 8 13 16-26 8 14 8-3 8-29 8-16 8-5 8-1 8 16 7-3 8-11 8 25 8 10 8-24 8-11 8-6 8-10 8 2 8-5 8-8 8 15 7 18 8 2-6-12-8 3-15-35-8 6-16 29-16 4-8 16-8 8-8-9-8-11-8-9-8 10-7 14-8-16-8-2-8 25-8 4-8-8-8 4-8-11-8 4-8 21-8-17-8-20-7 14-8-2-8-21-8-9-8-6-8 3-8 17-8 11-8 8-8 22-8 29-7 20-16-19-8 11-8 3-8-11-8 3-8 16-8 20-8 41-8 6-8-21-15 46-8-24-8-6-8 11-8-2z"/>
<path transform="matrix(0.25 -0.067848 0 0.25 873.28 655.55)" d="M0-237l8-34 8-18 8-85 8 33 8 43 7-28 8 23 8-8 8-24 8 15 8-21 8-34 8 45 8 15 16 60 8-53 7 18 8 11 8-19 8 55 8 48 8 19 8 48 8-7 8-53 8 13 8-38 8-47 7 5 8-11 8 22 8 10 8-44 8-30 8 4 8 2 8-4 8-13-6-17-16 39-8 8-8-3-8-2-8 35-8-7-8-23-8-2-7-13-16 88-8 21-8 27-8 7-8-13-8-8-8-27-8-31-8 13-8-19-7 11-8 3-8-63-8-12-16-75-8 39-8 31-8 9-8 51-8 3-8-23-7 29-8-46-8-7-8 33-8 1-8 49zM467-454l8 32 8-18 8-9 8 28 8 7 8-8 7-17 8-42 8-18 8 3 8-29 8-22 8-2 16 24 16-47 8 7 7-1 8-5 8-4 8-22 8 9 8 19 8-37 8-24 8 21 8 3 8 0 8 18 7 4 8 18 8 29 8-15 8-29 8-5 8-7 16-43 8-7 8 14 8 10 7-2-6-2-8 3-7-16-8 0-8 6-8 16-8 29-8 3-8-15-16 27-8-14-8-22-8-10-7 8-8 3-8-14-8-7-16 8-8 10-8-7-8-9-8 39-8 31-8-12-7 12-8 18-8-9-8 6-8-3-8-27-8 28-8 46-8 5-8 20-8 25-15 21-8-16-8-34-8 4-8 12-8 8zM831-621l8 6 8-19 8-16 8 12 8 2 8-8 8 4 8-2 7 3 8 17-6-4-8-3-8-17-7-15-8 8-8 4-8-2-8 11-8 5-8 12-8 23z"/>
<path transform="matrix(0.25 -0.067848 0 0.25 874.79 656.25)" d="M0-233l8-11 8-34 8-73 8 6 8-1 8 8 7 11 8-43 8-23 8 21 8-23 8 3 8 33 8-16 8 64 8 27 8-41 7 20 8 0 8 10 8 56 8 26 8 16 8 43 8-29 8-26 8 0 8-47 8 19 7 2 8-21 8 41 8-4 8-52 8-11 8-23 8-16 8 46 16-43-6-9-8 4-8 13-8 4-8-3-8-4-8 31-8 43-8-9-8-22-8 10-7-5-8 48-8 37-8-12-8 52-8 8-8-48-8-20-8-47-8-56-8 19-8-10-7-18-8 52-16-59-8-15-8-45-8 34-8 20-8-15-8 25-8 8-8-23-7 28-8-44-8-33-8 86-8 18-8 34zM515-417l7-36 8-23 8-5 8-17 8-8 8-17 8-44 8 2 8 17 8-20 8-15 8 13 15 31 8-5 8-19 8-2 8-5 8-18 8-24 8-14 8 24 8 29 8-7 7 10 8 25 16-10 8-12 8-36 8-5 8 11 8-30 8-16 8 14 8 0 7-3 8 0 8-10 8 7 8 15 8-3 8-8 8-1 8 4 8-2 8-15 8-8 7 10 8 8-6 9-8-18-8-2-7 1-8-4-8 8-8-2-8-11-8 15-8 20-8-6-8-2-8 2-8 0-8 2-7-10-8-14-8 7-16 42-8 8-8 4-8 30-8 15-8-29-8-19-8-4-7-18-8 0-8-2-8-21-8 23-8 38-8-19-8-10-8 22-8 4-8 6-8 1-7-8-16 48-16-25-8 3-8 22-8 28-8-3-8 18-8 43-8 17z"/>
<path transform="matrix(0.25 -0.067848 0 0.25 876.30 656.95)" d="M0-264l8 0 16-99 8 19 16 20 7 23 8-37 8-43-6-16-8 23-8 43-8-12-7-7-8 0-8-6-8 74-8 33-8 12zM103-411l8-4 8 41 8 12 8 8 8 15 7 9 8 37 8 50 8 18 8 36 8 28 8-48 8-5 8-19 8-34 8 17 8-21 7-13 8 27 8-4 8-27 8-11 8-20 8 28 8 38 8-24 8 3 8-17 7-29 8 1-6-14-8 27-7 18-8-34-16 42-8-45-8 15-8 23-8 12-8 52-8 4-8-42-8 22-7-2-8-19-8 46-8 0-8 26-8 30-8-43-8-16-8-26-8-56-8-10-8-1-7-20-8 41-8-27-8-63-8 15zM483-424l8-22 8-12 8 0 8 18 7 15 8-35 8-29 8 9 8-17 8-44 8-24 8-15 8 2 8 27 8-9 8-11 7 38 8 21 8-25 8-14 8-9 8-14 8 3 8-12 8-20 8 18 8 26 8-4 7-8 8 1 8 8 8 0 8-21 8-10 8-3 8-9 8-3 8-20 8-30 15 22 8-16 8 6 8 21 8 5 8 12 8 0 8-23 8-2 8 5 8-17 8-10 7 7 8 12 8 15-6-11-16-15-8-11-7 9-8 15-8 1-8-4-8 2-8 8-8 3-8-15-8-7-8 9-8 1-8 3-7 0-8-14-8 15-8 30-8-11-8 5-8 36-8 13-16 10-8-25-8-10-7 6-8-28-8-25-8 14-8 24-8 18-8 6-8 1-8 20-8 4-15-30-8-14-8 15-8 21-8-18-8-1-8 43-8 18-8 7-8 18-8 4-8 23-7 36-8-6-8-23-8 21-8 13z"/>
<path transform="matrix(0.25 -0.067848 0 0.25 877.82 657.65)" d="M0-278l8 4 8-40 8-61 8 3 15 26 8 39 8-52 8-40-6 14-8 43-8 36-8-23-15-19-8-20-16 99-8 1zM142-354l8-1 8 13 8 59 8 10 8 27 8 43 16-25 8-20 8-8 8-2 15-33 8-10 8-5 8 0 8-15 8-32 16 62 8 0 8 4 8-33 7-9 8 15-6-9-8-2-7 30-8 17-8-4-8 25-8-39-8-28-8 21-8 10-8 27-8 5-8-28-8 14-7 21-8-18-8 34-8 19-8 5-8 48-8-27-8-37-8-18-8-50-8-37-8-8zM475-422l8-19 8-15 8 11 8-14 8 21 7 31 8-39 8-48 8-13 8-11 8-22 8-30 8-10 8 30 8 15 8-1 8 6 7-6 8 10 8 13 8-30 8-23 8 21 8-4 8-17 8 1 8-15 8-4 8 20 7-13 8-20 8 23 8 12 8-11 8-7 16-30 8-5 8-22 8-26 8-2 15 34 8 0 8 2 8 22 8 8 8-18 16-17 8-6 8 8 8-8 7-12 8 18 8 15-6-7-8-15-8-11-8-7-7 10-8 16-8-4-8 2-8 22-8 1-8-12-8-6-8-20-8-6-8 16-15-22-8 30-8 20-8 2-8 9-8 4-8 10-8 21-8 0-8-9-8-1-8 9-7 4-8-26-8-19-8 20-8 13-8-3-8 14-8 8-8 15-8 24-8-21-8-37-7 11-8 9-8-27-8-2-8 15-8 23-8 45-8 17-8-10-8 29-8 35-8-14-7-18-8 0-8 11-8 23-8 1z"/>
<path transform="matrix(0.25 -0.067848 0 0.25 879.33 658.35)" d="M0-273l8-4 8-34 8-21 8 8 8-37 8 16 7 21 8-78 8-17 16-53 8 64 8 22 8 0 8 52 8 19 8-16 7 16 8-33 8 4 8 55 8 7 8 35 8 9 8-20 8 5 8-27 8-32 8 16 7-3 8-22 8 18 8-22 8-11 8 14 8-34 8-9 8 31 8 22 16-15 7-5-6-2-7 9-8 34-8-4-8-1-16-62-8 32-8 15-8 1-8 5-8 10-15 32-8 3-8 7-8 20-16 25-8-42-8-27-8-10-8-59-8-13-8 1-7-3-8 19-8-16-8-49-8 0-8 4-8-19-8 24-8-5-8 40-8 52-8-40-15-26-8-2-8 61-8 40-8-4zM459-390l8-48 8-30 8 12 8 23 8-19 8 6 8 31 15-34 8-21 8-56 8-5 8 21 8-35 8-13 8 27 8 0 8 4 8 2 7-16 8 13 8 25 8-3 8-15 8-11 8-2 8-4 8-37 8-28 8 7 8 2 7 7 8 8 8-10 8 19 8 23 16-72 8 4 8-14 8-19 8-2 8-7 7 14 8 29 8-3 8-10 8 13 8 8 8-9 8-12 8-7 8 5 8 1 8-9 7-5 8-4 8 3-6 19-8-14-8-18-8 12-7 7-8-7-8 6-16 17-8 17-8-7-8-22-8-3-8 1-16-34-7 1-8 27-8 22-8 4-16 30-8 8-8 10-8-12-8-22-8 20-8 12-7-20-8 5-8 14-8-1-8 18-8 3-8-20-8 23-8 29-8-12-8-10-8 5-7-5-8 1-8-16-8-29-8 10-8 29-8 23-8 10-8 14-8 48-8 39-7-32-8-21-8 15-8-12-8 15-8 19-8-12-8 51z"/>
<path transform="matrix(0.25 -0.067848 0 0.25 880.85 659.04)" d="M0-331l8 6 8-39 8-8 8 18 8-34 7 35 8 4 8-50 8-8 8-35 8 6 8 46 8 12 8 15 8 28 8-20 8 9 7 8 8-38 8 53 8 35 8 13 8 58 8-10 8-29 8 6 16-85 8 26 7-18 8-13 8 1 8-40 8 8 8-6 8-31 8 20 8 28 8 34 8 43 8-17 7-26-6-11-8 5-15 16-8-22-8-32-8 10-8 34-8-14-8 10-8 22-8-17-8 22-8 3-7-16-8 32-8 26-8-4-8 20-8-9-8-35-8-7-8-55-8-4-8 33-7-16-8 16-8-19-8-53-8 0-8-22-8-63-16 53-8 16-8 79-8-21-7-17-8 37-8-8-8 21-8 34-8 5zM396-296l8-10 8 35 8 8 7-25 8-19-6-17-8 27-8 10-23-26zM459-389l16-77 8 2 8 23 8-5-6-11-8 20-8-23-8-12-8 29-8 49zM522-449l8-2 8-22 8-12 8-5 8-2 8 6 8-26 8-42 8 20 8 27 8-29 7 8 8 33 8 5 8 18 8-8 8-48 8-13 8-2 8-45 8-28 8 2 8 16 7 19-6-13-8-7-7-2-8-6-8 27-8 38-8 4-8 2-8 10-8 15-8 4-8-25-8-13-8 16-7-2-8-4-8 0-8-27-8 13-8 35-8-21-8 5-8 55-8 21-8 17zM744-574l8-16 8-25 8-21 8 9 8 6 8-21 8-1 7 17 8 0 8 6 8 3 8-12 8 13 8 17 8-17 8-12 8 5 8-10 8-11-7 3-7 9-8-1-8-5-8 7-8 12-8 8-8-7-8-14-8 11-8 3-8-30-8-13-7 7-8 2-8 18-8 14-8-3-16 71z"/>
<path transform="matrix(0.25 -0.067848 0 0.25 882.36 659.74)" d="M0-351l8-15 8-41 8-4 8-8 8-33 7 25 8 1 8 4 8-3 8-31 8 23 8 62 8 22 8 9 8 13 8-27 8 20 7-4 8-27 8 31 8 28 8 37 8 20 8-19 8-5 8-1 8-30 8-5 8-2 7-18 8 24 8-49 8-60-6 31-8 40-8-2-8 14-7 18-8-27-16 85-8-6-8 29-8 10-8-58-8-12-8-35-8-53-8 38-7-8-8-9-8 20-8-29-8-15-8-12-8-46-8-6-8 35-8 8-8 50-8-3-7-35-8 33-8-17-8 8-8 38-8-5zM301-386l8 47 8 68 8-22 7-30-6-8-7 26-8 17-8-42-8-35zM372-344l8 43 8 20 8-7 8-2 8-22 8-1 7 24 8-51-6 28-8 20-8 25-7-9-8-35-16 21-8-37-8-23zM459-388l8-32 8-15 8-38 8-6 8 28 16-42 7 37 8 22 8-5 8-9 8-14 8-5 8-4 8-29 8-37 8-4 16 54 7-5 8 1 8 37 8 3 8-39 16-58 8-25 8 2 8-24 8-33 8 30 7 19 8-21 8-4 8 5 8-3 8 12 8-8 8-21 16 16 16-34 7-6 16 21 8-3 8 5 8 11 8 4 8 1 8-15 8-24 8-3 8-5 7-20 8-4 8 7-6 1-8-1-8 11-8 8-7 12-8 9-8-4-8 12-8 17-8-18-8-12-8 12-8-4-8-6-8 1-8-18-7 2-8 21-8-7-8-8-8 21-8 24-8 16-8-4-8-11-8 8-8 2-8-19-7-15-8-2-8 28-8 45-8 2-8 12-8 49-8 8-8-19-8-5-8-32-8-8-7 28-8-26-8-21-8 42-8 27-8-6-8 2-8 4-8 12-8 23-8 2-8-13-7 0-8 15-8 5-8-22-8-3-16 77z"/>
<path transform="matrix(0.25 -0.067848 0 0.25 883.87 660.44)" d="M0-377l8-21 8-56 8 28 8-3 8-23 8 23 15-31 8 12 8-25 8-17 8 59 16 63 8 21 8-20 8 28 8 14 7 1 8 8 8 13 8 27 8 19 16-47 8 1 8-22 8 1 8-8 7-17 8 6 8-27 8-36-6-12-8 60-8 49-8-24-7 17-8 3-8 4-8 31-8 0-8 6-8 18-8-19-8-38-8-27-8-32-8 28-7 3-8-20-8 27-8-12-8-10-8-21-8-62-8-23-8 30-8 3-8-4-8-1-7-24-8 32-8 8-8 4-8 41-8 16zM293-377l8 18 8 45 8 19 8-13 7-6 8-39-6 36-8-10-7 29-8 23-8-69-8-47-8-14zM364-321l8-4 8 33 8 1 8-5 8-7 8-40-6 27-8 21-8 2-8 7-8-19-8-43-8 13zM459-404l8-12 8-54 8-37 8 11 8 4 8 17 8 27 7-9 8 36 8 43 8-48 8-38 8 13 16-42 8-3 8-21 8 18 8 46 7-12-6-31-7 5-16-55-8 4-8 37-8 30-8 3-8 6-8 14-8 9-8 5-8-23-7-37-16 43-8-29-8 7-8 38-8 14-8 33zM649-488l8-40 8-25 8 1 8-7 8-25 16-36 7 4 8 14 8-18 8-6 8 37 8 13 8-11 8 3 16-27 8 4 15-45 8 19 8 15 8-1 8 7 8 0 8-4 8-1 8-16 8-21 8-9 15-5 8-9 8-5-6 10-8-7-8 4-8 20-7 5-8 2-8 24-8 16-8-2-8-4-8-10-8-5-8 2-16-20-8 6-15 33-16-16-8 22-8 7-8-11-8 2-8-4-8 3-8 22-8-20-7-29-8 33-8 24-8-2-8 25-16 58z"/>
<path transform="matrix(0.25 -0.067848 0 0.25 885.39 661.14)" d="M0-421l16-82 8 41 8 4 8-2 7 20 8-15 8-11 8 6 8-42 8 9 8 42 8 14 8 65 8-1 8-26 8 38 7-1 8-11 8 31 8 10 8 13 8 50 8-22 8-17 8 14 8-29 16-21 7-17-6 8-7 17-8 8-8-2-8 22-8 0-16 47-8-19-8-28-8-12-8-8-8-1-7-15-8-27-8 19-8-21-16-62-8-59-8 16-8 26-8-13-16 31-7-22-8 22-8 3-8-27-8 56-8 21zM293-357l8 3 8 29 8 37 8-6 7-10 8-8-6-45-8 38-8 6-7 13-8-18-8-46-8-18zM364-285l8-23 8-38 8 11 8 8 8-31-6 50-8 8-8 4-8 0-8-34-8 4zM459-429l8-7 8-54 8-37 8 11 8 29 8 40 8 12 7-5 8 28 8 16 8-16 16-58 8 22 8 15 8-45 8-10 8 23 8-13-7 20-7-46-8-18-8 21-8 3-16 42-8-13-8 38-8 49-8-44-8-35-8 8-7-26-8-18-8-3-8-12-8 38-8 54-8 12zM649-472l8-44 8-28 8 6 8-24 8-27 8-19 8-28 7 3 8 23 8 7 8 5 8 12 8 20 8 8 16-47 8 0 8-9 8-7 7-1 8-9 8 11 8 18 16-34-6 19-8 1-8-7-8 1-8-15-8-19-15 45-8-5-16 28-8-3-8 11-8-14-8-36-8 5-8 19-8-15-8-4-15 36-8 25-8 7-8-1-8 26-8 39zM871-651l8-8 8-14 8-3 7 6-6-2-15 4-8 9-8 22z"/>
<path transform="matrix(0.25 -0.067848 0 0.25 886.90 661.84)" d="M0-386l8-57 8-22 8 13 8-3 8 7 8-16 7-57 8 4 8 10 8-39 8 36 8 31 8 42 8 81 8-11 8-24 8 9 7-10 8 3 8 12 8-15 16 69 8-27 8 13 8-20 8-13 8 37 8-20 7-14 8 29 8-21 8-33-6-30-8 32-8 18-8 7-7 17-16 20-8 30-8-14-8 17-8 21-8-49-8-14-8-10-8-30-8 11-7 1-8-39-8 26-8 1-8-64-8-14-8-42-8-10-8 42-8-5-8 10-8 16-7-20-8 1-8-4-8-40-16 81zM285-409l8 50 8-11 8 14 8 49 8 28 7 14 8-10 8-17 8 14 8 2 16-76-6 2-8 38-8 23-8-16-8-12-8 1-8 8-7 10-8 5-8-36-8-30-8-3-8-29zM459-454l8-23 8 10 8-28 8-21 8 51 8 42 8-19-7 2-7-11-8-41-8-28-8-11-8 37-8 54-8 6zM538-420l8 22 8-8 8-30 8 12 8 10 16-71 8-22 8 5 7 7-6 13-8 0-7 12-8-22-8 10-8 44-8-14-8-22-16 57-8 16zM649-489l8 7 8-34 8-61 16-6 8-44 8-7 7 20 8 7 8 32 8 11 8-22 8 15 8 20 16-49 8-2 16 5 15-30 16 3 8-10 8-14 8-10 8 5 8 0 8-18 8-9 8-1 7-9 8-6 8-4 8-8 8 8 8 15-6-3-8-1-8-5-8-5-16 24-8-5-7 3-8 13-8 8-8 13-8 7-8-5-16 35-8-19-8-11-8 10-8 1-7 7-8 8-8 0-16 47-8-8-8-20-8-12-8-4-8-8-8-23-8-2-7 28-8 19-8 27-8 24-8-6-8 27-8 45z"/>
<path transform="matrix(0.25 -0.067848 0 0.25 888.41 662.54)" d="M0-379l8-36 8-10 8 16 8-13 16-14 7-66 8-22 8-4 8-6 8 26 8 10 16 91 8 3 8-3 8-18 8-13 7 38 8 21 8-19 8 30 8 1 8-13 8 7 8-40 8-2 8 35 23 23 8-16 8-1 8-23 8-37 8 37 8 20 8 23 8 47 8-1 8 35 7 45 8-50 8-35 8 24 8-27 8-20 8-7-6-14-16 77-8-3-8-13-8 16-8 10-7-14-8-28-8-48-8-15-8 12-8-51-8-12-8 35-8-5-8 33-8 20-8-29-7 15-8 20-8-38-8 13-8 20-8-13-8 27-16-69-8 16-8-13-8-3-7 10-8-9-8 25-8 11-8-81-8-42-8-32-8-35-8 38-8-9-8-5-8 58-7 16-8-7-8 3-8-13-8 21-8 57zM467-444l8-9 8-15 8-3 8-15 8 21 8 38-6-20-8 19-8-41-8-52-8 22-8 28-8-10zM546-369l8-8 8 0 8-37 8-29 8-2 16-110 15 51 8-1-6-7-8 12-7-7-8-5-8 22-16 71-8-10-8-12-8 31-8 8zM657-493l8-33 8-49 8-18 8 7 8 2 8-20 7-9 8 34 8 16 8-16 8 5 16 5 8 20 8-14 8-31 8 12 8-1 7-35 8-18 8-6 8-9 8 3 8-7 8-12 8 3 8 0 16-27 8-10 7-4 8-2 8-5 8 1 8 7 8 9-6 5-8-14-8-8-8 7-8 4-8 7-8 8-7 1-8 10-8 18-8 0-8-6-8 11-8 14-8 9-16-2-16 29-15-4-8 2-16 48-8-19-8-15-8 22-8-12-8-32-8-7-8-19-7 6-8 44-16 6-8 61-8 35z"/>
<path transform="matrix(0.25 -0.067848 0 0.25 889.93 663.24)" d="M0-361l8-44 8-29 8 16 8-16 8 6 7-10 8-51 8 4 8-11 8 5 8 26 8-1 8 18 8 36 8-9 8-24 8-3 7-19 8 23 8 31 8-7 8 7 8 5 8 6 8-9-6 33-8-6-8 13-8-1-8-30-8 19-8-21-8-39-7 13-8 18-8 4-8-4-16-90-8-11-8-26-8 7-8 4-8 22-8 66-15 13-8 13-8-15-8 10-8 35zM222-385l8 18 7 7 8-19 8-27 8 2-6 26-8 1-8 15-23-23zM285-415l8 35 8 48 8 30 8 6 8 25 7 14 16-54 8-22 8 8 8 18 8-52 8-28-6-8-8 47-8 7-8 21-8 27-8-25-8 35-8 50-8-44-7-35-8 0-8-46-8-24-8-20zM467-404l8-25 8-13 8-19 8-32 8 19 8 38 7 15-6-27-8 17-7-38-8-21-8 15-8 2-8 15-8 10zM578-449l8-32 8-25 8-15 8-29 7 24 8 43-6-27-8 1-15-50-16 110-8 2zM649-519l8-7 8-17 8-4 8-25 8 6 8 27 8-24 7-36 8 11 8 15 8 1 8-1 8 4 8 23 8 12 8-11 16-44 8-14 7-10 8-34 8-21 8 13 8 0 8-12 8-2 16-18 8-2 16-27 15 3 8-3 8 2 8 4-6 1-8-7-8-1-8 5-8 2-8 5-7 10-16 27-8 0-8-4-8 13-8 6-8-2-8 8-8 7-8 17-8 36-7 1-8-12-8 31-8 13-8-20-16-5-8-5-8 16-8-15-8-34-8 9-7 20-8-2-8-7-8 17-8 49-8 33-8-6z"/>
<path transform="matrix(0.25 -0.067848 0 0.25 891.44 663.94)" d="M0-340l8-48 8 1 8-8 8-36 8 38 8-26 7-54 8-1 8-30 8 6 8 40 8-4 8 5 8 46 8 2 8-1 8-16 7-36-6-9-7 19-8 2-8 24-8 9-8-36-8-17-8 1-8-27-8-4-8 10-8-3-8 50-7 11-8-7-8 17-8-16-8 28-8 44zM214-437l8 52 8 11 7-3 8-6 8-36-6 9-8 27-8 18-7-6-16-38zM285-429l8 53 8 41 16 0 8 5 7 12 8 10 8-7 8-23 8 12 8 22 8-37 8-51-6 0-8 29-8 51-8-17-8-8-8 22-16 54-7-15-8-24-8-7-8-29-8-48-8-35zM475-426l8 12 8-52 8 3 8 31 8 8 7 42-6-44-7-14-8-39-8-19-8 33-8 19-8 13zM578-479l8-5 8 2 8-30 8-36 7 6 8 11 8-6 8-19 8-13 8 40 8 31 8-34 8-9 8 15 8-17 8-8 7-15 8-37 8 23 8 39 8-15 8-1 8 28 8-3 8-17 8-20 8-33 8-16 7-4 16-37 8-7 8 0 8-5 8-16 8-11 8-2 16-12 8-4 7-6 8 1 8 4 8-3-6 1-8-1-8 3-16-3-15 27-8 1-16 19-8 2-8 11-8 1-8-13-8 21-8 33-8 10-7 15-16 44-8 11-8-12-8-23-8-5-8 2-8-1-8-15-8-12-8 36-7 25-8-27-8-6-8 25-8 4-8 17-8 6-8-24-8 25-8 36-8-43-8-25-7 29-8 15-8 25-8 33z"/>
<path transform="matrix(0.25 -0.067848 0 0.25 892.96 664.64)" d="M0-378l8-41 8 34 8 10 8-4 8 21 7-34 8-24 8-34 8-49 8 3 8 24 8 0 8 26 8 11 8-1 8 43 15-64-6-10-7 37-8 15-8 2-8-2-8-47-8-4-8 4-8-40-8-6-8 29-8 2-8 53-7 27-8-38-8 36-8 7-8 0-8 48zM214-437l8 20 8 3 7 27 8-17-6 16-8 6-8 3-7-11-8-52zM285-401l8-2 8 17 8 39 8-29 8-2 7 44 8 1 16 9 8-28 8-11 8 1-6 16-8 38-8-22-8-13-8 24-8 7-8-10-8-12-7-5-16 0-8-41-8-53zM475-434l16 36 8-24 8-14 8 46-7-39-7-8-8-30-8-4-8 52-8-11zM562-397l8-34 8-66 8 26 8 2 8-71 8-32 7-4 8-2 8 30 8 2 8-7 8 42 8 31 8-14 8-25 8-19 8 0 8-2 7-23 8-8 8 15 8 12 8 16 8-8 8-26-6 28-8-27-8 0-8 16-8-39-8-23-8 36-8 16-7 7-8 17-8-14-8 9-8 33-8-30-8-40-8 13-8 19-8 5-8-10-8-7-7 36-8 31-8-3-8 5-8 18-8 44zM784-590l8-14 8-7 7-19 8-4 8-14 8-31 8-5 8 1 8-16 8-11 16-3 8-3 15-12 8-1 16 1-6 3-8 4-8-5-8 0-8 6-7 3-16 12-8 2-8 12-8 16-8 5-8 0-8 6-16 38-8 4-7 16-8 32z"/>
<path transform="matrix(0.25 -0.067848 0 0.25 894.47 665.34)" d="M0-399l8-19 8 25 8-7 8 14 8 4 7-33 8-21 8-32 8-37 8 16 8 36 8 5 8 26 8 2 8-2 8 17 8-27 7-13-6-17-15 65-8-44-8 2-8-12-8-25-8-1-8-23-8-4-8 50-8 33-8 25-7 33-8-21-8 4-8-10-8-33-8 41zM222-421l8 18 7 48 8-29 8-15-6-32-8 23-8 17-7-28-8-2zM285-433l8-23 8 25 8 35 8-1 8 21 7 10 16 54 8-40 8-31 8 4-6 11-8 12-8 28-16-9-8-1-7-45-8 2-8 29-8-38-8-18-8 2zM562-395l8-25 8-33 8-47 8-22 8-9 8-60 7-26 8 55 8 26 8 2 8 31 8 0 8 1 8 29 8-28 8-45 8 20 8 12 7-15 8-12 8-8 8-1 8 12 8-14 8-24 8-1 8 8 8-1 16-51 7-1 8-14 8-31 8-18 8-11 8-6 8 3 8-9 8-11 8 1 8-4 8-10 7-5 8-2 8 0 16 6-6 1-24-2-8 1-15 12-8 3-16 4-8 11-8 15-8-1-8 5-8 32-8 14-8 3-8 20-7 6-8 15-8 38-8 1-8-11-8 25-8 9-8-17-8-12-8-14-8 7-8 23-7 2-8 0-8 19-8 25-8 15-8-32-8-42-8 8-8-3-8-30-8 2-8 5-7 32-8 71-8-3-8-26-8 66-8 35z"/>
<path transform="matrix(0.25 -0.067848 0 0.25 895.98 666.04)" d="M0-392l8-12 8 34 16-29 8-9 8-41 7-31 8-12 8-41 8 14 8 43 16 48 8-7 8 6 8 19 8 0 8-3 7-1 8 14 8 26 8-3 8-46 8-16-6 18-8-10-8 22-8 10-8-28-8-17-8-6-7 14-8 27-8-17-8 1-8-2-8-25-8-5-8-36-8-17-8 38-8 31-8 22-7 33-8-5-8-13-8 6-8-24-8 19zM222-403l15 52 8 11 8-25 8-50 8-11-6-4-8 32-8-5-8 14-8 30-7-48-8-18zM293-466l8 33 8 7 8 25 8 17 7-32 8 29 8 37 8-30 8-21-6 13-8 32-8 40-16-54-7-11-8-21-8 1-8-35-8-24zM443-394l8 51 8 40 8-39 8-8-6-46-8 32-16 14-8 1zM499-391l8-32 8-73 7 25 8 54 8-33-6-6-8 22-8 10-7-13-8-4-8 49zM570-432l8-31 8-63 8-19 8 8 8-16 7-19 8 7 8 43 8 30 8-23 8-9 8 30 8 9 8 2 8-1 8-24 8 8 7 20 8-60 8-38 8 12 8-4 8-8 8 5 8-11 8 8 8 18 8-29 8-38 7-11 8-14 8-23 8-18 8-9 8 1 8-2 24-26 23-18 8-3 8 2 16 7-6 2-16-7-8 1-8 1-8 6-7 10-8 4-8-1-8 11-8 9-8-4-8 6-8 12-8 17-8 32-8 13-8 2-15 51-8 1-8-9-8 1-8 25-8 14-8-13-8 1-8 9-8 11-8 15-7-11-8-20-8 44-8 28-8-29-8-1-8 1-8-32-8-2-8-25-8-56-8 27-7 59-8 9-8 23-8 47-8 32z"/>
<path transform="matrix(0.25 -0.067848 0 0.25 897.50 666.74)" d="M0-412l8-8 8 6 8-6 8 6 8-9 7-45 8-7 8-19 8-33 8 26 8-2 8 17 8 41 8-21 8-5 8 36 8 10 7 12 8 25 8-11 16 37 8-39 8-22 8-2 8 16 8 27 8 8 8 3 7 9 8-2 8-25 16-68-6 26-8 12-8 50-8 24-8-11-15-52-8-8-8-21-8-6-8 0-8 16-8 45-8 3-8-26-8-13-8 0-7 4-8 0-8-20-8-5-8 7-16-48-8-44-8-13-8 40-8 13-8 31-7 40-8 10-16 29-8-35-8 12zM293-436l8 6 8 24 8 6 8-18-7 29-7-16-8-26-8-7-8-32zM443-374l16 80 8-17 16-77 16-20 8-49 8-22 15 20 8 35-6-31-8 33-8-54-8-25-7 74-8 32-8 17-8 37-8-13-8 8-8 39-8-41-8-51zM570-436l8-67 8-10 8 12 8-19 8 25 7-10 8-56 8 21 8 43 8-23-6 1-8 23-8-31-8-43-8-7-8 19-7 17-8-8-8 19-8 62-8 31zM712-505l8-29 8-47 8-28 16 43-6-16-8 8-8 4-8-13-8 38-8 60zM784-585l8-13 8-21 7-35 8-5 8 2 8-25 8-15 8 2 24-28 8-11 8-7 15-10 8-2 8 1 8 4 8 5-6 0-16-7-8-2-8 2-23 19-24 26-8 1-8-1-8 10-8 18-8 22-8 15-8 11-7 38-8 29z"/>
<path transform="matrix(0.25 -0.067848 0 0.25 899.01 667.43)" d="M0-425l8-1 8-10 8-18 8 14 8-14 7-39 8 9 8-32 8-20 8 22 8-4 16 59 8-8 8 8 8 16 8 5 7 30 8-1 8-14 8 33 16-17 8 6 8-27 8 26 8 49 8-18 8-9 7 18 8-27 16-21 8-42 8 16 8 24 8-17 8-14 8 2 8 12 8 5-6 1-8 19-8-6-8-24-8-7-8 15-8-20-8-15-16 67-8 25-8 2-7-8-8-4-8-7-8-28-8-16-8 3-8 22-8 39-16-38-8 11-8-25-7-12-8-9-8-36-8 5-8 21-8-41-8-17-8 2-8-27-8 34-8 19-8 7-7 45-8 9-8-6-8 6-8-7-8 9zM443-335l8-8 8-1 8 25 8-48 8-64 8 15 8 5 8-34 8-13 7-22 8-8 8 22 8-19 8-32 8 11 8 42 8 30 16-55 8 33 8-3 7-53 16-31 8 8 8 58-6-47-8 22-8-42-8-21-8 56-8 10-7-25-8 19-8-12-8 9-8 68-8-15-8-38-8 47-8 17-8-35-16-20-7 23-8 49-16 20-16 77-8 17-16-80zM712-536l8-2 16-69 8 16 8 17 8-11 8-16 8-7 8 5 8-2 8-22 7-13 8-4 16-20 16-40 8-4 8-7 8-15 24-22 7-4 8-2 8 1 8 3 8 6 16 9 8 9 8 10 8 13-6-2-24-29-24-15-8-4-8-1-8 3-15 9-8 7-8 11-24 28-8-1-8 15-8 25-8-2-8 5-8 35-7 20-16 26-8-15-8 3-8 19-16-44-8 29-8 47-8 29z"/>
<path transform="matrix(0.25 -0.067848 0 0.25 900.52 668.13)" d="M0-423l8-3 8 9 8-13 8 11 8-15 8-41 7-26 8-34 8-1 8-9 8 0 8 37 8 25 8 9 8 14 8-3 8 13 8 51 7-4 8-10 8 20 8 0 8 7 8-22 8-37 8 14 8 24 16 0 8-9 7 14 8 30 8-36 8-15 8 22 8-26 8 1 8-11 8-46-6 38-8-2-8 14-8 17-8-24-8-16-8 41-16 22-8 26-7-18-8 9-8 18-8-48-8-27-8 28-8-6-16 17-8-34-8 15-8 1-7-30-8-6-8-16-8-8-8 8-16-58-8 3-8-22-8 21-8 32-8-9-7 39-8 14-8-14-8 18-8 10-8 1zM340-404l8 60 8 11 8 14 8-17 8-40-6-14-8 33-8 10-8-2-8-22-8-56zM491-438l8 10 8 28 8-79 7-69 8 22 8 1 8 6 8 25 8-6 8 52 8 79-6-69-8-30-8-42-8-11-8 31-8 20-8-22-8 8-7 22-8 12-8 34-8-4zM602-459l8-1 15-64 8-7 8 43 8 36-6-29-8-59-8-7-16 30-7 54-8 2zM705-545l7 24 8-13 8-46 8-3 8-17 8-13 8 17 8-17 8-21 8 22 8 13 8-12 7-7 16-32 8-11 16-42 8-9 8-6 8-8 16-21 8-7 7-5 8-2 8 1 8 3 8 5 8 8 8 6 8 4 16 28-6-5-8-13-8-11-8-8-16-9-8-6-8-4-8-1-8 2-8 5-23 22-8 14-8 7-8 4-16 41-16 19-8 5-8 12-7 22-8 2-8-5-8 7-8 17-8 11-8-18-8-15-16 68-8 3-8 26z"/>
<path transform="matrix(0.25 -0.067848 0 0.25 902.04 668.83)" d="M0-445l8 21 8 4 8-14 8 16 23-70 8-40 8 4 8 15 8-8 8 9-6-5-8-37-8 1-8 8-8 2-8 33-8 26-7 42-8 14-8-11-8 14-8-9-8 2zM127-482l8 7 7 41 8 30 8 9 8-4 8 10 8 5 16-66 8-8 8 5 16 34 7-16 8 10 8 26 8-16 16-25 8-3 8 10 8-11 8-5-6-39-8 47-8 10-8 0-8 25-8-21-8 15-8 36-8-30-8-14-7 9-16 0-8-24-8-14-8 36-8 22-8-6-8-1-8-19-8 9-8 4-7-50-8-13zM340-358l8-18 8 42 8 35 8-44 8-4-6-33-8 39-8 18-8-15-8-10-8-60zM491-426l8-14 8-23 8-42 7-61 8-41 16 135 8-19 8 32-6-46-8 7-8-25-8-7-8 0-8-22-8 68-7 80-8-29-8-9zM602-478l8 18 7 38 8-59 8-18-6-36-8 7-16 64-7 0zM712-532l8-5 8-15 8-54 8-29 8 6 8 3 8 9 8 12 8-6 8 16 8 18 15-64 8-5 16-37 8-11 8-15 8-7 8-6 16-25 8-7 7-5 8-2 8 1 8 3 8 6 8 7 16 12 8 7 8 10 8 12-6-4-8-4-16-27-8-5-8-6-8-7-8-5-8-4-8-1-8 2-8 6-7 6-16 21-8 8-8 7-8 8-16 43-8 10-16 32-8 8-7 12-8-13-8-22-8 21-8 16-8-17-8 13-8 18-8 3-8 45-8 13z"/>
<path transform="matrix(0.25 -0.067848 0 0.25 903.55 669.53)" d="M0-435l8 32 8-22 8-14 8 10 8-41 8-19 7-9 8-25 8 8 8 24 8-5-6-25-8 8-8-15-8-4-8 39-23 71-8-16-8 14-8-4-8-22zM127-478l8 14 7 45 8 12 8 7 8 0 8-27 8-10 8 0 8-44 8-8 8 30 8 14 8 17 7 3 8-16 8-1 8 11 16-43 16 42 8 4-6-21-8 11-8-10-8 3-16 26-8 15-8-25-8-11-7 16-16-33-8-5-8 8-16 65-8-4-8-10-8 4-8-10-8-29-7-42-8-6zM340-363l8-6 8 28 8 44 8 20 16-51-6-18-8-5-8 3-8 45-8-35-8-43-8 18zM483-405l16-66 8-39 8 3 7-34 8-40 8 52 8 65 8 14-6-45-8 19-16-136-8 42-8 61-7 42-8 23-8 13-8 48zM697-459l8-18 7-72 8-13 8 0 8-56 8-32 8 11 8 20 8 22 8 4 8-3 8 9 8 1 7-15 16-51 8-4 8-8 8-25 8-15 8-7 16-24 8-10 8-8 7-4 8-1 8 1 8 3 32 22 8 3 8 9 8 16-6-3-8-12-8-10-8-7-16-12-8-8-8-5-8-3-8-2-8 2-8 5-7 7-16 26-8 5-8 8-8 14-8 12-16 37-8 5-16 64-7-19-8-15-8 5-8-12-8-8-8-3-8-6-8 28-8 54-8 16-8 5-8 17-7 32z"/>
<path transform="matrix(0.25 -0.067848 0 0.25 905.07 670.23)" d="M0-448l8 24 8-12 8 0 8-12 8-16 7 0 8-25 8-22-6-17-8 25-8 9-7 20-8 41-8-10-8 14-8 22-8-32zM103-494l8 16 8 33 8-20 8 17 7 39 8 11 8 7 8-15 8-43 8-6-6 14-8 10-8 26-8 1-8-8-8-11-7-45-8-15-8 17-8-13-8 5zM206-486l8-5 16 52 7-32 8-16 8 17 8-1 16 35 8-17 16 72 8-38 8-16-6 9-8-5-8-2-8-4-16-42-16 43-8-10-8 1-8 15-8-3-7-16-8-14-8-31zM348-349l8 11 8 44 8 50 8-28 8-50 8-14-6 24-8-20-16 50-8-19-8-44-8-29zM475-423l8 26 8-71 8-51 8 51 8 1 7-38 8 12 8-21 8 2 8 75-6-17-8-14-8-66-8-51-8 40-8 34-7-4-8 40-16 65-8 62zM625-404l16-136 8-8 16 53-6-31-8 43-8-16-8-30-8 71-8 51zM697-467l8-48 15-63 8-20 8 10 8-23 8-29 8 39 8 24 8-19 8 1 8 3 8-6 7 5 8-14 8-29 16-17 16-48 8-15 24-26 8-6 7-3 8-2 8 2 16 5 16 12 8 1 8 6 16 24-6-5-8-16-8-9-8-3-32-23-8-3-8 0-8 1-8 4-7 8-8 10-16 24-8 7-8 15-8 25-8 7-8 5-16 51-8 15-7-2-8-9-8 4-8-4-8-23-8-19-8-11-8 31-8 57-8-1-8 13-8 72-7 19z"/>
<path transform="matrix(0.25 -0.067848 0 0.25 906.58 670.93)" d="M0-497l8 8 8 6 8 18 8-6 8-12 7 11 8-3 8-18 8 10 8 3 8 5 8 9 8-12 8 9 8 6 8 7 8 11 7-2 8 20 8 23 16-44 8 5 8-23 8 4 8-1 8-43 8 11 8 21 7-22 8-12 8 6 8 19 8 49 8 12 8-9 8 21 8 4 8-4 8-14 8-22 15 109 8-7 8 26 8 40 8-12 8 1 8-30 8-76-6 54-8 15-8 49-8 29-8-51-8-43-8-12-8-29-8-25-7-11-8-20-8 15-8 39-16-72-8 16-16-34-8 0-8-16-8 15-7 33-16-53-8 6-8 1-8 26-8 4-8 5-8 44-8 15-8-8-8-11-7-39-8-16-8 20-8-34-8-15-8 18-8-20-8 3-8-1-8-18-8 22-8 26-7 0-8 16-8 12-8 0-8 11-8-23zM459-457l8-31 8 23 8 42 8-1 8-25 8-8 8 21 7 1 8-69 8-35 8 38 8 19-6 41-8-75-8-3-8 22-8-13-8 39-7-1-8-52-8 52-8 70-16-48-8 17zM625-454l8-48 8-15 8-42 8 19 8 65-6-24-16-53-8 8-16 136zM697-501l8-19 7-30 8-25 8 13 8-2 16-34 8-10 8 12 8 17 8-20 8-8 8 31 7 0 8-22 8-13 16-49 8-12 8-26 8-21 8-3 8-5 8-9 8-5 7-3 8-2 24 4 8 5 16 14 8 6 8 6 8 16-6-12-16-24-8-6-8-1-16-13-16-5-8-1-8 1-8 4-7 6-24 26-8 15-16 48-16 17-8 28-8 15-8-5-7 5-8-2-8-2-8 20-8-25-8-39-8 29-8 23-8-9-8 20-16 63-7 48z"/>
<path transform="matrix(0.25 -0.067848 0 0.25 908.09 671.63)" d="M0-516l8 10 8 1 8 14 8 8 8-24 15 1 8-7 8 14 8 8 8 19 8 11 8-6 8 1 8-1 8 2 8 6 8 3 7 6 8 28 8 2 8-27 8-14 16-8 8-26 8-19 8-5 8 6 7 28 8 0 8-12 16 92 8-15 8 0-6-16-8 10-8-13-8-48-8-19-8-6-8 11-7 23-8-22-8-11-8 44-8 1-8-5-8 23-8-5-16 45-8-24-8-20-7 2-8-11-8-7-8-6-8-8-8 11-8-9-8-4-8-3-8-10-8 18-8 2-7-10-8 11-8 6-8-18-8-6-8-7zM325-435l15 90 8 11 8 8 8 0 8 12 8 7 8-42 8-17-6-34-8 77-8 29-8 0-8 12-8-40-8-26-8 7-15-110zM443-488l8 19 8-43 8 31 8 47 8 14 8 66-6-74-8 1-8-42-8-23-8 30-8 14-8 9zM515-448l7 23 8-72 8-47 8 27 8 66 8 77-6-72-8-40-8-19-8-38-8 35-8 69-7-2zM625-468l8 14 8-77 8-28 8 34 8-6 8 2 8-7 8-32 8 40 8 46 7-40 8-20 8 21 8-16 8-33 8-16 8-25 8 9 8 26 8 0 8-4 8 8 7 5 8-13 8-34 8-29 8-17 8-20 8-15 8-11 8-13 8-5 8 0 8-10 7-6 24 3 8 4 8 3 8 7 8 13 8 4 8 1 8 12-6-7-8-15-8-7-8-5-16-15-8-4-24-4-8 1-8 4-7 5-8 8-8 5-8 3-8 22-8 25-8 12-16 50-8 12-8 23-8-1-7-31-8 8-8 20-8-16-8-13-8 10-16 34-8 2-8-12-8 25-8 30-7 19-8-14-8-20-8 38-8 22-8-65-8-19-8 41-8 15-8 48z"/>
<path transform="matrix(0.25 -0.067848 0 0.25 909.61 672.33)" d="M0-534l8 2 8 13 8 30 8-16 8-23 7 14 8-13 8 9 8 18 8-11 8 24 8 18 8-27 8-12 8 11 8-2 8 18 7 15 8 5 8 35 8 11 8-24 8-32 8-18 8 0 8-13 8-27 8-3 8 27 15 29 16 11 8 41 8 31 8-14 8-10-6-1-8-7-8 0-8 15-16-92-8 13-8-1-8-27-7-6-8 5-8 18-8 26-16 8-8 14-8 27-8-1-8-28-8-6-7-3-8-7-8-1-8 1-8-1-8 5-8-10-8-19-8-8-8-15-8 8-15-1-8 23-8-7-8-14-8-1-8-10zM325-392l7-12 8 4 8 42 8-5 8-27 8 40 8 31 8-15 8-7 8-31 8-27 8-9 7-59 8-68 8-11 8 39 8 50 16 15 8 86-6-68-8-14-8-48-8-31-8 44-8-19-8-25-8 71-8 50-7 2-8 21-8 3-8 17-8 41-8-6-8-13-8 0-8-7-8-11-16-91zM507-400l8-45 7-20 8 50 8-47 8-64 8 111 8 71-6-34-8-77-8-67-8-27-8 47-8 73-8-24-7 2zM625-461l8 3 16-119 8-24 16 48 8-7 8 24 8 36 15 39 8-27 8-53 8 6 8-16 8-42 8-2 8 16 8 5 8 24 8 1 8-32 7 0 8 0 8-36 8-30 16-27 8-10 16-30 8-5 8-3 15-11 8-2 16 12 8 0 8 4 8 9 24 15 8 1-6-4-8-12-8 0-8-5-8-13-8-7-8-2-8-5-24-2-8 6-7 9-8 1-8 4-8 14-8 10-8 16-8 20-8 16-8 29-8 34-8 13-8-5-7-8-8 4-8 1-8-27-8-8-8 25-8 16-8 32-8 17-8-21-8 19-8 41-7-46-8-40-8 31-8 8-8-2-8 5-8-34-8 28-8 78-8-14z"/>
<path transform="matrix(0.25 -0.067848 0 0.25 911.12 673.03)" d="M0-533l8-20 8-3 8 31 16-27 7 5 8-1 8 30 8 12 8-5 8 12 8-1 8-15 8-9 8-15 8 12 8 35 7-6 8 18 8 26 8-14 8 2 8-17 8-38 8 14 8 25 8-24 8 1 8 16 7 0 8 17 8-2 8-5 8 33 8 40 8 24 8 2 8-8 8 18 8 8 8-45 7-20 8 15 8 3 8 24 8 14 8-12 16 73 16-110 8 1 15-66 8-16 8-30 8 35 8 87 8-3-6-42-8-8-8-49-8-40-8 12-8 68-7 58-8 10-8 26-8 31-8 8-8 15-8-31-8-40-8 26-8 6-8-42-8-4-7 11-8-6-8 14-8-4-8-29-8 11-8 14-8-32-8-40-16-11-15-30-8-26-8 2-8 27-8 14-8 0-8 18-8 31-8 25-8-11-8-35-8-6-7-15-8-17-8 2-8-12-8 12-8 28-8-19-8-24-8 12-8-19-8-9-8 14-7-14-8 23-8 16-8-30-8-14-8-1zM507-382l8-26 7 25 8 14 8-34 16-79 8 28-6 105-8-71-8-110-8 64-8 47-8-50-8 19-7 45zM617-405l8-68 8-57 8 8 16-136 16 111 8 17 8 31 8 13 15 38 8-31 8-45 16-19 8 0 8-20 8-14 8 22 8 6 8-22 15-25 8-9 8 3 8-27 8-33 8 0 8-10 8-28 8-12 16-11 8 2 7 0 8-3 8 7 8 8 8 2 8 0 8 2 16 14 8 1 8 8-6-17-8 0-24-15-8-10-8-3-8 0-16-12-8 2-15 10-8 3-8 6-16 30-8 10-16 26-8 30-8 37-8-1-8 1-7 32-8-2-8-23-8-5-8-16-8 2-8 42-8 16-8-6-8 52-8 28-15-39-8-37-8-24-8 8-16-49-8 25-16 119-8-4-8-9z"/>
<path transform="matrix(0.25 -0.067848 0 0.25 912.63 673.73)" d="M0-529l8-16 8-10 8 8 16-5 8-16 7 4 8 24 16 2 8 8 8-7 8-4 8 2 8-13 8 15 8 27 8-2 7 7 8 0 8 2 8 4 8-19 8-6 8 15 8 10 8 11 8-1 8-29 15 49 8-22 8 29 8 38 8 20 8 49 8 6 8-50 16 9 8-42 7-16 8 6 8 28 8 36 8-1 8-5 8 13 8 1 8-8 8-43 8-52 8 27 7 24 8-58 8-6 8 38 8 6 8 30 8 11 8-32 8 71 8 88 8-50 8-29-6-60-8 26-8 35-8 4-8-36-8-53-8 21-8 3-8-87-8-36-8 31-8 16-15 66-8-2-16 110-16-73-8 13-8-14-8-24-8-4-8-14-7 20-8 45-8-9-8-18-8 8-8-1-8-24-8-41-8-32-8 5-8 1-8-16-7 0-8-16-8-2-8 24-8-24-8-15-8 39-8 17-8-2-8 13-8-26-8-17-7 5-8-35-8-11-8 15-8 8-8 15-8 2-8-13-8 6-8-12-8-30-8 1-7-5-16 27-8-31-8 2-8 21zM538-398l8-56 8-90 8 10 8 72 8 3-6-6-8 60-8-54-8-27-16 79zM610-373l7-91 8-68 8-6 8-34 8-13 8 6 8-19 8 53 8 78 8-27-6-10-8-30-8-17-16-111-16 136-8-9-8 58-8 67-7 5zM712-464l8-15 8 2 8-26 8-19 8 21 8-33 8-42 16 1 8-8 8-13 7-11 8 8 8 2 8-21 16-48 8-12 8-10 8-22 8-11 8 9 8 3 7-2 8 5 8 1 8 3 8 10 8-2 8-5 8 13 8 10 8 1 8 7-6-19-8-7-8-2-16-13-8-3-8 0-8-1-8-9-8-6-8 2-8 1-7-3-16 12-8 12-8 28-8 10-8 0-8 32-8 28-8-4-8 10-15 24-8 22-8-6-8-21-8 13-8 21-8-1-16 20-8 44-8 32z"/>
<path transform="matrix(0.25 -0.067848 0 0.25 914.15 674.43)" d="M0-532l8-31 8 0 8 15 8-5 8 2 7-9 8-13 8 17 8 14 8-15 8 1 8 5 8-8 8-5 8-9 8 1 8 12 7 17 8 4 8-4 8 20 8 17 16-5 8 5 8 0 8 9 8-11 8-29 7 8 16 62 16 32 8 51 8 31 16-39 8-26 8-22 8 27 7-21 8-42 8 55 8 37 8-33 8-2 8 0 8 1 8 36 8-15-6-29-8 43-8 9-8-1-8-13-8 4-8 2-8-37-8-27-8-6-8 16-7 41-16-9-8 51-8-6-8-49-8-20-8-38-8-29-8 21-15-48-8 28-8 2-8-12-8-9-8-16-8 7-8 18-8-3-8-2-8 0-8-7-7 1-8-26-8-15-8 13-8-3-8 5-8 7-8-9-16-1-8-25-8-3-7 15-16 5-8-8-8 11-8 16zM427-393l8-31 8-42 8-22 8 44 8 36 8-4 8 35 8 60 16 80 8-55 7-106 8 9 8-24 8-122 8-16 8 36 8-2 8 80-6-27-8-2-8-72-8-11-8 91-8 56-8 44-8 30-8-29-7 28-8 51-8-88-8-72-8 32-8-10-8-31-8-6-8-37-8 5-8 59zM610-418l7-78 8-57 8-1 8 10 8 24 8-11 8-21 8 20 8 32 8 12 8-11 8-9 7 52 8 39 8-38 8-22 8 6 8-46 8-22 8-27 8-44 8 12 8 27 8-25 7-11 8 16 8-10 8-19 8-21 8-30 8-8 8 0 8-13 8-11 8 3 8 4 7 2 8-4 8 0 8 8 16 9 8 6 8 1 8 9 8 13 8-8-6-13-8-7-8 0-8-11-8-13-8 5-8 2-8-10-8-3-8 0-8-5-8 2-7-3-8-9-8 11-8 21-8 10-8 13-16 48-8 21-8-2-8-8-8 11-7 13-8 8-16-1-8 41-8 34-8-22-8 20-8 26-8-2-8 14-8-1-7-48-8 19-8 28-8-78-8-53-8 18-8-6-8 13-8 34-8 7-8 68-8 90z"/>
<path transform="matrix(0.25 -0.067848 0 0.25 915.66 675.13)" d="M0-529l8-28 16-8 8-10 8 3 8-8 7-13 16 34 8 11 8 6 8-22 8 0-6 0-8 9-8-6-8 0-8 15-8-15-8-17-8 13-7 10-8-2-8 5-8-15-8 0-8 30zM127-601l8 8 7 5 8 22 8 16 8-3 16 52 8-16 8-6 8 7 8 3 8-2 8-9 7-11 8 24 8 49 8 10 8-2 8 27 8 33 8-2 8-22 8-16 8 4 8 11 7-13 8-21 8-17 8 17 8 28 8-29-6 31-8 1-8 33-8-36-8-55-8 42-7 21-8-27-8 21-8 27-16 38-8-31-8-51-16-31-16-63-7-8-8 30-8 10-8-8-8 0-8-5-16 4-8-17-8-20-8 5-8-5-7-17-8-11zM435-402l16-108 16 123-6-25-8-37-8-43-8 22-8 41zM491-302l8 19 8 25 8-61 7-92 8-47 8-10 8 1 8-58 8-47 8 69 8 37 8-43 8-5 8-19 8 21 7 82 8-45 8-75 8 69 8 25 8-76 8-16 8 7 8 10 8 52 8 12 8-16 7 45 8 39-6-22-8-39-8-53-7 9-8 12-8-13-8-32-8-20-8 21-8 11-8-23-8-11-8 1-8 58-8 78-7-45-8-33-8 77-8-19-8-79-8 1-8-35-8 15-8 122-8 24-8-8-8 106-7 54-16-79zM752-532l8-18 8-38 8-11 8 9 8 2 8 7 7-15 8-26 8 7 8-2 8-31 8-11 8-1 8-10 8 1 8-6 8-17 8 3 7 7 8-7 8 0 16 19 8 10 8 4 8-4 8 2 8 5 8-3-6-9-8 9-8-14-8-9-8 0-8-7-16-9-8-8-8 0-8 5-8-2-7-5-8-2-8 10-8 13-8 0-8 9-8 29-8 22-8 18-8 10-8-16-8 11-7 25-8-26-8-13-8 44-8 27-8 23z"/>
<path transform="matrix(0.25 -0.067848 0 0.25 917.17 675.83)" d="M0-540l8 1 8-8 8-30 8-9 8 4 8-20 7-2 8 20 8 1 8 25 8 6 8-33 16-4 8-20 8 0 8 8 8 15 7 26 8 2 8 0 8 18 8 2 8 4 8-4 8-13 8 30 8 17 8-25 8 4 7 22 8 3 8 25 8 9 8-12 8 45 8 33 8-25 8-14 8 8 15-26 8-20 8-31-6 33-8 18-8 21-7 12-8-11-8-3-8 15-8 23-8 2-8-34-8-26-8 2-8-10-8-49-8-24-7 11-8 9-8 1-8-3-8-7-8 7-8 16-16-52-8 3-8-17-8-22-7-4-8-9-8 6-8 30-16 2-8 22-8-7-8-10-16-35-8 14-7 7-8-3-8 11-16 8-8 27zM380-425l8 30 8 51 8 23 8-41 8-35 7-5 8-21 8-5 8 4 8-27 8 60 8 97 16-80 8 55 8-6 8-35 7-19 8-81 8-5 8 51 8-90 8-109 8 18 8 36 8 10 8-8 8 17 8 90 7 58 8-17 16-74 8-3 8 6 8-69 8-21 8 81 8 30-6-24-8-52-8-11-8-6-8 16-8 75-8-24-8-70-8 75-8 46-7-83-8-20-8 18-8 5-8 43-8-37-8-69-8 47-8 59-8-2-8 10-8 47-7 93-8 61-8-26-8-18-8-15-8-42-8-28-16-123-16 107-8-19-15 63-8-20-8 13-8-24-8-72zM752-545l8-2 8-30 16-22 8-5 8 8 7-14 8-20 8 0 8 11 8 3 16-32 8 4 8-5 8-21 8-9 8-4 7 2 8 15 8 1 8-5 8 19 8 12 8-11 8-4 8-2 8-4 8 5-6-5-8 2-8-5-8-2-8 5-8-4-8-11-16-18-8 0-8 7-8-8-7-3-8 18-8 6-8-1-8 10-8 1-8 10-8 32-8 1-8-6-8 26-8 14-7-6-8-2-8-10-8 12-8 37-8 18z"/>
<path transform="matrix(0.25 -0.067848 0 0.25 918.69 676.52)" d="M0-562l8-1 8-9 8-25 8-15 8 14 7 2 8-5 8 7 16 28 8-14 8-16 8-12 8-11 8 10 8 2 8-7 15 52 8-13 8 4-6 9-8 0-8-3-8-25-7-15-8-9-8 1-8 20-16 4-8 33-8-6-8-25-8-2-8-19-8 2-7 19-8-3-8 8-8 31-8 7-8 0zM206-545l8 23 8 12 8-12 7-17 8-12 8 17 8 30 8-2 8 21 8 31 8 18 8 29 8-27 8-52 8 17 7 4 8-48-6 32-8 19-15 27-8-8-8 14-8 24-8-32-8-45-8 12-8-9-8-25-8-3-8-23-7-3-8 24-8-16-8-30zM380-390l8-28 16 91 16-65-7-10-7 35-8 42-8-23-8-51-8-30zM459-413l8 14 8 19 8 6 16-64 8 73 8 57 7-82 8-43 8 9 8-67 8-44 8-59 8-99 8 69 8 120 8-23 8 28 8 101 7 18 8-2 8-27 8-74 8-5 8 33 16-52 8 17 8 37-6-10-8-31-8-80-8 21-8 68-8-5-8 2-16 74-8 18-8-59-7-90-8-16-8 7-8-9-8-37-8-17-8 108-8 90-8-50-8 4-8 82-8 18-7 35-8 6-8-54-16 80-8-98-8-59zM744-501l8-41 8-12 8 13 8-54 8-41 8 15 8-2 7-6 8 12 8-3 8 13 8 23 8-18 8-28 8-4 8-7 16-26 8-6 7 11 8 13 8 1 8-1 8 1 8 7 8 4 8-14 8-9 8 11 8 1-6-11-8-6-8 5-8 2-8 4-8 10-8-11-8-20-8 5-8 0-8-15-8-3-7 5-8 9-8 20-8 6-8-4-16 32-8-4-8-10-8-1-8 20-8 14-7-8-8 6-16 22-8 29-16 6z"/>
<path transform="matrix(0.25 -0.067848 0 0.25 920.20 677.22)" d="M0-581l8-9 8-3 16-46 16 19 7 8-6 7-8 5-7-2-8-15-8 15-8 25-8 10-8 1zM95-600l8-8 8 0 8 2 8 7 8-6 7-5 8 13 8 8 8-7-6 21-8-4-8 13-15-52-8 7-8-3-8-9-8 10-8 13zM198-542l8 13 8-3 8-7 8 8 7-22 8-31 8 28 8 34 8 10 8 24 8 7 8 14 8 22 8-23 8-33 8-3-6 30-8-17-8 52-8 27-8-28-8-18-8-31-8-21-8 1-8-29-8-18-8 13-7 16-8 12-8-12-8-22-8 7zM380-420l8 17 8 2 8 20 8 68 8-22 7-54 8 53 8 12 8-74 8-28-6 9-8 28-8 24-8-14-8-17-7-1-16 66-16-91-8 27zM499-449l16 117 7-35 8-87 8-70 8-2 8-18 8-75 8-2 16 110 8 79 8 2 8-43-7 71-7-101-8-28-8 22-8-119-8-69-8 98-8 59-8 45-8 67-8-10-8 44-7 81-8-57-8-72zM744-492l8-40 8-29 8-13 8-25 8-37 8-20 15 57 8-12 8 7 8 22 16-9 8-12 8-31 8 2 8 12 8-23 8-12 7 12 8 1 16-3 8-8 8 8 8 13 8-5 8-8 16 4-6-11-8-1-8-12-8 10-8 14-8-5-8-6-8-2-8 1-8 0-8-13-8-11-7 6-16 25-8 7-8 4-8 29-8 18-8-24-8-13-8 4-8-12-8 5-7 3-8-16-8 42-8 53-8-13-8 13-8 41z"/>
<path transform="matrix(0.25 -0.067848 0 0.25 921.72 677.92)" d="M0-607l16 15 8-37 8-12 8-1 7-11-6 29-15-19-16 46-8 2-8 10zM198-550l8-10 8-1 8 0 8-10-7 36-7-8-8 7-8 3-8-14zM253-577l8 33 8 46 8-8 8-11 8 27 8 5 8 0 8 5 8-17-7-12-7 4-8 33-8 22-8-21-8-14-8-7-8-24-8-10-8-35zM388-409l8 14 8 56 8 47 8-8 7-31 8-46 8-12 8 0 8-91 8-48 8 79 8 23-6 10-8-51-8 15-8 22-8 27-8 75-8-12-8-54-8 55-7 21-8-68-8-19-8-2zM522-394l8-84 8-105 8 48 8 26 8-32 8 11 8 7 8 31 8 59-6-3-8-79-16-110-8 2-8 75-8 17-8 2-8 71-8 87zM673-469l16-71 8-5 8 50-7-20-7 42-8-25-8-16-8 76zM744-520l8-28 8-33 8-23 8 8 8-16 8-29 8 25 7 32 8-4 8-11 8 1 8 15 8 4 8-17 8-9 8 2 16-8 8-19 7-23 8 8 8 5 8-15 8 5 8 15 8 3 8 9 8-2 8-21 8-1-6 1-16-3-8 7-8 5-8-13-8-7-8 8-16 3-8-2-8-11-7 12-8 22-8-12-8-1-8 30-8 12-16 9-8-22-8-7-8 12-15-56-8 19-8 37-8 26-8 12-8 29-8 41z"/>
<path transform="matrix(0.25 -0.067848 0 0.25 923.23 678.62)" d="M0-624l8 7 8 3 8-26 16-34 7 6 8 18-6 9-8-16-7 11-8 1-8 12-8 36-16-15zM95-598l8-8 8-27 8 7 8 1 8-17 7 6 8 2 8-1-6 19-8-7-8-4-7 5-8 9-8-2-8 4-8-1-8 0zM253-587l8 15 16 43 8-4 8-7 8 56 8 42 8-22 8 3-6-41-8 17-8-5-8 0-8-5-8-26-8 11-8 7-8-46-8-33zM364-505l8 47 8 69 8-5 8 22 8 59 8 13 8-10 7-31 8-71 8-19 8 8 16-79 8 6 8 38 8 19-6-9-8 17-8-22-8-79-8 48-8 90-8 1-8 12-8 45-8 32-7 7-8-46-8-56-8-14-8-7-8-19-8-29zM522-483l8 16 8 9 8-60 8 33 8 82 8-96 8-70 8 73 8 24-6 34-8-58-8-31-8-7-8-12-8 33-8-26-8-48-8 104-8 85zM665-439l8-42 8-54 8-33 16 69-7-1-7-49-8 4-16 71-8 71zM736-520l8 6 8-52 8-37 8 29 8-4 8-22 8 6 8-11 7 1 8 27 16-33 8 36 8 17 8-12 8-5 8-10 8-16 8-9 15-43 8-3 8 8 8 10 16-2 8 16 8 5 8-15 16-19-6 1-8 0-8 21-8 2-8-9-8-2-8-16-8-5-8 16-8-6-8-7-8 22-7 19-16 9-8-2-8 8-8 18-8-4-8-15-8-2-8 11-8 5-8-32-7-25-8 29-8 15-8-8-8 24-8 33-8 28-8 53z"/>
<path transform="matrix(0.25 -0.067848 0 0.25 924.74 679.32)" d="M0-611l8-11 8-16 8-11 8-18 8-26 8 8 7 26 8 15 8 12-6-8-8-12-8-2-8-19-7-5-16 34-8 26-8-3-8-7zM95-608l8-7 8-21 8-5 8 2 8 3 8-8 7-12 8 4-6 12-8 1-8-2-7-6-8 18-8-2-8-6-8 27-8 8zM269-588l8 40 8 11 8 2 8 51 8 42 8 11 15-29-6 15-7-20-8-4-8 23-8-43-8-55-8 6-8 5-8-22zM364-453l16 47 8 55 8-1 8-34 8 43 8 12 7-63 8-16 8-7 8-29 8 21 8-31 8-95 8 11 8 43 8-43 8-14 8 43 15 124 8-5 8-50 8-1 8 7 8-28 8-68 8-38 16 208-6-93-16-45-8-73-8 70-8 95-8-82-8-32-8 60-8-10-8-16-7 8-8-30-8 20-8 47-8-19-8-38-8-6-16 79-8-8-8 18-8 72-7 30-8 10-8-12-8-60-8-21-8 5-8-70-8-46zM665-476l8 25 8-77 8-38 8 34 8-3 15-11 8-24 8 17 8 33 8-13 8-17 8-8 8 3 8-7 8-35 8-19 7 13 8 9 8 13 8 15 8-3 16 41 16-68 8-2 16-40 7-4 8-14 8 7 8 26 8-6 8-15 8 11 8 8 8-5 8-10 8-7-6-10-16 19-8 16-8-6-8-15-16 1-8-10-8-8-8 3-15 44-8 9-8 16-8 10-8 4-8 12-8-17-8-35-16 33-8-28-8 0-7 10-8-5-8 22-8 4-8-30-8 38-8 52-8-6-8-15-8 8-8 16-8 12-15-69-8 32-8 54-8 43z"/>
<path transform="matrix(0.25 -0.067848 0 0.25 926.26 680.02)" d="M0-622l8-6 8-10 8-16 8-5 15-19 16 45 8-3 8 0 8 3 8 3 8-2 8-5 8-8 8-1 8 4 7-14 8-19 8-7 8-1-6 30-8-3-8-4-8 12-7 7-8-2-8-2-8 4-8 22-8 7-8-11-8-4-8-10-8-12-8-15-8-25-7-9-8 26-8 19-8 10-8 16-8 11zM261-623l8 50 8 30 8 11 8 35 8 8 8 14 8 50 8-16 7-31 8 38-6-10-8-20-15 28-8-11-8-42-8-50-8-2-8-12-8-39-8-10zM364-413l8-9 8 13 8 33 16-41 8 10 15 54 8-37 8-45 8 22 8-21 8-79 16-83 8 7 8 86 8-4 8-23 7 132 8 70 8-64 8-18 8-23 8-33 8 36 8-23 8-56 8 68 8 81-6-7-16-208-8 38-8 68-8 29-8-7-8 0-8 50-8 6-16-124-7-43-8 14-8 43-8-44-8-11-8 95-8 32-8-21-8 29-8 6-8 16-8 64-7-13-8-43-8 35-8 0-8-55-16-47zM665-453l8-23 8-8 8-55 8-68 15 49 8-34 8 20 8 41 8 15 8 33 8-7 8-63 8 0 8 6 8-45 8-21 7 13 8 18 8 25 8 9 8-9 8 8 8 5 8-16 8-32 8-27 8 4 8 1 7-29 8-9 8 11 8-3 8 4 8 2 8-12 8 17 8 26 8-14 8-9-6-21-8 7-8 9-8 5-8-8-8-10-8 15-8 6-8-27-8-6-8 14-8 3-15 41-8 2-16 67-16-41-8 4-8-16-8-13-8-9-8-13-7 20-8 34-8 8-8-4-8 9-8 16-8 14-8-33-8-18-8 25-16 11-7 3-8-35-8 38-8 78-8-26z"/>
<path transform="matrix(0.25 -0.067848 0 0.25 927.77 680.72)" d="M0-624l16-23 8 0 8 2 8-17 8-4 7 15 8 8 8 15 8-4 8-12 8 19 8 6 8-17 16-16 8-16 7-11 16-36 8 1 8 5-6 19-8 3-8 1-8 7-8 19-7 13-8-3-8 1-8 8-8 5-8 2-8-4-8-2-8 0-8 3-16-46-15 19-8 5-8 16-8 10-8 6zM261-611l8 25 8 44 8 26 8-2 8 8 8 36 16 46 7 19 8-19 8 26 8 39 8-54 8-47 8 29 16-4 8 25 8-14 8 29 7 61 8-37 8-70 16-35 8-33 8-50 8-32 8 54 8 65 8 16 8 10 7 9 16 106 8-76 8-45 8 80 8 5 8-41 8 9 8-47 8-3-6 89-8-81-8-68-8 56-8 22-8-35-8 33-8 23-8 18-8 63-8-70-8-131-7 23-8 4-8-86-8-7-16 83-8 78-8 21-8-21-8 44-8 38-15-55-8-9-16 40-8-33-8-12-8 9-8-4-8 5-8-23-8-37-7 31-8 16-8-51-8-13-8-9-8-35-8-10-8-30-8-51zM673-488l8-19 16-113 8 0 7 34 8 39 8 6 8 8 8 54 8 15 8-34 8-29 8-21 8-15 8 17 8-21 7-29 8 34 8 21 8-22-6 11-8-10-8-25-8-18-8-12-7 21-8 44-8-6-8 1-8 63-8 7-8-33-8-15-8-42-8-20-8 34-15-48-8 67-8 55-8 9zM863-562l8-16 8-33 8 2 8 4 15-51 8-9 8 8 8 10 8 1 8 9 8 19 8 16 8 11 8-11-6-32-8 9-8 13-8-25-8-17-8 11-8-2-8-3-8 3-8-12-8 10-8 28-7 0-8-4-8 26-8 33z"/>
<path transform="matrix(0.25 -0.067848 0 0.25 929.28 681.42)" d="M0-602l8-10 8-27 8 5 8 2 8-26 8-5 7 1 8 5 8 27 8 1 8-6 8 13 8 4 8-9 8-19 8-23 16-28 7-22 8-10 8-5 8 0 8 10-6 14-8-3-8-6-8 0-16 35-7 12-8 16-16 15-8 17-8-6-8-18-8 11-8 5-8-16-8-7-8-15-7 4-8 16-8-2-8 1-16 22zM261-583l8-14 8 28 8 36 8 3 8 9 8 34 16 91 7 8 8-15 16-11 8-14 8-49 8-36-6 73-8-28-8 47-8 54-8-39-8-26-8 18-7-18-16-47-8-35-8-9-8 3-8-26-8-45-8-24zM404-434l8 5 8 37 7-8 8-1 8-37 8-84 8 17 8 49 8-67 8-24 8 60 16 41-6-19-8-16-8-65-8-53-8 32-8 50-8 32-16 35-8 71-8 37-7-61-8-29-8 14zM578-362l8-93 8-55 8 20 8-3-6 103-8-68-8 4-8 47-8-9zM649-358l16-158 8 6 8-42 8-34 8 5 8-23 7 28 8 73 8-1-6-41-8-6-8-39-8-34-7 0-16 112-8 19-16 68-8 16zM752-477l8-3 8-33 8-21 16 18 8-22 7-26 8-17 8 7 8 13 8-27 8-12 8 35 8 7 8-20 8-8 8-25 8-17 7 2 8-31 8-27 8 26 8 22 8 1 8 16 8 14 8 8 8 11 8-10-6-10-8 11-8-11-8-16-8-20-8-9-8 0-8-11-8-7-8 9-16 51-7-4-8-3-8 34-8 16-8-13-8 7-8 2-8 2-8 22-8-21-8-34-8 29-7 21-8-16-8 15-8 21-8 28-8 34z"/>
<path transform="matrix(0.25 -0.067848 0 0.25 930.80 682.12)" d="M0-607l8 1 8-16 8-13 8-1 8-6 7-13 8-5 8 22 8 13 8-2 8 5 8-7 8-9 8-1 8-18 8-27 8-10 7-16 8-18 8-11 8-9 8-1 8 6-6 15-8-10-8 0-8 5-8 10-8 21-15 28-8 23-8 19-8 10-8-5-8-12-8 6-8-1-8-27-8-6-8-1-7 6-8 25-8-1-8-5-8 26-8 11zM277-589l8 21 8 62 8 7 8 1 8 76 8 40 7-26 8-10 8-25 8-20 8 11 8-29-6 0-8 49-8 13-16 11-8 16-8-9-15-90-8-34-8-9-8-4-8-35zM404-435l8-24 8-7 7 38 8 8 8-38 8-2 8 13 8-3 8 14 8-40 8-65 8 57 8 46-6-13-16-41-8-60-8 24-8 68-8-50-8-17-8 85-8 37-8 1-8 8-7-38-8-5zM538-324l8 68 8-12 8-108 8-13 8-6 8-104 8-58 8 10 8 27 7 60-6-20-8-18-7 3-8-19-8 54-8 94-8 22-8-19-8-4-8 26-8 9zM649-435l8-19 8-64 8-55 8 31 8 25 8-52 8-4 7 40 8 7 8 20-6-3-8 1-8-72-8-28-7 22-8-4-8 33-8 43-8-6-16 158zM760-431l16-75 8 14 8-18 15-59 8-36 8 7 8 22 8-7 8-4 8 14 8 11 8-5 8-33 8-28 8-6 7-11 8-7 8 1 8-2 8 21 8 31 8-11 8-4 8 24 8 1 8-3-6-6-8 9-8-10-8-9-8-13-8-17-8-1-8-21-8-26-8 26-8 31-8-2-7 17-8 25-8 8-8 20-8-7-8-35-8 12-8 28-8-13-8-7-8 17-8 26-7 22-16-19-8 22-8 32z"/>
<path transform="matrix(0.25 -0.067848 0 0.25 932.31 682.82)" d="M0-611l8-2 8-19 8-12 8-3 8 3 8 4 7-3 8 7 8 18 8 2 8-16 8-10 8-7 16-15 8-18 8-22 23-45 8-8 8-1 8 4 8 11 8 17-6 1-8-12-8-10-8-6-8 1-8 8-8 12-8 18-7 15-8 11-8 26-8 19-8 0-8 9-8 7-8-5-8 3-8-13-8-22-8 4-7 13-8 6-8 2-8 13-8 16-8-1zM277-587l16 79 8 14 8 16 8 12 15 59 8-44 8-33 8 37-6-20-8 20-8 24-8 10-7 27-8-40-8-76-8-1-8-8-8-62-8-21zM404-472l16-56 7 75 8 48-6-19-8-9-7-37-8 6-8 24zM467-417l8 1 8-47 8-55 8 1 8 57 8 78 15 23 8 86 8 25 8-71 8-53 8-69 8-41 8 28 8-66 8-78 8 78 7 51-6 4-8-59-7-27-8-10-8 58-8 103-8 7-8 12-8 109-8 12-8-68-8-26-8-72-7-47-8 31-8-47-8-57-8 65-8 41-8-15zM649-503l8 43 8-23 8-52 16 53 16-79 7-7 8 31 8 27-6-1-8-19-8-8-8-40-7 4-8 53-8-26-8-30-8 55-8 64-8 19zM792-527l8-14 7-58 8-11 8 16 8-1 8 25-6-17-8 7-8-22-8-7-8 35-15 59zM863-587l8 12 8-32 8-23 15-2 8 7 8-3 8-11 8 11 8 19 8 5 8-4 8 2 8 25 8 20-6-38-8 4-8-2-8-23-8 4-8 10-8-30-8-22-8 3-8-1-8 6-8 12-7 6-8 28-8 32-8 6z"/>
<path transform="matrix(0.25 -0.067848 0 0.25 933.83 683.52)" d="M0-613l8 1 8-22 8 0 8-6 8-2 7 15 8-7 8-15 8 9 8 5 16-21 8-6 8 4 8-4 23-61 8-17 8-13 8-7 8-1 8 4 8 13 8 16 8 23 8 30-6-9-8-28-16-35-8-11-8-5-8 1-8 8-23 46-8 22-8 18-16 15-8 6-8 10-8 16-8-2-8-18-8-6-8 3-7-5-8-3-8 4-8 11-8 20-8 1zM277-562l8 29 16 25 8 8 8-12 8 24 7 44 8-1 8-21 8-4 8 8 8-8 8-57 8-35 8 14 8 7 8 29 8 38 7-1 8 68 8 90 16-106 8 27 8-27 8-31 8 6 8-30 8 44 8 100 7-10 8-34 8 34 8 24 8-20 16-117 8 10 8-1 16-106 8-35 7 21 8 41 8-40 8-1 8 97 8 30 8-12 8 7 8-41 8-25 8 23 15-104 8 57 8 45-6-23-8-27-8-32-8 7-15 80-16-54-8 53-8 22-8-42-8-5-8-5-8-3-8 47-8-51-7-79-8 79-8 66-8-29-8 42-8 69-8 53-8 70-8-24-8-87-16-23-7-77-8-58-8-1-8 56-8 47-8-2-8 11-8 17-8-11-8-5-8-48-8-75-15 56-8-50-8 5-8 34-8-5-8 31-8 10-8-36-8 32-8 44-15-58-8-12-8-17-8-14-16-78zM792-554l8-4 7-7 8-29 8-20 8 24 8 9 8-20 16-4 8 3 8 21 8-14 8-28 7 21 8 7 8-29 8-8 8 2 8 4 8 28 8 9 8-6 8 27 8 21-6-19-8-19-8-26-8-1-8 4-8-5-8-19-8-12-8 11-8 4-8-7-15 2-8 22-8 32-8-11-8-8-8 29-8-5-8-24-8 0-8-15-8 10-8 59-7 14z"/>
<path transform="matrix(0.25 -0.067848 0 0.25 935.34 684.22)" d="M0-624l8 3 8 6 8-7 8-13 8 8 7-2 8-16 8-5 8-10 8-4 8 16 8-11 8-14 8 13 8-5 23-60 8-16 8-10 8-7 8-1 8 5 8 14 24 59 8 34 8 26-6-7-16-51-8-30-8-23-8-16-8-13-8-5-8 1-8 8-8 13-8 17-23 60-8 4-8-4-8 7-16 21-8-5-8-9-8 15-8 6-7-14-8 1-8 6-8 1-8 22-8-1zM253-567l8 16 8 23 8-16 8-27-6 34-8-30-8-1-8 11-8-36zM309-539l8 20 8 33 7 17 8 35 8-11 8-59 8-2 8 3 8-54 8-28 8 17 8 36 8 57 8 29 7 8 16 75 8 10 16-86-6 38-8-26-16 106-8-90-8-68-8 0-7-37-8-29-8-8-8-13-8 34-8 58-8 7-8-8-8 5-8 20-8 2-7-44-8-24-8 12zM538-446l8 52 8 79 8-72 8-56 8 15 8-40 8-47 8-57 8-68 7 26 8 66 8 12 8 16 8 47 8 53 8 18 8-51 8-42 8 1 8-14 8-10 7 0 8-14 8 42 8 52-6-51-8-6-8-45-8-57-15 103-8-22-8 25-8 41-8-7-8 12-8-31-8-96-8 0-8 40-8-40-8-21-7 35-16 106-8 0-8-10-16 118-8 20-8-24zM792-550l8-12 7 20 8-37 8-46 8 4 8 10 16-3 8 4 8 28 8 22 8-7 15-32 8-3 8 4 8-27 8-14 8 34 8 21 8 1 8 13 8-1 8 1-6 18-8-21-8-26-8 6-8-9-8-28-8-5-8-1-8 7-8 30-8-7-8-22-7 29-8 14-8-21-8-3-16 4-8 20-8-10-8-23-8 19-8 29-8 8-7 4z"/>
<path transform="matrix(0.25 -0.067848 0 0.25 936.85 684.91)" d="M0-621l8 5 8 11 8-13 8-22 8-4 8 2 7-9 8-12 8-7 8 6 8 10 8-5 16-15 8-3 8-6 8-23 8-19 7-8 8-10 8-7 8 0 8 4 8 11 8 23 16 32 8 40 8 36 15 44 24 21 16-45-6 9-8 27-8 16-8-24-8-15-16-43-7-11-8-26-8-34-24-60-8-13-8-5-8 1-8 7-8 10-8 15-23 60-8 6-8-13-8 14-8 10-8-15-8 4-8 9-8 6-8 16-7 1-8-8-8 13-8 8-8-6-8-4zM309-519l16 12 7 50 8 11 8-33 8-21 8-42 8-15 8 40 8-28 8-36 8 78 8 56 8-9 15 37 8 22 8 63 8-7 8-51 8 28 8 31 8-42 8-68-6 8-8 9-8 60-8-32-8-45-16 86-8-10-16-76-7-7-8-30-8-56-8-37-8-16-8 27-8 55-8-3-8 2-8 59-8 11-8-35-7-18-8-33-8-19zM538-427l8 40 8 24 8 18 8-68 8-103 8 9 8-15 8-97 8 0 7 47 8 24 8 69 8 30 8-35 16 80 8-50 8-29 8 3 8-1 8 13 7-11 8-31 8 7-6 8-8-41-8 14-8-1-7 11-8 14-8-2-8 42-8 52-8-18-8-54-8-47-8-15-8-13-8-65-8-26-7 68-8 57-8 47-8 39-8-14-8 56-8 72-8-79-8-52zM784-519l8-25 8-3 7-29 8-16 8-24 8-41 8 24 8 50 8-15 8 1 8 38 8 8 8-5 8-14 7-29 8 1 8 16 8-14 8-11 8 12 8 18 8 6-6-16-8-2-8-20-8-34-8 14-8 26-8-3-8 3-15 32-8 6-8-22-8-27-8-5-16 4-8-10-8-5-8 47-8 37-8-20-7 11-8 39z"/>
<path transform="matrix(0.25 -0.067848 0 0.25 938.37 685.61)" d="M0-610l8 3 8-7 8-4 16-40 7 7 8 4 8-13 8-11 8 3 8 0 8-3 8-6 8-9 8 1 8 2 8-11 7-16 8-12 16-13 8-3 8 2 8 10 8 15 8 24 8 30 8 18 8 39 7 48 8-1 8-13 8 17 8-10 8-14 8 1 8-22 8 21 8 57 8 2 8-15 15 44 8 4 16-56 8 29 8 22 16-35 8-10 8 41 8 55 7-25 8 14 8 102 8 36 8-8 8 11 8-54 8-35 8 13 8-89 8-78 8 62 7 46-6 18-8-25-7-31-8 31-8 68-8 42-8-32-8-27-8 51-8 7-8-64-8-21-16-37-7 8-8-56-8-77-8 36-8 28-8-41-8 15-8 43-8 21-8 33-8-11-8-50-15-13-8-39-8-26-8 1-16 45-24-21-15-45-8-35-8-40-16-33-8-23-8-10-8-4-8 0-8 7-8 10-8 7-7 19-8 24-8 6-8 2-16 15-8 6-8-10-8-7-8 8-8 11-8 10-7-2-8 4-8 22-8 13-8-11-8-6zM562-391l8-52 8-73 8-34 8 5 8 17 8-28 7-14 8 70 8 41-6-25-8-69-8-23-8-47-7-1-8 97-8 16-8-9-8 103-8 68zM784-512l8-45 8-28 7-7 8-10 8-27 8-3 24 72 8-6 8-17 8 30 8 13 8-36 7-2 8 14 8-10 8 6 8-4 8-28 8 5 8 14 8-19 8-6 8 12-6 8-8-11-8 7-8 14-8-5-8-19-8-11-8 10-8 14-8-15-8-2-8 30-7 13-8 6-8-9-8-38-8-1-8 15-8-49-8-25-8 42-8 24-8 16-8 29-7 2-8 25z"/>
<path transform="matrix(0.25 -0.067848 0 0.25 939.88 686.31)" d="M0-616l8-13 8 4 8-4 8-17 8 4 7-2 8-5 8 6 16-41 8 6 8-1 8-10 8 4 8 3 8 1 8 3 7-13 8-19 8-6 8-3 8-3 8 0 8 10 8 18 8 27 8 22 8 17 8 24 7 28 8 18 16-26 8 22 8 15 8-31 8-5 8 22 8 0-6 41-8-57-8-21-8 22-8-1-8 13-8 10-8-16-8 12-8 2-7-49-8-38-8-19-8-29-8-24-8-15-8-10-8-3-8 4-16 13-8 11-7 17-8 11-8-3-8 0-8 9-8 5-8 4-8 0-8-3-8 10-8 13-8-3-7-7-16 40-8 4-8 6-8-2zM348-452l8-29 8-12 8 31 8-6 8-14 8-20 8-37 8 29 8 62 15 52 8 46 8 53 8 20 16-121 8-15 8-42 8-20 8-14 8-44 7 48 8 79-6-41-8 3-8-46-7-62-8 77-8 89-8-12-8 35-8 53-8-11-8 8-8-36-8-102-8-13-7 25-8-56-8-41-8 11-16 35-8-23-8-28-16 55zM562-450l8-15 8 2 8-52 8 6 8 64 8-46 7-63 8 27 8 41 8 19 8 2 8 13 8 57 8 38 8-24 8-38-6-60-8 59-8 26-8-56-8-13-8-3-8-12-8 15-8-41-8-70-8 14-7 27-8-16-8-5-8 33-8 73-8 53zM712-489l8-70 8-37 8 52 8 20-6 11-8-40-8 5-8 18-8 28zM776-533l8 14 16-95 7 25 8 6 8-20 8 6 8 2 8 8 8 25 8-2 8-14 8 16 8 22 8 12 15-28 8 8 8-9 8-32 8-15 8-11 8 0 8 25 8-3 8-17-6 11-8-12-8 7-8 19-8-14-8-6-8 29-8 4-8-6-8 9-8-13-8 2-7 35-8-12-8-31-8 18-8 6-24-73-8 3-8 27-8 10-8 7-7 28-8 45-8 38z"/>
<path transform="matrix(0.25 -0.067848 0 0.25 941.39 687.01)" d="M0-625l8-18 8 10 8 2 8-6 8 0 8-10 15-4 8-20 8-16 8-3 8 8 8 13 8-2 8-3 8 12 8-4 8-16 7-10 8-14 8-2 8 9 8-2 8 1 8 26 8 23 8 7 8 17 8 12 8 16 7 30 8 4 8-14 8 13 8 14 8-15 8-31 8-13 8 27 8 22-6 14-8-17-8 0-8-22-8 4-8 32-8-16-8-22-16 26-8-17-7-28-8-24-8-18-8-22-8-26-8-19-8-10-8 0-8 4-8 2-8 7-8 18-7 13-8-3-8 0-8-3-8-5-8 11-8 1-8-6-16 40-8-5-8 4-7 2-8-3-8 17-8 4-8-4-8 12zM340-494l16 76 8-20 8-50 8 24 8 9 8-55 8 4 8 36 8 26 7 70 8 22 8-39 16 78 8-62 8-49 8-16 8-11 8 7 8-32 8-49 7 4 8 24 8 4 8-27 8-12 8 81 8 61 8-49 8-12 8 21 8-35 8-10 7-23 8-62 8 54 8 90 8-21 8 6 8 61 8 4 8-19 8-40 8-69 8-17 7 7 8-36 8-31 8 5 8 21 8 11-6-3-8 8-8-20-8-52-8 37-8 71-8 10-7 15-8 45-8 38-8 23-8-38-8-56-8-13-8-3-8-18-8-41-8-27-7 63-8 46-8-64-8-7-8 52-8-2-16 29-8-53-8 32-8 52-8-80-7-47-8 44-8 14-8 20-8 42-8 14-16 122-8-20-8-53-8-46-15-52-8-62-8-29-8 37-8 20-8 13-8 6-8-31-8 13-8 29-8-61zM776-557l8 4 16-7 7-22 8 16 8 25 8-45 8-26 8 28 8 3 8 6 8 26 8-1 8 20 8 37-7-40-7-11-8-23-8-15-8 13-8 3-8-25-8-8-8-3-8-6-8 21-8-7-8-24-15 94-8-13zM918-560l8-8 16-46 8-13 8 15 8 18 8-1-6-3-8 4-8-26-8 0-8 12-8 15-8 31-8 9z"/>
<path transform="matrix(0.25 -0.067848 0 0.25 942.91 687.71)" d="M0-633l8 0 8-6 8 7 8 13 15-36 8 1 16-22 8-4 8-8 8 8 8 24 8 0 8-6 8 4 8 1 7-5 16-25 8 4 8 5 24 1 8 15 8 24-6-10-8-8-8-22-8-27-8 0-8 1-8-9-8 3-8 13-8 11-7 16-8 4-8-13-8 4-8 2-8-13-8-8-8 2-8 16-8 21-16 3-7 10-8 0-8 7-8-2-8-11-8 19zM277-590l8 17 8-40 8-32 8 48 8 40 8 23 7 32 8 25 16 56 8-16 8-30-6-26-8 50-8 20-24-114-8-28-7-2-8-21-8-27-8 13-8 31-8 15zM412-465l8 60 7 26 8-25 8 7 8-13 8 3 8 51 8-39-6-33-8 49-8 61-16-77-8 39-8-22-8-71-7-25zM499-434l8-79 8-33 7-27 8 0 8 67 8 14 8-21 16 147 8-16 8-47 8-32 8 6 8 0 7-36 8-4 16 69 8 47 8-24 8-47 8 42 8 10 8-77 8-20 8 6 7-29 8 4 8-23 8-61 8 9 8 26 8-33 8-5 24 80 8-4 7-24 16-2 8-20 8-24 8-12 16 68 8-6 8 8-6-17-8 0-8-26-8-5-8-4-8-27-8 26-8 44-8-24-8-16-8 21-15 8-8-4-8-20-8 15-8 27-8-11-8-21-8-4-8 30-8 36-8-6-7 16-8 70-8 40-8 19-8-5-8-60-8-6-8 20-8-89-8-55-8 63-8 23-7 10-8 34-8-21-8 12-8 49-8-60-8-82-8 13-8 26-8-4-8-24-8-3-7 48-8 32zM918-589l8 3 8 16 8-36 8-20 8 19 16-5-6 13-8 0-8-18-8-14-8 12-16 46-8 9z"/>
<path transform="matrix(0.25 -0.067848 0 0.25 944.42 688.41)" d="M0-642l16-3 8-2 8 4 8 3 15-27 8 11 8 2 8-16 8-2 8 6 8 5 8 9 8 0 8-10 8 11 7 13 8-14 8-9 8 3 16-5 8-5 8-11 8 9 8 25 8 9-6-9-8 3-8-25-8-14-24-1-8-6-8-3-16 25-7 4-8 0-8-5-8 7-8 0-8-25-8-8-8 9-8 3-16 23-8-2-15 37-8-14-8-6-8 5-8 1zM253-558l8-23 8-18 8 0 8-13 8 1 8 13 8-6 8 49 8 70 7-13 8 2 8 51 16 13 8 19 8-32 8 13 8 52 8-35 8-53 8 8 7 23 8 15 8-13 8-6 8 48 8 33 8-22 8-51 8-60 8-12 8 4 8-85 7-37 8 89 8 47 8 12 8 45 8-1 8 20 8 56 16-128 8 52 8 20 7-31 8 2 8-3 8 7 8 22 8-25 8-35 8 7-6 55-8-43-8 48-8 23-8-46-16-69-8 3-8 36-7 1-8-6-8 32-8 46-8 17-16-147-8 21-8-14-8-67-8 0-7 27-8 33-8 78-8 1-8-34-8 73-8 39-8-51-8-4-8 13-8-7-8 25-7-26-8-59-8 11-8 25-8-26-8-20-8 8-8 30-8 16-16-56-8-25-7-32-8-23-8-40-8-48-8 32-8 39-8-16-8 10-8 26-8-11zM712-498l8-22 8-58 16-43 8 1 8 53 8 4 8-17 8 60 8 30 8-32 7-14 16-32 8 20 8-11 8-29 8 28 8 36-6-20-16-67-8 12-8 24-8 20-16 1-8 25-7 4-24-81-8 6-8 32-8-26-8-9-8 61-8 24-8-4zM926-576l8-2 8-6 16-60 8 17 8 11 8-21-6 21-8 0-16 4-8-19-8 20-8 37-8-17z"/>
<path transform="matrix(0.25 -0.067848 0 0.25 945.94 689.11)" d="M0-648l8-13 8-2 8-6 8 5 8 15 7-4 8-7 8 9 8 5 8-4 8-17 8-4 8 16 8 6 8-1 8 9 8 8 7 4 8 7 8-16 8-19 8 5 8-2 8-17 8 0 16 18 8 28-6-15-8-10-8-24-8-9-8 10-8 6-16 5-8-4-8 10-8 14-7-13-8-11-8 9-8 0-8-8-8-5-8-7-8 3-8 16-8-3-8-11-15 28-8-3-8-5-8 3-16 2zM253-575l8-16 8-13 8 0 8 9 8 20 8 5 8-10 8 21 8 38 7 29 8-1 8 2 8 72 8 56 8-29 8-9 8 18 8-32 8-13 8-36 8-75 7 44 8 81 8-31 8-3-6 2-8 7-8 12-8-15-8-22-7-8-8 52-8 35-8-51-8-13-8 31-8-19-16-12-8-51-8-2-8 12-7-70-8-48-8 6-8-14-8-1-8 13-8 0-8 19-8 23zM475-403l8-49 8-73 8-5 8 19 8-32 7-14 8 28 8 56 8 40-6-46-8-12-8-47-8-89-8 36-7 85-8-3-8 12-8 60-8 51zM578-395l8 10 8 6 8-40 8 24 7 30 8-81 8-51 8 28 8-16 8-2 8 28-6-19-8 34-8 25-8-22-8-6-8 3-8-3-8 32-7-21-8-51-16 127zM697-450l8-74 15-27 8-29 8-34 8-14 8 38 8 44 8 10 8 0 8 1 16 44 7-41 8-29 8 35 8 6 8-25 8-3 8-14 8 0 8 23 8-28 8-24 8 38 7 16 8-19 8-3 16-33 8-6 16-55 8 7 8 21 8 14-6-31-8 22-8-11-8-17-16 59-8 6-8 2-8 0-8 18-8 23-8-6-7-10-8 3-8 17-8 7-8-35-8-29-8 29-8 11-8-19-16 32-8 14-7 31-8-29-8-60-8 17-8-4-8-53-8-1-16 43-8 57-8 22-8-9-7 36z"/>
<path transform="matrix(0.25 -0.067848 0 0.25 947.45 689.81)" d="M0-677l8 10 8-14 8-2 8 26 8 9 7 2 8 10 8-14 8-5 8 9 8-19 8-11 8 20 8 15 16 16 8-1 15 8 8-13 8-15 8-11 8 3 8 10 8-13 8-9 8 22 8 11 8-3 7 9 8 0 8 18 8 44 8-9 8-21 8 36 8 19 8-24 8-4 8 2 8 17 7 56 8 17 8 3 16 121 8-7 8-40 8-31 8-2 8-16 8-48 8-11 7 14 8 25 8 44 8-18 8-46 8 51 8 18 8-72 8-5 8 18 8-18 8 34 7-5 8-68 8 32 8 55 8-18 8 6 24 140 8-13 8-49 15-30 8-40 8-64 8-42 16 94-6-27-8 2-8 15-8-28-8 52-8 81-8-31-7-23-8 39-8-5-8-11-8-13-8-44-8 1-8 19-8-41-8-56-8-28-8 15-7 32-8-20-8 6-8 73-8 48-8 19-8-5-8-58-8 3-8 30-8-80-8-44-7 74-8 37-8 12-8 32-8-17-8 8-8 30-8-57-8-72-8-1-8 1-7-29-8-39-8-20-8 10-8-6-8-20-8-8-8-1-8 14-8 16-16-46-7 10-8-14-8-29-16-17-8 0-8 17-8 1-8-4-8 19-8 15-8-6-7-5-8-8-8-9-8 2-8-6-8-17-8 5-8 17-8 4-8-5-8-9-8 6-7 4-8-14-8-5-8 5-8 3-8 12zM697-474l8-36 7-74 8 17 8 38 8-55 8-18 8 45 8 12 16 16 8-15 8 25 8 38 7-9 8-20 8 2 8 4 8-16 8-46 8-29 8 10 8 1 8 4 8 13 8-4 7 20 8 23 16-74 8 3 8-21 8-16 8 3 8-10 8 18 8 43-6-33-8-15-8-21-8-6-16 55-8 6-16 32-8 4-8 18-8-16-7-37-8 24-8 28-8-23-8 0-8 14-8 2-8 26-8-7-8-34-8 29-8 41-15-44-8-1-8 0-8-11-8-43-8-38-8 14-8 33-8 29-16 27-7 74z"/>
<path transform="matrix(0.25 -0.067848 0 0.25 948.96 690.51)" d="M0-699l8 14 8 6 8 5 8 13 8 19 8 9 7-8 8-11 8 1 8-6 8 0 8 5 8-6 8 19 8 25 8-12-6-3-16-17-8-15-8-20-8 11-8 20-8-10-8 6-8 14-8-10-7-2-8-10-8-26-8 2-8 15-8-10zM158-634l8 0 8-16 8 4 8 16 8-16 8-20 8 3 8 11 8 13 7 3 8 8 8 39 8 32 8 7 8-1 8-16 8 12 8 20 8-35 8-5 8 65 7 32 8 18 8 39 8-8 8 17 8 43 8-49 8-62 8 28 8 8 8-32 8-9 7-15 8 6 8 24 8-18 8-30 8 17 8 49 8 42 16-51 8 41 8-4 7-58 16-32 8 16 8 84 8 4 8-17 8 90 8 42 8-59 8-35 15-85 8 12 8-40 8-59 8 35 8 43-6 15-16-95-8 42-8 64-8 41-15 29-8 50-8 13-24-140-8-7-8 18-8-54-8-33-8 68-7 6-8-35-8 18-8-18-8 6-8 72-8-19-8-51-8 46-8 19-8-45-8-24-7-14-8 11-8 48-8 16-8 2-8 31-8 39-8 8-16-122-8-2-8-17-7-57-8-16-8-2-8 4-8 24-8-19-8-37-8 21-8 9-8-43-8-18-8-1-7-9-8 4-8-11-8-23-8 9-8 14-8-10-8-3-8 10-8 16zM697-492l8-28 7-12 16 10 8 9 8-36 8-45 8 38 8 28 8-27 8 25 8 46 8 10 7 27 8-9 8-59 8-8 8-3 8-55 8-33 8 5 8 11 8 23-6-9-8-5-8-1-8-10-8 30-8 46-8 16-8-5-8-1-8 19-8 10-7-38-8-25-8 14-16-15-8-13-8-44-8 17-8 55-8-37-8-17-8 74-7 36zM910-558l8-15 8-29 8-21 16 22 8-21 8-3 8 19 8 7-6 12-8-43-8-17-8 9-8-3-8 17-8 20-8-2-16 73z"/>
<path transform="matrix(0.25 -0.067848 0 0.25 950.48 691.21)" d="M0-693l8 7 8 20 8 4 8-1 8 14 7 13 8-8 8-9 8 1 8 3 8 7 8-2 8-5 8 4 8 11-6 16-8-25-8-20-8 6-8-4-8 0-8 6-8-1-8 10-8 9-7-9-8-20-8-13-8-4-8-7-8-13zM158-616l8-17 8-6 8 2 8-12 8-3 8-11 8-29 8 25 8 47 7 1 8 13 8 41 8 19 8 11 8-8 8-28 8 14 8 27 8-3 8 0 8 20 7 43 8 33 8-22 8-8 8 31 8 2 8 5 8-6 8-42 8 21 8 28 8-84 7-47 8 34 8-9 8 11 8 43 8-7 8 45 8 91 8-24 8-58 8 2 8 3 7-23 8-33 8-13 16 105 8 14 8-2 8-16 8 20 8 24 8-74 8-62 7 37 8-8 8-45 8-15 8-38 8-3 8 42 8-39 8-33 8 71 8 41 8-6 7 6 16-27 8 5 16-83 8 13 8 39 8 28 8 2 8 12 8 41 7 4 8-41 8-22 8-36 8-27 8 11 8-29 8-40 8 33 8 21 8-27 8 1 7 5 8 0 8 22 8-5 8-27 16 27 16-37 8-6 8 14-6 3-8-7-8-19-8 3-8 22-16-22-8 21-8 28-8 15-8-9-8-11-7 9-8-5-8-23-8-11-8-5-8 32-8 56-8 2-8 8-8 59-8 9-8-27-7-10-8-46-8-24-8 27-8-28-8-39-8 46-8 36-8-9-16-11-8 13-7 28-8-13-8-24-8 5-8 23-8 18-8-43-8-35-8 59-8 39-8-12-15 86-8 34-8 60-8-43-8-90-8 18-8-4-8-84-8-17-16 33-8 58-7 3-8-41-16 52-8-43-8-49-8-16-8 30-8 17-8-24-8-5-8 15-7 9-8 32-8-8-8-28-8 61-8 50-8-44-8-16-8 8-8-39-8-18-8-33-7-64-8 4-8 35-8-20-8-12-8 16-8 2-8-7-8-32-8-39-8-9-8-2-7-13-8-11-8-4-8 21-8 16-8-16-8-4-8 16-8-1z"/>
<path transform="matrix(0.25 -0.067848 0 0.25 951.99 691.91)" d="M0-690l8 18 8 5 8 0 8 11 8-3 7 11 8 25 8-10 8-15 8 13 8 2 8-15 8-7 8-9 8 5 8 17 8 0-6-3-8 11-8-4-8-11-8-4-8 5-8 1-8-6-8-3-8-1-8 9-8 7-7-12-8-15-8 2-8-4-8-20-8-7zM166-618l8-22 8-16 8 4 8-4 8-16 8 1 8 16 8 27 7 38 8 6 8-6 8 43 8 24 8-25 8 9-6-37-8 29-8 7-8-11-8-18-8-42-8-12-7-2-8-47-8-24-8 28-8 12-8 2-8 13-8-2-8 6zM317-491l8-40 7 21 8 32 8-21 8 1 16 54 8 35 8-12 8-42 8-18 8-12 8-26 7-48 8-37 8 66 8 75 8-9 8 29 8 54 8 8 8 23 8-23 8-84 8 35 7 59 8-62 8-28 8 49 8 11 8 4 8-12 8-42 8 24 8 42 8-29 8-43 7-11 8 3 8-23 8-78 8-42 8 21 8 7 8 18 8 31 8 9 16 106 7-50 8-39 8 17 8-28 8-23 8 10 8-19 8 22 8 63 8-10 8-28 8 18 7 5 8-17 8-26 8-32 8-2 8 1 8-23 8-32 8-21 8 11 8 21 8-22 7-7 8 49 8 23 8-9 8 1 8-17 8-10 8 12 16-55 8 35-6-14-8-13-8 6-16 36-16-27-8 28-8 5-8-22-8-1-8-5-7 0-8 26-8-21-8-33-8 41-8 28-8-10-8 27-8 35-8 23-8 40-8-4-7-41-8-11-8-2-8-28-8-39-8-13-16 82-8-4-16 26-8-6-7 7-8-42-8-71-8 33-8 40-8-42-8 3-8 38-8 14-8 45-8 9-8-38-7 63-8 73-8-23-8-21-8 17-8 2-8-14-16-106-8 13-8 34-8 22-7-3-8-1-8 57-8 24-8-90-8-46-8 8-8-44-8-11-8 10-8-34-7 46-8 85-8-28-8-21-8 41-8 7-8-5-8-3-8-30-8 8-8 22-8-34-7-42-8-21z"/>
<path transform="matrix(0.25 -0.067848 0 0.25 953.50 692.61)" d="M0-681l8 0 8 5 8 12 8 2 8 3 8 25 7 15 8-2 8-7 8-15 8-2 8 4 8-27 8-9 8 23 16 4 8 9 7-7 8 6 8 18 16-42 8 17 8 7 8-4 16 8 8 15 8 24 7 9 8 5 8 16 16 75 8-5 8-9 8 29 8-2 8-35 8-16 7-25 8 6 8 59 8 1 8-21 8 70 8 36 8-43 8-29 8-39 8-24 8 29 7-25 8-45 8 63 8 75 8 11 8-10 8 16 8 50 8 30 8-27 8-6 8 11 7 3 8 9 8-62 8-73 8 44 8 22 8-60 8 24 8 46 8-1 8 28 8-20 7-89 8-15 8-6 8-73 8-34 8 15 8 34 8 55 8 27 8-1 8 31 8 26 7-6 16-70 16 42 8-38 8-13 8 20 8-2 8 15 8-10 8-42 7 33 8 43 8-49 8-33 8 10 8-24 16-58 8-35 8 11 8 41 15 6 16 58 8 5 8-29 8-21 8 5 8-7 8-9 8 5 8-1-6-10-8-36-16 56-8-12-8 9-8 17-8 0-8 8-8-22-8-49-8 7-7 22-8-21-8-11-8 21-8 31-8 24-8-2-8 3-8 32-8 26-8 17-8-5-7-19-8 28-8 10-8-62-8-23-8 20-8-10-8 23-8 27-8-16-8 38-8 51-15-107-8-8-8-31-8-19-8-7-8-21-8 42-8 78-8 24-8-3-7 11-8 42-8 30-8-43-8-24-8 43-8 12-8-4-8-11-8-49-8 27-8 62-7-59-8-35-8 85-8 23-8-24-8-7-8-54-8-29-8 9-8-75-8-66-8 37-7 47-8 26-8 12-8 19-8 42-8 12-8-36-16-54-8 0-8 21-8-32-7-21-8 40-8 1-8-29-8 0-8-20-8-10-8 26-8-24-8-43-8 6-8-6-7-38-8-28-8-16-8-1-8 16-8 4-8-3-8 16-8 21-8 5-8-20-8-15-7 6-8 1-8-17-8-5-8 9-8 6-8 15-8-2-8-13-8 15-8 10-8-24-7-11-8 3-8-11-8 0-8-5-8-19z"/>
<path transform="matrix(0.25 -0.067848 0 0.25 955.02 693.30)" d="M0-668l8-21 8 14 8 27 8-3 8 5 7 19 8 4 8-2 8-10 8-21 8-2 8 6 8-9 8-5 8 2 8 10 8 8 7-15 8-5 8 12 8 5 8 9 8 6 8-15 8 18 8 27 8-29 8-11 8 25 7 7 8 21 8 30 8 1 8 39 8 59 8-9 8-33 8-2 8 1 8-16 8-36 7-18 16 65 8 8 8 1 8-6 16 63 8-63 8-37 8 56 8 6 7-22 8 11 8-19 8 17 8 68 8-24 8-13 8 93 8 57 8-1 8 9 15-56 8-10 16-139 8-11 16 69 8-5 8-1 8 55 8 2 8-56 7-34 8-53 8-27 8 37 8-34 8-49 8 73 8 54 8-20-6 11-8-26-8-55-8-34-8-15-8 33-8 73-8 7-8 15-8 89-7 20-8-28-8 1-8-46-8-25-8 61-8-23-8-43-8 73-8 62-8-9-8-4-7-10-8 6-8 26-8-29-8-51-8-15-8 9-8-11-8-75-8-62-8 44-8 26-7-29-8 24-8 39-8 29-8 42-8-36-8-69-8 20-8 0-8-59-8-6-8 25-7 16-8 34-8 2-8-29-8 10-8 5-16-75-8-16-8-5-8-9-7-24-8-15-16-9-8 5-8-7-8-17-16 41-8-18-8-6-8 8-7-10-16-3-8-24-8 10-8 26-8-3-8 1-8 15-8 8-8 1-8-15-7-24-8-4-8-2-8-11-8-5-8 0zM705-466l7 44 8-13 8-45 8 20 8 16 8-41 8-48 8-24 8 14 8 19 8-12 8 4 7 26 8 17 8 2 8-42 8-55 8 3 8-13 8-54 8-1 8 27 8 11 8 40 7 18 8-20 16 46 8-30 8-18 8 6 8-1 8 4 8-5 8-14-6-12-8 1-8-5-8 9-8 8-8-5-8 21-8 29-8-5-16-58-15-7-8-40-8-11-8 35-16 57-8 25-8-11-8 34-8 48-8-43-8-32-7 42-8 10-8-15-8 1-8-20-8 14-8 37-16-42-16 70-8 6z"/>
<path transform="matrix(0.25 -0.067848 0 0.25 956.53 694.00)" d="M0-672l8 0 8 5 8 14 8 24 8-4 8-12 7 14 8 2 8-19 8-6 8-1 8-4 8 8 8-7 8-25 8 7 8 13 7-9 8-2 8 14 8 20 8 23 8 4 8-11 8 3 8 4 8-1 8-17 8-9 15 90 8-2 8 21 8 34 8 3 8 16 8-12 8-55 8 16 8 33 8-49 7-21 8 28 8 4 8 9 8-5 8-25 8 35 8 54 8 2 8-10 8 4 8 28 7 5 8-56 8-29 8 34 8 22 16 80 8 5 16 145 16-136 7 5 8-56 8-44 8-11 8-49 8 20 8 76 8-24 8-42 8 28 8 20 8-12 7-36 8-29 16 31 16-47 8-17 8 29 8 46 8-23 8 1 8 83 7 33 8-16 8-3 8-44 8-29 8 3 16-122 8 39 8 27 8-3 8 18 15 8 8 10 8-35 8-52 8-9 8 6 8-2 8-17 8-3 8 35 8 19 7-7 8 10 8 6 8 8 8 30 8-15 8-31 8 20 8 3 8-39 8-15-6 5-8 14-8 5-8-4-8 1-8-7-8 18-8 31-16-47-8 21-8-19-7-39-8-12-8-26-8 0-8 54-8 13-8-2-8 54-8 43-8-3-8-16-8-26-7-5-8 12-8-19-8-13-8 24-8 48-8 40-8-16-8-20-8 46-8 13-8-45-7-12-8-18-8-14-8 19-8-54-8-72-8 48-8 34-8-37-8 28-8 53-8 34-7 56-8-2-8-55-8 0-8 6-16-69-8 10-16 140-8 10-15 55-8-8-8 1-8-57-8-94-8 14-8 23-8-67-8-18-8 20-8-11-7 22-8-7-8-55-8 37-8 62-16-63-8 7-8-1-8-8-16-66-7 18-8 37-8 16-8-2-8 2-8 34-8 8-8-59-8-38-8-1-8-31-8-21-7-7-8-25-8 12-8 28-8-26-8-18-8 15-8-7-8-9-8-5-8-12-8 6-7 15-8-8-8-11-8-1-8 5-8 8-8-5-8 2-8 20-8 11-8 2-8-4-7-19-8-6-8 4-8-27-8-15-8 21z"/>
<path transform="matrix(0.25 -0.067848 0 0.25 958.05 694.70)" d="M0-653l8-4 8-6 8 7 8 9 23-7 16 23 8-15 8-11 8 9 8-8 8-19 8-8 8-13 8 4 7 29 8 3 8 1 8 38 8 22 8-8 8-5 8-11 8-3 8 22 8-4 8-14 7 32 8 43 8 10 8-6 8 3 8 24 8 14 8-17 8-7 8 0 8 2 8 12 7-46 8-59 8 42 8 28 8-37 8 34 8 57 8 23 8 57 8 3 8-61 15 33 8-56 8-25 8 27 8 47 8 67 8 20 8-2 8 31 8 17 8-19 15-119 8 14 8 9 8-68 8-22 8 14 8-11 8 23 8-7 8-55 8 60 8 78 7-48 8-24 8 30 8-21 16-48 8-47 8 25 8 66 8 14 8 4 8 34 7 44 8 7 8-62 8-50 8-8 16-57 8-12 8-19 8 28 8 42 8-36 7-20 8 33 8-6 8-13 8 3 8-28 8 4 8 32 16-60 8 19 8 15 7 5 8 10 8 9 16 51 8-7 16-50 8-8 8-4 8-37-6 7-8 15-8 39-8-4-8-20-8 31-8 15-8-30-8-8-8-6-8-10-8 7-7-18-8-35-8 3-8 17-8 1-8-6-8 10-8 52-8 35-8-10-16-8-7-19-8 4-8-27-8-40-16 123-8-4-8 29-8 45-8 2-8 17-8-33-7-83-8-1-8 23-8-47-8-29-8 18-16 47-16-32-8 29-8 36-7 13-8-20-8-28-8 42-8 24-8-77-8-20-8 50-8 11-8 43-8 57-8-6-15 137-16-145-8-5-16-80-8-22-8-34-8 29-8 55-8-4-7-29-8-3-8 9-8-1-8-54-8-36-8 26-8 4-8-8-8-5-8-27-8 20-7 49-8-33-8-16-8 55-8 12-8-16-8-3-8-34-8-20-8 1-16-89-7 9-8 16-8 2-8-5-8-3-8 11-8-3-8-23-8-20-8-14-8 1-8 10-7-13-8-7-8 24-8 7-8-8-8 4-8 1-8 6-8 20-8-2-8-14-7 11-8 4-8-23-8-15-8-4-8 0z"/>
<path transform="matrix(0.25 -0.067848 0 0.25 959.56 695.40)" d="M0-625l8-30 8-17 8 8 8-6 8 6 7 10 8-9 8 12 8 23 8-12 8-19 8-7 8-3 8-5 8-16 8-8 15 40 8 12 8 10 8 0 16 50 8-25 8-12 8 31 8 7 8-5 8 7 7-13 8 13 8 35 8-18 8-16 8 51 8 31 8-2 8-1 8-17 8-14 8-8 15-86 8 3 8 42 8 53 8 15 8 26 8 75 8 24 8-29 8-8 8-37 7-14 8 54 8-26 8-46 8 77 8 55 8-28 8 10 8-5 8-1 8 44 8-30 7-76 8 9 8 15 8-52 8-68 8-39 8 29 8 34 8-5 8 18 8 51 8 45 7 31 8-46 8-67 8 27 8-3 8-74 8 4 8 43 8 16 8 57 8 13 8-40 7 26 8 19 8-64 8-41 8-6 8-14 8-4 8-22 8-30 8 2 8 14 8 0 7-11 8-7 8 39 8 35 8-23 8-11 8 7 8-17 8-5 8-13 8-35 8 33 7 53 8-11 8 0 8 34 8 1 8-9 8-20 8-43 8-7 8 11 8-21-6-17-8 37-8 4-8 7-16 51-8 6-16-50-8-9-8-11-8-4-7-15-8-20-16 60-8-31-8-4-8 27-8-3-8 13-8 6-8-33-8 21-7 35-8-41-8-29-8 20-8 11-16 58-8 7-8 51-8 61-8-6-8-45-7-34-8-3-8-15-8-66-8-25-8 48-16 48-8 20-8-30-8 25-8 47-7-77-8-60-8 54-8 8-8-24-8 12-8-14-8 22-8 68-8-10-8-13-15 119-8 18-8-16-8-31-8 2-8-21-8-67-8-47-8-26-8 25-8 56-15-33-8 61-8-4-8-56-8-24-8-57-8-33-8 36-8-28-8-41-8 59-7 46-8-12-8-3-8 0-8 8-8 17-8-15-8-24-8-2-8 6-8-11-8-42-7-32-8 13-8 5-8-22-8 3-8 11-8 4-8 9-8-23-8-37-8-1-8-3-7-30-8-4-8 13-8 8-8 19-8 9-8-10-8 11-8 16-16-23-23 6-8-9-8-7-8 7-8 4z"/>
<path transform="matrix(0.25 -0.067848 0 0.25 961.07 696.10)" d="M0-644l8-9 8-24 8-17 16 40 8-10 7 3 8 12 8-4 8 6 8-10 8-29 8 11 8 20 8-21 8-7 8 19 8 8 7 12 8 3 8-2 16 56 8 5 8-1 8 3 8 13 8 2 8-34 7-18 8 12 8 3 16 43 8-3 16 94 8-45 8-34 8 5 8-36 7-16 8 6 8-28 8 36 8 92 8 13 8-13 16 88 8 13 16-47 7 28 8 20 8-22 16-70 8 28 8 49 8-47 8-18 8 90 8 27 8-30 7-18 8-63 8-36 8 6 8-87 8-63 8 71 8 53 8 15 8 47 16 48 7 31 8-38 8-56 8-9 8 13 8 2 8-26 8-8 8 47 8 13 8-22 8 4 7-17 8-7 8 37 8-34 8-68 8 22 8 0 8-64 8-26 8-12 8 0 8 47 7 12 8-13 16 87 8-14 8-32 8-23 8 2 8 5 8-22 8-6 8 26 7 29 8 20 8-15 8-21 8 23 8 2 8-45 8-9 8 4 8-15 8 4-6-18-8 21-8-12-8 8-8 43-8 20-8 9-8-2-8-33-8-1-8 12-8-53-7-34-8 36-8 13-8 4-8 17-8-7-8 12-8 23-8-35-8-39-8 7-8 10-7 1-8-14-8-2-8 29-8 22-8 4-8 14-8 7-8 41-8 64-8-20-8-26-7 40-8-13-8-56-8-17-8-43-8-4-8 75-8 2-8-27-8 67-8 47-8-32-7-44-8-51-8-19-8 5-8-34-8-28-8 38-8 68-8 52-8-14-8-10-7 76-8 31-8-45-8 1-8 5-8-10-8 29-8-56-8-77-8 47-8 25-8-54-7 15-8 36-8 8-8 30-8-25-8-74-8-27-8-14-8-54-8-41-8-3-15 85-8 8-8 14-8 18-8 0-8 2-8-31-8-51-8 16-8 19-8-35-8-14-7 13-8-6-8 4-8-7-8-31-8 13-8 24-16-49-8-1-8-9-8-12-15-40-8 8-8 16-8 5-8 2-8 7-8 19-8 12-8-22-8-13-8 10-7-11-8-6-8 7-8-9-8 18-8 29z"/>
<path transform="matrix(0.25 -0.067848 0 0.25 962.59 696.80)" d="M0-660l8 0 8-14 8-17 8 11 8 19 7 0 8-11 8-3 8 12 8 5 8-5 16 5 8 4 8 11 8-17 8-21 7 22 8 17 8-10 8 22 8 29 8 14 8 33 8 3 8-33 8 1 8 7 8-34 7-19 8 1 8 20 8 36 8 8 8-2 16 44 8 3 8-31 8-38 8 32 7 26 8-37 8 1 8 34 8 12 8 45 8 11 8-29 16 169 8-40 8-19 7 32 8-28 8-32 8-47 8-66 8 12 8 55 8 5 8 2 8 32 8 48 8 5 7-79 8-58 8-11 8-32 8-17 8 5 8-18 8 59 8 85 8-25 8-7 8 59 7 3 8-3 8 9 8-48 8 6 8 43 8-52 8-63 16 22 8-1 8-4 7-6 8 31 8 26 8-22 16-96 8-11 8-3 8-63 8-26 8 63 8 33 7 7 8 31 8 3 8 7 8 33 8-39 8-44 8 30 8 14 8-22 8 0 8-1 7 6 8 17 8-15 8-20 8 10 8 14 8-2 16-36 8 3 8-11-6-2-8-3-8 15-8-5-8 10-8 44-8-2-8-22-8 21-8 15-8-20-8-30-7-26-8 7-8 22-8-5-8-2-8 23-8 32-8 14-16-88-8 14-8-13-7-47-8 0-8 12-8 26-8 64-8 0-8-21-8 67-8 35-8-37-8 6-8 17-7-4-8 22-8-13-8-47-8 9-8 26-8-3-8-12-8 9-8 55-8 39-8-31-15-49-8-47-8-15-8-52-8-72-8 64-8 87-8-6-8 36-8 62-8 18-7 31-8-27-8-90-8 17-8 47-8-48-8-29-16 71-8 22-8-20-8-28-15 46-8-13-16-87-8 12-8-13-8-92-8-36-8 29-8-7-8 16-7 36-8-4-8 34-8 44-16-93-8 2-16-43-8-2-8-12-8 18-7 34-8-3-8-12-8-4-8 2-8-5-16-56-8 2-8-4-8-11-7-9-8-19-8 7-8 21-8-19-8-11-8 29-8 9-8-5-8 3-8-11-8-3-7 10-16-40-8 16-8 24-8 9z"/>
<path transform="matrix(0.25 -0.067848 0 0.25 964.10 697.50)" d="M0-650l8-10 8-9 8-3 8-19 8 4 7 20 8-15 8-9 8 25 8 18 8 6 8 3 8-4 16 1 16-31 7 2 8 27 8 30 8 5 8 9 8 37 8 9 8-19 8-11 8-23 8-10 8 23 7-23 8-30 8 44 8 27 8-14 8 6 8 4 8 12 8 46 8-4 8-31 15 59 8-19 8-32 8-10 16 84 8 9 8 35 8 51 16 92 8-47 7-84 8 17 8-17 8-97 8-10 8 24 8 6 8 61 8 10 8-56 16 70 7-62 8-44 8-2 8 4 8 21 8-14 8-26 8 27 8 36 8 19 8-6 8 1 7 72 8 54 8-40 8-20 8-1 8-41 8-21 8-42 8-72 8 35 8 63 8-35 7-4 8 46 8-4 8-19 8-32 8-66 8-10 8 23 8-23 8-19 8 20 8 40 7 23 8-15 8-2 8 33 8 10 8 1 8-1 8-20 8 12 8 18 8-49 8-36 7 19 8-6 8-4 8 17 8-8 8 14 8 32 8-29 8-39 8-2 8-10-6 9-8 11-8-3-16 37-8 1-8-13-8-11-8 21-8 15-8-18-8-5-7 1-8 0-8 21-8-14-8-29-8 44-8 38-8-32-8-7-8-3-8-32-8-6-7-33-8-64-8 26-8 63-8 4-8 11-16 96-8 22-8-27-8-31-8 6-7 5-8 1-16-23-8 64-8 52-8-43-8-6-8 48-8-9-8 3-8-3-7-59-8 7-8 25-8-85-8-60-8 18-8-5-8 17-8 33-8 10-8 58-8 80-7-6-8-48-8-32-8-1-8-6-8-54-8-13-8 66-8 47-8 33-8 28-8-32-7 18-8 41-16-170-8 30-8-12-8-44-8-13-8-34-8-1-8 38-7-27-8-32-8 39-8 30-8-3-16-44-8 3-8-9-8-36-8-19-8-1-7 19-8 33-8-6-8-2-8 33-8-3-8-32-8-15-8-28-8-23-8 11-8-17-7-22-8 21-8 17-8-11-8-4-16-5-8 5-8-5-8-12-8 3-8 10-7 0-8-18-8-12-8 17-8 15-8-1z"/>
</g>
<path d="M776.40 420.40L776.40 610.80L964.10 697.50L1209.50 630.90M964.10 697.50L970.00 700.23M1086.80 664.20L1092.70 666.93M1209.50 630.90L1215.40 633.63M964.10 697.50L957.83 699.20M870.25 654.15L863.98 655.85M776.40 610.80L770.13 612.50M776.40 587.27L770.50 584.55M776.40 559.46L770.50 556.73M776.40 531.65L770.50 528.92M776.40 503.84L770.50 501.11M776.40 476.02L770.50 473.30M776.40 448.21L770.50 445.49" stroke="#505050" stroke-width="0.8" fill="none"/><g><text x="974.6" y="716.1">-5</text><text x="1097.3" y="682.8">0</text><text x="1220.0" y="649.5">5</text><text text-anchor="end" x="953.1" y="714.3">-5</text><text text-anchor="end" x="859.2" y="670.9">0</text><text text-anchor="end" x="765.4" y="627.6">5</text><text text-anchor="end" x="764.4" y="588.5">-3000</text><text text-anchor="end" x="764.4" y="560.7">-2500</text><text text-anchor="end" x="764.4" y="532.8">-2000</text><text text-anchor="end" x="764.4" y="505.0">-1500</text><text text-anchor="end" x="764.4" y="477.2">-1000</text><text text-anchor="end" x="764.4" y="449.4">-500</text></g>
</svg>
</body></html>
